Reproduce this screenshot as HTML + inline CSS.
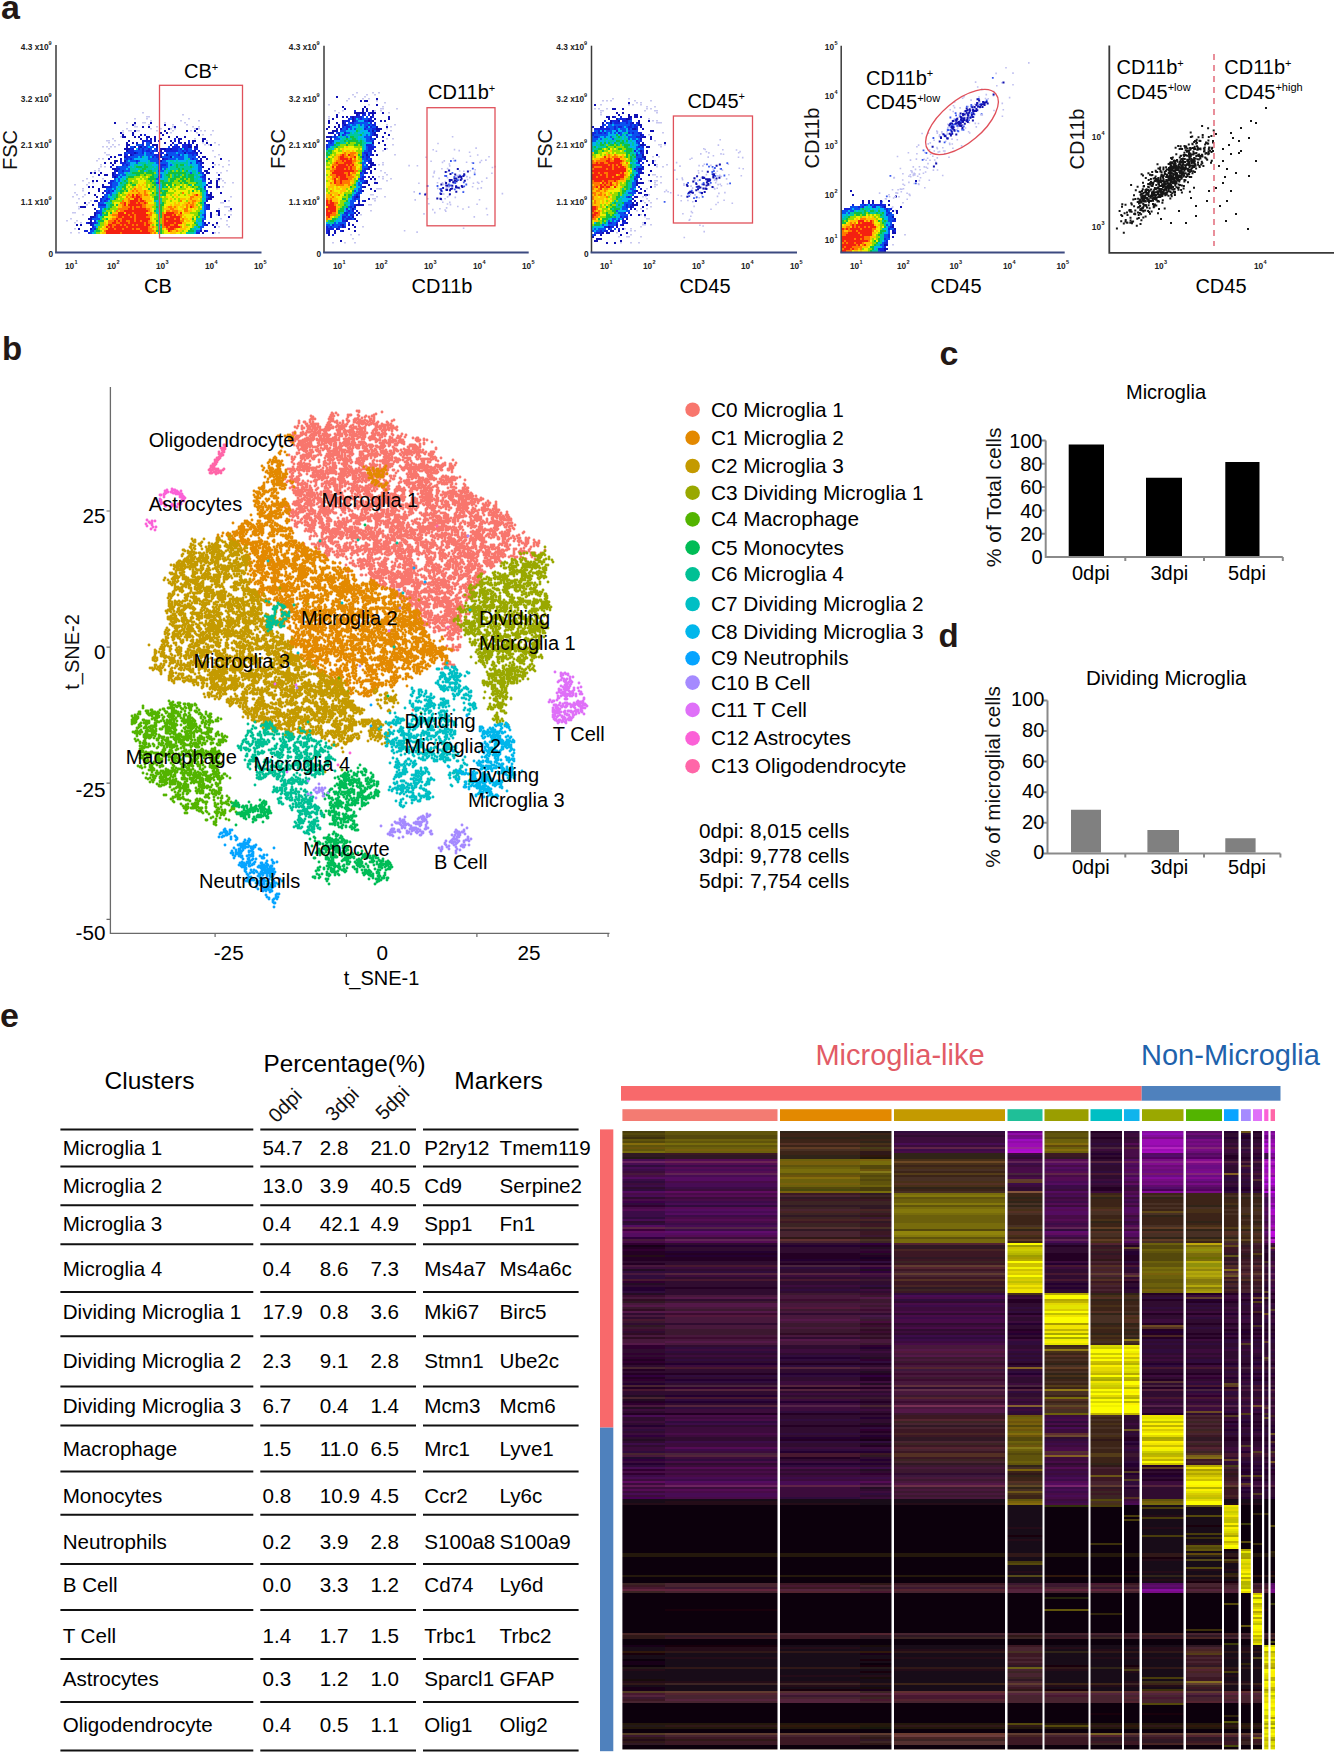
<!DOCTYPE html>
<html><head><meta charset="utf-8"><style>
html,body{margin:0;padding:0;background:#fff;}
svg{display:block;font-family:"Liberation Sans",sans-serif;}
</style></head><body>
<svg width="1334" height="1753" viewBox="0 0 1334 1753">
<rect width="1334" height="1753" fill="#fff"/>
<text x="1" y="18.5" font-size="34" font-weight="bold" fill="#231815">a</text>
<text x="2" y="360" font-size="33" font-weight="bold" fill="#231815">b</text>
<text x="939.5" y="364.8" font-size="34" font-weight="bold" fill="#231815">c</text>
<text x="938.5" y="646.8" font-size="33" font-weight="bold" fill="#231815">d</text>
<text x="0" y="1027" font-size="34" font-weight="bold" fill="#231815">e</text>
<path fill="#c8c8f0" d="M142 112h2v1.6h-2zM182 114h2v1.6h-2zM146 116h4v1.6h-4zM134 118h2v1.6h-2zM146 118h2v1.6h-2zM188 118h2v1.6h-2zM150 120h2v1.6h-2zM180 120h2v1.6h-2zM198 120h2v1.6h-2zM126 122h2v1.6h-2zM142 122h4v1.6h-4zM164 122h2v1.6h-2zM184 122h2v1.6h-2zM134 124h2v1.6h-2zM148 124h2v1.6h-2zM172 124h2v1.6h-2zM186 124h2v1.6h-2zM134 126h4v1.6h-4zM156 126h2v1.6h-2zM172 126h2v1.6h-2zM192 126h2v1.6h-2zM198 126h2v1.6h-2zM126 128h2v1.6h-2zM150 128h2v1.6h-2zM160 128h2v1.6h-2zM170 128h2v1.6h-2zM174 128h2v1.6h-2zM194 128h2v1.6h-2zM198 128h2v1.6h-2zM122 130h2v1.6h-2zM128 130h4v1.6h-4zM136 130h4v1.6h-4zM156 130h2v1.6h-2zM172 130h2v1.6h-2zM190 130h2v1.6h-2zM200 130h2v1.6h-2zM204 130h2v1.6h-2zM212 130h2v1.6h-2zM122 132h2v1.6h-2zM170 132h2v1.6h-2zM196 132h2v1.6h-2zM202 134h2v1.6h-2zM210 134h2v1.6h-2zM120 136h2v1.6h-2zM112 138h2v1.6h-2zM194 138h2v1.6h-2zM106 140h4v1.6h-4zM114 140h2v1.6h-2zM206 140h2v1.6h-2zM108 142h2v1.6h-2zM202 142h2v1.6h-2zM214 142h2v1.6h-2zM112 144h2v1.6h-2zM118 144h2v1.6h-2zM204 144h2v1.6h-2zM208 144h2v1.6h-2zM218 144h2v1.6h-2zM102 146h2v1.6h-2zM106 146h2v1.6h-2zM110 146h2v1.6h-2zM114 146h2v1.6h-2zM108 148h2v1.6h-2zM212 150h2v1.6h-2zM104 152h2v1.6h-2zM106 154h4v1.6h-4zM218 154h2v1.6h-2zM214 156h2v1.6h-2zM98 158h2v1.6h-2zM102 158h2v1.6h-2zM96 160h2v1.6h-2zM228 160h2v1.6h-2zM100 164h2v1.6h-2zM214 164h2v1.6h-2zM218 164h2v1.6h-2zM228 164h2v1.6h-2zM100 166h2v1.6h-2zM104 166h2v1.6h-2zM222 166h2v1.6h-2zM98 168h2v1.6h-2zM94 170h2v1.6h-2zM98 170h2v1.6h-2zM226 170h2v1.6h-2zM92 172h2v1.6h-2zM216 172h2v1.6h-2zM220 172h2v1.6h-2zM92 176h2v1.6h-2zM86 178h2v1.6h-2zM102 178h2v1.6h-2zM216 178h2v1.6h-2zM220 178h2v1.6h-2zM82 180h2v1.6h-2zM218 180h2v1.6h-2zM222 180h2v1.6h-2zM88 182h2v1.6h-2zM92 182h2v1.6h-2zM224 182h2v1.6h-2zM232 182h2v1.6h-2zM74 184h2v1.6h-2zM86 184h2v1.6h-2zM222 186h2v1.6h-2zM82 188h2v1.6h-2zM216 188h2v1.6h-2zM82 190h2v1.6h-2zM74 192h2v1.6h-2zM76 194h2v1.6h-2zM84 194h2v1.6h-2zM72 196h2v1.6h-2zM82 196h2v1.6h-2zM230 196h2v1.6h-2zM78 198h2v1.6h-2zM90 200h2v1.6h-2zM228 200h2v1.6h-2zM76 202h2v1.6h-2zM88 202h2v1.6h-2zM220 202h4v1.6h-4zM86 204h2v1.6h-2zM78 206h2v1.6h-2zM224 206h6v1.6h-6zM78 208h2v1.6h-2zM218 208h2v1.6h-2zM228 210h4v1.6h-4zM72 212h4v1.6h-4zM82 214h2v1.6h-2zM216 214h2v1.6h-2zM224 214h2v1.6h-2zM230 214h2v1.6h-2zM70 218h2v1.6h-2zM220 218h2v1.6h-2zM66 220h2v1.6h-2zM76 220h2v1.6h-2zM226 220h2v1.6h-2zM74 222h2v1.6h-2zM80 222h2v1.6h-2zM216 224h2v1.6h-2zM226 224h2v1.6h-2zM218 226h2v1.6h-2zM228 226h2v1.6h-2zM74 228h2v1.6h-2zM70 232h2v1.6h-2zM78 232h2v1.6h-2zM214 232h2v1.6h-2zM218 232h2v1.6h-2z"/>
<path fill="#1010b4" d="M114 122h2v2h-2zM134 122h2v2h-2zM150 122h2v2h-2zM132 124h2v2h-2zM164 124h2v2h-2zM142 126h2v2h-2zM148 126h2v2h-2zM174 126h2v2h-2zM168 128h2v2h-2zM196 128h2v2h-2zM134 130h2v2h-2zM164 130h2v2h-2zM186 130h2v2h-2zM194 130h2v2h-2zM120 132h2v2h-2zM132 132h2v2h-2zM160 132h2v2h-2zM166 132h2v2h-2zM122 134h2v2h-2zM132 134h2v2h-2zM140 134h2v2h-2zM162 134h2v2h-2zM198 134h2v2h-2zM122 136h4v2h-4zM134 136h2v2h-2zM138 136h2v2h-2zM146 136h4v2h-4zM154 136h2v2h-2zM168 136h2v2h-2zM176 136h2v2h-2zM184 136h2v2h-2zM140 138h2v2h-2zM150 138h2v2h-2zM154 138h2v2h-2zM160 138h2v2h-2zM178 138h4v2h-4zM202 138h4v2h-4zM128 140h2v2h-2zM154 140h2v2h-2zM170 140h2v2h-2zM178 140h2v2h-2zM192 140h4v2h-4zM202 140h2v2h-2zM126 142h2v2h-2zM132 142h2v2h-2zM136 142h2v2h-2zM150 142h2v2h-2zM164 142h2v2h-2zM172 142h2v2h-2zM180 142h2v2h-2zM184 142h2v2h-2zM192 142h2v2h-2zM206 142h2v2h-2zM126 144h4v2h-4zM152 144h6v2h-6zM170 144h2v2h-2zM188 144h2v2h-2zM196 144h2v2h-2zM210 144h2v2h-2zM126 146h2v2h-2zM134 146h2v2h-2zM140 146h2v2h-2zM156 146h2v2h-2zM188 146h4v2h-4zM194 146h4v2h-4zM124 148h6v2h-6zM160 148h6v2h-6zM170 148h2v2h-2zM126 150h2v2h-2zM160 150h2v2h-2zM194 150h2v2h-2zM134 152h2v2h-2zM158 152h2v2h-2zM184 152h2v2h-2zM196 152h2v2h-2zM200 152h2v2h-2zM120 154h2v2h-2zM130 154h2v2h-2zM158 154h4v2h-4zM166 154h2v2h-2zM110 156h2v2h-2zM114 156h2v2h-2zM124 156h2v2h-2zM158 156h4v2h-4zM170 156h2v2h-2zM198 156h2v2h-2zM202 156h4v2h-4zM108 158h2v2h-2zM120 158h2v2h-2zM158 158h2v2h-2zM162 158h2v2h-2zM200 158h2v2h-2zM206 158h2v2h-2zM220 158h2v2h-2zM114 160h4v2h-4zM124 160h2v2h-2zM160 160h2v2h-2zM198 160h4v2h-4zM104 162h2v2h-2zM110 162h2v2h-2zM114 162h2v2h-2zM202 162h2v2h-2zM212 162h2v2h-2zM112 164h2v2h-2zM202 166h2v2h-2zM212 166h2v2h-2zM112 168h4v2h-4zM208 168h2v2h-2zM116 170h2v2h-2zM204 170h4v2h-4zM90 172h2v2h-2zM94 172h2v2h-2zM100 172h2v2h-2zM112 172h2v2h-2zM206 172h4v2h-4zM98 174h2v2h-2zM104 174h4v2h-4zM112 174h2v2h-2zM204 174h2v2h-2zM218 174h2v2h-2zM114 176h2v2h-2zM208 178h2v2h-2zM218 178h2v2h-2zM92 180h2v2h-2zM96 180h2v2h-2zM104 180h2v2h-2zM210 180h2v2h-2zM216 180h2v2h-2zM208 182h4v2h-4zM216 182h2v2h-2zM102 184h2v2h-2zM206 184h2v2h-2zM216 184h2v2h-2zM88 186h2v2h-2zM92 186h2v2h-2zM102 186h4v2h-4zM208 186h4v2h-4zM216 186h4v2h-4zM98 188h2v2h-2zM98 190h2v2h-2zM88 192h2v2h-2zM102 192h2v2h-2zM210 192h2v2h-2zM220 192h2v2h-2zM94 194h2v2h-2zM208 194h4v2h-4zM96 196h2v2h-2zM102 196h2v2h-2zM210 196h4v2h-4zM208 198h4v2h-4zM96 200h2v2h-2zM206 200h2v2h-2zM224 200h2v2h-2zM84 202h2v2h-2zM92 204h2v2h-2zM208 204h2v2h-2zM80 206h6v2h-6zM94 208h2v2h-2zM230 208h2v2h-2zM216 210h4v2h-4zM94 212h2v2h-2zM210 212h2v2h-2zM218 212h2v2h-2zM94 214h2v2h-2zM210 214h2v2h-2zM218 214h2v2h-2zM90 216h4v2h-4zM210 216h2v2h-2zM228 216h2v2h-2zM88 218h4v2h-4zM90 220h2v2h-2zM88 222h4v2h-4zM204 222h2v2h-2zM216 222h2v2h-2zM76 224h2v2h-2zM80 224h2v2h-2zM90 224h2v2h-2zM206 224h2v2h-2zM212 224h2v2h-2zM214 226h2v2h-2zM78 228h2v2h-2zM90 228h2v2h-2zM200 230h2v2h-2zM204 230h2v2h-2zM202 232h2v2h-2zM212 232h2v2h-2z"/>
<path fill="#1424dc" d="M144 134h2v2h-2zM146 138h2v2h-2zM174 138h2v2h-2zM142 140h10v2h-10zM158 140h2v2h-2zM174 140h2v2h-2zM188 140h2v2h-2zM142 142h2v2h-2zM178 142h2v2h-2zM188 142h2v2h-2zM142 144h2v2h-2zM176 144h2v2h-2zM182 144h6v2h-6zM190 144h2v2h-2zM138 146h2v2h-2zM144 146h2v2h-2zM172 146h8v2h-8zM182 146h6v2h-6zM130 148h4v2h-4zM138 148h2v2h-2zM142 148h2v2h-2zM148 148h2v2h-2zM156 148h2v2h-2zM166 148h4v2h-4zM172 148h6v2h-6zM180 148h2v2h-2zM184 148h4v2h-4zM194 148h4v2h-4zM128 150h6v2h-6zM142 150h2v2h-2zM146 150h4v2h-4zM152 150h2v2h-2zM156 150h2v2h-2zM164 150h14v2h-14zM182 150h2v2h-2zM186 150h2v2h-2zM192 150h2v2h-2zM198 150h2v2h-2zM124 152h2v2h-2zM128 152h6v2h-6zM136 152h2v2h-2zM142 152h2v2h-2zM150 152h2v2h-2zM160 152h4v2h-4zM188 152h8v2h-8zM118 154h2v2h-2zM124 154h4v2h-4zM132 154h2v2h-2zM154 154h4v2h-4zM178 154h2v2h-2zM192 154h2v2h-2zM196 154h2v2h-2zM126 156h4v2h-4zM152 156h2v2h-2zM156 156h2v2h-2zM126 158h2v2h-2zM130 158h2v2h-2zM164 158h4v2h-4zM192 158h2v2h-2zM120 160h2v2h-2zM136 160h2v2h-2zM158 160h2v2h-2zM196 160h2v2h-2zM120 162h6v2h-6zM158 162h2v2h-2zM196 162h2v2h-2zM200 162h2v2h-2zM122 164h2v2h-2zM126 164h2v2h-2zM160 164h6v2h-6zM200 164h2v2h-2zM110 166h2v2h-2zM116 166h2v2h-2zM160 166h2v2h-2zM116 168h4v2h-4zM160 168h2v2h-2zM114 170h2v2h-2zM122 170h2v2h-2zM158 170h2v2h-2zM114 172h2v2h-2zM202 172h2v2h-2zM114 174h4v2h-4zM112 176h2v2h-2zM116 176h2v2h-2zM158 176h2v2h-2zM202 176h4v2h-4zM204 178h2v2h-2zM110 180h4v2h-4zM108 182h4v2h-4zM158 182h2v2h-2zM110 184h2v2h-2zM106 186h6v2h-6zM204 186h2v2h-2zM104 190h2v2h-2zM108 190h2v2h-2zM112 190h2v2h-2zM206 190h2v2h-2zM106 192h4v2h-4zM206 194h2v2h-2zM208 196h2v2h-2zM100 198h2v2h-2zM106 198h2v2h-2zM206 198h2v2h-2zM94 200h2v2h-2zM100 200h2v2h-2zM104 200h2v2h-2zM98 202h2v2h-2zM204 202h2v2h-2zM98 204h8v2h-8zM206 204h2v2h-2zM206 206h4v2h-4zM206 208h4v2h-4zM96 210h2v2h-2zM96 212h4v2h-4zM204 214h2v2h-2zM94 216h2v2h-2zM204 216h2v2h-2zM94 220h2v2h-2zM202 220h2v2h-2zM86 222h2v2h-2zM92 222h4v2h-4zM208 222h2v2h-2zM92 224h2v2h-2zM204 224h2v2h-2zM92 226h2v2h-2zM94 228h2v2h-2zM84 230h4v2h-4zM206 230h2v2h-2zM88 232h2v2h-2zM196 232h4v2h-4z"/>
<path fill="#0a50f0" d="M146 142h4v2h-4zM136 144h6v2h-6zM146 144h4v2h-4zM174 144h2v2h-2zM130 146h4v2h-4zM142 146h2v2h-2zM146 146h2v2h-2zM150 146h4v2h-4zM168 146h2v2h-2zM140 148h2v2h-2zM144 148h4v2h-4zM150 148h2v2h-2zM154 148h2v2h-2zM178 148h2v2h-2zM188 148h4v2h-4zM134 150h8v2h-8zM144 150h2v2h-2zM150 150h2v2h-2zM154 150h2v2h-2zM178 150h4v2h-4zM184 150h2v2h-2zM188 150h4v2h-4zM126 152h2v2h-2zM138 152h4v2h-4zM146 152h4v2h-4zM152 152h2v2h-2zM166 152h10v2h-10zM178 152h6v2h-6zM186 152h2v2h-2zM134 154h10v2h-10zM146 154h8v2h-8zM164 154h2v2h-2zM168 154h10v2h-10zM182 154h2v2h-2zM188 154h4v2h-4zM194 154h2v2h-2zM130 156h8v2h-8zM140 156h2v2h-2zM148 156h2v2h-2zM154 156h2v2h-2zM162 156h8v2h-8zM174 156h10v2h-10zM188 156h8v2h-8zM124 158h2v2h-2zM128 158h2v2h-2zM132 158h2v2h-2zM148 158h10v2h-10zM168 158h8v2h-8zM178 158h6v2h-6zM190 158h2v2h-2zM194 158h4v2h-4zM126 160h2v2h-2zM130 160h6v2h-6zM138 160h2v2h-2zM150 160h8v2h-8zM162 160h4v2h-4zM126 162h4v2h-4zM136 162h2v2h-2zM156 162h2v2h-2zM160 162h8v2h-8zM190 162h2v2h-2zM198 162h2v2h-2zM124 164h2v2h-2zM128 164h2v2h-2zM158 164h2v2h-2zM166 164h2v2h-2zM170 164h2v2h-2zM198 164h2v2h-2zM118 166h10v2h-10zM158 166h2v2h-2zM162 166h6v2h-6zM198 166h4v2h-4zM120 168h6v2h-6zM128 168h2v2h-2zM158 168h2v2h-2zM164 168h2v2h-2zM198 168h4v2h-4zM118 170h4v2h-4zM124 170h6v2h-6zM160 170h4v2h-4zM198 170h4v2h-4zM118 172h6v2h-6zM158 172h2v2h-2zM190 172h2v2h-2zM200 172h2v2h-2zM118 174h2v2h-2zM122 174h4v2h-4zM158 174h4v2h-4zM202 174h2v2h-2zM120 176h2v2h-2zM160 176h2v2h-2zM200 176h2v2h-2zM114 178h2v2h-2zM118 178h2v2h-2zM156 178h4v2h-4zM202 178h2v2h-2zM114 180h2v2h-2zM118 180h2v2h-2zM158 180h2v2h-2zM202 180h4v2h-4zM112 182h6v2h-6zM156 182h2v2h-2zM112 184h6v2h-6zM112 186h4v2h-4zM106 188h6v2h-6zM114 188h2v2h-2zM204 188h2v2h-2zM106 190h2v2h-2zM110 190h2v2h-2zM110 192h2v2h-2zM206 192h2v2h-2zM104 194h4v2h-4zM110 194h2v2h-2zM104 196h4v2h-4zM206 196h2v2h-2zM102 198h4v2h-4zM108 198h2v2h-2zM102 200h2v2h-2zM106 200h2v2h-2zM100 202h4v2h-4zM204 204h2v2h-2zM98 206h8v2h-8zM204 206h2v2h-2zM100 208h2v2h-2zM204 208h2v2h-2zM98 210h4v2h-4zM204 210h2v2h-2zM100 212h2v2h-2zM204 212h2v2h-2zM96 214h2v2h-2zM100 214h2v2h-2zM202 214h2v2h-2zM96 216h2v2h-2zM92 218h8v2h-8zM202 218h4v2h-4zM96 222h2v2h-2zM202 222h2v2h-2zM202 224h2v2h-2zM94 226h2v2h-2zM200 226h4v2h-4zM92 228h2v2h-2zM200 228h2v2h-2zM90 230h4v2h-4zM196 230h4v2h-4zM90 232h2v2h-2z"/>
<path fill="#00b4f0" d="M148 146h2v2h-2zM136 148h2v2h-2zM182 148h2v2h-2zM144 152h2v2h-2zM176 152h2v2h-2zM144 154h2v2h-2zM180 154h2v2h-2zM184 154h4v2h-4zM138 156h2v2h-2zM144 156h4v2h-4zM150 156h2v2h-2zM172 156h2v2h-2zM184 156h4v2h-4zM134 158h14v2h-14zM176 158h2v2h-2zM184 158h4v2h-4zM128 160h2v2h-2zM140 160h8v2h-8zM166 160h4v2h-4zM174 160h2v2h-2zM178 160h8v2h-8zM188 160h8v2h-8zM130 162h6v2h-6zM146 162h2v2h-2zM154 162h2v2h-2zM168 162h4v2h-4zM188 162h2v2h-2zM192 162h4v2h-4zM130 164h4v2h-4zM138 164h4v2h-4zM152 164h6v2h-6zM168 164h2v2h-2zM172 164h2v2h-2zM184 164h2v2h-2zM188 164h2v2h-2zM192 164h6v2h-6zM128 166h2v2h-2zM132 166h2v2h-2zM154 166h2v2h-2zM168 166h2v2h-2zM194 166h4v2h-4zM126 168h2v2h-2zM136 168h2v2h-2zM152 168h2v2h-2zM162 168h2v2h-2zM168 168h2v2h-2zM192 168h6v2h-6zM144 170h2v2h-2zM156 170h2v2h-2zM166 170h2v2h-2zM188 170h4v2h-4zM196 170h2v2h-2zM124 172h2v2h-2zM128 172h2v2h-2zM156 172h2v2h-2zM160 172h4v2h-4zM166 172h2v2h-2zM196 172h2v2h-2zM120 174h2v2h-2zM162 174h2v2h-2zM198 174h4v2h-4zM118 176h2v2h-2zM122 176h4v2h-4zM162 176h2v2h-2zM194 176h2v2h-2zM116 178h2v2h-2zM120 178h2v2h-2zM124 178h2v2h-2zM160 178h4v2h-4zM198 178h4v2h-4zM116 180h2v2h-2zM120 180h2v2h-2zM156 180h2v2h-2zM118 182h2v2h-2zM202 182h4v2h-4zM118 184h2v2h-2zM158 184h4v2h-4zM202 184h4v2h-4zM116 186h2v2h-2zM158 186h4v2h-4zM202 186h2v2h-2zM112 188h2v2h-2zM118 188h2v2h-2zM114 190h2v2h-2zM112 192h4v2h-4zM204 192h2v2h-2zM108 194h2v2h-2zM204 194h2v2h-2zM110 196h2v2h-2zM204 196h2v2h-2zM112 198h2v2h-2zM202 198h2v2h-2zM108 200h2v2h-2zM156 200h2v2h-2zM204 200h2v2h-2zM104 202h2v2h-2zM106 204h2v2h-2zM106 206h2v2h-2zM202 206h2v2h-2zM102 208h2v2h-2zM202 208h2v2h-2zM200 210h4v2h-4zM158 212h2v2h-2zM202 212h2v2h-2zM98 214h2v2h-2zM200 214h2v2h-2zM98 216h2v2h-2zM200 216h4v2h-4zM96 220h2v2h-2zM196 220h2v2h-2zM198 222h4v2h-4zM94 224h2v2h-2zM198 224h4v2h-4zM96 226h2v2h-2zM194 226h2v2h-2zM196 228h4v2h-4zM92 232h2v2h-2zM158 232h2v2h-2zM194 232h2v2h-2z"/>
<path fill="#00c8a0" d="M142 156h2v2h-2zM188 158h2v2h-2zM148 160h2v2h-2zM170 160h4v2h-4zM176 160h2v2h-2zM186 160h2v2h-2zM138 162h8v2h-8zM148 162h6v2h-6zM172 162h16v2h-16zM134 164h4v2h-4zM142 164h2v2h-2zM146 164h6v2h-6zM174 164h2v2h-2zM178 164h2v2h-2zM186 164h2v2h-2zM190 164h2v2h-2zM130 166h2v2h-2zM134 166h2v2h-2zM142 166h2v2h-2zM148 166h6v2h-6zM156 166h2v2h-2zM170 166h6v2h-6zM178 166h12v2h-12zM192 166h2v2h-2zM130 168h6v2h-6zM138 168h4v2h-4zM146 168h6v2h-6zM154 168h4v2h-4zM166 168h2v2h-2zM170 168h8v2h-8zM180 168h2v2h-2zM184 168h8v2h-8zM130 170h8v2h-8zM146 170h2v2h-2zM152 170h4v2h-4zM164 170h2v2h-2zM168 170h2v2h-2zM174 170h2v2h-2zM180 170h2v2h-2zM184 170h2v2h-2zM192 170h4v2h-4zM126 172h2v2h-2zM130 172h2v2h-2zM164 172h2v2h-2zM186 172h4v2h-4zM192 172h4v2h-4zM126 174h10v2h-10zM154 174h4v2h-4zM164 174h2v2h-2zM172 174h2v2h-2zM176 174h2v2h-2zM180 174h2v2h-2zM186 174h2v2h-2zM194 174h4v2h-4zM126 176h2v2h-2zM154 176h4v2h-4zM164 176h4v2h-4zM172 176h2v2h-2zM186 176h2v2h-2zM196 176h4v2h-4zM122 178h2v2h-2zM164 178h4v2h-4zM194 178h4v2h-4zM122 180h2v2h-2zM126 180h2v2h-2zM154 180h2v2h-2zM164 180h4v2h-4zM194 180h8v2h-8zM122 182h4v2h-4zM160 182h2v2h-2zM198 182h4v2h-4zM120 184h4v2h-4zM156 184h2v2h-2zM190 184h2v2h-2zM196 184h6v2h-6zM118 186h4v2h-4zM156 186h2v2h-2zM164 186h2v2h-2zM200 186h2v2h-2zM116 188h2v2h-2zM120 188h2v2h-2zM156 188h6v2h-6zM198 188h2v2h-2zM202 188h2v2h-2zM116 190h4v2h-4zM156 190h4v2h-4zM162 190h2v2h-2zM202 190h4v2h-4zM116 192h2v2h-2zM158 192h2v2h-2zM202 192h2v2h-2zM112 194h4v2h-4zM156 194h6v2h-6zM202 194h2v2h-2zM108 196h2v2h-2zM112 196h4v2h-4zM158 196h2v2h-2zM202 196h2v2h-2zM110 198h2v2h-2zM158 198h4v2h-4zM204 198h2v2h-2zM154 200h2v2h-2zM158 200h4v2h-4zM202 200h2v2h-2zM106 202h6v2h-6zM156 202h6v2h-6zM202 202h2v2h-2zM108 204h2v2h-2zM156 204h4v2h-4zM202 204h2v2h-2zM108 206h2v2h-2zM158 206h2v2h-2zM106 208h2v2h-2zM156 208h4v2h-4zM102 210h4v2h-4zM156 210h4v2h-4zM156 212h2v2h-2zM200 212h2v2h-2zM102 214h2v2h-2zM158 214h2v2h-2zM100 216h2v2h-2zM158 216h2v2h-2zM100 218h2v2h-2zM158 218h2v2h-2zM196 218h6v2h-6zM158 220h2v2h-2zM198 220h4v2h-4zM98 222h2v2h-2zM158 222h2v2h-2zM196 222h2v2h-2zM96 224h4v2h-4zM158 224h2v2h-2zM158 226h4v2h-4zM196 226h2v2h-2zM158 228h2v2h-2zM192 228h4v2h-4zM94 230h2v2h-2zM194 230h2v2h-2zM94 232h2v2h-2zM186 232h8v2h-8z"/>
<path fill="#10c040" d="M144 164h2v2h-2zM176 164h2v2h-2zM180 164h4v2h-4zM136 166h6v2h-6zM144 166h4v2h-4zM176 166h2v2h-2zM190 166h2v2h-2zM142 168h4v2h-4zM178 168h2v2h-2zM182 168h2v2h-2zM140 170h4v2h-4zM148 170h4v2h-4zM170 170h2v2h-2zM178 170h2v2h-2zM186 170h2v2h-2zM132 172h12v2h-12zM146 172h8v2h-8zM168 172h18v2h-18zM198 172h2v2h-2zM136 174h4v2h-4zM144 174h2v2h-2zM152 174h2v2h-2zM166 174h4v2h-4zM174 174h2v2h-2zM178 174h2v2h-2zM184 174h2v2h-2zM188 174h6v2h-6zM128 176h6v2h-6zM150 176h4v2h-4zM168 176h2v2h-2zM174 176h6v2h-6zM182 176h4v2h-4zM188 176h6v2h-6zM126 178h2v2h-2zM148 178h8v2h-8zM170 178h6v2h-6zM180 178h4v2h-4zM186 178h2v2h-2zM190 178h4v2h-4zM124 180h2v2h-2zM150 180h2v2h-2zM160 180h4v2h-4zM170 180h4v2h-4zM178 180h2v2h-2zM182 180h4v2h-4zM190 180h4v2h-4zM120 182h2v2h-2zM126 182h2v2h-2zM130 182h2v2h-2zM152 182h4v2h-4zM162 182h10v2h-10zM180 182h2v2h-2zM184 182h4v2h-4zM196 182h2v2h-2zM124 184h2v2h-2zM132 184h4v2h-4zM154 184h2v2h-2zM162 184h4v2h-4zM168 184h4v2h-4zM174 184h2v2h-2zM188 184h2v2h-2zM194 184h2v2h-2zM122 186h4v2h-4zM152 186h2v2h-2zM162 186h2v2h-2zM166 186h2v2h-2zM170 186h2v2h-2zM180 186h2v2h-2zM192 186h2v2h-2zM198 186h2v2h-2zM124 188h2v2h-2zM148 188h2v2h-2zM196 188h2v2h-2zM200 188h2v2h-2zM120 190h4v2h-4zM126 190h2v2h-2zM160 190h2v2h-2zM164 190h4v2h-4zM192 190h2v2h-2zM200 190h2v2h-2zM120 192h2v2h-2zM152 192h2v2h-2zM156 192h2v2h-2zM162 192h4v2h-4zM116 194h2v2h-2zM162 194h4v2h-4zM116 196h2v2h-2zM154 196h4v2h-4zM114 198h2v2h-2zM154 198h4v2h-4zM110 200h2v2h-2zM162 202h2v2h-2zM200 202h2v2h-2zM110 204h4v2h-4zM116 204h2v2h-2zM160 204h4v2h-4zM110 206h2v2h-2zM156 206h2v2h-2zM160 206h2v2h-2zM104 208h2v2h-2zM108 208h2v2h-2zM160 208h2v2h-2zM154 210h2v2h-2zM160 210h2v2h-2zM102 212h2v2h-2zM106 212h2v2h-2zM110 212h2v2h-2zM160 212h2v2h-2zM198 212h2v2h-2zM104 214h4v2h-4zM160 214h2v2h-2zM198 214h2v2h-2zM102 216h2v2h-2zM160 216h2v2h-2zM196 216h2v2h-2zM106 218h2v2h-2zM192 218h2v2h-2zM98 220h6v2h-6zM156 220h2v2h-2zM194 222h2v2h-2zM156 224h2v2h-2zM160 224h2v2h-2zM196 224h2v2h-2zM198 226h2v2h-2zM96 228h2v2h-2zM160 228h2v2h-2zM190 228h2v2h-2zM96 230h4v2h-4zM156 230h6v2h-6zM188 230h6v2h-6zM160 232h2v2h-2z"/>
<path fill="#90dc00" d="M138 170h2v2h-2zM172 170h2v2h-2zM176 170h2v2h-2zM182 170h2v2h-2zM144 172h2v2h-2zM154 172h2v2h-2zM140 174h4v2h-4zM146 174h6v2h-6zM170 174h2v2h-2zM182 174h2v2h-2zM134 176h6v2h-6zM142 176h4v2h-4zM148 176h2v2h-2zM170 176h2v2h-2zM180 176h2v2h-2zM128 178h8v2h-8zM140 178h2v2h-2zM144 178h4v2h-4zM168 178h2v2h-2zM176 178h4v2h-4zM184 178h2v2h-2zM188 178h2v2h-2zM128 180h4v2h-4zM134 180h4v2h-4zM146 180h4v2h-4zM152 180h2v2h-2zM168 180h2v2h-2zM174 180h4v2h-4zM180 180h2v2h-2zM186 180h4v2h-4zM128 182h2v2h-2zM132 182h6v2h-6zM146 182h6v2h-6zM172 182h8v2h-8zM182 182h2v2h-2zM188 182h8v2h-8zM126 184h2v2h-2zM130 184h2v2h-2zM146 184h2v2h-2zM150 184h4v2h-4zM176 184h4v2h-4zM182 184h2v2h-2zM186 184h2v2h-2zM128 186h2v2h-2zM132 186h2v2h-2zM146 186h2v2h-2zM150 186h2v2h-2zM154 186h2v2h-2zM172 186h4v2h-4zM182 186h2v2h-2zM186 186h2v2h-2zM190 186h2v2h-2zM194 186h4v2h-4zM122 188h2v2h-2zM126 188h2v2h-2zM130 188h2v2h-2zM150 188h6v2h-6zM162 188h8v2h-8zM172 188h2v2h-2zM178 188h8v2h-8zM194 188h2v2h-2zM124 190h2v2h-2zM150 190h2v2h-2zM154 190h2v2h-2zM174 190h2v2h-2zM188 190h2v2h-2zM196 190h2v2h-2zM118 192h2v2h-2zM122 192h2v2h-2zM154 192h2v2h-2zM160 192h2v2h-2zM166 192h8v2h-8zM180 192h2v2h-2zM188 192h2v2h-2zM200 192h2v2h-2zM118 194h2v2h-2zM122 194h4v2h-4zM150 194h6v2h-6zM170 194h2v2h-2zM178 194h2v2h-2zM184 194h2v2h-2zM200 194h2v2h-2zM118 196h4v2h-4zM152 196h2v2h-2zM160 196h2v2h-2zM164 196h2v2h-2zM172 196h2v2h-2zM116 198h2v2h-2zM120 198h4v2h-4zM162 198h6v2h-6zM174 198h2v2h-2zM178 198h2v2h-2zM200 198h2v2h-2zM112 200h10v2h-10zM162 200h4v2h-4zM170 200h2v2h-2zM178 200h2v2h-2zM186 200h2v2h-2zM200 200h2v2h-2zM112 202h2v2h-2zM154 202h2v2h-2zM164 202h2v2h-2zM198 202h2v2h-2zM154 204h2v2h-2zM196 204h2v2h-2zM200 204h2v2h-2zM112 206h4v2h-4zM152 206h4v2h-4zM162 206h2v2h-2zM198 206h2v2h-2zM110 208h8v2h-8zM154 208h2v2h-2zM162 208h2v2h-2zM198 208h4v2h-4zM106 210h6v2h-6zM114 210h2v2h-2zM162 210h2v2h-2zM196 210h4v2h-4zM104 212h2v2h-2zM154 212h2v2h-2zM190 212h8v2h-8zM156 214h2v2h-2zM194 214h4v2h-4zM156 216h2v2h-2zM192 216h2v2h-2zM198 216h2v2h-2zM102 218h4v2h-4zM154 218h4v2h-4zM160 218h2v2h-2zM160 220h2v2h-2zM192 220h4v2h-4zM100 222h4v2h-4zM156 222h2v2h-2zM160 222h2v2h-2zM100 224h4v2h-4zM152 224h2v2h-2zM186 224h4v2h-4zM192 224h4v2h-4zM98 226h4v2h-4zM156 226h2v2h-2zM192 226h2v2h-2zM98 228h2v2h-2zM156 228h2v2h-2zM100 230h2v2h-2zM162 230h2v2h-2zM182 230h2v2h-2zM96 232h4v2h-4zM162 232h2v2h-2zM180 232h2v2h-2z"/>
<path fill="#f0f000" d="M140 176h2v2h-2zM146 176h2v2h-2zM136 178h4v2h-4zM142 178h2v2h-2zM132 180h2v2h-2zM138 180h8v2h-8zM138 182h6v2h-6zM128 184h2v2h-2zM136 184h2v2h-2zM140 184h2v2h-2zM144 184h2v2h-2zM148 184h2v2h-2zM166 184h2v2h-2zM172 184h2v2h-2zM180 184h2v2h-2zM184 184h2v2h-2zM192 184h2v2h-2zM126 186h2v2h-2zM130 186h2v2h-2zM136 186h2v2h-2zM142 186h2v2h-2zM148 186h2v2h-2zM168 186h2v2h-2zM176 186h4v2h-4zM184 186h2v2h-2zM188 186h2v2h-2zM128 188h2v2h-2zM142 188h6v2h-6zM170 188h2v2h-2zM174 188h4v2h-4zM186 188h8v2h-8zM128 190h2v2h-2zM152 190h2v2h-2zM168 190h6v2h-6zM176 190h12v2h-12zM190 190h2v2h-2zM194 190h2v2h-2zM198 190h2v2h-2zM124 192h4v2h-4zM148 192h4v2h-4zM174 192h6v2h-6zM184 192h4v2h-4zM190 192h2v2h-2zM194 192h6v2h-6zM120 194h2v2h-2zM166 194h4v2h-4zM172 194h2v2h-2zM176 194h2v2h-2zM180 194h4v2h-4zM186 194h2v2h-2zM190 194h2v2h-2zM122 196h4v2h-4zM150 196h2v2h-2zM162 196h2v2h-2zM168 196h4v2h-4zM174 196h2v2h-2zM178 196h12v2h-12zM118 198h2v2h-2zM150 198h4v2h-4zM168 198h2v2h-2zM172 198h2v2h-2zM176 198h2v2h-2zM186 198h2v2h-2zM198 198h2v2h-2zM152 200h2v2h-2zM166 200h4v2h-4zM172 200h6v2h-6zM182 200h4v2h-4zM114 202h6v2h-6zM148 202h6v2h-6zM166 202h8v2h-8zM176 202h2v2h-2zM180 202h4v2h-4zM196 202h2v2h-2zM114 204h2v2h-2zM164 204h6v2h-6zM172 204h2v2h-2zM180 204h2v2h-2zM198 204h2v2h-2zM116 206h2v2h-2zM164 206h2v2h-2zM178 206h2v2h-2zM184 206h2v2h-2zM200 206h2v2h-2zM152 208h2v2h-2zM178 208h4v2h-4zM188 208h2v2h-2zM192 208h2v2h-2zM196 208h2v2h-2zM112 210h2v2h-2zM152 210h2v2h-2zM164 210h2v2h-2zM182 210h2v2h-2zM192 210h4v2h-4zM108 212h2v2h-2zM182 212h2v2h-2zM108 214h2v2h-2zM152 214h4v2h-4zM184 214h10v2h-10zM104 216h8v2h-8zM152 216h4v2h-4zM182 216h2v2h-2zM186 216h6v2h-6zM194 216h2v2h-2zM108 218h2v2h-2zM152 218h2v2h-2zM188 218h2v2h-2zM194 218h2v2h-2zM104 220h4v2h-4zM152 220h4v2h-4zM184 220h2v2h-2zM190 220h2v2h-2zM106 222h2v2h-2zM154 222h2v2h-2zM186 222h8v2h-8zM154 224h2v2h-2zM182 224h2v2h-2zM190 224h2v2h-2zM102 226h2v2h-2zM182 226h2v2h-2zM188 226h4v2h-4zM100 228h2v2h-2zM154 228h2v2h-2zM164 228h2v2h-2zM178 228h2v2h-2zM186 228h4v2h-4zM102 230h2v2h-2zM164 230h4v2h-4zM184 230h4v2h-4zM100 232h2v2h-2zM156 232h2v2h-2zM164 232h6v2h-6zM176 232h4v2h-4zM182 232h4v2h-4z"/>
<path fill="#ffc000" d="M144 182h2v2h-2zM138 184h2v2h-2zM142 184h2v2h-2zM134 186h2v2h-2zM138 186h4v2h-4zM144 186h2v2h-2zM132 188h2v2h-2zM136 188h6v2h-6zM130 190h2v2h-2zM134 190h2v2h-2zM138 190h6v2h-6zM146 190h4v2h-4zM128 192h10v2h-10zM140 192h4v2h-4zM146 192h2v2h-2zM192 192h2v2h-2zM126 194h2v2h-2zM130 194h2v2h-2zM134 194h2v2h-2zM142 194h2v2h-2zM148 194h2v2h-2zM174 194h2v2h-2zM188 194h2v2h-2zM192 194h2v2h-2zM198 194h2v2h-2zM128 196h2v2h-2zM142 196h8v2h-8zM166 196h2v2h-2zM176 196h2v2h-2zM194 196h8v2h-8zM124 198h4v2h-4zM130 198h4v2h-4zM142 198h8v2h-8zM170 198h2v2h-2zM180 198h6v2h-6zM188 198h2v2h-2zM192 198h6v2h-6zM124 200h4v2h-4zM146 200h6v2h-6zM188 200h4v2h-4zM196 200h4v2h-4zM126 202h2v2h-2zM174 202h2v2h-2zM178 202h2v2h-2zM184 202h4v2h-4zM190 202h2v2h-2zM194 202h2v2h-2zM118 204h4v2h-4zM126 204h2v2h-2zM146 204h8v2h-8zM170 204h2v2h-2zM174 204h6v2h-6zM182 204h4v2h-4zM188 204h2v2h-2zM194 204h2v2h-2zM118 206h4v2h-4zM146 206h6v2h-6zM166 206h2v2h-2zM172 206h2v2h-2zM176 206h2v2h-2zM180 206h4v2h-4zM188 206h2v2h-2zM194 206h4v2h-4zM150 208h2v2h-2zM164 208h6v2h-6zM174 208h4v2h-4zM182 208h2v2h-2zM190 208h2v2h-2zM194 208h2v2h-2zM118 210h2v2h-2zM150 210h2v2h-2zM170 210h2v2h-2zM178 210h4v2h-4zM188 210h4v2h-4zM112 212h6v2h-6zM124 212h2v2h-2zM146 212h4v2h-4zM152 212h2v2h-2zM164 212h2v2h-2zM178 212h2v2h-2zM184 212h6v2h-6zM110 214h2v2h-2zM176 214h2v2h-2zM182 214h2v2h-2zM112 216h4v2h-4zM150 216h2v2h-2zM184 216h2v2h-2zM110 218h2v2h-2zM150 218h2v2h-2zM180 218h2v2h-2zM184 218h4v2h-4zM190 218h2v2h-2zM150 220h2v2h-2zM186 220h4v2h-4zM104 222h2v2h-2zM152 222h2v2h-2zM182 222h4v2h-4zM104 224h4v2h-4zM150 224h2v2h-2zM178 224h4v2h-4zM184 224h2v2h-2zM104 226h2v2h-2zM150 226h2v2h-2zM154 226h2v2h-2zM184 226h4v2h-4zM102 228h6v2h-6zM152 228h2v2h-2zM162 228h2v2h-2zM176 228h2v2h-2zM180 228h6v2h-6zM154 230h2v2h-2zM172 230h4v2h-4zM178 230h4v2h-4zM102 232h4v2h-4zM152 232h2v2h-2zM170 232h6v2h-6z"/>
<path fill="#ff7800" d="M134 188h2v2h-2zM132 190h2v2h-2zM136 190h2v2h-2zM144 190h2v2h-2zM138 192h2v2h-2zM144 192h2v2h-2zM182 192h2v2h-2zM128 194h2v2h-2zM138 194h4v2h-4zM144 194h4v2h-4zM194 194h2v2h-2zM126 196h2v2h-2zM130 196h2v2h-2zM134 196h2v2h-2zM140 196h2v2h-2zM190 196h4v2h-4zM128 198h2v2h-2zM138 198h2v2h-2zM190 198h2v2h-2zM122 200h2v2h-2zM128 200h2v2h-2zM138 200h2v2h-2zM144 200h2v2h-2zM180 200h2v2h-2zM192 200h4v2h-4zM120 202h4v2h-4zM128 202h2v2h-2zM136 202h2v2h-2zM140 202h4v2h-4zM146 202h2v2h-2zM188 202h2v2h-2zM192 202h2v2h-2zM122 204h2v2h-2zM142 204h4v2h-4zM186 204h2v2h-2zM190 204h4v2h-4zM122 206h8v2h-8zM132 206h2v2h-2zM136 206h4v2h-4zM142 206h4v2h-4zM168 206h4v2h-4zM174 206h2v2h-2zM186 206h2v2h-2zM192 206h2v2h-2zM118 208h10v2h-10zM132 208h2v2h-2zM146 208h4v2h-4zM170 208h4v2h-4zM184 208h4v2h-4zM116 210h2v2h-2zM120 210h4v2h-4zM148 210h2v2h-2zM166 210h4v2h-4zM172 210h6v2h-6zM184 210h4v2h-4zM132 212h2v2h-2zM150 212h2v2h-2zM162 212h2v2h-2zM174 212h4v2h-4zM112 214h6v2h-6zM128 214h2v2h-2zM134 214h2v2h-2zM148 214h4v2h-4zM162 214h2v2h-2zM172 214h2v2h-2zM178 214h4v2h-4zM116 216h2v2h-2zM122 216h2v2h-2zM130 216h2v2h-2zM134 216h2v2h-2zM146 216h4v2h-4zM162 216h2v2h-2zM166 216h4v2h-4zM180 216h2v2h-2zM112 218h4v2h-4zM118 218h4v2h-4zM134 218h2v2h-2zM162 218h2v2h-2zM174 218h2v2h-2zM182 218h2v2h-2zM108 220h6v2h-6zM116 220h2v2h-2zM120 220h2v2h-2zM126 220h4v2h-4zM134 220h2v2h-2zM140 220h2v2h-2zM148 220h2v2h-2zM162 220h2v2h-2zM166 220h2v2h-2zM180 220h4v2h-4zM108 222h4v2h-4zM116 222h4v2h-4zM128 222h2v2h-2zM144 222h2v2h-2zM148 222h4v2h-4zM162 222h2v2h-2zM174 222h2v2h-2zM112 224h4v2h-4zM120 224h2v2h-2zM124 224h2v2h-2zM132 224h2v2h-2zM136 224h2v2h-2zM144 224h2v2h-2zM162 224h2v2h-2zM170 224h4v2h-4zM108 226h2v2h-2zM112 226h2v2h-2zM126 226h2v2h-2zM148 226h2v2h-2zM152 226h2v2h-2zM162 226h4v2h-4zM168 226h2v2h-2zM180 226h2v2h-2zM114 228h2v2h-2zM122 228h2v2h-2zM132 228h2v2h-2zM136 228h4v2h-4zM148 228h4v2h-4zM166 228h2v2h-2zM174 228h2v2h-2zM104 230h2v2h-2zM140 230h2v2h-2zM148 230h6v2h-6zM170 230h2v2h-2zM176 230h2v2h-2zM120 232h2v2h-2zM150 232h2v2h-2zM154 232h2v2h-2z"/>
<path fill="#f42010" d="M132 194h2v2h-2zM136 194h2v2h-2zM196 194h2v2h-2zM132 196h2v2h-2zM136 196h4v2h-4zM134 198h4v2h-4zM140 198h2v2h-2zM130 200h8v2h-8zM140 200h4v2h-4zM124 202h2v2h-2zM130 202h6v2h-6zM138 202h2v2h-2zM144 202h2v2h-2zM124 204h2v2h-2zM128 204h14v2h-14zM130 206h2v2h-2zM134 206h2v2h-2zM140 206h2v2h-2zM190 206h2v2h-2zM128 208h4v2h-4zM134 208h12v2h-12zM124 210h24v2h-24zM118 212h6v2h-6zM126 212h6v2h-6zM134 212h12v2h-12zM166 212h8v2h-8zM180 212h2v2h-2zM118 214h10v2h-10zM130 214h4v2h-4zM136 214h12v2h-12zM164 214h8v2h-8zM174 214h2v2h-2zM118 216h4v2h-4zM124 216h6v2h-6zM132 216h2v2h-2zM136 216h10v2h-10zM164 216h2v2h-2zM170 216h10v2h-10zM116 218h2v2h-2zM122 218h12v2h-12zM136 218h14v2h-14zM164 218h10v2h-10zM176 218h4v2h-4zM114 220h2v2h-2zM118 220h2v2h-2zM122 220h4v2h-4zM130 220h4v2h-4zM136 220h4v2h-4zM142 220h6v2h-6zM164 220h2v2h-2zM168 220h12v2h-12zM112 222h4v2h-4zM120 222h8v2h-8zM130 222h14v2h-14zM146 222h2v2h-2zM164 222h10v2h-10zM176 222h6v2h-6zM108 224h4v2h-4zM116 224h4v2h-4zM122 224h2v2h-2zM126 224h6v2h-6zM134 224h2v2h-2zM138 224h6v2h-6zM146 224h4v2h-4zM164 224h6v2h-6zM174 224h4v2h-4zM106 226h2v2h-2zM110 226h2v2h-2zM114 226h12v2h-12zM128 226h20v2h-20zM166 226h2v2h-2zM170 226h10v2h-10zM108 228h6v2h-6zM116 228h6v2h-6zM124 228h8v2h-8zM134 228h2v2h-2zM140 228h8v2h-8zM168 228h6v2h-6zM106 230h34v2h-34zM142 230h6v2h-6zM168 230h2v2h-2zM106 232h14v2h-14zM122 232h28v2h-28z"/>
<path d="M56 45V252.5" stroke="#3a3a3a" stroke-width="1.5" fill="none"/>
<path d="M55.1 252.5H261.5" stroke="#3c4a80" stroke-width="1.8" fill="none"/>
<rect x="159.5" y="85.3" width="83" height="152.6" fill="none" stroke="#e0505a" stroke-width="1.3"/>
<text x="48.5" y="49.6" font-size="8.3" text-anchor="end" font-weight="bold" fill="#222">4.3 x10</text>
<text x="48.5" y="44.6" font-size="5.5" font-weight="bold" fill="#222">9</text>
<text x="48.5" y="101.6" font-size="8.3" text-anchor="end" font-weight="bold" fill="#222">3.2 x10</text>
<text x="48.5" y="96.6" font-size="5.5" font-weight="bold" fill="#222">9</text>
<text x="48.5" y="148" font-size="8.3" text-anchor="end" font-weight="bold" fill="#222">2.1 x10</text>
<text x="48.5" y="143" font-size="5.5" font-weight="bold" fill="#222">9</text>
<text x="48.5" y="205" font-size="8.3" text-anchor="end" font-weight="bold" fill="#222">1.1 x10</text>
<text x="48.5" y="200" font-size="5.5" font-weight="bold" fill="#222">9</text>
<text x="53" y="257" font-size="8.3" text-anchor="end" font-weight="bold" fill="#222">0</text>
<text x="69.5" y="268.5" font-size="8.3" text-anchor="middle" font-weight="bold" fill="#222">10</text>
<text x="74.4" y="263.5" font-size="5.5" font-weight="bold" fill="#222">1</text>
<text x="111.5" y="268.5" font-size="8.3" text-anchor="middle" font-weight="bold" fill="#222">10</text>
<text x="116.4" y="263.5" font-size="5.5" font-weight="bold" fill="#222">2</text>
<text x="160.5" y="268.5" font-size="8.3" text-anchor="middle" font-weight="bold" fill="#222">10</text>
<text x="165.4" y="263.5" font-size="5.5" font-weight="bold" fill="#222">3</text>
<text x="209.5" y="268.5" font-size="8.3" text-anchor="middle" font-weight="bold" fill="#222">10</text>
<text x="214.4" y="263.5" font-size="5.5" font-weight="bold" fill="#222">4</text>
<text x="258.5" y="268.5" font-size="8.3" text-anchor="middle" font-weight="bold" fill="#222">10</text>
<text x="263.4" y="263.5" font-size="5.5" font-weight="bold" fill="#222">5</text>
<text x="158" y="293" font-size="20" text-anchor="middle">CB</text>
<text x="184" y="78" font-size="20">CB<tspan dy="-7.5" font-size="11">+</tspan></text>
<text transform="translate(17,150) rotate(-90)" font-size="20" text-anchor="middle" fill="#111">FSC</text>
<path fill="#c8c8f0" d="M356 92h2v1.6h-2zM372 92h2v1.6h-2zM378 92h2v1.6h-2zM352 94h2v1.6h-2zM366 94h2v1.6h-2zM374 94h2v1.6h-2zM354 96h2v1.6h-2zM364 96h2v1.6h-2zM348 98h2v1.6h-2zM362 98h2v1.6h-2zM368 98h2v1.6h-2zM346 100h2v1.6h-2zM376 100h2v1.6h-2zM384 102h2v1.6h-2zM328 104h2v1.6h-2zM368 104h2v1.6h-2zM382 106h2v1.6h-2zM380 108h4v1.6h-4zM396 108h2v1.6h-2zM334 110h2v1.6h-2zM342 110h2v1.6h-2zM374 110h2v1.6h-2zM380 110h2v1.6h-2zM338 112h2v1.6h-2zM388 112h2v1.6h-2zM328 116h2v1.6h-2zM328 118h2v1.6h-2zM386 124h2v1.6h-2zM394 124h2v1.6h-2zM390 126h2v1.6h-2zM386 128h2v1.6h-2zM390 130h2v1.6h-2zM386 138h2v1.6h-2zM392 138h2v1.6h-2zM392 144h2v1.6h-2zM386 148h2v1.6h-2zM382 150h2v1.6h-2zM394 154h2v1.6h-2zM382 162h2v1.6h-2zM378 164h2v1.6h-2zM382 164h2v1.6h-2zM380 170h2v1.6h-2zM384 172h2v1.6h-2zM386 174h2v1.6h-2zM378 176h2v1.6h-2zM382 176h2v1.6h-2zM382 178h2v1.6h-2zM390 178h2v1.6h-2zM374 180h2v1.6h-2zM386 180h2v1.6h-2zM376 188h6v1.6h-6zM370 194h4v1.6h-4zM376 196h2v1.6h-2zM384 196h2v1.6h-2zM372 198h4v1.6h-4zM374 200h2v1.6h-2zM368 204h4v1.6h-4zM370 210h2v1.6h-2zM360 214h2v1.6h-2zM362 226h2v1.6h-2zM350 234h2v1.6h-2zM358 234h2v1.6h-2zM352 238h2v1.6h-2zM332 242h2v1.6h-2zM344 242h2v1.6h-2zM354 242h2v1.6h-2z"/>
<path fill="#1010b4" d="M336 96h2v2h-2zM376 98h2v2h-2zM360 100h2v2h-2zM364 100h4v2h-4zM376 104h2v2h-2zM342 106h2v2h-2zM364 106h2v2h-2zM344 108h2v2h-2zM362 108h2v2h-2zM366 108h2v2h-2zM362 110h2v2h-2zM366 110h2v2h-2zM372 110h2v2h-2zM354 112h10v2h-10zM370 112h6v2h-6zM382 112h2v2h-2zM336 114h2v2h-2zM356 114h2v2h-2zM372 114h2v2h-2zM336 116h2v2h-2zM342 116h2v2h-2zM346 116h2v2h-2zM352 116h2v2h-2zM370 116h2v2h-2zM388 116h2v2h-2zM332 118h2v2h-2zM352 118h2v2h-2zM374 118h2v2h-2zM388 118h2v2h-2zM328 120h2v2h-2zM342 120h2v2h-2zM352 120h2v2h-2zM368 120h2v2h-2zM372 120h2v2h-2zM380 120h2v2h-2zM384 120h2v2h-2zM328 122h2v2h-2zM336 122h2v2h-2zM342 122h2v2h-2zM338 124h2v2h-2zM344 124h2v2h-2zM328 126h2v2h-2zM334 126h2v2h-2zM338 126h2v2h-2zM376 126h2v2h-2zM386 126h2v2h-2zM326 128h2v2h-2zM336 128h2v2h-2zM340 128h2v2h-2zM376 128h6v2h-6zM332 130h6v2h-6zM372 130h2v2h-2zM376 130h4v2h-4zM328 132h6v2h-6zM374 132h2v2h-2zM384 132h2v2h-2zM338 134h2v2h-2zM374 134h4v2h-4zM388 134h2v2h-2zM326 136h6v2h-6zM376 136h2v2h-2zM382 136h2v2h-2zM330 138h2v2h-2zM374 138h2v2h-2zM326 140h2v2h-2zM382 140h2v2h-2zM372 142h2v2h-2zM378 142h2v2h-2zM384 144h2v2h-2zM384 148h2v2h-2zM374 150h2v2h-2zM366 154h2v2h-2zM372 154h2v2h-2zM376 154h2v2h-2zM370 160h2v2h-2zM370 162h4v2h-4zM370 164h6v2h-6zM368 166h4v2h-4zM368 168h2v2h-2zM374 168h2v2h-2zM370 170h2v2h-2zM364 172h2v2h-2zM370 172h2v2h-2zM368 176h2v2h-2zM372 176h2v2h-2zM370 178h2v2h-2zM374 178h2v2h-2zM366 180h2v2h-2zM364 182h4v2h-4zM374 182h4v2h-4zM368 184h2v2h-2zM362 186h4v2h-4zM370 188h2v2h-2zM362 190h2v2h-2zM374 190h2v2h-2zM356 196h2v2h-2zM368 198h2v2h-2zM358 200h2v2h-2zM364 200h2v2h-2zM356 204h8v2h-8zM354 206h2v2h-2zM352 208h2v2h-2zM356 210h2v2h-2zM354 212h2v2h-2zM358 212h2v2h-2zM356 214h2v2h-2zM352 216h2v2h-2zM354 218h2v2h-2zM346 220h2v2h-2zM356 220h2v2h-2zM342 224h2v2h-2zM348 224h2v2h-2zM352 224h2v2h-2zM342 226h2v2h-2zM354 226h2v2h-2zM336 228h2v2h-2zM348 228h2v2h-2zM328 230h2v2h-2zM334 230h2v2h-2zM342 230h2v2h-2zM354 230h2v2h-2zM328 232h2v2h-2zM334 232h2v2h-2zM328 234h2v2h-2zM340 240h2v2h-2z"/>
<path fill="#1424dc" d="M354 110h2v2h-2zM364 112h2v2h-2zM368 112h2v2h-2zM358 114h2v2h-2zM362 114h4v2h-4zM368 114h2v2h-2zM350 116h2v2h-2zM354 116h8v2h-8zM372 116h2v2h-2zM348 118h2v2h-2zM354 118h2v2h-2zM360 118h2v2h-2zM368 118h4v2h-4zM344 120h6v2h-6zM354 120h2v2h-2zM364 120h4v2h-4zM370 120h2v2h-2zM344 122h2v2h-2zM350 122h4v2h-4zM370 122h2v2h-2zM374 122h2v2h-2zM342 124h2v2h-2zM346 124h2v2h-2zM368 124h2v2h-2zM372 124h4v2h-4zM342 126h2v2h-2zM346 126h4v2h-4zM366 126h2v2h-2zM370 126h2v2h-2zM346 128h2v2h-2zM364 128h2v2h-2zM372 128h4v2h-4zM368 130h2v2h-2zM338 132h2v2h-2zM344 132h2v2h-2zM372 132h2v2h-2zM334 134h2v2h-2zM342 134h2v2h-2zM372 134h2v2h-2zM334 136h2v2h-2zM370 136h2v2h-2zM370 138h2v2h-2zM328 140h6v2h-6zM372 140h2v2h-2zM330 142h2v2h-2zM326 144h2v2h-2zM366 144h6v2h-6zM326 146h2v2h-2zM368 146h8v2h-8zM368 148h6v2h-6zM368 150h4v2h-4zM364 152h4v2h-4zM370 152h2v2h-2zM370 154h2v2h-2zM362 156h2v2h-2zM366 156h4v2h-4zM366 158h2v2h-2zM370 158h2v2h-2zM368 160h2v2h-2zM368 162h2v2h-2zM366 164h2v2h-2zM364 168h4v2h-4zM362 170h4v2h-4zM360 172h2v2h-2zM366 172h2v2h-2zM362 176h4v2h-4zM360 178h4v2h-4zM364 180h2v2h-2zM362 182h2v2h-2zM360 190h2v2h-2zM358 192h2v2h-2zM356 194h2v2h-2zM354 196h2v2h-2zM358 196h2v2h-2zM354 198h2v2h-2zM362 200h2v2h-2zM358 202h2v2h-2zM354 204h2v2h-2zM350 206h2v2h-2zM346 208h2v2h-2zM348 210h2v2h-2zM352 210h2v2h-2zM344 212h4v2h-4zM346 214h2v2h-2zM350 214h4v2h-4zM342 216h4v2h-4zM348 216h2v2h-2zM342 218h2v2h-2zM346 218h6v2h-6zM342 220h4v2h-4zM348 222h2v2h-2zM332 224h2v2h-2zM340 224h2v2h-2zM326 226h2v2h-2zM330 226h2v2h-2zM338 226h2v2h-2zM344 226h2v2h-2zM326 228h8v2h-8zM338 228h2v2h-2zM326 230h2v2h-2zM340 230h2v2h-2zM326 232h2v2h-2zM332 234h2v2h-2z"/>
<path fill="#0a50f0" d="M362 116h2v2h-2zM366 116h2v2h-2zM350 118h2v2h-2zM358 118h2v2h-2zM362 118h6v2h-6zM356 120h2v2h-2zM348 122h2v2h-2zM354 122h14v2h-14zM348 124h2v2h-2zM352 124h4v2h-4zM360 124h2v2h-2zM364 124h4v2h-4zM370 124h2v2h-2zM344 126h2v2h-2zM350 126h2v2h-2zM364 126h2v2h-2zM372 126h4v2h-4zM342 128h4v2h-4zM350 128h2v2h-2zM354 128h2v2h-2zM366 128h6v2h-6zM340 130h6v2h-6zM370 130h2v2h-2zM374 130h2v2h-2zM336 132h2v2h-2zM346 132h4v2h-4zM370 132h2v2h-2zM344 134h2v2h-2zM366 134h2v2h-2zM370 134h2v2h-2zM332 136h2v2h-2zM336 136h2v2h-2zM346 136h2v2h-2zM364 136h6v2h-6zM334 138h6v2h-6zM366 138h4v2h-4zM372 138h2v2h-2zM366 140h6v2h-6zM328 142h2v2h-2zM332 142h2v2h-2zM328 144h6v2h-6zM372 144h2v2h-2zM328 146h2v2h-2zM366 146h2v2h-2zM326 148h2v2h-2zM366 148h2v2h-2zM364 150h4v2h-4zM362 152h2v2h-2zM368 152h2v2h-2zM362 154h4v2h-4zM368 154h2v2h-2zM364 156h2v2h-2zM362 158h4v2h-4zM368 158h2v2h-2zM364 160h4v2h-4zM362 162h4v2h-4zM362 164h2v2h-2zM362 166h6v2h-6zM362 168h2v2h-2zM362 172h2v2h-2zM360 174h4v2h-4zM360 176h2v2h-2zM358 178h2v2h-2zM360 180h4v2h-4zM358 182h2v2h-2zM358 184h4v2h-4zM360 186h2v2h-2zM358 188h4v2h-4zM354 190h2v2h-2zM358 190h2v2h-2zM356 192h2v2h-2zM360 192h2v2h-2zM354 194h2v2h-2zM358 194h2v2h-2zM352 196h2v2h-2zM352 198h2v2h-2zM356 198h4v2h-4zM350 200h6v2h-6zM350 202h4v2h-4zM350 204h4v2h-4zM348 206h2v2h-2zM352 206h2v2h-2zM350 208h2v2h-2zM354 208h2v2h-2zM346 210h2v2h-2zM350 210h2v2h-2zM348 212h6v2h-6zM342 214h4v2h-4zM346 216h2v2h-2zM350 216h2v2h-2zM344 218h2v2h-2zM352 218h2v2h-2zM334 222h2v2h-2zM338 222h8v2h-8zM326 224h4v2h-4zM334 224h6v2h-6zM344 224h2v2h-2zM328 226h2v2h-2zM332 226h6v2h-6zM340 226h2v2h-2z"/>
<path fill="#00b4f0" d="M356 118h2v2h-2zM358 120h6v2h-6zM368 122h2v2h-2zM350 124h2v2h-2zM356 124h2v2h-2zM362 124h2v2h-2zM352 126h6v2h-6zM360 126h4v2h-4zM368 126h2v2h-2zM348 128h2v2h-2zM352 128h2v2h-2zM362 128h2v2h-2zM346 130h10v2h-10zM360 130h8v2h-8zM340 132h4v2h-4zM352 132h2v2h-2zM358 132h4v2h-4zM364 132h6v2h-6zM340 134h2v2h-2zM346 134h2v2h-2zM362 134h4v2h-4zM368 134h2v2h-2zM338 136h2v2h-2zM342 136h2v2h-2zM348 136h2v2h-2zM358 136h6v2h-6zM340 138h2v2h-2zM358 138h2v2h-2zM362 138h4v2h-4zM334 140h6v2h-6zM364 140h2v2h-2zM334 142h2v2h-2zM366 142h6v2h-6zM364 144h2v2h-2zM330 146h2v2h-2zM364 146h2v2h-2zM332 148h2v2h-2zM364 148h2v2h-2zM362 160h2v2h-2zM364 164h2v2h-2zM358 180h2v2h-2zM356 182h2v2h-2zM360 182h2v2h-2zM356 184h2v2h-2zM356 186h4v2h-4zM354 188h4v2h-4zM356 190h2v2h-2zM354 192h2v2h-2zM352 194h2v2h-2zM348 198h4v2h-4zM348 200h2v2h-2zM348 204h2v2h-2zM344 208h2v2h-2zM348 208h2v2h-2zM344 210h2v2h-2zM340 214h2v2h-2zM348 214h2v2h-2zM340 216h2v2h-2zM338 218h4v2h-4zM336 220h6v2h-6zM326 222h2v2h-2zM336 222h2v2h-2zM330 224h2v2h-2z"/>
<path fill="#00c8a0" d="M358 124h2v2h-2zM358 126h2v2h-2zM356 128h6v2h-6zM358 130h2v2h-2zM350 132h2v2h-2zM354 132h4v2h-4zM362 132h2v2h-2zM348 134h12v2h-12zM340 136h2v2h-2zM344 136h2v2h-2zM354 136h4v2h-4zM342 138h4v2h-4zM348 138h4v2h-4zM356 138h2v2h-2zM360 138h2v2h-2zM340 140h4v2h-4zM346 140h2v2h-2zM358 140h2v2h-2zM362 140h2v2h-2zM340 142h6v2h-6zM362 142h4v2h-4zM336 144h4v2h-4zM362 144h2v2h-2zM332 146h4v2h-4zM362 146h2v2h-2zM328 148h4v2h-4zM362 148h2v2h-2zM326 150h2v2h-2zM362 150h2v2h-2zM328 152h2v2h-2zM326 156h2v2h-2zM352 192h2v2h-2zM350 196h2v2h-2zM344 202h6v2h-6zM346 204h2v2h-2zM344 206h2v2h-2zM340 212h4v2h-4zM338 216h2v2h-2zM336 218h2v2h-2zM328 220h2v2h-2zM334 220h2v2h-2zM328 222h6v2h-6z"/>
<path fill="#10c040" d="M356 130h2v2h-2zM360 134h2v2h-2zM350 136h4v2h-4zM346 138h2v2h-2zM352 138h4v2h-4zM344 140h2v2h-2zM348 140h10v2h-10zM360 140h2v2h-2zM336 142h4v2h-4zM348 142h2v2h-2zM356 142h6v2h-6zM334 144h2v2h-2zM346 144h2v2h-2zM354 144h4v2h-4zM360 144h2v2h-2zM336 146h2v2h-2zM328 150h4v2h-4zM326 152h2v2h-2zM330 152h2v2h-2zM326 154h4v2h-4zM358 154h2v2h-2zM360 156h2v2h-2zM328 158h2v2h-2zM326 160h2v2h-2zM360 162h2v2h-2zM360 170h2v2h-2zM356 180h2v2h-2zM354 184h2v2h-2zM350 186h2v2h-2zM352 190h2v2h-2zM344 194h2v2h-2zM348 194h4v2h-4zM348 196h2v2h-2zM342 198h4v2h-4zM346 200h2v2h-2zM344 204h2v2h-2zM342 206h2v2h-2zM346 206h2v2h-2zM340 208h4v2h-4zM338 210h6v2h-6zM338 212h2v2h-2zM332 218h4v2h-4zM330 220h4v2h-4z"/>
<path fill="#90dc00" d="M346 142h2v2h-2zM350 142h6v2h-6zM340 144h6v2h-6zM348 144h6v2h-6zM358 144h2v2h-2zM338 146h6v2h-6zM354 146h8v2h-8zM334 148h2v2h-2zM338 148h2v2h-2zM358 148h2v2h-2zM332 150h2v2h-2zM338 150h4v2h-4zM356 150h6v2h-6zM332 152h4v2h-4zM358 152h4v2h-4zM330 154h2v2h-2zM334 154h2v2h-2zM360 154h2v2h-2zM332 156h2v2h-2zM358 156h2v2h-2zM326 158h2v2h-2zM330 158h2v2h-2zM358 158h4v2h-4zM328 160h4v2h-4zM360 160h2v2h-2zM326 162h2v2h-2zM330 162h2v2h-2zM358 162h2v2h-2zM326 164h4v2h-4zM360 166h2v2h-2zM326 168h4v2h-4zM360 168h2v2h-2zM358 170h2v2h-2zM326 174h2v2h-2zM356 174h4v2h-4zM358 176h2v2h-2zM354 178h2v2h-2zM326 180h2v2h-2zM354 180h2v2h-2zM354 182h2v2h-2zM352 184h2v2h-2zM352 186h4v2h-4zM326 188h2v2h-2zM346 188h2v2h-2zM350 188h4v2h-4zM326 190h2v2h-2zM348 190h2v2h-2zM328 192h2v2h-2zM344 192h8v2h-8zM346 194h2v2h-2zM342 196h6v2h-6zM346 198h2v2h-2zM340 200h6v2h-6zM340 202h4v2h-4zM338 204h6v2h-6zM340 206h2v2h-2zM338 208h2v2h-2zM336 214h4v2h-4zM334 216h4v2h-4zM326 220h2v2h-2z"/>
<path fill="#f0f000" d="M344 146h2v2h-2zM348 146h6v2h-6zM336 148h2v2h-2zM340 148h2v2h-2zM344 148h14v2h-14zM360 148h2v2h-2zM334 150h4v2h-4zM344 150h2v2h-2zM350 150h2v2h-2zM354 150h2v2h-2zM336 152h6v2h-6zM332 154h2v2h-2zM328 156h4v2h-4zM356 156h2v2h-2zM332 158h2v2h-2zM356 158h2v2h-2zM332 160h2v2h-2zM328 162h2v2h-2zM356 162h2v2h-2zM330 164h2v2h-2zM358 164h2v2h-2zM326 166h4v2h-4zM356 166h4v2h-4zM356 168h2v2h-2zM326 170h4v2h-4zM326 172h4v2h-4zM356 172h4v2h-4zM328 174h2v2h-2zM326 176h2v2h-2zM330 176h2v2h-2zM356 176h2v2h-2zM326 178h4v2h-4zM356 178h2v2h-2zM330 180h2v2h-2zM326 182h4v2h-4zM350 182h2v2h-2zM326 184h4v2h-4zM326 186h2v2h-2zM334 186h2v2h-2zM338 186h2v2h-2zM330 188h2v2h-2zM334 188h2v2h-2zM340 188h2v2h-2zM348 188h2v2h-2zM328 190h2v2h-2zM334 190h6v2h-6zM346 190h2v2h-2zM350 190h2v2h-2zM326 192h2v2h-2zM338 192h2v2h-2zM342 192h2v2h-2zM332 194h2v2h-2zM340 194h4v2h-4zM336 196h6v2h-6zM338 198h4v2h-4zM338 200h2v2h-2zM338 202h2v2h-2zM332 216h2v2h-2z"/>
<path fill="#ffc000" d="M346 146h2v2h-2zM342 148h2v2h-2zM342 150h2v2h-2zM346 150h4v2h-4zM352 150h2v2h-2zM342 152h2v2h-2zM346 152h4v2h-4zM356 152h2v2h-2zM336 154h4v2h-4zM346 154h2v2h-2zM354 154h4v2h-4zM334 156h4v2h-4zM348 156h2v2h-2zM334 158h4v2h-4zM352 158h2v2h-2zM334 160h2v2h-2zM356 160h4v2h-4zM332 162h2v2h-2zM354 162h2v2h-2zM354 164h4v2h-4zM360 164h2v2h-2zM330 166h2v2h-2zM334 166h2v2h-2zM330 168h2v2h-2zM358 168h2v2h-2zM330 172h2v2h-2zM350 172h2v2h-2zM352 174h4v2h-4zM328 176h2v2h-2zM354 176h2v2h-2zM330 178h2v2h-2zM336 178h2v2h-2zM352 178h2v2h-2zM328 180h2v2h-2zM332 180h2v2h-2zM350 180h4v2h-4zM332 182h2v2h-2zM352 182h2v2h-2zM330 184h6v2h-6zM344 184h4v2h-4zM350 184h2v2h-2zM328 186h6v2h-6zM336 186h2v2h-2zM340 186h10v2h-10zM328 188h2v2h-2zM332 188h2v2h-2zM336 188h4v2h-4zM342 188h4v2h-4zM332 190h2v2h-2zM340 190h6v2h-6zM330 192h8v2h-8zM340 192h2v2h-2zM326 194h4v2h-4zM334 194h4v2h-4zM326 196h6v2h-6zM334 196h2v2h-2zM328 198h2v2h-2zM332 198h6v2h-6zM332 200h6v2h-6zM336 204h2v2h-2zM326 206h2v2h-2zM336 206h4v2h-4zM336 208h2v2h-2zM336 210h2v2h-2zM336 212h2v2h-2zM330 216h2v2h-2zM328 218h4v2h-4z"/>
<path fill="#ff7800" d="M344 152h2v2h-2zM350 152h6v2h-6zM340 154h2v2h-2zM344 154h2v2h-2zM350 154h4v2h-4zM338 156h2v2h-2zM344 156h4v2h-4zM350 156h4v2h-4zM338 158h2v2h-2zM348 158h2v2h-2zM354 158h2v2h-2zM336 160h6v2h-6zM344 160h2v2h-2zM352 160h4v2h-4zM334 162h2v2h-2zM338 162h6v2h-6zM352 162h2v2h-2zM332 164h6v2h-6zM346 164h2v2h-2zM350 164h2v2h-2zM348 166h2v2h-2zM352 166h4v2h-4zM332 168h4v2h-4zM344 168h2v2h-2zM348 168h2v2h-2zM352 168h4v2h-4zM330 170h4v2h-4zM354 170h4v2h-4zM344 172h4v2h-4zM352 172h4v2h-4zM330 174h6v2h-6zM346 174h2v2h-2zM350 174h2v2h-2zM332 176h4v2h-4zM338 176h2v2h-2zM346 176h8v2h-8zM332 178h2v2h-2zM338 178h2v2h-2zM348 178h4v2h-4zM336 180h4v2h-4zM342 180h8v2h-8zM330 182h2v2h-2zM336 182h4v2h-4zM342 182h8v2h-8zM336 184h8v2h-8zM348 184h2v2h-2zM330 190h2v2h-2zM330 194h2v2h-2zM338 194h2v2h-2zM332 196h2v2h-2zM326 198h2v2h-2zM330 198h2v2h-2zM328 200h2v2h-2zM328 202h2v2h-2zM334 202h4v2h-4zM334 204h2v2h-2zM328 210h2v2h-2zM332 212h4v2h-4zM330 214h6v2h-6zM326 216h2v2h-2zM326 218h2v2h-2z"/>
<path fill="#f42010" d="M342 154h2v2h-2zM348 154h2v2h-2zM340 156h4v2h-4zM354 156h2v2h-2zM340 158h8v2h-8zM350 158h2v2h-2zM342 160h2v2h-2zM346 160h6v2h-6zM336 162h2v2h-2zM344 162h8v2h-8zM338 164h8v2h-8zM348 164h2v2h-2zM352 164h2v2h-2zM332 166h2v2h-2zM336 166h12v2h-12zM350 166h2v2h-2zM336 168h8v2h-8zM346 168h2v2h-2zM350 168h2v2h-2zM334 170h20v2h-20zM332 172h12v2h-12zM348 172h2v2h-2zM336 174h10v2h-10zM348 174h2v2h-2zM336 176h2v2h-2zM340 176h6v2h-6zM334 178h2v2h-2zM340 178h8v2h-8zM334 180h2v2h-2zM340 180h2v2h-2zM334 182h2v2h-2zM340 182h2v2h-2zM326 200h2v2h-2zM330 200h2v2h-2zM326 202h2v2h-2zM330 202h4v2h-4zM326 204h8v2h-8zM328 206h8v2h-8zM326 208h10v2h-10zM326 210h2v2h-2zM330 210h6v2h-6zM326 212h6v2h-6zM326 214h4v2h-4zM328 216h2v2h-2z"/>
<path fill="#c0c0f0" d="M491.6 166.7h1.6v1.6h-1.6zM403.8 229.9h1.6v1.6h-1.6zM469.5 170.0h1.6v1.6h-1.6zM452.4 180.1h1.6v1.6h-1.6zM485.9 177.3h1.6v1.6h-1.6zM448.9 165.1h1.6v1.6h-1.6zM475.3 147.3h1.6v1.6h-1.6zM441.1 167.9h1.6v1.6h-1.6zM457.0 205.7h1.6v1.6h-1.6zM458.8 170.2h1.6v1.6h-1.6zM448.6 163.2h1.6v1.6h-1.6zM441.7 181.9h1.6v1.6h-1.6zM473.5 216.1h1.6v1.6h-1.6zM463.0 170.5h1.6v1.6h-1.6zM472.6 182.5h1.6v1.6h-1.6zM448.5 194.7h1.6v1.6h-1.6zM445.7 187.0h1.6v1.6h-1.6zM414.4 199.1h1.6v1.6h-1.6zM476.9 154.2h1.6v1.6h-1.6zM444.6 180.8h1.6v1.6h-1.6zM451.8 136.0h1.6v1.6h-1.6zM485.7 207.8h1.6v1.6h-1.6zM494.3 165.8h1.6v1.6h-1.6zM479.1 161.7h1.6v1.6h-1.6zM455.3 175.0h1.6v1.6h-1.6zM468.8 151.4h1.6v1.6h-1.6zM445.8 207.1h1.6v1.6h-1.6zM471.3 161.9h1.6v1.6h-1.6zM432.0 208.8h1.6v1.6h-1.6zM443.5 160.1h1.6v1.6h-1.6zM473.8 171.6h1.6v1.6h-1.6zM476.3 203.4h1.6v1.6h-1.6zM442.8 183.6h1.6v1.6h-1.6zM446.7 203.2h1.6v1.6h-1.6zM446.6 187.3h1.6v1.6h-1.6zM481.1 180.7h1.6v1.6h-1.6zM478.0 182.5h1.6v1.6h-1.6zM448.2 186.5h1.6v1.6h-1.6zM425.2 192.8h1.6v1.6h-1.6zM466.3 176.0h1.6v1.6h-1.6zM428.0 203.0h1.6v1.6h-1.6zM436.7 181.9h1.6v1.6h-1.6zM444.3 198.0h1.6v1.6h-1.6zM469.0 176.8h1.6v1.6h-1.6zM446.8 167.8h1.6v1.6h-1.6zM458.6 174.1h1.6v1.6h-1.6zM486.6 214.0h1.6v1.6h-1.6zM449.0 201.6h1.6v1.6h-1.6zM462.0 175.6h1.6v1.6h-1.6zM501.6 192.8h1.6v1.6h-1.6zM446.7 176.9h1.6v1.6h-1.6zM437.2 142.7h1.6v1.6h-1.6zM430.3 160.4h1.6v1.6h-1.6zM453.7 148.8h1.6v1.6h-1.6zM465.9 175.8h1.6v1.6h-1.6zM476.8 181.6h1.6v1.6h-1.6zM435.6 150.5h1.6v1.6h-1.6zM491.1 172.5h1.6v1.6h-1.6zM433.3 172.1h1.6v1.6h-1.6zM449.0 189.9h1.6v1.6h-1.6zM446.8 196.1h1.6v1.6h-1.6zM466.7 178.7h1.6v1.6h-1.6zM441.6 190.9h1.6v1.6h-1.6zM442.9 193.2h1.6v1.6h-1.6zM452.5 157.7h1.6v1.6h-1.6zM474.4 169.0h1.6v1.6h-1.6zM471.8 185.9h1.6v1.6h-1.6zM416.3 231.3h1.6v1.6h-1.6zM462.8 227.5h1.6v1.6h-1.6zM445.0 210.5h1.6v1.6h-1.6zM439.1 208.0h1.6v1.6h-1.6zM462.2 208.2h1.6v1.6h-1.6zM485.1 159.3h1.6v1.6h-1.6zM433.6 170.5h1.6v1.6h-1.6zM416.6 164.9h1.6v1.6h-1.6zM476.9 187.8h1.6v1.6h-1.6zM459.0 188.0h1.6v1.6h-1.6zM462.7 190.7h1.6v1.6h-1.6zM437.0 187.6h1.6v1.6h-1.6zM455.5 186.2h1.6v1.6h-1.6zM478.7 198.9h1.6v1.6h-1.6zM423.2 213.1h1.6v1.6h-1.6zM413.4 191.1h1.6v1.6h-1.6zM465.8 161.4h1.6v1.6h-1.6zM480.5 187.1h1.6v1.6h-1.6zM432.3 175.8h1.6v1.6h-1.6zM408.3 164.8h1.6v1.6h-1.6zM425.3 156.5h1.6v1.6h-1.6zM418.1 182.5h1.6v1.6h-1.6zM454.5 196.6h1.6v1.6h-1.6zM480.7 159.7h1.6v1.6h-1.6zM446.4 170.9h1.6v1.6h-1.6zM458.4 149.8h1.6v1.6h-1.6zM447.1 183.8h1.6v1.6h-1.6zM456.6 174.8h1.6v1.6h-1.6zM469.6 155.5h1.6v1.6h-1.6zM427.0 197.9h1.6v1.6h-1.6zM438.3 177.6h1.6v1.6h-1.6zM467.9 206.3h1.6v1.6h-1.6zM432.4 149.0h1.6v1.6h-1.6zM479.4 161.5h1.6v1.6h-1.6zM453.1 159.9h1.6v1.6h-1.6zM434.0 211.8h1.6v1.6h-1.6zM445.0 183.0h1.6v1.6h-1.6zM440.7 199.1h1.6v1.6h-1.6zM442.0 201.5h1.6v1.6h-1.6zM488.2 155.9h1.6v1.6h-1.6zM444.3 209.2h1.6v1.6h-1.6zM441.7 161.6h1.6v1.6h-1.6zM449.7 203.8h1.6v1.6h-1.6z"/>
<path fill="#3a5af0" d="M449.9 184.4h1.8v1.8h-1.8zM455.9 178.2h1.8v1.8h-1.8zM473.8 173.4h1.8v1.8h-1.8zM454.4 159.8h1.8v1.8h-1.8zM472.4 162.2h1.8v1.8h-1.8zM418.9 192.7h1.8v1.8h-1.8zM439.3 188.2h1.8v1.8h-1.8zM463.5 174.3h1.8v1.8h-1.8zM439.5 192.3h1.8v1.8h-1.8zM453.9 188.4h1.8v1.8h-1.8zM471.9 167.7h1.8v1.8h-1.8zM450.0 160.1h1.8v1.8h-1.8zM436.6 185.1h1.8v1.8h-1.8zM463.3 185.4h1.8v1.8h-1.8zM465.4 183.6h1.8v1.8h-1.8zM453.0 181.6h1.8v1.8h-1.8zM444.2 174.9h1.8v1.8h-1.8zM462.4 191.2h1.8v1.8h-1.8zM426.6 185.1h1.8v1.8h-1.8zM454.4 182.1h1.8v1.8h-1.8zM440.9 190.3h1.8v1.8h-1.8zM457.1 179.3h1.8v1.8h-1.8zM451.5 171.9h1.8v1.8h-1.8zM440.2 187.9h1.8v1.8h-1.8zM462.9 181.4h1.8v1.8h-1.8zM453.5 175.9h1.8v1.8h-1.8zM445.4 175.1h1.8v1.8h-1.8zM459.5 174.8h1.8v1.8h-1.8zM448.6 184.9h1.8v1.8h-1.8zM448.0 183.5h1.8v1.8h-1.8z"/>
<path fill="#1212b0" d="M448.9 193.3h2.0v2.0h-2.0zM448.1 169.6h2.0v2.0h-2.0zM451.3 184.8h2.0v2.0h-2.0zM440.2 189.6h2.0v2.0h-2.0zM444.7 171.0h2.0v2.0h-2.0zM448.8 180.2h2.0v2.0h-2.0zM452.2 181.3h2.0v2.0h-2.0zM439.5 197.7h2.0v2.0h-2.0zM445.4 188.8h2.0v2.0h-2.0zM453.5 177.4h2.0v2.0h-2.0zM460.6 177.7h2.0v2.0h-2.0zM453.9 179.7h2.0v2.0h-2.0zM450.6 178.9h2.0v2.0h-2.0zM454.2 173.4h2.0v2.0h-2.0zM460.2 176.0h2.0v2.0h-2.0zM466.9 170.5h2.0v2.0h-2.0zM461.4 186.1h2.0v2.0h-2.0zM445.3 184.6h2.0v2.0h-2.0zM460.8 185.1h2.0v2.0h-2.0zM436.3 197.4h2.0v2.0h-2.0zM455.9 186.4h2.0v2.0h-2.0zM445.1 181.9h2.0v2.0h-2.0zM448.7 179.0h2.0v2.0h-2.0zM454.9 177.5h2.0v2.0h-2.0zM455.1 185.2h2.0v2.0h-2.0zM440.2 193.1h2.0v2.0h-2.0zM451.2 187.5h2.0v2.0h-2.0zM446.1 189.0h2.0v2.0h-2.0zM455.0 186.2h2.0v2.0h-2.0zM455.6 180.3h2.0v2.0h-2.0zM442.1 186.9h2.0v2.0h-2.0zM459.7 178.9h2.0v2.0h-2.0zM463.2 173.2h2.0v2.0h-2.0zM455.3 190.7h2.0v2.0h-2.0zM457.6 176.3h2.0v2.0h-2.0zM439.8 192.9h2.0v2.0h-2.0zM446.4 184.7h2.0v2.0h-2.0zM463.8 179.7h2.0v2.0h-2.0zM439.9 197.9h2.0v2.0h-2.0zM449.8 188.1h2.0v2.0h-2.0zM440.4 183.6h2.0v2.0h-2.0zM456.8 168.1h2.0v2.0h-2.0zM462.5 174.9h2.0v2.0h-2.0zM449.0 189.2h2.0v2.0h-2.0zM457.8 186.8h2.0v2.0h-2.0zM424.2 193.6h2.0v2.0h-2.0zM458.6 175.4h2.0v2.0h-2.0zM449.5 173.1h2.0v2.0h-2.0z"/>
<path d="M324 45.7V252.5" stroke="#3a3a3a" stroke-width="1.5" fill="none"/>
<path d="M323.1 252.5H528.7" stroke="#3c4a80" stroke-width="1.8" fill="none"/>
<rect x="427" y="107.7" width="68" height="118.1" fill="none" stroke="#e0505a" stroke-width="1.3"/>
<text x="316.5" y="49.6" font-size="8.3" text-anchor="end" font-weight="bold" fill="#222">4.3 x10</text>
<text x="316.5" y="44.6" font-size="5.5" font-weight="bold" fill="#222">9</text>
<text x="316.5" y="101.6" font-size="8.3" text-anchor="end" font-weight="bold" fill="#222">3.2 x10</text>
<text x="316.5" y="96.6" font-size="5.5" font-weight="bold" fill="#222">9</text>
<text x="316.5" y="148" font-size="8.3" text-anchor="end" font-weight="bold" fill="#222">2.1 x10</text>
<text x="316.5" y="143" font-size="5.5" font-weight="bold" fill="#222">9</text>
<text x="316.5" y="205" font-size="8.3" text-anchor="end" font-weight="bold" fill="#222">1.1 x10</text>
<text x="316.5" y="200" font-size="5.5" font-weight="bold" fill="#222">9</text>
<text x="321" y="257" font-size="8.3" text-anchor="end" font-weight="bold" fill="#222">0</text>
<text x="337.5" y="268.5" font-size="8.3" text-anchor="middle" font-weight="bold" fill="#222">10</text>
<text x="342.4" y="263.5" font-size="5.5" font-weight="bold" fill="#222">1</text>
<text x="379.5" y="268.5" font-size="8.3" text-anchor="middle" font-weight="bold" fill="#222">10</text>
<text x="384.4" y="263.5" font-size="5.5" font-weight="bold" fill="#222">2</text>
<text x="428.5" y="268.5" font-size="8.3" text-anchor="middle" font-weight="bold" fill="#222">10</text>
<text x="433.4" y="263.5" font-size="5.5" font-weight="bold" fill="#222">3</text>
<text x="477.5" y="268.5" font-size="8.3" text-anchor="middle" font-weight="bold" fill="#222">10</text>
<text x="482.4" y="263.5" font-size="5.5" font-weight="bold" fill="#222">4</text>
<text x="526.5" y="268.5" font-size="8.3" text-anchor="middle" font-weight="bold" fill="#222">10</text>
<text x="531.4" y="263.5" font-size="5.5" font-weight="bold" fill="#222">5</text>
<text x="442" y="293" font-size="20" text-anchor="middle">CD11b</text>
<text x="428" y="99" font-size="20">CD11b<tspan dy="-7.5" font-size="11">+</tspan></text>
<text transform="translate(285,149) rotate(-90)" font-size="20" text-anchor="middle" fill="#111">FSC</text>
<path fill="#c8c8f0" d="M612 98h2v1.6h-2zM628 98h2v1.6h-2zM602 100h2v1.6h-2zM606 100h2v1.6h-2zM610 100h2v1.6h-2zM634 100h2v1.6h-2zM650 100h2v1.6h-2zM636 102h2v1.6h-2zM640 102h2v1.6h-2zM600 104h2v1.6h-2zM628 104h2v1.6h-2zM632 104h2v1.6h-2zM640 104h2v1.6h-2zM646 106h2v1.6h-2zM654 106h2v1.6h-2zM594 108h2v1.6h-2zM598 108h2v1.6h-2zM606 108h2v1.6h-2zM646 108h2v1.6h-2zM650 108h2v1.6h-2zM600 110h4v1.6h-4zM644 110h2v1.6h-2zM654 110h4v1.6h-4zM600 112h2v1.6h-2zM656 112h2v1.6h-2zM600 114h2v1.6h-2zM648 118h2v1.6h-2zM652 120h2v1.6h-2zM656 120h2v1.6h-2zM656 122h6v1.6h-6zM662 132h2v1.6h-2zM648 134h2v1.6h-2zM654 140h2v1.6h-2zM658 144h4v1.6h-4zM664 144h2v1.6h-2zM660 146h2v1.6h-2zM652 156h2v1.6h-2zM658 156h2v1.6h-2zM654 160h2v1.6h-2zM656 164h2v1.6h-2zM666 164h2v1.6h-2zM656 166h2v1.6h-2zM662 166h2v1.6h-2zM652 174h4v1.6h-4zM656 176h2v1.6h-2zM660 176h2v1.6h-2zM648 180h2v1.6h-2zM654 180h4v1.6h-4zM654 182h2v1.6h-2zM660 182h2v1.6h-2zM654 184h4v1.6h-4zM654 186h2v1.6h-2zM646 188h2v1.6h-2zM648 194h2v1.6h-2zM642 196h2v1.6h-2zM646 198h2v1.6h-2zM656 198h2v1.6h-2zM642 200h2v1.6h-2zM648 200h2v1.6h-2zM644 202h2v1.6h-2zM650 202h2v1.6h-2zM650 206h2v1.6h-2zM640 208h2v1.6h-2zM646 208h2v1.6h-2zM636 210h2v1.6h-2zM640 214h2v1.6h-2zM644 216h2v1.6h-2zM646 218h4v1.6h-4zM642 222h2v1.6h-2zM642 224h4v1.6h-4zM650 224h2v1.6h-2zM640 226h2v1.6h-2zM624 228h2v1.6h-2zM630 228h2v1.6h-2zM630 230h2v1.6h-2zM634 230h2v1.6h-2zM616 232h2v1.6h-2zM630 234h2v1.6h-2zM618 236h2v1.6h-2zM626 236h4v1.6h-4zM640 236h2v1.6h-2zM620 242h2v1.6h-2zM630 242h2v1.6h-2zM638 242h2v1.6h-2z"/>
<path fill="#1010b4" d="M628 102h2v2h-2zM594 104h2v2h-2zM612 108h4v2h-4zM622 108h2v2h-2zM616 112h2v2h-2zM622 112h2v2h-2zM618 114h2v2h-2zM628 114h2v2h-2zM634 114h4v2h-4zM606 116h4v2h-4zM612 116h2v2h-2zM628 116h4v2h-4zM634 116h4v2h-4zM640 116h2v2h-2zM608 118h2v2h-2zM616 118h2v2h-2zM626 118h4v2h-4zM610 120h2v2h-2zM618 120h2v2h-2zM638 120h2v2h-2zM648 120h2v2h-2zM602 122h2v2h-2zM610 122h2v2h-2zM632 122h2v2h-2zM638 122h2v2h-2zM638 124h4v2h-4zM592 126h2v2h-2zM600 126h2v2h-2zM640 126h2v2h-2zM632 128h4v2h-4zM642 128h2v2h-2zM650 130h4v2h-4zM640 134h2v2h-2zM642 136h4v2h-4zM650 136h2v2h-2zM640 138h2v2h-2zM650 138h2v2h-2zM642 142h2v2h-2zM664 142h2v2h-2zM640 144h4v2h-4zM646 146h4v2h-4zM640 150h2v2h-2zM646 150h2v2h-2zM646 152h2v2h-2zM642 154h2v2h-2zM656 154h2v2h-2zM642 156h4v2h-4zM644 158h2v2h-2zM638 160h2v2h-2zM646 160h2v2h-2zM652 160h2v2h-2zM652 162h2v2h-2zM648 164h2v2h-2zM654 164h2v2h-2zM642 166h2v2h-2zM638 168h4v2h-4zM650 170h2v2h-2zM640 172h4v2h-4zM648 174h2v2h-2zM640 178h2v2h-2zM636 180h2v2h-2zM650 180h2v2h-2zM636 182h8v2h-8zM636 184h2v2h-2zM650 186h2v2h-2zM640 188h2v2h-2zM636 190h2v2h-2zM644 190h2v2h-2zM638 192h4v2h-4zM644 194h4v2h-4zM634 196h4v2h-4zM632 198h2v2h-2zM634 200h2v2h-2zM640 200h2v2h-2zM632 202h2v2h-2zM636 202h2v2h-2zM632 204h6v2h-6zM646 204h2v2h-2zM630 206h2v2h-2zM642 206h2v2h-2zM630 208h2v2h-2zM634 208h2v2h-2zM642 210h2v2h-2zM630 214h2v2h-2zM638 214h2v2h-2zM644 214h2v2h-2zM626 218h2v2h-2zM622 220h2v2h-2zM626 222h2v2h-2zM644 222h2v2h-2zM616 224h2v2h-2zM622 224h2v2h-2zM608 226h2v2h-2zM616 226h2v2h-2zM622 228h2v2h-2zM610 230h4v2h-4zM618 230h2v2h-2zM602 232h2v2h-2zM606 232h4v2h-4zM626 232h2v2h-2zM600 234h2v2h-2zM620 234h2v2h-2zM592 236h2v2h-2zM596 238h6v2h-6zM594 240h4v2h-4zM620 240h2v2h-2zM606 242h2v2h-2zM614 242h2v2h-2z"/>
<path fill="#1424dc" d="M614 116h2v2h-2zM620 116h2v2h-2zM620 118h6v2h-6zM630 118h2v2h-2zM604 120h2v2h-2zM612 120h6v2h-6zM622 120h6v2h-6zM606 122h2v2h-2zM614 122h6v2h-6zM626 122h2v2h-2zM630 122h2v2h-2zM636 122h2v2h-2zM602 124h2v2h-2zM630 124h2v2h-2zM634 124h2v2h-2zM602 126h2v2h-2zM606 126h2v2h-2zM614 126h2v2h-2zM618 126h4v2h-4zM628 126h4v2h-4zM634 126h4v2h-4zM594 128h16v2h-16zM614 128h2v2h-2zM628 128h2v2h-2zM636 128h2v2h-2zM598 130h2v2h-2zM602 130h2v2h-2zM616 130h2v2h-2zM592 132h4v2h-4zM598 132h4v2h-4zM604 132h2v2h-2zM618 132h2v2h-2zM628 132h2v2h-2zM632 132h2v2h-2zM638 132h4v2h-4zM592 134h2v2h-2zM642 134h2v2h-2zM594 136h4v2h-4zM636 136h6v2h-6zM636 140h2v2h-2zM640 140h2v2h-2zM638 142h2v2h-2zM644 144h2v2h-2zM638 146h2v2h-2zM642 146h2v2h-2zM634 150h2v2h-2zM642 150h2v2h-2zM640 152h4v2h-4zM636 154h2v2h-2zM638 158h4v2h-4zM640 160h2v2h-2zM638 162h2v2h-2zM642 162h2v2h-2zM640 164h2v2h-2zM634 168h2v2h-2zM642 168h2v2h-2zM638 170h4v2h-4zM638 172h2v2h-2zM636 174h2v2h-2zM636 176h4v2h-4zM634 178h2v2h-2zM638 186h2v2h-2zM634 190h2v2h-2zM628 196h2v2h-2zM630 200h2v2h-2zM626 204h2v2h-2zM630 204h2v2h-2zM626 206h2v2h-2zM632 206h2v2h-2zM624 212h2v2h-2zM628 212h2v2h-2zM620 216h2v2h-2zM624 216h4v2h-4zM622 218h2v2h-2zM618 220h2v2h-2zM624 220h2v2h-2zM608 222h4v2h-4zM616 222h2v2h-2zM622 222h4v2h-4zM620 224h2v2h-2zM604 226h4v2h-4zM610 226h4v2h-4zM608 228h2v2h-2zM618 228h2v2h-2zM600 230h2v2h-2zM604 230h4v2h-4zM596 232h6v2h-6zM594 234h2v2h-2z"/>
<path fill="#0a50f0" d="M618 118h2v2h-2zM628 120h4v2h-4zM608 122h2v2h-2zM612 122h2v2h-2zM620 122h6v2h-6zM628 122h2v2h-2zM604 124h2v2h-2zM608 124h4v2h-4zM614 124h16v2h-16zM632 124h2v2h-2zM636 124h2v2h-2zM608 126h6v2h-6zM616 126h2v2h-2zM622 126h2v2h-2zM626 126h2v2h-2zM632 126h2v2h-2zM610 128h4v2h-4zM616 128h2v2h-2zM620 128h6v2h-6zM630 128h2v2h-2zM594 130h4v2h-4zM606 130h6v2h-6zM622 130h4v2h-4zM628 130h10v2h-10zM596 132h2v2h-2zM602 132h2v2h-2zM606 132h2v2h-2zM610 132h2v2h-2zM614 132h2v2h-2zM620 132h2v2h-2zM630 132h2v2h-2zM634 132h4v2h-4zM594 134h14v2h-14zM620 134h2v2h-2zM626 134h2v2h-2zM632 134h8v2h-8zM592 136h2v2h-2zM598 136h2v2h-2zM604 136h2v2h-2zM610 136h2v2h-2zM628 136h8v2h-8zM592 138h6v2h-6zM600 138h2v2h-2zM612 138h2v2h-2zM628 138h2v2h-2zM632 138h4v2h-4zM638 138h2v2h-2zM592 140h4v2h-4zM638 140h2v2h-2zM636 142h2v2h-2zM638 144h2v2h-2zM636 146h2v2h-2zM640 146h2v2h-2zM636 148h2v2h-2zM640 148h4v2h-4zM638 150h2v2h-2zM636 152h2v2h-2zM638 154h4v2h-4zM636 156h6v2h-6zM636 158h2v2h-2zM642 158h2v2h-2zM636 162h2v2h-2zM636 166h6v2h-6zM636 168h2v2h-2zM636 170h2v2h-2zM638 174h2v2h-2zM634 176h2v2h-2zM636 178h2v2h-2zM634 180h2v2h-2zM632 182h4v2h-4zM632 184h4v2h-4zM632 186h4v2h-4zM630 188h4v2h-4zM632 190h2v2h-2zM628 192h8v2h-8zM632 194h2v2h-2zM626 196h2v2h-2zM630 196h2v2h-2zM628 200h2v2h-2zM624 202h8v2h-8zM624 204h2v2h-2zM628 204h2v2h-2zM622 206h4v2h-4zM628 206h2v2h-2zM622 208h6v2h-6zM616 210h2v2h-2zM626 210h4v2h-4zM618 212h6v2h-6zM620 214h8v2h-8zM622 216h2v2h-2zM612 218h4v2h-4zM618 218h2v2h-2zM608 220h2v2h-2zM612 220h2v2h-2zM616 220h2v2h-2zM612 222h4v2h-4zM602 224h2v2h-2zM608 224h8v2h-8zM594 228h2v2h-2zM598 228h8v2h-8zM610 228h2v2h-2zM614 228h2v2h-2zM592 230h2v2h-2zM596 230h4v2h-4zM602 230h2v2h-2zM594 232h2v2h-2zM592 234h2v2h-2z"/>
<path fill="#00b4f0" d="M612 124h2v2h-2zM624 126h2v2h-2zM618 128h2v2h-2zM626 128h2v2h-2zM600 130h2v2h-2zM604 130h2v2h-2zM612 130h4v2h-4zM618 130h4v2h-4zM626 130h2v2h-2zM608 132h2v2h-2zM612 132h2v2h-2zM616 132h2v2h-2zM622 132h2v2h-2zM608 134h8v2h-8zM618 134h2v2h-2zM624 134h2v2h-2zM628 134h4v2h-4zM600 136h4v2h-4zM606 136h4v2h-4zM614 136h2v2h-2zM622 136h2v2h-2zM626 136h2v2h-2zM598 138h2v2h-2zM602 138h2v2h-2zM608 138h4v2h-4zM622 138h2v2h-2zM630 138h2v2h-2zM636 138h2v2h-2zM596 140h2v2h-2zM600 140h4v2h-4zM606 140h2v2h-2zM614 140h2v2h-2zM624 140h2v2h-2zM628 140h2v2h-2zM632 140h4v2h-4zM592 142h4v2h-4zM598 142h2v2h-2zM602 142h2v2h-2zM606 142h2v2h-2zM612 142h2v2h-2zM628 142h4v2h-4zM634 142h2v2h-2zM592 144h4v2h-4zM630 144h2v2h-2zM634 144h4v2h-4zM596 146h2v2h-2zM630 146h6v2h-6zM634 148h2v2h-2zM638 148h2v2h-2zM592 150h2v2h-2zM636 150h2v2h-2zM634 152h2v2h-2zM638 152h2v2h-2zM634 158h2v2h-2zM636 160h2v2h-2zM630 162h2v2h-2zM634 162h2v2h-2zM636 164h4v2h-4zM632 168h2v2h-2zM634 172h4v2h-4zM634 174h2v2h-2zM632 180h2v2h-2zM634 188h2v2h-2zM626 190h6v2h-6zM626 192h2v2h-2zM624 194h2v2h-2zM628 194h2v2h-2zM620 196h2v2h-2zM624 196h2v2h-2zM622 198h10v2h-10zM622 200h6v2h-6zM616 204h2v2h-2zM622 204h2v2h-2zM620 208h2v2h-2zM618 210h8v2h-8zM614 214h6v2h-6zM616 216h4v2h-4zM610 218h2v2h-2zM616 218h2v2h-2zM620 218h2v2h-2zM614 220h2v2h-2zM594 222h2v2h-2zM606 222h2v2h-2zM604 224h4v2h-4zM594 226h10v2h-10zM592 228h2v2h-2zM596 228h2v2h-2zM594 230h2v2h-2z"/>
<path fill="#00c8a0" d="M624 132h4v2h-4zM622 134h2v2h-2zM612 136h2v2h-2zM616 136h2v2h-2zM620 136h2v2h-2zM624 136h2v2h-2zM604 138h4v2h-4zM614 138h8v2h-8zM624 138h4v2h-4zM598 140h2v2h-2zM604 140h2v2h-2zM608 140h6v2h-6zM620 140h2v2h-2zM630 140h2v2h-2zM596 142h2v2h-2zM610 142h2v2h-2zM616 142h4v2h-4zM624 142h4v2h-4zM632 142h2v2h-2zM596 144h4v2h-4zM604 144h2v2h-2zM608 144h2v2h-2zM618 144h2v2h-2zM622 144h2v2h-2zM632 144h2v2h-2zM592 146h2v2h-2zM598 146h8v2h-8zM628 146h2v2h-2zM592 148h6v2h-6zM632 148h2v2h-2zM624 150h2v2h-2zM632 150h2v2h-2zM630 152h4v2h-4zM630 154h2v2h-2zM634 154h2v2h-2zM632 156h2v2h-2zM632 158h2v2h-2zM632 160h4v2h-4zM632 162h2v2h-2zM632 164h4v2h-4zM632 166h4v2h-4zM632 170h4v2h-4zM632 172h2v2h-2zM630 174h2v2h-2zM632 176h2v2h-2zM630 178h4v2h-4zM630 180h2v2h-2zM628 182h4v2h-4zM628 184h4v2h-4zM628 186h4v2h-4zM622 188h2v2h-2zM628 188h2v2h-2zM624 192h2v2h-2zM622 194h2v2h-2zM626 194h2v2h-2zM630 194h2v2h-2zM622 196h2v2h-2zM618 198h4v2h-4zM614 200h2v2h-2zM618 200h4v2h-4zM612 202h2v2h-2zM616 202h6v2h-6zM620 204h2v2h-2zM616 206h6v2h-6zM612 208h2v2h-2zM616 212h2v2h-2zM612 216h2v2h-2zM608 218h2v2h-2zM606 220h2v2h-2zM610 220h2v2h-2zM602 222h2v2h-2zM600 224h2v2h-2zM592 226h2v2h-2z"/>
<path fill="#10c040" d="M616 134h2v2h-2zM618 136h2v2h-2zM616 140h4v2h-4zM622 140h2v2h-2zM626 140h2v2h-2zM600 142h2v2h-2zM604 142h2v2h-2zM608 142h2v2h-2zM614 142h2v2h-2zM620 142h4v2h-4zM600 144h4v2h-4zM610 144h4v2h-4zM616 144h2v2h-2zM624 144h6v2h-6zM594 146h2v2h-2zM606 146h2v2h-2zM614 146h2v2h-2zM624 146h4v2h-4zM598 148h4v2h-4zM608 148h2v2h-2zM618 148h4v2h-4zM626 148h6v2h-6zM594 150h4v2h-4zM602 150h2v2h-2zM626 150h6v2h-6zM594 152h4v2h-4zM626 152h4v2h-4zM626 154h2v2h-2zM632 154h2v2h-2zM626 156h2v2h-2zM630 156h2v2h-2zM634 156h2v2h-2zM630 158h2v2h-2zM630 160h2v2h-2zM630 164h2v2h-2zM630 166h2v2h-2zM632 174h2v2h-2zM630 176h2v2h-2zM626 180h4v2h-4zM626 182h2v2h-2zM626 184h2v2h-2zM624 186h4v2h-4zM626 188h2v2h-2zM622 190h4v2h-4zM618 192h2v2h-2zM622 192h2v2h-2zM618 194h2v2h-2zM616 196h4v2h-4zM616 198h2v2h-2zM614 202h2v2h-2zM622 202h2v2h-2zM610 204h2v2h-2zM618 204h2v2h-2zM606 206h2v2h-2zM612 206h4v2h-4zM610 208h2v2h-2zM614 208h6v2h-6zM612 210h4v2h-4zM606 212h2v2h-2zM614 212h2v2h-2zM606 214h4v2h-4zM612 214h2v2h-2zM606 216h6v2h-6zM614 216h2v2h-2zM598 218h2v2h-2zM602 218h6v2h-6zM602 220h2v2h-2zM596 222h4v2h-4zM604 222h2v2h-2zM594 224h6v2h-6z"/>
<path fill="#90dc00" d="M606 144h2v2h-2zM614 144h2v2h-2zM620 144h2v2h-2zM608 146h6v2h-6zM616 146h8v2h-8zM602 148h2v2h-2zM606 148h2v2h-2zM612 148h2v2h-2zM616 148h2v2h-2zM622 148h4v2h-4zM598 150h4v2h-4zM604 150h4v2h-4zM612 150h8v2h-8zM622 150h2v2h-2zM598 152h4v2h-4zM608 152h2v2h-2zM612 152h2v2h-2zM616 152h10v2h-10zM592 154h4v2h-4zM600 154h2v2h-2zM604 154h2v2h-2zM628 154h2v2h-2zM594 156h2v2h-2zM624 156h2v2h-2zM628 156h2v2h-2zM628 158h2v2h-2zM626 160h4v2h-4zM628 164h2v2h-2zM628 166h2v2h-2zM630 168h2v2h-2zM628 170h2v2h-2zM630 172h2v2h-2zM628 176h2v2h-2zM626 178h4v2h-4zM620 182h2v2h-2zM624 182h2v2h-2zM620 184h6v2h-6zM622 186h2v2h-2zM620 188h2v2h-2zM624 188h2v2h-2zM620 190h2v2h-2zM610 192h2v2h-2zM614 192h4v2h-4zM620 192h2v2h-2zM612 194h6v2h-6zM620 194h2v2h-2zM608 196h2v2h-2zM612 196h4v2h-4zM612 198h4v2h-4zM606 200h2v2h-2zM612 200h2v2h-2zM616 200h2v2h-2zM610 202h2v2h-2zM600 204h2v2h-2zM604 204h2v2h-2zM608 204h2v2h-2zM612 204h4v2h-4zM600 206h2v2h-2zM608 206h4v2h-4zM602 208h6v2h-6zM602 210h2v2h-2zM606 210h6v2h-6zM602 212h4v2h-4zM608 212h6v2h-6zM610 214h2v2h-2zM600 216h6v2h-6zM598 220h4v2h-4zM604 220h2v2h-2zM600 222h2v2h-2zM592 224h2v2h-2z"/>
<path fill="#f0f000" d="M604 148h2v2h-2zM610 148h2v2h-2zM614 148h2v2h-2zM608 150h2v2h-2zM620 150h2v2h-2zM602 152h4v2h-4zM610 152h2v2h-2zM614 152h2v2h-2zM596 154h4v2h-4zM602 154h2v2h-2zM612 154h2v2h-2zM618 154h4v2h-4zM624 154h2v2h-2zM596 156h6v2h-6zM592 158h2v2h-2zM626 158h2v2h-2zM624 162h2v2h-2zM628 162h2v2h-2zM628 168h2v2h-2zM630 170h2v2h-2zM628 172h2v2h-2zM628 174h2v2h-2zM622 182h2v2h-2zM618 184h2v2h-2zM612 186h2v2h-2zM618 186h2v2h-2zM614 188h6v2h-6zM608 190h12v2h-12zM606 192h2v2h-2zM612 192h2v2h-2zM606 194h2v2h-2zM598 196h2v2h-2zM610 196h2v2h-2zM604 198h2v2h-2zM608 198h2v2h-2zM592 200h2v2h-2zM600 200h2v2h-2zM604 200h2v2h-2zM610 200h2v2h-2zM600 202h2v2h-2zM604 202h2v2h-2zM608 202h2v2h-2zM602 204h2v2h-2zM606 204h2v2h-2zM604 206h2v2h-2zM598 208h4v2h-4zM608 208h2v2h-2zM604 210h2v2h-2zM600 212h2v2h-2zM600 214h6v2h-6zM596 218h2v2h-2zM600 218h2v2h-2zM592 220h2v2h-2zM592 222h2v2h-2z"/>
<path fill="#ffc000" d="M610 150h2v2h-2zM592 152h2v2h-2zM606 152h2v2h-2zM606 154h2v2h-2zM610 154h2v2h-2zM616 154h2v2h-2zM622 154h2v2h-2zM592 156h2v2h-2zM602 156h2v2h-2zM606 156h2v2h-2zM610 156h2v2h-2zM618 156h2v2h-2zM622 156h2v2h-2zM594 158h6v2h-6zM612 158h2v2h-2zM620 158h6v2h-6zM594 160h2v2h-2zM624 160h2v2h-2zM622 162h2v2h-2zM622 164h6v2h-6zM626 166h2v2h-2zM626 168h2v2h-2zM626 170h2v2h-2zM624 172h4v2h-4zM616 174h2v2h-2zM626 174h2v2h-2zM624 176h4v2h-4zM624 178h2v2h-2zM618 180h8v2h-8zM600 182h2v2h-2zM612 182h4v2h-4zM618 182h2v2h-2zM592 184h2v2h-2zM614 184h2v2h-2zM598 186h2v2h-2zM610 186h2v2h-2zM616 186h2v2h-2zM620 186h2v2h-2zM594 188h4v2h-4zM602 188h2v2h-2zM608 188h6v2h-6zM592 190h4v2h-4zM600 190h4v2h-4zM606 190h2v2h-2zM596 192h4v2h-4zM602 192h4v2h-4zM608 192h2v2h-2zM592 194h2v2h-2zM596 194h2v2h-2zM602 194h2v2h-2zM608 194h4v2h-4zM594 196h4v2h-4zM600 196h6v2h-6zM594 198h10v2h-10zM606 198h2v2h-2zM610 198h2v2h-2zM596 200h4v2h-4zM602 200h2v2h-2zM608 200h2v2h-2zM592 202h2v2h-2zM596 202h4v2h-4zM602 202h2v2h-2zM606 202h2v2h-2zM592 204h8v2h-8zM598 206h2v2h-2zM602 206h2v2h-2zM596 210h2v2h-2zM600 210h2v2h-2zM598 216h2v2h-2zM594 220h4v2h-4z"/>
<path fill="#ff7800" d="M608 154h2v2h-2zM614 154h2v2h-2zM608 156h2v2h-2zM612 156h6v2h-6zM620 156h2v2h-2zM600 158h8v2h-8zM610 158h2v2h-2zM592 160h2v2h-2zM596 160h10v2h-10zM610 160h4v2h-4zM622 160h2v2h-2zM592 162h4v2h-4zM598 162h2v2h-2zM604 162h4v2h-4zM620 162h2v2h-2zM626 162h2v2h-2zM608 164h2v2h-2zM612 164h2v2h-2zM616 164h2v2h-2zM594 166h8v2h-8zM612 166h2v2h-2zM618 166h2v2h-2zM624 166h2v2h-2zM592 168h2v2h-2zM606 168h2v2h-2zM612 168h2v2h-2zM592 172h2v2h-2zM598 172h2v2h-2zM604 172h4v2h-4zM620 172h2v2h-2zM600 174h2v2h-2zM606 174h2v2h-2zM618 174h2v2h-2zM624 174h2v2h-2zM596 176h2v2h-2zM606 176h2v2h-2zM612 176h2v2h-2zM620 178h4v2h-4zM592 180h2v2h-2zM602 180h2v2h-2zM608 180h6v2h-6zM616 180h2v2h-2zM592 182h8v2h-8zM604 182h2v2h-2zM608 182h2v2h-2zM616 182h2v2h-2zM594 184h6v2h-6zM602 184h2v2h-2zM606 184h4v2h-4zM612 184h2v2h-2zM616 184h2v2h-2zM592 186h4v2h-4zM604 186h2v2h-2zM592 188h2v2h-2zM598 188h2v2h-2zM604 188h4v2h-4zM596 190h4v2h-4zM604 190h2v2h-2zM592 192h4v2h-4zM600 192h2v2h-2zM594 194h2v2h-2zM598 194h4v2h-4zM604 194h2v2h-2zM592 196h2v2h-2zM606 196h2v2h-2zM592 198h2v2h-2zM594 200h2v2h-2zM594 202h2v2h-2zM596 206h2v2h-2zM596 208h2v2h-2zM594 210h2v2h-2zM598 210h2v2h-2zM592 212h2v2h-2zM598 212h2v2h-2zM596 214h4v2h-4zM594 216h4v2h-4zM592 218h4v2h-4z"/>
<path fill="#f42010" d="M604 156h2v2h-2zM608 158h2v2h-2zM614 158h6v2h-6zM606 160h4v2h-4zM614 160h8v2h-8zM596 162h2v2h-2zM600 162h4v2h-4zM608 162h12v2h-12zM592 164h16v2h-16zM610 164h2v2h-2zM614 164h2v2h-2zM618 164h4v2h-4zM592 166h2v2h-2zM602 166h10v2h-10zM614 166h4v2h-4zM620 166h4v2h-4zM594 168h12v2h-12zM608 168h4v2h-4zM614 168h12v2h-12zM592 170h34v2h-34zM594 172h4v2h-4zM600 172h4v2h-4zM608 172h12v2h-12zM622 172h2v2h-2zM592 174h8v2h-8zM602 174h4v2h-4zM608 174h8v2h-8zM620 174h4v2h-4zM592 176h4v2h-4zM598 176h8v2h-8zM608 176h4v2h-4zM614 176h10v2h-10zM592 178h28v2h-28zM594 180h8v2h-8zM604 180h4v2h-4zM614 180h2v2h-2zM602 182h2v2h-2zM606 182h2v2h-2zM610 182h2v2h-2zM600 184h2v2h-2zM604 184h2v2h-2zM610 184h2v2h-2zM596 186h2v2h-2zM600 186h4v2h-4zM606 186h4v2h-4zM614 186h2v2h-2zM600 188h2v2h-2zM592 206h4v2h-4zM592 208h4v2h-4zM592 210h2v2h-2zM594 212h4v2h-4zM592 214h4v2h-4zM592 216h2v2h-2z"/>
<path fill="#c0c0f0" d="M690.0 215.4h1.6v1.6h-1.6zM692.0 200.9h1.6v1.6h-1.6zM731.5 202.5h1.6v1.6h-1.6zM710.2 208.5h1.6v1.6h-1.6zM720.6 184.9h1.6v1.6h-1.6zM716.5 170.5h1.6v1.6h-1.6zM669.9 192.0h1.6v1.6h-1.6zM721.6 169.3h1.6v1.6h-1.6zM698.4 196.9h1.6v1.6h-1.6zM737.9 151.9h1.6v1.6h-1.6zM712.5 168.3h1.6v1.6h-1.6zM690.3 185.3h1.6v1.6h-1.6zM713.9 188.1h1.6v1.6h-1.6zM689.3 158.4h1.6v1.6h-1.6zM705.6 173.8h1.6v1.6h-1.6zM727.5 163.5h1.6v1.6h-1.6zM719.5 183.4h1.6v1.6h-1.6zM738.5 167.5h1.6v1.6h-1.6zM711.7 170.6h1.6v1.6h-1.6zM694.3 177.7h1.6v1.6h-1.6zM665.6 189.6h1.6v1.6h-1.6zM689.0 218.8h1.6v1.6h-1.6zM712.8 186.7h1.6v1.6h-1.6zM717.1 175.1h1.6v1.6h-1.6zM720.2 153.1h1.6v1.6h-1.6zM681.4 177.2h1.6v1.6h-1.6zM716.7 195.6h1.6v1.6h-1.6zM689.5 193.7h1.6v1.6h-1.6zM701.1 194.2h1.6v1.6h-1.6zM683.5 236.7h1.6v1.6h-1.6zM700.0 153.1h1.6v1.6h-1.6zM683.2 183.1h1.6v1.6h-1.6zM705.9 187.9h1.6v1.6h-1.6zM717.3 183.8h1.6v1.6h-1.6zM698.3 164.8h1.6v1.6h-1.6zM680.4 200.0h1.6v1.6h-1.6zM722.7 153.5h1.6v1.6h-1.6zM710.1 164.6h1.6v1.6h-1.6zM715.7 180.0h1.6v1.6h-1.6zM694.2 194.1h1.6v1.6h-1.6zM688.4 219.5h1.6v1.6h-1.6zM682.1 212.9h1.6v1.6h-1.6zM715.2 203.7h1.6v1.6h-1.6zM697.6 170.0h1.6v1.6h-1.6zM695.7 197.3h1.6v1.6h-1.6zM719.4 139.0h1.6v1.6h-1.6zM691.1 157.5h1.6v1.6h-1.6zM705.6 151.0h1.6v1.6h-1.6zM725.8 178.1h1.6v1.6h-1.6zM687.1 199.7h1.6v1.6h-1.6zM703.0 148.0h1.6v1.6h-1.6zM724.1 191.8h1.6v1.6h-1.6zM691.6 211.9h1.6v1.6h-1.6zM713.3 169.6h1.6v1.6h-1.6zM718.6 163.9h1.6v1.6h-1.6zM719.3 168.0h1.6v1.6h-1.6zM708.1 152.1h1.6v1.6h-1.6zM703.4 230.8h1.6v1.6h-1.6zM694.0 179.7h1.6v1.6h-1.6zM691.8 187.3h1.6v1.6h-1.6zM700.5 177.2h1.6v1.6h-1.6zM697.9 172.2h1.6v1.6h-1.6zM712.6 154.9h1.6v1.6h-1.6zM719.1 175.4h1.6v1.6h-1.6zM676.2 178.5h1.6v1.6h-1.6zM707.4 156.3h1.6v1.6h-1.6zM722.0 149.0h1.6v1.6h-1.6zM716.4 187.5h1.6v1.6h-1.6zM667.3 191.0h1.6v1.6h-1.6zM681.8 178.8h1.6v1.6h-1.6zM703.3 188.5h1.6v1.6h-1.6zM663.9 190.9h1.6v1.6h-1.6zM697.2 179.8h1.6v1.6h-1.6zM690.6 210.8h1.6v1.6h-1.6zM720.5 175.7h1.6v1.6h-1.6zM714.8 172.6h1.6v1.6h-1.6zM717.3 201.7h1.6v1.6h-1.6zM677.4 194.5h1.6v1.6h-1.6zM701.5 170.3h1.6v1.6h-1.6zM674.0 169.3h1.6v1.6h-1.6zM691.6 192.0h1.6v1.6h-1.6zM728.1 173.9h1.6v1.6h-1.6zM683.2 184.3h1.6v1.6h-1.6zM699.1 224.4h1.6v1.6h-1.6zM726.7 183.2h1.6v1.6h-1.6zM742.4 168.0h1.6v1.6h-1.6zM717.6 144.3h1.6v1.6h-1.6zM719.0 174.4h1.6v1.6h-1.6zM741.9 156.8h1.6v1.6h-1.6zM675.8 161.8h1.6v1.6h-1.6zM739.3 150.8h1.6v1.6h-1.6zM735.7 149.2h1.6v1.6h-1.6zM679.2 165.3h1.6v1.6h-1.6zM714.9 182.0h1.6v1.6h-1.6zM702.3 225.2h1.6v1.6h-1.6zM693.3 205.6h1.6v1.6h-1.6zM703.6 163.4h1.6v1.6h-1.6zM680.6 195.1h1.6v1.6h-1.6zM718.1 192.6h1.6v1.6h-1.6zM702.1 165.1h1.6v1.6h-1.6zM708.9 184.2h1.6v1.6h-1.6zM719.7 168.4h1.6v1.6h-1.6zM737.7 156.4h1.6v1.6h-1.6zM723.3 199.5h1.6v1.6h-1.6zM704.4 148.7h1.6v1.6h-1.6zM740.5 174.9h1.6v1.6h-1.6zM698.3 191.4h1.6v1.6h-1.6zM691.0 190.0h1.6v1.6h-1.6zM645.1 195.6h1.6v1.6h-1.6zM713.7 179.3h1.6v1.6h-1.6z"/>
<path fill="#3a5af0" d="M695.2 182.0h1.8v1.8h-1.8zM663.7 200.9h1.8v1.8h-1.8zM688.3 195.3h1.8v1.8h-1.8zM693.1 197.2h1.8v1.8h-1.8zM695.8 196.2h1.8v1.8h-1.8zM699.6 191.8h1.8v1.8h-1.8zM687.2 182.0h1.8v1.8h-1.8zM720.2 167.9h1.8v1.8h-1.8zM713.0 170.3h1.8v1.8h-1.8zM698.9 179.1h1.8v1.8h-1.8zM729.2 182.4h1.8v1.8h-1.8zM726.4 162.3h1.8v1.8h-1.8zM709.4 178.8h1.8v1.8h-1.8zM687.1 192.7h1.8v1.8h-1.8zM709.9 182.0h1.8v1.8h-1.8zM723.5 174.6h1.8v1.8h-1.8zM690.8 189.8h1.8v1.8h-1.8zM702.7 181.9h1.8v1.8h-1.8zM711.4 171.1h1.8v1.8h-1.8zM711.7 166.0h1.8v1.8h-1.8zM711.5 173.2h1.8v1.8h-1.8zM708.5 180.3h1.8v1.8h-1.8zM701.5 183.4h1.8v1.8h-1.8zM695.7 186.0h1.8v1.8h-1.8zM706.1 163.4h1.8v1.8h-1.8zM714.5 175.1h1.8v1.8h-1.8zM698.3 187.3h1.8v1.8h-1.8zM701.8 196.0h1.8v1.8h-1.8zM714.0 167.1h1.8v1.8h-1.8zM708.1 165.8h1.8v1.8h-1.8z"/>
<path fill="#1212b0" d="M686.4 195.7h2.0v2.0h-2.0zM696.6 185.8h2.0v2.0h-2.0zM702.8 183.4h2.0v2.0h-2.0zM702.0 176.9h2.0v2.0h-2.0zM688.0 191.7h2.0v2.0h-2.0zM695.4 183.1h2.0v2.0h-2.0zM712.5 176.4h2.0v2.0h-2.0zM705.5 184.4h2.0v2.0h-2.0zM702.4 187.6h2.0v2.0h-2.0zM693.4 177.3h2.0v2.0h-2.0zM694.9 199.9h2.0v2.0h-2.0zM690.2 191.2h2.0v2.0h-2.0zM697.9 185.4h2.0v2.0h-2.0zM712.9 173.3h2.0v2.0h-2.0zM712.2 173.7h2.0v2.0h-2.0zM705.4 188.0h2.0v2.0h-2.0zM708.4 178.2h2.0v2.0h-2.0zM707.2 180.3h2.0v2.0h-2.0zM715.5 177.5h2.0v2.0h-2.0zM701.0 192.1h2.0v2.0h-2.0zM701.7 176.3h2.0v2.0h-2.0zM706.8 170.7h2.0v2.0h-2.0zM685.9 183.7h2.0v2.0h-2.0zM696.1 175.3h2.0v2.0h-2.0zM705.9 181.5h2.0v2.0h-2.0zM706.6 179.5h2.0v2.0h-2.0zM707.1 178.3h2.0v2.0h-2.0zM708.9 179.2h2.0v2.0h-2.0zM712.3 176.1h2.0v2.0h-2.0zM718.4 176.8h2.0v2.0h-2.0zM711.5 185.9h2.0v2.0h-2.0zM718.9 163.4h2.0v2.0h-2.0zM703.7 191.1h2.0v2.0h-2.0zM704.7 187.5h2.0v2.0h-2.0zM703.2 176.7h2.0v2.0h-2.0zM697.0 188.3h2.0v2.0h-2.0zM689.2 190.8h2.0v2.0h-2.0zM686.5 184.9h2.0v2.0h-2.0zM713.0 174.0h2.0v2.0h-2.0zM692.3 180.5h2.0v2.0h-2.0zM691.9 191.7h2.0v2.0h-2.0zM715.6 164.7h2.0v2.0h-2.0zM705.1 178.2h2.0v2.0h-2.0zM707.2 183.8h2.0v2.0h-2.0zM695.3 189.3h2.0v2.0h-2.0zM702.7 177.1h2.0v2.0h-2.0zM699.4 186.6h2.0v2.0h-2.0zM707.3 183.0h2.0v2.0h-2.0z"/>
<path d="M591.5 45.7V252.5" stroke="#3a3a3a" stroke-width="1.5" fill="none"/>
<path d="M590.6 252.5H797" stroke="#3c4a80" stroke-width="1.8" fill="none"/>
<rect x="673.4" y="116" width="79.1" height="107" fill="none" stroke="#e0505a" stroke-width="1.3"/>
<text x="584.0" y="49.6" font-size="8.3" text-anchor="end" font-weight="bold" fill="#222">4.3 x10</text>
<text x="584.0" y="44.6" font-size="5.5" font-weight="bold" fill="#222">9</text>
<text x="584.0" y="101.6" font-size="8.3" text-anchor="end" font-weight="bold" fill="#222">3.2 x10</text>
<text x="584.0" y="96.6" font-size="5.5" font-weight="bold" fill="#222">9</text>
<text x="584.0" y="148" font-size="8.3" text-anchor="end" font-weight="bold" fill="#222">2.1 x10</text>
<text x="584.0" y="143" font-size="5.5" font-weight="bold" fill="#222">9</text>
<text x="584.0" y="205" font-size="8.3" text-anchor="end" font-weight="bold" fill="#222">1.1 x10</text>
<text x="584.0" y="200" font-size="5.5" font-weight="bold" fill="#222">9</text>
<text x="588.5" y="257" font-size="8.3" text-anchor="end" font-weight="bold" fill="#222">0</text>
<text x="604.5" y="268.5" font-size="8.3" text-anchor="middle" font-weight="bold" fill="#222">10</text>
<text x="609.4" y="263.5" font-size="5.5" font-weight="bold" fill="#222">1</text>
<text x="647.5" y="268.5" font-size="8.3" text-anchor="middle" font-weight="bold" fill="#222">10</text>
<text x="652.4" y="263.5" font-size="5.5" font-weight="bold" fill="#222">2</text>
<text x="696.5" y="268.5" font-size="8.3" text-anchor="middle" font-weight="bold" fill="#222">10</text>
<text x="701.4" y="263.5" font-size="5.5" font-weight="bold" fill="#222">3</text>
<text x="745.5" y="268.5" font-size="8.3" text-anchor="middle" font-weight="bold" fill="#222">10</text>
<text x="750.4" y="263.5" font-size="5.5" font-weight="bold" fill="#222">4</text>
<text x="794.5" y="268.5" font-size="8.3" text-anchor="middle" font-weight="bold" fill="#222">10</text>
<text x="799.4" y="263.5" font-size="5.5" font-weight="bold" fill="#222">5</text>
<text x="705" y="293" font-size="20" text-anchor="middle">CD45</text>
<text x="687.4" y="107.7" font-size="20">CD45<tspan dy="-7.5" font-size="11">+</tspan></text>
<text transform="translate(552,149) rotate(-90)" font-size="20" text-anchor="middle" fill="#111">FSC</text>
<path fill="#c0c0f0" d="M903.7 184.4h1.6v1.6h-1.6zM891.9 206.2h1.6v1.6h-1.6zM924.1 151.7h1.6v1.6h-1.6zM884.7 198.0h1.6v1.6h-1.6zM967.8 131.0h1.6v1.6h-1.6zM927.5 143.1h1.6v1.6h-1.6zM901.9 179.2h1.6v1.6h-1.6zM936.7 169.2h1.6v1.6h-1.6zM956.5 139.0h1.6v1.6h-1.6zM978.0 101.8h1.6v1.6h-1.6zM892.8 197.2h1.6v1.6h-1.6zM944.0 152.8h1.6v1.6h-1.6zM923.3 158.4h1.6v1.6h-1.6zM908.1 181.6h1.6v1.6h-1.6zM942.8 150.2h1.6v1.6h-1.6zM927.2 162.8h1.6v1.6h-1.6zM948.2 156.5h1.6v1.6h-1.6zM902.7 188.0h1.6v1.6h-1.6zM914.0 174.1h1.6v1.6h-1.6zM925.4 166.4h1.6v1.6h-1.6zM913.4 172.5h1.6v1.6h-1.6zM911.2 170.4h1.6v1.6h-1.6zM895.2 192.1h1.6v1.6h-1.6zM914.7 168.6h1.6v1.6h-1.6zM928.5 179.5h1.6v1.6h-1.6zM924.0 186.9h1.6v1.6h-1.6zM912.6 173.4h1.6v1.6h-1.6zM917.8 144.3h1.6v1.6h-1.6zM897.3 188.9h1.6v1.6h-1.6zM935.0 161.5h1.6v1.6h-1.6zM908.1 175.5h1.6v1.6h-1.6zM919.7 177.0h1.6v1.6h-1.6zM913.5 182.7h1.6v1.6h-1.6zM933.5 150.2h1.6v1.6h-1.6zM932.0 155.4h1.6v1.6h-1.6zM910.2 169.9h1.6v1.6h-1.6zM902.3 183.4h1.6v1.6h-1.6zM954.1 124.8h1.6v1.6h-1.6zM925.3 159.4h1.6v1.6h-1.6zM894.7 209.8h1.6v1.6h-1.6zM913.3 173.5h1.6v1.6h-1.6zM917.7 183.1h1.6v1.6h-1.6zM933.9 159.2h1.6v1.6h-1.6zM902.1 173.0h1.6v1.6h-1.6zM896.7 192.3h1.6v1.6h-1.6zM944.9 140.5h1.6v1.6h-1.6zM861.0 216.8h1.6v1.6h-1.6zM878.7 206.7h1.6v1.6h-1.6zM908.4 193.6h1.6v1.6h-1.6zM908.6 193.4h1.6v1.6h-1.6zM909.9 176.0h1.6v1.6h-1.6zM911.2 171.7h1.6v1.6h-1.6zM938.8 150.8h1.6v1.6h-1.6zM880.1 213.2h1.6v1.6h-1.6zM993.2 109.7h1.6v1.6h-1.6zM926.8 157.4h1.6v1.6h-1.6zM891.7 188.9h1.6v1.6h-1.6zM901.0 188.4h1.6v1.6h-1.6zM893.5 176.8h1.6v1.6h-1.6zM860.7 228.0h1.6v1.6h-1.6zM926.7 167.4h1.6v1.6h-1.6zM878.8 192.3h1.6v1.6h-1.6zM906.3 192.4h1.6v1.6h-1.6zM885.5 198.2h1.6v1.6h-1.6zM899.6 188.3h1.6v1.6h-1.6zM914.1 173.0h1.6v1.6h-1.6zM883.3 205.1h1.6v1.6h-1.6zM951.2 138.3h1.6v1.6h-1.6zM881.3 202.6h1.6v1.6h-1.6zM893.1 177.1h1.6v1.6h-1.6zM918.6 179.8h1.6v1.6h-1.6zM929.2 159.4h1.6v1.6h-1.6zM922.6 172.5h1.6v1.6h-1.6zM916.9 175.4h1.6v1.6h-1.6zM932.6 169.3h1.6v1.6h-1.6zM923.5 166.1h1.6v1.6h-1.6zM888.7 195.9h1.6v1.6h-1.6zM941.9 174.7h1.6v1.6h-1.6zM906.4 198.4h1.6v1.6h-1.6zM891.2 207.3h1.6v1.6h-1.6zM918.1 183.6h1.6v1.6h-1.6zM909.2 194.6h1.6v1.6h-1.6zM909.7 159.3h1.6v1.6h-1.6zM918.6 165.9h1.6v1.6h-1.6zM900.5 191.0h1.6v1.6h-1.6zM924.8 171.2h1.6v1.6h-1.6zM909.5 174.0h1.6v1.6h-1.6zM875.7 215.7h1.6v1.6h-1.6zM946.1 133.5h1.6v1.6h-1.6zM912.5 174.6h1.6v1.6h-1.6z"/>
<path fill="#3a5af0" d="M858.3 227.6h1.8v1.8h-1.8zM889.5 175.0h1.8v1.8h-1.8zM957.5 130.5h1.8v1.8h-1.8zM882.8 213.1h1.8v1.8h-1.8zM925.5 152.1h1.8v1.8h-1.8zM872.4 205.3h1.8v1.8h-1.8zM881.0 200.7h1.8v1.8h-1.8zM980.7 113.3h1.8v1.8h-1.8zM885.9 195.4h1.8v1.8h-1.8zM914.9 182.4h1.8v1.8h-1.8z"/>
<path fill="#1212b0" d="M932.9 165.4h2.0v2.0h-2.0zM873.2 212.2h2.0v2.0h-2.0zM888.7 208.6h2.0v2.0h-2.0zM915.0 180.0h2.0v2.0h-2.0zM895.0 195.5h2.0v2.0h-2.0zM935.2 162.4h2.0v2.0h-2.0z"/>
<path fill="#c8c8f0" d="M888 194h2v1.6h-2zM894 196h2v1.6h-2zM898 196h2v1.6h-2zM902 202h2v1.6h-2zM904 234h2v1.6h-2zM892 244h2v1.6h-2z"/>
<path fill="#1010b4" d="M850 190h2v2h-2zM852 194h2v2h-2zM862 200h2v2h-2zM868 200h2v2h-2zM872 200h2v2h-2zM880 200h2v2h-2zM888 200h2v2h-2zM862 202h2v2h-2zM868 202h2v2h-2zM872 202h2v2h-2zM888 204h2v2h-2zM884 206h2v2h-2zM900 206h2v2h-2zM892 210h2v2h-2zM896 210h2v2h-2zM896 212h2v2h-2zM892 216h2v2h-2zM894 218h2v2h-2zM892 224h2v2h-2zM892 226h2v2h-2zM894 228h2v2h-2zM892 230h2v2h-2zM892 232h4v2h-4zM892 236h2v2h-2zM884 244h4v2h-4zM884 248h4v2h-4zM884 250h2v2h-2z"/>
<path fill="#1424dc" d="M880 202h2v2h-2zM852 204h2v2h-2zM864 204h2v2h-2zM870 204h2v2h-2zM874 204h12v2h-12zM858 206h2v2h-2zM862 206h2v2h-2zM872 206h4v2h-4zM882 206h2v2h-2zM844 208h6v2h-6zM886 208h2v2h-2zM890 208h2v2h-2zM886 210h2v2h-2zM888 212h2v2h-2zM886 214h2v2h-2zM892 220h4v2h-4zM890 226h2v2h-2zM888 228h2v2h-2zM894 230h2v2h-2zM888 234h2v2h-2zM888 236h2v2h-2zM884 238h2v2h-2zM886 240h2v2h-2zM884 242h4v2h-4zM884 246h2v2h-2zM878 248h6v2h-6zM880 250h4v2h-4z"/>
<path fill="#0a50f0" d="M860 204h4v2h-4zM866 204h2v2h-2zM872 204h2v2h-2zM850 206h8v2h-8zM860 206h2v2h-2zM880 206h2v2h-2zM850 208h2v2h-2zM854 208h6v2h-6zM884 208h2v2h-2zM888 208h2v2h-2zM842 210h6v2h-6zM850 210h4v2h-4zM888 210h2v2h-2zM842 212h4v2h-4zM848 212h2v2h-2zM886 212h2v2h-2zM890 212h2v2h-2zM888 214h6v2h-6zM888 216h4v2h-4zM888 218h6v2h-6zM888 220h4v2h-4zM890 222h2v2h-2zM886 224h2v2h-2zM890 224h2v2h-2zM888 226h2v2h-2zM890 228h4v2h-4zM888 230h2v2h-2zM888 232h2v2h-2zM884 234h4v2h-4zM884 236h4v2h-4zM886 238h4v2h-4zM884 240h2v2h-2zM882 242h2v2h-2zM880 244h4v2h-4zM882 246h2v2h-2zM878 250h2v2h-2z"/>
<path fill="#00b4f0" d="M868 204h2v2h-2zM864 206h2v2h-2zM868 206h4v2h-4zM876 206h4v2h-4zM852 208h2v2h-2zM870 208h2v2h-2zM874 208h4v2h-4zM880 208h4v2h-4zM848 210h2v2h-2zM856 210h2v2h-2zM868 210h2v2h-2zM876 210h2v2h-2zM880 210h6v2h-6zM846 212h2v2h-2zM884 212h2v2h-2zM842 214h4v2h-4zM848 214h2v2h-2zM884 214h2v2h-2zM842 216h2v2h-2zM884 216h4v2h-4zM884 218h4v2h-4zM886 222h4v2h-4zM888 224h2v2h-2zM886 226h2v2h-2zM884 228h4v2h-4zM886 230h2v2h-2zM884 232h4v2h-4zM882 240h2v2h-2zM878 242h2v2h-2zM874 246h8v2h-8zM874 248h2v2h-2z"/>
<path fill="#00c8a0" d="M866 206h2v2h-2zM860 208h2v2h-2zM864 208h6v2h-6zM872 208h2v2h-2zM878 208h2v2h-2zM854 210h2v2h-2zM858 210h6v2h-6zM866 210h2v2h-2zM874 210h2v2h-2zM850 212h4v2h-4zM862 212h2v2h-2zM870 212h6v2h-6zM878 212h4v2h-4zM846 214h2v2h-2zM850 214h4v2h-4zM882 214h2v2h-2zM844 216h4v2h-4zM880 216h4v2h-4zM842 218h4v2h-4zM882 220h2v2h-2zM886 220h2v2h-2zM884 222h2v2h-2zM884 224h2v2h-2zM882 228h2v2h-2zM882 232h2v2h-2zM880 234h4v2h-4zM880 236h4v2h-4zM880 238h4v2h-4zM880 240h2v2h-2zM880 242h2v2h-2zM876 244h4v2h-4zM876 248h2v2h-2zM872 250h6v2h-6z"/>
<path fill="#10c040" d="M862 208h2v2h-2zM864 210h2v2h-2zM870 210h4v2h-4zM878 210h2v2h-2zM854 212h8v2h-8zM864 212h2v2h-2zM868 212h2v2h-2zM876 212h2v2h-2zM882 212h2v2h-2zM856 214h4v2h-4zM862 214h4v2h-4zM880 214h2v2h-2zM848 216h2v2h-2zM846 218h2v2h-2zM882 218h2v2h-2zM842 220h2v2h-2zM846 220h2v2h-2zM878 220h2v2h-2zM884 220h2v2h-2zM842 222h4v2h-4zM882 222h2v2h-2zM884 226h2v2h-2zM880 230h6v2h-6zM880 232h2v2h-2zM878 234h2v2h-2zM878 238h2v2h-2zM874 240h2v2h-2zM878 240h2v2h-2zM876 242h2v2h-2zM874 244h2v2h-2zM870 246h4v2h-4zM872 248h2v2h-2zM870 250h2v2h-2z"/>
<path fill="#90dc00" d="M866 212h2v2h-2zM854 214h2v2h-2zM860 214h2v2h-2zM868 214h2v2h-2zM872 214h2v2h-2zM876 214h4v2h-4zM850 216h6v2h-6zM860 216h2v2h-2zM874 216h2v2h-2zM878 216h2v2h-2zM848 218h6v2h-6zM876 218h2v2h-2zM844 220h2v2h-2zM880 220h2v2h-2zM880 222h2v2h-2zM880 224h4v2h-4zM880 226h2v2h-2zM880 228h2v2h-2zM878 232h2v2h-2zM876 234h2v2h-2zM876 236h4v2h-4zM872 238h2v2h-2zM876 238h2v2h-2zM872 240h2v2h-2zM872 242h4v2h-4zM872 244h2v2h-2zM862 248h2v2h-2zM868 248h4v2h-4zM868 250h2v2h-2z"/>
<path fill="#f0f000" d="M866 214h2v2h-2zM870 214h2v2h-2zM874 214h2v2h-2zM856 216h4v2h-4zM866 216h2v2h-2zM870 216h2v2h-2zM876 216h2v2h-2zM854 218h2v2h-2zM858 218h2v2h-2zM878 218h4v2h-4zM848 220h2v2h-2zM874 220h2v2h-2zM846 222h2v2h-2zM856 222h2v2h-2zM874 222h6v2h-6zM842 224h2v2h-2zM876 224h2v2h-2zM878 226h2v2h-2zM882 226h2v2h-2zM876 228h4v2h-4zM874 230h2v2h-2zM878 230h2v2h-2zM876 232h2v2h-2zM874 234h2v2h-2zM874 238h2v2h-2zM870 240h2v2h-2zM876 240h2v2h-2zM870 244h2v2h-2zM868 246h2v2h-2zM864 248h4v2h-4zM852 250h2v2h-2zM858 250h2v2h-2zM862 250h6v2h-6z"/>
<path fill="#ffc000" d="M862 216h4v2h-4zM868 216h2v2h-2zM872 216h2v2h-2zM856 218h2v2h-2zM866 218h10v2h-10zM850 220h8v2h-8zM864 220h2v2h-2zM868 220h2v2h-2zM876 220h2v2h-2zM848 222h2v2h-2zM852 222h2v2h-2zM844 224h6v2h-6zM874 224h2v2h-2zM878 224h2v2h-2zM842 226h4v2h-4zM850 226h2v2h-2zM876 226h2v2h-2zM844 230h4v2h-4zM876 230h2v2h-2zM872 232h4v2h-4zM872 234h2v2h-2zM870 236h6v2h-6zM870 238h2v2h-2zM864 242h8v2h-8zM860 244h2v2h-2zM866 244h4v2h-4zM862 246h6v2h-6zM858 248h2v2h-2zM854 250h4v2h-4zM860 250h2v2h-2z"/>
<path fill="#ff7800" d="M860 218h6v2h-6zM866 220h2v2h-2zM872 220h2v2h-2zM850 222h2v2h-2zM854 222h2v2h-2zM860 222h2v2h-2zM872 222h2v2h-2zM850 224h2v2h-2zM854 224h2v2h-2zM846 226h4v2h-4zM854 226h2v2h-2zM858 226h2v2h-2zM864 226h2v2h-2zM868 226h2v2h-2zM844 228h2v2h-2zM848 228h2v2h-2zM860 228h2v2h-2zM872 228h4v2h-4zM842 230h2v2h-2zM848 230h4v2h-4zM856 230h2v2h-2zM872 230h2v2h-2zM842 232h6v2h-6zM858 232h2v2h-2zM842 234h4v2h-4zM860 234h2v2h-2zM864 236h6v2h-6zM854 238h2v2h-2zM860 238h2v2h-2zM864 238h6v2h-6zM844 240h2v2h-2zM868 240h2v2h-2zM842 242h2v2h-2zM846 242h2v2h-2zM854 242h2v2h-2zM862 242h2v2h-2zM856 244h2v2h-2zM862 244h2v2h-2zM844 246h2v2h-2zM852 246h10v2h-10zM842 248h2v2h-2zM850 248h2v2h-2zM854 248h4v2h-4zM860 248h2v2h-2zM846 250h6v2h-6z"/>
<path fill="#f42010" d="M858 220h6v2h-6zM870 220h2v2h-2zM858 222h2v2h-2zM862 222h10v2h-10zM852 224h2v2h-2zM856 224h18v2h-18zM852 226h2v2h-2zM856 226h2v2h-2zM860 226h4v2h-4zM866 226h2v2h-2zM870 226h6v2h-6zM842 228h2v2h-2zM846 228h2v2h-2zM850 228h10v2h-10zM862 228h10v2h-10zM852 230h4v2h-4zM858 230h14v2h-14zM848 232h10v2h-10zM860 232h12v2h-12zM846 234h14v2h-14zM862 234h10v2h-10zM842 236h22v2h-22zM842 238h12v2h-12zM856 238h4v2h-4zM862 238h2v2h-2zM842 240h2v2h-2zM846 240h22v2h-22zM844 242h2v2h-2zM848 242h6v2h-6zM856 242h6v2h-6zM842 244h14v2h-14zM858 244h2v2h-2zM864 244h2v2h-2zM842 246h2v2h-2zM846 246h6v2h-6zM844 248h6v2h-6zM852 248h2v2h-2zM842 250h4v2h-4z"/>
<path fill="#c0c0f0" d="M976.9 86.2h1.6v1.6h-1.6zM972.6 115.6h1.6v1.6h-1.6zM949.8 129.7h1.6v1.6h-1.6zM936.2 146.8h1.6v1.6h-1.6zM916.1 153.0h1.6v1.6h-1.6zM963.6 120.0h1.6v1.6h-1.6zM941.1 132.1h1.6v1.6h-1.6zM949.0 143.6h1.6v1.6h-1.6zM957.8 124.3h1.6v1.6h-1.6zM952.4 110.7h1.6v1.6h-1.6zM912.5 166.1h1.6v1.6h-1.6zM983.0 100.9h1.6v1.6h-1.6zM915.6 158.3h1.6v1.6h-1.6zM995.3 72.6h1.6v1.6h-1.6zM981.5 114.2h1.6v1.6h-1.6zM947.1 123.6h1.6v1.6h-1.6zM1001.5 102.6h1.6v1.6h-1.6zM958.5 114.2h1.6v1.6h-1.6zM977.6 105.3h1.6v1.6h-1.6zM964.1 116.5h1.6v1.6h-1.6zM987.4 98.0h1.6v1.6h-1.6zM1001.6 115.4h1.6v1.6h-1.6zM938.8 133.9h1.6v1.6h-1.6zM960.8 145.1h1.6v1.6h-1.6zM973.4 116.3h1.6v1.6h-1.6zM953.1 118.6h1.6v1.6h-1.6zM918.6 173.3h1.6v1.6h-1.6zM1012.2 84.0h1.6v1.6h-1.6zM919.3 169.0h1.6v1.6h-1.6zM907.6 151.9h1.6v1.6h-1.6zM936.6 148.0h1.6v1.6h-1.6zM972.2 105.0h1.6v1.6h-1.6zM1001.2 82.0h1.6v1.6h-1.6zM956.0 122.8h1.6v1.6h-1.6zM953.5 127.1h1.6v1.6h-1.6zM975.5 126.1h1.6v1.6h-1.6zM956.1 128.9h1.6v1.6h-1.6zM952.7 105.0h1.6v1.6h-1.6zM944.1 150.2h1.6v1.6h-1.6zM972.3 110.8h1.6v1.6h-1.6zM971.5 112.0h1.6v1.6h-1.6zM896.7 155.7h1.6v1.6h-1.6zM961.9 123.9h1.6v1.6h-1.6zM962.6 112.4h1.6v1.6h-1.6zM980.3 114.1h1.6v1.6h-1.6zM946.6 138.4h1.6v1.6h-1.6zM937.4 151.2h1.6v1.6h-1.6zM938.6 135.6h1.6v1.6h-1.6zM963.2 95.8h1.6v1.6h-1.6zM948.8 142.6h1.6v1.6h-1.6zM947.5 137.2h1.6v1.6h-1.6zM985.5 93.8h1.6v1.6h-1.6zM941.1 131.1h1.6v1.6h-1.6zM936.6 131.1h1.6v1.6h-1.6zM949.4 109.0h1.6v1.6h-1.6zM959.3 107.1h1.6v1.6h-1.6zM984.7 97.7h1.6v1.6h-1.6zM952.1 147.4h1.6v1.6h-1.6zM929.8 153.5h1.6v1.6h-1.6zM968.9 132.2h1.6v1.6h-1.6zM970.3 99.3h1.6v1.6h-1.6zM936.5 157.1h1.6v1.6h-1.6zM948.6 126.0h1.6v1.6h-1.6zM977.7 122.7h1.6v1.6h-1.6zM974.5 122.6h1.6v1.6h-1.6zM964.1 117.6h1.6v1.6h-1.6zM957.1 125.1h1.6v1.6h-1.6zM951.5 143.2h1.6v1.6h-1.6zM936.5 132.3h1.6v1.6h-1.6zM974.8 81.3h1.6v1.6h-1.6zM942.0 146.9h1.6v1.6h-1.6zM1002.5 108.9h1.6v1.6h-1.6zM921.3 132.7h1.6v1.6h-1.6zM1028.0 62.1h1.6v1.6h-1.6zM916.1 146.0h1.6v1.6h-1.6zM996.0 84.9h1.6v1.6h-1.6zM936.0 130.3h1.6v1.6h-1.6zM964.7 127.2h1.6v1.6h-1.6zM957.3 116.7h1.6v1.6h-1.6zM946.3 130.8h1.6v1.6h-1.6zM1005.2 67.0h1.6v1.6h-1.6zM968.5 122.0h1.6v1.6h-1.6zM929.5 142.1h1.6v1.6h-1.6zM974.1 103.5h1.6v1.6h-1.6zM977.4 104.2h1.6v1.6h-1.6zM927.7 132.3h1.6v1.6h-1.6zM973.8 108.1h1.6v1.6h-1.6zM953.8 106.8h1.6v1.6h-1.6zM979.0 101.1h1.6v1.6h-1.6zM976.6 103.2h1.6v1.6h-1.6zM959.4 116.5h1.6v1.6h-1.6zM951.7 125.9h1.6v1.6h-1.6zM978.2 96.2h1.6v1.6h-1.6zM972.1 116.1h1.6v1.6h-1.6zM928.8 148.9h1.6v1.6h-1.6zM947.0 126.8h1.6v1.6h-1.6zM949.8 127.2h1.6v1.6h-1.6zM952.1 119.7h1.6v1.6h-1.6zM1012.2 72.3h1.6v1.6h-1.6zM951.7 124.5h1.6v1.6h-1.6zM961.8 97.4h1.6v1.6h-1.6zM1008.8 96.8h1.6v1.6h-1.6zM970.5 105.9h1.6v1.6h-1.6zM967.6 105.8h1.6v1.6h-1.6zM992.7 95.0h1.6v1.6h-1.6zM953.8 101.1h1.6v1.6h-1.6zM963.8 112.6h1.6v1.6h-1.6zM979.2 107.2h1.6v1.6h-1.6zM969.6 109.0h1.6v1.6h-1.6zM947.2 133.1h1.6v1.6h-1.6zM933.3 139.4h1.6v1.6h-1.6zM957.3 118.8h1.6v1.6h-1.6zM992.9 90.7h1.6v1.6h-1.6zM957.9 124.6h1.6v1.6h-1.6zM981.0 88.6h1.6v1.6h-1.6zM972.9 112.6h1.6v1.6h-1.6zM956.9 127.2h1.6v1.6h-1.6zM899.6 167.7h1.6v1.6h-1.6zM963.5 110.7h1.6v1.6h-1.6zM956.5 125.3h1.6v1.6h-1.6z"/>
<path fill="#3a5af0" d="M980.2 103.1h1.8v1.8h-1.8zM978.7 103.7h1.8v1.8h-1.8zM947.8 129.1h1.8v1.8h-1.8zM949.8 122.3h1.8v1.8h-1.8zM952.3 125.7h1.8v1.8h-1.8zM967.4 113.2h1.8v1.8h-1.8zM959.5 121.2h1.8v1.8h-1.8zM967.0 114.7h1.8v1.8h-1.8zM977.9 98.0h1.8v1.8h-1.8zM968.1 119.2h1.8v1.8h-1.8zM970.3 116.0h1.8v1.8h-1.8zM969.3 116.8h1.8v1.8h-1.8zM951.2 131.3h1.8v1.8h-1.8zM962.9 125.5h1.8v1.8h-1.8zM960.0 124.9h1.8v1.8h-1.8zM956.8 130.0h1.8v1.8h-1.8zM985.8 99.4h1.8v1.8h-1.8zM970.6 112.1h1.8v1.8h-1.8zM921.7 158.9h1.8v1.8h-1.8zM946.8 128.7h1.8v1.8h-1.8zM959.2 120.2h1.8v1.8h-1.8zM961.9 120.3h1.8v1.8h-1.8zM947.0 129.2h1.8v1.8h-1.8zM949.5 116.6h1.8v1.8h-1.8zM953.6 123.3h1.8v1.8h-1.8zM952.0 123.9h1.8v1.8h-1.8zM973.5 113.5h1.8v1.8h-1.8zM955.2 114.4h1.8v1.8h-1.8zM950.4 125.1h1.8v1.8h-1.8zM961.2 128.6h1.8v1.8h-1.8zM954.7 112.3h1.8v1.8h-1.8zM943.6 134.0h1.8v1.8h-1.8zM951.0 125.2h1.8v1.8h-1.8zM965.9 105.8h1.8v1.8h-1.8zM976.8 105.7h1.8v1.8h-1.8zM922.6 149.5h1.8v1.8h-1.8zM991.9 76.9h1.8v1.8h-1.8zM950.2 126.1h1.8v1.8h-1.8zM970.4 103.9h1.8v1.8h-1.8zM943.7 141.5h1.8v1.8h-1.8zM972.7 109.4h1.8v1.8h-1.8zM959.3 115.2h1.8v1.8h-1.8zM961.3 120.7h1.8v1.8h-1.8zM962.6 129.0h1.8v1.8h-1.8zM954.5 118.5h1.8v1.8h-1.8zM970.5 105.6h1.8v1.8h-1.8zM950.0 129.1h1.8v1.8h-1.8zM958.2 122.7h1.8v1.8h-1.8zM956.3 125.0h1.8v1.8h-1.8zM932.5 137.1h1.8v1.8h-1.8z"/>
<path fill="#1212b0" d="M963.0 118.0h2.0v2.0h-2.0zM948.8 132.7h2.0v2.0h-2.0zM951.0 125.8h2.0v2.0h-2.0zM972.0 108.8h2.0v2.0h-2.0zM952.5 126.2h2.0v2.0h-2.0zM971.9 116.1h2.0v2.0h-2.0zM955.1 119.8h2.0v2.0h-2.0zM965.5 119.5h2.0v2.0h-2.0zM963.3 117.3h2.0v2.0h-2.0zM970.8 114.0h2.0v2.0h-2.0zM969.1 109.8h2.0v2.0h-2.0zM949.3 123.1h2.0v2.0h-2.0zM983.4 103.5h2.0v2.0h-2.0zM968.1 111.7h2.0v2.0h-2.0zM974.1 110.0h2.0v2.0h-2.0zM975.1 110.1h2.0v2.0h-2.0zM952.5 120.0h2.0v2.0h-2.0zM960.0 118.5h2.0v2.0h-2.0zM962.4 117.6h2.0v2.0h-2.0zM966.5 117.3h2.0v2.0h-2.0zM983.3 102.2h2.0v2.0h-2.0zM985.6 100.9h2.0v2.0h-2.0zM1002.5 81.4h2.0v2.0h-2.0zM986.7 102.5h2.0v2.0h-2.0zM982.1 101.0h2.0v2.0h-2.0zM961.1 119.5h2.0v2.0h-2.0zM951.0 126.7h2.0v2.0h-2.0zM959.8 116.0h2.0v2.0h-2.0zM958.7 121.9h2.0v2.0h-2.0zM950.6 130.3h2.0v2.0h-2.0zM959.8 122.2h2.0v2.0h-2.0zM971.9 119.4h2.0v2.0h-2.0zM963.3 119.1h2.0v2.0h-2.0zM973.6 110.1h2.0v2.0h-2.0zM966.6 109.2h2.0v2.0h-2.0zM966.7 113.6h2.0v2.0h-2.0zM977.2 105.4h2.0v2.0h-2.0zM961.9 121.1h2.0v2.0h-2.0zM962.6 117.5h2.0v2.0h-2.0zM980.2 104.0h2.0v2.0h-2.0zM971.4 106.2h2.0v2.0h-2.0zM946.7 137.6h2.0v2.0h-2.0zM965.8 119.9h2.0v2.0h-2.0zM978.1 99.6h2.0v2.0h-2.0zM964.7 110.0h2.0v2.0h-2.0zM975.4 104.0h2.0v2.0h-2.0zM944.6 135.2h2.0v2.0h-2.0zM965.7 111.8h2.0v2.0h-2.0zM938.7 140.6h2.0v2.0h-2.0zM972.4 112.8h2.0v2.0h-2.0zM949.9 134.0h2.0v2.0h-2.0zM981.5 106.1h2.0v2.0h-2.0zM951.1 122.4h2.0v2.0h-2.0zM959.6 112.5h2.0v2.0h-2.0zM966.7 116.7h2.0v2.0h-2.0zM960.5 116.8h2.0v2.0h-2.0zM942.4 133.2h2.0v2.0h-2.0zM968.7 108.2h2.0v2.0h-2.0zM955.0 122.3h2.0v2.0h-2.0zM992.6 93.5h2.0v2.0h-2.0zM956.1 117.8h2.0v2.0h-2.0zM962.0 112.9h2.0v2.0h-2.0zM960.6 124.4h2.0v2.0h-2.0zM984.2 101.4h2.0v2.0h-2.0zM976.5 98.3h2.0v2.0h-2.0zM965.7 107.4h2.0v2.0h-2.0zM975.4 108.1h2.0v2.0h-2.0zM953.6 129.8h2.0v2.0h-2.0zM955.3 133.4h2.0v2.0h-2.0zM979.1 106.0h2.0v2.0h-2.0zM953.3 129.1h2.0v2.0h-2.0zM958.0 121.0h2.0v2.0h-2.0zM943.8 135.1h2.0v2.0h-2.0zM956.6 121.5h2.0v2.0h-2.0zM969.5 116.7h2.0v2.0h-2.0zM962.0 120.1h2.0v2.0h-2.0zM946.2 137.2h2.0v2.0h-2.0zM972.2 110.6h2.0v2.0h-2.0zM962.1 114.3h2.0v2.0h-2.0zM931.6 145.7h2.0v2.0h-2.0zM951.2 132.7h2.0v2.0h-2.0zM958.6 123.1h2.0v2.0h-2.0zM951.8 120.1h2.0v2.0h-2.0zM966.0 119.3h2.0v2.0h-2.0zM973.7 105.9h2.0v2.0h-2.0zM963.8 122.7h2.0v2.0h-2.0zM960.1 118.8h2.0v2.0h-2.0zM976.2 102.0h2.0v2.0h-2.0zM982.7 103.3h2.0v2.0h-2.0zM955.6 119.1h2.0v2.0h-2.0zM983.6 104.0h2.0v2.0h-2.0zM939.9 136.2h2.0v2.0h-2.0zM981.8 103.3h2.0v2.0h-2.0zM964.5 110.1h2.0v2.0h-2.0zM951.9 127.7h2.0v2.0h-2.0zM954.8 122.7h2.0v2.0h-2.0zM966.8 121.0h2.0v2.0h-2.0zM976.1 102.5h2.0v2.0h-2.0zM971.9 108.9h2.0v2.0h-2.0zM963.7 113.5h2.0v2.0h-2.0zM957.3 122.8h2.0v2.0h-2.0zM963.3 118.0h2.0v2.0h-2.0zM949.9 134.4h2.0v2.0h-2.0zM958.5 124.7h2.0v2.0h-2.0zM948.4 124.3h2.0v2.0h-2.0zM961.5 127.1h2.0v2.0h-2.0zM967.4 114.4h2.0v2.0h-2.0zM960.4 125.1h2.0v2.0h-2.0zM940.0 137.1h2.0v2.0h-2.0zM976.3 109.2h2.0v2.0h-2.0z"/>
<path d="M841.2 45.7V252.5" stroke="#3a3a3a" stroke-width="1.5" fill="none"/>
<path d="M840.3000000000001 252.5H1064.7" stroke="#3c4a80" stroke-width="1.8" fill="none"/>
<ellipse cx="962" cy="122" rx="44" ry="21" transform="rotate(-40 962 122)" fill="none" stroke="#e0505a" stroke-width="1.3"/>
<text x="834.0" y="242.5" font-size="8.3" text-anchor="end" font-weight="bold" fill="#222">10</text>
<text x="834.5" y="237.5" font-size="5.5" font-weight="bold" fill="#222">1</text>
<text x="834.0" y="198" font-size="8.3" text-anchor="end" font-weight="bold" fill="#222">10</text>
<text x="834.5" y="193" font-size="5.5" font-weight="bold" fill="#222">2</text>
<text x="834.0" y="148.5" font-size="8.3" text-anchor="end" font-weight="bold" fill="#222">10</text>
<text x="834.5" y="143.5" font-size="5.5" font-weight="bold" fill="#222">3</text>
<text x="834.0" y="99.2" font-size="8.3" text-anchor="end" font-weight="bold" fill="#222">10</text>
<text x="834.5" y="94.2" font-size="5.5" font-weight="bold" fill="#222">4</text>
<text x="834.0" y="50" font-size="8.3" text-anchor="end" font-weight="bold" fill="#222">10</text>
<text x="834.5" y="45" font-size="5.5" font-weight="bold" fill="#222">5</text>
<text x="854.5" y="268.5" font-size="8.3" text-anchor="middle" font-weight="bold" fill="#222">10</text>
<text x="859.4" y="263.5" font-size="5.5" font-weight="bold" fill="#222">1</text>
<text x="901.5" y="268.5" font-size="8.3" text-anchor="middle" font-weight="bold" fill="#222">10</text>
<text x="906.4" y="263.5" font-size="5.5" font-weight="bold" fill="#222">2</text>
<text x="954.1" y="268.5" font-size="8.3" text-anchor="middle" font-weight="bold" fill="#222">10</text>
<text x="959.0" y="263.5" font-size="5.5" font-weight="bold" fill="#222">3</text>
<text x="1007.5" y="268.5" font-size="8.3" text-anchor="middle" font-weight="bold" fill="#222">10</text>
<text x="1012.4" y="263.5" font-size="5.5" font-weight="bold" fill="#222">4</text>
<text x="1061.1" y="268.5" font-size="8.3" text-anchor="middle" font-weight="bold" fill="#222">10</text>
<text x="1066.0" y="263.5" font-size="5.5" font-weight="bold" fill="#222">5</text>
<text x="956" y="293" font-size="20" text-anchor="middle">CD45</text>
<text x="866" y="84.5" font-size="20">CD11b<tspan dy="-7.5" font-size="11">+</tspan></text>
<text x="866" y="109.3" font-size="20">CD45<tspan dy="-7.5" font-size="11">+low</tspan></text>
<text transform="translate(819,138) rotate(-90)" font-size="20" text-anchor="middle" fill="#111">CD11b</text>
<path fill="#151515" d="M1183.4 178.9h2v2h-2zM1139.5 223.1h2v2h-2zM1162.8 174.6h2v2h-2zM1145.6 188.3h2v2h-2zM1167.7 187.0h2v2h-2zM1183.5 169.7h2v2h-2zM1124.5 203.7h2v2h-2zM1205.5 151.9h2v2h-2zM1153.3 205.6h2v2h-2zM1182.2 166.5h2v2h-2zM1150.9 194.5h2v2h-2zM1169.6 185.8h2v2h-2zM1178.9 184.0h2v2h-2zM1154.3 196.1h2v2h-2zM1173.9 163.3h2v2h-2zM1148.6 207.3h2v2h-2zM1177.9 166.7h2v2h-2zM1172.7 166.4h2v2h-2zM1169.8 169.9h2v2h-2zM1177.1 179.5h2v2h-2zM1165.3 189.4h2v2h-2zM1144.9 197.3h2v2h-2zM1139.0 205.0h2v2h-2zM1168.6 175.4h2v2h-2zM1169.4 190.6h2v2h-2zM1191.4 142.8h2v2h-2zM1183.5 145.1h2v2h-2zM1151.8 191.9h2v2h-2zM1164.9 170.1h2v2h-2zM1153.3 193.0h2v2h-2zM1150.2 188.5h2v2h-2zM1186.8 169.6h2v2h-2zM1166.8 179.3h2v2h-2zM1165.2 175.9h2v2h-2zM1151.9 182.7h2v2h-2zM1181.1 164.5h2v2h-2zM1166.2 181.9h2v2h-2zM1186.5 175.0h2v2h-2zM1160.2 181.3h2v2h-2zM1167.8 169.4h2v2h-2zM1199.4 157.4h2v2h-2zM1181.9 163.4h2v2h-2zM1188.9 168.8h2v2h-2zM1177.0 166.4h2v2h-2zM1137.8 217.1h2v2h-2zM1156.2 180.6h2v2h-2zM1188.3 161.9h2v2h-2zM1137.9 206.0h2v2h-2zM1167.6 188.8h2v2h-2zM1126.5 214.1h2v2h-2zM1172.5 188.4h2v2h-2zM1130.1 184.0h2v2h-2zM1140.5 207.3h2v2h-2zM1193.9 171.0h2v2h-2zM1172.2 165.6h2v2h-2zM1186.4 160.1h2v2h-2zM1163.9 182.1h2v2h-2zM1189.9 147.5h2v2h-2zM1146.3 198.3h2v2h-2zM1162.4 174.9h2v2h-2zM1151.6 197.8h2v2h-2zM1199.6 154.9h2v2h-2zM1188.8 170.9h2v2h-2zM1118.6 210.0h2v2h-2zM1147.1 185.8h2v2h-2zM1147.7 198.3h2v2h-2zM1138.9 201.5h2v2h-2zM1120.3 213.9h2v2h-2zM1193.2 148.0h2v2h-2zM1178.5 175.3h2v2h-2zM1160.8 191.0h2v2h-2zM1176.1 177.4h2v2h-2zM1147.2 183.0h2v2h-2zM1143.8 195.6h2v2h-2zM1178.1 166.1h2v2h-2zM1158.7 185.1h2v2h-2zM1187.9 152.7h2v2h-2zM1193.1 140.9h2v2h-2zM1160.1 194.5h2v2h-2zM1174.3 163.0h2v2h-2zM1162.0 176.4h2v2h-2zM1188.6 163.8h2v2h-2zM1155.2 194.5h2v2h-2zM1160.0 185.0h2v2h-2zM1166.4 173.7h2v2h-2zM1179.3 171.9h2v2h-2zM1182.6 175.4h2v2h-2zM1154.6 175.5h2v2h-2zM1158.8 188.9h2v2h-2zM1171.5 180.7h2v2h-2zM1184.2 161.1h2v2h-2zM1160.6 174.9h2v2h-2zM1188.2 155.8h2v2h-2zM1139.6 193.8h2v2h-2zM1167.5 194.7h2v2h-2zM1175.3 153.3h2v2h-2zM1166.8 181.9h2v2h-2zM1182.9 167.2h2v2h-2zM1156.8 193.1h2v2h-2zM1144.8 177.1h2v2h-2zM1149.6 188.6h2v2h-2zM1193.4 164.5h2v2h-2zM1147.1 200.0h2v2h-2zM1162.4 168.4h2v2h-2zM1124.7 218.9h2v2h-2zM1167.7 172.0h2v2h-2zM1151.3 184.9h2v2h-2zM1155.4 178.4h2v2h-2zM1179.7 166.8h2v2h-2zM1157.8 190.8h2v2h-2zM1159.4 170.5h2v2h-2zM1162.6 178.4h2v2h-2zM1128.3 209.5h2v2h-2zM1173.7 166.1h2v2h-2zM1206.2 158.8h2v2h-2zM1164.5 187.2h2v2h-2zM1207.8 136.1h2v2h-2zM1147.0 193.8h2v2h-2zM1132.3 198.4h2v2h-2zM1170.2 171.5h2v2h-2zM1175.7 175.7h2v2h-2zM1151.0 192.3h2v2h-2zM1158.9 179.8h2v2h-2zM1152.2 196.6h2v2h-2zM1166.8 182.6h2v2h-2zM1194.2 163.3h2v2h-2zM1140.3 195.8h2v2h-2zM1163.3 183.8h2v2h-2zM1182.6 153.9h2v2h-2zM1160.2 188.1h2v2h-2zM1200.8 160.7h2v2h-2zM1145.9 197.1h2v2h-2zM1155.6 198.8h2v2h-2zM1175.5 167.1h2v2h-2zM1156.8 191.9h2v2h-2zM1184.5 154.1h2v2h-2zM1161.8 185.1h2v2h-2zM1170.1 179.5h2v2h-2zM1144.0 194.9h2v2h-2zM1124.5 220.6h2v2h-2zM1179.6 145.3h2v2h-2zM1159.5 195.6h2v2h-2zM1155.1 170.7h2v2h-2zM1185.0 146.8h2v2h-2zM1193.6 147.2h2v2h-2zM1153.4 192.4h2v2h-2zM1170.7 181.7h2v2h-2zM1177.7 167.1h2v2h-2zM1199.3 155.2h2v2h-2zM1174.4 173.2h2v2h-2zM1165.6 179.5h2v2h-2zM1184.3 167.2h2v2h-2zM1174.1 182.7h2v2h-2zM1164.8 185.6h2v2h-2zM1180.1 154.7h2v2h-2zM1171.2 192.3h2v2h-2zM1154.0 203.5h2v2h-2zM1148.0 201.5h2v2h-2zM1142.6 196.1h2v2h-2zM1157.3 182.6h2v2h-2zM1193.4 162.2h2v2h-2zM1187.2 161.5h2v2h-2zM1207.5 150.6h2v2h-2zM1169.3 165.8h2v2h-2zM1185.7 167.7h2v2h-2zM1173.7 179.9h2v2h-2zM1182.5 160.9h2v2h-2zM1181.6 168.5h2v2h-2zM1172.8 169.8h2v2h-2zM1159.0 188.0h2v2h-2zM1210.0 161.7h2v2h-2zM1154.8 179.8h2v2h-2zM1156.5 180.4h2v2h-2zM1161.4 188.5h2v2h-2zM1152.1 199.7h2v2h-2zM1192.4 170.2h2v2h-2zM1211.2 146.7h2v2h-2zM1212.7 129.6h2v2h-2zM1174.7 173.4h2v2h-2zM1182.5 174.7h2v2h-2zM1170.2 193.8h2v2h-2zM1196.5 154.2h2v2h-2zM1172.8 163.3h2v2h-2zM1115.9 227.4h2v2h-2zM1176.0 172.7h2v2h-2zM1143.0 197.6h2v2h-2zM1208.5 146.5h2v2h-2zM1179.5 163.8h2v2h-2zM1190.3 169.9h2v2h-2zM1181.9 160.4h2v2h-2zM1169.7 167.4h2v2h-2zM1165.0 187.1h2v2h-2zM1156.0 187.3h2v2h-2zM1197.2 148.2h2v2h-2zM1182.7 160.8h2v2h-2zM1144.8 200.6h2v2h-2zM1150.5 174.2h2v2h-2zM1141.3 199.6h2v2h-2zM1196.0 145.2h2v2h-2zM1171.0 181.8h2v2h-2zM1172.7 170.1h2v2h-2zM1210.5 150.9h2v2h-2zM1122.8 231.7h2v2h-2zM1184.7 172.2h2v2h-2zM1174.5 180.4h2v2h-2zM1210.9 147.7h2v2h-2zM1192.4 164.4h2v2h-2zM1157.0 212.3h2v2h-2zM1175.0 174.8h2v2h-2zM1173.3 177.9h2v2h-2zM1125.7 221.4h2v2h-2zM1137.1 197.8h2v2h-2zM1121.0 205.7h2v2h-2zM1178.0 163.4h2v2h-2zM1165.3 178.9h2v2h-2zM1140.6 197.2h2v2h-2zM1140.6 201.4h2v2h-2zM1120.2 220.2h2v2h-2zM1193.3 166.1h2v2h-2zM1194.5 157.6h2v2h-2zM1152.0 202.9h2v2h-2zM1180.3 169.0h2v2h-2zM1145.0 204.3h2v2h-2zM1201.2 153.7h2v2h-2zM1166.2 185.5h2v2h-2zM1169.1 178.8h2v2h-2zM1187.4 162.9h2v2h-2zM1171.6 178.6h2v2h-2zM1145.9 189.0h2v2h-2zM1175.0 165.1h2v2h-2zM1170.1 156.9h2v2h-2zM1192.3 153.5h2v2h-2zM1189.7 131.4h2v2h-2zM1140.4 219.2h2v2h-2zM1172.9 176.5h2v2h-2zM1171.5 176.3h2v2h-2zM1174.0 161.8h2v2h-2zM1171.4 188.3h2v2h-2zM1168.7 171.0h2v2h-2zM1175.5 181.6h2v2h-2zM1163.1 181.0h2v2h-2zM1182.7 172.6h2v2h-2zM1198.1 147.7h2v2h-2zM1180.8 176.5h2v2h-2zM1129.5 216.7h2v2h-2zM1177.4 168.2h2v2h-2zM1153.7 198.0h2v2h-2zM1193.7 152.4h2v2h-2zM1157.3 186.3h2v2h-2zM1207.2 153.2h2v2h-2zM1163.7 171.0h2v2h-2zM1140.6 201.3h2v2h-2zM1163.4 185.4h2v2h-2zM1144.5 199.7h2v2h-2zM1170.9 157.9h2v2h-2zM1172.9 160.1h2v2h-2zM1152.7 203.6h2v2h-2zM1174.6 146.7h2v2h-2zM1196.6 158.3h2v2h-2zM1176.0 159.0h2v2h-2zM1171.1 169.1h2v2h-2zM1190.2 176.1h2v2h-2zM1187.6 170.1h2v2h-2zM1157.2 178.2h2v2h-2zM1174.7 182.7h2v2h-2zM1199.4 147.5h2v2h-2zM1172.3 170.1h2v2h-2zM1133.8 212.4h2v2h-2zM1174.3 168.1h2v2h-2zM1156.2 171.1h2v2h-2zM1177.6 183.6h2v2h-2zM1171.8 181.0h2v2h-2zM1174.5 164.3h2v2h-2zM1169.3 168.7h2v2h-2zM1138.6 190.9h2v2h-2zM1203.5 150.6h2v2h-2zM1170.4 162.0h2v2h-2zM1151.2 182.1h2v2h-2zM1189.3 152.4h2v2h-2zM1212.0 141.4h2v2h-2zM1169.5 191.0h2v2h-2zM1121.2 215.0h2v2h-2zM1166.4 191.2h2v2h-2zM1193.5 157.6h2v2h-2zM1129.4 210.2h2v2h-2zM1152.7 206.2h2v2h-2zM1163.1 189.4h2v2h-2zM1207.4 139.6h2v2h-2zM1181.7 161.2h2v2h-2zM1170.4 176.6h2v2h-2zM1169.8 177.4h2v2h-2zM1170.7 195.3h2v2h-2zM1156.9 191.7h2v2h-2zM1151.2 171.1h2v2h-2zM1190.6 159.0h2v2h-2zM1136.7 201.1h2v2h-2zM1136.9 211.4h2v2h-2zM1207.9 152.6h2v2h-2zM1133.0 194.2h2v2h-2zM1188.7 175.9h2v2h-2zM1175.4 182.1h2v2h-2zM1139.2 205.0h2v2h-2zM1175.8 166.4h2v2h-2zM1167.6 185.8h2v2h-2zM1150.5 184.8h2v2h-2zM1185.5 163.9h2v2h-2zM1150.1 200.0h2v2h-2zM1160.2 192.4h2v2h-2zM1166.9 176.3h2v2h-2zM1153.5 194.3h2v2h-2zM1177.5 188.8h2v2h-2zM1160.6 171.3h2v2h-2zM1201.1 125.0h2v2h-2zM1198.5 139.8h2v2h-2zM1196.5 148.7h2v2h-2zM1180.0 167.0h2v2h-2zM1168.9 182.8h2v2h-2zM1157.5 193.3h2v2h-2zM1142.0 195.6h2v2h-2zM1157.2 187.5h2v2h-2zM1189.3 148.8h2v2h-2zM1144.5 189.1h2v2h-2zM1162.7 189.1h2v2h-2zM1151.1 191.3h2v2h-2zM1156.4 190.2h2v2h-2zM1129.3 221.7h2v2h-2zM1183.1 154.8h2v2h-2zM1162.0 174.4h2v2h-2zM1192.3 161.1h2v2h-2zM1147.5 192.9h2v2h-2zM1143.1 204.3h2v2h-2zM1179.6 176.6h2v2h-2zM1174.6 167.4h2v2h-2zM1198.4 154.9h2v2h-2zM1179.7 154.7h2v2h-2zM1147.8 191.1h2v2h-2zM1149.0 173.8h2v2h-2zM1192.6 152.3h2v2h-2zM1190.4 164.7h2v2h-2zM1203.0 150.5h2v2h-2zM1172.9 165.9h2v2h-2zM1180.8 184.4h2v2h-2zM1128.7 209.0h2v2h-2zM1183.4 180.5h2v2h-2zM1144.2 196.9h2v2h-2zM1188.9 190.8h2v2h-2zM1150.8 193.7h2v2h-2zM1181.6 158.2h2v2h-2zM1180.1 171.4h2v2h-2zM1164.3 186.0h2v2h-2zM1206.7 142.8h2v2h-2zM1157.4 181.3h2v2h-2zM1180.5 177.7h2v2h-2zM1175.0 175.4h2v2h-2zM1149.3 199.8h2v2h-2zM1168.9 184.1h2v2h-2zM1198.1 153.6h2v2h-2zM1169.0 183.4h2v2h-2zM1180.0 166.4h2v2h-2zM1161.9 191.8h2v2h-2zM1160.3 174.5h2v2h-2zM1181.9 160.1h2v2h-2zM1162.5 191.0h2v2h-2zM1153.1 191.5h2v2h-2zM1141.8 188.3h2v2h-2zM1184.4 179.3h2v2h-2zM1158.0 200.6h2v2h-2zM1200.2 163.5h2v2h-2zM1144.4 194.8h2v2h-2zM1204.1 143.4h2v2h-2zM1173.7 180.8h2v2h-2zM1180.1 161.5h2v2h-2zM1169.2 184.4h2v2h-2zM1172.2 167.3h2v2h-2zM1201.5 155.5h2v2h-2zM1161.0 180.0h2v2h-2zM1177.2 145.0h2v2h-2zM1169.7 171.2h2v2h-2zM1161.2 194.8h2v2h-2zM1193.0 186.8h2v2h-2zM1168.3 182.7h2v2h-2zM1147.1 209.9h2v2h-2zM1159.8 189.4h2v2h-2zM1204.2 156.6h2v2h-2zM1188.1 173.2h2v2h-2zM1157.1 180.1h2v2h-2zM1142.5 209.7h2v2h-2zM1210.4 134.9h2v2h-2zM1169.8 174.3h2v2h-2zM1171.8 156.6h2v2h-2zM1194.6 164.8h2v2h-2zM1151.7 184.5h2v2h-2zM1155.6 196.9h2v2h-2zM1196.0 141.8h2v2h-2zM1139.4 207.9h2v2h-2zM1180.2 174.8h2v2h-2zM1160.3 194.2h2v2h-2zM1185.2 145.4h2v2h-2zM1167.8 185.7h2v2h-2zM1183.8 158.1h2v2h-2zM1126.0 211.4h2v2h-2zM1138.0 202.4h2v2h-2zM1188.4 152.6h2v2h-2zM1165.7 168.5h2v2h-2zM1186.2 154.7h2v2h-2zM1158.0 207.9h2v2h-2zM1180.6 173.8h2v2h-2zM1135.8 224.7h2v2h-2zM1205.0 141.6h2v2h-2zM1160.6 179.8h2v2h-2zM1184.1 146.8h2v2h-2zM1187.0 181.2h2v2h-2zM1182.9 184.9h2v2h-2zM1168.7 174.9h2v2h-2zM1188.4 158.2h2v2h-2zM1169.7 172.8h2v2h-2zM1143.0 199.6h2v2h-2zM1190.1 168.6h2v2h-2zM1169.9 180.1h2v2h-2zM1149.5 194.7h2v2h-2zM1165.8 179.4h2v2h-2zM1172.9 177.7h2v2h-2zM1199.2 156.6h2v2h-2zM1174.2 160.0h2v2h-2zM1153.3 193.4h2v2h-2zM1175.8 178.8h2v2h-2zM1134.2 213.2h2v2h-2zM1170.8 172.6h2v2h-2zM1154.7 194.0h2v2h-2zM1169.1 182.6h2v2h-2zM1123.6 212.3h2v2h-2zM1202.9 147.5h2v2h-2zM1152.3 190.6h2v2h-2zM1150.6 210.5h2v2h-2zM1204.5 152.8h2v2h-2zM1197.6 155.1h2v2h-2zM1200.9 153.7h2v2h-2zM1199.5 148.3h2v2h-2zM1165.7 175.3h2v2h-2zM1152.6 177.5h2v2h-2zM1205.3 157.5h2v2h-2zM1190.9 167.3h2v2h-2zM1177.9 174.6h2v2h-2zM1142.3 203.1h2v2h-2zM1129.7 209.1h2v2h-2zM1163.1 180.6h2v2h-2zM1155.3 204.6h2v2h-2zM1188.3 153.9h2v2h-2zM1142.6 198.5h2v2h-2zM1180.1 147.7h2v2h-2zM1186.4 159.8h2v2h-2zM1167.5 190.0h2v2h-2zM1169.0 174.3h2v2h-2zM1187.8 143.4h2v2h-2zM1199.4 139.9h2v2h-2zM1161.4 201.8h2v2h-2zM1142.0 181.7h2v2h-2zM1175.6 171.7h2v2h-2zM1157.8 187.5h2v2h-2zM1160.9 194.6h2v2h-2zM1167.7 177.2h2v2h-2zM1126.4 221.8h2v2h-2zM1144.2 209.6h2v2h-2zM1159.2 166.5h2v2h-2zM1157.3 177.0h2v2h-2zM1184.1 168.0h2v2h-2zM1188.1 151.5h2v2h-2zM1173.3 159.6h2v2h-2zM1175.7 169.0h2v2h-2zM1174.9 172.0h2v2h-2zM1189.4 154.6h2v2h-2zM1173.5 188.0h2v2h-2zM1165.8 175.4h2v2h-2zM1151.4 194.9h2v2h-2zM1172.6 181.0h2v2h-2zM1170.0 183.9h2v2h-2zM1172.7 190.7h2v2h-2zM1172.5 181.5h2v2h-2zM1171.1 162.2h2v2h-2zM1189.1 154.1h2v2h-2zM1178.6 147.9h2v2h-2zM1121.3 203.2h2v2h-2zM1130.6 210.7h2v2h-2zM1163.8 172.5h2v2h-2zM1158.9 180.3h2v2h-2zM1188.4 166.3h2v2h-2zM1178.9 174.7h2v2h-2zM1208.1 146.5h2v2h-2zM1136.9 206.4h2v2h-2zM1167.4 187.6h2v2h-2zM1183.6 172.3h2v2h-2zM1144.6 215.5h2v2h-2zM1171.1 185.4h2v2h-2zM1174.6 163.0h2v2h-2zM1155.3 196.9h2v2h-2zM1187.9 149.8h2v2h-2zM1134.8 189.2h2v2h-2zM1145.6 192.2h2v2h-2zM1165.6 186.8h2v2h-2zM1152.5 181.6h2v2h-2zM1160.0 185.0h2v2h-2zM1171.9 175.7h2v2h-2zM1167.3 184.4h2v2h-2zM1156.6 178.2h2v2h-2zM1173.9 191.4h2v2h-2zM1163.7 207.4h2v2h-2zM1161.2 191.9h2v2h-2zM1134.3 209.5h2v2h-2zM1191.6 143.2h2v2h-2zM1154.7 194.1h2v2h-2zM1167.6 163.1h2v2h-2zM1143.6 204.5h2v2h-2zM1177.8 176.0h2v2h-2zM1167.8 184.6h2v2h-2zM1186.6 147.5h2v2h-2zM1192.8 161.8h2v2h-2zM1192.4 150.5h2v2h-2zM1167.8 179.0h2v2h-2zM1163.4 192.8h2v2h-2zM1167.7 168.2h2v2h-2zM1168.0 167.1h2v2h-2zM1130.8 203.4h2v2h-2zM1169.1 178.1h2v2h-2zM1168.7 182.9h2v2h-2zM1201.7 134.0h2v2h-2zM1178.3 171.0h2v2h-2zM1141.2 198.8h2v2h-2zM1172.4 174.1h2v2h-2zM1155.0 198.4h2v2h-2zM1176.3 176.6h2v2h-2zM1194.0 140.0h2v2h-2zM1190.6 161.0h2v2h-2zM1150.0 194.8h2v2h-2zM1153.7 180.0h2v2h-2zM1180.6 158.0h2v2h-2zM1130.9 222.2h2v2h-2zM1160.0 189.5h2v2h-2zM1170.7 172.3h2v2h-2zM1147.4 172.2h2v2h-2zM1153.9 180.1h2v2h-2zM1174.3 164.0h2v2h-2zM1155.2 191.3h2v2h-2zM1141.0 196.8h2v2h-2zM1160.1 189.7h2v2h-2zM1142.4 210.5h2v2h-2zM1162.5 178.2h2v2h-2zM1180.0 176.6h2v2h-2zM1186.0 150.0h2v2h-2zM1195.4 151.9h2v2h-2zM1189.1 146.9h2v2h-2zM1163.9 180.8h2v2h-2zM1139.8 200.6h2v2h-2zM1191.8 166.2h2v2h-2zM1182.6 166.7h2v2h-2zM1169.3 197.6h2v2h-2zM1134.4 198.1h2v2h-2zM1153.0 194.1h2v2h-2zM1162.3 191.2h2v2h-2zM1140.1 213.3h2v2h-2zM1207.8 148.3h2v2h-2zM1158.6 180.9h2v2h-2zM1181.1 147.9h2v2h-2zM1143.0 185.0h2v2h-2zM1174.0 190.7h2v2h-2zM1164.3 192.3h2v2h-2zM1142.9 196.5h2v2h-2zM1161.3 195.0h2v2h-2zM1146.4 191.9h2v2h-2zM1175.5 186.2h2v2h-2zM1177.8 186.4h2v2h-2zM1174.3 169.2h2v2h-2zM1187.9 152.7h2v2h-2zM1149.6 196.7h2v2h-2zM1130.3 202.2h2v2h-2zM1151.4 194.2h2v2h-2zM1194.4 163.9h2v2h-2zM1164.8 183.3h2v2h-2zM1154.1 176.9h2v2h-2zM1172.1 166.4h2v2h-2zM1180.1 160.7h2v2h-2zM1148.8 199.7h2v2h-2zM1149.8 182.1h2v2h-2zM1190.1 159.7h2v2h-2zM1174.3 172.5h2v2h-2zM1142.0 174.5h2v2h-2zM1153.9 186.9h2v2h-2zM1169.4 163.2h2v2h-2zM1177.3 169.1h2v2h-2zM1193.7 145.7h2v2h-2zM1169.1 179.3h2v2h-2zM1186.1 173.5h2v2h-2zM1170.2 161.5h2v2h-2zM1191.2 135.4h2v2h-2zM1187.5 172.5h2v2h-2zM1153.7 191.2h2v2h-2zM1160.7 173.7h2v2h-2zM1170.6 165.7h2v2h-2zM1177.6 174.9h2v2h-2zM1197.1 163.7h2v2h-2zM1179.1 172.2h2v2h-2zM1163.2 182.0h2v2h-2zM1190.0 164.7h2v2h-2zM1177.6 168.6h2v2h-2zM1183.4 151.8h2v2h-2zM1158.4 189.5h2v2h-2zM1184.7 149.3h2v2h-2zM1140.3 192.5h2v2h-2zM1186.9 167.9h2v2h-2zM1210.8 159.8h2v2h-2zM1142.8 200.5h2v2h-2zM1151.4 183.0h2v2h-2zM1166.1 174.3h2v2h-2zM1169.3 173.2h2v2h-2zM1141.7 209.4h2v2h-2zM1177.3 164.6h2v2h-2zM1141.9 207.0h2v2h-2zM1181.8 165.4h2v2h-2zM1156.5 163.3h2v2h-2zM1171.7 167.4h2v2h-2zM1157.3 178.5h2v2h-2zM1131.0 221.3h2v2h-2zM1169.9 165.2h2v2h-2zM1133.1 205.2h2v2h-2zM1188.0 164.0h2v2h-2zM1173.3 182.0h2v2h-2zM1169.6 166.6h2v2h-2zM1180.4 165.2h2v2h-2zM1156.5 200.5h2v2h-2zM1168.9 162.3h2v2h-2zM1184.1 164.3h2v2h-2zM1157.9 182.9h2v2h-2zM1139.3 190.7h2v2h-2zM1175.5 175.3h2v2h-2zM1162.0 186.2h2v2h-2zM1158.1 183.8h2v2h-2zM1180.3 170.9h2v2h-2zM1194.0 148.1h2v2h-2zM1173.8 170.5h2v2h-2zM1178.3 180.5h2v2h-2zM1171.8 166.3h2v2h-2zM1155.3 184.1h2v2h-2zM1159.0 179.9h2v2h-2zM1156.7 187.0h2v2h-2zM1169.8 167.5h2v2h-2zM1169.1 177.1h2v2h-2zM1185.8 163.2h2v2h-2zM1179.4 169.6h2v2h-2zM1189.8 155.5h2v2h-2zM1139.3 209.0h2v2h-2zM1136.6 185.8h2v2h-2zM1176.7 169.0h2v2h-2zM1173.3 177.1h2v2h-2zM1168.9 187.5h2v2h-2zM1166.8 175.7h2v2h-2zM1157.4 167.5h2v2h-2zM1169.7 161.2h2v2h-2zM1174.0 170.4h2v2h-2zM1164.3 173.0h2v2h-2zM1189.9 136.1h2v2h-2zM1159.7 176.6h2v2h-2zM1142.3 216.6h2v2h-2zM1182.6 187.6h2v2h-2zM1184.8 166.3h2v2h-2zM1171.8 161.2h2v2h-2zM1148.0 211.1h2v2h-2zM1179.5 159.2h2v2h-2zM1170.1 177.2h2v2h-2zM1193.1 156.9h2v2h-2zM1157.7 195.8h2v2h-2zM1159.8 191.5h2v2h-2zM1140.6 173.3h2v2h-2zM1195.2 142.4h2v2h-2zM1190.7 162.3h2v2h-2zM1151.7 182.2h2v2h-2zM1207.2 142.4h2v2h-2zM1195.3 155.1h2v2h-2zM1188.1 161.0h2v2h-2zM1139.0 198.5h2v2h-2zM1170.1 164.4h2v2h-2zM1161.1 183.8h2v2h-2zM1198.4 164.9h2v2h-2zM1129.6 219.4h2v2h-2zM1197.5 136.2h2v2h-2zM1152.8 204.5h2v2h-2zM1169.2 171.6h2v2h-2zM1176.2 177.5h2v2h-2zM1172.4 177.8h2v2h-2zM1175.1 175.5h2v2h-2zM1175.5 175.5h2v2h-2zM1172.0 185.9h2v2h-2zM1161.4 180.2h2v2h-2zM1137.8 200.6h2v2h-2zM1172.2 173.0h2v2h-2zM1176.2 159.4h2v2h-2zM1147.7 178.9h2v2h-2zM1169.4 187.0h2v2h-2zM1177.2 165.9h2v2h-2zM1180.7 169.2h2v2h-2zM1147.0 188.9h2v2h-2zM1153.5 197.0h2v2h-2zM1183.0 168.1h2v2h-2zM1173.7 191.8h2v2h-2zM1167.9 183.5h2v2h-2zM1178.3 179.0h2v2h-2zM1138.8 211.9h2v2h-2zM1165.3 180.3h2v2h-2zM1145.2 193.4h2v2h-2zM1197.8 158.4h2v2h-2zM1142.4 205.7h2v2h-2zM1165.2 191.9h2v2h-2zM1182.2 172.5h2v2h-2zM1168.6 178.5h2v2h-2zM1149.2 181.9h2v2h-2zM1164.3 194.3h2v2h-2zM1191.7 147.1h2v2h-2zM1148.7 189.7h2v2h-2zM1147.8 186.3h2v2h-2zM1158.5 194.0h2v2h-2zM1191.5 172.3h2v2h-2zM1154.7 169.8h2v2h-2zM1152.0 183.1h2v2h-2zM1157.8 180.7h2v2h-2zM1183.1 155.1h2v2h-2zM1177.0 187.1h2v2h-2zM1159.6 169.8h2v2h-2zM1188.0 163.3h2v2h-2zM1182.1 171.2h2v2h-2zM1144.3 191.0h2v2h-2zM1162.5 166.5h2v2h-2zM1157.0 199.9h2v2h-2zM1144.5 204.1h2v2h-2zM1188.5 157.6h2v2h-2zM1165.5 193.3h2v2h-2zM1149.0 212.7h2v2h-2zM1150.3 195.3h2v2h-2zM1140.8 193.5h2v2h-2zM1187.7 159.7h2v2h-2zM1171.6 161.6h2v2h-2zM1154.6 178.6h2v2h-2zM1169.5 181.0h2v2h-2zM1180.2 171.2h2v2h-2zM1157.7 193.6h2v2h-2zM1165.8 193.4h2v2h-2zM1170.3 187.5h2v2h-2zM1164.0 188.3h2v2h-2zM1165.1 166.3h2v2h-2zM1176.5 160.7h2v2h-2zM1133.2 212.9h2v2h-2zM1193.8 160.3h2v2h-2zM1142.6 185.5h2v2h-2zM1156.6 187.3h2v2h-2zM1191.2 153.6h2v2h-2zM1140.7 193.1h2v2h-2zM1145.4 193.0h2v2h-2zM1172.5 170.4h2v2h-2zM1166.7 180.2h2v2h-2zM1175.0 177.5h2v2h-2zM1186.0 150.7h2v2h-2zM1161.4 183.2h2v2h-2zM1168.7 185.3h2v2h-2zM1179.0 161.0h2v2h-2zM1203.5 148.8h2v2h-2zM1178.7 161.7h2v2h-2zM1182.0 161.3h2v2h-2zM1149.8 196.8h2v2h-2zM1142.5 191.9h2v2h-2zM1180.9 173.4h2v2h-2zM1159.2 196.0h2v2h-2zM1197.0 161.5h2v2h-2zM1173.4 169.9h2v2h-2zM1196.8 146.5h2v2h-2zM1183.2 174.5h2v2h-2zM1203.8 146.6h2v2h-2zM1176.5 175.3h2v2h-2zM1178.7 179.0h2v2h-2zM1198.7 165.9h2v2h-2zM1171.8 182.2h2v2h-2zM1153.2 188.8h2v2h-2zM1196.2 148.6h2v2h-2zM1129.2 210.6h2v2h-2zM1149.9 177.9h2v2h-2zM1177.3 177.8h2v2h-2zM1163.8 192.2h2v2h-2zM1132.1 220.6h2v2h-2zM1180.1 189.1h2v2h-2zM1169.5 176.8h2v2h-2zM1167.0 176.0h2v2h-2zM1165.2 188.1h2v2h-2zM1176.1 173.6h2v2h-2zM1171.4 168.5h2v2h-2zM1201.7 136.2h2v2h-2zM1186.9 158.7h2v2h-2zM1188.8 156.3h2v2h-2zM1193.4 159.0h2v2h-2zM1202.4 165.0h2v2h-2zM1174.7 173.8h2v2h-2zM1122.8 222.5h2v2h-2zM1186.2 158.7h2v2h-2zM1170.3 174.9h2v2h-2zM1136.3 217.8h2v2h-2zM1149.2 183.6h2v2h-2zM1191.1 160.4h2v2h-2zM1181.7 166.8h2v2h-2zM1161.5 193.8h2v2h-2zM1154.4 194.5h2v2h-2zM1145.2 190.1h2v2h-2zM1182.3 157.5h2v2h-2zM1195.0 140.1h2v2h-2zM1189.6 155.2h2v2h-2zM1188.7 165.7h2v2h-2zM1137.7 214.1h2v2h-2zM1159.6 177.9h2v2h-2zM1192.5 158.9h2v2h-2zM1185.2 176.0h2v2h-2zM1190.6 158.1h2v2h-2zM1161.8 199.3h2v2h-2zM1150.0 180.8h2v2h-2zM1140.5 209.2h2v2h-2zM1146.0 206.5h2v2h-2zM1154.9 178.1h2v2h-2zM1184.9 154.2h2v2h-2zM1175.1 165.7h2v2h-2zM1209.1 149.8h2v2h-2zM1151.4 174.1h2v2h-2zM1173.2 164.9h2v2h-2zM1201.3 162.2h2v2h-2zM1175.1 180.9h2v2h-2zM1147.6 204.3h2v2h-2zM1195.7 138.7h2v2h-2zM1185.8 164.1h2v2h-2zM1187.3 160.7h2v2h-2zM1174.3 184.4h2v2h-2zM1172.7 178.8h2v2h-2zM1145.0 204.7h2v2h-2zM1182.4 163.3h2v2h-2zM1158.9 167.9h2v2h-2zM1147.8 195.4h2v2h-2zM1173.9 194.1h2v2h-2zM1178.8 156.5h2v2h-2zM1207.1 127.2h2v2h-2zM1142.5 194.5h2v2h-2zM1180.9 191.4h2v2h-2zM1167.0 184.9h2v2h-2zM1138.5 202.6h2v2h-2zM1195.1 167.5h2v2h-2zM1183.5 169.0h2v2h-2zM1141.1 189.9h2v2h-2zM1154.9 188.0h2v2h-2zM1157.3 196.1h2v2h-2zM1205.7 142.1h2v2h-2zM1265.0 107.0h2v2h-2zM1250.0 120.0h2v2h-2zM1255.0 122.0h2v2h-2zM1240.0 127.0h2v2h-2zM1230.0 132.0h2v2h-2zM1215.0 133.0h2v2h-2zM1232.0 137.0h2v2h-2zM1248.0 137.0h2v2h-2zM1238.0 140.0h2v2h-2zM1228.0 144.0h2v2h-2zM1222.0 148.0h2v2h-2zM1240.0 150.0h2v2h-2zM1230.0 153.0h2v2h-2zM1255.0 160.0h2v2h-2zM1222.0 160.0h2v2h-2zM1238.0 152.0h2v2h-2zM1218.0 165.0h2v2h-2zM1226.0 168.0h2v2h-2zM1235.0 172.0h2v2h-2zM1222.0 182.0h2v2h-2zM1215.0 187.0h2v2h-2zM1230.0 190.0h2v2h-2zM1226.0 200.0h2v2h-2zM1235.0 213.0h2v2h-2zM1225.0 220.0h2v2h-2zM1247.0 228.0h2v2h-2zM1208.0 190.0h2v2h-2zM1206.0 200.0h2v2h-2zM1195.0 205.0h2v2h-2zM1178.0 210.0h2v2h-2zM1195.0 215.0h2v2h-2zM1185.0 222.0h2v2h-2zM1170.0 222.0h2v2h-2zM1160.0 218.0h2v2h-2zM1190.0 197.0h2v2h-2zM1212.0 140.0h2v2h-2zM1212.0 150.0h2v2h-2zM1248.0 175.0h2v2h-2zM1224.0 176.0h2v2h-2zM1219.0 205.0h2v2h-2z"/>
<path d="M1214 54V246" stroke="#e06070" stroke-width="1.4" stroke-dasharray="6 5"/>
<path d="M1109.3 45.4V252.8H1334" stroke="#3a3a3a" stroke-width="1.8" fill="none"/>
<text x="1101.0" y="139.5" font-size="8.3" text-anchor="end" font-weight="bold" fill="#222">10</text>
<text x="1101.5" y="134.5" font-size="5.5" font-weight="bold" fill="#222">4</text>
<text x="1101.0" y="229.5" font-size="8.3" text-anchor="end" font-weight="bold" fill="#222">10</text>
<text x="1101.5" y="224.5" font-size="5.5" font-weight="bold" fill="#222">3</text>
<text x="1159.1" y="268.5" font-size="8.3" text-anchor="middle" font-weight="bold" fill="#222">10</text>
<text x="1164.0" y="263.5" font-size="5.5" font-weight="bold" fill="#222">3</text>
<text x="1258.5" y="268.5" font-size="8.3" text-anchor="middle" font-weight="bold" fill="#222">10</text>
<text x="1263.4" y="263.5" font-size="5.5" font-weight="bold" fill="#222">4</text>
<text x="1221" y="293" font-size="20" text-anchor="middle">CD45</text>
<text x="1116.5" y="74" font-size="20">CD11b<tspan dy="-7.5" font-size="11">+</tspan></text>
<text x="1116.5" y="98.8" font-size="20">CD45<tspan dy="-7.5" font-size="11">+low</tspan></text>
<text x="1224.3" y="74" font-size="20">CD11b<tspan dy="-7.5" font-size="11">+</tspan></text>
<text x="1224.3" y="98.8" font-size="20">CD45<tspan dy="-7.5" font-size="11">+high</tspan></text>
<text transform="translate(1083.6,139) rotate(-90)" font-size="20" text-anchor="middle" fill="#111">CD11b</text>
<path fill="none" stroke="#F8766D" stroke-width="2.9" stroke-linecap="round" d="M357 411h0m2 0h0m0 1h0m23 0h0m-50 1h0m4 0h0m-4 1h0m1 0h0m43 0h0m-45 1h0m7 0h0m10 0h0m2 0h0m1 0h0m7 0h0m16 0h0m-63 1h0m20 0h0m2 0h0m1 0h0m25 0h0m7 0h0m6 0h0m-59 1h0m17 0h0m18 0h0m17 0h0m4 0h0m5 0h0m-62 1h0m18 0h0m1 0h0m27 0h0m4 0h0m12 0h0m-63 1h0m1 0h0m1 0h0m2 0h0m14 0h0m2 0h0m2 0h0m14 0h0m8 0h0m1 0h0m2 0h0m12 0h0m1 0h0m3 0h0m-64 1h0m37 0h0m7 0h0m2 0h0m3 0h0m1 0h0m5 0h0m6 0h0m23 0h0m-95 1h0m32 0h0m2 0h0m4 0h0m6 0h0m6 0h0m11 0h0m1 0h0m2 0h0m1 0h0m3 0h0m3 0h0m3 0h0m1 0h0m18 0h0m-88 1h0m1 0h0m5 0h0m3 0h0m16 0h0m1 0h0m5 0h0m2 0h0m11 0h0m6 0h0m1 0h0m3 0h0m1 0h0m1 0h0m8 0h0m5 0h0m5 0h0m9 0h0m-88 1h0m29 0h0m1 0h0m8 0h0m3 0h0m3 0h0m14 0h0m4 0h0m2 0h0m1 0h0m1 0h0m6 0h0m1 0h0m1 0h0m4 0h0m11 0h0m-82 1h0m1 0h0m4 0h0m1 0h0m1 0h0m1 0h0m2 0h0m2 0h0m11 0h0m18 0h0m12 0h0m3 0h0m1 0h0m3 0h0m1 0h0m3 0h0m1 0h0m3 0h0m1 0h0m2 0h0m5 0h0m9 0h0m-79 1h0m1 0h0m1 0h0m1 0h0m12 0h0m2 0h0m2 0h0m7 0h0m4 0h0m3 0h0m1 0h0m7 0h0m6 0h0m7 0h0m3 0h0m8 0h0m7 0h0m2 0h0m1 0h0m1 0h0m2 0h0m-92 1h0m4 0h0m5 0h0m1 0h0m1 0h0m3 0h0m2 0h0m1 0h0m3 0h0m11 0h0m8 0h0m2 0h0m2 0h0m1 0h0m2 0h0m2 0h0m5 0h0m8 0h0m17 0h0m1 0h0m3 0h0m2 0h0m2 0h0m1 0h0m3 0h0m3 0h0m2 0h0m-98 1h0m7 0h0m8 0h0m5 0h0m4 0h0m1 0h0m6 0h0m2 0h0m1 0h0m4 0h0m3 0h0m3 0h0m3 0h0m1 0h0m1 0h0m6 0h0m4 0h0m2 0h0m4 0h0m5 0h0m11 0h0m2 0h0m2 0h0m4 0h0m4 0h0m5 0h0m4 0h0m-100 1h0m5 0h0m2 0h0m4 0h0m2 0h0m3 0h0m1 0h0m1 0h0m1 0h0m1 0h0m14 0h0m2 0h0m6 0h0m1 0h0m4 0h0m8 0h0m3 0h0m5 0h0m1 0h0m2 0h0m13 0h0m4 0h0m1 0h0m3 0h0m1 0h0m3 0h0m2 0h0m2 0h0m2 0h0m1 0h0m-93 1h0m6 0h0m2 0h0m7 0h0m3 0h0m5 0h0m1 0h0m2 0h0m1 0h0m1 0h0m10 0h0m2 0h0m11 0h0m4 0h0m1 0h0m7 0h0m10 0h0m5 0h0m5 0h0m3 0h0m4 0h0m4 0h0m-84 1h0m3 0h0m1 0h0m4 0h0m1 0h0m2 0h0m1 0h0m1 0h0m1 0h0m2 0h0m1 0h0m8 0h0m1 0h0m1 0h0m1 0h0m5 0h0m5 0h0m1 0h0m1 0h0m8 0h0m1 0h0m1 0h0m12 0h0m2 0h0m1 0h0m6 0h0m2 0h0m1 0h0m3 0h0m3 0h0m5 0h0m-90 1h0m5 0h0m7 0h0m1 0h0m4 0h0m2 0h0m13 0h0m5 0h0m1 0h0m1 0h0m2 0h0m5 0h0m7 0h0m2 0h0m3 0h0m8 0h0m9 0h0m3 0h0m7 0h0m-97 1h0m8 0h0m5 0h0m1 0h0m1 0h0m4 0h0m4 0h0m2 0h0m6 0h0m12 0h0m1 0h0m1 0h0m4 0h0m1 0h0m4 0h0m1 0h0m1 0h0m1 0h0m2 0h0m3 0h0m2 0h0m1 0h0m1 0h0m1 0h0m2 0h0m12 0h0m-83 1h0m8 0h0m1 0h0m4 0h0m9 0h0m1 0h0m1 0h0m2 0h0m1 0h0m5 0h0m1 0h0m12 0h0m7 0h0m1 0h0m13 0h0m5 0h0m3 0h0m5 0h0m1 0h0m4 0h0m1 0h0m1 0h0m4 0h0m2 0h0m-90 1h0m8 0h0m2 0h0m1 0h0m6 0h0m1 0h0m1 0h0m1 0h0m1 0h0m3 0h0m4 0h0m4 0h0m8 0h0m4 0h0m1 0h0m2 0h0m3 0h0m1 0h0m4 0h0m3 0h0m1 0h0m2 0h0m3 0h0m4 0h0m2 0h0m10 0h0m7 0h0m2 0h0m1 0h0m1 0h0m6 0h0m10 0h0m-109 1h0m1 0h0m7 0h0m1 0h0m4 0h0m5 0h0m1 0h0m3 0h0m1 0h0m7 0h0m2 0h0m2 0h0m1 0h0m2 0h0m6 0h0m1 0h0m2 0h0m1 0h0m1 0h0m6 0h0m3 0h0m1 0h0m1 0h0m1 0h0m4 0h0m4 0h0m13 0h0m1 0h0m3 0h0m1 0h0m1 0h0m2 0h0m11 0h0m13 0h0m-117 1h0m3 0h0m5 0h0m2 0h0m1 0h0m10 0h0m4 0h0m5 0h0m2 0h0m3 0h0m2 0h0m2 0h0m1 0h0m7 0h0m4 0h0m2 0h0m4 0h0m9 0h0m2 0h0m6 0h0m2 0h0m7 0h0m1 0h0m9 0h0m3 0h0m13 0h0m3 0h0m-105 1h0m3 0h0m14 0h0m7 0h0m4 0h0m3 0h0m8 0h0m17 0h0m1 0h0m6 0h0m1 0h0m3 0h0m2 0h0m5 0h0m2 0h0m1 0h0m9 0h0m8 0h0m8 0h0m1 0h0m6 0h0m-115 1h0m6 0h0m1 0h0m1 0h0m9 0h0m1 0h0m3 0h0m1 0h0m1 0h0m1 0h0m7 0h0m7 0h0m5 0h0m1 0h0m2 0h0m3 0h0m10 0h0m4 0h0m5 0h0m4 0h0m1 0h0m1 0h0m5 0h0m6 0h0m5 0h0m12 0h0m5 0h0m2 0h0m1 0h0m13 0h0m4 0h0m1 0h0m-126 1h0m2 0h0m3 0h0m8 0h0m2 0h0m2 0h0m2 0h0m3 0h0m3 0h0m3 0h0m2 0h0m1 0h0m1 0h0m2 0h0m1 0h0m1 0h0m2 0h0m2 0h0m12 0h0m1 0h0m1 0h0m2 0h0m3 0h0m3 0h0m3 0h0m5 0h0m2 0h0m7 0h0m1 0h0m2 0h0m2 0h0m14 0h0m26 0h0m8 0h0m-131 1h0m2 0h0m8 0h0m2 0h0m1 0h0m3 0h0m4 0h0m4 0h0m2 0h0m2 0h0m4 0h0m1 0h0m3 0h0m2 0h0m1 0h0m1 0h0m1 0h0m1 0h0m2 0h0m2 0h0m7 0h0m3 0h0m4 0h0m17 0h0m6 0h0m1 0h0m1 0h0m2 0h0m5 0h0m4 0h0m4 0h0m1 0h0m1 0h0m6 0h0m1 0h0m1 0h0m13 0h0m2 0h0m1 0h0m1 0h0m4 0h0m3 0h0m-136 1h0m1 0h0m3 0h0m4 0h0m2 0h0m4 0h0m2 0h0m4 0h0m11 0h0m1 0h0m3 0h0m1 0h0m3 0h0m1 0h0m1 0h0m1 0h0m13 0h0m1 0h0m1 0h0m1 0h0m5 0h0m22 0h0m1 0h0m6 0h0m3 0h0m4 0h0m1 0h0m1 0h0m2 0h0m2 0h0m3 0h0m1 0h0m2 0h0m1 0h0m14 0h0m1 0h0m1 0h0m-128 1h0m2 0h0m10 0h0m1 0h0m1 0h0m5 0h0m1 0h0m8 0h0m3 0h0m3 0h0m3 0h0m1 0h0m6 0h0m9 0h0m5 0h0m3 0h0m7 0h0m2 0h0m1 0h0m2 0h0m12 0h0m8 0h0m2 0h0m3 0h0m3 0h0m1 0h0m7 0h0m1 0h0m3 0h0m28 0h0m-133 1h0m1 0h0m1 0h0m2 0h0m5 0h0m1 0h0m9 0h0m8 0h0m3 0h0m2 0h0m5 0h0m4 0h0m3 0h0m1 0h0m1 0h0m1 0h0m1 0h0m1 0h0m5 0h0m2 0h0m6 0h0m1 0h0m3 0h0m15 0h0m1 0h0m1 0h0m1 0h0m4 0h0m2 0h0m1 0h0m8 0h0m4 0h0m1 0h0m21 0h0m-126 1h0m3 0h0m1 0h0m1 0h0m3 0h0m2 0h0m3 0h0m8 0h0m3 0h0m1 0h0m1 0h0m6 0h0m4 0h0m1 0h0m6 0h0m3 0h0m1 0h0m2 0h0m2 0h0m1 0h0m1 0h0m2 0h0m8 0h0m1 0h0m1 0h0m3 0h0m18 0h0m11 0h0m1 0h0m1 0h0m7 0h0m16 0h0m4 0h0m-130 1h0m6 0h0m1 0h0m2 0h0m2 0h0m1 0h0m3 0h0m2 0h0m8 0h0m2 0h0m10 0h0m5 0h0m4 0h0m4 0h0m2 0h0m1 0h0m1 0h0m3 0h0m3 0h0m2 0h0m2 0h0m2 0h0m3 0h0m6 0h0m1 0h0m1 0h0m1 0h0m11 0h0m1 0h0m5 0h0m1 0h0m5 0h0m1 0h0m1 0h0m13 0h0m1 0h0m1 0h0m1 0h0m2 0h0m-118 1h0m1 0h0m6 0h0m3 0h0m1 0h0m1 0h0m1 0h0m2 0h0m6 0h0m7 0h0m2 0h0m7 0h0m6 0h0m2 0h0m4 0h0m7 0h0m4 0h0m2 0h0m5 0h0m3 0h0m5 0h0m1 0h0m3 0h0m1 0h0m4 0h0m2 0h0m1 0h0m1 0h0m4 0h0m22 0h0m4 0h0m1 0h0m4 0h0m-118 1h0m1 0h0m2 0h0m5 0h0m3 0h0m2 0h0m2 0h0m8 0h0m11 0h0m3 0h0m2 0h0m9 0h0m6 0h0m1 0h0m1 0h0m5 0h0m2 0h0m5 0h0m2 0h0m5 0h0m1 0h0m2 0h0m4 0h0m9 0h0m15 0h0m1 0h0m4 0h0m3 0h0m1 0h0m3 0h0m-122 1h0m4 0h0m2 0h0m3 0h0m14 0h0m5 0h0m1 0h0m3 0h0m7 0h0m2 0h0m9 0h0m1 0h0m4 0h0m4 0h0m1 0h0m1 0h0m4 0h0m3 0h0m14 0h0m1 0h0m2 0h0m11 0h0m21 0h0m2 0h0m1 0h0m18 0h0m-135 1h0m1 0h0m1 0h0m1 0h0m1 0h0m1 0h0m12 0h0m5 0h0m1 0h0m3 0h0m1 0h0m1 0h0m5 0h0m2 0h0m4 0h0m1 0h0m8 0h0m1 0h0m2 0h0m13 0h0m2 0h0m4 0h0m4 0h0m5 0h0m14 0h0m2 0h0m8 0h0m5 0h0m4 0h0m1 0h0m1 0h0m2 0h0m1 0h0m18 0h0m-137 1h0m4 0h0m7 0h0m2 0h0m4 0h0m2 0h0m5 0h0m11 0h0m2 0h0m1 0h0m3 0h0m1 0h0m2 0h0m2 0h0m22 0h0m5 0h0m4 0h0m10 0h0m8 0h0m2 0h0m1 0h0m4 0h0m4 0h0m1 0h0m2 0h0m12 0h0m3 0h0m-119 1h0m2 0h0m1 0h0m5 0h0m5 0h0m3 0h0m8 0h0m1 0h0m1 0h0m2 0h0m1 0h0m3 0h0m1 0h0m5 0h0m2 0h0m3 0h0m1 0h0m1 0h0m3 0h0m12 0h0m2 0h0m3 0h0m5 0h0m7 0h0m1 0h0m1 0h0m1 0h0m6 0h0m1 0h0m6 0h0m1 0h0m7 0h0m2 0h0m3 0h0m1 0h0m5 0h0m3 0h0m-113 1h0m5 0h0m2 0h0m6 0h0m10 0h0m1 0h0m4 0h0m3 0h0m2 0h0m4 0h0m4 0h0m1 0h0m1 0h0m1 0h0m1 0h0m9 0h0m1 0h0m1 0h0m6 0h0m4 0h0m5 0h0m4 0h0m2 0h0m2 0h0m1 0h0m1 0h0m4 0h0m3 0h0m8 0h0m3 0h0m2 0h0m2 0h0m2 0h0m1 0h0m2 0h0m2 0h0m1 0h0m2 0h0m2 0h0m1 0h0m4 0h0m5 0h0m1 0h0m1 0h0m1 0h0m-137 1h0m2 0h0m10 0h0m1 0h0m10 0h0m15 0h0m1 0h0m2 0h0m4 0h0m3 0h0m7 0h0m9 0h0m1 0h0m14 0h0m1 0h0m5 0h0m3 0h0m1 0h0m1 0h0m5 0h0m2 0h0m9 0h0m1 0h0m2 0h0m3 0h0m1 0h0m4 0h0m5 0h0m5 0h0m7 0h0m-134 1h0m10 0h0m3 0h0m1 0h0m9 0h0m7 0h0m1 0h0m1 0h0m1 0h0m1 0h0m1 0h0m2 0h0m3 0h0m1 0h0m1 0h0m11 0h0m3 0h0m7 0h0m1 0h0m1 0h0m1 0h0m6 0h0m1 0h0m1 0h0m1 0h0m2 0h0m2 0h0m2 0h0m6 0h0m5 0h0m2 0h0m1 0h0m1 0h0m7 0h0m5 0h0m2 0h0m1 0h0m1 0h0m1 0h0m7 0h0m8 0h0m4 0h0m2 0h0m1 0h0m1 0h0m-144 1h0m14 0h0m1 0h0m2 0h0m3 0h0m1 0h0m8 0h0m3 0h0m6 0h0m1 0h0m1 0h0m1 0h0m1 0h0m1 0h0m2 0h0m2 0h0m2 0h0m4 0h0m3 0h0m7 0h0m8 0h0m8 0h0m2 0h0m2 0h0m1 0h0m1 0h0m1 0h0m1 0h0m1 0h0m3 0h0m5 0h0m5 0h0m11 0h0m3 0h0m3 0h0m5 0h0m5 0h0m2 0h0m10 0h0m1 0h0m2 0h0m-131 1h0m4 0h0m2 0h0m2 0h0m2 0h0m3 0h0m2 0h0m10 0h0m3 0h0m1 0h0m2 0h0m6 0h0m1 0h0m1 0h0m5 0h0m3 0h0m1 0h0m12 0h0m3 0h0m2 0h0m2 0h0m3 0h0m5 0h0m1 0h0m10 0h0m2 0h0m31 0h0m-128 1h0m3 0h0m8 0h0m6 0h0m5 0h0m1 0h0m13 0h0m1 0h0m4 0h0m5 0h0m1 0h0m1 0h0m1 0h0m1 0h0m8 0h0m14 0h0m1 0h0m6 0h0m4 0h0m9 0h0m1 0h0m2 0h0m1 0h0m1 0h0m3 0h0m11 0h0m13 0h0m3 0h0m12 0h0m2 0h0m2 0h0m-134 1h0m1 0h0m2 0h0m3 0h0m1 0h0m4 0h0m13 0h0m4 0h0m1 0h0m7 0h0m4 0h0m1 0h0m3 0h0m1 0h0m4 0h0m9 0h0m1 0h0m2 0h0m5 0h0m4 0h0m14 0h0m1 0h0m1 0h0m2 0h0m2 0h0m1 0h0m3 0h0m1 0h0m9 0h0m2 0h0m1 0h0m2 0h0m24 0h0m1 0h0m1 0h0m5 0h0m-149 1h0m2 0h0m8 0h0m11 0h0m1 0h0m17 0h0m3 0h0m7 0h0m2 0h0m4 0h0m3 0h0m7 0h0m1 0h0m1 0h0m5 0h0m2 0h0m1 0h0m18 0h0m5 0h0m7 0h0m1 0h0m1 0h0m11 0h0m7 0h0m1 0h0m3 0h0m2 0h0m2 0h0m2 0h0m1 0h0m2 0h0m3 0h0m-140 1h0m12 0h0m14 0h0m9 0h0m1 0h0m3 0h0m1 0h0m5 0h0m2 0h0m3 0h0m1 0h0m2 0h0m1 0h0m1 0h0m1 0h0m2 0h0m6 0h0m5 0h0m12 0h0m9 0h0m1 0h0m1 0h0m4 0h0m2 0h0m1 0h0m4 0h0m1 0h0m1 0h0m2 0h0m3 0h0m5 0h0m14 0h0m2 0h0m7 0h0m5 0h0m17 0h0m-152 1h0m9 0h0m15 0h0m5 0h0m14 0h0m2 0h0m3 0h0m9 0h0m2 0h0m3 0h0m1 0h0m9 0h0m4 0h0m3 0h0m1 0h0m4 0h0m2 0h0m1 0h0m1 0h0m6 0h0m12 0h0m4 0h0m11 0h0m2 0h0m14 0h0m-146 1h0m27 0h0m5 0h0m1 0h0m19 0h0m1 0h0m1 0h0m1 0h0m5 0h0m4 0h0m2 0h0m1 0h0m1 0h0m13 0h0m10 0h0m1 0h0m2 0h0m1 0h0m7 0h0m3 0h0m1 0h0m7 0h0m23 0h0m1 0h0m1 0h0m-131 1h0m2 0h0m3 0h0m22 0h0m4 0h0m3 0h0m2 0h0m4 0h0m5 0h0m1 0h0m1 0h0m5 0h0m5 0h0m2 0h0m2 0h0m2 0h0m1 0h0m10 0h0m10 0h0m1 0h0m3 0h0m20 0h0m1 0h0m4 0h0m11 0h0m1 0h0m21 0h0m11 0h0m-162 1h0m4 0h0m2 0h0m2 0h0m3 0h0m2 0h0m2 0h0m15 0h0m4 0h0m1 0h0m4 0h0m2 0h0m7 0h0m1 0h0m2 0h0m2 0h0m12 0h0m4 0h0m7 0h0m3 0h0m1 0h0m12 0h0m1 0h0m2 0h0m2 0h0m2 0h0m14 0h0m7 0h0m7 0h0m3 0h0m19 0h0m7 0h0m1 0h0m-151 1h0m5 0h0m5 0h0m14 0h0m9 0h0m12 0h0m15 0h0m2 0h0m10 0h0m2 0h0m1 0h0m2 0h0m3 0h0m5 0h0m2 0h0m2 0h0m17 0h0m2 0h0m2 0h0m1 0h0m5 0h0m3 0h0m4 0h0m4 0h0m9 0h0m2 0h0m4 0h0m3 0h0m10 0h0m-153 1h0m2 0h0m1 0h0m1 0h0m1 0h0m13 0h0m6 0h0m7 0h0m1 0h0m2 0h0m8 0h0m2 0h0m3 0h0m13 0h0m1 0h0m3 0h0m5 0h0m1 0h0m1 0h0m1 0h0m2 0h0m10 0h0m3 0h0m1 0h0m2 0h0m8 0h0m7 0h0m3 0h0m6 0h0m4 0h0m2 0h0m1 0h0m1 0h0m1 0h0m2 0h0m1 0h0m8 0h0m3 0h0m1 0h0m3 0h0m7 0h0m2 0h0m-159 1h0m5 0h0m1 0h0m1 0h0m1 0h0m2 0h0m2 0h0m2 0h0m1 0h0m1 0h0m8 0h0m2 0h0m11 0h0m4 0h0m11 0h0m5 0h0m1 0h0m13 0h0m3 0h0m4 0h0m1 0h0m2 0h0m6 0h0m4 0h0m1 0h0m1 0h0m1 0h0m3 0h0m11 0h0m4 0h0m2 0h0m3 0h0m2 0h0m2 0h0m2 0h0m2 0h0m2 0h0m2 0h0m1 0h0m1 0h0m1 0h0m4 0h0m2 0h0m4 0h0m3 0h0m4 0h0m8 0h0m3 0h0m-153 1h0m3 0h0m1 0h0m3 0h0m2 0h0m1 0h0m2 0h0m1 0h0m1 0h0m2 0h0m7 0h0m4 0h0m3 0h0m2 0h0m1 0h0m1 0h0m2 0h0m9 0h0m1 0h0m1 0h0m4 0h0m8 0h0m4 0h0m5 0h0m5 0h0m11 0h0m4 0h0m14 0h0m1 0h0m2 0h0m1 0h0m3 0h0m1 0h0m1 0h0m2 0h0m2 0h0m2 0h0m2 0h0m1 0h0m2 0h0m4 0h0m1 0h0m6 0h0m2 0h0m5 0h0m10 0h0m1 0h0m2 0h0m-165 1h0m2 0h0m2 0h0m1 0h0m1 0h0m3 0h0m7 0h0m1 0h0m2 0h0m2 0h0m3 0h0m4 0h0m11 0h0m7 0h0m6 0h0m2 0h0m2 0h0m4 0h0m4 0h0m4 0h0m3 0h0m4 0h0m2 0h0m2 0h0m7 0h0m6 0h0m2 0h0m1 0h0m2 0h0m17 0h0m2 0h0m4 0h0m4 0h0m2 0h0m1 0h0m2 0h0m2 0h0m7 0h0m1 0h0m4 0h0m2 0h0m7 0h0m1 0h0m7 0h0m4 0h0m-161 1h0m2 0h0m5 0h0m1 0h0m1 0h0m2 0h0m1 0h0m5 0h0m1 0h0m3 0h0m9 0h0m6 0h0m2 0h0m1 0h0m2 0h0m1 0h0m9 0h0m1 0h0m1 0h0m1 0h0m1 0h0m3 0h0m1 0h0m2 0h0m4 0h0m1 0h0m2 0h0m1 0h0m1 0h0m10 0h0m2 0h0m1 0h0m1 0h0m2 0h0m2 0h0m1 0h0m3 0h0m4 0h0m1 0h0m5 0h0m1 0h0m9 0h0m1 0h0m5 0h0m2 0h0m3 0h0m4 0h0m6 0h0m1 0h0m1 0h0m3 0h0m4 0h0m1 0h0m3 0h0m4 0h0m1 0h0m6 0h0m1 0h0m3 0h0m-161 1h0m4 0h0m9 0h0m3 0h0m2 0h0m5 0h0m1 0h0m2 0h0m1 0h0m1 0h0m1 0h0m1 0h0m2 0h0m3 0h0m1 0h0m7 0h0m1 0h0m6 0h0m2 0h0m2 0h0m1 0h0m4 0h0m3 0h0m1 0h0m2 0h0m2 0h0m1 0h0m14 0h0m1 0h0m3 0h0m1 0h0m2 0h0m18 0h0m16 0h0m1 0h0m5 0h0m2 0h0m4 0h0m1 0h0m4 0h0m3 0h0m1 0h0m1 0h0m1 0h0m-147 1h0m24 0h0m1 0h0m3 0h0m1 0h0m4 0h0m3 0h0m1 0h0m4 0h0m1 0h0m1 0h0m3 0h0m7 0h0m5 0h0m1 0h0m2 0h0m6 0h0m3 0h0m14 0h0m3 0h0m4 0h0m1 0h0m27 0h0m2 0h0m3 0h0m2 0h0m10 0h0m3 0h0m2 0h0m7 0h0m14 0h0m-159 1h0m6 0h0m14 0h0m4 0h0m1 0h0m3 0h0m1 0h0m4 0h0m3 0h0m1 0h0m2 0h0m2 0h0m2 0h0m5 0h0m1 0h0m2 0h0m4 0h0m4 0h0m1 0h0m1 0h0m2 0h0m1 0h0m4 0h0m1 0h0m2 0h0m1 0h0m10 0h0m3 0h0m2 0h0m2 0h0m5 0h0m9 0h0m18 0h0m13 0h0m4 0h0m2 0h0m2 0h0m1 0h0m1 0h0m-145 1h0m8 0h0m7 0h0m11 0h0m3 0h0m2 0h0m2 0h0m3 0h0m8 0h0m3 0h0m2 0h0m2 0h0m3 0h0m3 0h0m5 0h0m16 0h0m1 0h0m9 0h0m1 0h0m1 0h0m2 0h0m1 0h0m22 0h0m3 0h0m2 0h0m4 0h0m1 0h0m11 0h0m3 0h0m-139 1h0m8 0h0m1 0h0m12 0h0m2 0h0m1 0h0m1 0h0m1 0h0m1 0h0m1 0h0m3 0h0m1 0h0m1 0h0m17 0h0m1 0h0m2 0h0m5 0h0m3 0h0m1 0h0m5 0h0m3 0h0m1 0h0m1 0h0m1 0h0m2 0h0m1 0h0m3 0h0m2 0h0m6 0h0m1 0h0m28 0h0m3 0h0m3 0h0m2 0h0m1 0h0m1 0h0m10 0h0m1 0h0m1 0h0m1 0h0m-138 1h0m6 0h0m12 0h0m1 0h0m1 0h0m3 0h0m3 0h0m1 0h0m3 0h0m2 0h0m15 0h0m4 0h0m3 0h0m1 0h0m5 0h0m1 0h0m2 0h0m6 0h0m1 0h0m2 0h0m2 0h0m6 0h0m1 0h0m1 0h0m1 0h0m1 0h0m3 0h0m2 0h0m2 0h0m6 0h0m1 0h0m3 0h0m1 0h0m18 0h0m1 0h0m3 0h0m11 0h0m1 0h0m2 0h0m1 0h0m11 0h0m3 0h0m-156 1h0m1 0h0m1 0h0m5 0h0m1 0h0m15 0h0m2 0h0m3 0h0m1 0h0m1 0h0m2 0h0m3 0h0m3 0h0m11 0h0m2 0h0m2 0h0m4 0h0m6 0h0m2 0h0m5 0h0m4 0h0m4 0h0m3 0h0m6 0h0m1 0h0m1 0h0m4 0h0m25 0h0m1 0h0m2 0h0m3 0h0m1 0h0m1 0h0m3 0h0m10 0h0m1 0h0m2 0h0m10 0h0m2 0h0m1 0h0m3 0h0m4 0h0m2 0h0m6 0h0m-163 1h0m1 0h0m23 0h0m1 0h0m2 0h0m1 0h0m2 0h0m6 0h0m10 0h0m10 0h0m4 0h0m2 0h0m4 0h0m3 0h0m2 0h0m3 0h0m2 0h0m18 0h0m9 0h0m13 0h0m3 0h0m4 0h0m2 0h0m1 0h0m11 0h0m13 0h0m4 0h0m2 0h0m1 0h0m2 0h0m1 0h0m-172 1h0m7 0h0m3 0h0m1 0h0m1 0h0m1 0h0m1 0h0m20 0h0m4 0h0m8 0h0m3 0h0m1 0h0m3 0h0m1 0h0m1 0h0m2 0h0m1 0h0m1 0h0m9 0h0m2 0h0m1 0h0m3 0h0m3 0h0m4 0h0m14 0h0m13 0h0m1 0h0m7 0h0m11 0h0m7 0h0m7 0h0m1 0h0m3 0h0m1 0h0m1 0h0m4 0h0m4 0h0m1 0h0m5 0h0m2 0h0m1 0h0m1 0h0m1 0h0m1 0h0m1 0h0m2 0h0m-164 1h0m1 0h0m1 0h0m3 0h0m2 0h0m1 0h0m16 0h0m1 0h0m1 0h0m5 0h0m9 0h0m2 0h0m1 0h0m1 0h0m4 0h0m1 0h0m2 0h0m1 0h0m12 0h0m4 0h0m4 0h0m3 0h0m2 0h0m1 0h0m4 0h0m11 0h0m23 0h0m2 0h0m11 0h0m4 0h0m2 0h0m1 0h0m1 0h0m6 0h0m7 0h0m2 0h0m3 0h0m1 0h0m2 0h0m2 0h0m1 0h0m1 0h0m2 0h0m10 0h0m-177 1h0m5 0h0m2 0h0m1 0h0m2 0h0m5 0h0m5 0h0m6 0h0m2 0h0m11 0h0m3 0h0m5 0h0m5 0h0m2 0h0m1 0h0m2 0h0m13 0h0m1 0h0m1 0h0m5 0h0m1 0h0m7 0h0m2 0h0m1 0h0m1 0h0m1 0h0m7 0h0m1 0h0m4 0h0m14 0h0m1 0h0m1 0h0m1 0h0m1 0h0m1 0h0m9 0h0m2 0h0m2 0h0m5 0h0m17 0h0m6 0h0m-163 1h0m4 0h0m5 0h0m15 0h0m5 0h0m9 0h0m1 0h0m2 0h0m6 0h0m1 0h0m6 0h0m1 0h0m2 0h0m4 0h0m6 0h0m1 0h0m1 0h0m2 0h0m4 0h0m4 0h0m10 0h0m2 0h0m1 0h0m7 0h0m14 0h0m1 0h0m6 0h0m2 0h0m7 0h0m2 0h0m1 0h0m2 0h0m1 0h0m3 0h0m1 0h0m3 0h0m9 0h0m2 0h0m1 0h0m8 0h0m1 0h0m-159 1h0m1 0h0m6 0h0m4 0h0m3 0h0m11 0h0m9 0h0m1 0h0m1 0h0m1 0h0m1 0h0m3 0h0m2 0h0m1 0h0m5 0h0m2 0h0m3 0h0m2 0h0m7 0h0m1 0h0m17 0h0m2 0h0m1 0h0m4 0h0m9 0h0m11 0h0m6 0h0m1 0h0m1 0h0m1 0h0m3 0h0m1 0h0m1 0h0m1 0h0m1 0h0m4 0h0m1 0h0m2 0h0m5 0h0m12 0h0m3 0h0m1 0h0m1 0h0m2 0h0m1 0h0m5 0h0m-153 1h0m1 0h0m1 0h0m2 0h0m2 0h0m1 0h0m1 0h0m15 0h0m1 0h0m6 0h0m2 0h0m2 0h0m7 0h0m5 0h0m1 0h0m3 0h0m2 0h0m2 0h0m18 0h0m1 0h0m6 0h0m5 0h0m1 0h0m1 0h0m24 0h0m1 0h0m10 0h0m1 0h0m5 0h0m5 0h0m11 0h0m2 0h0m1 0h0m2 0h0m5 0h0m4 0h0m8 0h0m-166 1h0m3 0h0m1 0h0m5 0h0m9 0h0m13 0h0m6 0h0m2 0h0m3 0h0m5 0h0m7 0h0m2 0h0m3 0h0m12 0h0m2 0h0m1 0h0m2 0h0m2 0h0m4 0h0m3 0h0m2 0h0m2 0h0m20 0h0m6 0h0m1 0h0m4 0h0m1 0h0m1 0h0m1 0h0m2 0h0m3 0h0m4 0h0m7 0h0m14 0h0m14 0h0m-172 1h0m13 0h0m4 0h0m5 0h0m7 0h0m4 0h0m8 0h0m1 0h0m1 0h0m4 0h0m1 0h0m1 0h0m3 0h0m10 0h0m2 0h0m3 0h0m6 0h0m2 0h0m3 0h0m1 0h0m5 0h0m2 0h0m3 0h0m7 0h0m10 0h0m15 0h0m1 0h0m4 0h0m4 0h0m1 0h0m5 0h0m6 0h0m30 0h0m-173 1h0m2 0h0m9 0h0m3 0h0m1 0h0m18 0h0m5 0h0m5 0h0m2 0h0m3 0h0m2 0h0m11 0h0m1 0h0m1 0h0m1 0h0m1 0h0m4 0h0m1 0h0m5 0h0m1 0h0m3 0h0m3 0h0m1 0h0m8 0h0m5 0h0m9 0h0m1 0h0m2 0h0m9 0h0m4 0h0m9 0h0m3 0h0m3 0h0m5 0h0m4 0h0m14 0h0m1 0h0m2 0h0m-164 1h0m5 0h0m1 0h0m2 0h0m4 0h0m1 0h0m1 0h0m6 0h0m1 0h0m7 0h0m7 0h0m1 0h0m1 0h0m8 0h0m1 0h0m13 0h0m3 0h0m5 0h0m2 0h0m4 0h0m1 0h0m2 0h0m1 0h0m2 0h0m14 0h0m5 0h0m10 0h0m6 0h0m8 0h0m1 0h0m1 0h0m2 0h0m1 0h0m1 0h0m1 0h0m2 0h0m3 0h0m2 0h0m3 0h0m1 0h0m1 0h0m7 0h0m10 0h0m8 0h0m7 0h0m1 0h0m3 0h0m1 0h0m-165 1h0m7 0h0m7 0h0m11 0h0m9 0h0m3 0h0m8 0h0m4 0h0m2 0h0m3 0h0m1 0h0m6 0h0m2 0h0m1 0h0m2 0h0m1 0h0m4 0h0m3 0h0m7 0h0m2 0h0m2 0h0m1 0h0m7 0h0m2 0h0m1 0h0m2 0h0m2 0h0m8 0h0m2 0h0m2 0h0m9 0h0m2 0h0m1 0h0m3 0h0m1 0h0m32 0h0m3 0h0m1 0h0m-174 1h0m5 0h0m1 0h0m2 0h0m4 0h0m1 0h0m2 0h0m1 0h0m1 0h0m1 0h0m1 0h0m4 0h0m19 0h0m1 0h0m1 0h0m3 0h0m12 0h0m4 0h0m2 0h0m1 0h0m3 0h0m2 0h0m3 0h0m1 0h0m6 0h0m10 0h0m1 0h0m10 0h0m3 0h0m2 0h0m1 0h0m1 0h0m1 0h0m1 0h0m1 0h0m7 0h0m5 0h0m8 0h0m1 0h0m1 0h0m5 0h0m5 0h0m1 0h0m15 0h0m1 0h0m10 0h0m-169 1h0m2 0h0m4 0h0m1 0h0m3 0h0m6 0h0m13 0h0m1 0h0m2 0h0m1 0h0m1 0h0m9 0h0m1 0h0m1 0h0m5 0h0m6 0h0m2 0h0m4 0h0m1 0h0m4 0h0m3 0h0m1 0h0m1 0h0m1 0h0m4 0h0m3 0h0m10 0h0m1 0h0m1 0h0m8 0h0m2 0h0m5 0h0m1 0h0m1 0h0m6 0h0m11 0h0m1 0h0m2 0h0m1 0h0m4 0h0m2 0h0m6 0h0m2 0h0m11 0h0m2 0h0m1 0h0m6 0h0m1 0h0m2 0h0m2 0h0m4 0h0m-174 1h0m2 0h0m2 0h0m2 0h0m3 0h0m9 0h0m9 0h0m3 0h0m1 0h0m4 0h0m2 0h0m6 0h0m15 0h0m8 0h0m8 0h0m1 0h0m35 0h0m8 0h0m11 0h0m3 0h0m5 0h0m7 0h0m5 0h0m5 0h0m3 0h0m1 0h0m1 0h0m2 0h0m1 0h0m7 0h0m3 0h0m1 0h0m1 0h0m-174 1h0m4 0h0m3 0h0m6 0h0m1 0h0m1 0h0m1 0h0m4 0h0m3 0h0m4 0h0m5 0h0m2 0h0m9 0h0m1 0h0m2 0h0m2 0h0m10 0h0m6 0h0m8 0h0m3 0h0m13 0h0m1 0h0m2 0h0m10 0h0m8 0h0m8 0h0m10 0h0m5 0h0m1 0h0m2 0h0m8 0h0m1 0h0m6 0h0m1 0h0m1 0h0m3 0h0m3 0h0m2 0h0m1 0h0m6 0h0m1 0h0m3 0h0m6 0h0m-175 1h0m2 0h0m2 0h0m1 0h0m1 0h0m5 0h0m1 0h0m1 0h0m3 0h0m1 0h0m1 0h0m6 0h0m1 0h0m4 0h0m1 0h0m3 0h0m9 0h0m2 0h0m15 0h0m9 0h0m4 0h0m1 0h0m1 0h0m17 0h0m4 0h0m1 0h0m2 0h0m10 0h0m8 0h0m6 0h0m4 0h0m1 0h0m2 0h0m1 0h0m1 0h0m1 0h0m1 0h0m1 0h0m1 0h0m13 0h0m1 0h0m1 0h0m1 0h0m4 0h0m1 0h0m3 0h0m2 0h0m13 0h0m2 0h0m-176 1h0m1 0h0m2 0h0m5 0h0m3 0h0m1 0h0m2 0h0m2 0h0m1 0h0m1 0h0m1 0h0m3 0h0m3 0h0m6 0h0m3 0h0m2 0h0m9 0h0m1 0h0m14 0h0m1 0h0m3 0h0m7 0h0m1 0h0m1 0h0m3 0h0m10 0h0m1 0h0m7 0h0m5 0h0m1 0h0m6 0h0m25 0h0m1 0h0m1 0h0m1 0h0m2 0h0m5 0h0m4 0h0m1 0h0m3 0h0m8 0h0m3 0h0m2 0h0m1 0h0m2 0h0m6 0h0m2 0h0m2 0h0m-171 1h0m1 0h0m4 0h0m4 0h0m1 0h0m1 0h0m15 0h0m1 0h0m2 0h0m1 0h0m3 0h0m10 0h0m9 0h0m4 0h0m10 0h0m3 0h0m2 0h0m1 0h0m7 0h0m1 0h0m1 0h0m1 0h0m2 0h0m2 0h0m1 0h0m1 0h0m1 0h0m4 0h0m1 0h0m3 0h0m1 0h0m3 0h0m21 0h0m4 0h0m2 0h0m2 0h0m1 0h0m5 0h0m1 0h0m9 0h0m3 0h0m2 0h0m5 0h0m1 0h0m3 0h0m1 0h0m2 0h0m1 0h0m1 0h0m1 0h0m2 0h0m2 0h0m1 0h0m2 0h0m3 0h0m-171 1h0m7 0h0m3 0h0m3 0h0m11 0h0m2 0h0m3 0h0m7 0h0m1 0h0m6 0h0m2 0h0m5 0h0m1 0h0m3 0h0m2 0h0m7 0h0m3 0h0m1 0h0m5 0h0m1 0h0m4 0h0m4 0h0m1 0h0m3 0h0m3 0h0m1 0h0m1 0h0m2 0h0m3 0h0m3 0h0m1 0h0m1 0h0m15 0h0m2 0h0m1 0h0m1 0h0m1 0h0m1 0h0m1 0h0m1 0h0m3 0h0m1 0h0m13 0h0m4 0h0m1 0h0m3 0h0m6 0h0m1 0h0m8 0h0m3 0h0m-173 1h0m6 0h0m3 0h0m9 0h0m1 0h0m3 0h0m5 0h0m3 0h0m2 0h0m2 0h0m2 0h0m2 0h0m1 0h0m2 0h0m1 0h0m1 0h0m2 0h0m3 0h0m1 0h0m3 0h0m4 0h0m1 0h0m19 0h0m1 0h0m12 0h0m3 0h0m5 0h0m2 0h0m1 0h0m1 0h0m1 0h0m2 0h0m10 0h0m3 0h0m8 0h0m1 0h0m2 0h0m4 0h0m7 0h0m1 0h0m5 0h0m6 0h0m1 0h0m2 0h0m10 0h0m1 0h0m3 0h0m1 0h0m1 0h0m2 0h0m2 0h0m9 0h0m-179 1h0m2 0h0m4 0h0m2 0h0m4 0h0m4 0h0m3 0h0m3 0h0m9 0h0m4 0h0m1 0h0m1 0h0m4 0h0m3 0h0m7 0h0m15 0h0m4 0h0m4 0h0m3 0h0m3 0h0m1 0h0m2 0h0m3 0h0m2 0h0m2 0h0m1 0h0m2 0h0m4 0h0m1 0h0m2 0h0m1 0h0m1 0h0m11 0h0m1 0h0m1 0h0m8 0h0m1 0h0m1 0h0m2 0h0m5 0h0m9 0h0m7 0h0m2 0h0m7 0h0m1 0h0m1 0h0m1 0h0m1 0h0m5 0h0m1 0h0m5 0h0m2 0h0m1 0h0m6 0h0m-184 1h0m1 0h0m5 0h0m3 0h0m1 0h0m4 0h0m1 0h0m4 0h0m1 0h0m2 0h0m3 0h0m6 0h0m2 0h0m1 0h0m1 0h0m1 0h0m1 0h0m1 0h0m9 0h0m2 0h0m1 0h0m1 0h0m21 0h0m5 0h0m1 0h0m1 0h0m2 0h0m2 0h0m5 0h0m3 0h0m1 0h0m9 0h0m4 0h0m8 0h0m2 0h0m7 0h0m1 0h0m4 0h0m2 0h0m2 0h0m1 0h0m1 0h0m3 0h0m1 0h0m2 0h0m5 0h0m8 0h0m1 0h0m2 0h0m8 0h0m3 0h0m1 0h0m6 0h0m3 0h0m1 0h0m3 0h0m2 0h0m-184 1h0m1 0h0m4 0h0m5 0h0m2 0h0m2 0h0m8 0h0m1 0h0m4 0h0m1 0h0m7 0h0m1 0h0m4 0h0m2 0h0m8 0h0m2 0h0m8 0h0m6 0h0m13 0h0m6 0h0m3 0h0m1 0h0m4 0h0m6 0h0m3 0h0m4 0h0m9 0h0m1 0h0m1 0h0m3 0h0m5 0h0m2 0h0m3 0h0m2 0h0m1 0h0m2 0h0m6 0h0m3 0h0m5 0h0m8 0h0m1 0h0m1 0h0m3 0h0m5 0h0m7 0h0m1 0h0m3 0h0m3 0h0m1 0h0m9 0h0m-194 1h0m1 0h0m2 0h0m4 0h0m7 0h0m6 0h0m6 0h0m2 0h0m3 0h0m5 0h0m4 0h0m3 0h0m9 0h0m1 0h0m12 0h0m3 0h0m4 0h0m8 0h0m2 0h0m4 0h0m2 0h0m3 0h0m11 0h0m3 0h0m13 0h0m1 0h0m2 0h0m6 0h0m6 0h0m2 0h0m1 0h0m7 0h0m5 0h0m3 0h0m3 0h0m5 0h0m4 0h0m5 0h0m4 0h0m8 0h0m1 0h0m21 0h0m-209 1h0m8 0h0m1 0h0m1 0h0m2 0h0m7 0h0m3 0h0m1 0h0m1 0h0m7 0h0m5 0h0m5 0h0m7 0h0m1 0h0m3 0h0m1 0h0m5 0h0m1 0h0m3 0h0m12 0h0m1 0h0m1 0h0m5 0h0m7 0h0m1 0h0m1 0h0m6 0h0m4 0h0m3 0h0m3 0h0m2 0h0m2 0h0m14 0h0m1 0h0m4 0h0m2 0h0m2 0h0m6 0h0m1 0h0m1 0h0m1 0h0m7 0h0m1 0h0m9 0h0m1 0h0m1 0h0m7 0h0m2 0h0m1 0h0m1 0h0m4 0h0m2 0h0m2 0h0m1 0h0m1 0h0m2 0h0m1 0h0m6 0h0m8 0h0m3 0h0m1 0h0m-197 1h0m4 0h0m8 0h0m2 0h0m3 0h0m2 0h0m5 0h0m5 0h0m1 0h0m8 0h0m3 0h0m1 0h0m1 0h0m3 0h0m4 0h0m3 0h0m1 0h0m9 0h0m1 0h0m4 0h0m2 0h0m4 0h0m2 0h0m2 0h0m1 0h0m8 0h0m1 0h0m2 0h0m1 0h0m8 0h0m1 0h0m5 0h0m1 0h0m7 0h0m1 0h0m6 0h0m10 0h0m3 0h0m1 0h0m2 0h0m1 0h0m7 0h0m5 0h0m4 0h0m1 0h0m6 0h0m8 0h0m1 0h0m1 0h0m2 0h0m1 0h0m1 0h0m1 0h0m1 0h0m5 0h0m9 0h0m13 0h0m-201 1h0m1 0h0m2 0h0m2 0h0m8 0h0m1 0h0m1 0h0m1 0h0m1 0h0m1 0h0m1 0h0m9 0h0m9 0h0m1 0h0m14 0h0m9 0h0m5 0h0m1 0h0m1 0h0m2 0h0m3 0h0m1 0h0m2 0h0m2 0h0m3 0h0m1 0h0m4 0h0m9 0h0m6 0h0m4 0h0m1 0h0m1 0h0m1 0h0m3 0h0m2 0h0m1 0h0m1 0h0m8 0h0m6 0h0m3 0h0m1 0h0m1 0h0m4 0h0m4 0h0m7 0h0m1 0h0m1 0h0m1 0h0m1 0h0m1 0h0m6 0h0m5 0h0m1 0h0m1 0h0m1 0h0m1 0h0m3 0h0m5 0h0m12 0h0m2 0h0m1 0h0m2 0h0m7 0h0m-207 1h0m11 0h0m1 0h0m3 0h0m7 0h0m10 0h0m3 0h0m6 0h0m4 0h0m9 0h0m2 0h0m13 0h0m1 0h0m1 0h0m3 0h0m2 0h0m1 0h0m1 0h0m1 0h0m2 0h0m12 0h0m8 0h0m4 0h0m1 0h0m1 0h0m4 0h0m6 0h0m7 0h0m5 0h0m10 0h0m3 0h0m3 0h0m2 0h0m8 0h0m2 0h0m2 0h0m10 0h0m2 0h0m3 0h0m3 0h0m1 0h0m9 0h0m8 0h0m1 0h0m3 0h0m6 0h0m1 0h0m-210 1h0m14 0h0m3 0h0m3 0h0m2 0h0m4 0h0m8 0h0m3 0h0m2 0h0m3 0h0m6 0h0m3 0h0m3 0h0m6 0h0m3 0h0m7 0h0m2 0h0m1 0h0m1 0h0m5 0h0m1 0h0m3 0h0m2 0h0m2 0h0m5 0h0m1 0h0m13 0h0m9 0h0m6 0h0m7 0h0m5 0h0m10 0h0m3 0h0m2 0h0m1 0h0m1 0h0m4 0h0m1 0h0m3 0h0m3 0h0m3 0h0m14 0h0m1 0h0m1 0h0m1 0h0m19 0h0m11 0h0m-207 1h0m11 0h0m2 0h0m3 0h0m2 0h0m14 0h0m1 0h0m2 0h0m1 0h0m4 0h0m4 0h0m8 0h0m3 0h0m4 0h0m7 0h0m9 0h0m1 0h0m3 0h0m1 0h0m8 0h0m3 0h0m13 0h0m1 0h0m7 0h0m2 0h0m5 0h0m2 0h0m7 0h0m10 0h0m3 0h0m1 0h0m2 0h0m1 0h0m1 0h0m6 0h0m5 0h0m5 0h0m7 0h0m1 0h0m2 0h0m2 0h0m1 0h0m1 0h0m3 0h0m5 0h0m9 0h0m2 0h0m12 0h0m-208 1h0m2 0h0m7 0h0m2 0h0m1 0h0m3 0h0m1 0h0m7 0h0m1 0h0m11 0h0m1 0h0m2 0h0m3 0h0m4 0h0m9 0h0m1 0h0m2 0h0m4 0h0m9 0h0m5 0h0m4 0h0m2 0h0m19 0h0m4 0h0m4 0h0m7 0h0m9 0h0m3 0h0m11 0h0m1 0h0m5 0h0m1 0h0m13 0h0m11 0h0m2 0h0m1 0h0m3 0h0m2 0h0m2 0h0m6 0h0m2 0h0m7 0h0m1 0h0m3 0h0m2 0h0m5 0h0m1 0h0m2 0h0m-203 1h0m7 0h0m2 0h0m1 0h0m1 0h0m4 0h0m5 0h0m7 0h0m7 0h0m1 0h0m1 0h0m3 0h0m10 0h0m1 0h0m2 0h0m5 0h0m12 0h0m3 0h0m2 0h0m3 0h0m11 0h0m1 0h0m2 0h0m3 0h0m1 0h0m5 0h0m4 0h0m13 0h0m6 0h0m10 0h0m6 0h0m1 0h0m1 0h0m15 0h0m9 0h0m2 0h0m3 0h0m3 0h0m6 0h0m3 0h0m4 0h0m3 0h0m3 0h0m2 0h0m3 0h0m3 0h0m5 0h0m1 0h0m-208 1h0m5 0h0m6 0h0m1 0h0m2 0h0m4 0h0m1 0h0m1 0h0m1 0h0m2 0h0m1 0h0m5 0h0m1 0h0m1 0h0m1 0h0m2 0h0m4 0h0m1 0h0m1 0h0m18 0h0m3 0h0m14 0h0m17 0h0m4 0h0m1 0h0m3 0h0m3 0h0m1 0h0m4 0h0m11 0h0m2 0h0m14 0h0m9 0h0m4 0h0m18 0h0m5 0h0m1 0h0m4 0h0m5 0h0m3 0h0m2 0h0m6 0h0m2 0h0m5 0h0m1 0h0m5 0h0m1 0h0m-209 1h0m1 0h0m2 0h0m1 0h0m2 0h0m1 0h0m4 0h0m1 0h0m1 0h0m2 0h0m16 0h0m1 0h0m1 0h0m5 0h0m1 0h0m1 0h0m1 0h0m4 0h0m10 0h0m19 0h0m3 0h0m12 0h0m7 0h0m3 0h0m6 0h0m2 0h0m10 0h0m4 0h0m2 0h0m1 0h0m22 0h0m1 0h0m2 0h0m20 0h0m4 0h0m1 0h0m2 0h0m4 0h0m1 0h0m5 0h0m16 0h0m4 0h0m3 0h0m1 0h0m9 0h0m-219 1h0m4 0h0m1 0h0m3 0h0m1 0h0m16 0h0m1 0h0m1 0h0m4 0h0m4 0h0m2 0h0m5 0h0m4 0h0m1 0h0m1 0h0m9 0h0m17 0h0m5 0h0m1 0h0m14 0h0m5 0h0m1 0h0m4 0h0m1 0h0m1 0h0m17 0h0m2 0h0m7 0h0m1 0h0m5 0h0m1 0h0m4 0h0m3 0h0m1 0h0m1 0h0m5 0h0m2 0h0m2 0h0m11 0h0m4 0h0m3 0h0m1 0h0m5 0h0m2 0h0m2 0h0m5 0h0m5 0h0m6 0h0m3 0h0m3 0h0m1 0h0m5 0h0m-208 1h0m3 0h0m2 0h0m9 0h0m2 0h0m1 0h0m2 0h0m6 0h0m1 0h0m1 0h0m4 0h0m2 0h0m27 0h0m8 0h0m1 0h0m4 0h0m9 0h0m3 0h0m2 0h0m1 0h0m2 0h0m3 0h0m1 0h0m2 0h0m1 0h0m2 0h0m1 0h0m11 0h0m7 0h0m13 0h0m3 0h0m3 0h0m2 0h0m14 0h0m9 0h0m5 0h0m4 0h0m6 0h0m1 0h0m18 0h0m4 0h0m8 0h0m6 0h0m-211 1h0m1 0h0m27 0h0m4 0h0m13 0h0m9 0h0m2 0h0m1 0h0m1 0h0m1 0h0m8 0h0m8 0h0m1 0h0m4 0h0m1 0h0m2 0h0m2 0h0m1 0h0m6 0h0m2 0h0m2 0h0m3 0h0m1 0h0m2 0h0m1 0h0m5 0h0m2 0h0m3 0h0m13 0h0m3 0h0m2 0h0m2 0h0m3 0h0m2 0h0m11 0h0m3 0h0m7 0h0m1 0h0m3 0h0m5 0h0m12 0h0m2 0h0m6 0h0m5 0h0m2 0h0m2 0h0m1 0h0m3 0h0m3 0h0m6 0h0m1 0h0m1 0h0m-218 1h0m2 0h0m1 0h0m1 0h0m3 0h0m8 0h0m1 0h0m2 0h0m1 0h0m6 0h0m1 0h0m9 0h0m26 0h0m3 0h0m3 0h0m4 0h0m4 0h0m6 0h0m2 0h0m1 0h0m2 0h0m1 0h0m3 0h0m3 0h0m5 0h0m10 0h0m1 0h0m7 0h0m18 0h0m9 0h0m2 0h0m2 0h0m2 0h0m5 0h0m1 0h0m1 0h0m1 0h0m10 0h0m2 0h0m2 0h0m2 0h0m2 0h0m1 0h0m6 0h0m3 0h0m18 0h0m2 0h0m3 0h0m5 0h0m-210 1h0m5 0h0m6 0h0m1 0h0m3 0h0m1 0h0m8 0h0m1 0h0m1 0h0m1 0h0m1 0h0m31 0h0m1 0h0m1 0h0m2 0h0m4 0h0m5 0h0m3 0h0m1 0h0m1 0h0m6 0h0m2 0h0m2 0h0m1 0h0m5 0h0m1 0h0m2 0h0m6 0h0m2 0h0m3 0h0m1 0h0m2 0h0m2 0h0m2 0h0m18 0h0m8 0h0m3 0h0m2 0h0m1 0h0m1 0h0m8 0h0m7 0h0m2 0h0m3 0h0m1 0h0m2 0h0m7 0h0m4 0h0m1 0h0m2 0h0m1 0h0m2 0h0m1 0h0m15 0h0m4 0h0m2 0h0m2 0h0m3 0h0m1 0h0m1 0h0m-211 1h0m7 0h0m1 0h0m3 0h0m2 0h0m7 0h0m2 0h0m7 0h0m1 0h0m1 0h0m9 0h0m9 0h0m5 0h0m2 0h0m2 0h0m1 0h0m1 0h0m1 0h0m2 0h0m2 0h0m1 0h0m2 0h0m1 0h0m1 0h0m1 0h0m5 0h0m5 0h0m1 0h0m15 0h0m1 0h0m2 0h0m3 0h0m2 0h0m2 0h0m2 0h0m18 0h0m5 0h0m1 0h0m6 0h0m4 0h0m3 0h0m1 0h0m1 0h0m5 0h0m3 0h0m1 0h0m4 0h0m18 0h0m3 0h0m12 0h0m1 0h0m4 0h0m12 0h0m-207 1h0m5 0h0m3 0h0m1 0h0m4 0h0m4 0h0m2 0h0m1 0h0m8 0h0m13 0h0m1 0h0m17 0h0m2 0h0m2 0h0m3 0h0m2 0h0m5 0h0m2 0h0m13 0h0m5 0h0m1 0h0m1 0h0m6 0h0m14 0h0m3 0h0m5 0h0m2 0h0m13 0h0m1 0h0m5 0h0m2 0h0m1 0h0m6 0h0m3 0h0m13 0h0m4 0h0m2 0h0m1 0h0m3 0h0m6 0h0m5 0h0m8 0h0m1 0h0m2 0h0m2 0h0m3 0h0m2 0h0m1 0h0m-219 1h0m9 0h0m9 0h0m2 0h0m10 0h0m8 0h0m1 0h0m12 0h0m1 0h0m3 0h0m4 0h0m9 0h0m1 0h0m1 0h0m1 0h0m15 0h0m1 0h0m9 0h0m6 0h0m2 0h0m2 0h0m1 0h0m6 0h0m10 0h0m9 0h0m2 0h0m1 0h0m1 0h0m5 0h0m1 0h0m1 0h0m3 0h0m1 0h0m2 0h0m6 0h0m1 0h0m5 0h0m1 0h0m1 0h0m16 0h0m4 0h0m2 0h0m1 0h0m2 0h0m7 0h0m6 0h0m8 0h0m3 0h0m2 0h0m1 0h0m2 0h0m2 0h0m-216 1h0m10 0h0m7 0h0m1 0h0m1 0h0m1 0h0m1 0h0m4 0h0m1 0h0m6 0h0m1 0h0m1 0h0m2 0h0m8 0h0m5 0h0m5 0h0m2 0h0m5 0h0m2 0h0m10 0h0m1 0h0m2 0h0m5 0h0m1 0h0m2 0h0m2 0h0m2 0h0m3 0h0m1 0h0m2 0h0m4 0h0m5 0h0m14 0h0m23 0h0m2 0h0m1 0h0m4 0h0m1 0h0m2 0h0m4 0h0m1 0h0m4 0h0m4 0h0m5 0h0m8 0h0m2 0h0m4 0h0m6 0h0m11 0h0m1 0h0m2 0h0m-199 1h0m2 0h0m5 0h0m1 0h0m1 0h0m15 0h0m13 0h0m3 0h0m3 0h0m5 0h0m2 0h0m9 0h0m2 0h0m18 0h0m7 0h0m9 0h0m1 0h0m1 0h0m2 0h0m1 0h0m2 0h0m3 0h0m11 0h0m2 0h0m8 0h0m1 0h0m9 0h0m4 0h0m2 0h0m2 0h0m4 0h0m1 0h0m6 0h0m2 0h0m9 0h0m1 0h0m8 0h0m8 0h0m1 0h0m1 0h0m1 0h0m3 0h0m4 0h0m1 0h0m3 0h0m1 0h0m3 0h0m3 0h0m-206 1h0m2 0h0m4 0h0m6 0h0m4 0h0m1 0h0m1 0h0m1 0h0m4 0h0m1 0h0m1 0h0m2 0h0m12 0h0m4 0h0m3 0h0m1 0h0m1 0h0m1 0h0m1 0h0m8 0h0m1 0h0m2 0h0m1 0h0m18 0h0m5 0h0m4 0h0m3 0h0m2 0h0m1 0h0m1 0h0m1 0h0m5 0h0m1 0h0m1 0h0m1 0h0m1 0h0m2 0h0m4 0h0m8 0h0m1 0h0m1 0h0m1 0h0m4 0h0m6 0h0m1 0h0m2 0h0m2 0h0m1 0h0m3 0h0m1 0h0m1 0h0m3 0h0m1 0h0m4 0h0m13 0h0m7 0h0m2 0h0m1 0h0m3 0h0m11 0h0m5 0h0m1 0h0m2 0h0m1 0h0m2 0h0m2 0h0m1 0h0m2 0h0m2 0h0m5 0h0m1 0h0m2 0h0m1 0h0m-217 1h0m2 0h0m15 0h0m3 0h0m7 0h0m5 0h0m2 0h0m7 0h0m3 0h0m1 0h0m1 0h0m1 0h0m1 0h0m1 0h0m10 0h0m3 0h0m2 0h0m1 0h0m18 0h0m6 0h0m2 0h0m7 0h0m5 0h0m10 0h0m5 0h0m5 0h0m1 0h0m1 0h0m12 0h0m2 0h0m2 0h0m6 0h0m1 0h0m1 0h0m11 0h0m5 0h0m5 0h0m4 0h0m2 0h0m2 0h0m7 0h0m2 0h0m7 0h0m6 0h0m1 0h0m2 0h0m2 0h0m1 0h0m5 0h0m-210 1h0m9 0h0m2 0h0m2 0h0m2 0h0m1 0h0m3 0h0m7 0h0m2 0h0m11 0h0m6 0h0m1 0h0m4 0h0m30 0h0m4 0h0m6 0h0m2 0h0m4 0h0m8 0h0m1 0h0m2 0h0m4 0h0m2 0h0m10 0h0m11 0h0m4 0h0m1 0h0m2 0h0m33 0h0m1 0h0m2 0h0m7 0h0m17 0h0m3 0h0m4 0h0m3 0h0m8 0h0m-220 1h0m1 0h0m12 0h0m2 0h0m4 0h0m15 0h0m8 0h0m2 0h0m2 0h0m4 0h0m23 0h0m9 0h0m17 0h0m3 0h0m1 0h0m2 0h0m1 0h0m1 0h0m1 0h0m4 0h0m13 0h0m3 0h0m5 0h0m3 0h0m2 0h0m4 0h0m5 0h0m2 0h0m1 0h0m1 0h0m14 0h0m8 0h0m5 0h0m1 0h0m2 0h0m19 0h0m1 0h0m1 0h0m1 0h0m12 0h0m2 0h0m-215 1h0m16 0h0m7 0h0m1 0h0m2 0h0m3 0h0m1 0h0m1 0h0m10 0h0m2 0h0m2 0h0m8 0h0m2 0h0m3 0h0m12 0h0m2 0h0m7 0h0m1 0h0m9 0h0m1 0h0m1 0h0m3 0h0m1 0h0m3 0h0m7 0h0m7 0h0m9 0h0m1 0h0m2 0h0m1 0h0m2 0h0m2 0h0m2 0h0m2 0h0m1 0h0m8 0h0m1 0h0m6 0h0m1 0h0m1 0h0m2 0h0m3 0h0m1 0h0m5 0h0m3 0h0m10 0h0m2 0h0m1 0h0m4 0h0m1 0h0m2 0h0m14 0h0m1 0h0m8 0h0m1 0h0m3 0h0m-218 1h0m19 0h0m1 0h0m1 0h0m2 0h0m8 0h0m2 0h0m20 0h0m1 0h0m1 0h0m5 0h0m1 0h0m3 0h0m2 0h0m1 0h0m8 0h0m4 0h0m2 0h0m3 0h0m1 0h0m15 0h0m5 0h0m2 0h0m3 0h0m1 0h0m1 0h0m1 0h0m3 0h0m4 0h0m8 0h0m1 0h0m1 0h0m2 0h0m2 0h0m1 0h0m2 0h0m3 0h0m1 0h0m1 0h0m1 0h0m3 0h0m1 0h0m3 0h0m1 0h0m1 0h0m7 0h0m1 0h0m5 0h0m5 0h0m10 0h0m8 0h0m2 0h0m13 0h0m2 0h0m17 0h0m-222 1h0m15 0h0m3 0h0m1 0h0m13 0h0m1 0h0m1 0h0m1 0h0m2 0h0m1 0h0m4 0h0m1 0h0m1 0h0m2 0h0m2 0h0m1 0h0m5 0h0m1 0h0m1 0h0m1 0h0m1 0h0m2 0h0m1 0h0m4 0h0m1 0h0m9 0h0m2 0h0m1 0h0m2 0h0m4 0h0m5 0h0m10 0h0m1 0h0m1 0h0m1 0h0m6 0h0m2 0h0m2 0h0m9 0h0m10 0h0m2 0h0m3 0h0m1 0h0m2 0h0m2 0h0m1 0h0m1 0h0m2 0h0m2 0h0m1 0h0m2 0h0m2 0h0m3 0h0m1 0h0m1 0h0m1 0h0m5 0h0m2 0h0m4 0h0m21 0h0m1 0h0m3 0h0m6 0h0m4 0h0m1 0h0m2 0h0m12 0h0m4 0h0m-208 1h0m3 0h0m2 0h0m1 0h0m12 0h0m2 0h0m1 0h0m1 0h0m4 0h0m2 0h0m4 0h0m7 0h0m1 0h0m1 0h0m1 0h0m2 0h0m8 0h0m1 0h0m1 0h0m1 0h0m7 0h0m3 0h0m4 0h0m4 0h0m11 0h0m1 0h0m1 0h0m1 0h0m1 0h0m4 0h0m1 0h0m1 0h0m6 0h0m4 0h0m4 0h0m2 0h0m1 0h0m3 0h0m1 0h0m1 0h0m1 0h0m2 0h0m3 0h0m6 0h0m7 0h0m2 0h0m3 0h0m2 0h0m4 0h0m2 0h0m2 0h0m1 0h0m6 0h0m14 0h0m1 0h0m2 0h0m3 0h0m2 0h0m2 0h0m2 0h0m2 0h0m1 0h0m5 0h0m10 0h0m2 0h0m-204 1h0m3 0h0m1 0h0m1 0h0m4 0h0m9 0h0m4 0h0m2 0h0m2 0h0m2 0h0m1 0h0m1 0h0m2 0h0m1 0h0m8 0h0m4 0h0m4 0h0m2 0h0m1 0h0m3 0h0m3 0h0m2 0h0m14 0h0m1 0h0m3 0h0m7 0h0m1 0h0m1 0h0m6 0h0m1 0h0m1 0h0m1 0h0m3 0h0m3 0h0m3 0h0m2 0h0m10 0h0m2 0h0m1 0h0m4 0h0m9 0h0m1 0h0m13 0h0m5 0h0m1 0h0m15 0h0m4 0h0m3 0h0m3 0h0m7 0h0m1 0h0m2 0h0m1 0h0m14 0h0m2 0h0m-199 1h0m13 0h0m5 0h0m1 0h0m1 0h0m2 0h0m1 0h0m2 0h0m2 0h0m1 0h0m2 0h0m1 0h0m5 0h0m1 0h0m2 0h0m2 0h0m7 0h0m1 0h0m3 0h0m3 0h0m3 0h0m2 0h0m2 0h0m4 0h0m1 0h0m3 0h0m9 0h0m2 0h0m5 0h0m1 0h0m1 0h0m1 0h0m1 0h0m5 0h0m2 0h0m3 0h0m1 0h0m1 0h0m1 0h0m6 0h0m1 0h0m2 0h0m1 0h0m8 0h0m23 0h0m2 0h0m1 0h0m13 0h0m2 0h0m1 0h0m1 0h0m1 0h0m2 0h0m1 0h0m5 0h0m9 0h0m1 0h0m1 0h0m7 0h0m3 0h0m4 0h0m15 0h0m-209 1h0m7 0h0m1 0h0m3 0h0m4 0h0m2 0h0m1 0h0m5 0h0m2 0h0m1 0h0m3 0h0m7 0h0m1 0h0m1 0h0m2 0h0m4 0h0m3 0h0m1 0h0m7 0h0m1 0h0m2 0h0m1 0h0m4 0h0m1 0h0m2 0h0m13 0h0m2 0h0m1 0h0m10 0h0m4 0h0m2 0h0m2 0h0m12 0h0m2 0h0m13 0h0m3 0h0m1 0h0m6 0h0m6 0h0m4 0h0m3 0h0m10 0h0m1 0h0m1 0h0m1 0h0m5 0h0m17 0h0m5 0h0m1 0h0m1 0h0m16 0h0m-207 1h0m6 0h0m1 0h0m7 0h0m2 0h0m3 0h0m1 0h0m1 0h0m1 0h0m4 0h0m5 0h0m5 0h0m1 0h0m2 0h0m6 0h0m1 0h0m2 0h0m4 0h0m1 0h0m2 0h0m6 0h0m2 0h0m4 0h0m14 0h0m4 0h0m4 0h0m2 0h0m5 0h0m3 0h0m4 0h0m7 0h0m10 0h0m1 0h0m7 0h0m1 0h0m2 0h0m1 0h0m1 0h0m15 0h0m9 0h0m5 0h0m1 0h0m1 0h0m8 0h0m1 0h0m1 0h0m3 0h0m2 0h0m1 0h0m6 0h0m2 0h0m4 0h0m1 0h0m-187 1h0m10 0h0m8 0h0m3 0h0m3 0h0m1 0h0m3 0h0m1 0h0m1 0h0m2 0h0m3 0h0m5 0h0m1 0h0m1 0h0m2 0h0m1 0h0m4 0h0m1 0h0m2 0h0m3 0h0m11 0h0m3 0h0m3 0h0m1 0h0m5 0h0m2 0h0m1 0h0m5 0h0m1 0h0m2 0h0m3 0h0m4 0h0m3 0h0m1 0h0m4 0h0m6 0h0m6 0h0m1 0h0m1 0h0m2 0h0m3 0h0m1 0h0m5 0h0m1 0h0m3 0h0m1 0h0m2 0h0m4 0h0m3 0h0m10 0h0m2 0h0m4 0h0m1 0h0m5 0h0m5 0h0m2 0h0m2 0h0m7 0h0m2 0h0m2 0h0m2 0h0m10 0h0m-208 1h0m3 0h0m3 0h0m5 0h0m9 0h0m2 0h0m3 0h0m6 0h0m1 0h0m9 0h0m4 0h0m8 0h0m1 0h0m1 0h0m5 0h0m1 0h0m1 0h0m3 0h0m2 0h0m5 0h0m2 0h0m3 0h0m4 0h0m1 0h0m1 0h0m4 0h0m3 0h0m1 0h0m2 0h0m1 0h0m1 0h0m5 0h0m10 0h0m10 0h0m3 0h0m3 0h0m3 0h0m3 0h0m19 0h0m4 0h0m1 0h0m1 0h0m3 0h0m4 0h0m1 0h0m2 0h0m1 0h0m2 0h0m5 0h0m16 0h0m2 0h0m2 0h0m2 0h0m5 0h0m4 0h0m-207 1h0m12 0h0m5 0h0m2 0h0m2 0h0m1 0h0m1 0h0m2 0h0m6 0h0m9 0h0m2 0h0m1 0h0m1 0h0m1 0h0m2 0h0m1 0h0m5 0h0m2 0h0m5 0h0m3 0h0m1 0h0m1 0h0m1 0h0m7 0h0m4 0h0m5 0h0m1 0h0m4 0h0m3 0h0m7 0h0m5 0h0m3 0h0m5 0h0m13 0h0m1 0h0m5 0h0m2 0h0m4 0h0m4 0h0m1 0h0m8 0h0m1 0h0m3 0h0m1 0h0m2 0h0m2 0h0m4 0h0m11 0h0m7 0h0m4 0h0m1 0h0m4 0h0m6 0h0m10 0h0m-188 1h0m3 0h0m3 0h0m1 0h0m6 0h0m3 0h0m5 0h0m1 0h0m4 0h0m1 0h0m2 0h0m1 0h0m4 0h0m5 0h0m2 0h0m2 0h0m3 0h0m1 0h0m1 0h0m3 0h0m9 0h0m3 0h0m5 0h0m4 0h0m2 0h0m1 0h0m7 0h0m2 0h0m2 0h0m3 0h0m1 0h0m2 0h0m2 0h0m2 0h0m13 0h0m7 0h0m3 0h0m3 0h0m2 0h0m1 0h0m9 0h0m2 0h0m9 0h0m1 0h0m1 0h0m3 0h0m1 0h0m1 0h0m2 0h0m2 0h0m2 0h0m7 0h0m7 0h0m1 0h0m4 0h0m2 0h0m6 0h0m3 0h0m4 0h0m2 0h0m6 0h0m3 0h0m-219 1h0m14 0h0m1 0h0m5 0h0m2 0h0m9 0h0m11 0h0m6 0h0m1 0h0m4 0h0m1 0h0m4 0h0m5 0h0m14 0h0m3 0h0m2 0h0m2 0h0m1 0h0m8 0h0m11 0h0m1 0h0m1 0h0m4 0h0m1 0h0m17 0h0m11 0h0m3 0h0m1 0h0m1 0h0m7 0h0m9 0h0m4 0h0m1 0h0m4 0h0m1 0h0m2 0h0m16 0h0m1 0h0m4 0h0m1 0h0m1 0h0m4 0h0m6 0h0m11 0h0m1 0h0m-207 1h0m2 0h0m7 0h0m2 0h0m39 0h0m4 0h0m1 0h0m2 0h0m4 0h0m6 0h0m4 0h0m2 0h0m9 0h0m1 0h0m2 0h0m10 0h0m2 0h0m2 0h0m1 0h0m6 0h0m6 0h0m13 0h0m4 0h0m2 0h0m2 0h0m2 0h0m4 0h0m2 0h0m4 0h0m1 0h0m6 0h0m1 0h0m1 0h0m2 0h0m4 0h0m1 0h0m2 0h0m1 0h0m24 0h0m11 0h0m7 0h0m1 0h0m1 0h0m6 0h0m-213 1h0m1 0h0m7 0h0m2 0h0m1 0h0m21 0h0m22 0h0m3 0h0m1 0h0m1 0h0m6 0h0m4 0h0m5 0h0m10 0h0m1 0h0m11 0h0m9 0h0m7 0h0m1 0h0m9 0h0m2 0h0m3 0h0m4 0h0m1 0h0m1 0h0m1 0h0m3 0h0m1 0h0m5 0h0m1 0h0m5 0h0m3 0h0m1 0h0m29 0h0m4 0h0m1 0h0m6 0h0m4 0h0m1 0h0m2 0h0m5 0h0m2 0h0m11 0h0m-220 1h0m1 0h0m5 0h0m6 0h0m4 0h0m1 0h0m2 0h0m18 0h0m20 0h0m1 0h0m1 0h0m1 0h0m5 0h0m2 0h0m2 0h0m16 0h0m3 0h0m14 0h0m1 0h0m1 0h0m1 0h0m2 0h0m1 0h0m1 0h0m14 0h0m4 0h0m1 0h0m1 0h0m1 0h0m1 0h0m3 0h0m1 0h0m1 0h0m2 0h0m6 0h0m11 0h0m1 0h0m7 0h0m1 0h0m1 0h0m1 0h0m1 0h0m17 0h0m1 0h0m15 0h0m7 0h0m2 0h0m7 0h0m-217 1h0m4 0h0m1 0h0m2 0h0m6 0h0m1 0h0m2 0h0m13 0h0m3 0h0m1 0h0m15 0h0m8 0h0m1 0h0m4 0h0m5 0h0m2 0h0m3 0h0m1 0h0m10 0h0m1 0h0m4 0h0m1 0h0m10 0h0m2 0h0m3 0h0m2 0h0m7 0h0m1 0h0m2 0h0m2 0h0m7 0h0m6 0h0m4 0h0m2 0h0m1 0h0m1 0h0m1 0h0m5 0h0m2 0h0m5 0h0m4 0h0m2 0h0m8 0h0m21 0h0m1 0h0m1 0h0m16 0h0m1 0h0m5 0h0m6 0h0m3 0h0m2 0h0m-235 1h0m8 0h0m2 0h0m5 0h0m2 0h0m1 0h0m2 0h0m9 0h0m12 0h0m1 0h0m4 0h0m16 0h0m1 0h0m8 0h0m1 0h0m1 0h0m4 0h0m3 0h0m3 0h0m9 0h0m3 0h0m1 0h0m6 0h0m12 0h0m4 0h0m5 0h0m3 0h0m1 0h0m1 0h0m1 0h0m14 0h0m1 0h0m1 0h0m3 0h0m1 0h0m5 0h0m2 0h0m2 0h0m5 0h0m6 0h0m1 0h0m1 0h0m6 0h0m1 0h0m18 0h0m2 0h0m4 0h0m1 0h0m18 0h0m1 0h0m1 0h0m10 0h0m-221 1h0m10 0h0m11 0h0m2 0h0m6 0h0m1 0h0m10 0h0m10 0h0m2 0h0m1 0h0m5 0h0m1 0h0m1 0h0m1 0h0m9 0h0m1 0h0m1 0h0m6 0h0m7 0h0m1 0h0m6 0h0m2 0h0m11 0h0m1 0h0m1 0h0m1 0h0m1 0h0m2 0h0m5 0h0m2 0h0m1 0h0m1 0h0m6 0h0m1 0h0m4 0h0m7 0h0m2 0h0m4 0h0m1 0h0m1 0h0m5 0h0m7 0h0m7 0h0m1 0h0m1 0h0m8 0h0m2 0h0m1 0h0m5 0h0m3 0h0m4 0h0m4 0h0m9 0h0m6 0h0m9 0h0m3 0h0m1 0h0m-222 1h0m3 0h0m4 0h0m3 0h0m1 0h0m9 0h0m3 0h0m5 0h0m2 0h0m4 0h0m12 0h0m2 0h0m2 0h0m10 0h0m1 0h0m1 0h0m4 0h0m1 0h0m2 0h0m1 0h0m8 0h0m1 0h0m2 0h0m3 0h0m2 0h0m7 0h0m9 0h0m5 0h0m1 0h0m2 0h0m1 0h0m4 0h0m1 0h0m5 0h0m19 0h0m4 0h0m1 0h0m2 0h0m1 0h0m3 0h0m9 0h0m9 0h0m7 0h0m1 0h0m1 0h0m11 0h0m1 0h0m1 0h0m19 0h0m8 0h0m4 0h0m-223 1h0m11 0h0m2 0h0m12 0h0m4 0h0m1 0h0m2 0h0m3 0h0m1 0h0m2 0h0m4 0h0m1 0h0m3 0h0m6 0h0m7 0h0m2 0h0m3 0h0m1 0h0m1 0h0m3 0h0m1 0h0m4 0h0m3 0h0m1 0h0m2 0h0m4 0h0m1 0h0m8 0h0m2 0h0m2 0h0m5 0h0m1 0h0m5 0h0m1 0h0m6 0h0m1 0h0m2 0h0m8 0h0m5 0h0m1 0h0m1 0h0m1 0h0m9 0h0m5 0h0m2 0h0m3 0h0m4 0h0m2 0h0m6 0h0m1 0h0m1 0h0m2 0h0m1 0h0m2 0h0m1 0h0m3 0h0m2 0h0m5 0h0m9 0h0m1 0h0m23 0h0m-203 1h0m10 0h0m6 0h0m2 0h0m3 0h0m2 0h0m1 0h0m1 0h0m12 0h0m1 0h0m12 0h0m3 0h0m5 0h0m1 0h0m2 0h0m3 0h0m7 0h0m10 0h0m3 0h0m5 0h0m8 0h0m2 0h0m4 0h0m8 0h0m1 0h0m1 0h0m6 0h0m9 0h0m1 0h0m2 0h0m1 0h0m1 0h0m1 0h0m2 0h0m1 0h0m4 0h0m2 0h0m2 0h0m3 0h0m6 0h0m3 0h0m4 0h0m3 0h0m4 0h0m2 0h0m1 0h0m25 0h0m-206 1h0m1 0h0m8 0h0m3 0h0m1 0h0m1 0h0m8 0h0m6 0h0m2 0h0m10 0h0m2 0h0m4 0h0m3 0h0m1 0h0m2 0h0m2 0h0m2 0h0m1 0h0m3 0h0m5 0h0m2 0h0m2 0h0m1 0h0m6 0h0m1 0h0m3 0h0m1 0h0m1 0h0m1 0h0m2 0h0m4 0h0m1 0h0m8 0h0m2 0h0m9 0h0m1 0h0m1 0h0m8 0h0m18 0h0m1 0h0m2 0h0m6 0h0m1 0h0m2 0h0m9 0h0m16 0h0m1 0h0m2 0h0m3 0h0m1 0h0m10 0h0m5 0h0m2 0h0m5 0h0m9 0h0m-200 1h0m10 0h0m2 0h0m6 0h0m4 0h0m5 0h0m5 0h0m3 0h0m1 0h0m4 0h0m3 0h0m2 0h0m2 0h0m1 0h0m1 0h0m2 0h0m6 0h0m2 0h0m1 0h0m8 0h0m3 0h0m5 0h0m3 0h0m2 0h0m1 0h0m1 0h0m4 0h0m1 0h0m9 0h0m15 0h0m2 0h0m11 0h0m1 0h0m1 0h0m2 0h0m5 0h0m5 0h0m11 0h0m1 0h0m5 0h0m2 0h0m1 0h0m13 0h0m1 0h0m3 0h0m1 0h0m22 0h0m16 0h0m-219 1h0m1 0h0m2 0h0m1 0h0m7 0h0m3 0h0m1 0h0m1 0h0m2 0h0m2 0h0m8 0h0m2 0h0m2 0h0m1 0h0m1 0h0m5 0h0m1 0h0m3 0h0m19 0h0m2 0h0m4 0h0m1 0h0m1 0h0m2 0h0m1 0h0m2 0h0m3 0h0m1 0h0m5 0h0m1 0h0m1 0h0m2 0h0m1 0h0m1 0h0m1 0h0m7 0h0m3 0h0m2 0h0m1 0h0m10 0h0m3 0h0m9 0h0m3 0h0m5 0h0m3 0h0m1 0h0m4 0h0m3 0h0m7 0h0m1 0h0m9 0h0m10 0h0m1 0h0m2 0h0m3 0h0m10 0h0m6 0h0m1 0h0m1 0h0m2 0h0m5 0h0m-196 1h0m1 0h0m20 0h0m2 0h0m9 0h0m4 0h0m1 0h0m3 0h0m4 0h0m1 0h0m1 0h0m1 0h0m1 0h0m5 0h0m2 0h0m8 0h0m2 0h0m4 0h0m6 0h0m2 0h0m1 0h0m1 0h0m7 0h0m5 0h0m4 0h0m2 0h0m1 0h0m24 0h0m8 0h0m1 0h0m9 0h0m4 0h0m2 0h0m4 0h0m3 0h0m2 0h0m2 0h0m6 0h0m1 0h0m1 0h0m21 0h0m1 0h0m3 0h0m3 0h0m-229 1h0m18 0h0m10 0h0m4 0h0m9 0h0m14 0h0m2 0h0m3 0h0m15 0h0m3 0h0m1 0h0m1 0h0m8 0h0m7 0h0m6 0h0m5 0h0m2 0h0m4 0h0m11 0h0m3 0h0m2 0h0m7 0h0m1 0h0m2 0h0m4 0h0m1 0h0m1 0h0m2 0h0m6 0h0m5 0h0m5 0h0m2 0h0m4 0h0m3 0h0m2 0h0m4 0h0m3 0h0m7 0h0m3 0h0m1 0h0m7 0h0m3 0h0m1 0h0m2 0h0m2 0h0m11 0h0m6 0h0m2 0h0m1 0h0m8 0h0m2 0h0m2 0h0m6 0h0m-225 1h0m11 0h0m10 0h0m1 0h0m4 0h0m2 0h0m7 0h0m12 0h0m6 0h0m6 0h0m7 0h0m3 0h0m4 0h0m1 0h0m1 0h0m5 0h0m3 0h0m2 0h0m10 0h0m6 0h0m1 0h0m4 0h0m7 0h0m11 0h0m3 0h0m2 0h0m4 0h0m4 0h0m5 0h0m3 0h0m3 0h0m1 0h0m2 0h0m1 0h0m1 0h0m2 0h0m1 0h0m2 0h0m1 0h0m1 0h0m2 0h0m7 0h0m4 0h0m3 0h0m2 0h0m1 0h0m3 0h0m2 0h0m1 0h0m2 0h0m1 0h0m10 0h0m6 0h0m4 0h0m8 0h0m1 0h0m1 0h0m-207 1h0m2 0h0m6 0h0m5 0h0m1 0h0m11 0h0m6 0h0m10 0h0m3 0h0m1 0h0m15 0h0m1 0h0m1 0h0m10 0h0m10 0h0m1 0h0m9 0h0m7 0h0m9 0h0m5 0h0m2 0h0m2 0h0m2 0h0m20 0h0m1 0h0m4 0h0m2 0h0m1 0h0m4 0h0m6 0h0m2 0h0m2 0h0m7 0h0m3 0h0m3 0h0m1 0h0m3 0h0m26 0h0m2 0h0m1 0h0m-191 1h0m28 0h0m26 0h0m3 0h0m2 0h0m3 0h0m3 0h0m3 0h0m16 0h0m8 0h0m7 0h0m3 0h0m3 0h0m6 0h0m6 0h0m1 0h0m2 0h0m2 0h0m1 0h0m2 0h0m2 0h0m1 0h0m1 0h0m6 0h0m8 0h0m3 0h0m5 0h0m7 0h0m4 0h0m6 0h0m2 0h0m-186 1h0m10 0h0m1 0h0m8 0h0m22 0h0m2 0h0m1 0h0m27 0h0m7 0h0m5 0h0m16 0h0m5 0h0m4 0h0m5 0h0m3 0h0m1 0h0m7 0h0m5 0h0m2 0h0m1 0h0m6 0h0m1 0h0m4 0h0m1 0h0m1 0h0m1 0h0m4 0h0m14 0h0m2 0h0m3 0h0m2 0h0m1 0h0m4 0h0m6 0h0m6 0h0m2 0h0m4 0h0m11 0h0m-181 1h0m18 0h0m1 0h0m1 0h0m1 0h0m8 0h0m5 0h0m13 0h0m1 0h0m1 0h0m1 0h0m1 0h0m1 0h0m1 0h0m2 0h0m21 0h0m1 0h0m2 0h0m1 0h0m3 0h0m11 0h0m1 0h0m9 0h0m3 0h0m2 0h0m8 0h0m2 0h0m1 0h0m1 0h0m1 0h0m2 0h0m1 0h0m9 0h0m2 0h0m4 0h0m1 0h0m2 0h0m3 0h0m18 0h0m-168 1h0m13 0h0m4 0h0m4 0h0m2 0h0m6 0h0m2 0h0m1 0h0m7 0h0m1 0h0m1 0h0m8 0h0m5 0h0m2 0h0m4 0h0m2 0h0m2 0h0m7 0h0m9 0h0m4 0h0m3 0h0m6 0h0m2 0h0m9 0h0m1 0h0m1 0h0m18 0h0m24 0h0m1 0h0m1 0h0m2 0h0m16 0h0m10 0h0m1 0h0m9 0h0m-210 1h0m33 0h0m4 0h0m1 0h0m1 0h0m1 0h0m8 0h0m1 0h0m10 0h0m12 0h0m8 0h0m3 0h0m1 0h0m1 0h0m3 0h0m16 0h0m1 0h0m2 0h0m1 0h0m1 0h0m17 0h0m3 0h0m3 0h0m5 0h0m1 0h0m11 0h0m4 0h0m11 0h0m1 0h0m1 0h0m6 0h0m3 0h0m16 0h0m10 0h0m-172 1h0m7 0h0m1 0h0m2 0h0m2 0h0m1 0h0m1 0h0m3 0h0m3 0h0m11 0h0m1 0h0m1 0h0m11 0h0m10 0h0m21 0h0m1 0h0m1 0h0m1 0h0m11 0h0m6 0h0m2 0h0m2 0h0m9 0h0m7 0h0m3 0h0m3 0h0m3 0h0m7 0h0m2 0h0m4 0h0m5 0h0m5 0h0m-140 1h0m1 0h0m1 0h0m7 0h0m13 0h0m1 0h0m9 0h0m12 0h0m2 0h0m4 0h0m2 0h0m15 0h0m4 0h0m22 0h0m1 0h0m2 0h0m1 0h0m4 0h0m1 0h0m1 0h0m6 0h0m6 0h0m9 0h0m1 0h0m1 0h0m1 0h0m5 0h0m3 0h0m2 0h0m4 0h0m-161 1h0m10 0h0m2 0h0m6 0h0m11 0h0m5 0h0m4 0h0m7 0h0m10 0h0m14 0h0m3 0h0m2 0h0m13 0h0m1 0h0m1 0h0m3 0h0m15 0h0m3 0h0m5 0h0m2 0h0m3 0h0m3 0h0m7 0h0m6 0h0m9 0h0m2 0h0m2 0h0m1 0h0m2 0h0m9 0h0m-148 1h0m1 0h0m9 0h0m3 0h0m1 0h0m1 0h0m1 0h0m1 0h0m1 0h0m8 0h0m1 0h0m2 0h0m1 0h0m2 0h0m1 0h0m14 0h0m5 0h0m1 0h0m1 0h0m2 0h0m1 0h0m1 0h0m3 0h0m13 0h0m1 0h0m3 0h0m5 0h0m11 0h0m1 0h0m1 0h0m1 0h0m6 0h0m2 0h0m1 0h0m1 0h0m4 0h0m5 0h0m1 0h0m1 0h0m1 0h0m3 0h0m4 0h0m7 0h0m2 0h0m1 0h0m2 0h0m1 0h0m1 0h0m-147 1h0m7 0h0m1 0h0m7 0h0m2 0h0m1 0h0m4 0h0m1 0h0m1 0h0m1 0h0m1 0h0m7 0h0m4 0h0m1 0h0m11 0h0m4 0h0m4 0h0m2 0h0m1 0h0m2 0h0m3 0h0m15 0h0m1 0h0m6 0h0m1 0h0m3 0h0m2 0h0m6 0h0m1 0h0m1 0h0m3 0h0m3 0h0m3 0h0m1 0h0m1 0h0m10 0h0m2 0h0m1 0h0m6 0h0m10 0h0m1 0h0m-133 1h0m1 0h0m3 0h0m3 0h0m5 0h0m5 0h0m2 0h0m6 0h0m1 0h0m4 0h0m8 0h0m1 0h0m1 0h0m10 0h0m5 0h0m5 0h0m1 0h0m13 0h0m17 0h0m2 0h0m1 0h0m1 0h0m8 0h0m13 0h0m1 0h0m1 0h0m1 0h0m1 0h0m3 0h0m3 0h0m1 0h0m5 0h0m3 0h0m2 0h0m2 0h0m-133 1h0m9 0h0m1 0h0m12 0h0m3 0h0m6 0h0m6 0h0m1 0h0m1 0h0m4 0h0m1 0h0m6 0h0m2 0h0m3 0h0m9 0h0m1 0h0m6 0h0m2 0h0m1 0h0m3 0h0m1 0h0m2 0h0m7 0h0m2 0h0m3 0h0m3 0h0m5 0h0m1 0h0m4 0h0m1 0h0m2 0h0m3 0h0m2 0h0m6 0h0m12 0h0m-130 1h0m2 0h0m6 0h0m1 0h0m1 0h0m13 0h0m2 0h0m16 0h0m12 0h0m1 0h0m9 0h0m10 0h0m2 0h0m1 0h0m1 0h0m14 0h0m3 0h0m3 0h0m6 0h0m7 0h0m2 0h0m1 0h0m16 0h0m-130 1h0m8 0h0m2 0h0m1 0h0m3 0h0m4 0h0m1 0h0m13 0h0m1 0h0m11 0h0m3 0h0m1 0h0m1 0h0m1 0h0m1 0h0m2 0h0m8 0h0m4 0h0m7 0h0m2 0h0m4 0h0m5 0h0m1 0h0m2 0h0m1 0h0m1 0h0m7 0h0m3 0h0m2 0h0m6 0h0m2 0h0m4 0h0m1 0h0m4 0h0m2 0h0m-101 1h0m2 0h0m1 0h0m2 0h0m1 0h0m2 0h0m5 0h0m14 0h0m1 0h0m2 0h0m1 0h0m1 0h0m9 0h0m5 0h0m1 0h0m2 0h0m4 0h0m2 0h0m2 0h0m4 0h0m15 0h0m1 0h0m13 0h0m2 0h0m1 0h0m7 0h0m2 0h0m1 0h0m-112 1h0m8 0h0m3 0h0m1 0h0m1 0h0m3 0h0m1 0h0m1 0h0m10 0h0m13 0h0m3 0h0m4 0h0m9 0h0m2 0h0m1 0h0m4 0h0m3 0h0m1 0h0m5 0h0m13 0h0m1 0h0m5 0h0m4 0h0m1 0h0m1 0h0m1 0h0m9 0h0m-130 1h0m23 0h0m4 0h0m1 0h0m1 0h0m3 0h0m2 0h0m2 0h0m3 0h0m1 0h0m1 0h0m1 0h0m1 0h0m6 0h0m3 0h0m4 0h0m2 0h0m2 0h0m3 0h0m3 0h0m19 0h0m6 0h0m2 0h0m14 0h0m2 0h0m4 0h0m7 0h0m3 0h0m13 0h0m1 0h0m-116 1h0m2 0h0m1 0h0m4 0h0m1 0h0m2 0h0m3 0h0m4 0h0m2 0h0m5 0h0m6 0h0m1 0h0m6 0h0m1 0h0m2 0h0m1 0h0m1 0h0m2 0h0m2 0h0m14 0h0m1 0h0m4 0h0m5 0h0m7 0h0m7 0h0m1 0h0m3 0h0m12 0h0m7 0h0m4 0h0m1 0h0m1 0h0m2 0h0m-114 1h0m3 0h0m9 0h0m1 0h0m2 0h0m1 0h0m5 0h0m4 0h0m3 0h0m1 0h0m2 0h0m1 0h0m3 0h0m2 0h0m2 0h0m2 0h0m6 0h0m20 0h0m5 0h0m1 0h0m1 0h0m10 0h0m1 0h0m3 0h0m6 0h0m1 0h0m2 0h0m1 0h0m10 0h0m1 0h0m2 0h0m-120 1h0m1 0h0m4 0h0m5 0h0m1 0h0m1 0h0m1 0h0m4 0h0m6 0h0m9 0h0m1 0h0m2 0h0m2 0h0m7 0h0m1 0h0m1 0h0m2 0h0m3 0h0m4 0h0m2 0h0m3 0h0m13 0h0m8 0h0m3 0h0m11 0h0m5 0h0m2 0h0m2 0h0m1 0h0m10 0h0m4 0h0m1 0h0m-109 1h0m1 0h0m1 0h0m1 0h0m2 0h0m1 0h0m2 0h0m1 0h0m8 0h0m3 0h0m4 0h0m1 0h0m4 0h0m2 0h0m4 0h0m2 0h0m1 0h0m1 0h0m13 0h0m5 0h0m1 0h0m5 0h0m8 0h0m2 0h0m5 0h0m1 0h0m8 0h0m5 0h0m2 0h0m1 0h0m3 0h0m5 0h0m1 0h0m1 0h0m1 0h0m3 0h0m-107 1h0m1 0h0m1 0h0m1 0h0m3 0h0m1 0h0m8 0h0m2 0h0m4 0h0m4 0h0m1 0h0m1 0h0m1 0h0m2 0h0m1 0h0m3 0h0m2 0h0m2 0h0m10 0h0m2 0h0m7 0h0m3 0h0m15 0h0m1 0h0m1 0h0m1 0h0m2 0h0m5 0h0m4 0h0m6 0h0m6 0h0m2 0h0m-106 1h0m5 0h0m2 0h0m3 0h0m2 0h0m3 0h0m8 0h0m2 0h0m1 0h0m4 0h0m8 0h0m7 0h0m10 0h0m4 0h0m1 0h0m1 0h0m7 0h0m5 0h0m4 0h0m3 0h0m4 0h0m6 0h0m1 0h0m7 0h0m1 0h0m3 0h0m5 0h0m2 0h0m-100 1h0m9 0h0m1 0h0m2 0h0m3 0h0m7 0h0m1 0h0m1 0h0m2 0h0m2 0h0m1 0h0m2 0h0m5 0h0m9 0h0m1 0h0m9 0h0m3 0h0m1 0h0m5 0h0m6 0h0m1 0h0m3 0h0m5 0h0m2 0h0m7 0h0m1 0h0m4 0h0m2 0h0m4 0h0m-107 1h0m1 0h0m1 0h0m7 0h0m12 0h0m11 0h0m2 0h0m1 0h0m1 0h0m1 0h0m1 0h0m1 0h0m1 0h0m1 0h0m3 0h0m1 0h0m1 0h0m15 0h0m3 0h0m1 0h0m1 0h0m2 0h0m2 0h0m2 0h0m1 0h0m14 0h0m16 0h0m2 0h0m-105 1h0m8 0h0m3 0h0m9 0h0m1 0h0m1 0h0m8 0h0m2 0h0m1 0h0m4 0h0m1 0h0m1 0h0m7 0h0m28 0h0m2 0h0m10 0h0m11 0h0m8 0h0m2 0h0m1 0h0m1 0h0m-110 1h0m3 0h0m10 0h0m6 0h0m1 0h0m3 0h0m2 0h0m7 0h0m1 0h0m1 0h0m1 0h0m1 0h0m1 0h0m4 0h0m2 0h0m7 0h0m1 0h0m10 0h0m2 0h0m2 0h0m1 0h0m4 0h0m2 0h0m1 0h0m5 0h0m19 0h0m3 0h0m3 0h0m6 0h0m-108 1h0m1 0h0m4 0h0m8 0h0m7 0h0m1 0h0m8 0h0m1 0h0m1 0h0m1 0h0m3 0h0m1 0h0m2 0h0m6 0h0m1 0h0m2 0h0m1 0h0m1 0h0m1 0h0m4 0h0m3 0h0m1 0h0m4 0h0m1 0h0m3 0h0m2 0h0m1 0h0m1 0h0m1 0h0m3 0h0m7 0h0m4 0h0m12 0h0m1 0h0m8 0h0m2 0h0m-106 1h0m1 0h0m5 0h0m3 0h0m3 0h0m11 0h0m1 0h0m2 0h0m2 0h0m1 0h0m2 0h0m2 0h0m2 0h0m5 0h0m3 0h0m2 0h0m5 0h0m1 0h0m3 0h0m2 0h0m4 0h0m1 0h0m9 0h0m1 0h0m1 0h0m8 0h0m1 0h0m1 0h0m1 0h0m1 0h0m8 0h0m3 0h0m6 0h0m1 0h0m4 0h0m1 0h0m-100 1h0m1 0h0m2 0h0m8 0h0m2 0h0m4 0h0m2 0h0m2 0h0m1 0h0m16 0h0m1 0h0m11 0h0m1 0h0m1 0h0m4 0h0m1 0h0m3 0h0m1 0h0m1 0h0m2 0h0m3 0h0m1 0h0m7 0h0m7 0h0m2 0h0m3 0h0m1 0h0m1 0h0m1 0h0m6 0h0m4 0h0m-97 1h0m1 0h0m6 0h0m1 0h0m1 0h0m1 0h0m3 0h0m5 0h0m10 0h0m2 0h0m3 0h0m2 0h0m1 0h0m16 0h0m3 0h0m5 0h0m3 0h0m1 0h0m1 0h0m6 0h0m8 0h0m1 0h0m5 0h0m1 0h0m1 0h0m2 0h0m1 0h0m2 0h0m5 0h0m-87 1h0m3 0h0m2 0h0m1 0h0m15 0h0m1 0h0m2 0h0m10 0h0m1 0h0m8 0h0m1 0h0m5 0h0m1 0h0m2 0h0m3 0h0m1 0h0m2 0h0m8 0h0m1 0h0m5 0h0m8 0h0m7 0h0m-91 1h0m4 0h0m10 0h0m1 0h0m13 0h0m1 0h0m15 0h0m4 0h0m1 0h0m1 0h0m7 0h0m1 0h0m1 0h0m15 0h0m6 0h0m1 0h0m3 0h0m-88 1h0m8 0h0m10 0h0m1 0h0m10 0h0m2 0h0m8 0h0m1 0h0m4 0h0m6 0h0m1 0h0m2 0h0m13 0h0m3 0h0m6 0h0m5 0h0m1 0h0m1 0h0m2 0h0m2 0h0m1 0h0m-81 1h0m12 0h0m13 0h0m7 0h0m1 0h0m6 0h0m1 0h0m7 0h0m9 0h0m12 0h0m10 0h0m2 0h0m1 0h0m-76 1h0m8 0h0m3 0h0m8 0h0m1 0h0m5 0h0m5 0h0m1 0h0m1 0h0m2 0h0m2 0h0m1 0h0m5 0h0m3 0h0m6 0h0m2 0h0m10 0h0m6 0h0m1 0h0m5 0h0m1 0h0m-81 1h0m1 0h0m3 0h0m1 0h0m12 0h0m1 0h0m1 0h0m3 0h0m1 0h0m2 0h0m1 0h0m3 0h0m1 0h0m2 0h0m1 0h0m1 0h0m1 0h0m4 0h0m1 0h0m2 0h0m1 0h0m1 0h0m1 0h0m3 0h0m2 0h0m5 0h0m2 0h0m3 0h0m8 0h0m1 0h0m6 0h0m5 0h0m-79 1h0m1 0h0m8 0h0m5 0h0m7 0h0m7 0h0m20 0h0m2 0h0m1 0h0m1 0h0m3 0h0m5 0h0m6 0h0m12 0h0m1 0h0m1 0h0m1 0h0m-82 1h0m5 0h0m2 0h0m1 0h0m1 0h0m6 0h0m2 0h0m1 0h0m6 0h0m3 0h0m10 0h0m7 0h0m2 0h0m1 0h0m1 0h0m5 0h0m5 0h0m19 0h0m1 0h0m2 0h0m-78 1h0m1 0h0m4 0h0m2 0h0m10 0h0m1 0h0m1 0h0m2 0h0m36 0h0m6 0h0m7 0h0m2 0h0m3 0h0m1 0h0m2 0h0m4 0h0m-81 1h0m2 0h0m1 0h0m1 0h0m11 0h0m3 0h0m3 0h0m3 0h0m1 0h0m9 0h0m2 0h0m14 0h0m11 0h0m7 0h0m4 0h0m1 0h0m-77 1h0m14 0h0m1 0h0m3 0h0m2 0h0m1 0h0m1 0h0m3 0h0m8 0h0m1 0h0m4 0h0m2 0h0m1 0h0m5 0h0m7 0h0m1 0h0m1 0h0m18 0h0m2 0h0m1 0h0m1 0h0m4 0h0m2 0h0m-73 1h0m4 0h0m1 0h0m2 0h0m2 0h0m2 0h0m2 0h0m7 0h0m4 0h0m3 0h0m7 0h0m1 0h0m1 0h0m2 0h0m3 0h0m2 0h0m1 0h0m1 0h0m2 0h0m1 0h0m8 0h0m1 0h0m1 0h0m1 0h0m9 0h0m1 0h0m-69 1h0m3 0h0m4 0h0m4 0h0m1 0h0m5 0h0m4 0h0m4 0h0m6 0h0m2 0h0m1 0h0m1 0h0m1 0h0m2 0h0m5 0h0m4 0h0m7 0h0m1 0h0m16 0h0m-68 1h0m10 0h0m2 0h0m1 0h0m4 0h0m8 0h0m4 0h0m3 0h0m1 0h0m2 0h0m4 0h0m2 0h0m1 0h0m1 0h0m6 0h0m14 0h0m-64 1h0m7 0h0m1 0h0m5 0h0m3 0h0m8 0h0m8 0h0m5 0h0m2 0h0m1 0h0m3 0h0m1 0h0m2 0h0m2 0h0m5 0h0m2 0h0m8 0h0m-56 1h0m11 0h0m1 0h0m2 0h0m1 0h0m2 0h0m11 0h0m1 0h0m3 0h0m1 0h0m2 0h0m1 0h0m2 0h0m2 0h0m6 0h0m1 0h0m4 0h0m-52 1h0m1 0h0m2 0h0m4 0h0m1 0h0m3 0h0m1 0h0m5 0h0m1 0h0m8 0h0m3 0h0m1 0h0m1 0h0m6 0h0m2 0h0m2 0h0m1 0h0m6 0h0m3 0h0m-51 1h0m2 0h0m1 0h0m2 0h0m1 0h0m1 0h0m2 0h0m1 0h0m4 0h0m1 0h0m1 0h0m1 0h0m2 0h0m2 0h0m7 0h0m4 0h0m6 0h0m1 0h0m1 0h0m2 0h0m2 0h0m6 0h0m-43 1h0m2 0h0m1 0h0m6 0h0m2 0h0m1 0h0m6 0h0m2 0h0m1 0h0m3 0h0m3 0h0m4 0h0m2 0h0m1 0h0m1 0h0m6 0h0m2 0h0m2 0h0m1 0h0m-52 1h0m2 0h0m4 0h0m2 0h0m2 0h0m8 0h0m7 0h0m2 0h0m3 0h0m2 0h0m5 0h0m2 0h0m2 0h0m3 0h0m5 0h0m3 0h0m-46 1h0m1 0h0m3 0h0m5 0h0m1 0h0m2 0h0m1 0h0m5 0h0m1 0h0m2 0h0m7 0h0m1 0h0m1 0h0m3 0h0m1 0h0m6 0h0m1 0h0m2 0h0m1 0h0m1 0h0m3 0h0m-56 1h0m2 0h0m7 0h0m4 0h0m13 0h0m13 0h0m1 0h0m1 0h0m11 0h0m1 0h0m1 0h0m-46 1h0m8 0h0m24 0h0m3 0h0m1 0h0m2 0h0m2 0h0m1 0h0m1 0h0m2 0h0m1 0h0m2 0h0m1 0h0m-48 1h0m2 0h0m3 0h0m1 0h0m2 0h0m22 0h0m3 0h0m5 0h0m7 0h0m7 0h0m-71 1h0m18 0h0m3 0h0m1 0h0m1 0h0m1 0h0m7 0h0m3 0h0m14 0h0m2 0h0m3 0h0m10 0h0m1 0h0m-52 1h0m9 0h0m7 0h0m1 0h0m5 0h0m10 0h0m8 0h0m2 0h0m1 0h0m1 0h0m1 0h0m5 0h0m2 0h0m1 0h0m-46 1h0m1 0h0m1 0h0m6 0h0m2 0h0m1 0h0m1 0h0m1 0h0m1 0h0m2 0h0m15 0h0m2 0h0m1 0h0m1 0h0m2 0h0m2 0h0m1 0h0m4 0h0m-45 1h0m1 0h0m2 0h0m3 0h0m8 0h0m16 0h0m1 0h0m1 0h0m2 0h0m1 0h0m10 0h0m6 0h0m1 0h0m2 0h0m-55 1h0m2 0h0m1 0h0m8 0h0m1 0h0m3 0h0m1 0h0m1 0h0m1 0h0m6 0h0m7 0h0m1 0h0m7 0h0m2 0h0m1 0h0m3 0h0m1 0h0m-46 1h0m8 0h0m2 0h0m1 0h0m6 0h0m4 0h0m2 0h0m1 0h0m5 0h0m2 0h0m2 0h0m2 0h0m6 0h0m1 0h0m5 0h0m-47 1h0m2 0h0m9 0h0m1 0h0m3 0h0m1 0h0m1 0h0m4 0h0m4 0h0m2 0h0m2 0h0m2 0h0m1 0h0m5 0h0m3 0h0m5 0h0m1 0h0m-43 1h0m17 0h0m1 0h0m1 0h0m3 0h0m5 0h0m8 0h0m1 0h0m1 0h0m5 0h0m1 0h0m-42 1h0m1 0h0m2 0h0m7 0h0m6 0h0m1 0h0m1 0h0m1 0h0m1 0h0m2 0h0m4 0h0m3 0h0m5 0h0m1 0h0m2 0h0m2 0h0m9 0h0m-50 1h0m2 0h0m11 0h0m2 0h0m2 0h0m3 0h0m1 0h0m1 0h0m1 0h0m4 0h0m1 0h0m1 0h0m2 0h0m3 0h0m4 0h0m2 0h0m10 0h0m-49 1h0m4 0h0m2 0h0m14 0h0m1 0h0m1 0h0m3 0h0m8 0h0m2 0h0m2 0h0m6 0h0m1 0h0m6 0h0m-45 1h0m1 0h0m2 0h0m3 0h0m7 0h0m2 0h0m5 0h0m5 0h0m1 0h0m5 0h0m2 0h0m-36 1h0m4 0h0m1 0h0m1 0h0m2 0h0m3 0h0m3 0h0m2 0h0m1 0h0m4 0h0m1 0h0m2 0h0m2 0h0m5 0h0m2 0h0m1 0h0m1 0h0m-39 1h0m8 0h0m1 0h0m3 0h0m8 0h0m8 0h0m10 0h0m2 0h0m2 0h0m5 0h0m-38 1h0m2 0h0m1 0h0m2 0h0m13 0h0m1 0h0m10 0h0m2 0h0m2 0h0m-37 1h0m18 0h0m5 0h0m1 0h0m7 0h0m3 0h0m1 0h0m3 0h0m2 0h0m-30 1h0m6 0h0m2 0h0m1 0h0m11 0h0m1 0h0m4 0h0m4 0h0m2 0h0m-27 1h0m4 0h0m2 0h0m6 0h0m9 0h0m2 0h0m1 0h0m-36 1h0m17 0h0m9 0h0m4 0h0m1 0h0m8 0h0m-38 1h0m18 0h0m2 0h0m2 0h0m8 0h0m1 0h0m1 0h0m2 0h0m2 0h0m2 0h0m-27 1h0m1 0h0m4 0h0m11 0h0m9 0h0m2 0h0m-35 1h0m8 0h0m1 0h0m14 0h0m5 0h0m1 0h0m1 0h0m-8 1h0m2 0h0m3 0h0m5 0h0m-7 1h0m1 0h0m2 0h0m5 0h0m-12 1h0m3 0h0m1 0h0m2 0h0m-8 1h0m5 0h0m-1 1h0m9 0h0m3 0h0m-10 1h0m-9 1h0m6 0h0m2 0h0m3 0h0m5 0h0m-6 1h0m1 5h0m6 0h0m1 0h0m-13 1h0m6 1h0m3 0h0m2 0h0m2 0h0m-7 1h0m-2 1h0m2 0h0m-2 1h0m2 0h0m1 0h0m3 0h0m1 0h0m-6 1h0m-6 10h0m4 1h0m-5 1h0m1 0h0m-3 1h0m5 0h0m2 0h0m-3 1h0m5 0h0m2 0h0m-8 1h0m1 0h0m-2 1h0m3 0h0m5 0h0m1 1h0m-12 1h0m-29 41h0"/>
<path fill="none" stroke="#E38900" stroke-width="2.9" stroke-linecap="round" d="M295 433h0m-7 2h0m2 0h0m-12 1h0m1 0h0m6 0h0m3 0h0m3 0h0m-1 1h0m3 0h0m-4 2h0m2 0h0m-2 1h0m1 0h0m3 3h0m-11 4h0m-1 4h0m-1 1h0m5 0h0m-6 1h0m1 1h0m7 1h0m-12 2h0m-1 1h0m2 0h0m0 1h0m-6 1h0m3 0h0m1 1h0m1 0h0m1 0h0m2 0h0m1 0h0m3 0h0m-13 1h0m3 0h0m1 0h0m1 0h0m2 0h0m1 0h0m3 0h0m1 0h0m-13 1h0m4 1h0m6 0h0m1 0h0m2 0h0m-3 1h0m1 0h0m1 0h0m3 0h0m-21 1h0m7 0h0m8 0h0m1 0h0m2 0h0m106 0h0m-117 1h0m10 0h0m85 0h0m-100 1h0m5 0h0m1 0h0m1 0h0m1 0h0m6 0h0m91 0h0m4 0h0m12 0h0m-115 1h0m1 0h0m1 0h0m1 0h0m6 0h0m1 0h0m88 0h0m1 0h0m4 0h0m4 0h0m1 0h0m6 0h0m-121 1h0m7 0h0m1 0h0m5 0h0m2 0h0m2 0h0m6 0h0m81 0h0m2 0h0m8 0h0m5 0h0m4 0h0m-119 1h0m8 0h0m1 0h0m2 0h0m1 0h0m1 0h0m6 0h0m84 0h0m4 0h0m3 0h0m2 0h0m2 0h0m-115 1h0m6 0h0m1 0h0m2 0h0m4 0h0m2 0h0m5 0h0m84 0h0m13 0h0m1 0h0m-116 1h0m1 0h0m1 0h0m1 0h0m1 0h0m3 0h0m1 0h0m2 0h0m1 0h0m7 0h0m82 0h0m1 0h0m1 0h0m1 0h0m8 0h0m4 0h0m-113 1h0m5 0h0m1 0h0m1 0h0m2 0h0m1 0h0m3 0h0m2 0h0m2 0h0m83 0h0m1 0h0m3 0h0m1 0h0m1 0h0m1 0h0m2 0h0m4 0h0m4 0h0m-117 1h0m3 0h0m4 0h0m3 0h0m90 0h0m6 0h0m1 0h0m2 0h0m2 0h0m1 0h0m-110 1h0m4 0h0m1 0h0m3 0h0m3 0h0m1 0h0m1 0h0m87 0h0m4 0h0m3 0h0m3 0h0m1 0h0m-118 1h0m5 0h0m4 0h0m4 0h0m1 0h0m4 0h0m1 0h0m2 0h0m91 0h0m1 0h0m3 0h0m1 0h0m1 0h0m-106 1h0m2 0h0m1 0h0m1 0h0m2 0h0m86 0h0m2 0h0m1 0h0m-104 1h0m8 0h0m2 0h0m1 0h0m-5 1h0m4 0h0m5 0h0m91 0h0m2 0h0m-104 1h0m1 0h0m1 0h0m3 0h0m2 0h0m2 0h0m9 0h0m83 0h0m4 0h0m-110 1h0m1 0h0m4 0h0m5 0h0m1 0h0m2 0h0m1 0h0m1 0h0m11 0h0m79 0h0m1 0h0m3 0h0m2 0h0m-114 1h0m9 0h0m1 0h0m5 0h0m1 0h0m12 0h0m80 0h0m4 0h0m1 0h0m9 0h0m1 0h0m-123 1h0m9 0h0m2 0h0m1 0h0m1 0h0m1 0h0m2 0h0m2 0h0m1 0h0m2 0h0m91 0h0m5 0h0m-104 1h0m2 0h0m2 0h0m5 0h0m89 0h0m10 0h0m1 0h0m-123 1h0m1 0h0m10 0h0m8 0h0m2 0h0m95 0h0m4 0h0m-121 1h0m1 0h0m1 0h0m30 0h0m88 0h0m2 0h0m-125 1h0m2 0h0m2 0h0m1 0h0m16 0h0m5 0h0m-25 1h0m2 0h0m10 0h0m1 0h0m1 0h0m2 0h0m6 0h0m2 0h0m-21 1h0m7 0h0m1 0h0m5 0h0m110 0h0m-132 1h0m9 0h0m2 0h0m1 0h0m3 0h0m5 0h0m1 0h0m-19 1h0m1 0h0m1 0h0m1 0h0m5 0h0m1 0h0m1 0h0m2 0h0m6 0h0m-17 1h0m2 0h0m1 0h0m12 0h0m1 0h0m4 0h0m1 0h0m-15 1h0m1 0h0m8 0h0m-18 1h0m4 0h0m3 0h0m1 1h0m9 0h0m1 0h0m2 0h0m1 0h0m1 0h0m107 0h0m-128 1h0m1 0h0m2 0h0m17 0h0m-17 1h0m2 0h0m14 0h0m1 0h0m1 0h0m1 0h0m1 0h0m-21 1h0m9 0h0m3 0h0m16 0h0m-28 1h0m11 0h0m15 0h0m1 0h0m-30 1h0m1 0h0m1 0h0m2 0h0m9 0h0m10 0h0m7 0h0m-26 1h0m1 0h0m4 0h0m9 0h0m5 0h0m1 0h0m5 0h0m3 0h0m-30 1h0m2 0h0m1 0h0m5 0h0m17 0h0m2 0h0m1 0h0m1 0h0m1 0h0m-28 1h0m4 0h0m3 0h0m8 0h0m1 0h0m1 0h0m1 0h0m2 0h0m1 0h0m1 0h0m3 0h0m1 0h0m1 0h0m2 0h0m1 0h0m-33 1h0m10 0h0m7 0h0m1 0h0m2 0h0m1 0h0m2 0h0m1 0h0m1 0h0m1 0h0m2 0h0m1 0h0m1 0h0m2 0h0m-32 1h0m4 0h0m2 0h0m5 0h0m3 0h0m5 0h0m1 0h0m4 0h0m4 0h0m4 0h0m-30 1h0m2 0h0m1 0h0m2 0h0m1 0h0m3 0h0m3 0h0m1 0h0m1 0h0m9 0h0m2 0h0m7 0h0m-31 1h0m1 0h0m4 0h0m5 0h0m9 0h0m1 0h0m1 0h0m10 0h0m-21 1h0m3 0h0m7 0h0m1 0h0m7 0h0m3 0h0m-31 1h0m3 0h0m2 0h0m4 0h0m11 0h0m2 0h0m1 0h0m7 0h0m2 0h0m-19 1h0m4 0h0m1 0h0m1 0h0m1 0h0m7 0h0m2 0h0m1 0h0m-28 1h0m2 0h0m3 0h0m5 0h0m1 0h0m1 0h0m1 0h0m1 0h0m12 0h0m-26 1h0m1 0h0m2 0h0m1 0h0m10 0h0m2 0h0m4 0h0m3 0h0m4 0h0m-29 1h0m11 0h0m1 0h0m2 0h0m4 0h0m1 0h0m2 0h0m4 0h0m6 0h0m-38 1h0m9 0h0m2 0h0m6 0h0m1 0h0m11 0h0m1 0h0m-21 1h0m1 0h0m2 0h0m2 0h0m1 0h0m2 0h0m1 0h0m2 0h0m1 0h0m1 0h0m2 0h0m1 0h0m-16 1h0m5 0h0m2 0h0m2 0h0m1 0h0m1 0h0m4 0h0m1 0h0m3 0h0m2 0h0m-16 1h0m1 0h0m9 0h0m1 0h0m1 0h0m1 0h0m-10 1h0m1 0h0m2 0h0m16 0h0m-35 1h0m17 0h0m2 0h0m17 0h0m1 0h0m-44 1h0m2 0h0m11 0h0m1 0h0m1 0h0m9 0h0m1 0h0m3 0h0m13 0h0m2 0h0m1 0h0m-41 1h0m20 0h0m2 0h0m17 0h0m-54 1h0m12 0h0m1 0h0m1 0h0m1 0h0m2 0h0m9 0h0m7 0h0m6 0h0m3 0h0m12 0h0m-45 1h0m1 0h0m4 0h0m1 0h0m1 0h0m1 0h0m1 0h0m6 0h0m3 0h0m1 0h0m1 0h0m3 0h0m2 0h0m8 0h0m2 0h0m-24 1h0m12 0h0m2 0h0m4 0h0m4 0h0m3 0h0m-37 1h0m1 0h0m1 0h0m5 0h0m4 0h0m2 0h0m4 0h0m2 0h0m1 0h0m2 0h0m1 0h0m6 0h0m1 0h0m1 0h0m5 0h0m3 0h0m-41 1h0m1 0h0m3 0h0m1 0h0m7 0h0m2 0h0m2 0h0m3 0h0m2 0h0m2 0h0m9 0h0m2 0h0m8 0h0m1 0h0m-40 1h0m8 0h0m1 0h0m3 0h0m1 0h0m25 0h0m2 0h0m1 0h0m2 0h0m4 0h0m-50 1h0m1 0h0m3 0h0m1 0h0m6 0h0m1 0h0m5 0h0m3 0h0m1 0h0m2 0h0m1 0h0m9 0h0m2 0h0m1 0h0m3 0h0m1 0h0m1 0h0m2 0h0m5 0h0m1 0h0m3 0h0m-50 1h0m1 0h0m2 0h0m2 0h0m1 0h0m1 0h0m8 0h0m1 0h0m4 0h0m2 0h0m9 0h0m2 0h0m1 0h0m2 0h0m2 0h0m1 0h0m2 0h0m4 0h0m-49 1h0m6 0h0m4 0h0m7 0h0m2 0h0m2 0h0m15 0h0m4 0h0m2 0h0m2 0h0m2 0h0m2 0h0m1 0h0m4 0h0m2 0h0m-59 1h0m2 0h0m5 0h0m1 0h0m2 0h0m1 0h0m3 0h0m6 0h0m7 0h0m1 0h0m1 0h0m1 0h0m9 0h0m2 0h0m4 0h0m-55 1h0m5 0h0m6 0h0m1 0h0m2 0h0m2 0h0m1 0h0m2 0h0m12 0h0m1 0h0m1 0h0m6 0h0m1 0h0m7 0h0m3 0h0m20 0h0m-66 1h0m2 0h0m1 0h0m4 0h0m1 0h0m6 0h0m2 0h0m3 0h0m7 0h0m1 0h0m5 0h0m3 0h0m7 0h0m8 0h0m12 0h0m1 0h0m-72 1h0m9 0h0m2 0h0m8 0h0m3 0h0m3 0h0m12 0h0m1 0h0m2 0h0m4 0h0m8 0h0m2 0h0m2 0h0m7 0h0m2 0h0m3 0h0m-64 1h0m6 0h0m2 0h0m2 0h0m3 0h0m5 0h0m3 0h0m1 0h0m7 0h0m19 0h0m2 0h0m2 0h0m9 0h0m2 0h0m2 0h0m2 0h0m-59 1h0m10 0h0m2 0h0m44 0h0m1 0h0m2 0h0m1 0h0m1 0h0m1 0h0m-75 1h0m2 0h0m11 0h0m3 0h0m26 0h0m9 0h0m18 0h0m2 0h0m3 0h0m1 0h0m-75 1h0m12 0h0m2 0h0m3 0h0m7 0h0m1 0h0m1 0h0m5 0h0m39 0h0m-57 1h0m2 0h0m3 0h0m7 0h0m3 0h0m4 0h0m12 0h0m13 0h0m-42 1h0m1 0h0m2 0h0m5 0h0m2 0h0m1 0h0m3 0h0m2 0h0m11 0h0m2 0h0m1 0h0m11 0h0m1 0h0m15 0h0m1 0h0m2 0h0m1 0h0m1 0h0m1 0h0m1 0h0m-60 1h0m1 0h0m5 0h0m1 0h0m2 0h0m3 0h0m5 0h0m2 0h0m1 0h0m1 0h0m2 0h0m1 0h0m5 0h0m2 0h0m7 0h0m19 0h0m1 0h0m2 0h0m-62 1h0m4 0h0m4 0h0m1 0h0m3 0h0m1 0h0m3 0h0m1 0h0m3 0h0m1 0h0m5 0h0m1 0h0m4 0h0m1 0h0m1 0h0m14 0h0m5 0h0m1 0h0m2 0h0m6 0h0m4 0h0m4 0h0m-72 1h0m2 0h0m2 0h0m1 0h0m1 0h0m2 0h0m4 0h0m3 0h0m3 0h0m2 0h0m2 0h0m3 0h0m1 0h0m4 0h0m2 0h0m4 0h0m1 0h0m1 0h0m9 0h0m7 0h0m2 0h0m1 0h0m3 0h0m3 0h0m8 0h0m-69 1h0m1 0h0m1 0h0m1 0h0m2 0h0m7 0h0m2 0h0m4 0h0m9 0h0m4 0h0m15 0h0m3 0h0m2 0h0m2 0h0m6 0h0m1 0h0m1 0h0m3 0h0m3 0h0m2 0h0m1 0h0m-69 1h0m1 0h0m2 0h0m3 0h0m5 0h0m1 0h0m7 0h0m3 0h0m2 0h0m6 0h0m1 0h0m1 0h0m11 0h0m3 0h0m1 0h0m1 0h0m4 0h0m1 0h0m3 0h0m2 0h0m4 0h0m1 0h0m2 0h0m1 0h0m4 0h0m-49 1h0m8 0h0m2 0h0m4 0h0m5 0h0m3 0h0m16 0h0m4 0h0m4 0h0m3 0h0m1 0h0m-60 1h0m6 0h0m1 0h0m1 0h0m1 0h0m2 0h0m3 0h0m1 0h0m3 0h0m3 0h0m1 0h0m3 0h0m10 0h0m9 0h0m7 0h0m1 0h0m1 0h0m2 0h0m1 0h0m3 0h0m3 0h0m1 0h0m8 0h0m-77 1h0m5 0h0m7 0h0m4 0h0m8 0h0m4 0h0m2 0h0m6 0h0m6 0h0m16 0h0m1 0h0m4 0h0m1 0h0m1 0h0m1 0h0m-52 1h0m1 0h0m1 0h0m1 0h0m1 0h0m6 0h0m4 0h0m1 0h0m1 0h0m2 0h0m1 0h0m5 0h0m4 0h0m8 0h0m8 0h0m7 0h0m3 0h0m3 0h0m1 0h0m-66 1h0m7 0h0m1 0h0m2 0h0m3 0h0m5 0h0m2 0h0m4 0h0m6 0h0m2 0h0m10 0h0m9 0h0m3 0h0m3 0h0m1 0h0m1 0h0m1 0h0m1 0h0m2 0h0m4 0h0m4 0h0m-62 1h0m3 0h0m5 0h0m5 0h0m3 0h0m5 0h0m3 0h0m3 0h0m15 0h0m5 0h0m4 0h0m9 0h0m2 0h0m1 0h0m2 0h0m1 0h0m-67 1h0m1 0h0m1 0h0m3 0h0m6 0h0m1 0h0m1 0h0m1 0h0m9 0h0m1 0h0m10 0h0m1 0h0m7 0h0m8 0h0m1 0h0m1 0h0m2 0h0m8 0h0m3 0h0m-68 1h0m7 0h0m6 0h0m1 0h0m1 0h0m5 0h0m2 0h0m3 0h0m10 0h0m7 0h0m2 0h0m8 0h0m2 0h0m7 0h0m3 0h0m1 0h0m3 0h0m1 0h0m-71 1h0m7 0h0m7 0h0m1 0h0m1 0h0m2 0h0m5 0h0m3 0h0m3 0h0m5 0h0m1 0h0m2 0h0m12 0h0m1 0h0m5 0h0m1 0h0m1 0h0m2 0h0m2 0h0m4 0h0m7 0h0m1 0h0m1 0h0m2 0h0m-78 1h0m2 0h0m10 0h0m3 0h0m1 0h0m1 0h0m5 0h0m1 0h0m1 0h0m1 0h0m24 0h0m1 0h0m2 0h0m3 0h0m1 0h0m3 0h0m2 0h0m3 0h0m1 0h0m8 0h0m5 0h0m1 0h0m-81 1h0m1 0h0m2 0h0m1 0h0m1 0h0m8 0h0m2 0h0m2 0h0m1 0h0m1 0h0m1 0h0m1 0h0m3 0h0m1 0h0m2 0h0m7 0h0m6 0h0m1 0h0m10 0h0m2 0h0m2 0h0m7 0h0m1 0h0m2 0h0m2 0h0m4 0h0m1 0h0m2 0h0m6 0h0m-77 1h0m1 0h0m1 0h0m9 0h0m2 0h0m6 0h0m2 0h0m4 0h0m5 0h0m1 0h0m8 0h0m2 0h0m6 0h0m3 0h0m9 0h0m4 0h0m4 0h0m6 0h0m6 0h0m-82 1h0m3 0h0m1 0h0m1 0h0m1 0h0m9 0h0m5 0h0m2 0h0m3 0h0m9 0h0m1 0h0m9 0h0m5 0h0m2 0h0m4 0h0m8 0h0m2 0h0m1 0h0m2 0h0m3 0h0m11 0h0m1 0h0m-82 1h0m2 0h0m2 0h0m11 0h0m2 0h0m8 0h0m1 0h0m2 0h0m4 0h0m1 0h0m6 0h0m2 0h0m3 0h0m5 0h0m1 0h0m2 0h0m6 0h0m5 0h0m4 0h0m1 0h0m1 0h0m1 0h0m5 0h0m6 0h0m2 0h0m-74 1h0m4 0h0m2 0h0m2 0h0m2 0h0m4 0h0m12 0h0m1 0h0m2 0h0m4 0h0m2 0h0m4 0h0m11 0h0m1 0h0m1 0h0m2 0h0m6 0h0m7 0h0m1 0h0m1 0h0m-77 1h0m4 0h0m1 0h0m6 0h0m5 0h0m1 0h0m6 0h0m1 0h0m1 0h0m1 0h0m2 0h0m4 0h0m2 0h0m3 0h0m1 0h0m1 0h0m1 0h0m2 0h0m1 0h0m6 0h0m9 0h0m3 0h0m7 0h0m10 0h0m9 0h0m-85 1h0m4 0h0m6 0h0m3 0h0m1 0h0m6 0h0m6 0h0m4 0h0m4 0h0m3 0h0m1 0h0m8 0h0m9 0h0m2 0h0m5 0h0m1 0h0m2 0h0m12 0h0m8 0h0m2 0h0m5 0h0m-94 1h0m15 0h0m2 0h0m7 0h0m3 0h0m1 0h0m2 0h0m2 0h0m2 0h0m7 0h0m3 0h0m2 0h0m2 0h0m2 0h0m6 0h0m10 0h0m1 0h0m1 0h0m-67 1h0m3 0h0m6 0h0m2 0h0m1 0h0m1 0h0m1 0h0m1 0h0m6 0h0m2 0h0m5 0h0m2 0h0m2 0h0m1 0h0m2 0h0m2 0h0m6 0h0m2 0h0m1 0h0m1 0h0m3 0h0m3 0h0m13 0h0m-63 1h0m1 0h0m4 0h0m2 0h0m3 0h0m2 0h0m2 0h0m1 0h0m7 0h0m1 0h0m3 0h0m4 0h0m1 0h0m1 0h0m7 0h0m2 0h0m4 0h0m6 0h0m1 0h0m1 0h0m2 0h0m8 0h0m2 0h0m12 0h0m-69 1h0m1 0h0m2 0h0m1 0h0m10 0h0m1 0h0m2 0h0m2 0h0m3 0h0m1 0h0m1 0h0m2 0h0m1 0h0m9 0h0m1 0h0m5 0h0m1 0h0m2 0h0m1 0h0m16 0h0m9 0h0m9 0h0m-81 1h0m12 0h0m2 0h0m1 0h0m1 0h0m13 0h0m6 0h0m2 0h0m2 0h0m3 0h0m3 0h0m2 0h0m3 0h0m1 0h0m7 0h0m8 0h0m2 0h0m2 0h0m2 0h0m4 0h0m2 0h0m5 0h0m5 0h0m3 0h0m-97 1h0m1 0h0m6 0h0m1 0h0m5 0h0m6 0h0m1 0h0m2 0h0m2 0h0m4 0h0m2 0h0m4 0h0m8 0h0m3 0h0m1 0h0m2 0h0m1 0h0m4 0h0m2 0h0m3 0h0m1 0h0m11 0h0m3 0h0m1 0h0m8 0h0m7 0h0m4 0h0m1 0h0m1 0h0m3 0h0m-98 1h0m7 0h0m1 0h0m2 0h0m1 0h0m11 0h0m1 0h0m2 0h0m2 0h0m18 0h0m3 0h0m3 0h0m1 0h0m2 0h0m1 0h0m4 0h0m5 0h0m7 0h0m12 0h0m1 0h0m1 0h0m5 0h0m6 0h0m1 0h0m-98 1h0m4 0h0m1 0h0m2 0h0m6 0h0m13 0h0m1 0h0m17 0h0m2 0h0m3 0h0m2 0h0m1 0h0m1 0h0m5 0h0m3 0h0m1 0h0m3 0h0m1 0h0m7 0h0m13 0h0m1 0h0m1 0h0m8 0h0m3 0h0m2 0h0m1 0h0m-94 1h0m9 0h0m7 0h0m3 0h0m2 0h0m7 0h0m7 0h0m8 0h0m2 0h0m2 0h0m6 0h0m4 0h0m7 0h0m19 0h0m1 0h0m1 0h0m-90 1h0m7 0h0m2 0h0m3 0h0m1 0h0m1 0h0m1 0h0m4 0h0m1 0h0m1 0h0m1 0h0m1 0h0m1 0h0m1 0h0m1 0h0m20 0h0m2 0h0m1 0h0m1 0h0m4 0h0m6 0h0m3 0h0m6 0h0m1 0h0m7 0h0m7 0h0m1 0h0m1 0h0m3 0h0m-94 1h0m6 0h0m1 0h0m12 0h0m2 0h0m9 0h0m8 0h0m4 0h0m9 0h0m3 0h0m2 0h0m1 0h0m1 0h0m2 0h0m15 0h0m14 0h0m2 0h0m1 0h0m-89 1h0m5 0h0m6 0h0m4 0h0m12 0h0m1 0h0m2 0h0m1 0h0m4 0h0m15 0h0m4 0h0m2 0h0m13 0h0m2 0h0m4 0h0m1 0h0m1 0h0m6 0h0m6 0h0m8 0h0m4 0h0m2 0h0m-100 1h0m1 0h0m8 0h0m2 0h0m1 0h0m8 0h0m1 0h0m10 0h0m3 0h0m10 0h0m2 0h0m1 0h0m1 0h0m1 0h0m3 0h0m13 0h0m1 0h0m5 0h0m6 0h0m8 0h0m3 0h0m3 0h0m3 0h0m-85 1h0m5 0h0m7 0h0m3 0h0m12 0h0m2 0h0m1 0h0m8 0h0m3 0h0m1 0h0m1 0h0m12 0h0m2 0h0m1 0h0m6 0h0m3 0h0m3 0h0m1 0h0m7 0h0m1 0h0m3 0h0m9 0h0m-93 1h0m4 0h0m6 0h0m2 0h0m1 0h0m1 0h0m1 0h0m11 0h0m2 0h0m9 0h0m2 0h0m2 0h0m1 0h0m8 0h0m1 0h0m2 0h0m1 0h0m3 0h0m3 0h0m1 0h0m4 0h0m2 0h0m2 0h0m1 0h0m1 0h0m3 0h0m1 0h0m3 0h0m3 0h0m1 0h0m5 0h0m6 0h0m-100 1h0m7 0h0m2 0h0m1 0h0m9 0h0m4 0h0m11 0h0m3 0h0m5 0h0m2 0h0m2 0h0m1 0h0m1 0h0m9 0h0m1 0h0m2 0h0m1 0h0m2 0h0m4 0h0m8 0h0m1 0h0m2 0h0m1 0h0m12 0h0m1 0h0m1 0h0m1 0h0m5 0h0m-103 1h0m3 0h0m10 0h0m3 0h0m6 0h0m1 0h0m2 0h0m3 0h0m8 0h0m15 0h0m11 0h0m7 0h0m3 0h0m1 0h0m2 0h0m2 0h0m1 0h0m3 0h0m1 0h0m2 0h0m4 0h0m8 0h0m1 0h0m1 0h0m6 0h0m1 0h0m1 0h0m15 0h0m-113 1h0m1 0h0m1 0h0m15 0h0m2 0h0m3 0h0m2 0h0m13 0h0m3 0h0m3 0h0m4 0h0m11 0h0m3 0h0m2 0h0m7 0h0m1 0h0m16 0h0m2 0h0m2 0h0m6 0h0m18 0h0m1 0h0m-123 1h0m5 0h0m4 0h0m1 0h0m11 0h0m1 0h0m2 0h0m4 0h0m1 0h0m1 0h0m8 0h0m13 0h0m1 0h0m10 0h0m4 0h0m11 0h0m3 0h0m1 0h0m1 0h0m2 0h0m8 0h0m1 0h0m1 0h0m25 0h0m3 0h0m-118 1h0m4 0h0m1 0h0m2 0h0m26 0h0m2 0h0m4 0h0m11 0h0m2 0h0m11 0h0m1 0h0m14 0h0m9 0h0m5 0h0m1 0h0m1 0h0m14 0h0m7 0h0m4 0h0m2 0h0m-127 1h0m6 0h0m3 0h0m17 0h0m8 0h0m1 0h0m3 0h0m3 0h0m1 0h0m1 0h0m10 0h0m4 0h0m3 0h0m9 0h0m1 0h0m1 0h0m9 0h0m3 0h0m8 0h0m1 0h0m2 0h0m1 0h0m2 0h0m8 0h0m8 0h0m3 0h0m2 0h0m3 0h0m2 0h0m1 0h0m1 0h0m1 0h0m1 0h0m-113 1h0m18 0h0m1 0h0m2 0h0m2 0h0m5 0h0m1 0h0m1 0h0m5 0h0m9 0h0m8 0h0m10 0h0m5 0h0m1 0h0m11 0h0m1 0h0m3 0h0m1 0h0m3 0h0m7 0h0m5 0h0m1 0h0m4 0h0m4 0h0m2 0h0m5 0h0m-117 1h0m2 0h0m10 0h0m1 0h0m1 0h0m7 0h0m1 0h0m3 0h0m2 0h0m4 0h0m10 0h0m2 0h0m4 0h0m1 0h0m7 0h0m2 0h0m2 0h0m5 0h0m5 0h0m1 0h0m1 0h0m3 0h0m1 0h0m6 0h0m1 0h0m2 0h0m2 0h0m2 0h0m1 0h0m1 0h0m3 0h0m2 0h0m1 0h0m2 0h0m7 0h0m5 0h0m3 0h0m1 0h0m1 0h0m3 0h0m-117 1h0m6 0h0m2 0h0m4 0h0m2 0h0m4 0h0m3 0h0m1 0h0m1 0h0m5 0h0m1 0h0m6 0h0m2 0h0m13 0h0m2 0h0m3 0h0m8 0h0m5 0h0m1 0h0m2 0h0m1 0h0m1 0h0m1 0h0m1 0h0m2 0h0m2 0h0m1 0h0m2 0h0m4 0h0m1 0h0m2 0h0m1 0h0m5 0h0m2 0h0m8 0h0m9 0h0m7 0h0m-135 1h0m14 0h0m1 0h0m1 0h0m2 0h0m1 0h0m2 0h0m1 0h0m1 0h0m2 0h0m2 0h0m1 0h0m2 0h0m1 0h0m2 0h0m1 0h0m1 0h0m3 0h0m1 0h0m3 0h0m2 0h0m2 0h0m3 0h0m16 0h0m2 0h0m1 0h0m2 0h0m2 0h0m2 0h0m1 0h0m1 0h0m7 0h0m1 0h0m1 0h0m8 0h0m1 0h0m2 0h0m3 0h0m2 0h0m1 0h0m4 0h0m7 0h0m10 0h0m1 0h0m5 0h0m5 0h0m5 0h0m-138 1h0m11 0h0m1 0h0m2 0h0m4 0h0m3 0h0m1 0h0m3 0h0m2 0h0m2 0h0m1 0h0m2 0h0m1 0h0m3 0h0m1 0h0m9 0h0m2 0h0m2 0h0m14 0h0m7 0h0m3 0h0m10 0h0m2 0h0m2 0h0m3 0h0m3 0h0m2 0h0m2 0h0m1 0h0m2 0h0m2 0h0m1 0h0m1 0h0m1 0h0m1 0h0m3 0h0m7 0h0m2 0h0m3 0h0m1 0h0m2 0h0m1 0h0m1 0h0m6 0h0m3 0h0m1 0h0m4 0h0m-137 1h0m2 0h0m7 0h0m1 0h0m1 0h0m3 0h0m3 0h0m1 0h0m1 0h0m1 0h0m1 0h0m1 0h0m1 0h0m1 0h0m1 0h0m1 0h0m3 0h0m1 0h0m3 0h0m2 0h0m1 0h0m5 0h0m1 0h0m1 0h0m9 0h0m2 0h0m12 0h0m1 0h0m3 0h0m1 0h0m1 0h0m9 0h0m2 0h0m1 0h0m1 0h0m7 0h0m3 0h0m2 0h0m1 0h0m1 0h0m4 0h0m1 0h0m11 0h0m5 0h0m19 0h0m2 0h0m-143 1h0m2 0h0m6 0h0m13 0h0m2 0h0m8 0h0m1 0h0m1 0h0m3 0h0m4 0h0m2 0h0m1 0h0m2 0h0m9 0h0m3 0h0m17 0h0m1 0h0m1 0h0m8 0h0m3 0h0m1 0h0m2 0h0m1 0h0m1 0h0m2 0h0m1 0h0m3 0h0m1 0h0m1 0h0m7 0h0m1 0h0m2 0h0m2 0h0m1 0h0m3 0h0m2 0h0m3 0h0m1 0h0m18 0h0m2 0h0m-139 1h0m1 0h0m1 0h0m2 0h0m2 0h0m9 0h0m2 0h0m1 0h0m2 0h0m6 0h0m6 0h0m6 0h0m3 0h0m8 0h0m4 0h0m19 0h0m5 0h0m1 0h0m5 0h0m1 0h0m4 0h0m2 0h0m2 0h0m2 0h0m1 0h0m1 0h0m4 0h0m5 0h0m2 0h0m1 0h0m2 0h0m28 0h0m4 0h0m1 0h0m-143 1h0m8 0h0m1 0h0m8 0h0m2 0h0m4 0h0m9 0h0m6 0h0m8 0h0m11 0h0m2 0h0m12 0h0m4 0h0m1 0h0m1 0h0m7 0h0m1 0h0m1 0h0m11 0h0m3 0h0m4 0h0m2 0h0m4 0h0m7 0h0m4 0h0m1 0h0m16 0h0m3 0h0m1 0h0m1 0h0m-142 1h0m4 0h0m14 0h0m2 0h0m5 0h0m20 0h0m8 0h0m13 0h0m6 0h0m1 0h0m3 0h0m7 0h0m1 0h0m1 0h0m1 0h0m1 0h0m1 0h0m4 0h0m5 0h0m4 0h0m5 0h0m5 0h0m6 0h0m7 0h0m1 0h0m11 0h0m2 0h0m1 0h0m1 0h0m6 0h0m-146 1h0m2 0h0m1 0h0m1 0h0m3 0h0m17 0h0m6 0h0m3 0h0m4 0h0m1 0h0m11 0h0m3 0h0m1 0h0m2 0h0m1 0h0m1 0h0m2 0h0m4 0h0m7 0h0m1 0h0m2 0h0m9 0h0m1 0h0m1 0h0m1 0h0m3 0h0m10 0h0m1 0h0m6 0h0m2 0h0m16 0h0m14 0h0m5 0h0m-140 1h0m7 0h0m17 0h0m6 0h0m1 0h0m1 0h0m1 0h0m10 0h0m2 0h0m3 0h0m1 0h0m1 0h0m4 0h0m3 0h0m3 0h0m6 0h0m4 0h0m1 0h0m11 0h0m1 0h0m1 0h0m1 0h0m1 0h0m1 0h0m9 0h0m2 0h0m10 0h0m2 0h0m1 0h0m4 0h0m17 0h0m2 0h0m4 0h0m6 0h0m2 0h0m-143 1h0m17 0h0m5 0h0m5 0h0m2 0h0m17 0h0m3 0h0m2 0h0m1 0h0m1 0h0m3 0h0m5 0h0m7 0h0m13 0h0m5 0h0m6 0h0m5 0h0m6 0h0m1 0h0m2 0h0m1 0h0m3 0h0m14 0h0m1 0h0m1 0h0m3 0h0m5 0h0m6 0h0m-125 1h0m1 0h0m1 0h0m3 0h0m2 0h0m4 0h0m11 0h0m6 0h0m2 0h0m1 0h0m1 0h0m1 0h0m1 0h0m5 0h0m4 0h0m24 0h0m3 0h0m12 0h0m1 0h0m4 0h0m1 0h0m4 0h0m2 0h0m2 0h0m2 0h0m5 0h0m1 0h0m3 0h0m1 0h0m2 0h0m6 0h0m2 0h0m2 0h0m5 0h0m4 0h0m6 0h0m-144 1h0m3 0h0m1 0h0m5 0h0m2 0h0m6 0h0m2 0h0m6 0h0m2 0h0m4 0h0m3 0h0m1 0h0m4 0h0m1 0h0m2 0h0m12 0h0m1 0h0m2 0h0m3 0h0m10 0h0m4 0h0m13 0h0m1 0h0m1 0h0m3 0h0m7 0h0m7 0h0m2 0h0m1 0h0m2 0h0m30 0h0m-145 1h0m3 0h0m3 0h0m6 0h0m4 0h0m3 0h0m2 0h0m6 0h0m2 0h0m16 0h0m1 0h0m12 0h0m1 0h0m6 0h0m1 0h0m8 0h0m2 0h0m7 0h0m4 0h0m5 0h0m9 0h0m1 0h0m1 0h0m6 0h0m1 0h0m2 0h0m1 0h0m1 0h0m1 0h0m2 0h0m5 0h0m7 0h0m-127 1h0m13 0h0m1 0h0m1 0h0m5 0h0m3 0h0m1 0h0m4 0h0m1 0h0m11 0h0m2 0h0m1 0h0m1 0h0m10 0h0m2 0h0m1 0h0m2 0h0m10 0h0m14 0h0m6 0h0m1 0h0m3 0h0m10 0h0m1 0h0m1 0h0m1 0h0m3 0h0m1 0h0m2 0h0m7 0h0m1 0h0m7 0h0m11 0h0m3 0h0m-146 1h0m6 0h0m1 0h0m1 0h0m1 0h0m14 0h0m4 0h0m1 0h0m4 0h0m1 0h0m1 0h0m21 0h0m1 0h0m1 0h0m1 0h0m3 0h0m1 0h0m1 0h0m11 0h0m1 0h0m1 0h0m2 0h0m2 0h0m1 0h0m15 0h0m3 0h0m5 0h0m10 0h0m16 0h0m6 0h0m3 0h0m4 0h0m-133 1h0m12 0h0m5 0h0m3 0h0m1 0h0m13 0h0m3 0h0m1 0h0m6 0h0m8 0h0m19 0h0m11 0h0m7 0h0m12 0h0m6 0h0m7 0h0m1 0h0m1 0h0m8 0h0m1 0h0m-125 1h0m2 0h0m13 0h0m2 0h0m1 0h0m11 0h0m10 0h0m5 0h0m19 0h0m1 0h0m6 0h0m1 0h0m1 0h0m8 0h0m1 0h0m1 0h0m2 0h0m13 0h0m2 0h0m16 0h0m2 0h0m3 0h0m1 0h0m1 0h0m13 0h0m4 0h0m1 0h0m-142 1h0m2 0h0m11 0h0m3 0h0m1 0h0m3 0h0m2 0h0m1 0h0m1 0h0m3 0h0m2 0h0m9 0h0m14 0h0m6 0h0m9 0h0m6 0h0m2 0h0m4 0h0m4 0h0m14 0h0m2 0h0m19 0h0m9 0h0m1 0h0m3 0h0m2 0h0m4 0h0m1 0h0m1 0h0m4 0h0m-136 1h0m9 0h0m2 0h0m7 0h0m12 0h0m3 0h0m6 0h0m12 0h0m8 0h0m4 0h0m1 0h0m1 0h0m1 0h0m2 0h0m2 0h0m1 0h0m5 0h0m3 0h0m12 0h0m29 0h0m4 0h0m1 0h0m1 0h0m4 0h0m3 0h0m-130 1h0m5 0h0m1 0h0m1 0h0m3 0h0m1 0h0m1 0h0m1 0h0m7 0h0m12 0h0m1 0h0m8 0h0m1 0h0m1 0h0m1 0h0m5 0h0m12 0h0m2 0h0m1 0h0m4 0h0m1 0h0m1 0h0m3 0h0m1 0h0m2 0h0m10 0h0m2 0h0m11 0h0m2 0h0m17 0h0m2 0h0m1 0h0m5 0h0m6 0h0m-125 1h0m6 0h0m1 0h0m1 0h0m4 0h0m10 0h0m9 0h0m4 0h0m6 0h0m7 0h0m8 0h0m2 0h0m2 0h0m3 0h0m3 0h0m2 0h0m12 0h0m1 0h0m1 0h0m5 0h0m2 0h0m4 0h0m2 0h0m2 0h0m1 0h0m1 0h0m1 0h0m1 0h0m1 0h0m1 0h0m2 0h0m3 0h0m4 0h0m6 0h0m2 0h0m2 0h0m3 0h0m-134 1h0m8 0h0m9 0h0m2 0h0m8 0h0m1 0h0m13 0h0m5 0h0m13 0h0m4 0h0m3 0h0m1 0h0m1 0h0m1 0h0m9 0h0m1 0h0m1 0h0m3 0h0m12 0h0m2 0h0m2 0h0m2 0h0m1 0h0m3 0h0m8 0h0m2 0h0m2 0h0m2 0h0m3 0h0m2 0h0m4 0h0m5 0h0m2 0h0m-134 1h0m5 0h0m9 0h0m15 0h0m2 0h0m1 0h0m5 0h0m2 0h0m2 0h0m2 0h0m1 0h0m1 0h0m3 0h0m1 0h0m1 0h0m2 0h0m2 0h0m1 0h0m3 0h0m1 0h0m7 0h0m3 0h0m3 0h0m2 0h0m2 0h0m7 0h0m2 0h0m1 0h0m4 0h0m4 0h0m7 0h0m13 0h0m1 0h0m5 0h0m1 0h0m1 0h0m9 0h0m1 0h0m9 0h0m-125 1h0m5 0h0m3 0h0m4 0h0m3 0h0m1 0h0m3 0h0m2 0h0m7 0h0m1 0h0m2 0h0m9 0h0m10 0h0m1 0h0m2 0h0m4 0h0m2 0h0m10 0h0m1 0h0m4 0h0m1 0h0m1 0h0m2 0h0m1 0h0m12 0h0m1 0h0m7 0h0m5 0h0m2 0h0m2 0h0m5 0h0m5 0h0m4 0h0m2 0h0m1 0h0m1 0h0m-142 1h0m6 0h0m3 0h0m1 0h0m5 0h0m1 0h0m2 0h0m2 0h0m6 0h0m1 0h0m1 0h0m2 0h0m1 0h0m5 0h0m1 0h0m1 0h0m1 0h0m4 0h0m1 0h0m6 0h0m3 0h0m1 0h0m4 0h0m15 0h0m2 0h0m2 0h0m5 0h0m2 0h0m7 0h0m1 0h0m2 0h0m7 0h0m7 0h0m1 0h0m5 0h0m2 0h0m3 0h0m8 0h0m1 0h0m6 0h0m2 0h0m1 0h0m1 0h0m2 0h0m1 0h0m2 0h0m-144 1h0m9 0h0m1 0h0m2 0h0m2 0h0m7 0h0m1 0h0m1 0h0m3 0h0m1 0h0m2 0h0m2 0h0m1 0h0m2 0h0m10 0h0m1 0h0m4 0h0m1 0h0m4 0h0m2 0h0m1 0h0m3 0h0m10 0h0m7 0h0m1 0h0m5 0h0m1 0h0m2 0h0m4 0h0m6 0h0m6 0h0m13 0h0m2 0h0m2 0h0m12 0h0m9 0h0m2 0h0m3 0h0m-138 1h0m3 0h0m3 0h0m9 0h0m5 0h0m1 0h0m1 0h0m1 0h0m1 0h0m5 0h0m2 0h0m2 0h0m1 0h0m3 0h0m2 0h0m1 0h0m22 0h0m4 0h0m3 0h0m3 0h0m2 0h0m2 0h0m1 0h0m7 0h0m2 0h0m4 0h0m13 0h0m2 0h0m1 0h0m6 0h0m2 0h0m4 0h0m2 0h0m8 0h0m4 0h0m-147 1h0m8 0h0m12 0h0m1 0h0m1 0h0m5 0h0m2 0h0m1 0h0m5 0h0m6 0h0m1 0h0m2 0h0m6 0h0m1 0h0m3 0h0m1 0h0m1 0h0m2 0h0m2 0h0m2 0h0m1 0h0m1 0h0m9 0h0m4 0h0m4 0h0m1 0h0m7 0h0m4 0h0m1 0h0m2 0h0m1 0h0m3 0h0m2 0h0m4 0h0m15 0h0m6 0h0m1 0h0m5 0h0m10 0h0m1 0h0m4 0h0m1 0h0m3 0h0m-137 1h0m1 0h0m4 0h0m1 0h0m7 0h0m2 0h0m2 0h0m4 0h0m5 0h0m1 0h0m3 0h0m1 0h0m3 0h0m1 0h0m6 0h0m1 0h0m2 0h0m3 0h0m7 0h0m2 0h0m13 0h0m1 0h0m1 0h0m2 0h0m4 0h0m1 0h0m1 0h0m4 0h0m2 0h0m4 0h0m1 0h0m16 0h0m5 0h0m1 0h0m1 0h0m4 0h0m4 0h0m2 0h0m5 0h0m2 0h0m3 0h0m4 0h0m-145 1h0m13 0h0m5 0h0m4 0h0m3 0h0m2 0h0m2 0h0m4 0h0m5 0h0m1 0h0m1 0h0m2 0h0m9 0h0m5 0h0m13 0h0m5 0h0m5 0h0m1 0h0m7 0h0m1 0h0m2 0h0m1 0h0m6 0h0m2 0h0m1 0h0m12 0h0m2 0h0m2 0h0m4 0h0m1 0h0m12 0h0m1 0h0m2 0h0m2 0h0m1 0h0m3 0h0m-148 1h0m3 0h0m4 0h0m14 0h0m7 0h0m5 0h0m2 0h0m10 0h0m2 0h0m7 0h0m1 0h0m1 0h0m4 0h0m2 0h0m7 0h0m7 0h0m4 0h0m2 0h0m5 0h0m8 0h0m1 0h0m2 0h0m2 0h0m8 0h0m2 0h0m7 0h0m3 0h0m5 0h0m3 0h0m2 0h0m3 0h0m2 0h0m8 0h0m3 0h0m6 0h0m-152 1h0m1 0h0m5 0h0m6 0h0m3 0h0m1 0h0m2 0h0m7 0h0m3 0h0m2 0h0m1 0h0m2 0h0m8 0h0m1 0h0m2 0h0m1 0h0m1 0h0m1 0h0m4 0h0m2 0h0m4 0h0m2 0h0m3 0h0m6 0h0m1 0h0m3 0h0m4 0h0m2 0h0m1 0h0m1 0h0m3 0h0m4 0h0m8 0h0m9 0h0m1 0h0m3 0h0m1 0h0m1 0h0m7 0h0m1 0h0m10 0h0m2 0h0m1 0h0m1 0h0m2 0h0m3 0h0m5 0h0m5 0h0m1 0h0m5 0h0m-149 1h0m1 0h0m8 0h0m2 0h0m3 0h0m1 0h0m8 0h0m5 0h0m2 0h0m10 0h0m1 0h0m1 0h0m2 0h0m2 0h0m1 0h0m1 0h0m6 0h0m11 0h0m2 0h0m2 0h0m1 0h0m3 0h0m5 0h0m3 0h0m2 0h0m1 0h0m1 0h0m20 0h0m5 0h0m1 0h0m5 0h0m6 0h0m4 0h0m2 0h0m3 0h0m2 0h0m1 0h0m2 0h0m10 0h0m-145 1h0m1 0h0m1 0h0m3 0h0m5 0h0m4 0h0m1 0h0m14 0h0m7 0h0m1 0h0m1 0h0m1 0h0m8 0h0m1 0h0m2 0h0m1 0h0m6 0h0m1 0h0m6 0h0m1 0h0m6 0h0m3 0h0m3 0h0m1 0h0m2 0h0m4 0h0m7 0h0m2 0h0m5 0h0m3 0h0m2 0h0m6 0h0m2 0h0m1 0h0m2 0h0m1 0h0m2 0h0m1 0h0m3 0h0m1 0h0m5 0h0m4 0h0m2 0h0m1 0h0m2 0h0m5 0h0m2 0h0m5 0h0m-152 1h0m5 0h0m1 0h0m2 0h0m1 0h0m1 0h0m4 0h0m1 0h0m5 0h0m10 0h0m2 0h0m5 0h0m6 0h0m11 0h0m6 0h0m1 0h0m7 0h0m7 0h0m3 0h0m3 0h0m2 0h0m6 0h0m5 0h0m3 0h0m10 0h0m1 0h0m3 0h0m3 0h0m2 0h0m2 0h0m2 0h0m10 0h0m1 0h0m2 0h0m9 0h0m8 0h0m1 0h0m2 0h0m-153 1h0m1 0h0m2 0h0m4 0h0m1 0h0m1 0h0m1 0h0m3 0h0m2 0h0m10 0h0m8 0h0m17 0h0m1 0h0m2 0h0m1 0h0m8 0h0m6 0h0m2 0h0m1 0h0m1 0h0m2 0h0m4 0h0m1 0h0m1 0h0m8 0h0m12 0h0m6 0h0m6 0h0m2 0h0m6 0h0m8 0h0m1 0h0m6 0h0m1 0h0m4 0h0m3 0h0m2 0h0m1 0h0m1 0h0m1 0h0m4 0h0m2 0h0m-151 1h0m2 0h0m9 0h0m1 0h0m18 0h0m6 0h0m2 0h0m8 0h0m5 0h0m1 0h0m14 0h0m3 0h0m5 0h0m3 0h0m3 0h0m2 0h0m2 0h0m6 0h0m2 0h0m1 0h0m11 0h0m1 0h0m1 0h0m3 0h0m3 0h0m2 0h0m1 0h0m1 0h0m14 0h0m2 0h0m2 0h0m2 0h0m1 0h0m2 0h0m1 0h0m2 0h0m2 0h0m2 0h0m4 0h0m5 0h0m-143 1h0m12 0h0m16 0h0m4 0h0m3 0h0m1 0h0m5 0h0m10 0h0m2 0h0m11 0h0m1 0h0m6 0h0m1 0h0m7 0h0m1 0h0m6 0h0m4 0h0m3 0h0m2 0h0m1 0h0m1 0h0m1 0h0m1 0h0m7 0h0m3 0h0m2 0h0m4 0h0m3 0h0m1 0h0m3 0h0m3 0h0m1 0h0m2 0h0m1 0h0m1 0h0m1 0h0m4 0h0m-137 1h0m8 0h0m11 0h0m3 0h0m2 0h0m1 0h0m2 0h0m1 0h0m2 0h0m2 0h0m2 0h0m3 0h0m4 0h0m7 0h0m2 0h0m2 0h0m6 0h0m7 0h0m1 0h0m13 0h0m1 0h0m3 0h0m5 0h0m7 0h0m2 0h0m2 0h0m1 0h0m12 0h0m1 0h0m3 0h0m3 0h0m2 0h0m1 0h0m2 0h0m1 0h0m7 0h0m6 0h0m-130 1h0m6 0h0m5 0h0m1 0h0m1 0h0m2 0h0m3 0h0m4 0h0m3 0h0m1 0h0m3 0h0m1 0h0m2 0h0m1 0h0m1 0h0m10 0h0m3 0h0m2 0h0m9 0h0m1 0h0m3 0h0m1 0h0m10 0h0m1 0h0m3 0h0m2 0h0m12 0h0m2 0h0m1 0h0m10 0h0m7 0h0m1 0h0m2 0h0m6 0h0m1 0h0m5 0h0m4 0h0m2 0h0m-134 1h0m8 0h0m5 0h0m1 0h0m7 0h0m2 0h0m2 0h0m1 0h0m1 0h0m1 0h0m2 0h0m3 0h0m5 0h0m4 0h0m2 0h0m5 0h0m10 0h0m2 0h0m5 0h0m1 0h0m7 0h0m5 0h0m7 0h0m2 0h0m2 0h0m17 0h0m14 0h0m3 0h0m4 0h0m2 0h0m1 0h0m2 0h0m3 0h0m-134 1h0m8 0h0m8 0h0m4 0h0m2 0h0m2 0h0m2 0h0m1 0h0m1 0h0m4 0h0m9 0h0m3 0h0m2 0h0m6 0h0m1 0h0m5 0h0m3 0h0m8 0h0m4 0h0m1 0h0m2 0h0m12 0h0m2 0h0m4 0h0m14 0h0m4 0h0m9 0h0m2 0h0m5 0h0m2 0h0m2 0h0m1 0h0m-124 1h0m15 0h0m2 0h0m2 0h0m3 0h0m1 0h0m1 0h0m2 0h0m10 0h0m7 0h0m1 0h0m2 0h0m2 0h0m1 0h0m8 0h0m4 0h0m2 0h0m1 0h0m1 0h0m2 0h0m2 0h0m1 0h0m3 0h0m5 0h0m2 0h0m4 0h0m3 0h0m6 0h0m1 0h0m1 0h0m1 0h0m4 0h0m6 0h0m5 0h0m1 0h0m5 0h0m1 0h0m6 0h0m1 0h0m-132 1h0m1 0h0m11 0h0m5 0h0m1 0h0m6 0h0m2 0h0m1 0h0m1 0h0m1 0h0m9 0h0m1 0h0m1 0h0m5 0h0m4 0h0m1 0h0m3 0h0m3 0h0m1 0h0m1 0h0m1 0h0m9 0h0m5 0h0m1 0h0m3 0h0m3 0h0m3 0h0m11 0h0m3 0h0m1 0h0m2 0h0m1 0h0m1 0h0m7 0h0m8 0h0m1 0h0m4 0h0m9 0h0m2 0h0m-131 1h0m3 0h0m1 0h0m4 0h0m2 0h0m3 0h0m1 0h0m1 0h0m9 0h0m1 0h0m2 0h0m15 0h0m3 0h0m2 0h0m6 0h0m1 0h0m15 0h0m5 0h0m2 0h0m2 0h0m1 0h0m5 0h0m1 0h0m2 0h0m8 0h0m1 0h0m6 0h0m1 0h0m9 0h0m4 0h0m6 0h0m6 0h0m1 0h0m1 0h0m2 0h0m-130 1h0m2 0h0m9 0h0m3 0h0m12 0h0m1 0h0m10 0h0m4 0h0m26 0h0m7 0h0m1 0h0m1 0h0m2 0h0m4 0h0m3 0h0m1 0h0m2 0h0m1 0h0m4 0h0m7 0h0m1 0h0m6 0h0m6 0h0m2 0h0m10 0h0m2 0h0m1 0h0m1 0h0m-129 1h0m6 0h0m2 0h0m5 0h0m1 0h0m8 0h0m4 0h0m10 0h0m5 0h0m2 0h0m2 0h0m10 0h0m7 0h0m4 0h0m10 0h0m16 0h0m1 0h0m1 0h0m2 0h0m2 0h0m2 0h0m2 0h0m5 0h0m8 0h0m1 0h0m8 0h0m1 0h0m2 0h0m-123 1h0m5 0h0m4 0h0m2 0h0m2 0h0m10 0h0m1 0h0m2 0h0m3 0h0m1 0h0m1 0h0m1 0h0m4 0h0m1 0h0m4 0h0m10 0h0m1 0h0m1 0h0m1 0h0m7 0h0m4 0h0m4 0h0m5 0h0m1 0h0m4 0h0m3 0h0m5 0h0m3 0h0m5 0h0m2 0h0m1 0h0m7 0h0m18 0h0m2 0h0m4 0h0m-134 1h0m3 0h0m5 0h0m8 0h0m2 0h0m13 0h0m13 0h0m6 0h0m8 0h0m2 0h0m9 0h0m5 0h0m1 0h0m1 0h0m18 0h0m5 0h0m11 0h0m18 0h0m2 0h0m1 0h0m1 0h0m1 0h0m-136 1h0m7 0h0m11 0h0m6 0h0m4 0h0m8 0h0m1 0h0m7 0h0m1 0h0m6 0h0m5 0h0m2 0h0m1 0h0m5 0h0m6 0h0m2 0h0m2 0h0m1 0h0m1 0h0m1 0h0m2 0h0m3 0h0m3 0h0m4 0h0m1 0h0m7 0h0m1 0h0m1 0h0m1 0h0m3 0h0m2 0h0m2 0h0m3 0h0m11 0h0m1 0h0m2 0h0m11 0h0m2 0h0m13 0h0m-148 1h0m4 0h0m1 0h0m12 0h0m3 0h0m3 0h0m1 0h0m2 0h0m2 0h0m7 0h0m4 0h0m4 0h0m1 0h0m12 0h0m1 0h0m2 0h0m1 0h0m2 0h0m6 0h0m4 0h0m2 0h0m4 0h0m4 0h0m3 0h0m3 0h0m2 0h0m1 0h0m5 0h0m1 0h0m3 0h0m2 0h0m3 0h0m2 0h0m11 0h0m2 0h0m2 0h0m1 0h0m1 0h0m2 0h0m1 0h0m1 0h0m-124 1h0m4 0h0m12 0h0m2 0h0m1 0h0m11 0h0m7 0h0m5 0h0m16 0h0m1 0h0m1 0h0m3 0h0m1 0h0m4 0h0m3 0h0m3 0h0m4 0h0m4 0h0m1 0h0m1 0h0m1 0h0m13 0h0m2 0h0m3 0h0m4 0h0m8 0h0m3 0h0m3 0h0m4 0h0m6 0h0m14 0h0m-147 1h0m2 0h0m4 0h0m1 0h0m2 0h0m4 0h0m1 0h0m4 0h0m1 0h0m2 0h0m2 0h0m5 0h0m13 0h0m2 0h0m4 0h0m12 0h0m2 0h0m1 0h0m2 0h0m2 0h0m1 0h0m2 0h0m2 0h0m9 0h0m4 0h0m2 0h0m1 0h0m1 0h0m2 0h0m1 0h0m1 0h0m1 0h0m1 0h0m2 0h0m3 0h0m8 0h0m1 0h0m2 0h0m10 0h0m3 0h0m5 0h0m6 0h0m-139 1h0m2 0h0m1 0h0m3 0h0m3 0h0m1 0h0m4 0h0m2 0h0m2 0h0m4 0h0m1 0h0m1 0h0m10 0h0m3 0h0m1 0h0m5 0h0m2 0h0m2 0h0m1 0h0m2 0h0m6 0h0m1 0h0m1 0h0m2 0h0m2 0h0m9 0h0m6 0h0m2 0h0m3 0h0m2 0h0m1 0h0m9 0h0m7 0h0m12 0h0m1 0h0m2 0h0m2 0h0m8 0h0m1 0h0m1 0h0m1 0h0m3 0h0m11 0h0m6 0h0m-150 1h0m1 0h0m1 0h0m1 0h0m11 0h0m3 0h0m6 0h0m2 0h0m2 0h0m8 0h0m6 0h0m11 0h0m9 0h0m10 0h0m1 0h0m11 0h0m2 0h0m11 0h0m3 0h0m2 0h0m3 0h0m2 0h0m7 0h0m1 0h0m6 0h0m4 0h0m2 0h0m3 0h0m2 0h0m4 0h0m1 0h0m3 0h0m-136 1h0m2 0h0m1 0h0m4 0h0m4 0h0m5 0h0m20 0h0m2 0h0m1 0h0m1 0h0m1 0h0m4 0h0m2 0h0m1 0h0m1 0h0m5 0h0m6 0h0m6 0h0m1 0h0m2 0h0m10 0h0m1 0h0m1 0h0m10 0h0m3 0h0m2 0h0m1 0h0m3 0h0m1 0h0m3 0h0m7 0h0m2 0h0m11 0h0m8 0h0m3 0h0m1 0h0m2 0h0m-139 1h0m2 0h0m1 0h0m3 0h0m2 0h0m1 0h0m1 0h0m1 0h0m1 0h0m4 0h0m2 0h0m4 0h0m2 0h0m1 0h0m12 0h0m2 0h0m3 0h0m8 0h0m3 0h0m6 0h0m1 0h0m5 0h0m1 0h0m1 0h0m2 0h0m1 0h0m6 0h0m5 0h0m5 0h0m8 0h0m1 0h0m2 0h0m1 0h0m2 0h0m2 0h0m4 0h0m1 0h0m4 0h0m9 0h0m4 0h0m1 0h0m1 0h0m7 0h0m1 0h0m4 0h0m1 0h0m2 0h0m-143 1h0m1 0h0m5 0h0m2 0h0m5 0h0m1 0h0m5 0h0m1 0h0m4 0h0m3 0h0m1 0h0m3 0h0m7 0h0m14 0h0m3 0h0m2 0h0m3 0h0m1 0h0m5 0h0m1 0h0m1 0h0m15 0h0m1 0h0m3 0h0m2 0h0m1 0h0m2 0h0m10 0h0m7 0h0m1 0h0m6 0h0m11 0h0m1 0h0m5 0h0m2 0h0m6 0h0m-138 1h0m8 0h0m2 0h0m1 0h0m2 0h0m1 0h0m1 0h0m2 0h0m2 0h0m3 0h0m1 0h0m1 0h0m7 0h0m4 0h0m3 0h0m3 0h0m6 0h0m1 0h0m2 0h0m8 0h0m3 0h0m1 0h0m13 0h0m1 0h0m6 0h0m3 0h0m1 0h0m2 0h0m4 0h0m6 0h0m1 0h0m1 0h0m1 0h0m5 0h0m7 0h0m6 0h0m5 0h0m7 0h0m1 0h0m2 0h0m2 0h0m4 0h0m2 0h0m-144 1h0m5 0h0m5 0h0m5 0h0m1 0h0m1 0h0m9 0h0m4 0h0m5 0h0m1 0h0m6 0h0m1 0h0m1 0h0m8 0h0m1 0h0m8 0h0m1 0h0m1 0h0m1 0h0m5 0h0m4 0h0m1 0h0m3 0h0m12 0h0m15 0h0m4 0h0m13 0h0m1 0h0m1 0h0m2 0h0m1 0h0m1 0h0m5 0h0m2 0h0m5 0h0m2 0h0m2 0h0m1 0h0m7 0h0m1 0h0m-158 1h0m6 0h0m13 0h0m2 0h0m7 0h0m2 0h0m1 0h0m2 0h0m2 0h0m2 0h0m16 0h0m3 0h0m1 0h0m5 0h0m7 0h0m1 0h0m1 0h0m3 0h0m5 0h0m9 0h0m10 0h0m16 0h0m1 0h0m2 0h0m5 0h0m16 0h0m2 0h0m5 0h0m1 0h0m1 0h0m1 0h0m3 0h0m3 0h0m1 0h0m1 0h0m4 0h0m1 0h0m-140 1h0m6 0h0m1 0h0m2 0h0m1 0h0m2 0h0m2 0h0m4 0h0m1 0h0m1 0h0m1 0h0m2 0h0m3 0h0m2 0h0m1 0h0m8 0h0m4 0h0m1 0h0m3 0h0m5 0h0m1 0h0m1 0h0m2 0h0m2 0h0m6 0h0m2 0h0m14 0h0m1 0h0m9 0h0m1 0h0m1 0h0m1 0h0m3 0h0m1 0h0m2 0h0m2 0h0m6 0h0m1 0h0m4 0h0m1 0h0m4 0h0m2 0h0m2 0h0m3 0h0m4 0h0m8 0h0m1 0h0m3 0h0m1 0h0m1 0h0m3 0h0m-145 1h0m3 0h0m4 0h0m1 0h0m4 0h0m2 0h0m4 0h0m1 0h0m8 0h0m5 0h0m2 0h0m4 0h0m1 0h0m1 0h0m1 0h0m1 0h0m6 0h0m2 0h0m2 0h0m10 0h0m3 0h0m1 0h0m3 0h0m9 0h0m1 0h0m1 0h0m1 0h0m17 0h0m1 0h0m11 0h0m8 0h0m1 0h0m1 0h0m1 0h0m2 0h0m1 0h0m2 0h0m1 0h0m3 0h0m2 0h0m5 0h0m1 0h0m1 0h0m8 0h0m1 0h0m-145 1h0m3 0h0m3 0h0m3 0h0m2 0h0m2 0h0m12 0h0m3 0h0m5 0h0m19 0h0m3 0h0m5 0h0m2 0h0m2 0h0m1 0h0m1 0h0m12 0h0m1 0h0m8 0h0m5 0h0m1 0h0m3 0h0m2 0h0m4 0h0m1 0h0m1 0h0m6 0h0m2 0h0m2 0h0m3 0h0m2 0h0m4 0h0m2 0h0m5 0h0m2 0h0m2 0h0m-137 1h0m2 0h0m2 0h0m1 0h0m6 0h0m8 0h0m3 0h0m1 0h0m1 0h0m1 0h0m2 0h0m5 0h0m1 0h0m5 0h0m1 0h0m10 0h0m6 0h0m3 0h0m8 0h0m1 0h0m10 0h0m1 0h0m1 0h0m3 0h0m1 0h0m3 0h0m3 0h0m1 0h0m11 0h0m2 0h0m2 0h0m1 0h0m8 0h0m4 0h0m3 0h0m1 0h0m1 0h0m2 0h0m2 0h0m1 0h0m3 0h0m1 0h0m2 0h0m-151 1h0m21 0h0m1 0h0m1 0h0m2 0h0m11 0h0m1 0h0m5 0h0m1 0h0m1 0h0m3 0h0m5 0h0m2 0h0m1 0h0m11 0h0m5 0h0m3 0h0m2 0h0m5 0h0m1 0h0m1 0h0m3 0h0m1 0h0m10 0h0m9 0h0m3 0h0m2 0h0m3 0h0m1 0h0m3 0h0m3 0h0m3 0h0m9 0h0m4 0h0m7 0h0m2 0h0m3 0h0m2 0h0m1 0h0m2 0h0m1 0h0m-151 1h0m7 0h0m12 0h0m1 0h0m1 0h0m8 0h0m7 0h0m4 0h0m3 0h0m9 0h0m2 0h0m1 0h0m3 0h0m2 0h0m1 0h0m1 0h0m12 0h0m3 0h0m2 0h0m14 0h0m3 0h0m5 0h0m1 0h0m2 0h0m5 0h0m6 0h0m4 0h0m1 0h0m1 0h0m9 0h0m1 0h0m5 0h0m2 0h0m1 0h0m7 0h0m2 0h0m2 0h0m1 0h0m1 0h0m-151 1h0m9 0h0m1 0h0m5 0h0m1 0h0m2 0h0m1 0h0m2 0h0m7 0h0m3 0h0m3 0h0m12 0h0m3 0h0m6 0h0m4 0h0m4 0h0m7 0h0m1 0h0m21 0h0m11 0h0m1 0h0m1 0h0m4 0h0m6 0h0m1 0h0m4 0h0m11 0h0m1 0h0m3 0h0m4 0h0m1 0h0m3 0h0m5 0h0m1 0h0m1 0h0m-148 1h0m1 0h0m1 0h0m5 0h0m3 0h0m1 0h0m3 0h0m1 0h0m3 0h0m2 0h0m1 0h0m1 0h0m5 0h0m1 0h0m5 0h0m8 0h0m1 0h0m1 0h0m7 0h0m7 0h0m2 0h0m8 0h0m1 0h0m1 0h0m17 0h0m3 0h0m9 0h0m6 0h0m3 0h0m1 0h0m9 0h0m1 0h0m2 0h0m2 0h0m14 0h0m3 0h0m1 0h0m6 0h0m2 0h0m1 0h0m1 0h0m2 0h0m1 0h0m-153 1h0m6 0h0m8 0h0m1 0h0m2 0h0m2 0h0m5 0h0m1 0h0m1 0h0m21 0h0m4 0h0m1 0h0m2 0h0m1 0h0m14 0h0m8 0h0m7 0h0m1 0h0m1 0h0m1 0h0m1 0h0m1 0h0m3 0h0m5 0h0m3 0h0m1 0h0m2 0h0m3 0h0m1 0h0m2 0h0m4 0h0m2 0h0m2 0h0m1 0h0m4 0h0m2 0h0m5 0h0m1 0h0m9 0h0m8 0h0m4 0h0m-152 1h0m4 0h0m1 0h0m3 0h0m2 0h0m4 0h0m2 0h0m1 0h0m7 0h0m4 0h0m5 0h0m14 0h0m4 0h0m2 0h0m3 0h0m1 0h0m5 0h0m7 0h0m1 0h0m1 0h0m1 0h0m5 0h0m1 0h0m4 0h0m2 0h0m1 0h0m3 0h0m1 0h0m1 0h0m2 0h0m2 0h0m7 0h0m1 0h0m1 0h0m1 0h0m2 0h0m12 0h0m3 0h0m2 0h0m2 0h0m4 0h0m1 0h0m12 0h0m2 0h0m5 0h0m5 0h0m-148 1h0m8 0h0m2 0h0m8 0h0m2 0h0m2 0h0m6 0h0m1 0h0m12 0h0m5 0h0m5 0h0m3 0h0m1 0h0m12 0h0m8 0h0m5 0h0m1 0h0m3 0h0m1 0h0m1 0h0m5 0h0m4 0h0m1 0h0m1 0h0m1 0h0m2 0h0m6 0h0m2 0h0m1 0h0m6 0h0m2 0h0m7 0h0m8 0h0m1 0h0m14 0h0m-141 1h0m5 0h0m1 0h0m5 0h0m2 0h0m4 0h0m1 0h0m1 0h0m1 0h0m2 0h0m1 0h0m10 0h0m3 0h0m5 0h0m6 0h0m2 0h0m1 0h0m1 0h0m1 0h0m1 0h0m1 0h0m1 0h0m2 0h0m1 0h0m1 0h0m3 0h0m5 0h0m3 0h0m3 0h0m1 0h0m1 0h0m1 0h0m3 0h0m1 0h0m6 0h0m1 0h0m1 0h0m2 0h0m2 0h0m4 0h0m2 0h0m4 0h0m8 0h0m15 0h0m1 0h0m4 0h0m7 0h0m-138 1h0m7 0h0m1 0h0m2 0h0m3 0h0m1 0h0m7 0h0m3 0h0m9 0h0m2 0h0m9 0h0m10 0h0m1 0h0m3 0h0m1 0h0m1 0h0m1 0h0m19 0h0m3 0h0m2 0h0m1 0h0m14 0h0m2 0h0m1 0h0m1 0h0m1 0h0m3 0h0m2 0h0m10 0h0m8 0h0m14 0h0m2 0h0m-140 1h0m3 0h0m1 0h0m3 0h0m12 0h0m23 0h0m3 0h0m7 0h0m1 0h0m1 0h0m1 0h0m2 0h0m16 0h0m1 0h0m1 0h0m7 0h0m7 0h0m8 0h0m1 0h0m1 0h0m1 0h0m1 0h0m2 0h0m10 0h0m1 0h0m1 0h0m2 0h0m7 0h0m1 0h0m1 0h0m-127 1h0m10 0h0m8 0h0m1 0h0m4 0h0m17 0h0m7 0h0m12 0h0m1 0h0m15 0h0m2 0h0m1 0h0m1 0h0m2 0h0m1 0h0m3 0h0m15 0h0m1 0h0m15 0h0m11 0h0m-127 1h0m3 0h0m5 0h0m3 0h0m25 0h0m10 0h0m9 0h0m18 0h0m2 0h0m2 0h0m5 0h0m1 0h0m1 0h0m1 0h0m12 0h0m5 0h0m1 0h0m8 0h0m2 0h0m2 0h0m6 0h0m17 0h0m1 0h0m-139 1h0m6 0h0m1 0h0m7 0h0m9 0h0m5 0h0m1 0h0m9 0h0m2 0h0m7 0h0m3 0h0m11 0h0m5 0h0m3 0h0m1 0h0m1 0h0m1 0h0m2 0h0m1 0h0m5 0h0m1 0h0m4 0h0m1 0h0m11 0h0m10 0h0m2 0h0m1 0h0m9 0h0m1 0h0m-119 1h0m1 0h0m3 0h0m1 0h0m3 0h0m7 0h0m18 0h0m12 0h0m2 0h0m11 0h0m3 0h0m2 0h0m8 0h0m7 0h0m3 0h0m1 0h0m1 0h0m1 0h0m11 0h0m5 0h0m6 0h0m3 0h0m1 0h0m8 0h0m3 0h0m1 0h0m-121 1h0m6 0h0m30 0h0m7 0h0m1 0h0m16 0h0m1 0h0m2 0h0m5 0h0m5 0h0m8 0h0m1 0h0m1 0h0m3 0h0m18 0h0m4 0h0m2 0h0m1 0h0m2 0h0m-110 1h0m6 0h0m7 0h0m15 0h0m4 0h0m1 0h0m2 0h0m6 0h0m3 0h0m11 0h0m2 0h0m14 0h0m4 0h0m1 0h0m1 0h0m1 0h0m2 0h0m7 0h0m3 0h0m1 0h0m4 0h0m2 0h0m5 0h0m3 0h0m6 0h0m2 0h0m-88 1h0m3 0h0m5 0h0m2 0h0m6 0h0m2 0h0m12 0h0m1 0h0m1 0h0m1 0h0m2 0h0m7 0h0m5 0h0m1 0h0m2 0h0m2 0h0m2 0h0m6 0h0m6 0h0m2 0h0m5 0h0m4 0h0m3 0h0m1 0h0m1 0h0m8 0h0m-108 1h0m2 0h0m1 0h0m9 0h0m6 0h0m1 0h0m1 0h0m5 0h0m1 0h0m3 0h0m5 0h0m10 0h0m5 0h0m3 0h0m2 0h0m2 0h0m1 0h0m6 0h0m1 0h0m2 0h0m4 0h0m1 0h0m1 0h0m23 0h0m5 0h0m-96 1h0m1 0h0m13 0h0m3 0h0m1 0h0m5 0h0m7 0h0m3 0h0m12 0h0m2 0h0m3 0h0m1 0h0m1 0h0m1 0h0m9 0h0m3 0h0m8 0h0m1 0h0m17 0h0m3 0h0m1 0h0m4 0h0m-103 1h0m1 0h0m3 0h0m2 0h0m1 0h0m6 0h0m1 0h0m4 0h0m1 0h0m2 0h0m1 0h0m1 0h0m23 0h0m4 0h0m3 0h0m17 0h0m3 0h0m3 0h0m2 0h0m23 0h0m-102 1h0m1 0h0m3 0h0m3 0h0m9 0h0m1 0h0m4 0h0m1 0h0m12 0h0m2 0h0m11 0h0m1 0h0m8 0h0m1 0h0m19 0h0m22 0h0m1 0h0m-100 1h0m1 0h0m12 0h0m1 0h0m4 0h0m4 0h0m2 0h0m8 0h0m7 0h0m17 0h0m3 0h0m1 0h0m5 0h0m24 0h0m1 0h0m1 0h0m12 0h0m-101 1h0m1 0h0m5 0h0m8 0h0m4 0h0m5 0h0m5 0h0m2 0h0m19 0h0m1 0h0m2 0h0m5 0h0m7 0h0m11 0h0m2 0h0m-69 1h0m4 0h0m9 0h0m8 0h0m5 0h0m2 0h0m1 0h0m11 0h0m27 0h0m6 0h0m8 0h0m-73 1h0m4 0h0m3 0h0m1 0h0m7 0h0m4 0h0m1 0h0m16 0h0m6 0h0m14 0h0m1 0h0m5 0h0m1 0h0m2 0h0m6 0h0m3 0h0m2 0h0m-91 1h0m10 0h0m2 0h0m6 0h0m16 0h0m6 0h0m12 0h0m1 0h0m2 0h0m18 0h0m2 0h0m2 0h0m1 0h0m14 0h0m-81 1h0m1 0h0m4 0h0m3 0h0m2 0h0m6 0h0m8 0h0m4 0h0m13 0h0m1 0h0m3 0h0m1 0h0m14 0h0m12 0h0m3 0h0m-79 1h0m9 0h0m1 0h0m1 0h0m12 0h0m9 0h0m7 0h0m2 0h0m2 0h0m9 0h0m15 0h0m1 0h0m-70 1h0m6 0h0m2 0h0m4 0h0m4 0h0m4 0h0m2 0h0m1 0h0m9 0h0m6 0h0m1 0h0m2 0h0m2 0h0m2 0h0m2 0h0m14 0h0m1 0h0m4 0h0m1 0h0m3 0h0m1 0h0m1 0h0m-71 1h0m1 0h0m1 0h0m4 0h0m1 0h0m3 0h0m1 0h0m1 0h0m8 0h0m14 0h0m2 0h0m1 0h0m26 0h0m7 0h0m-68 1h0m1 0h0m5 0h0m1 0h0m1 0h0m3 0h0m1 0h0m1 0h0m5 0h0m1 0h0m3 0h0m4 0h0m3 0h0m17 0h0m1 0h0m4 0h0m2 0h0m2 0h0m10 0h0m1 0h0m1 0h0m-64 1h0m1 0h0m2 0h0m1 0h0m1 0h0m4 0h0m22 0h0m9 0h0m1 0h0m2 0h0m2 0h0m1 0h0m1 0h0m1 0h0m1 0h0m1 0h0m5 0h0m-51 1h0m1 0h0m6 0h0m4 0h0m1 0h0m1 0h0m13 0h0m13 0h0m3 0h0m2 0h0m3 0h0m1 0h0m3 0h0m4 0h0m1 0h0m3 0h0m-59 1h0m3 0h0m1 0h0m34 0h0m1 0h0m1 0h0m7 0h0m10 0h0m15 0h0m-46 1h0m11 0h0m3 0h0m3 0h0m13 0h0m1 0h0m-58 1h0m15 0h0m1 0h0m3 0h0m1 0h0m10 0h0m9 0h0m1 0h0m-33 1h0m8 0h0m1 0h0m3 0h0m13 0h0m7 0h0m1 0h0m1 0h0m2 0h0m-40 1h0m1 0h0m5 0h0m9 0h0m13 0h0m6 0h0m-29 1h0m9 0h0m13 0h0m4 0h0m2 0h0m3 0h0m-35 1h0m3 0h0m2 0h0m1 0h0m1 0h0m1 0h0m12 0h0m9 0h0m3 0h0m1 0h0m-25 1h0m3 0h0m4 0h0m9 0h0m2 0h0m2 0h0m2 0h0m6 0h0m-28 1h0m1 0h0m4 0h0m8 0h0m1 0h0m1 0h0m6 0h0m-36 1h0m1 0h0m12 0h0m1 0h0m1 0h0m19 0h0m6 0h0m-7 1h0m3 0h0m2 0h0m22 31h0m-44 15h0"/>
<path fill="none" stroke="#C49A00" stroke-width="2.9" stroke-linecap="round" d="M230 536h0m-12 1h0m11 0h0m-10 1h0m-27 1h0m12 0h0m15 0h0m-24 1h0m22 0h0m3 0h0m-27 1h0m2 0h0m22 0h0m1 0h0m4 0h0m9 0h0m1 0h0m6 0h0m-44 1h0m1 0h0m7 0h0m16 0h0m5 0h0m2 0h0m10 0h0m-34 1h0m8 0h0m7 0h0m1 0h0m13 0h0m3 0h0m1 0h0m1 0h0m-44 1h0m8 0h0m13 0h0m3 0h0m1 0h0m1 0h0m9 0h0m5 0h0m1 0h0m5 0h0m-44 1h0m7 0h0m13 0h0m1 0h0m1 0h0m2 0h0m1 0h0m9 0h0m3 0h0m2 0h0m1 0h0m4 0h0m2 0h0m-48 1h0m4 0h0m6 0h0m8 0h0m1 0h0m3 0h0m2 0h0m1 0h0m1 0h0m2 0h0m1 0h0m5 0h0m1 0h0m2 0h0m1 0h0m2 0h0m5 0h0m10 0h0m-56 1h0m16 0h0m3 0h0m2 0h0m2 0h0m1 0h0m2 0h0m1 0h0m3 0h0m7 0h0m1 0h0m1 0h0m6 0h0m1 0h0m-45 1h0m3 0h0m18 0h0m1 0h0m2 0h0m3 0h0m11 0h0m2 0h0m1 0h0m3 0h0m1 0h0m5 0h0m4 0h0m2 0h0m-52 1h0m7 0h0m5 0h0m2 0h0m3 0h0m3 0h0m2 0h0m1 0h0m14 0h0m1 0h0m5 0h0m-55 1h0m1 0h0m8 0h0m15 0h0m1 0h0m2 0h0m3 0h0m6 0h0m9 0h0m3 0h0m2 0h0m6 0h0m2 0h0m1 0h0m-57 1h0m3 0h0m19 0h0m1 0h0m6 0h0m1 0h0m1 0h0m3 0h0m2 0h0m5 0h0m5 0h0m7 0h0m1 0h0m2 0h0m-52 1h0m2 0h0m1 0h0m2 0h0m13 0h0m5 0h0m1 0h0m1 0h0m2 0h0m1 0h0m5 0h0m8 0h0m1 0h0m4 0h0m1 0h0m5 0h0m6 0h0m-59 1h0m1 0h0m1 0h0m1 0h0m3 0h0m2 0h0m3 0h0m1 0h0m4 0h0m6 0h0m3 0h0m5 0h0m1 0h0m3 0h0m1 0h0m1 0h0m7 0h0m3 0h0m4 0h0m4 0h0m-59 1h0m7 0h0m1 0h0m3 0h0m8 0h0m1 0h0m9 0h0m1 0h0m1 0h0m5 0h0m1 0h0m1 0h0m12 0h0m3 0h0m1 0h0m1 0h0m-56 1h0m9 0h0m1 0h0m1 0h0m9 0h0m1 0h0m3 0h0m1 0h0m10 0h0m1 0h0m1 0h0m1 0h0m1 0h0m2 0h0m7 0h0m1 0h0m1 0h0m1 0h0m1 0h0m1 0h0m2 0h0m2 0h0m7 0h0m-64 1h0m7 0h0m1 0h0m10 0h0m1 0h0m2 0h0m3 0h0m6 0h0m5 0h0m3 0h0m2 0h0m1 0h0m6 0h0m3 0h0m1 0h0m11 0h0m4 0h0m-60 1h0m4 0h0m3 0h0m6 0h0m6 0h0m1 0h0m6 0h0m2 0h0m3 0h0m9 0h0m14 0h0m2 0h0m4 0h0m1 0h0m-62 1h0m1 0h0m3 0h0m2 0h0m1 0h0m5 0h0m3 0h0m1 0h0m1 0h0m1 0h0m2 0h0m1 0h0m4 0h0m3 0h0m1 0h0m1 0h0m3 0h0m5 0h0m3 0h0m9 0h0m8 0h0m3 0h0m1 0h0m-64 1h0m1 0h0m5 0h0m1 0h0m1 0h0m1 0h0m3 0h0m1 0h0m2 0h0m12 0h0m6 0h0m2 0h0m3 0h0m2 0h0m3 0h0m9 0h0m3 0h0m3 0h0m1 0h0m1 0h0m1 0h0m1 0h0m1 0h0m-64 1h0m1 0h0m2 0h0m1 0h0m2 0h0m2 0h0m6 0h0m2 0h0m3 0h0m1 0h0m2 0h0m1 0h0m4 0h0m2 0h0m5 0h0m7 0h0m1 0h0m4 0h0m6 0h0m7 0h0m2 0h0m2 0h0m-68 1h0m1 0h0m4 0h0m2 0h0m1 0h0m4 0h0m1 0h0m1 0h0m6 0h0m1 0h0m2 0h0m1 0h0m1 0h0m1 0h0m2 0h0m5 0h0m1 0h0m3 0h0m1 0h0m1 0h0m6 0h0m10 0h0m10 0h0m2 0h0m1 0h0m-69 1h0m1 0h0m3 0h0m5 0h0m1 0h0m2 0h0m1 0h0m4 0h0m2 0h0m8 0h0m1 0h0m1 0h0m1 0h0m6 0h0m4 0h0m16 0h0m1 0h0m2 0h0m1 0h0m6 0h0m1 0h0m1 0h0m-69 1h0m1 0h0m1 0h0m3 0h0m2 0h0m4 0h0m2 0h0m5 0h0m2 0h0m4 0h0m5 0h0m3 0h0m2 0h0m1 0h0m3 0h0m1 0h0m1 0h0m1 0h0m11 0h0m1 0h0m4 0h0m2 0h0m6 0h0m3 0h0m1 0h0m4 0h0m-73 1h0m1 0h0m3 0h0m1 0h0m2 0h0m4 0h0m3 0h0m1 0h0m2 0h0m1 0h0m15 0h0m8 0h0m13 0h0m1 0h0m7 0h0m1 0h0m1 0h0m4 0h0m1 0h0m2 0h0m-77 1h0m3 0h0m3 0h0m3 0h0m1 0h0m2 0h0m1 0h0m1 0h0m6 0h0m1 0h0m1 0h0m1 0h0m3 0h0m7 0h0m11 0h0m6 0h0m11 0h0m5 0h0m2 0h0m1 0h0m3 0h0m2 0h0m-71 1h0m2 0h0m2 0h0m1 0h0m1 0h0m1 0h0m2 0h0m2 0h0m5 0h0m4 0h0m1 0h0m6 0h0m1 0h0m6 0h0m10 0h0m1 0h0m4 0h0m1 0h0m1 0h0m3 0h0m2 0h0m1 0h0m2 0h0m2 0h0m5 0h0m1 0h0m-66 1h0m3 0h0m4 0h0m3 0h0m2 0h0m1 0h0m2 0h0m1 0h0m1 0h0m1 0h0m1 0h0m1 0h0m21 0h0m3 0h0m3 0h0m4 0h0m1 0h0m3 0h0m5 0h0m3 0h0m2 0h0m6 0h0m-69 1h0m4 0h0m1 0h0m3 0h0m5 0h0m11 0h0m2 0h0m6 0h0m6 0h0m2 0h0m5 0h0m1 0h0m2 0h0m1 0h0m2 0h0m4 0h0m4 0h0m1 0h0m-63 1h0m3 0h0m2 0h0m1 0h0m2 0h0m2 0h0m6 0h0m6 0h0m7 0h0m4 0h0m6 0h0m3 0h0m5 0h0m2 0h0m1 0h0m3 0h0m1 0h0m1 0h0m3 0h0m3 0h0m3 0h0m8 0h0m-69 1h0m2 0h0m2 0h0m1 0h0m1 0h0m10 0h0m4 0h0m1 0h0m1 0h0m3 0h0m6 0h0m2 0h0m7 0h0m1 0h0m5 0h0m1 0h0m2 0h0m1 0h0m8 0h0m3 0h0m1 0h0m7 0h0m-70 1h0m17 0h0m8 0h0m5 0h0m2 0h0m9 0h0m9 0h0m2 0h0m5 0h0m2 0h0m2 0h0m2 0h0m2 0h0m1 0h0m1 0h0m-67 1h0m8 0h0m9 0h0m2 0h0m13 0h0m10 0h0m1 0h0m3 0h0m4 0h0m18 0h0m-74 1h0m2 0h0m8 0h0m2 0h0m12 0h0m1 0h0m2 0h0m4 0h0m4 0h0m4 0h0m16 0h0m1 0h0m16 0h0m2 0h0m1 0h0m-74 1h0m2 0h0m2 0h0m1 0h0m17 0h0m2 0h0m9 0h0m3 0h0m3 0h0m9 0h0m1 0h0m1 0h0m3 0h0m2 0h0m3 0h0m5 0h0m3 0h0m2 0h0m5 0h0m-68 1h0m5 0h0m2 0h0m1 0h0m9 0h0m1 0h0m9 0h0m1 0h0m2 0h0m2 0h0m6 0h0m2 0h0m1 0h0m3 0h0m6 0h0m2 0h0m-53 1h0m1 0h0m1 0h0m6 0h0m9 0h0m10 0h0m14 0h0m2 0h0m7 0h0m2 0h0m4 0h0m4 0h0m2 0h0m4 0h0m-67 1h0m2 0h0m3 0h0m5 0h0m2 0h0m7 0h0m2 0h0m3 0h0m1 0h0m3 0h0m3 0h0m1 0h0m2 0h0m1 0h0m1 0h0m1 0h0m3 0h0m1 0h0m5 0h0m4 0h0m1 0h0m4 0h0m11 0h0m-75 1h0m8 0h0m4 0h0m1 0h0m5 0h0m1 0h0m3 0h0m1 0h0m8 0h0m4 0h0m2 0h0m2 0h0m6 0h0m2 0h0m2 0h0m3 0h0m1 0h0m1 0h0m7 0h0m2 0h0m4 0h0m9 0h0m-69 1h0m1 0h0m2 0h0m8 0h0m2 0h0m11 0h0m1 0h0m2 0h0m6 0h0m3 0h0m4 0h0m1 0h0m1 0h0m4 0h0m1 0h0m5 0h0m1 0h0m1 0h0m1 0h0m14 0h0m9 0h0m-86 1h0m4 0h0m18 0h0m2 0h0m1 0h0m1 0h0m1 0h0m1 0h0m2 0h0m1 0h0m3 0h0m14 0h0m3 0h0m1 0h0m3 0h0m5 0h0m16 0h0m2 0h0m3 0h0m1 0h0m-71 1h0m3 0h0m8 0h0m2 0h0m1 0h0m4 0h0m2 0h0m1 0h0m2 0h0m5 0h0m8 0h0m1 0h0m1 0h0m4 0h0m2 0h0m22 0h0m1 0h0m2 0h0m2 0h0m-76 1h0m3 0h0m4 0h0m10 0h0m4 0h0m2 0h0m2 0h0m1 0h0m1 0h0m5 0h0m1 0h0m12 0h0m4 0h0m5 0h0m11 0h0m2 0h0m4 0h0m2 0h0m1 0h0m1 0h0m2 0h0m2 0h0m-80 1h0m4 0h0m1 0h0m11 0h0m3 0h0m5 0h0m2 0h0m2 0h0m4 0h0m1 0h0m1 0h0m14 0h0m17 0h0m4 0h0m2 0h0m1 0h0m3 0h0m5 0h0m-78 1h0m1 0h0m3 0h0m6 0h0m4 0h0m1 0h0m1 0h0m2 0h0m6 0h0m4 0h0m1 0h0m3 0h0m12 0h0m1 0h0m1 0h0m5 0h0m14 0h0m4 0h0m-68 1h0m11 0h0m2 0h0m4 0h0m1 0h0m6 0h0m2 0h0m1 0h0m1 0h0m12 0h0m6 0h0m1 0h0m3 0h0m13 0h0m3 0h0m2 0h0m7 0h0m-72 1h0m8 0h0m1 0h0m2 0h0m3 0h0m11 0h0m1 0h0m2 0h0m14 0h0m1 0h0m2 0h0m1 0h0m1 0h0m12 0h0m9 0h0m4 0h0m-71 1h0m2 0h0m4 0h0m4 0h0m9 0h0m3 0h0m1 0h0m3 0h0m5 0h0m2 0h0m2 0h0m5 0h0m4 0h0m3 0h0m8 0h0m1 0h0m4 0h0m7 0h0m4 0h0m-72 1h0m3 0h0m1 0h0m1 0h0m2 0h0m7 0h0m1 0h0m1 0h0m6 0h0m3 0h0m1 0h0m3 0h0m2 0h0m4 0h0m24 0h0m2 0h0m6 0h0m-67 1h0m3 0h0m2 0h0m2 0h0m9 0h0m4 0h0m1 0h0m3 0h0m1 0h0m4 0h0m1 0h0m1 0h0m2 0h0m1 0h0m15 0h0m11 0h0m1 0h0m2 0h0m6 0h0m1 0h0m4 0h0m-74 1h0m1 0h0m5 0h0m1 0h0m15 0h0m11 0h0m2 0h0m1 0h0m2 0h0m11 0h0m10 0h0m2 0h0m7 0h0m4 0h0m1 0h0m1 0h0m2 0h0m3 0h0m-80 1h0m6 0h0m3 0h0m8 0h0m9 0h0m2 0h0m3 0h0m1 0h0m2 0h0m2 0h0m1 0h0m10 0h0m1 0h0m1 0h0m21 0h0m1 0h0m2 0h0m2 0h0m2 0h0m2 0h0m2 0h0m-82 1h0m9 0h0m16 0h0m1 0h0m1 0h0m1 0h0m11 0h0m1 0h0m4 0h0m2 0h0m3 0h0m1 0h0m2 0h0m1 0h0m18 0h0m5 0h0m2 0h0m1 0h0m1 0h0m1 0h0m1 0h0m2 0h0m-84 1h0m1 0h0m16 0h0m3 0h0m2 0h0m1 0h0m1 0h0m1 0h0m2 0h0m7 0h0m4 0h0m1 0h0m1 0h0m1 0h0m3 0h0m1 0h0m2 0h0m1 0h0m1 0h0m3 0h0m24 0h0m3 0h0m3 0h0m1 0h0m-87 1h0m1 0h0m3 0h0m1 0h0m14 0h0m6 0h0m11 0h0m2 0h0m2 0h0m4 0h0m1 0h0m3 0h0m2 0h0m6 0h0m4 0h0m15 0h0m1 0h0m3 0h0m5 0h0m4 0h0m7 0h0m-93 1h0m2 0h0m5 0h0m7 0h0m1 0h0m29 0h0m3 0h0m2 0h0m2 0h0m2 0h0m1 0h0m5 0h0m1 0h0m13 0h0m6 0h0m1 0h0m1 0h0m4 0h0m1 0h0m-88 1h0m2 0h0m1 0h0m14 0h0m2 0h0m6 0h0m11 0h0m2 0h0m2 0h0m3 0h0m1 0h0m1 0h0m4 0h0m4 0h0m2 0h0m4 0h0m23 0h0m7 0h0m1 0h0m6 0h0m-78 1h0m4 0h0m2 0h0m3 0h0m10 0h0m1 0h0m2 0h0m9 0h0m2 0h0m2 0h0m1 0h0m2 0h0m8 0h0m13 0h0m5 0h0m2 0h0m3 0h0m2 0h0m-90 1h0m3 0h0m14 0h0m1 0h0m1 0h0m6 0h0m2 0h0m11 0h0m6 0h0m1 0h0m5 0h0m1 0h0m2 0h0m1 0h0m1 0h0m1 0h0m13 0h0m6 0h0m8 0h0m2 0h0m1 0h0m-60 1h0m2 0h0m1 0h0m1 0h0m1 0h0m13 0h0m7 0h0m2 0h0m1 0h0m3 0h0m5 0h0m1 0h0m2 0h0m1 0h0m2 0h0m3 0h0m1 0h0m1 0h0m1 0h0m1 0h0m8 0h0m7 0h0m3 0h0m-91 1h0m17 0h0m11 0h0m6 0h0m2 0h0m1 0h0m13 0h0m3 0h0m10 0h0m1 0h0m1 0h0m3 0h0m2 0h0m1 0h0m1 0h0m8 0h0m1 0h0m1 0h0m1 0h0m1 0h0m1 0h0m1 0h0m1 0h0m1 0h0m3 0h0m2 0h0m156 0h0m-250 1h0m1 0h0m5 0h0m4 0h0m4 0h0m2 0h0m5 0h0m4 0h0m1 0h0m1 0h0m1 0h0m3 0h0m3 0h0m6 0h0m2 0h0m11 0h0m8 0h0m6 0h0m2 0h0m3 0h0m2 0h0m5 0h0m4 0h0m2 0h0m3 0h0m1 0h0m7 0h0m1 0h0m-94 1h0m4 0h0m1 0h0m3 0h0m2 0h0m20 0h0m7 0h0m7 0h0m2 0h0m4 0h0m2 0h0m5 0h0m1 0h0m3 0h0m5 0h0m5 0h0m1 0h0m2 0h0m13 0h0m-90 1h0m3 0h0m3 0h0m1 0h0m6 0h0m10 0h0m3 0h0m2 0h0m6 0h0m2 0h0m2 0h0m1 0h0m6 0h0m13 0h0m1 0h0m8 0h0m6 0h0m1 0h0m1 0h0m3 0h0m5 0h0m6 0h0m-89 1h0m1 0h0m1 0h0m1 0h0m5 0h0m2 0h0m9 0h0m1 0h0m11 0h0m3 0h0m1 0h0m3 0h0m2 0h0m5 0h0m1 0h0m11 0h0m1 0h0m1 0h0m1 0h0m2 0h0m3 0h0m4 0h0m1 0h0m10 0h0m5 0h0m4 0h0m2 0h0m1 0h0m47 0h0m-136 1h0m3 0h0m3 0h0m2 0h0m5 0h0m4 0h0m2 0h0m11 0h0m2 0h0m2 0h0m11 0h0m3 0h0m2 0h0m3 0h0m6 0h0m2 0h0m7 0h0m3 0h0m2 0h0m1 0h0m1 0h0m1 0h0m12 0h0m-91 1h0m2 0h0m1 0h0m9 0h0m2 0h0m1 0h0m1 0h0m1 0h0m1 0h0m1 0h0m17 0h0m16 0h0m2 0h0m2 0h0m3 0h0m1 0h0m3 0h0m3 0h0m2 0h0m3 0h0m4 0h0m5 0h0m4 0h0m7 0h0m1 0h0m-91 1h0m2 0h0m2 0h0m12 0h0m2 0h0m2 0h0m3 0h0m10 0h0m10 0h0m3 0h0m3 0h0m6 0h0m4 0h0m2 0h0m8 0h0m2 0h0m3 0h0m10 0h0m1 0h0m4 0h0m-80 1h0m5 0h0m2 0h0m4 0h0m1 0h0m2 0h0m1 0h0m8 0h0m3 0h0m9 0h0m14 0h0m4 0h0m5 0h0m14 0h0m1 0h0m3 0h0m3 0h0m1 0h0m1 0h0m1 0h0m-91 1h0m1 0h0m1 0h0m1 0h0m5 0h0m6 0h0m1 0h0m8 0h0m2 0h0m12 0h0m7 0h0m3 0h0m2 0h0m10 0h0m4 0h0m6 0h0m3 0h0m1 0h0m1 0h0m7 0h0m1 0h0m2 0h0m3 0h0m2 0h0m1 0h0m-92 1h0m1 0h0m9 0h0m1 0h0m3 0h0m1 0h0m1 0h0m10 0h0m7 0h0m3 0h0m4 0h0m6 0h0m5 0h0m12 0h0m8 0h0m5 0h0m8 0h0m6 0h0m3 0h0m-95 1h0m4 0h0m4 0h0m5 0h0m2 0h0m20 0h0m1 0h0m5 0h0m2 0h0m1 0h0m3 0h0m1 0h0m2 0h0m10 0h0m3 0h0m1 0h0m2 0h0m7 0h0m5 0h0m7 0h0m1 0h0m1 0h0m2 0h0m-88 1h0m4 0h0m6 0h0m16 0h0m13 0h0m3 0h0m2 0h0m2 0h0m2 0h0m3 0h0m10 0h0m6 0h0m3 0h0m3 0h0m8 0h0m1 0h0m3 0h0m1 0h0m3 0h0m1 0h0m-90 1h0m13 0h0m1 0h0m2 0h0m8 0h0m4 0h0m2 0h0m2 0h0m2 0h0m4 0h0m4 0h0m5 0h0m3 0h0m1 0h0m1 0h0m2 0h0m7 0h0m5 0h0m1 0h0m7 0h0m2 0h0m1 0h0m1 0h0m1 0h0m2 0h0m3 0h0m5 0h0m2 0h0m1 0h0m3 0h0m-89 1h0m1 0h0m1 0h0m4 0h0m2 0h0m1 0h0m3 0h0m7 0h0m1 0h0m2 0h0m2 0h0m5 0h0m7 0h0m8 0h0m1 0h0m1 0h0m2 0h0m1 0h0m14 0h0m6 0h0m1 0h0m5 0h0m3 0h0m1 0h0m2 0h0m2 0h0m2 0h0m1 0h0m2 0h0m5 0h0m-93 1h0m7 0h0m1 0h0m3 0h0m14 0h0m1 0h0m7 0h0m1 0h0m2 0h0m1 0h0m1 0h0m5 0h0m13 0h0m9 0h0m2 0h0m2 0h0m3 0h0m4 0h0m2 0h0m1 0h0m2 0h0m3 0h0m11 0h0m-97 1h0m4 0h0m1 0h0m9 0h0m12 0h0m2 0h0m2 0h0m1 0h0m3 0h0m3 0h0m3 0h0m2 0h0m1 0h0m3 0h0m2 0h0m10 0h0m10 0h0m2 0h0m1 0h0m1 0h0m8 0h0m1 0h0m3 0h0m1 0h0m27 0h0m-115 1h0m1 0h0m15 0h0m8 0h0m6 0h0m3 0h0m4 0h0m2 0h0m2 0h0m1 0h0m2 0h0m2 0h0m5 0h0m1 0h0m7 0h0m2 0h0m9 0h0m8 0h0m12 0h0m11 0h0m1 0h0m1 0h0m4 0h0m-107 1h0m2 0h0m1 0h0m2 0h0m2 0h0m1 0h0m6 0h0m2 0h0m2 0h0m5 0h0m2 0h0m6 0h0m2 0h0m1 0h0m5 0h0m1 0h0m1 0h0m6 0h0m5 0h0m8 0h0m3 0h0m6 0h0m2 0h0m1 0h0m5 0h0m4 0h0m5 0h0m9 0h0m5 0h0m6 0h0m-106 1h0m1 0h0m1 0h0m1 0h0m1 0h0m2 0h0m1 0h0m2 0h0m5 0h0m1 0h0m2 0h0m12 0h0m17 0h0m10 0h0m9 0h0m7 0h0m3 0h0m6 0h0m5 0h0m2 0h0m1 0h0m1 0h0m2 0h0m3 0h0m-88 1h0m1 0h0m1 0h0m1 0h0m7 0h0m2 0h0m4 0h0m8 0h0m12 0h0m2 0h0m1 0h0m2 0h0m4 0h0m1 0h0m3 0h0m4 0h0m2 0h0m1 0h0m6 0h0m2 0h0m5 0h0m2 0h0m9 0h0m5 0h0m1 0h0m6 0h0m7 0h0m-103 1h0m4 0h0m4 0h0m3 0h0m1 0h0m4 0h0m2 0h0m2 0h0m15 0h0m4 0h0m2 0h0m1 0h0m4 0h0m2 0h0m2 0h0m5 0h0m2 0h0m2 0h0m3 0h0m2 0h0m2 0h0m6 0h0m1 0h0m3 0h0m1 0h0m1 0h0m1 0h0m1 0h0m2 0h0m2 0h0m4 0h0m3 0h0m2 0h0m1 0h0m1 0h0m1 0h0m2 0h0m1 0h0m1 0h0m2 0h0m-101 1h0m1 0h0m1 0h0m1 0h0m1 0h0m7 0h0m1 0h0m3 0h0m1 0h0m4 0h0m2 0h0m18 0h0m1 0h0m5 0h0m1 0h0m2 0h0m10 0h0m1 0h0m1 0h0m1 0h0m1 0h0m3 0h0m1 0h0m4 0h0m2 0h0m1 0h0m5 0h0m10 0h0m1 0h0m5 0h0m1 0h0m1 0h0m8 0h0m4 0h0m-108 1h0m1 0h0m14 0h0m12 0h0m2 0h0m4 0h0m3 0h0m4 0h0m1 0h0m8 0h0m5 0h0m1 0h0m2 0h0m1 0h0m3 0h0m1 0h0m4 0h0m5 0h0m4 0h0m1 0h0m2 0h0m2 0h0m4 0h0m11 0h0m5 0h0m1 0h0m1 0h0m-105 1h0m3 0h0m11 0h0m2 0h0m10 0h0m10 0h0m2 0h0m2 0h0m1 0h0m7 0h0m2 0h0m8 0h0m1 0h0m3 0h0m3 0h0m3 0h0m8 0h0m4 0h0m4 0h0m1 0h0m6 0h0m1 0h0m15 0h0m2 0h0m-107 1h0m1 0h0m10 0h0m2 0h0m4 0h0m3 0h0m1 0h0m5 0h0m6 0h0m1 0h0m3 0h0m4 0h0m1 0h0m1 0h0m1 0h0m3 0h0m2 0h0m2 0h0m9 0h0m4 0h0m1 0h0m1 0h0m24 0h0m5 0h0m1 0h0m3 0h0m1 0h0m1 0h0m6 0h0m1 0h0m-106 1h0m2 0h0m1 0h0m1 0h0m2 0h0m1 0h0m2 0h0m3 0h0m3 0h0m3 0h0m8 0h0m6 0h0m4 0h0m1 0h0m1 0h0m1 0h0m1 0h0m3 0h0m1 0h0m1 0h0m2 0h0m2 0h0m4 0h0m2 0h0m2 0h0m5 0h0m4 0h0m7 0h0m2 0h0m12 0h0m7 0h0m2 0h0m1 0h0m1 0h0m-95 1h0m2 0h0m1 0h0m3 0h0m3 0h0m3 0h0m1 0h0m2 0h0m6 0h0m12 0h0m1 0h0m1 0h0m1 0h0m1 0h0m1 0h0m1 0h0m2 0h0m3 0h0m10 0h0m3 0h0m1 0h0m11 0h0m2 0h0m1 0h0m8 0h0m1 0h0m5 0h0m1 0h0m1 0h0m3 0h0m1 0h0m2 0h0m1 0h0m9 0h0m-113 1h0m8 0h0m2 0h0m12 0h0m1 0h0m2 0h0m6 0h0m2 0h0m8 0h0m2 0h0m2 0h0m1 0h0m1 0h0m1 0h0m2 0h0m1 0h0m10 0h0m15 0h0m4 0h0m1 0h0m9 0h0m6 0h0m3 0h0m1 0h0m1 0h0m2 0h0m-94 1h0m1 0h0m6 0h0m1 0h0m3 0h0m2 0h0m1 0h0m3 0h0m7 0h0m1 0h0m5 0h0m1 0h0m1 0h0m2 0h0m2 0h0m2 0h0m2 0h0m2 0h0m1 0h0m5 0h0m1 0h0m7 0h0m13 0h0m3 0h0m10 0h0m7 0h0m5 0h0m-104 1h0m3 0h0m13 0h0m2 0h0m4 0h0m4 0h0m8 0h0m10 0h0m6 0h0m2 0h0m2 0h0m4 0h0m1 0h0m1 0h0m1 0h0m2 0h0m4 0h0m8 0h0m4 0h0m2 0h0m2 0h0m6 0h0m9 0h0m4 0h0m2 0h0m1 0h0m-103 1h0m7 0h0m2 0h0m3 0h0m1 0h0m8 0h0m1 0h0m1 0h0m1 0h0m2 0h0m5 0h0m9 0h0m1 0h0m1 0h0m1 0h0m2 0h0m3 0h0m6 0h0m5 0h0m2 0h0m1 0h0m2 0h0m4 0h0m5 0h0m1 0h0m3 0h0m1 0h0m1 0h0m1 0h0m2 0h0m1 0h0m16 0h0m1 0h0m3 0h0m1 0h0m-107 1h0m9 0h0m5 0h0m1 0h0m4 0h0m2 0h0m1 0h0m1 0h0m7 0h0m8 0h0m3 0h0m8 0h0m1 0h0m1 0h0m1 0h0m1 0h0m1 0h0m2 0h0m7 0h0m2 0h0m4 0h0m1 0h0m1 0h0m1 0h0m3 0h0m3 0h0m2 0h0m3 0h0m1 0h0m2 0h0m9 0h0m6 0h0m4 0h0m1 0h0m6 0h0m-110 1h0m6 0h0m1 0h0m5 0h0m1 0h0m4 0h0m5 0h0m6 0h0m6 0h0m4 0h0m4 0h0m6 0h0m2 0h0m7 0h0m1 0h0m1 0h0m3 0h0m4 0h0m1 0h0m1 0h0m2 0h0m1 0h0m2 0h0m3 0h0m1 0h0m5 0h0m1 0h0m17 0h0m1 0h0m2 0h0m2 0h0m6 0h0m-113 1h0m4 0h0m4 0h0m2 0h0m2 0h0m1 0h0m5 0h0m4 0h0m1 0h0m1 0h0m1 0h0m6 0h0m5 0h0m2 0h0m1 0h0m6 0h0m3 0h0m1 0h0m2 0h0m1 0h0m1 0h0m4 0h0m4 0h0m2 0h0m2 0h0m1 0h0m2 0h0m1 0h0m9 0h0m3 0h0m6 0h0m1 0h0m15 0h0m3 0h0m1 0h0m1 0h0m-105 1h0m6 0h0m3 0h0m1 0h0m3 0h0m5 0h0m11 0h0m1 0h0m2 0h0m2 0h0m5 0h0m10 0h0m8 0h0m1 0h0m1 0h0m3 0h0m2 0h0m1 0h0m1 0h0m7 0h0m1 0h0m2 0h0m4 0h0m9 0h0m8 0h0m1 0h0m1 0h0m1 0h0m4 0h0m9 0h0m2 0h0m-110 1h0m1 0h0m2 0h0m1 0h0m4 0h0m5 0h0m1 0h0m1 0h0m2 0h0m2 0h0m7 0h0m1 0h0m3 0h0m3 0h0m2 0h0m2 0h0m4 0h0m11 0h0m1 0h0m1 0h0m1 0h0m1 0h0m1 0h0m1 0h0m4 0h0m1 0h0m2 0h0m2 0h0m4 0h0m5 0h0m9 0h0m5 0h0m8 0h0m1 0h0m5 0h0m5 0h0m1 0h0m-117 1h0m6 0h0m7 0h0m6 0h0m3 0h0m2 0h0m3 0h0m7 0h0m3 0h0m3 0h0m4 0h0m4 0h0m5 0h0m5 0h0m3 0h0m12 0h0m3 0h0m5 0h0m3 0h0m7 0h0m7 0h0m10 0h0m2 0h0m1 0h0m1 0h0m4 0h0m1 0h0m-115 1h0m6 0h0m4 0h0m9 0h0m13 0h0m5 0h0m3 0h0m2 0h0m2 0h0m3 0h0m2 0h0m21 0h0m2 0h0m1 0h0m12 0h0m1 0h0m3 0h0m1 0h0m4 0h0m2 0h0m16 0h0m2 0h0m-116 1h0m7 0h0m1 0h0m6 0h0m20 0h0m1 0h0m2 0h0m2 0h0m2 0h0m3 0h0m7 0h0m11 0h0m14 0h0m1 0h0m1 0h0m1 0h0m7 0h0m7 0h0m3 0h0m4 0h0m7 0h0m1 0h0m8 0h0m1 0h0m9 0h0m-129 1h0m10 0h0m10 0h0m4 0h0m5 0h0m1 0h0m4 0h0m4 0h0m4 0h0m6 0h0m1 0h0m1 0h0m5 0h0m3 0h0m6 0h0m17 0h0m1 0h0m10 0h0m2 0h0m7 0h0m7 0h0m1 0h0m9 0h0m1 0h0m-120 1h0m2 0h0m1 0h0m2 0h0m14 0h0m1 0h0m1 0h0m8 0h0m6 0h0m2 0h0m1 0h0m1 0h0m2 0h0m1 0h0m6 0h0m1 0h0m23 0h0m10 0h0m4 0h0m8 0h0m3 0h0m2 0h0m9 0h0m3 0h0m2 0h0m1 0h0m4 0h0m1 0h0m1 0h0m6 0h0m-125 1h0m1 0h0m2 0h0m1 0h0m14 0h0m2 0h0m10 0h0m6 0h0m5 0h0m10 0h0m1 0h0m1 0h0m2 0h0m17 0h0m1 0h0m4 0h0m1 0h0m5 0h0m2 0h0m8 0h0m1 0h0m9 0h0m1 0h0m7 0h0m3 0h0m1 0h0m1 0h0m6 0h0m-117 1h0m6 0h0m2 0h0m6 0h0m14 0h0m1 0h0m4 0h0m2 0h0m14 0h0m1 0h0m2 0h0m6 0h0m1 0h0m5 0h0m3 0h0m4 0h0m1 0h0m9 0h0m2 0h0m1 0h0m4 0h0m24 0h0m3 0h0m5 0h0m-124 1h0m28 0h0m3 0h0m1 0h0m10 0h0m10 0h0m11 0h0m9 0h0m1 0h0m6 0h0m11 0h0m1 0h0m1 0h0m1 0h0m8 0h0m1 0h0m1 0h0m6 0h0m4 0h0m1 0h0m3 0h0m1 0h0m2 0h0m1 0h0m2 0h0m1 0h0m-139 1h0m13 0h0m5 0h0m9 0h0m14 0h0m8 0h0m1 0h0m9 0h0m8 0h0m2 0h0m1 0h0m7 0h0m2 0h0m15 0h0m1 0h0m3 0h0m3 0h0m7 0h0m9 0h0m2 0h0m5 0h0m5 0h0m1 0h0m6 0h0m2 0h0m-122 1h0m3 0h0m3 0h0m18 0h0m5 0h0m1 0h0m2 0h0m14 0h0m1 0h0m1 0h0m4 0h0m3 0h0m6 0h0m11 0h0m2 0h0m1 0h0m1 0h0m1 0h0m2 0h0m2 0h0m3 0h0m9 0h0m5 0h0m1 0h0m5 0h0m1 0h0m2 0h0m4 0h0m9 0h0m4 0h0m1 0h0m-129 1h0m2 0h0m7 0h0m9 0h0m11 0h0m2 0h0m12 0h0m3 0h0m1 0h0m1 0h0m3 0h0m1 0h0m6 0h0m8 0h0m10 0h0m1 0h0m1 0h0m1 0h0m5 0h0m4 0h0m2 0h0m1 0h0m8 0h0m2 0h0m2 0h0m3 0h0m1 0h0m1 0h0m2 0h0m1 0h0m1 0h0m13 0h0m1 0h0m3 0h0m3 0h0m-129 1h0m6 0h0m7 0h0m3 0h0m1 0h0m13 0h0m5 0h0m9 0h0m1 0h0m19 0h0m4 0h0m8 0h0m1 0h0m2 0h0m2 0h0m4 0h0m2 0h0m5 0h0m5 0h0m1 0h0m1 0h0m3 0h0m1 0h0m3 0h0m2 0h0m1 0h0m3 0h0m5 0h0m1 0h0m2 0h0m1 0h0m-125 1h0m2 0h0m9 0h0m10 0h0m7 0h0m10 0h0m1 0h0m1 0h0m8 0h0m17 0h0m8 0h0m1 0h0m11 0h0m3 0h0m1 0h0m4 0h0m3 0h0m1 0h0m1 0h0m1 0h0m2 0h0m5 0h0m2 0h0m9 0h0m1 0h0m1 0h0m2 0h0m7 0h0m2 0h0m1 0h0m-136 1h0m8 0h0m1 0h0m6 0h0m6 0h0m1 0h0m2 0h0m1 0h0m8 0h0m1 0h0m1 0h0m7 0h0m1 0h0m1 0h0m1 0h0m1 0h0m2 0h0m1 0h0m1 0h0m1 0h0m2 0h0m7 0h0m8 0h0m2 0h0m8 0h0m11 0h0m8 0h0m1 0h0m12 0h0m4 0h0m11 0h0m-124 1h0m14 0h0m7 0h0m1 0h0m1 0h0m1 0h0m1 0h0m11 0h0m2 0h0m5 0h0m2 0h0m3 0h0m1 0h0m1 0h0m1 0h0m2 0h0m5 0h0m3 0h0m2 0h0m5 0h0m12 0h0m1 0h0m3 0h0m3 0h0m6 0h0m18 0h0m1 0h0m1 0h0m3 0h0m3 0h0m8 0h0m-128 1h0m4 0h0m3 0h0m1 0h0m14 0h0m1 0h0m1 0h0m1 0h0m6 0h0m1 0h0m1 0h0m4 0h0m2 0h0m1 0h0m1 0h0m4 0h0m3 0h0m2 0h0m2 0h0m2 0h0m1 0h0m1 0h0m5 0h0m9 0h0m15 0h0m1 0h0m1 0h0m2 0h0m6 0h0m18 0h0m1 0h0m5 0h0m2 0h0m2 0h0m7 0h0m6 0h0m-136 1h0m1 0h0m8 0h0m14 0h0m1 0h0m8 0h0m4 0h0m5 0h0m1 0h0m3 0h0m1 0h0m2 0h0m4 0h0m1 0h0m9 0h0m3 0h0m4 0h0m16 0h0m1 0h0m1 0h0m1 0h0m26 0h0m1 0h0m3 0h0m4 0h0m1 0h0m-117 1h0m2 0h0m8 0h0m9 0h0m1 0h0m6 0h0m1 0h0m3 0h0m2 0h0m1 0h0m8 0h0m2 0h0m4 0h0m8 0h0m2 0h0m4 0h0m15 0h0m3 0h0m3 0h0m6 0h0m1 0h0m17 0h0m3 0h0m1 0h0m3 0h0m2 0h0m1 0h0m2 0h0m6 0h0m4 0h0m1 0h0m1 0h0m-136 1h0m7 0h0m1 0h0m1 0h0m8 0h0m6 0h0m8 0h0m1 0h0m1 0h0m3 0h0m2 0h0m1 0h0m10 0h0m1 0h0m11 0h0m1 0h0m1 0h0m1 0h0m1 0h0m6 0h0m1 0h0m13 0h0m3 0h0m6 0h0m1 0h0m2 0h0m16 0h0m1 0h0m5 0h0m2 0h0m3 0h0m10 0h0m1 0h0m1 0h0m1 0h0m1 0h0m-132 1h0m1 0h0m3 0h0m1 0h0m9 0h0m6 0h0m3 0h0m5 0h0m2 0h0m3 0h0m1 0h0m1 0h0m4 0h0m1 0h0m1 0h0m5 0h0m10 0h0m5 0h0m1 0h0m4 0h0m3 0h0m5 0h0m1 0h0m1 0h0m6 0h0m8 0h0m1 0h0m4 0h0m29 0h0m5 0h0m2 0h0m6 0h0m-144 1h0m1 0h0m9 0h0m1 0h0m2 0h0m2 0h0m16 0h0m1 0h0m5 0h0m10 0h0m1 0h0m3 0h0m15 0h0m1 0h0m1 0h0m1 0h0m2 0h0m1 0h0m1 0h0m2 0h0m3 0h0m3 0h0m1 0h0m4 0h0m2 0h0m2 0h0m3 0h0m2 0h0m2 0h0m1 0h0m1 0h0m1 0h0m1 0h0m1 0h0m20 0h0m1 0h0m1 0h0m2 0h0m6 0h0m3 0h0m1 0h0m3 0h0m3 0h0m1 0h0m2 0h0m-146 1h0m2 0h0m2 0h0m8 0h0m4 0h0m2 0h0m1 0h0m2 0h0m6 0h0m5 0h0m4 0h0m5 0h0m7 0h0m10 0h0m7 0h0m1 0h0m2 0h0m2 0h0m1 0h0m1 0h0m1 0h0m1 0h0m1 0h0m1 0h0m1 0h0m10 0h0m1 0h0m1 0h0m2 0h0m2 0h0m3 0h0m1 0h0m4 0h0m8 0h0m19 0h0m1 0h0m2 0h0m1 0h0m1 0h0m2 0h0m1 0h0m3 0h0m4 0h0m2 0h0m-145 1h0m1 0h0m16 0h0m1 0h0m3 0h0m12 0h0m11 0h0m11 0h0m12 0h0m1 0h0m1 0h0m1 0h0m1 0h0m1 0h0m1 0h0m1 0h0m3 0h0m6 0h0m1 0h0m6 0h0m1 0h0m2 0h0m1 0h0m1 0h0m2 0h0m2 0h0m2 0h0m4 0h0m1 0h0m12 0h0m3 0h0m3 0h0m1 0h0m4 0h0m8 0h0m2 0h0m2 0h0m2 0h0m6 0h0m-149 1h0m1 0h0m3 0h0m13 0h0m1 0h0m2 0h0m21 0h0m1 0h0m3 0h0m17 0h0m1 0h0m2 0h0m1 0h0m1 0h0m1 0h0m2 0h0m2 0h0m12 0h0m2 0h0m2 0h0m1 0h0m1 0h0m2 0h0m1 0h0m4 0h0m2 0h0m3 0h0m3 0h0m19 0h0m1 0h0m1 0h0m1 0h0m2 0h0m1 0h0m2 0h0m3 0h0m5 0h0m5 0h0m-143 1h0m1 0h0m8 0h0m2 0h0m6 0h0m3 0h0m3 0h0m3 0h0m10 0h0m4 0h0m1 0h0m3 0h0m2 0h0m6 0h0m9 0h0m2 0h0m4 0h0m1 0h0m4 0h0m3 0h0m1 0h0m3 0h0m4 0h0m2 0h0m1 0h0m10 0h0m2 0h0m4 0h0m13 0h0m5 0h0m4 0h0m4 0h0m3 0h0m2 0h0m2 0h0m1 0h0m1 0h0m3 0h0m2 0h0m2 0h0m-133 1h0m5 0h0m2 0h0m2 0h0m18 0h0m4 0h0m3 0h0m6 0h0m2 0h0m14 0h0m1 0h0m7 0h0m9 0h0m1 0h0m9 0h0m8 0h0m3 0h0m10 0h0m10 0h0m2 0h0m1 0h0m7 0h0m18 0h0m1 0h0m-139 1h0m1 0h0m2 0h0m5 0h0m3 0h0m7 0h0m1 0h0m1 0h0m1 0h0m4 0h0m1 0h0m6 0h0m2 0h0m2 0h0m9 0h0m7 0h0m1 0h0m1 0h0m2 0h0m1 0h0m7 0h0m1 0h0m6 0h0m1 0h0m8 0h0m4 0h0m1 0h0m4 0h0m12 0h0m2 0h0m1 0h0m5 0h0m1 0h0m1 0h0m3 0h0m9 0h0m1 0h0m6 0h0m10 0h0m-149 1h0m3 0h0m6 0h0m7 0h0m1 0h0m6 0h0m14 0h0m1 0h0m6 0h0m2 0h0m9 0h0m7 0h0m5 0h0m11 0h0m14 0h0m5 0h0m14 0h0m2 0h0m3 0h0m10 0h0m4 0h0m2 0h0m3 0h0m4 0h0m1 0h0m7 0h0m-153 1h0m1 0h0m8 0h0m13 0h0m3 0h0m2 0h0m2 0h0m1 0h0m2 0h0m3 0h0m3 0h0m4 0h0m3 0h0m3 0h0m2 0h0m2 0h0m11 0h0m4 0h0m1 0h0m1 0h0m1 0h0m1 0h0m7 0h0m2 0h0m7 0h0m3 0h0m13 0h0m12 0h0m3 0h0m1 0h0m6 0h0m13 0h0m1 0h0m1 0h0m1 0h0m-136 1h0m3 0h0m6 0h0m7 0h0m1 0h0m4 0h0m4 0h0m1 0h0m2 0h0m2 0h0m7 0h0m1 0h0m1 0h0m2 0h0m2 0h0m1 0h0m2 0h0m10 0h0m3 0h0m12 0h0m8 0h0m1 0h0m2 0h0m4 0h0m18 0h0m8 0h0m1 0h0m7 0h0m2 0h0m1 0h0m19 0h0m2 0h0m1 0h0m4 0h0m1 0h0m-155 1h0m3 0h0m1 0h0m4 0h0m22 0h0m14 0h0m1 0h0m4 0h0m1 0h0m1 0h0m8 0h0m2 0h0m6 0h0m1 0h0m2 0h0m6 0h0m1 0h0m3 0h0m1 0h0m4 0h0m1 0h0m2 0h0m4 0h0m11 0h0m1 0h0m13 0h0m1 0h0m7 0h0m1 0h0m2 0h0m14 0h0m1 0h0m2 0h0m1 0h0m10 0h0m2 0h0m-163 1h0m2 0h0m3 0h0m5 0h0m1 0h0m1 0h0m10 0h0m3 0h0m5 0h0m2 0h0m3 0h0m5 0h0m9 0h0m2 0h0m1 0h0m1 0h0m2 0h0m13 0h0m2 0h0m3 0h0m8 0h0m2 0h0m2 0h0m3 0h0m1 0h0m1 0h0m1 0h0m17 0h0m2 0h0m1 0h0m3 0h0m1 0h0m4 0h0m4 0h0m1 0h0m4 0h0m1 0h0m2 0h0m8 0h0m7 0h0m2 0h0m1 0h0m3 0h0m12 0h0m-161 1h0m1 0h0m3 0h0m14 0h0m8 0h0m1 0h0m7 0h0m1 0h0m1 0h0m4 0h0m6 0h0m1 0h0m5 0h0m1 0h0m13 0h0m6 0h0m1 0h0m1 0h0m3 0h0m1 0h0m4 0h0m1 0h0m2 0h0m2 0h0m2 0h0m20 0h0m7 0h0m2 0h0m4 0h0m13 0h0m7 0h0m1 0h0m16 0h0m3 0h0m-162 1h0m6 0h0m6 0h0m6 0h0m10 0h0m3 0h0m5 0h0m2 0h0m1 0h0m1 0h0m6 0h0m10 0h0m4 0h0m2 0h0m4 0h0m2 0h0m1 0h0m1 0h0m2 0h0m5 0h0m1 0h0m1 0h0m2 0h0m3 0h0m1 0h0m1 0h0m1 0h0m1 0h0m10 0h0m2 0h0m3 0h0m2 0h0m3 0h0m2 0h0m4 0h0m1 0h0m7 0h0m2 0h0m1 0h0m11 0h0m6 0h0m2 0h0m1 0h0m1 0h0m-139 1h0m1 0h0m11 0h0m18 0h0m1 0h0m14 0h0m3 0h0m5 0h0m2 0h0m2 0h0m2 0h0m1 0h0m14 0h0m1 0h0m5 0h0m10 0h0m1 0h0m6 0h0m4 0h0m1 0h0m1 0h0m1 0h0m1 0h0m1 0h0m10 0h0m2 0h0m1 0h0m8 0h0m2 0h0m-128 1h0m9 0h0m2 0h0m19 0h0m2 0h0m19 0h0m1 0h0m2 0h0m3 0h0m2 0h0m1 0h0m2 0h0m1 0h0m1 0h0m2 0h0m6 0h0m2 0h0m5 0h0m16 0h0m17 0h0m4 0h0m1 0h0m3 0h0m2 0h0m5 0h0m16 0h0m1 0h0m18 0h0m-162 1h0m9 0h0m1 0h0m1 0h0m1 0h0m3 0h0m23 0h0m11 0h0m1 0h0m2 0h0m2 0h0m2 0h0m1 0h0m5 0h0m2 0h0m2 0h0m8 0h0m6 0h0m2 0h0m6 0h0m2 0h0m1 0h0m3 0h0m10 0h0m1 0h0m4 0h0m5 0h0m10 0h0m1 0h0m4 0h0m8 0h0m4 0h0m7 0h0m-148 1h0m9 0h0m2 0h0m7 0h0m1 0h0m2 0h0m1 0h0m12 0h0m16 0h0m5 0h0m2 0h0m3 0h0m3 0h0m20 0h0m1 0h0m1 0h0m1 0h0m2 0h0m1 0h0m3 0h0m4 0h0m1 0h0m4 0h0m5 0h0m2 0h0m1 0h0m2 0h0m6 0h0m2 0h0m2 0h0m2 0h0m3 0h0m1 0h0m2 0h0m1 0h0m1 0h0m1 0h0m9 0h0m2 0h0m6 0h0m1 0h0m3 0h0m2 0h0m3 0h0m1 0h0m2 0h0m-152 1h0m12 0h0m1 0h0m25 0h0m2 0h0m1 0h0m2 0h0m2 0h0m3 0h0m1 0h0m1 0h0m2 0h0m20 0h0m1 0h0m1 0h0m4 0h0m1 0h0m2 0h0m1 0h0m1 0h0m2 0h0m1 0h0m4 0h0m1 0h0m5 0h0m2 0h0m1 0h0m1 0h0m14 0h0m1 0h0m2 0h0m4 0h0m2 0h0m2 0h0m1 0h0m1 0h0m2 0h0m7 0h0m2 0h0m9 0h0m1 0h0m3 0h0m2 0h0m1 0h0m-155 1h0m3 0h0m1 0h0m5 0h0m4 0h0m7 0h0m11 0h0m16 0h0m5 0h0m1 0h0m8 0h0m1 0h0m4 0h0m1 0h0m8 0h0m1 0h0m2 0h0m2 0h0m1 0h0m2 0h0m1 0h0m3 0h0m1 0h0m1 0h0m3 0h0m3 0h0m2 0h0m4 0h0m1 0h0m18 0h0m1 0h0m3 0h0m6 0h0m7 0h0m12 0h0m2 0h0m2 0h0m3 0h0m2 0h0m-157 1h0m8 0h0m4 0h0m5 0h0m4 0h0m6 0h0m1 0h0m1 0h0m2 0h0m11 0h0m3 0h0m1 0h0m2 0h0m1 0h0m5 0h0m7 0h0m4 0h0m7 0h0m6 0h0m3 0h0m1 0h0m2 0h0m4 0h0m3 0h0m5 0h0m2 0h0m8 0h0m6 0h0m2 0h0m2 0h0m1 0h0m2 0h0m1 0h0m4 0h0m7 0h0m1 0h0m2 0h0m20 0h0m5 0h0m-160 1h0m2 0h0m5 0h0m3 0h0m4 0h0m2 0h0m6 0h0m6 0h0m2 0h0m2 0h0m1 0h0m1 0h0m1 0h0m6 0h0m2 0h0m1 0h0m4 0h0m1 0h0m1 0h0m1 0h0m1 0h0m3 0h0m1 0h0m5 0h0m2 0h0m2 0h0m5 0h0m8 0h0m2 0h0m5 0h0m1 0h0m4 0h0m2 0h0m14 0h0m4 0h0m7 0h0m4 0h0m1 0h0m3 0h0m2 0h0m1 0h0m3 0h0m1 0h0m20 0h0m3 0h0m-149 1h0m2 0h0m1 0h0m2 0h0m8 0h0m14 0h0m1 0h0m4 0h0m3 0h0m1 0h0m4 0h0m1 0h0m3 0h0m3 0h0m1 0h0m2 0h0m2 0h0m1 0h0m1 0h0m2 0h0m2 0h0m2 0h0m2 0h0m1 0h0m1 0h0m6 0h0m4 0h0m5 0h0m1 0h0m4 0h0m7 0h0m13 0h0m9 0h0m2 0h0m1 0h0m1 0h0m3 0h0m6 0h0m20 0h0m1 0h0m2 0h0m8 0h0m6 0h0m2 0h0m-171 1h0m3 0h0m15 0h0m1 0h0m1 0h0m1 0h0m1 0h0m1 0h0m2 0h0m2 0h0m5 0h0m4 0h0m2 0h0m4 0h0m1 0h0m1 0h0m1 0h0m6 0h0m3 0h0m1 0h0m1 0h0m4 0h0m2 0h0m1 0h0m2 0h0m2 0h0m7 0h0m6 0h0m4 0h0m1 0h0m1 0h0m4 0h0m6 0h0m10 0h0m3 0h0m1 0h0m1 0h0m6 0h0m4 0h0m2 0h0m2 0h0m1 0h0m6 0h0m1 0h0m7 0h0m13 0h0m5 0h0m6 0h0m5 0h0m3 0h0m-169 1h0m1 0h0m1 0h0m9 0h0m2 0h0m4 0h0m1 0h0m1 0h0m2 0h0m1 0h0m1 0h0m8 0h0m8 0h0m8 0h0m2 0h0m4 0h0m1 0h0m7 0h0m1 0h0m1 0h0m2 0h0m1 0h0m14 0h0m1 0h0m2 0h0m1 0h0m8 0h0m11 0h0m5 0h0m1 0h0m1 0h0m6 0h0m2 0h0m2 0h0m3 0h0m3 0h0m11 0h0m11 0h0m4 0h0m1 0h0m4 0h0m3 0h0m1 0h0m1 0h0m1 0h0m-151 1h0m10 0h0m2 0h0m7 0h0m9 0h0m1 0h0m1 0h0m9 0h0m2 0h0m7 0h0m1 0h0m2 0h0m1 0h0m17 0h0m2 0h0m3 0h0m6 0h0m1 0h0m2 0h0m1 0h0m1 0h0m3 0h0m2 0h0m5 0h0m1 0h0m3 0h0m1 0h0m4 0h0m1 0h0m3 0h0m13 0h0m5 0h0m9 0h0m9 0h0m1 0h0m1 0h0m2 0h0m2 0h0m4 0h0m1 0h0m-165 1h0m19 0h0m4 0h0m1 0h0m4 0h0m1 0h0m1 0h0m7 0h0m6 0h0m7 0h0m2 0h0m9 0h0m1 0h0m4 0h0m14 0h0m1 0h0m2 0h0m11 0h0m6 0h0m3 0h0m5 0h0m1 0h0m1 0h0m4 0h0m7 0h0m9 0h0m3 0h0m1 0h0m13 0h0m1 0h0m3 0h0m3 0h0m6 0h0m2 0h0m2 0h0m1 0h0m1 0h0m3 0h0m2 0h0m-148 1h0m6 0h0m4 0h0m7 0h0m2 0h0m7 0h0m1 0h0m1 0h0m7 0h0m1 0h0m2 0h0m1 0h0m1 0h0m3 0h0m3 0h0m9 0h0m13 0h0m1 0h0m4 0h0m7 0h0m2 0h0m2 0h0m2 0h0m3 0h0m6 0h0m10 0h0m3 0h0m2 0h0m2 0h0m5 0h0m4 0h0m2 0h0m1 0h0m5 0h0m3 0h0m2 0h0m1 0h0m8 0h0m-146 1h0m4 0h0m5 0h0m9 0h0m1 0h0m1 0h0m4 0h0m4 0h0m3 0h0m6 0h0m2 0h0m1 0h0m1 0h0m6 0h0m2 0h0m7 0h0m2 0h0m1 0h0m17 0h0m1 0h0m1 0h0m1 0h0m1 0h0m1 0h0m6 0h0m2 0h0m24 0h0m1 0h0m3 0h0m9 0h0m1 0h0m5 0h0m2 0h0m9 0h0m4 0h0m-138 1h0m4 0h0m6 0h0m1 0h0m2 0h0m2 0h0m11 0h0m1 0h0m6 0h0m1 0h0m1 0h0m1 0h0m3 0h0m1 0h0m5 0h0m5 0h0m1 0h0m15 0h0m6 0h0m1 0h0m1 0h0m1 0h0m12 0h0m4 0h0m9 0h0m1 0h0m1 0h0m1 0h0m1 0h0m1 0h0m2 0h0m3 0h0m2 0h0m7 0h0m3 0h0m1 0h0m1 0h0m1 0h0m1 0h0m10 0h0m2 0h0m1 0h0m-140 1h0m1 0h0m8 0h0m2 0h0m4 0h0m2 0h0m1 0h0m1 0h0m4 0h0m3 0h0m4 0h0m3 0h0m2 0h0m5 0h0m5 0h0m20 0h0m1 0h0m4 0h0m1 0h0m1 0h0m1 0h0m1 0h0m3 0h0m3 0h0m5 0h0m5 0h0m1 0h0m1 0h0m4 0h0m2 0h0m2 0h0m2 0h0m1 0h0m1 0h0m1 0h0m4 0h0m5 0h0m1 0h0m1 0h0m2 0h0m7 0h0m2 0h0m1 0h0m5 0h0m4 0h0m-137 1h0m8 0h0m2 0h0m1 0h0m2 0h0m4 0h0m1 0h0m1 0h0m2 0h0m3 0h0m4 0h0m1 0h0m1 0h0m2 0h0m2 0h0m1 0h0m13 0h0m4 0h0m4 0h0m4 0h0m14 0h0m4 0h0m6 0h0m6 0h0m1 0h0m7 0h0m5 0h0m2 0h0m12 0h0m2 0h0m8 0h0m5 0h0m3 0h0m3 0h0m1 0h0m2 0h0m-133 1h0m3 0h0m3 0h0m3 0h0m1 0h0m1 0h0m1 0h0m3 0h0m3 0h0m3 0h0m4 0h0m1 0h0m9 0h0m4 0h0m4 0h0m1 0h0m1 0h0m3 0h0m4 0h0m3 0h0m3 0h0m1 0h0m15 0h0m2 0h0m1 0h0m3 0h0m2 0h0m6 0h0m1 0h0m1 0h0m2 0h0m5 0h0m3 0h0m2 0h0m15 0h0m1 0h0m2 0h0m3 0h0m2 0h0m5 0h0m1 0h0m35 0h0m-161 1h0m3 0h0m2 0h0m3 0h0m3 0h0m8 0h0m1 0h0m11 0h0m7 0h0m2 0h0m2 0h0m1 0h0m2 0h0m1 0h0m1 0h0m3 0h0m2 0h0m1 0h0m13 0h0m1 0h0m3 0h0m2 0h0m2 0h0m1 0h0m3 0h0m1 0h0m3 0h0m1 0h0m3 0h0m7 0h0m2 0h0m2 0h0m1 0h0m2 0h0m5 0h0m2 0h0m3 0h0m1 0h0m1 0h0m5 0h0m1 0h0m1 0h0m1 0h0m1 0h0m4 0h0m2 0h0m2 0h0m-124 1h0m4 0h0m1 0h0m22 0h0m5 0h0m8 0h0m1 0h0m2 0h0m1 0h0m1 0h0m1 0h0m1 0h0m8 0h0m7 0h0m6 0h0m3 0h0m6 0h0m3 0h0m5 0h0m5 0h0m1 0h0m1 0h0m4 0h0m1 0h0m1 0h0m3 0h0m3 0h0m3 0h0m4 0h0m1 0h0m1 0h0m5 0h0m18 0h0m18 0h0m3 0h0m16 0h0m-181 1h0m8 0h0m1 0h0m22 0h0m1 0h0m1 0h0m1 0h0m5 0h0m1 0h0m1 0h0m8 0h0m2 0h0m19 0h0m8 0h0m1 0h0m1 0h0m1 0h0m1 0h0m3 0h0m8 0h0m1 0h0m3 0h0m5 0h0m2 0h0m2 0h0m1 0h0m3 0h0m1 0h0m1 0h0m1 0h0m1 0h0m7 0h0m3 0h0m2 0h0m7 0h0m29 0h0m2 0h0m-168 1h0m1 0h0m9 0h0m7 0h0m19 0h0m1 0h0m2 0h0m3 0h0m4 0h0m3 0h0m3 0h0m1 0h0m6 0h0m1 0h0m1 0h0m2 0h0m1 0h0m9 0h0m4 0h0m1 0h0m6 0h0m2 0h0m1 0h0m1 0h0m3 0h0m1 0h0m6 0h0m1 0h0m2 0h0m12 0h0m2 0h0m1 0h0m3 0h0m1 0h0m2 0h0m1 0h0m3 0h0m1 0h0m6 0h0m2 0h0m1 0h0m1 0h0m1 0h0m1 0h0m28 0h0m11 0h0m1 0h0m-183 1h0m7 0h0m6 0h0m3 0h0m3 0h0m1 0h0m2 0h0m9 0h0m7 0h0m1 0h0m4 0h0m6 0h0m1 0h0m2 0h0m1 0h0m3 0h0m1 0h0m1 0h0m23 0h0m2 0h0m15 0h0m6 0h0m2 0h0m5 0h0m1 0h0m3 0h0m5 0h0m4 0h0m4 0h0m4 0h0m2 0h0m1 0h0m1 0h0m1 0h0m2 0h0m1 0h0m2 0h0m1 0h0m38 0h0m-177 1h0m1 0h0m34 0h0m1 0h0m17 0h0m1 0h0m7 0h0m1 0h0m2 0h0m2 0h0m1 0h0m1 0h0m5 0h0m2 0h0m1 0h0m2 0h0m2 0h0m2 0h0m4 0h0m2 0h0m4 0h0m1 0h0m7 0h0m2 0h0m11 0h0m1 0h0m2 0h0m2 0h0m10 0h0m1 0h0m7 0h0m1 0h0m3 0h0m32 0h0m1 0h0m15 0h0m-187 1h0m3 0h0m2 0h0m2 0h0m4 0h0m1 0h0m15 0h0m1 0h0m6 0h0m1 0h0m40 0h0m1 0h0m1 0h0m4 0h0m4 0h0m1 0h0m2 0h0m1 0h0m1 0h0m14 0h0m2 0h0m1 0h0m5 0h0m2 0h0m7 0h0m3 0h0m3 0h0m1 0h0m1 0h0m1 0h0m6 0h0m2 0h0m39 0h0m9 0h0m-190 1h0m4 0h0m8 0h0m14 0h0m13 0h0m19 0h0m10 0h0m1 0h0m9 0h0m5 0h0m4 0h0m2 0h0m3 0h0m9 0h0m5 0h0m1 0h0m3 0h0m13 0h0m8 0h0m2 0h0m11 0h0m42 0h0m3 0h0m-174 1h0m11 0h0m10 0h0m1 0h0m3 0h0m1 0h0m1 0h0m12 0h0m2 0h0m1 0h0m11 0h0m19 0h0m1 0h0m3 0h0m11 0h0m8 0h0m15 0h0m8 0h0m47 0h0m2 0h0m3 0h0m1 0h0m1 0h0m1 0h0m1 0h0m1 0h0m-180 1h0m4 0h0m9 0h0m4 0h0m2 0h0m2 0h0m2 0h0m3 0h0m3 0h0m1 0h0m8 0h0m1 0h0m6 0h0m3 0h0m11 0h0m6 0h0m11 0h0m13 0h0m1 0h0m2 0h0m13 0h0m3 0h0m12 0h0m8 0h0m2 0h0m2 0h0m1 0h0m37 0h0m1 0h0m3 0h0m3 0h0m-165 1h0m2 0h0m1 0h0m4 0h0m3 0h0m1 0h0m2 0h0m2 0h0m1 0h0m15 0h0m4 0h0m16 0h0m2 0h0m7 0h0m4 0h0m2 0h0m11 0h0m5 0h0m4 0h0m9 0h0m2 0h0m12 0h0m3 0h0m7 0h0m31 0h0m1 0h0m3 0h0m8 0h0m1 0h0m3 0h0m3 0h0m-167 1h0m2 0h0m7 0h0m7 0h0m2 0h0m10 0h0m1 0h0m5 0h0m1 0h0m15 0h0m1 0h0m10 0h0m2 0h0m12 0h0m1 0h0m1 0h0m2 0h0m2 0h0m12 0h0m11 0h0m7 0h0m1 0h0m1 0h0m1 0h0m1 0h0m1 0h0m4 0h0m2 0h0m2 0h0m37 0h0m2 0h0m1 0h0m1 0h0m-167 1h0m2 0h0m3 0h0m1 0h0m4 0h0m21 0h0m1 0h0m1 0h0m1 0h0m2 0h0m16 0h0m1 0h0m1 0h0m5 0h0m1 0h0m3 0h0m6 0h0m8 0h0m5 0h0m1 0h0m3 0h0m3 0h0m5 0h0m3 0h0m2 0h0m13 0h0m7 0h0m2 0h0m2 0h0m1 0h0m1 0h0m33 0h0m-156 1h0m3 0h0m1 0h0m3 0h0m1 0h0m3 0h0m1 0h0m3 0h0m2 0h0m10 0h0m2 0h0m5 0h0m8 0h0m1 0h0m4 0h0m3 0h0m2 0h0m2 0h0m4 0h0m1 0h0m3 0h0m3 0h0m1 0h0m1 0h0m1 0h0m5 0h0m9 0h0m2 0h0m1 0h0m3 0h0m8 0h0m14 0h0m5 0h0m1 0h0m2 0h0m3 0h0m1 0h0m1 0h0m33 0h0m2 0h0m7 0h0m4 0h0m-168 1h0m2 0h0m14 0h0m13 0h0m1 0h0m1 0h0m1 0h0m2 0h0m1 0h0m8 0h0m2 0h0m1 0h0m3 0h0m1 0h0m1 0h0m6 0h0m1 0h0m1 0h0m4 0h0m10 0h0m12 0h0m2 0h0m5 0h0m2 0h0m3 0h0m6 0h0m9 0h0m3 0h0m4 0h0m29 0h0m-147 1h0m12 0h0m12 0h0m3 0h0m2 0h0m6 0h0m1 0h0m1 0h0m11 0h0m12 0h0m1 0h0m3 0h0m21 0h0m9 0h0m7 0h0m14 0h0m1 0h0m1 0h0m2 0h0m1 0h0m1 0h0m2 0h0m-124 1h0m9 0h0m1 0h0m6 0h0m10 0h0m1 0h0m3 0h0m1 0h0m1 0h0m1 0h0m1 0h0m1 0h0m4 0h0m11 0h0m1 0h0m4 0h0m30 0h0m1 0h0m2 0h0m8 0h0m8 0h0m2 0h0m1 0h0m3 0h0m2 0h0m4 0h0m3 0h0m1 0h0m1 0h0m4 0h0m25 0h0m-140 1h0m3 0h0m2 0h0m1 0h0m1 0h0m10 0h0m3 0h0m4 0h0m2 0h0m1 0h0m3 0h0m1 0h0m1 0h0m10 0h0m15 0h0m1 0h0m4 0h0m7 0h0m8 0h0m1 0h0m1 0h0m2 0h0m3 0h0m1 0h0m2 0h0m1 0h0m1 0h0m3 0h0m1 0h0m2 0h0m4 0h0m1 0h0m3 0h0m2 0h0m2 0h0m1 0h0m1 0h0m1 0h0m1 0h0m2 0h0m1 0h0m1 0h0m38 0h0m-141 1h0m3 0h0m2 0h0m1 0h0m1 0h0m6 0h0m5 0h0m1 0h0m2 0h0m3 0h0m20 0h0m1 0h0m1 0h0m1 0h0m2 0h0m6 0h0m2 0h0m10 0h0m3 0h0m1 0h0m2 0h0m2 0h0m5 0h0m2 0h0m2 0h0m3 0h0m6 0h0m1 0h0m8 0h0m1 0h0m2 0h0m2 0h0m22 0h0m-138 1h0m4 0h0m2 0h0m3 0h0m1 0h0m2 0h0m4 0h0m1 0h0m3 0h0m12 0h0m2 0h0m1 0h0m17 0h0m2 0h0m2 0h0m2 0h0m3 0h0m2 0h0m3 0h0m2 0h0m6 0h0m1 0h0m2 0h0m1 0h0m1 0h0m2 0h0m3 0h0m6 0h0m6 0h0m4 0h0m1 0h0m7 0h0m2 0h0m1 0h0m1 0h0m4 0h0m3 0h0m-114 1h0m7 0h0m2 0h0m10 0h0m10 0h0m3 0h0m8 0h0m4 0h0m2 0h0m3 0h0m1 0h0m3 0h0m3 0h0m1 0h0m3 0h0m4 0h0m8 0h0m5 0h0m1 0h0m1 0h0m3 0h0m4 0h0m2 0h0m1 0h0m4 0h0m1 0h0m1 0h0m2 0h0m6 0h0m2 0h0m2 0h0m2 0h0m5 0h0m2 0h0m25 0h0m-144 1h0m6 0h0m3 0h0m1 0h0m1 0h0m2 0h0m22 0h0m8 0h0m1 0h0m2 0h0m2 0h0m2 0h0m4 0h0m11 0h0m1 0h0m1 0h0m7 0h0m4 0h0m1 0h0m1 0h0m2 0h0m1 0h0m3 0h0m1 0h0m8 0h0m1 0h0m2 0h0m2 0h0m8 0h0m5 0h0m1 0h0m1 0h0m1 0h0m27 0h0m2 0h0m-146 1h0m1 0h0m1 0h0m3 0h0m5 0h0m9 0h0m6 0h0m3 0h0m2 0h0m2 0h0m1 0h0m1 0h0m1 0h0m1 0h0m10 0h0m2 0h0m8 0h0m7 0h0m3 0h0m3 0h0m4 0h0m1 0h0m8 0h0m3 0h0m1 0h0m2 0h0m6 0h0m3 0h0m2 0h0m1 0h0m1 0h0m12 0h0m-110 1h0m1 0h0m6 0h0m2 0h0m1 0h0m4 0h0m2 0h0m4 0h0m7 0h0m5 0h0m2 0h0m3 0h0m6 0h0m1 0h0m1 0h0m2 0h0m1 0h0m1 0h0m2 0h0m16 0h0m4 0h0m2 0h0m4 0h0m1 0h0m1 0h0m3 0h0m4 0h0m6 0h0m1 0h0m1 0h0m1 0h0m3 0h0m1 0h0m8 0h0m2 0h0m4 0h0m2 0h0m-116 1h0m4 0h0m1 0h0m11 0h0m2 0h0m3 0h0m9 0h0m1 0h0m6 0h0m4 0h0m3 0h0m3 0h0m2 0h0m1 0h0m15 0h0m2 0h0m1 0h0m1 0h0m1 0h0m1 0h0m5 0h0m1 0h0m2 0h0m1 0h0m3 0h0m1 0h0m1 0h0m2 0h0m2 0h0m5 0h0m3 0h0m17 0h0m-107 1h0m1 0h0m3 0h0m21 0h0m2 0h0m1 0h0m1 0h0m3 0h0m3 0h0m9 0h0m1 0h0m7 0h0m7 0h0m3 0h0m1 0h0m9 0h0m1 0h0m4 0h0m11 0h0m4 0h0m-97 1h0m4 0h0m2 0h0m6 0h0m1 0h0m1 0h0m15 0h0m2 0h0m1 0h0m2 0h0m3 0h0m1 0h0m1 0h0m9 0h0m12 0h0m6 0h0m1 0h0m1 0h0m1 0h0m8 0h0m7 0h0m1 0h0m7 0h0m1 0h0m8 0h0m1 0h0m3 0h0m-110 1h0m9 0h0m2 0h0m2 0h0m3 0h0m1 0h0m1 0h0m1 0h0m2 0h0m1 0h0m6 0h0m2 0h0m1 0h0m1 0h0m3 0h0m5 0h0m1 0h0m6 0h0m3 0h0m1 0h0m1 0h0m1 0h0m1 0h0m1 0h0m1 0h0m1 0h0m1 0h0m1 0h0m3 0h0m2 0h0m2 0h0m5 0h0m1 0h0m7 0h0m1 0h0m2 0h0m1 0h0m3 0h0m2 0h0m14 0h0m6 0h0m-103 1h0m11 0h0m6 0h0m1 0h0m2 0h0m5 0h0m5 0h0m7 0h0m3 0h0m2 0h0m2 0h0m3 0h0m3 0h0m2 0h0m6 0h0m1 0h0m1 0h0m6 0h0m5 0h0m1 0h0m3 0h0m8 0h0m1 0h0m5 0h0m-83 1h0m9 0h0m2 0h0m2 0h0m3 0h0m19 0h0m1 0h0m4 0h0m1 0h0m9 0h0m2 0h0m1 0h0m1 0h0m4 0h0m3 0h0m5 0h0m3 0h0m2 0h0m11 0h0m8 0h0m3 0h0m1 0h0m3 0h0m2 0h0m19 0h0m-120 1h0m9 0h0m3 0h0m1 0h0m1 0h0m1 0h0m1 0h0m1 0h0m1 0h0m1 0h0m4 0h0m9 0h0m6 0h0m1 0h0m3 0h0m2 0h0m5 0h0m1 0h0m6 0h0m2 0h0m1 0h0m4 0h0m1 0h0m1 0h0m2 0h0m2 0h0m2 0h0m5 0h0m2 0h0m6 0h0m6 0h0m2 0h0m3 0h0m1 0h0m1 0h0m5 0h0m8 0h0m2 0h0m2 0h0m2 0h0m1 0h0m9 0h0m-124 1h0m1 0h0m1 0h0m2 0h0m1 0h0m5 0h0m3 0h0m3 0h0m1 0h0m1 0h0m4 0h0m3 0h0m9 0h0m2 0h0m1 0h0m1 0h0m1 0h0m1 0h0m1 0h0m8 0h0m1 0h0m2 0h0m1 0h0m1 0h0m10 0h0m1 0h0m1 0h0m3 0h0m5 0h0m6 0h0m1 0h0m1 0h0m1 0h0m3 0h0m6 0h0m5 0h0m12 0h0m8 0h0m3 0h0m2 0h0m3 0h0m-123 1h0m8 0h0m2 0h0m6 0h0m7 0h0m1 0h0m5 0h0m3 0h0m2 0h0m2 0h0m1 0h0m1 0h0m5 0h0m1 0h0m3 0h0m6 0h0m13 0h0m1 0h0m1 0h0m3 0h0m2 0h0m5 0h0m1 0h0m14 0h0m4 0h0m1 0h0m2 0h0m3 0h0m3 0h0m3 0h0m2 0h0m3 0h0m3 0h0m1 0h0m1 0h0m3 0h0m1 0h0m1 0h0m-116 1h0m1 0h0m6 0h0m15 0h0m1 0h0m6 0h0m1 0h0m5 0h0m2 0h0m1 0h0m4 0h0m3 0h0m10 0h0m4 0h0m17 0h0m10 0h0m3 0h0m3 0h0m6 0h0m1 0h0m4 0h0m1 0h0m1 0h0m5 0h0m12 0h0m-124 1h0m1 0h0m4 0h0m2 0h0m9 0h0m1 0h0m4 0h0m2 0h0m1 0h0m2 0h0m2 0h0m9 0h0m7 0h0m3 0h0m1 0h0m23 0h0m3 0h0m1 0h0m2 0h0m1 0h0m1 0h0m1 0h0m9 0h0m2 0h0m2 0h0m5 0h0m6 0h0m2 0h0m5 0h0m2 0h0m1 0h0m1 0h0m2 0h0m1 0h0m1 0h0m-119 1h0m3 0h0m5 0h0m6 0h0m2 0h0m3 0h0m7 0h0m1 0h0m1 0h0m1 0h0m2 0h0m1 0h0m9 0h0m29 0h0m3 0h0m6 0h0m8 0h0m3 0h0m1 0h0m1 0h0m2 0h0m7 0h0m2 0h0m8 0h0m2 0h0m8 0h0m-119 1h0m4 0h0m2 0h0m3 0h0m1 0h0m2 0h0m4 0h0m7 0h0m1 0h0m2 0h0m3 0h0m18 0h0m7 0h0m3 0h0m12 0h0m5 0h0m7 0h0m1 0h0m5 0h0m1 0h0m11 0h0m1 0h0m1 0h0m10 0h0m1 0h0m4 0h0m1 0h0m-115 1h0m2 0h0m2 0h0m1 0h0m1 0h0m2 0h0m5 0h0m14 0h0m6 0h0m5 0h0m7 0h0m2 0h0m3 0h0m2 0h0m3 0h0m14 0h0m1 0h0m1 0h0m2 0h0m9 0h0m1 0h0m1 0h0m24 0h0m1 0h0m1 0h0m-113 1h0m5 0h0m1 0h0m1 0h0m4 0h0m1 0h0m2 0h0m1 0h0m1 0h0m1 0h0m1 0h0m8 0h0m4 0h0m9 0h0m14 0h0m4 0h0m18 0h0m2 0h0m5 0h0m2 0h0m3 0h0m2 0h0m19 0h0m1 0h0m1 0h0m2 0h0m3 0h0m-106 1h0m5 0h0m4 0h0m1 0h0m3 0h0m9 0h0m1 0h0m3 0h0m1 0h0m1 0h0m2 0h0m1 0h0m16 0h0m2 0h0m16 0h0m2 0h0m1 0h0m5 0h0m1 0h0m3 0h0m1 0h0m1 0h0m1 0h0m24 0h0m-103 1h0m1 0h0m1 0h0m2 0h0m10 0h0m2 0h0m4 0h0m10 0h0m1 0h0m5 0h0m4 0h0m3 0h0m3 0h0m3 0h0m17 0h0m6 0h0m4 0h0m3 0h0m19 0h0m1 0h0m1 0h0m3 0h0m2 0h0m1 0h0m2 0h0m-108 1h0m13 0h0m13 0h0m5 0h0m3 0h0m4 0h0m2 0h0m15 0h0m3 0h0m2 0h0m3 0h0m1 0h0m7 0h0m1 0h0m3 0h0m4 0h0m17 0h0m6 0h0m4 0h0m-104 1h0m11 0h0m2 0h0m1 0h0m2 0h0m7 0h0m1 0h0m4 0h0m6 0h0m2 0h0m2 0h0m1 0h0m4 0h0m3 0h0m1 0h0m7 0h0m1 0h0m2 0h0m3 0h0m2 0h0m1 0h0m2 0h0m2 0h0m1 0h0m2 0h0m16 0h0m10 0h0m-84 1h0m1 0h0m12 0h0m2 0h0m4 0h0m1 0h0m4 0h0m6 0h0m1 0h0m2 0h0m6 0h0m4 0h0m4 0h0m1 0h0m4 0h0m5 0h0m2 0h0m24 0h0m1 0h0m1 0h0m3 0h0m5 0h0m6 0h0m2 0h0m49 0h0m-149 1h0m2 0h0m1 0h0m2 0h0m20 0h0m3 0h0m5 0h0m1 0h0m5 0h0m1 0h0m3 0h0m7 0h0m17 0h0m2 0h0m1 0h0m12 0h0m2 0h0m6 0h0m8 0h0m2 0h0m1 0h0m-104 1h0m2 0h0m3 0h0m1 0h0m2 0h0m14 0h0m14 0h0m1 0h0m5 0h0m5 0h0m3 0h0m2 0h0m2 0h0m1 0h0m1 0h0m1 0h0m3 0h0m8 0h0m3 0h0m15 0h0m2 0h0m5 0h0m2 0h0m6 0h0m-95 1h0m2 0h0m29 0h0m3 0h0m1 0h0m1 0h0m6 0h0m2 0h0m1 0h0m3 0h0m2 0h0m7 0h0m3 0h0m8 0h0m11 0h0m4 0h0m3 0h0m1 0h0m2 0h0m1 0h0m1 0h0m-89 1h0m30 0h0m10 0h0m3 0h0m5 0h0m1 0h0m6 0h0m6 0h0m19 0h0m3 0h0m1 0h0m1 0h0m1 0h0m1 0h0m5 0h0m-63 1h0m12 0h0m9 0h0m1 0h0m4 0h0m1 0h0m1 0h0m1 0h0m2 0h0m4 0h0m2 0h0m17 0h0m5 0h0m6 0h0m-62 1h0m14 0h0m3 0h0m1 0h0m4 0h0m1 0h0m1 0h0m1 0h0m2 0h0m6 0h0m13 0h0m9 0h0m-32 1h0m2 0h0m1 0h0m1 0h0m23 0h0m-46 1h0m11 0h0m1 0h0m8 0h0m2 0h0m17 0h0m10 0h0m-44 1h0m10 0h0m43 0h0m-53 1h0m10 0h0m2 0h0m39 0h0m3 0h0m-50 1h0m7 0h0m1 0h0m36 0h0m-50 1h0m1 0h0m1 0h0m1 0h0m2 0h0m1 0h0m-2 1h0m6 2h0m1 4h0m-18 20h0"/>
<path fill="none" stroke="#99A800" stroke-width="2.9" stroke-linecap="round" d="M545 547h0m0 4h0m-25 2h0m4 0h0m3 0h0m5 0h0m2 0h0m9 0h0m-22 1h0m20 0h0m3 0h0m-11 1h0m2 0h0m4 0h0m2 0h0m1 0h0m3 0h0m-10 1h0m2 0h0m1 0h0m1 1h0m2 0h0m8 0h0m-26 1h0m15 0h0m2 0h0m-28 1h0m8 0h0m5 0h0m13 0h0m8 0h0m3 0h0m-37 1h0m2 0h0m1 0h0m7 0h0m14 0h0m2 0h0m6 0h0m8 0h0m-36 1h0m5 0h0m5 0h0m14 0h0m4 0h0m-39 1h0m7 0h0m5 0h0m4 0h0m7 0h0m3 0h0m3 0h0m5 0h0m2 0h0m1 0h0m2 0h0m9 0h0m-51 1h0m2 0h0m3 0h0m5 0h0m1 0h0m3 0h0m13 0h0m6 0h0m-24 1h0m6 0h0m6 0h0m1 0h0m2 0h0m1 0h0m3 0h0m3 0h0m4 0h0m5 0h0m-38 1h0m6 0h0m8 0h0m7 0h0m2 0h0m1 0h0m3 0h0m1 0h0m2 0h0m1 0h0m1 0h0m10 0h0m2 0h0m-47 1h0m11 0h0m2 0h0m2 0h0m7 0h0m1 0h0m1 0h0m4 0h0m4 0h0m3 0h0m1 0h0m2 0h0m-30 1h0m4 0h0m1 0h0m1 0h0m1 0h0m7 0h0m2 0h0m2 0h0m2 0h0m1 0h0m4 0h0m1 0h0m3 0h0m1 0h0m6 0h0m-41 1h0m1 0h0m1 0h0m4 0h0m1 0h0m2 0h0m9 0h0m3 0h0m7 0h0m3 0h0m1 0h0m4 0h0m3 0h0m2 0h0m1 0h0m-36 1h0m2 0h0m13 0h0m7 0h0m11 0h0m-33 1h0m3 0h0m1 0h0m3 0h0m4 0h0m3 0h0m1 0h0m1 0h0m1 0h0m18 0h0m1 0h0m-32 1h0m1 0h0m1 0h0m1 0h0m2 0h0m1 0h0m2 0h0m1 0h0m8 0h0m8 0h0m5 0h0m-49 1h0m17 0h0m1 0h0m2 0h0m4 0h0m2 0h0m2 0h0m1 0h0m6 0h0m7 0h0m4 0h0m2 0h0m-50 1h0m1 0h0m4 0h0m12 0h0m1 0h0m1 0h0m1 0h0m12 0h0m4 0h0m4 0h0m1 0h0m2 0h0m3 0h0m1 0h0m1 0h0m4 0h0m-64 1h0m1 0h0m18 0h0m5 0h0m5 0h0m2 0h0m2 0h0m3 0h0m5 0h0m1 0h0m2 0h0m1 0h0m11 0h0m1 0h0m3 0h0m-47 1h0m1 0h0m5 0h0m3 0h0m2 0h0m19 0h0m1 0h0m5 0h0m8 0h0m3 0h0m-62 1h0m16 0h0m7 0h0m1 0h0m2 0h0m2 0h0m1 0h0m6 0h0m8 0h0m2 0h0m2 0h0m1 0h0m1 0h0m4 0h0m10 0h0m1 0h0m2 0h0m-67 1h0m3 0h0m6 0h0m10 0h0m1 0h0m1 0h0m1 0h0m1 0h0m3 0h0m3 0h0m19 0h0m1 0h0m1 0h0m1 0h0m1 0h0m10 0h0m1 0h0m5 0h0m-57 1h0m5 0h0m1 0h0m8 0h0m3 0h0m16 0h0m3 0h0m3 0h0m2 0h0m8 0h0m2 0h0m4 0h0m-60 1h0m2 0h0m5 0h0m4 0h0m3 0h0m2 0h0m5 0h0m2 0h0m14 0h0m2 0h0m7 0h0m1 0h0m8 0h0m-57 1h0m7 0h0m2 0h0m11 0h0m1 0h0m5 0h0m1 0h0m6 0h0m2 0h0m4 0h0m1 0h0m1 0h0m2 0h0m5 0h0m-48 1h0m19 0h0m3 0h0m3 0h0m4 0h0m2 0h0m1 0h0m6 0h0m8 0h0m-48 1h0m2 0h0m6 0h0m27 0h0m4 0h0m2 0h0m7 0h0m12 0h0m8 0h0m-67 1h0m1 0h0m1 0h0m1 0h0m2 0h0m2 0h0m3 0h0m4 0h0m3 0h0m1 0h0m2 0h0m3 0h0m4 0h0m2 0h0m1 0h0m1 0h0m3 0h0m1 0h0m11 0h0m1 0h0m1 0h0m2 0h0m1 0h0m3 0h0m-54 1h0m3 0h0m4 0h0m1 0h0m8 0h0m2 0h0m6 0h0m1 0h0m3 0h0m1 0h0m6 0h0m4 0h0m4 0h0m1 0h0m4 0h0m11 0h0m-69 1h0m6 0h0m2 0h0m3 0h0m8 0h0m1 0h0m1 0h0m3 0h0m1 0h0m9 0h0m1 0h0m1 0h0m2 0h0m6 0h0m2 0h0m2 0h0m1 0h0m8 0h0m2 0h0m4 0h0m3 0h0m-67 1h0m12 0h0m23 0h0m1 0h0m1 0h0m1 0h0m1 0h0m4 0h0m4 0h0m1 0h0m4 0h0m1 0h0m4 0h0m1 0h0m-54 1h0m2 0h0m5 0h0m23 0h0m1 0h0m1 0h0m2 0h0m1 0h0m2 0h0m2 0h0m3 0h0m2 0h0m3 0h0m1 0h0m2 0h0m12 0h0m-256 1h0m189 0h0m3 0h0m3 0h0m10 0h0m8 0h0m1 0h0m12 0h0m1 0h0m1 0h0m1 0h0m6 0h0m5 0h0m3 0h0m1 0h0m7 0h0m3 0h0m-64 1h0m1 0h0m11 0h0m2 0h0m11 0h0m2 0h0m1 0h0m7 0h0m10 0h0m1 0h0m10 0h0m4 0h0m2 0h0m2 0h0m1 0h0m-55 1h0m2 0h0m6 0h0m2 0h0m7 0h0m2 0h0m4 0h0m2 0h0m2 0h0m8 0h0m5 0h0m14 0h0m9 0h0m-60 1h0m1 0h0m1 0h0m1 0h0m4 0h0m1 0h0m13 0h0m12 0h0m1 0h0m1 0h0m6 0h0m12 0h0m1 0h0m-67 1h0m2 0h0m2 0h0m6 0h0m2 0h0m1 0h0m4 0h0m6 0h0m11 0h0m2 0h0m2 0h0m14 0h0m9 0h0m2 0h0m2 0h0m5 0h0m2 0h0m-71 1h0m4 0h0m2 0h0m5 0h0m2 0h0m3 0h0m1 0h0m4 0h0m8 0h0m6 0h0m20 0h0m3 0h0m1 0h0m7 0h0m1 0h0m-65 1h0m7 0h0m5 0h0m1 0h0m2 0h0m3 0h0m4 0h0m12 0h0m2 0h0m15 0h0m2 0h0m6 0h0m4 0h0m5 0h0m4 0h0m1 0h0m-81 1h0m9 0h0m2 0h0m7 0h0m2 0h0m9 0h0m13 0h0m5 0h0m10 0h0m7 0h0m9 0h0m1 0h0m6 0h0m-73 1h0m1 0h0m2 0h0m1 0h0m4 0h0m5 0h0m1 0h0m6 0h0m4 0h0m4 0h0m8 0h0m19 0h0m13 0h0m5 0h0m2 0h0m-78 1h0m3 0h0m3 0h0m4 0h0m5 0h0m7 0h0m2 0h0m3 0h0m3 0h0m11 0h0m2 0h0m14 0h0m20 0h0m-75 1h0m1 0h0m11 0h0m2 0h0m1 0h0m2 0h0m3 0h0m2 0h0m7 0h0m12 0h0m1 0h0m1 0h0m4 0h0m2 0h0m27 0h0m-76 1h0m14 0h0m1 0h0m1 0h0m1 0h0m1 0h0m2 0h0m2 0h0m6 0h0m1 0h0m12 0h0m7 0h0m3 0h0m1 0h0m11 0h0m11 0h0m-66 1h0m8 0h0m1 0h0m4 0h0m1 0h0m1 0h0m2 0h0m3 0h0m5 0h0m6 0h0m3 0h0m7 0h0m3 0h0m12 0h0m1 0h0m1 0h0m3 0h0m1 0h0m5 0h0m-74 1h0m2 0h0m2 0h0m8 0h0m8 0h0m1 0h0m1 0h0m1 0h0m3 0h0m2 0h0m12 0h0m9 0h0m1 0h0m3 0h0m1 0h0m2 0h0m2 0h0m4 0h0m2 0h0m1 0h0m1 0h0m3 0h0m6 0h0m-66 1h0m2 0h0m3 0h0m1 0h0m4 0h0m1 0h0m1 0h0m6 0h0m2 0h0m1 0h0m1 0h0m3 0h0m4 0h0m3 0h0m2 0h0m3 0h0m2 0h0m1 0h0m2 0h0m3 0h0m1 0h0m2 0h0m1 0h0m3 0h0m1 0h0m1 0h0m1 0h0m1 0h0m1 0h0m5 0h0m1 0h0m1 0h0m1 0h0m3 0h0m-83 1h0m14 0h0m4 0h0m16 0h0m2 0h0m2 0h0m1 0h0m3 0h0m1 0h0m3 0h0m5 0h0m3 0h0m10 0h0m6 0h0m1 0h0m5 0h0m1 0h0m2 0h0m3 0h0m-73 1h0m10 0h0m7 0h0m1 0h0m12 0h0m10 0h0m2 0h0m3 0h0m1 0h0m7 0h0m1 0h0m4 0h0m1 0h0m10 0h0m2 0h0m-72 1h0m9 0h0m2 0h0m5 0h0m4 0h0m7 0h0m3 0h0m2 0h0m1 0h0m7 0h0m3 0h0m1 0h0m6 0h0m8 0h0m1 0h0m9 0h0m4 0h0m1 0h0m2 0h0m-84 1h0m3 0h0m5 0h0m5 0h0m1 0h0m7 0h0m2 0h0m2 0h0m2 0h0m8 0h0m5 0h0m1 0h0m1 0h0m4 0h0m5 0h0m1 0h0m9 0h0m8 0h0m10 0h0m1 0h0m2 0h0m-87 1h0m11 0h0m2 0h0m2 0h0m2 0h0m4 0h0m3 0h0m1 0h0m3 0h0m2 0h0m1 0h0m3 0h0m3 0h0m1 0h0m2 0h0m3 0h0m1 0h0m3 0h0m4 0h0m4 0h0m1 0h0m9 0h0m1 0h0m15 0h0m1 0h0m1 0h0m1 0h0m1 0h0m1 0h0m2 0h0m3 0h0m-82 1h0m1 0h0m5 0h0m1 0h0m3 0h0m2 0h0m6 0h0m4 0h0m2 0h0m8 0h0m1 0h0m4 0h0m4 0h0m1 0h0m7 0h0m8 0h0m14 0h0m3 0h0m2 0h0m2 0h0m3 0h0m-92 1h0m2 0h0m1 0h0m6 0h0m2 0h0m1 0h0m1 0h0m2 0h0m1 0h0m4 0h0m2 0h0m1 0h0m1 0h0m8 0h0m7 0h0m4 0h0m3 0h0m1 0h0m1 0h0m1 0h0m25 0h0m1 0h0m1 0h0m1 0h0m1 0h0m1 0h0m5 0h0m5 0h0m-87 1h0m5 0h0m4 0h0m1 0h0m3 0h0m2 0h0m3 0h0m2 0h0m1 0h0m1 0h0m4 0h0m3 0h0m11 0h0m5 0h0m6 0h0m7 0h0m15 0h0m1 0h0m1 0h0m3 0h0m4 0h0m8 0h0m-87 1h0m9 0h0m2 0h0m2 0h0m7 0h0m1 0h0m6 0h0m6 0h0m3 0h0m2 0h0m2 0h0m1 0h0m2 0h0m5 0h0m4 0h0m15 0h0m2 0h0m2 0h0m2 0h0m8 0h0m-83 1h0m2 0h0m3 0h0m4 0h0m4 0h0m2 0h0m3 0h0m1 0h0m1 0h0m1 0h0m2 0h0m1 0h0m11 0h0m3 0h0m6 0h0m4 0h0m5 0h0m15 0h0m6 0h0m-56 1h0m1 0h0m2 0h0m15 0h0m1 0h0m19 0h0m5 0h0m7 0h0m3 0h0m-58 1h0m4 0h0m5 0h0m15 0h0m10 0h0m1 0h0m3 0h0m6 0h0m1 0h0m1 0h0m17 0h0m8 0h0m-69 1h0m2 0h0m17 0h0m10 0h0m4 0h0m2 0h0m1 0h0m1 0h0m1 0h0m4 0h0m1 0h0m1 0h0m2 0h0m13 0h0m1 0h0m1 0h0m8 0h0m-87 1h0m17 0h0m5 0h0m1 0h0m13 0h0m2 0h0m2 0h0m1 0h0m11 0h0m1 0h0m1 0h0m8 0h0m1 0h0m1 0h0m13 0h0m3 0h0m6 0h0m-79 1h0m1 0h0m7 0h0m6 0h0m1 0h0m1 0h0m1 0h0m2 0h0m7 0h0m1 0h0m5 0h0m1 0h0m3 0h0m8 0h0m12 0h0m1 0h0m1 0h0m1 0h0m1 0h0m4 0h0m-71 1h0m17 0h0m8 0h0m2 0h0m2 0h0m6 0h0m1 0h0m4 0h0m2 0h0m1 0h0m1 0h0m1 0h0m6 0h0m5 0h0m5 0h0m1 0h0m2 0h0m7 0h0m1 0h0m6 0h0m3 0h0m-84 1h0m1 0h0m1 0h0m20 0h0m2 0h0m1 0h0m1 0h0m1 0h0m2 0h0m8 0h0m1 0h0m3 0h0m1 0h0m4 0h0m3 0h0m12 0h0m6 0h0m2 0h0m2 0h0m2 0h0m1 0h0m3 0h0m-78 1h0m5 0h0m6 0h0m12 0h0m1 0h0m2 0h0m6 0h0m14 0h0m1 0h0m1 0h0m1 0h0m1 0h0m5 0h0m1 0h0m3 0h0m3 0h0m10 0h0m1 0h0m1 0h0m2 0h0m6 0h0m-82 1h0m4 0h0m8 0h0m1 0h0m2 0h0m5 0h0m3 0h0m3 0h0m22 0h0m1 0h0m2 0h0m1 0h0m2 0h0m2 0h0m2 0h0m3 0h0m2 0h0m9 0h0m2 0h0m6 0h0m1 0h0m1 0h0m6 0h0m-75 1h0m5 0h0m1 0h0m5 0h0m2 0h0m7 0h0m1 0h0m2 0h0m3 0h0m1 0h0m14 0h0m6 0h0m1 0h0m1 0h0m1 0h0m13 0h0m5 0h0m1 0h0m4 0h0m-76 1h0m1 0h0m4 0h0m2 0h0m2 0h0m1 0h0m1 0h0m12 0h0m6 0h0m3 0h0m7 0h0m2 0h0m2 0h0m2 0h0m4 0h0m1 0h0m4 0h0m2 0h0m2 0h0m5 0h0m9 0h0m7 0h0m-85 1h0m7 0h0m2 0h0m2 0h0m4 0h0m6 0h0m4 0h0m1 0h0m10 0h0m5 0h0m7 0h0m8 0h0m3 0h0m1 0h0m1 0h0m6 0h0m1 0h0m7 0h0m5 0h0m1 0h0m1 0h0m3 0h0m3 0h0m-86 1h0m1 0h0m1 0h0m9 0h0m2 0h0m8 0h0m2 0h0m7 0h0m1 0h0m9 0h0m4 0h0m4 0h0m1 0h0m3 0h0m1 0h0m1 0h0m7 0h0m5 0h0m3 0h0m4 0h0m4 0h0m2 0h0m1 0h0m2 0h0m1 0h0m-79 1h0m6 0h0m1 0h0m1 0h0m2 0h0m1 0h0m4 0h0m1 0h0m2 0h0m2 0h0m7 0h0m3 0h0m1 0h0m2 0h0m9 0h0m1 0h0m5 0h0m13 0h0m4 0h0m2 0h0m1 0h0m2 0h0m1 0h0m2 0h0m2 0h0m5 0h0m-83 1h0m8 0h0m2 0h0m9 0h0m8 0h0m4 0h0m3 0h0m4 0h0m7 0h0m2 0h0m1 0h0m2 0h0m1 0h0m2 0h0m5 0h0m1 0h0m1 0h0m8 0h0m5 0h0m7 0h0m4 0h0m1 0h0m-80 1h0m4 0h0m2 0h0m6 0h0m13 0h0m5 0h0m4 0h0m9 0h0m3 0h0m13 0h0m3 0h0m2 0h0m4 0h0m1 0h0m2 0h0m2 0h0m1 0h0m1 0h0m1 0h0m4 0h0m2 0h0m-77 1h0m1 0h0m3 0h0m1 0h0m1 0h0m1 0h0m15 0h0m3 0h0m3 0h0m10 0h0m4 0h0m5 0h0m5 0h0m1 0h0m8 0h0m2 0h0m4 0h0m-74 1h0m1 0h0m2 0h0m1 0h0m3 0h0m1 0h0m2 0h0m1 0h0m4 0h0m6 0h0m2 0h0m9 0h0m1 0h0m9 0h0m2 0h0m3 0h0m19 0h0m2 0h0m2 0h0m2 0h0m1 0h0m2 0h0m4 0h0m-71 1h0m3 0h0m18 0h0m12 0h0m13 0h0m3 0h0m2 0h0m6 0h0m3 0h0m2 0h0m4 0h0m2 0h0m3 0h0m1 0h0m-78 1h0m1 0h0m2 0h0m2 0h0m1 0h0m6 0h0m1 0h0m1 0h0m7 0h0m1 0h0m6 0h0m1 0h0m2 0h0m1 0h0m19 0h0m1 0h0m5 0h0m2 0h0m1 0h0m5 0h0m2 0h0m2 0h0m5 0h0m4 0h0m-78 1h0m5 0h0m2 0h0m1 0h0m7 0h0m6 0h0m1 0h0m2 0h0m4 0h0m2 0h0m2 0h0m14 0h0m4 0h0m5 0h0m1 0h0m1 0h0m3 0h0m1 0h0m3 0h0m5 0h0m8 0h0m2 0h0m-77 1h0m1 0h0m4 0h0m4 0h0m2 0h0m1 0h0m8 0h0m1 0h0m5 0h0m3 0h0m3 0h0m5 0h0m9 0h0m4 0h0m2 0h0m4 0h0m2 0h0m-61 1h0m9 0h0m1 0h0m8 0h0m1 0h0m2 0h0m2 0h0m1 0h0m10 0h0m6 0h0m1 0h0m2 0h0m5 0h0m2 0h0m2 0h0m2 0h0m13 0h0m4 0h0m4 0h0m-65 1h0m9 0h0m3 0h0m5 0h0m3 0h0m2 0h0m1 0h0m1 0h0m2 0h0m3 0h0m1 0h0m1 0h0m2 0h0m2 0h0m6 0h0m1 0h0m1 0h0m1 0h0m18 0h0m2 0h0m2 0h0m-42 1h0m1 0h0m1 0h0m1 0h0m4 0h0m1 0h0m1 0h0m8 0h0m4 0h0m14 0h0m2 0h0m3 0h0m5 0h0m-58 1h0m11 0h0m2 0h0m1 0h0m3 0h0m13 0h0m2 0h0m8 0h0m13 0h0m-69 1h0m11 0h0m3 0h0m9 0h0m2 0h0m1 0h0m2 0h0m1 0h0m2 0h0m9 0h0m5 0h0m10 0h0m2 0h0m1 0h0m4 0h0m-57 1h0m3 0h0m7 0h0m1 0h0m1 0h0m14 0h0m9 0h0m15 0h0m5 0h0m6 0h0m3 0h0m-64 1h0m9 0h0m1 0h0m1 0h0m8 0h0m1 0h0m5 0h0m5 0h0m3 0h0m3 0h0m1 0h0m1 0h0m15 0h0m8 0h0m1 0h0m3 0h0m-70 1h0m3 0h0m1 0h0m8 0h0m1 0h0m3 0h0m10 0h0m1 0h0m7 0h0m3 0h0m2 0h0m2 0h0m1 0h0m9 0h0m14 0h0m2 0h0m1 0h0m-65 1h0m1 0h0m2 0h0m9 0h0m1 0h0m22 0h0m1 0h0m1 0h0m1 0h0m2 0h0m20 0h0m-61 1h0m3 0h0m5 0h0m1 0h0m1 0h0m1 0h0m1 0h0m1 0h0m4 0h0m1 0h0m1 0h0m1 0h0m6 0h0m9 0h0m3 0h0m1 0h0m1 0h0m7 0h0m13 0h0m1 0h0m1 0h0m3 0h0m1 0h0m2 0h0m-68 1h0m3 0h0m6 0h0m5 0h0m1 0h0m1 0h0m8 0h0m2 0h0m5 0h0m1 0h0m1 0h0m10 0h0m2 0h0m1 0h0m7 0h0m9 0h0m1 0h0m1 0h0m-57 1h0m1 0h0m1 0h0m8 0h0m5 0h0m1 0h0m12 0h0m1 0h0m1 0h0m4 0h0m6 0h0m7 0h0m7 0h0m1 0h0m3 0h0m2 0h0m-48 1h0m3 0h0m1 0h0m5 0h0m4 0h0m2 0h0m5 0h0m2 0h0m1 0h0m2 0h0m9 0h0m1 0h0m7 0h0m1 0h0m1 0h0m1 0h0m-51 1h0m1 0h0m2 0h0m10 0h0m2 0h0m5 0h0m2 0h0m8 0h0m1 0h0m2 0h0m2 0h0m1 0h0m3 0h0m3 0h0m1 0h0m6 0h0m1 0h0m2 0h0m2 0h0m-60 1h0m2 0h0m3 0h0m1 0h0m7 0h0m1 0h0m2 0h0m3 0h0m4 0h0m3 0h0m4 0h0m1 0h0m1 0h0m1 0h0m2 0h0m1 0h0m3 0h0m2 0h0m7 0h0m4 0h0m6 0h0m1 0h0m-61 1h0m1 0h0m7 0h0m3 0h0m6 0h0m2 0h0m1 0h0m5 0h0m1 0h0m4 0h0m1 0h0m1 0h0m2 0h0m8 0h0m5 0h0m1 0h0m5 0h0m3 0h0m1 0h0m2 0h0m-52 1h0m2 0h0m4 0h0m3 0h0m4 0h0m2 0h0m1 0h0m1 0h0m3 0h0m2 0h0m2 0h0m7 0h0m1 0h0m3 0h0m2 0h0m2 0h0m1 0h0m1 0h0m1 0h0m5 0h0m2 0h0m3 0h0m-60 1h0m4 0h0m4 0h0m2 0h0m2 0h0m3 0h0m12 0h0m3 0h0m2 0h0m2 0h0m13 0h0m3 0h0m1 0h0m1 0h0m6 0h0m3 0h0m-58 1h0m2 0h0m1 0h0m3 0h0m3 0h0m2 0h0m1 0h0m1 0h0m7 0h0m8 0h0m1 0h0m1 0h0m1 0h0m14 0h0m1 0h0m1 0h0m3 0h0m3 0h0m1 0h0m1 0h0m2 0h0m-58 1h0m4 0h0m1 0h0m5 0h0m10 0h0m13 0h0m2 0h0m12 0h0m1 0h0m-44 1h0m7 0h0m1 0h0m2 0h0m11 0h0m6 0h0m1 0h0m11 0h0m1 0h0m8 0h0m1 0h0m1 0h0m1 0h0m2 0h0m6 0h0m-61 1h0m5 0h0m1 0h0m2 0h0m1 0h0m1 0h0m16 0h0m16 0h0m1 0h0m11 0h0m1 0h0m6 0h0m-70 1h0m8 0h0m1 0h0m2 0h0m1 0h0m3 0h0m2 0h0m2 0h0m1 0h0m6 0h0m1 0h0m2 0h0m2 0h0m2 0h0m1 0h0m1 0h0m5 0h0m1 0h0m7 0h0m7 0h0m6 0h0m2 0h0m2 0h0m3 0h0m3 0h0m-60 1h0m1 0h0m3 0h0m1 0h0m1 0h0m10 0h0m4 0h0m2 0h0m1 0h0m5 0h0m8 0h0m2 0h0m4 0h0m3 0h0m7 0h0m8 0h0m-53 1h0m10 0h0m3 0h0m1 0h0m4 0h0m1 0h0m6 0h0m10 0h0m1 0h0m-45 1h0m6 0h0m12 0h0m4 0h0m15 0h0m2 0h0m2 0h0m1 0h0m1 0h0m8 0h0m1 0h0m-53 1h0m3 0h0m1 0h0m4 0h0m15 0h0m1 0h0m15 0h0m1 0h0m2 0h0m3 0h0m8 0h0m-51 1h0m2 0h0m10 0h0m5 0h0m1 0h0m14 0h0m8 0h0m1 0h0m-46 1h0m8 0h0m3 0h0m6 0h0m1 0h0m5 0h0m11 0h0m10 0h0m2 0h0m-39 1h0m11 0h0m20 0h0m10 0h0m8 0h0m-48 1h0m8 0h0m14 0h0m6 0h0m2 0h0m16 0h0m-45 1h0m11 0h0m7 0h0m6 0h0m3 0h0m18 0h0m4 0h0m-49 1h0m9 0h0m10 0h0m13 0h0m3 0h0m8 0h0m-25 1h0m7 0h0m2 0h0m2 0h0m1 0h0m5 0h0m9 0h0m4 0h0m-43 1h0m3 0h0m2 0h0m9 0h0m3 0h0m2 0h0m2 0h0m1 0h0m1 0h0m9 0h0m4 0h0m6 0h0m-41 1h0m8 0h0m7 0h0m2 0h0m4 0h0m2 0h0m3 0h0m1 0h0m6 0h0m1 0h0m5 0h0m4 0h0m-39 1h0m2 0h0m3 0h0m3 0h0m4 0h0m1 0h0m2 0h0m2 0h0m1 0h0m3 0h0m3 0h0m16 0h0m-48 1h0m12 0h0m5 0h0m6 0h0m1 0h0m4 0h0m3 0h0m3 0h0m2 0h0m-28 1h0m1 0h0m1 0h0m4 0h0m2 0h0m4 0h0m1 0h0m1 0h0m2 0h0m4 0h0m8 0h0m1 0h0m1 0h0m2 0h0m-39 1h0m1 0h0m2 0h0m1 0h0m1 0h0m3 0h0m6 0h0m2 0h0m3 0h0m2 0h0m3 0h0m3 0h0m9 0h0m-36 1h0m1 0h0m6 0h0m2 0h0m2 0h0m1 0h0m1 0h0m1 0h0m4 0h0m3 0h0m2 0h0m6 0h0m1 0h0m2 0h0m3 0h0m1 0h0m1 0h0m-36 1h0m2 0h0m1 0h0m2 0h0m6 0h0m7 0h0m1 0h0m7 0h0m4 0h0m1 0h0m2 0h0m2 0h0m1 0h0m-31 1h0m6 0h0m4 0h0m4 0h0m1 0h0m3 0h0m1 0h0m9 0h0m1 0h0m-34 1h0m3 0h0m4 0h0m5 0h0m2 0h0m1 0h0m3 0h0m4 0h0m4 0h0m2 0h0m-28 1h0m6 0h0m6 0h0m3 0h0m3 0h0m1 0h0m1 0h0m4 0h0m2 0h0m1 0h0m1 0h0m6 0h0m5 0h0m-35 1h0m3 0h0m7 0h0m1 0h0m6 0h0m4 0h0m3 0h0m-34 1h0m1 0h0m11 0h0m2 0h0m1 0h0m1 0h0m1 0h0m1 0h0m1 0h0m2 0h0m6 0h0m4 0h0m3 0h0m3 0h0m-37 1h0m1 0h0m1 0h0m2 0h0m3 0h0m2 0h0m6 0h0m1 0h0m2 0h0m2 0h0m1 0h0m1 0h0m3 0h0m3 0h0m2 0h0m4 0h0m-34 1h0m1 0h0m2 0h0m2 0h0m2 0h0m8 0h0m4 0h0m1 0h0m2 0h0m3 0h0m3 0h0m2 0h0m1 0h0m3 0h0m-33 1h0m4 0h0m1 0h0m2 0h0m9 0h0m1 0h0m3 0h0m4 0h0m-24 1h0m3 0h0m1 0h0m4 0h0m1 0h0m2 0h0m8 0h0m-15 1h0m13 0h0m3 0h0m3 0h0m-15 1h0m1 0h0m2 0h0m6 0h0m1 0h0m1 0h0m-11 1h0m2 0h0m11 0h0m1 0h0m-14 1h0m1 0h0m3 0h0m1 0h0m5 0h0m3 0h0m1 0h0m-10 1h0m1 0h0m5 0h0m3 0h0m-157 1h0m147 0h0m2 0h0m1 0h0m1 0h0m6 0h0m1 0h0m-21 1h0m8 0h0m4 0h0m1 0h0m3 0h0m3 0h0m2 0h0m-13 1h0m5 0h0m5 0h0m4 0h0m-15 1h0m2 0h0m1 0h0m2 0h0m3 0h0m1 0h0m-8 1h0m8 0h0m1 0h0m4 0h0m-8 1h0m1 0h0m2 0h0m2 0h0m-7 1h0m7 0h0m2 0h0m1 0h0m1 0h0m-23 1h0m6 0h0m6 0h0m4 0h0m5 0h0m1 0h0m5 0h0m-17 1h0m3 0h0m9 0h0m5 0h0m-17 1h0m1 0h0m2 0h0m6 0h0m-7 1h0m7 0h0m-5 1h0m0 1h0m1 0h0m2 0h0m1 0h0m-12 1h0m9 0h0m3 0h0m1 0h0m1 0h0m-10 1h0m3 0h0m3 0h0m1 0h0m5 0h0m-16 1h0m5 0h0m3 0h0m2 0h0m2 0h0m-13 1h0m2 0h0m4 0h0m3 0h0m1 0h0m2 0h0m1 0h0m-10 1h0m1 0h0m6 0h0m1 0h0m1 0h0m-13 1h0m3 0h0m2 0h0m8 2h0m1 0h0m1 0h0m1 0h0m-7 2h0m8 0h0m1 0h0m-10 2h0m1 0h0m-2 1h0m2 0h0m-1 1h0m2 0h0m-2 1h0m1 0h0m1 0h0m-5 1h0m3 0h0m2 0h0m4 0h0m-8 1h0m3 0h0m3 1h0m3 0h0m-6 1h0m3 1h0m-2 1h0m8 0h0m1 0h0m-2 1h0m3 0h0"/>
<path fill="none" stroke="#53B400" stroke-width="2.9" stroke-linecap="round" d="M339 678h0m-170 23h0m4 1h0m-2 1h0m1 0h0m6 0h0m1 0h0m1 0h0m-10 1h0m2 0h0m7 0h0m5 0h0m1 0h0m3 0h0m1 0h0m6 0h0m-22 1h0m2 0h0m13 0h0m3 0h0m1 0h0m3 0h0m1 0h0m-53 1h0m28 0h0m5 0h0m2 0h0m2 0h0m9 0h0m1 0h0m2 0h0m-20 1h0m5 0h0m8 0h0m6 0h0m-48 1h0m25 0h0m1 0h0m2 0h0m1 0h0m2 0h0m7 0h0m5 0h0m3 0h0m1 0h0m1 0h0m6 0h0m-34 1h0m1 0h0m18 0h0m1 0h0m7 0h0m-39 1h0m1 0h0m8 0h0m12 0h0m2 0h0m16 0h0m1 0h0m8 0h0m-53 1h0m1 0h0m1 0h0m4 0h0m13 0h0m9 0h0m2 0h0m9 0h0m10 0h0m1 0h0m-57 1h0m1 0h0m8 0h0m4 0h0m2 0h0m1 0h0m3 0h0m9 0h0m5 0h0m2 0h0m1 0h0m1 0h0m2 0h0m3 0h0m15 0h0m1 0h0m9 0h0m-59 1h0m4 0h0m2 0h0m2 0h0m1 0h0m3 0h0m7 0h0m9 0h0m1 0h0m1 0h0m12 0h0m11 0h0m-62 1h0m2 0h0m8 0h0m2 0h0m2 0h0m1 0h0m2 0h0m3 0h0m11 0h0m2 0h0m2 0h0m5 0h0m1 0h0m6 0h0m14 0h0m2 0h0m5 0h0m4 0h0m1 0h0m-76 1h0m14 0h0m1 0h0m6 0h0m6 0h0m8 0h0m3 0h0m7 0h0m4 0h0m2 0h0m4 0h0m12 0h0m8 0h0m-78 1h0m4 0h0m16 0h0m6 0h0m1 0h0m9 0h0m2 0h0m1 0h0m1 0h0m2 0h0m4 0h0m2 0h0m9 0h0m19 0h0m-73 1h0m1 0h0m1 0h0m1 0h0m18 0h0m1 0h0m1 0h0m1 0h0m5 0h0m5 0h0m1 0h0m2 0h0m1 0h0m11 0h0m4 0h0m1 0h0m1 0h0m11 0h0m3 0h0m5 0h0m2 0h0m-78 1h0m1 0h0m2 0h0m1 0h0m1 0h0m16 0h0m1 0h0m2 0h0m6 0h0m9 0h0m4 0h0m5 0h0m9 0h0m2 0h0m9 0h0m4 0h0m5 0h0m8 0h0m-85 1h0m3 0h0m1 0h0m15 0h0m11 0h0m9 0h0m1 0h0m1 0h0m1 0h0m8 0h0m1 0h0m4 0h0m1 0h0m4 0h0m28 0h0m-89 1h0m2 0h0m1 0h0m8 0h0m1 0h0m11 0h0m12 0h0m3 0h0m1 0h0m15 0h0m2 0h0m2 0h0m3 0h0m1 0h0m9 0h0m6 0h0m1 0h0m6 0h0m1 0h0m-83 1h0m2 0h0m10 0h0m1 0h0m2 0h0m8 0h0m4 0h0m3 0h0m4 0h0m1 0h0m1 0h0m1 0h0m3 0h0m3 0h0m5 0h0m2 0h0m2 0h0m2 0h0m2 0h0m1 0h0m3 0h0m1 0h0m11 0h0m5 0h0m1 0h0m4 0h0m2 0h0m-86 1h0m1 0h0m3 0h0m10 0h0m2 0h0m1 0h0m8 0h0m2 0h0m8 0h0m1 0h0m1 0h0m15 0h0m2 0h0m2 0h0m2 0h0m2 0h0m10 0h0m1 0h0m5 0h0m2 0h0m3 0h0m-80 1h0m1 0h0m1 0h0m6 0h0m3 0h0m5 0h0m6 0h0m1 0h0m9 0h0m1 0h0m1 0h0m2 0h0m2 0h0m2 0h0m1 0h0m10 0h0m1 0h0m3 0h0m1 0h0m1 0h0m1 0h0m11 0h0m3 0h0m5 0h0m-78 1h0m8 0h0m6 0h0m1 0h0m8 0h0m12 0h0m3 0h0m1 0h0m1 0h0m1 0h0m1 0h0m2 0h0m12 0h0m2 0h0m2 0h0m1 0h0m1 0h0m1 0h0m1 0h0m10 0h0m-67 1h0m17 0h0m11 0h0m6 0h0m1 0h0m2 0h0m1 0h0m4 0h0m7 0h0m2 0h0m2 0h0m1 0h0m1 0h0m2 0h0m9 0h0m4 0h0m-70 1h0m1 0h0m1 0h0m5 0h0m5 0h0m1 0h0m1 0h0m2 0h0m1 0h0m9 0h0m7 0h0m1 0h0m1 0h0m16 0h0m4 0h0m1 0h0m5 0h0m-61 1h0m6 0h0m4 0h0m4 0h0m1 0h0m9 0h0m4 0h0m1 0h0m1 0h0m4 0h0m1 0h0m1 0h0m11 0h0m3 0h0m2 0h0m2 0h0m1 0h0m3 0h0m8 0h0m-68 1h0m1 0h0m6 0h0m2 0h0m1 0h0m3 0h0m16 0h0m5 0h0m1 0h0m2 0h0m10 0h0m4 0h0m2 0h0m2 0h0m1 0h0m6 0h0m8 0h0m2 0h0m-62 1h0m5 0h0m4 0h0m4 0h0m1 0h0m1 0h0m4 0h0m1 0h0m1 0h0m1 0h0m1 0h0m4 0h0m1 0h0m10 0h0m7 0h0m4 0h0m4 0h0m9 0h0m1 0h0m1 0h0m1 0h0m-71 1h0m7 0h0m3 0h0m2 0h0m14 0h0m9 0h0m15 0h0m9 0h0m1 0h0m7 0h0m1 0h0m-73 1h0m1 0h0m3 0h0m6 0h0m2 0h0m2 0h0m4 0h0m1 0h0m1 0h0m10 0h0m1 0h0m2 0h0m2 0h0m4 0h0m7 0h0m5 0h0m2 0h0m2 0h0m4 0h0m1 0h0m2 0h0m2 0h0m1 0h0m7 0h0m3 0h0m-78 1h0m2 0h0m1 0h0m2 0h0m2 0h0m2 0h0m10 0h0m15 0h0m5 0h0m1 0h0m1 0h0m1 0h0m10 0h0m2 0h0m4 0h0m3 0h0m3 0h0m10 0h0m1 0h0m2 0h0m1 0h0m7 0h0m-83 1h0m1 0h0m3 0h0m7 0h0m1 0h0m6 0h0m1 0h0m12 0h0m1 0h0m1 0h0m4 0h0m2 0h0m1 0h0m11 0h0m4 0h0m1 0h0m2 0h0m9 0h0m2 0h0m1 0h0m3 0h0m9 0h0m-80 1h0m3 0h0m5 0h0m1 0h0m1 0h0m5 0h0m4 0h0m14 0h0m4 0h0m1 0h0m4 0h0m1 0h0m6 0h0m2 0h0m3 0h0m3 0h0m12 0h0m2 0h0m8 0h0m2 0h0m4 0h0m-78 1h0m1 0h0m1 0h0m3 0h0m2 0h0m1 0h0m1 0h0m6 0h0m18 0h0m1 0h0m1 0h0m2 0h0m5 0h0m2 0h0m3 0h0m28 0h0m-82 1h0m7 0h0m1 0h0m1 0h0m1 0h0m1 0h0m1 0h0m1 0h0m1 0h0m4 0h0m5 0h0m16 0h0m1 0h0m3 0h0m1 0h0m6 0h0m1 0h0m2 0h0m1 0h0m3 0h0m6 0h0m1 0h0m8 0h0m7 0h0m6 0h0m3 0h0m-81 1h0m1 0h0m2 0h0m1 0h0m3 0h0m8 0h0m3 0h0m2 0h0m7 0h0m2 0h0m3 0h0m3 0h0m3 0h0m1 0h0m1 0h0m2 0h0m5 0h0m3 0h0m6 0h0m1 0h0m1 0h0m5 0h0m4 0h0m13 0h0m3 0h0m-82 1h0m1 0h0m3 0h0m1 0h0m4 0h0m5 0h0m3 0h0m1 0h0m4 0h0m1 0h0m6 0h0m2 0h0m1 0h0m11 0h0m2 0h0m1 0h0m7 0h0m4 0h0m2 0h0m4 0h0m1 0h0m1 0h0m13 0h0m-88 1h0m22 0h0m6 0h0m11 0h0m3 0h0m2 0h0m1 0h0m5 0h0m2 0h0m1 0h0m3 0h0m9 0h0m1 0h0m2 0h0m7 0h0m2 0h0m2 0h0m-76 1h0m7 0h0m12 0h0m1 0h0m7 0h0m1 0h0m2 0h0m7 0h0m5 0h0m1 0h0m2 0h0m1 0h0m3 0h0m1 0h0m4 0h0m3 0h0m3 0h0m1 0h0m5 0h0m8 0h0m7 0h0m2 0h0m1 0h0m2 0h0m1 0h0m-89 1h0m8 0h0m1 0h0m17 0h0m4 0h0m2 0h0m8 0h0m3 0h0m3 0h0m16 0h0m9 0h0m12 0h0m1 0h0m2 0h0m4 0h0m-86 1h0m5 0h0m22 0h0m1 0h0m1 0h0m1 0h0m1 0h0m8 0h0m2 0h0m10 0h0m9 0h0m19 0h0m3 0h0m1 0h0m-83 1h0m3 0h0m2 0h0m1 0h0m13 0h0m3 0h0m1 0h0m7 0h0m6 0h0m7 0h0m1 0h0m7 0h0m3 0h0m2 0h0m3 0h0m1 0h0m3 0h0m2 0h0m6 0h0m2 0h0m7 0h0m-76 1h0m2 0h0m3 0h0m4 0h0m6 0h0m1 0h0m2 0h0m4 0h0m2 0h0m1 0h0m2 0h0m10 0h0m4 0h0m5 0h0m3 0h0m2 0h0m2 0h0m8 0h0m6 0h0m6 0h0m-68 1h0m5 0h0m7 0h0m1 0h0m5 0h0m1 0h0m1 0h0m2 0h0m2 0h0m1 0h0m11 0h0m2 0h0m2 0h0m6 0h0m3 0h0m4 0h0m16 0h0m2 0h0m-80 1h0m2 0h0m3 0h0m5 0h0m4 0h0m10 0h0m6 0h0m3 0h0m1 0h0m1 0h0m1 0h0m1 0h0m6 0h0m1 0h0m7 0h0m1 0h0m3 0h0m2 0h0m-54 1h0m1 0h0m2 0h0m2 0h0m10 0h0m9 0h0m3 0h0m2 0h0m2 0h0m10 0h0m7 0h0m5 0h0m1 0h0m1 0h0m1 0h0m-57 1h0m2 0h0m13 0h0m7 0h0m8 0h0m9 0h0m3 0h0m31 0h0m-75 1h0m24 0h0m1 0h0m12 0h0m1 0h0m24 0h0m10 0h0m2 0h0m-72 1h0m21 0h0m2 0h0m5 0h0m1 0h0m5 0h0m9 0h0m1 0h0m5 0h0m10 0h0m2 0h0m12 0h0m-74 1h0m2 0h0m20 0h0m1 0h0m6 0h0m2 0h0m12 0h0m5 0h0m3 0h0m6 0h0m2 0h0m1 0h0m1 0h0m1 0h0m3 0h0m5 0h0m1 0h0m1 0h0m1 0h0m5 0h0m-78 1h0m2 0h0m3 0h0m5 0h0m1 0h0m10 0h0m7 0h0m13 0h0m6 0h0m5 0h0m1 0h0m2 0h0m2 0h0m2 0h0m2 0h0m5 0h0m1 0h0m4 0h0m2 0h0m1 0h0m2 0h0m-78 1h0m6 0h0m1 0h0m1 0h0m1 0h0m1 0h0m5 0h0m2 0h0m2 0h0m3 0h0m2 0h0m1 0h0m5 0h0m1 0h0m1 0h0m2 0h0m13 0h0m3 0h0m6 0h0m5 0h0m1 0h0m3 0h0m4 0h0m2 0h0m1 0h0m2 0h0m1 0h0m2 0h0m1 0h0m2 0h0m1 0h0m-75 1h0m2 0h0m4 0h0m5 0h0m5 0h0m3 0h0m2 0h0m4 0h0m6 0h0m3 0h0m3 0h0m8 0h0m3 0h0m2 0h0m1 0h0m1 0h0m1 0h0m3 0h0m2 0h0m3 0h0m5 0h0m1 0h0m2 0h0m2 0h0m2 0h0m3 0h0m-81 1h0m1 0h0m3 0h0m3 0h0m1 0h0m9 0h0m1 0h0m5 0h0m1 0h0m1 0h0m3 0h0m7 0h0m5 0h0m1 0h0m11 0h0m4 0h0m5 0h0m1 0h0m1 0h0m1 0h0m1 0h0m1 0h0m3 0h0m2 0h0m2 0h0m-70 1h0m4 0h0m3 0h0m6 0h0m1 0h0m2 0h0m4 0h0m1 0h0m5 0h0m7 0h0m3 0h0m7 0h0m2 0h0m5 0h0m5 0h0m3 0h0m4 0h0m1 0h0m7 0h0m5 0h0m1 0h0m-72 1h0m1 0h0m21 0h0m2 0h0m4 0h0m15 0h0m5 0h0m21 0h0m2 0h0m-78 1h0m2 0h0m2 0h0m13 0h0m2 0h0m13 0h0m1 0h0m1 0h0m1 0h0m2 0h0m1 0h0m5 0h0m11 0h0m4 0h0m6 0h0m6 0h0m4 0h0m1 0h0m3 0h0m-74 1h0m1 0h0m12 0h0m2 0h0m2 0h0m1 0h0m13 0h0m8 0h0m8 0h0m3 0h0m3 0h0m16 0h0m2 0h0m-71 1h0m4 0h0m9 0h0m2 0h0m3 0h0m7 0h0m4 0h0m1 0h0m5 0h0m2 0h0m10 0h0m1 0h0m1 0h0m3 0h0m15 0h0m3 0h0m-68 1h0m1 0h0m1 0h0m11 0h0m1 0h0m16 0h0m16 0h0m1 0h0m2 0h0m7 0h0m10 0h0m2 0h0m2 0h0m-71 1h0m1 0h0m8 0h0m5 0h0m3 0h0m13 0h0m3 0h0m2 0h0m10 0h0m1 0h0m1 0h0m6 0h0m5 0h0m13 0h0m1 0h0m2 0h0m-74 1h0m1 0h0m9 0h0m16 0h0m20 0h0m1 0h0m6 0h0m4 0h0m12 0h0m-69 1h0m8 0h0m28 0h0m1 0h0m6 0h0m1 0h0m2 0h0m6 0h0m1 0h0m12 0h0m3 0h0m7 0h0m1 0h0m-71 1h0m2 0h0m5 0h0m5 0h0m11 0h0m12 0h0m3 0h0m2 0h0m1 0h0m1 0h0m6 0h0m2 0h0m3 0h0m15 0h0m-80 1h0m3 0h0m19 0h0m2 0h0m1 0h0m11 0h0m15 0h0m3 0h0m1 0h0m5 0h0m12 0h0m1 0h0m2 0h0m2 0h0m1 0h0m1 0h0m-77 1h0m5 0h0m5 0h0m2 0h0m8 0h0m22 0h0m1 0h0m3 0h0m3 0h0m11 0h0m5 0h0m5 0h0m2 0h0m1 0h0m2 0h0m1 0h0m-74 1h0m9 0h0m2 0h0m19 0h0m1 0h0m3 0h0m7 0h0m4 0h0m25 0h0m4 0h0m-63 1h0m1 0h0m12 0h0m12 0h0m1 0h0m2 0h0m8 0h0m4 0h0m7 0h0m3 0h0m11 0h0m3 0h0m-68 1h0m2 0h0m1 0h0m2 0h0m12 0h0m1 0h0m1 0h0m6 0h0m1 0h0m7 0h0m2 0h0m4 0h0m3 0h0m11 0h0m16 0h0m124 0h0m-190 1h0m5 0h0m4 0h0m2 0h0m3 0h0m4 0h0m1 0h0m1 0h0m1 0h0m4 0h0m5 0h0m4 0h0m4 0h0m1 0h0m4 0h0m18 0h0m1 0h0m3 0h0m1 0h0m-66 1h0m13 0h0m2 0h0m1 0h0m3 0h0m1 0h0m3 0h0m1 0h0m1 0h0m8 0h0m1 0h0m5 0h0m7 0h0m5 0h0m2 0h0m2 0h0m8 0h0m1 0h0m-73 1h0m13 0h0m1 0h0m2 0h0m1 0h0m3 0h0m4 0h0m3 0h0m1 0h0m10 0h0m2 0h0m1 0h0m2 0h0m1 0h0m2 0h0m1 0h0m1 0h0m3 0h0m2 0h0m4 0h0m4 0h0m11 0h0m4 0h0m-72 1h0m11 0h0m6 0h0m2 0h0m1 0h0m2 0h0m2 0h0m4 0h0m14 0h0m1 0h0m1 0h0m8 0h0m2 0h0m5 0h0m7 0h0m1 0h0m2 0h0m1 0h0m7 0h0m1 0h0m-74 1h0m2 0h0m8 0h0m7 0h0m3 0h0m3 0h0m9 0h0m1 0h0m4 0h0m1 0h0m1 0h0m3 0h0m1 0h0m2 0h0m2 0h0m2 0h0m3 0h0m2 0h0m6 0h0m5 0h0m2 0h0m-64 1h0m2 0h0m8 0h0m2 0h0m5 0h0m3 0h0m1 0h0m9 0h0m11 0h0m2 0h0m2 0h0m1 0h0m6 0h0m1 0h0m2 0h0m7 0h0m1 0h0m2 0h0m3 0h0m5 0h0m-74 1h0m2 0h0m5 0h0m1 0h0m1 0h0m2 0h0m9 0h0m11 0h0m10 0h0m1 0h0m5 0h0m8 0h0m2 0h0m4 0h0m3 0h0m2 0h0m-73 1h0m4 0h0m5 0h0m5 0h0m3 0h0m3 0h0m4 0h0m12 0h0m1 0h0m1 0h0m1 0h0m5 0h0m2 0h0m2 0h0m3 0h0m2 0h0m3 0h0m5 0h0m4 0h0m2 0h0m5 0h0m2 0h0m1 0h0m1 0h0m1 0h0m7 0h0m-82 1h0m6 0h0m7 0h0m1 0h0m1 0h0m4 0h0m2 0h0m1 0h0m6 0h0m6 0h0m1 0h0m1 0h0m2 0h0m1 0h0m3 0h0m1 0h0m1 0h0m1 0h0m8 0h0m2 0h0m3 0h0m1 0h0m2 0h0m1 0h0m1 0h0m7 0h0m2 0h0m1 0h0m-69 1h0m1 0h0m1 0h0m7 0h0m3 0h0m1 0h0m2 0h0m6 0h0m1 0h0m1 0h0m18 0h0m3 0h0m4 0h0m1 0h0m5 0h0m1 0h0m7 0h0m-54 1h0m1 0h0m2 0h0m2 0h0m5 0h0m1 0h0m1 0h0m4 0h0m11 0h0m5 0h0m2 0h0m2 0h0m4 0h0m3 0h0m5 0h0m2 0h0m10 0h0m-70 1h0m3 0h0m7 0h0m2 0h0m2 0h0m2 0h0m4 0h0m1 0h0m1 0h0m1 0h0m1 0h0m1 0h0m3 0h0m7 0h0m7 0h0m3 0h0m2 0h0m2 0h0m2 0h0m9 0h0m-43 1h0m8 0h0m3 0h0m2 0h0m11 0h0m3 0h0m5 0h0m4 0h0m13 0h0m4 0h0m-63 1h0m8 0h0m1 0h0m4 0h0m1 0h0m1 0h0m1 0h0m2 0h0m3 0h0m3 0h0m3 0h0m2 0h0m13 0h0m1 0h0m3 0h0m1 0h0m12 0h0m2 0h0m-59 1h0m3 0h0m2 0h0m15 0h0m6 0h0m1 0h0m1 0h0m1 0h0m13 0h0m2 0h0m9 0h0m6 0h0m-59 1h0m1 0h0m1 0h0m17 0h0m1 0h0m1 0h0m3 0h0m16 0h0m1 0h0m1 0h0m2 0h0m1 0h0m3 0h0m1 0h0m9 0h0m-47 1h0m7 0h0m1 0h0m1 0h0m5 0h0m1 0h0m1 0h0m2 0h0m13 0h0m2 0h0m1 0h0m2 0h0m1 0h0m2 0h0m2 0h0m-35 1h0m5 0h0m1 0h0m2 0h0m1 0h0m11 0h0m8 0h0m3 0h0m12 0h0m1 0h0m1 0h0m-47 1h0m6 0h0m4 0h0m2 0h0m13 0h0m3 0h0m17 0h0m-47 1h0m8 0h0m5 0h0m2 0h0m1 0h0m1 0h0m9 0h0m1 0h0m3 0h0m8 0h0m3 0h0m1 0h0m7 0h0m-42 1h0m1 0h0m4 0h0m2 0h0m1 0h0m3 0h0m6 0h0m1 0h0m2 0h0m1 0h0m3 0h0m9 0h0m3 0h0m1 0h0m3 0h0m-44 1h0m22 0h0m3 0h0m1 0h0m2 0h0m12 0h0m3 0h0m-40 1h0m5 0h0m5 0h0m9 0h0m3 0h0m1 0h0m2 0h0m9 0h0m3 0h0m2 0h0m3 0h0m-42 1h0m5 0h0m4 0h0m22 0h0m4 0h0m2 0h0m4 0h0m-55 1h0m2 0h0m10 0h0m2 0h0m2 0h0m26 0h0m2 0h0m8 0h0m-40 1h0m1 0h0m1 0h0m1 0h0m43 0h0m5 0h0m-54 1h0m2 0h0m4 0h0m4 0h0m22 0h0m1 0h0m2 0h0m6 0h0m-41 1h0m5 0h0m2 0h0m2 0h0m1 0h0m26 0h0m9 0h0m3 0h0m1 0h0m7 0h0m-58 1h0m7 0h0m2 0h0m4 0h0m13 0h0m3 0h0m29 0h0m-43 1h0m2 0h0m8 0h0m5 0h0m1 0h0m12 0h0m14 0h0m-55 1h0m17 0h0m8 0h0m1 0h0m4 0h0m18 0h0m7 0h0m-54 1h0m24 0h0m5 0h0m1 0h0m2 0h0m1 0h0m19 0h0m5 0h0m-36 1h0m1 0h0m10 0h0m9 0h0m6 0h0m2 0h0m2 0h0m9 0h0m-53 1h0m7 0h0m4 0h0m2 0h0m1 0h0m1 0h0m1 0h0m1 0h0m8 0h0m9 0h0m3 0h0m4 0h0m5 0h0m1 0h0m8 0h0m1 0h0m-51 1h0m8 0h0m1 0h0m1 0h0m20 0h0m13 0h0m6 0h0m-52 1h0m3 0h0m7 0h0m1 0h0m3 0h0m18 0h0m-30 1h0m3 0h0m5 0h0m1 0h0m1 0h0m1 0h0m2 0h0m8 0h0m10 0h0m5 0h0m11 0h0m1 0h0m1 0h0m-50 1h0m1 0h0m1 0h0m2 0h0m3 0h0m1 0h0m1 0h0m1 0h0m2 0h0m3 0h0m2 0h0m1 0h0m4 0h0m12 0h0m14 0h0m2 0h0m-47 1h0m32 0h0m13 0h0m2 0h0m-48 1h0m11 0h0m4 0h0m16 0h0m5 0h0m3 0h0m6 0h0m-32 1h0m1 0h0m6 0h0m19 0h0m5 0h0m-28 1h0m5 0h0m8 0h0m2 0h0m2 0h0m4 0h0m13 0h0m-51 1h0m2 0h0m16 0h0m13 0h0m2 0h0m3 0h0m4 0h0m-16 1h0m8 0h0m6 0h0m16 0h0m-22 1h0m4 0h0m3 0h0m-7 1h0m-4 1h0m-2 1h0m9 0h0m-4 1h0m10 0h0m-20 1h0m1 0h0m9 0h0m13 0h0m-15 2h0m1 0h0m1 0h0m-2 2h0m1 0h0m1 1h0"/>
<path fill="none" stroke="#00BC56" stroke-width="2.9" stroke-linecap="round" d="M365 525h0m23 171h0m33 17h0m-109 27h0m48 25h0m-2 3h0m6 1h0m1 0h0m0 1h0m1 0h0m-15 1h0m14 0h0m1 0h0m-18 1h0m10 0h0m3 0h0m1 0h0m4 0h0m-21 1h0m9 0h0m8 0h0m9 0h0m-27 1h0m3 0h0m8 0h0m2 0h0m-14 1h0m3 0h0m3 0h0m5 0h0m2 0h0m7 0h0m2 0h0m8 0h0m-32 1h0m4 0h0m2 0h0m1 0h0m9 0h0m16 0h0m-35 1h0m5 0h0m3 0h0m6 0h0m20 0h0m1 0h0m-38 1h0m9 0h0m5 0h0m19 0h0m-29 1h0m7 0h0m2 0h0m6 0h0m5 0h0m7 0h0m5 0h0m-27 1h0m2 0h0m2 0h0m1 0h0m1 0h0m2 0h0m4 0h0m1 0h0m2 0h0m8 0h0m3 0h0m1 0h0m-30 1h0m4 0h0m1 0h0m3 0h0m1 0h0m4 0h0m1 0h0m4 0h0m7 0h0m7 0h0m1 0h0m-34 1h0m2 0h0m3 0h0m5 0h0m1 0h0m3 0h0m2 0h0m3 0h0m9 0h0m3 0h0m6 0h0m1 0h0m-38 1h0m2 0h0m2 0h0m8 0h0m1 0h0m4 0h0m1 0h0m1 0h0m2 0h0m8 0h0m-32 1h0m3 0h0m2 0h0m3 0h0m1 0h0m3 0h0m1 0h0m1 0h0m9 0h0m7 0h0m2 0h0m5 0h0m3 0h0m1 0h0m-40 1h0m2 0h0m1 0h0m3 0h0m2 0h0m4 0h0m11 0h0m13 0h0m3 0h0m-42 1h0m5 0h0m1 0h0m1 0h0m1 0h0m1 0h0m2 0h0m7 0h0m4 0h0m3 0h0m1 0h0m2 0h0m8 0h0m1 0h0m5 0h0m-36 1h0m2 0h0m15 0h0m10 0h0m2 0h0m1 0h0m-32 1h0m5 0h0m1 0h0m2 0h0m13 0h0m5 0h0m5 0h0m-39 1h0m1 0h0m8 0h0m11 0h0m1 0h0m9 0h0m4 0h0m2 0h0m-37 1h0m10 0h0m9 0h0m5 0h0m22 0h0m-28 1h0m4 0h0m9 0h0m2 0h0m2 0h0m11 0h0m2 0h0m-49 1h0m5 0h0m2 0h0m3 0h0m3 0h0m2 0h0m2 0h0m1 0h0m2 0h0m2 0h0m1 0h0m2 0h0m7 0h0m1 0h0m1 0h0m1 0h0m11 0h0m2 0h0m2 0h0m-51 1h0m8 0h0m1 0h0m8 0h0m2 0h0m2 0h0m1 0h0m8 0h0m1 0h0m1 0h0m1 0h0m10 0h0m4 0h0m1 0h0m1 0h0m1 0h0m-54 1h0m11 0h0m3 0h0m3 0h0m4 0h0m3 0h0m6 0h0m4 0h0m4 0h0m9 0h0m6 0h0m-50 1h0m11 0h0m5 0h0m6 0h0m9 0h0m1 0h0m3 0h0m7 0h0m6 0h0m1 0h0m2 0h0m-49 1h0m18 0h0m3 0h0m8 0h0m1 0h0m1 0h0m3 0h0m5 0h0m6 0h0m4 0h0m-39 1h0m5 0h0m15 0h0m1 0h0m5 0h0m1 0h0m1 0h0m2 0h0m3 0h0m1 0h0m-44 1h0m1 0h0m2 0h0m6 0h0m9 0h0m4 0h0m3 0h0m3 0h0m1 0h0m4 0h0m2 0h0m3 0h0m1 0h0m1 0h0m1 0h0m4 0h0m-49 1h0m7 0h0m4 0h0m2 0h0m8 0h0m6 0h0m11 0h0m2 0h0m1 0h0m-106 1h0m73 0h0m5 0h0m11 0h0m3 0h0m3 0h0m1 0h0m2 0h0m4 0h0m4 0h0m-130 1h0m28 0h0m73 0h0m1 0h0m2 0h0m13 0h0m1 0h0m1 0h0m-106 1h0m14 0h0m1 0h0m2 0h0m65 0h0m7 0h0m3 0h0m6 0h0m1 0h0m8 0h0m6 0h0m-130 1h0m3 0h0m3 0h0m24 0h0m2 0h0m2 0h0m64 0h0m1 0h0m4 0h0m1 0h0m4 0h0m2 0h0m1 0h0m5 0h0m4 0h0m3 0h0m1 0h0m2 0h0m6 0h0m4 0h0m-133 1h0m3 0h0m28 0h0m70 0h0m1 0h0m1 0h0m1 0h0m2 0h0m7 0h0m6 0h0m8 0h0m4 0h0m-132 1h0m1 0h0m4 0h0m12 0h0m9 0h0m2 0h0m3 0h0m65 0h0m3 0h0m3 0h0m1 0h0m1 0h0m1 0h0m2 0h0m5 0h0m1 0h0m1 0h0m2 0h0m2 0h0m3 0h0m9 0h0m1 0h0m-132 1h0m3 0h0m1 0h0m1 0h0m5 0h0m3 0h0m1 0h0m9 0h0m3 0h0m2 0h0m71 0h0m1 0h0m2 0h0m1 0h0m1 0h0m2 0h0m2 0h0m6 0h0m15 0h0m-123 1h0m3 0h0m2 0h0m7 0h0m4 0h0m1 0h0m5 0h0m1 0h0m1 0h0m1 0h0m5 0h0m69 0h0m4 0h0m4 0h0m-102 1h0m3 0h0m5 0h0m1 0h0m3 0h0m4 0h0m1 0h0m1 0h0m1 0h0m68 0h0m3 0h0m4 0h0m7 0h0m3 0h0m-98 1h0m2 0h0m2 0h0m3 0h0m4 0h0m1 0h0m3 0h0m4 0h0m77 0h0m1 0h0m2 0h0m11 0h0m-116 1h0m4 0h0m1 0h0m2 0h0m1 0h0m2 0h0m1 0h0m3 0h0m3 0h0m2 0h0m1 0h0m3 0h0m67 0h0m14 0h0m1 0h0m2 0h0m-105 1h0m2 0h0m1 0h0m1 0h0m5 0h0m3 0h0m11 0h0m1 0h0m51 0h0m5 0h0m3 0h0m3 0h0m15 0h0m-105 1h0m4 0h0m4 0h0m3 0h0m8 0h0m1 0h0m3 0h0m2 0h0m1 0h0m61 0h0m2 0h0m2 0h0m2 0h0m1 0h0m18 0h0m-117 1h0m2 0h0m1 0h0m2 0h0m2 0h0m2 0h0m2 0h0m16 0h0m1 0h0m4 0h0m2 0h0m59 0h0m5 0h0m4 0h0m15 0h0m-117 1h0m3 0h0m4 0h0m1 0h0m1 0h0m1 0h0m1 0h0m16 0h0m4 0h0m61 0h0m6 0h0m1 0h0m1 0h0m1 0h0m5 0h0m3 0h0m-105 1h0m2 0h0m2 0h0m4 0h0m9 0h0m2 0h0m1 0h0m4 0h0m59 0h0m6 0h0m5 0h0m4 0h0m6 0h0m8 0h0m-112 1h0m2 0h0m6 0h0m8 0h0m6 0h0m3 0h0m1 0h0m66 0h0m1 0h0m1 0h0m9 0h0m4 0h0m3 0h0m1 0h0m1 0h0m1 0h0m1 0h0m1 0h0m-112 1h0m1 0h0m4 0h0m5 0h0m3 0h0m2 0h0m2 0h0m7 0h0m56 0h0m11 0h0m9 0h0m2 0h0m2 0h0m1 0h0m2 0h0m-107 1h0m23 0h0m1 0h0m65 0h0m1 0h0m3 0h0m2 0h0m5 0h0m3 0h0m2 0h0m3 0h0m-106 1h0m7 0h0m2 0h0m82 0h0m3 0h0m1 0h0m2 0h0m1 0h0m1 0h0m4 0h0m-94 1h0m1 0h0m77 0h0m1 0h0m1 0h0m16 0h0m-17 1h0m2 0h0m5 0h0m3 0h0m4 0h0m5 0h0m1 0h0m-101 1h0m10 0h0m81 0h0m2 0h0m2 0h0m-14 1h0m1 0h0m3 0h0m3 0h0m13 0h0m-24 1h0m2 0h0m1 0h0m2 0h0m3 0h0m15 0h0m-117 1h0m99 0h0m3 0h0m5 0h0m12 0h0m1 0h0m1 0h0m-15 1h0m4 0h0m5 0h0m-12 1h0m2 0h0m5 0h0m4 0h0m2 0h0m3 0h0m-13 1h0m12 0h0m-2 1h0m3 1h0m2 0h0m1 0h0m-24 2h0m-1 2h0m3 0h0m-7 1h0m8 0h0m1 0h0m-2 1h0m1 0h0m4 0h0m-27 1h0m14 0h0m14 0h0m-27 1h0m9 0h0m2 0h0m4 0h0m10 0h0m-30 1h0m17 0h0m1 0h0m2 0h0m2 0h0m4 0h0m6 0h0m1 0h0m-15 1h0m1 0h0m1 0h0m3 0h0m2 0h0m1 0h0m2 0h0m5 0h0m1 0h0m-29 1h0m15 0h0m1 0h0m1 0h0m1 0h0m9 0h0m4 0h0m1 0h0m-29 1h0m1 0h0m7 0h0m3 0h0m1 0h0m1 0h0m4 0h0m1 0h0m4 0h0m1 0h0m1 0h0m3 0h0m2 0h0m3 0h0m-33 1h0m1 0h0m2 0h0m7 0h0m7 0h0m4 0h0m8 0h0m-26 1h0m3 0h0m13 0h0m8 0h0m-27 1h0m9 0h0m5 0h0m3 0h0m2 0h0m1 0h0m-25 1h0m15 0h0m1 0h0m3 0h0m5 0h0m1 0h0m6 0h0m1 0h0m-20 1h0m3 0h0m1 0h0m5 0h0m1 0h0m1 0h0m1 0h0m12 0h0m-25 1h0m3 0h0m6 0h0m6 0h0m5 0h0m3 0h0m1 0h0m-28 1h0m5 0h0m6 0h0m6 0h0m2 0h0m-19 1h0m7 0h0m1 0h0m7 0h0m2 0h0m1 0h0m2 0h0m9 0h0m-30 1h0m2 0h0m19 0h0m4 0h0m1 0h0m2 0h0m16 0h0m-45 1h0m3 0h0m1 0h0m5 0h0m10 0h0m1 0h0m2 0h0m6 0h0m-29 1h0m3 0h0m1 0h0m3 0h0m6 0h0m1 0h0m1 0h0m2 0h0m6 0h0m3 0h0m1 0h0m9 0h0m6 0h0m-34 1h0m9 0h0m8 0h0m3 0h0m4 0h0m3 0h0m2 0h0m9 0h0m3 0h0m-45 1h0m11 0h0m4 0h0m10 0h0m2 0h0m2 0h0m2 0h0m12 0h0m1 0h0m1 0h0m-38 1h0m4 0h0m3 0h0m1 0h0m1 0h0m6 0h0m7 0h0m14 0h0m4 0h0m3 0h0m3 0h0m1 0h0m-48 1h0m1 0h0m4 0h0m2 0h0m2 0h0m1 0h0m1 0h0m10 0h0m1 0h0m2 0h0m2 0h0m2 0h0m9 0h0m1 0h0m1 0h0m3 0h0m8 0h0m-62 1h0m1 0h0m13 0h0m4 0h0m13 0h0m3 0h0m2 0h0m4 0h0m8 0h0m5 0h0m3 0h0m2 0h0m1 0h0m3 0h0m2 0h0m-52 1h0m1 0h0m1 0h0m1 0h0m4 0h0m11 0h0m2 0h0m2 0h0m11 0h0m14 0h0m10 0h0m-54 1h0m3 0h0m1 0h0m10 0h0m1 0h0m2 0h0m1 0h0m10 0h0m2 0h0m2 0h0m11 0h0m7 0h0m-48 1h0m1 0h0m1 0h0m9 0h0m5 0h0m1 0h0m11 0h0m15 0h0m6 0h0m1 0h0m2 0h0m5 0h0m-69 1h0m13 0h0m15 0h0m3 0h0m5 0h0m3 0h0m2 0h0m2 0h0m8 0h0m2 0h0m1 0h0m4 0h0m4 0h0m5 0h0m3 0h0m-61 1h0m1 0h0m2 0h0m1 0h0m1 0h0m1 0h0m22 0h0m4 0h0m2 0h0m19 0h0m6 0h0m1 0h0m2 0h0m-61 1h0m4 0h0m2 0h0m4 0h0m8 0h0m1 0h0m1 0h0m8 0h0m1 0h0m1 0h0m2 0h0m5 0h0m11 0h0m3 0h0m1 0h0m2 0h0m2 0h0m5 0h0m-61 1h0m1 0h0m2 0h0m3 0h0m9 0h0m13 0h0m1 0h0m1 0h0m1 0h0m1 0h0m13 0h0m5 0h0m2 0h0m1 0h0m1 0h0m4 0h0m1 0h0m3 0h0m-64 1h0m7 0h0m2 0h0m2 0h0m1 0h0m4 0h0m1 0h0m14 0h0m2 0h0m2 0h0m1 0h0m5 0h0m18 0h0m-66 1h0m9 0h0m6 0h0m3 0h0m2 0h0m13 0h0m1 0h0m6 0h0m4 0h0m4 0h0m11 0h0m2 0h0m4 0h0m4 0h0m2 0h0m1 0h0m-74 1h0m6 0h0m7 0h0m8 0h0m8 0h0m35 0h0m-64 1h0m6 0h0m4 0h0m3 0h0m1 0h0m1 0h0m1 0h0m6 0h0m4 0h0m11 0h0m2 0h0m18 0h0m13 0h0m2 0h0m-72 1h0m1 0h0m14 0h0m1 0h0m8 0h0m3 0h0m17 0h0m3 0h0m1 0h0m3 0h0m9 0h0m2 0h0m6 0h0m-70 1h0m15 0h0m7 0h0m6 0h0m2 0h0m11 0h0m9 0h0m1 0h0m1 0h0m1 0h0m1 0h0m-43 1h0m5 0h0m2 0h0m2 0h0m9 0h0m12 0h0m8 0h0m5 0h0m1 0h0m6 0h0m1 0h0m-15 1h0m2 0h0m2 0h0m1 0h0m2 0h0m7 0h0m2 0h0m6 0h0m-68 1h0m5 0h0m5 0h0m1 0h0m1 0h0m6 0h0m3 0h0m27 0h0m3 0h0m2 0h0m3 0h0m-54 1h0m8 0h0m3 0h0m5 0h0m4 0h0m25 0h0m5 0h0m1 0h0m2 0h0m7 0h0m6 0h0m-56 1h0m42 0h0m2 0h0m5 0h0m2 0h0m4 0h0m-71 1h0m1 0h0m1 0h0m5 0h0m-5 1h0m4 0h0m54 0h0m6 0h0m3 0h0m1 0h0m1 0h0m3 0h0m1 0h0m-62 1h0m2 0h0m41 0h0m7 0h0m1 0h0m2 1h0m2 0h0m6 0h0m-60 1h0m51 0h0m1 0h0m-2 1h0m-48 2h0m46 0h0"/>
<path fill="none" stroke="#00C094" stroke-width="2.9" stroke-linecap="round" d="M358 540h0m-38 1h0m77 2h0m-131 58h0m3 1h0m9 1h0m1 1h0m2 1h0m1 0h0m12 0h0m-17 1h0m5 0h0m2 0h0m-10 1h0m1 0h0m2 0h0m6 0h0m1 0h0m1 0h0m-9 1h0m1 0h0m6 0h0m-10 1h0m3 0h0m-1 1h0m0 1h0m7 1h0m7 0h0m-14 1h0m9 0h0m1 0h0m4 0h0m-14 1h0m9 0h0m-1 1h0m3 0h0m1 0h0m1 0h0m-23 1h0m7 0h0m2 0h0m8 0h0m5 0h0m2 0h0m-22 1h0m1 0h0m2 0h0m2 1h0m1 0h0m-4 1h0m2 0h0m1 0h0m12 0h0m1 0h0m1 0h0m-13 1h0m1 0h0m-7 1h0m6 0h0m1 0h0m3 0h0m6 0h0m-15 1h0m2 0h0m4 0h0m2 0h0m2 0h0m3 0h0m-13 1h0m1 0h0m2 0h0m2 0h0m1 0h0m3 0h0m4 0h0m1 0h0m-9 1h0m8 0h0m-14 1h0m2 0h0m2 0h0m5 0h0m4 0h0m-13 1h0m15 0h0m2 0h0m-17 1h0m2 0h0m2 0h0m1 0h0m9 0h0m-10 1h0m-1 1h0m1 0h0m-3 2h0m126 16h0m-139 75h0m11 0h0m4 0h0m38 0h0m-41 1h0m-19 1h0m17 0h0m1 0h0m2 0h0m2 0h0m2 0h0m-10 1h0m2 0h0m1 0h0m3 0h0m3 0h0m-18 1h0m8 0h0m4 0h0m2 0h0m5 0h0m-6 1h0m2 0h0m1 0h0m4 0h0m-18 1h0m1 0h0m13 0h0m6 0h0m25 0h0m-48 1h0m14 0h0m1 0h0m-3 1h0m2 0h0m7 0h0m1 0h0m1 0h0m-27 1h0m2 0h0m27 0h0m24 0h0m2 0h0m7 0h0m-59 1h0m9 0h0m4 0h0m1 0h0m3 0h0m7 0h0m11 0h0m2 0h0m17 0h0m-57 1h0m4 0h0m12 0h0m3 0h0m19 0h0m1 0h0m2 0h0m-31 1h0m2 0h0m5 0h0m1 0h0m2 0h0m2 0h0m2 0h0m5 0h0m2 0h0m4 0h0m5 0h0m3 0h0m1 0h0m-45 1h0m6 0h0m5 0h0m1 0h0m1 0h0m1 0h0m4 0h0m9 0h0m14 0h0m2 0h0m2 0h0m17 0h0m1 0h0m-64 1h0m5 0h0m10 0h0m28 0h0m11 0h0m8 0h0m-47 1h0m22 0h0m3 0h0m6 0h0m2 0h0m5 0h0m6 0h0m-52 1h0m20 0h0m15 0h0m1 0h0m2 0h0m12 0h0m1 0h0m1 0h0m3 0h0m3 0h0m-65 1h0m9 0h0m6 0h0m1 0h0m12 0h0m6 0h0m3 0h0m6 0h0m4 0h0m5 0h0m9 0h0m2 0h0m-65 1h0m14 0h0m2 0h0m4 0h0m4 0h0m16 0h0m7 0h0m21 0h0m1 0h0m1 0h0m-71 1h0m10 0h0m6 0h0m10 0h0m12 0h0m3 0h0m5 0h0m20 0h0m5 0h0m2 0h0m5 0h0m-78 1h0m3 0h0m2 0h0m5 0h0m3 0h0m1 0h0m1 0h0m2 0h0m1 0h0m2 0h0m1 0h0m2 0h0m3 0h0m17 0h0m11 0h0m1 0h0m2 0h0m1 0h0m6 0h0m12 0h0m-72 1h0m9 0h0m2 0h0m1 0h0m1 0h0m1 0h0m2 0h0m1 0h0m19 0h0m2 0h0m10 0h0m5 0h0m4 0h0m1 0h0m13 0h0m8 0h0m-84 1h0m7 0h0m3 0h0m8 0h0m1 0h0m1 0h0m1 0h0m1 0h0m1 0h0m2 0h0m10 0h0m8 0h0m16 0h0m4 0h0m1 0h0m1 0h0m10 0h0m-66 1h0m5 0h0m3 0h0m1 0h0m3 0h0m19 0h0m5 0h0m7 0h0m7 0h0m3 0h0m16 0h0m14 0h0m-96 1h0m3 0h0m9 0h0m7 0h0m5 0h0m1 0h0m12 0h0m1 0h0m5 0h0m1 0h0m1 0h0m2 0h0m9 0h0m1 0h0m9 0h0m1 0h0m7 0h0m4 0h0m10 0h0m-86 1h0m17 0h0m1 0h0m1 0h0m23 0h0m3 0h0m2 0h0m8 0h0m1 0h0m7 0h0m4 0h0m2 0h0m6 0h0m1 0h0m9 0h0m4 0h0m-90 1h0m2 0h0m3 0h0m2 0h0m8 0h0m3 0h0m19 0h0m7 0h0m7 0h0m5 0h0m2 0h0m1 0h0m10 0h0m7 0h0m6 0h0m7 0h0m1 0h0m1 0h0m1 0h0m-86 1h0m3 0h0m7 0h0m17 0h0m2 0h0m1 0h0m5 0h0m8 0h0m1 0h0m6 0h0m3 0h0m24 0h0m-81 1h0m5 0h0m4 0h0m19 0h0m2 0h0m10 0h0m2 0h0m11 0h0m2 0h0m10 0h0m1 0h0m8 0h0m5 0h0m2 0h0m1 0h0m-74 1h0m6 0h0m7 0h0m32 0h0m5 0h0m16 0h0m1 0h0m5 0h0m1 0h0m3 0h0m-70 1h0m3 0h0m6 0h0m13 0h0m1 0h0m4 0h0m6 0h0m2 0h0m7 0h0m7 0h0m1 0h0m10 0h0m2 0h0m1 0h0m1 0h0m4 0h0m5 0h0m-68 1h0m2 0h0m1 0h0m8 0h0m1 0h0m2 0h0m5 0h0m2 0h0m15 0h0m5 0h0m5 0h0m1 0h0m8 0h0m4 0h0m-72 1h0m11 0h0m1 0h0m13 0h0m5 0h0m1 0h0m2 0h0m1 0h0m16 0h0m4 0h0m4 0h0m2 0h0m3 0h0m1 0h0m4 0h0m1 0h0m1 0h0m-70 1h0m6 0h0m2 0h0m20 0h0m1 0h0m1 0h0m1 0h0m2 0h0m3 0h0m16 0h0m2 0h0m15 0h0m2 0h0m1 0h0m1 0h0m9 0h0m-83 1h0m1 0h0m31 0h0m1 0h0m9 0h0m11 0h0m1 0h0m2 0h0m5 0h0m7 0h0m2 0h0m4 0h0m-68 1h0m2 0h0m2 0h0m22 0h0m1 0h0m3 0h0m6 0h0m1 0h0m2 0h0m5 0h0m1 0h0m4 0h0m1 0h0m7 0h0m8 0h0m11 0h0m1 0h0m2 0h0m-78 1h0m2 0h0m1 0h0m24 0h0m8 0h0m8 0h0m1 0h0m4 0h0m4 0h0m1 0h0m7 0h0m13 0h0m1 0h0m2 0h0m2 0h0m-77 1h0m3 0h0m42 0h0m6 0h0m2 0h0m3 0h0m2 0h0m14 0h0m2 0h0m1 0h0m4 0h0m-88 1h0m5 0h0m2 0h0m1 0h0m12 0h0m6 0h0m36 0h0m1 0h0m19 0h0m2 0h0m6 0h0m-86 1h0m1 0h0m2 0h0m1 0h0m1 0h0m24 0h0m8 0h0m9 0h0m4 0h0m5 0h0m3 0h0m1 0h0m2 0h0m9 0h0m10 0h0m-72 1h0m7 0h0m1 0h0m2 0h0m1 0h0m2 0h0m8 0h0m18 0h0m10 0h0m1 0h0m1 0h0m3 0h0m-54 1h0m10 0h0m9 0h0m1 0h0m1 0h0m20 0h0m1 0h0m7 0h0m1 0h0m1 0h0m18 0h0m1 0h0m1 0h0m-80 1h0m2 0h0m7 0h0m21 0h0m4 0h0m11 0h0m2 0h0m2 0h0m3 0h0m5 0h0m7 0h0m1 0h0m3 0h0m12 0h0m-80 1h0m17 0h0m7 0h0m15 0h0m1 0h0m1 0h0m5 0h0m1 0h0m2 0h0m1 0h0m10 0h0m2 0h0m5 0h0m2 0h0m2 0h0m6 0h0m2 0h0m-70 1h0m2 0h0m5 0h0m7 0h0m2 0h0m1 0h0m5 0h0m2 0h0m5 0h0m1 0h0m4 0h0m1 0h0m1 0h0m15 0h0m5 0h0m1 0h0m2 0h0m1 0h0m4 0h0m7 0h0m-80 1h0m8 0h0m3 0h0m12 0h0m1 0h0m3 0h0m3 0h0m2 0h0m1 0h0m5 0h0m1 0h0m1 0h0m11 0h0m1 0h0m6 0h0m7 0h0m1 0h0m8 0h0m-63 1h0m3 0h0m18 0h0m1 0h0m7 0h0m5 0h0m5 0h0m7 0h0m6 0h0m-61 1h0m10 0h0m4 0h0m2 0h0m18 0h0m3 0h0m1 0h0m1 0h0m1 0h0m19 0h0m1 0h0m2 0h0m7 0h0m4 0h0m-54 1h0m1 0h0m11 0h0m4 0h0m17 0h0m3 0h0m7 0h0m1 0h0m1 0h0m2 0h0m5 0h0m1 0h0m1 0h0m-62 1h0m2 0h0m6 0h0m4 0h0m2 0h0m4 0h0m2 0h0m3 0h0m26 0h0m5 0h0m1 0h0m2 0h0m1 0h0m1 0h0m2 0h0m13 0h0m-78 1h0m3 0h0m1 0h0m1 0h0m8 0h0m2 0h0m1 0h0m7 0h0m3 0h0m1 0h0m24 0h0m1 0h0m7 0h0m1 0h0m1 0h0m1 0h0m4 0h0m-64 1h0m10 0h0m1 0h0m2 0h0m3 0h0m22 0h0m10 0h0m11 0h0m-55 1h0m3 0h0m2 0h0m9 0h0m2 0h0m5 0h0m22 0h0m9 0h0m1 0h0m3 0h0m1 0h0m3 0h0m-66 1h0m3 0h0m4 0h0m2 0h0m7 0h0m1 0h0m1 0h0m3 0h0m1 0h0m5 0h0m10 0h0m6 0h0m12 0h0m1 0h0m2 0h0m-55 1h0m4 0h0m2 0h0m8 0h0m5 0h0m1 0h0m3 0h0m-24 1h0m6 0h0m12 0h0m2 0h0m4 0h0m13 0h0m19 0h0m-58 1h0m3 0h0m2 0h0m1 0h0m14 0h0m15 0h0m6 0h0m8 0h0m-47 1h0m2 0h0m16 0h0m1 0h0m4 0h0m9 0h0m2 0h0m5 0h0m2 0h0m9 0h0m-27 1h0m3 0h0m4 0h0m1 0h0m2 0h0m1 0h0m1 0h0m1 0h0m2 0h0m3 0h0m3 0h0m5 0h0m-27 1h0m3 0h0m4 0h0m5 0h0m2 0h0m1 0h0m1 0h0m9 0h0m-21 1h0m4 0h0m9 0h0m1 0h0m2 0h0m1 0h0m2 0h0m-20 1h0m1 0h0m3 0h0m2 0h0m1 0h0m1 0h0m2 0h0m7 0h0m1 0h0m4 0h0m1 0h0m-23 1h0m1 0h0m1 0h0m6 0h0m7 0h0m2 0h0m1 0h0m-47 1h0m27 0h0m2 0h0m2 0h0m-2 1h0m-10 1h0m18 0h0m-15 1h0m3 0h0m1 0h0m1 0h0m4 0h0m6 0h0m-16 1h0m5 0h0m4 0h0m1 0h0m10 0h0m5 0h0m-27 1h0m3 0h0m3 0h0m1 0h0m1 0h0m9 0h0m2 0h0m12 0h0m-30 1h0m2 0h0m1 0h0m4 0h0m3 0h0m11 0h0m8 0h0m-31 1h0m4 0h0m14 0h0m4 0h0m3 0h0m1 0h0m7 0h0m1 0h0m-25 1h0m4 0h0m1 0h0m1 0h0m1 0h0m1 0h0m2 0h0m2 0h0m17 0h0m-30 1h0m4 0h0m1 0h0m5 0h0m5 0h0m-10 1h0m1 0h0m1 0h0m11 0h0m6 0h0m3 0h0m-21 1h0m4 0h0m8 0h0m2 0h0m10 0h0m-20 1h0m5 0h0m3 0h0m3 0h0m4 0h0m7 0h0m-33 1h0m1 0h0m5 0h0m2 0h0m1 0h0m3 0h0m7 0h0m11 0h0m-32 1h0m9 0h0m10 0h0m2 0h0m4 0h0m1 0h0m2 0h0m6 0h0m-22 1h0m1 0h0m1 0h0m3 0h0m3 0h0m1 0h0m3 0h0m2 0h0m4 0h0m1 0h0m1 0h0m-31 1h0m16 0h0m7 0h0m10 0h0m-32 1h0m1 0h0m24 0h0m1 0h0m1 0h0m1 0h0m2 0h0m-31 1h0m17 0h0m3 0h0m2 0h0m3 0h0m-22 1h0m1 0h0m10 0h0m3 0h0m3 0h0m9 0h0m2 0h0m1 0h0m-15 1h0m1 0h0m6 0h0m8 0h0m4 0h0m-25 1h0m7 0h0m4 0h0m13 0h0m2 0h0m-23 1h0m3 0h0m3 0h0m3 0h0m2 0h0m4 0h0m1 0h0m2 0h0m1 0h0m3 0h0m3 0h0m-27 1h0m1 0h0m12 0h0m4 0h0m2 0h0m5 0h0m2 0h0m2 0h0m-14 1h0m2 0h0m8 0h0m3 0h0m-26 1h0m11 0h0m2 0h0m12 0h0m1 0h0m-20 1h0m2 0h0m2 0h0m2 0h0m2 0h0m1 0h0m-8 1h0m8 0h0m1 0h0m4 0h0m1 0h0m4 0h0m-17 1h0m5 0h0m5 0h0m1 0h0m4 0h0m6 0h0m1 0h0m-20 1h0m3 0h0m2 0h0m2 0h0m7 0h0m1 0h0m4 0h0m-21 1h0m22 0h0m-23 1h0m7 0h0m4 0h0m12 0h0m-13 1h0m2 0h0m-12 1h0m1 0h0m17 0h0m-18 1h0m1 0h0m1 0h0m4 0h0m-7 1h0m2 0h0m1 0h0m1 0h0m12 0h0m1 0h0m-16 1h0m5 0h0m10 0h0m1 0h0m1 0h0m2 0h0m-23 1h0m4 0h0m2 0h0m1 0h0m1 0h0m6 0h0m3 0h0m3 0h0m-19 1h0m4 0h0m1 0h0m2 0h0m8 0h0m1 0h0m1 0h0m2 0h0m-2 1h0m1 0h0m1 0h0m-17 1h0m1 0h0m11 0h0m4 0h0m4 0h0m-22 1h0m2 0h0m13 0h0m3 0h0m3 0h0m-23 1h0m5 0h0m3 0h0m6 0h0m1 0h0m3 0h0m-14 1h0m2 0h0m1 0h0m8 0h0m3 0h0m2 0h0m4 0h0m1 0h0m1 0h0m-11 1h0m5 0h0m6 0h0m-12 1h0m1 0h0m1 0h0m2 0h0m-5 1h0m5 0h0m-8 1h0m9 0h0m1 0h0m-9 1h0m2 0h0m1 0h0m1 1h0"/>
<path fill="none" stroke="#00BFC4" stroke-width="2.9" stroke-linecap="round" d="M268 561h0m135 32h0m-61 10h0m128 7h0m-172 43h0m149 10h0m-1 4h0m6 0h0m3 0h0m-10 1h0m2 0h0m1 0h0m6 0h0m-17 1h0m1 0h0m1 0h0m17 0h0m-6 1h0m7 0h0m-3 1h0m-3 1h0m1 0h0m15 0h0m-26 1h0m1 0h0m1 0h0m7 0h0m2 0h0m3 0h0m2 0h0m11 0h0m1 0h0m-26 1h0m1 0h0m5 0h0m3 0h0m3 0h0m5 0h0m-15 1h0m10 0h0m1 0h0m5 0h0m-20 1h0m2 0h0m9 0h0m1 0h0m4 0h0m2 0h0m1 0h0m5 0h0m-25 1h0m2 0h0m3 0h0m5 0h0m2 0h0m2 0h0m2 0h0m1 0h0m2 0h0m-13 1h0m4 0h0m4 0h0m3 0h0m-17 1h0m5 0h0m3 0h0m2 0h0m4 0h0m-8 1h0m1 0h0m2 0h0m6 0h0m1 0h0m1 0h0m1 0h0m-20 1h0m9 0h0m9 0h0m4 0h0m-22 1h0m5 0h0m3 0h0m2 0h0m-12 1h0m14 0h0m1 0h0m1 0h0m1 0h0m2 0h0m2 0h0m-19 1h0m12 0h0m5 0h0m1 0h0m-17 1h0m20 0h0m-18 1h0m3 0h0m1 0h0m14 0h0m1 0h0m-20 1h0m1 0h0m2 0h0m6 0h0m1 0h0m5 0h0m1 0h0m10 0h0m-54 1h0m32 0h0m3 0h0m5 0h0m3 0h0m3 0h0m1 0h0m5 0h0m1 0h0m2 0h0m-55 1h0m29 0h0m1 0h0m4 0h0m6 0h0m3 0h0m1 0h0m11 0h0m1 0h0m-49 1h0m1 0h0m1 0h0m22 0h0m2 0h0m3 0h0m4 0h0m1 0h0m9 0h0m-48 1h0m12 0h0m18 0h0m11 0h0m4 0h0m1 0h0m1 0h0m10 0h0m-58 1h0m6 0h0m3 0h0m37 0h0m1 0h0m9 0h0m2 0h0m-58 1h0m13 0h0m-7 1h0m6 0h0m6 0h0m22 0h0m4 0h0m1 0h0m1 0h0m7 0h0m-55 1h0m10 0h0m10 0h0m23 0h0m4 0h0m6 0h0m2 0h0m2 0h0m-56 1h0m8 0h0m4 0h0m30 0h0m1 0h0m14 0h0m2 0h0m-52 1h0m8 0h0m2 0h0m5 0h0m36 0h0m-53 1h0m14 0h0m2 0h0m29 0h0m2 0h0m6 0h0m-40 1h0m11 0h0m2 0h0m1 0h0m10 0h0m12 0h0m-41 1h0m1 0h0m3 0h0m14 0h0m26 0h0m-59 1h0m6 0h0m3 0h0m9 0h0m3 0h0m15 0h0m2 0h0m-30 1h0m3 0h0m8 0h0m1 0h0m14 0h0m1 0h0m2 0h0m-37 1h0m19 0h0m3 0h0m9 0h0m1 0h0m1 0h0m1 0h0m1 0h0m1 0h0m1 0h0m1 0h0m16 0h0m10 0h0m-61 1h0m14 0h0m1 0h0m3 0h0m3 0h0m8 0h0m1 0h0m2 0h0m24 0h0m1 0h0m3 0h0m1 0h0m1 0h0m-63 1h0m15 0h0m2 0h0m1 0h0m1 0h0m4 0h0m4 0h0m1 0h0m1 0h0m3 0h0m26 0h0m2 0h0m-60 1h0m1 0h0m12 0h0m2 0h0m1 0h0m1 0h0m2 0h0m2 0h0m1 0h0m9 0h0m6 0h0m24 0h0m2 0h0m-62 1h0m17 0h0m13 0h0m3 0h0m27 0h0m-68 1h0m11 0h0m1 0h0m1 0h0m2 0h0m8 0h0m6 0h0m5 0h0m26 0h0m11 0h0m-61 1h0m1 0h0m7 0h0m3 0h0m1 0h0m43 0h0m4 0h0m-57 1h0m1 0h0m8 0h0m28 0h0m10 0h0m4 0h0m-52 1h0m9 0h0m4 0h0m1 0h0m1 0h0m10 0h0m1 0h0m1 0h0m1 0h0m3 0h0m23 0h0m-40 1h0m11 0h0m4 0h0m1 0h0m-56 1h0m5 0h0m34 0h0m10 0h0m-27 1h0m13 0h0m8 0h0m12 0h0m24 0h0m-53 1h0m16 0h0m8 0h0m2 0h0m25 0h0m-54 1h0m32 0h0m4 0h0m-53 1h0m24 0h0m1 0h0m1 0h0m10 0h0m9 0h0m4 0h0m2 0h0m-49 1h0m19 0h0m3 0h0m2 0h0m1 0h0m6 0h0m2 0h0m1 0h0m7 0h0m3 0h0m5 0h0m-49 1h0m2 0h0m2 0h0m1 0h0m10 0h0m2 0h0m2 0h0m7 0h0m1 0h0m4 0h0m1 0h0m3 0h0m2 0h0m5 0h0m1 0h0m2 0h0m1 0h0m-50 1h0m3 0h0m5 0h0m1 0h0m1 0h0m8 0h0m4 0h0m3 0h0m2 0h0m1 0h0m3 0h0m2 0h0m4 0h0m4 0h0m11 0h0m2 0h0m1 0h0m-56 1h0m4 0h0m1 0h0m3 0h0m11 0h0m5 0h0m6 0h0m1 0h0m1 0h0m4 0h0m5 0h0m7 0h0m4 0h0m4 0h0m3 0h0m-66 1h0m7 0h0m3 0h0m21 0h0m3 0h0m1 0h0m7 0h0m3 0h0m15 0h0m2 0h0m6 0h0m-65 1h0m1 0h0m1 0h0m2 0h0m5 0h0m2 0h0m19 0h0m1 0h0m2 0h0m18 0h0m14 0h0m1 0h0m-67 1h0m1 0h0m5 0h0m2 0h0m13 0h0m2 0h0m8 0h0m2 0h0m5 0h0m2 0h0m7 0h0m-46 1h0m7 0h0m17 0h0m3 0h0m14 0h0m13 0h0m3 0h0m2 0h0m6 0h0m1 0h0m1 0h0m-46 1h0m8 0h0m10 0h0m4 0h0m14 0h0m-65 1h0m20 0h0m15 0h0m1 0h0m11 0h0m2 0h0m3 0h0m5 0h0m4 0h0m-41 1h0m2 0h0m5 0h0m2 0h0m5 0h0m13 0h0m3 0h0m-52 1h0m21 0h0m2 0h0m8 0h0m4 0h0m1 0h0m13 0h0m1 0h0m1 0h0m2 0h0m13 0h0m1 0h0m2 0h0m-59 1h0m24 0h0m15 0h0m3 0h0m2 0h0m1 0h0m6 0h0m10 0h0m1 0h0m1 0h0m-58 1h0m4 0h0m1 0h0m1 0h0m2 0h0m1 0h0m6 0h0m14 0h0m19 0h0m2 0h0m2 0h0m5 0h0m4 0h0m-65 1h0m9 0h0m10 0h0m14 0h0m1 0h0m2 0h0m12 0h0m1 0h0m1 0h0m8 0h0m3 0h0m3 0h0m1 0h0m-69 1h0m6 0h0m10 0h0m2 0h0m18 0h0m2 0h0m2 0h0m1 0h0m2 0h0m7 0h0m7 0h0m1 0h0m2 0h0m-61 1h0m5 0h0m3 0h0m9 0h0m1 0h0m2 0h0m1 0h0m2 0h0m3 0h0m16 0h0m2 0h0m8 0h0m13 0h0m4 0h0m1 0h0m-54 1h0m1 0h0m1 0h0m1 0h0m3 0h0m2 0h0m2 0h0m6 0h0m1 0h0m3 0h0m3 0h0m4 0h0m8 0h0m10 0h0m1 0h0m4 0h0m1 0h0m-65 1h0m2 0h0m21 0h0m4 0h0m3 0h0m4 0h0m7 0h0m2 0h0m2 0h0m1 0h0m2 0h0m16 0h0m-47 1h0m5 0h0m3 0h0m2 0h0m1 0h0m19 0h0m5 0h0m6 0h0m1 0h0m1 0h0m-50 1h0m7 0h0m6 0h0m4 0h0m2 0h0m11 0h0m12 0h0m7 0h0m7 0h0m-67 1h0m9 0h0m11 0h0m3 0h0m12 0h0m6 0h0m4 0h0m9 0h0m6 0h0m3 0h0m-61 1h0m5 0h0m3 0h0m11 0h0m2 0h0m10 0h0m5 0h0m4 0h0m8 0h0m4 0h0m5 0h0m-56 1h0m3 0h0m7 0h0m2 0h0m2 0h0m1 0h0m5 0h0m2 0h0m6 0h0m3 0h0m21 0h0m-54 1h0m3 0h0m2 0h0m2 0h0m7 0h0m7 0h0m5 0h0m2 0h0m2 0h0m3 0h0m1 0h0m1 0h0m18 0h0m1 0h0m2 0h0m1 0h0m-51 1h0m1 0h0m3 0h0m1 0h0m1 0h0m2 0h0m3 0h0m3 0h0m12 0h0m16 0h0m7 0h0m1 0h0m1 0h0m1 0h0m2 0h0m3 0h0m-59 1h0m2 0h0m9 0h0m1 0h0m14 0h0m1 0h0m3 0h0m21 0h0m3 0h0m1 0h0m1 0h0m3 0h0m-63 1h0m7 0h0m4 0h0m2 0h0m2 0h0m1 0h0m15 0h0m4 0h0m24 0h0m1 0h0m1 0h0m-62 1h0m1 0h0m10 0h0m19 0h0m1 0h0m3 0h0m1 0h0m24 0h0m4 0h0m7 0h0m-64 1h0m4 0h0m6 0h0m1 0h0m1 0h0m1 0h0m4 0h0m8 0h0m2 0h0m1 0h0m2 0h0m1 0h0m12 0h0m2 0h0m7 0h0m2 0h0m2 0h0m5 0h0m2 0h0m-56 1h0m1 0h0m2 0h0m1 0h0m10 0h0m4 0h0m14 0h0m3 0h0m3 0h0m8 0h0m5 0h0m6 0h0m-56 1h0m1 0h0m1 0h0m1 0h0m3 0h0m1 0h0m11 0h0m1 0h0m5 0h0m7 0h0m12 0h0m3 0h0m1 0h0m1 0h0m2 0h0m-57 1h0m7 0h0m1 0h0m5 0h0m3 0h0m4 0h0m5 0h0m7 0h0m2 0h0m2 0h0m11 0h0m4 0h0m1 0h0m1 0h0m6 0h0m3 0h0m-63 1h0m7 0h0m2 0h0m6 0h0m2 0h0m7 0h0m3 0h0m11 0h0m12 0h0m2 0h0m1 0h0m1 0h0m7 0h0m1 0h0m1 0h0m-58 1h0m15 0h0m4 0h0m12 0h0m1 0h0m1 0h0m3 0h0m11 0h0m-50 1h0m15 0h0m4 0h0m8 0h0m4 0h0m2 0h0m3 0h0m8 0h0m5 0h0m3 0h0m-41 1h0m13 0h0m1 0h0m4 0h0m2 0h0m2 0h0m5 0h0m2 0h0m8 0h0m2 0h0m4 0h0m2 0h0m8 0h0m-57 1h0m12 0h0m12 0h0m1 0h0m6 0h0m9 0h0m6 0h0m6 0h0m2 0h0m-41 1h0m15 0h0m6 0h0m5 0h0m1 0h0m2 0h0m10 0h0m-30 1h0m4 0h0m1 0h0m9 0h0m4 0h0m4 0h0m9 0h0m11 0h0m-72 1h0m26 0h0m4 0h0m4 0h0m5 0h0m11 0h0m3 0h0m2 0h0m6 0h0m-57 1h0m11 0h0m1 0h0m12 0h0m13 0h0m6 0h0m1 0h0m2 0h0m5 0h0m-25 1h0m2 0h0m10 0h0m2 0h0m9 0h0m2 0h0m2 0h0m13 0h0m-65 1h0m8 0h0m5 0h0m4 0h0m19 0h0m1 0h0m2 0h0m7 0h0m1 0h0m12 0h0m1 0h0m-62 1h0m9 0h0m9 0h0m31 0h0m-55 1h0m8 0h0m1 0h0m14 0h0m1 0h0m50 0h0m-65 1h0m5 0h0m3 0h0m3 0h0m4 0h0m1 0h0m1 0h0m49 0h0m-69 1h0m1 0h0m1 0h0m3 0h0m1 0h0m7 0h0m5 0h0m1 0h0m52 0h0m-71 1h0m2 0h0m7 0h0m8 0h0m1 0h0m34 0h0m13 0h0m1 0h0m-67 1h0m4 0h0m5 0h0m1 0h0m8 0h0m48 0h0m1 0h0m-65 1h0m7 0h0m17 0h0m4 0h0m1 0h0m-21 1h0m1 0h0m15 0h0m6 0h0m33 0h0m-61 1h0m4 0h0m23 0h0m30 0h0m-52 1h0m2 0h0m10 0h0m2 0h0m3 0h0m5 0h0m28 0h0m2 0h0m1 0h0m3 0h0m1 0h0m-64 1h0m6 0h0m2 0h0m2 0h0m12 0h0m3 0h0m1 0h0m5 0h0m28 0h0m2 0h0m3 0h0m2 0h0m-63 1h0m2 0h0m3 0h0m11 0h0m2 0h0m1 0h0m4 0h0m1 0h0m1 0h0m4 0h0m21 0h0m3 0h0m1 0h0m5 0h0m2 0h0m-62 1h0m2 0h0m2 0h0m2 0h0m16 0h0m1 0h0m1 0h0m6 0h0m21 0h0m7 0h0m1 0h0m7 0h0m-69 1h0m1 0h0m1 0h0m2 0h0m12 0h0m2 0h0m2 0h0m6 0h0m27 0h0m1 0h0m8 0h0m-62 1h0m1 0h0m3 0h0m1 0h0m15 0h0m2 0h0m1 0h0m37 0h0m-61 1h0m1 0h0m3 0h0m19 0h0m3 0h0m33 0h0m5 0h0m-45 1h0m17 0h0m19 0h0m6 0h0m-62 1h0m17 0h0m2 0h0m3 0h0m4 0h0m1 0h0m7 0h0m3 0h0m1 0h0m24 0h0m3 0h0m-43 1h0m2 0h0m1 0h0m10 0h0m1 0h0m4 0h0m23 0h0m13 0h0m-69 1h0m1 0h0m1 0h0m1 0h0m10 0h0m6 0h0m8 0h0m30 0h0m11 0h0m-72 1h0m22 0h0m3 0h0m5 0h0m1 0h0m1 0h0m29 0h0m7 0h0m5 0h0m2 0h0m-78 1h0m3 0h0m9 0h0m8 0h0m2 0h0m2 0h0m11 0h0m-34 1h0m13 0h0m3 0h0m6 0h0m9 0h0m1 0h0m2 0h0m40 0h0m-67 1h0m1 0h0m5 0h0m2 0h0m5 0h0m10 0h0m1 0h0m25 0h0m-53 1h0m1 0h0m2 0h0m3 0h0m8 0h0m3 0h0m1 0h0m5 0h0m31 0h0m-62 1h0m8 0h0m4 0h0m5 0h0m8 0h0m1 0h0m-21 1h0m1 0h0m5 0h0m2 0h0m1 0h0m1 0h0m4 0h0m3 0h0m1 0h0m1 0h0m6 0h0m1 0h0m-28 1h0m5 0h0m1 0h0m4 0h0m20 0h0m1 0h0m-35 1h0m3 0h0m5 0h0m4 0h0m6 0h0m1 0h0m5 0h0m11 0h0m2 0h0m-34 1h0m10 0h0m1 0h0m5 0h0m18 0h0m-24 1h0m4 0h0m3 0h0m2 0h0m17 0h0m1 0h0m-32 1h0m4 0h0m12 0h0m15 0h0m2 0h0m-30 1h0m4 0h0m9 0h0m6 0h0m7 0h0m2 0h0m1 0h0m-16 1h0m6 0h0m-12 1h0m5 0h0m2 0h0m6 0h0m1 0h0m2 0h0m1 0h0m1 0h0m2 0h0m-17 1h0m1 0h0m2 0h0m3 0h0m5 0h0m3 0h0m4 0h0m1 0h0m4 0h0m-18 1h0m1 0h0m5 0h0m6 0h0m3 0h0m-27 1h0m12 0h0m1 0h0m11 0h0m2 0h0m-28 1h0m11 0h0m2 0h0m6 0h0m-24 1h0m22 0h0m2 0h0m-19 1h0m-1 1h0m6 0h0m6 0h0m-12 2h0m1 0h0m0 1h0m3 0h0m-1 1h0"/>
<path fill="none" stroke="#00B6EB" stroke-width="2.9" stroke-linecap="round" d="M506 723h0m-6 1h0m2 0h0m5 0h0m-12 1h0m3 0h0m2 0h0m1 0h0m6 0h0m1 0h0m-12 1h0m5 0h0m4 0h0m-25 1h0m1 0h0m1 0h0m25 0h0m2 0h0m-26 1h0m7 0h0m3 0h0m9 0h0m7 0h0m-29 1h0m11 0h0m1 0h0m1 0h0m8 0h0m-20 1h0m7 0h0m7 0h0m15 0h0m-30 1h0m4 0h0m4 0h0m6 0h0m6 0h0m-17 1h0m3 0h0m4 0h0m1 0h0m1 0h0m1 0h0m1 0h0m1 0h0m2 0h0m1 0h0m4 0h0m3 0h0m-22 1h0m1 0h0m2 0h0m2 0h0m6 0h0m4 0h0m1 0h0m3 0h0m1 0h0m-20 1h0m1 0h0m3 0h0m10 0h0m1 0h0m-8 1h0m3 0h0m1 0h0m1 0h0m-13 1h0m6 0h0m3 0h0m5 0h0m1 0h0m1 0h0m1 0h0m1 0h0m8 0h0m-23 1h0m6 0h0m2 0h0m2 0h0m3 0h0m1 0h0m7 0h0m5 0h0m-28 1h0m1 0h0m10 0h0m5 0h0m1 0h0m10 0h0m-18 1h0m2 0h0m1 0h0m1 0h0m2 0h0m1 0h0m-7 1h0m3 0h0m2 0h0m3 0h0m1 0h0m1 0h0m5 0h0m1 0h0m5 0h0m-19 1h0m7 0h0m2 0h0m5 0h0m1 0h0m1 0h0m4 0h0m-29 1h0m5 0h0m6 0h0m3 0h0m2 0h0m5 0h0m1 0h0m5 0h0m2 0h0m-29 1h0m15 0h0m3 0h0m2 0h0m2 0h0m2 0h0m-28 1h0m1 0h0m4 0h0m1 0h0m8 0h0m2 0h0m5 0h0m2 0h0m4 0h0m-26 1h0m6 0h0m7 0h0m2 0h0m8 0h0m1 0h0m2 0h0m1 0h0m2 0h0m-24 1h0m18 0h0m4 0h0m-24 1h0m3 0h0m7 0h0m7 0h0m1 0h0m3 0h0m3 0h0m2 0h0m-26 1h0m4 0h0m2 0h0m1 0h0m3 0h0m7 0h0m1 0h0m4 0h0m4 0h0m-17 1h0m8 0h0m1 0h0m9 0h0m-26 1h0m3 0h0m2 0h0m1 0h0m1 0h0m2 0h0m6 0h0m10 0h0m3 0h0m-61 1h0m31 0h0m3 0h0m2 0h0m3 0h0m1 0h0m4 0h0m3 0h0m10 0h0m-31 1h0m18 0h0m3 0h0m-16 1h0m4 0h0m2 0h0m5 0h0m1 0h0m18 0h0m-24 1h0m4 0h0m5 0h0m1 0h0m-13 1h0m6 0h0m2 0h0m2 0h0m2 0h0m13 0h0m-26 1h0m3 0h0m6 0h0m1 0h0m17 0h0m-31 1h0m3 0h0m13 0h0m8 0h0m-19 1h0m8 0h0m13 0h0m1 0h0m-21 1h0m9 0h0m1 0h0m9 0h0m1 0h0m4 0h0m2 0h0m-27 1h0m9 0h0m1 0h0m1 0h0m3 0h0m6 0h0m2 0h0m1 0h0m3 0h0m-39 1h0m5 0h0m4 0h0m3 0h0m1 0h0m1 0h0m8 0h0m18 0h0m-34 1h0m2 0h0m1 0h0m4 0h0m1 0h0m1 0h0m1 0h0m1 0h0m4 0h0m14 0h0m-32 1h0m3 0h0m11 0h0m6 0h0m-18 1h0m20 0h0m3 0h0m1 0h0m9 0h0m-34 1h0m1 0h0m1 0h0m1 0h0m11 0h0m2 0h0m7 0h0m-20 1h0m1 0h0m1 0h0m3 0h0m1 0h0m2 0h0m2 0h0m5 0h0m5 0h0m1 0h0m-53 1h0m35 0h0m4 0h0m3 0h0m7 0h0m2 0h0m1 0h0m1 0h0m5 0h0m4 0h0m1 0h0m-28 1h0m1 0h0m4 0h0m1 0h0m1 0h0m3 0h0m2 0h0m5 0h0m1 0h0m1 0h0m4 0h0m4 0h0m1 0h0m-31 1h0m1 0h0m6 0h0m3 0h0m1 0h0m12 0h0m6 0h0m1 0h0m2 0h0m-47 1h0m20 0h0m18 0h0m3 0h0m1 0h0m2 0h0m-52 1h0m1 0h0m15 0h0m18 0h0m10 0h0m3 0h0m2 0h0m5 0h0m10 0h0m-61 1h0m12 0h0m25 0h0m6 0h0m1 0h0m4 0h0m2 0h0m1 0h0m-46 1h0m10 0h0m1 0h0m6 0h0m15 0h0m4 0h0m1 0h0m10 0h0m-51 1h0m2 0h0m4 0h0m1 0h0m4 0h0m2 0h0m8 0h0m5 0h0m11 0h0m6 0h0m1 0h0m8 0h0m-42 1h0m1 0h0m1 0h0m10 0h0m2 0h0m21 0h0m5 0h0m3 0h0m-42 1h0m1 0h0m1 0h0m8 0h0m2 0h0m1 0h0m23 0h0m2 0h0m3 0h0m-41 1h0m2 0h0m7 0h0m2 0h0m1 0h0m1 0h0m1 0h0m1 0h0m1 0h0m22 0h0m-38 1h0m9 0h0m3 0h0m2 0h0m2 0h0m19 0h0m2 0h0m4 0h0m-56 1h0m15 0h0m2 0h0m1 0h0m8 0h0m5 0h0m1 0h0m2 0h0m-17 1h0m1 0h0m6 0h0m2 0h0m2 0h0m1 0h0m4 0h0m18 0h0m1 0h0m-28 1h0m1 0h0m1 0h0m5 0h0m2 0h0m6 0h0m1 0h0m3 0h0m1 0h0m-36 1h0m6 0h0m2 0h0m2 0h0m4 0h0m1 0h0m3 0h0m1 0h0m1 0h0m6 0h0m4 0h0m4 0h0m1 0h0m1 0h0m-29 1h0m4 0h0m1 0h0m5 0h0m7 0h0m4 0h0m2 0h0m2 0h0m3 0h0m-35 1h0m13 0h0m1 0h0m18 0h0m2 0h0m1 0h0m-36 1h0m7 0h0m4 0h0m1 0h0m2 0h0m1 0h0m5 0h0m8 0h0m2 0h0m1 0h0m5 0h0m-36 1h0m6 0h0m3 0h0m1 0h0m1 0h0m2 0h0m1 0h0m1 0h0m3 0h0m1 0h0m1 0h0m1 0h0m9 0h0m-31 1h0m1 0h0m1 0h0m3 0h0m9 0h0m2 0h0m2 0h0m1 0h0m5 0h0m12 0h0m2 0h0m-25 1h0m1 0h0m5 0h0m6 0h0m13 0h0m-33 1h0m11 0h0m1 0h0m1 0h0m2 0h0m1 0h0m2 0h0m1 0h0m3 0h0m-7 1h0m2 0h0m2 0h0m1 0h0m-9 1h0m6 0h0m1 0h0m1 0h0m2 0h0m17 0h0m-26 1h0m2 0h0m3 0h0m1 0h0m1 0h0m3 0h0m-12 1h0m1 0h0m2 0h0m1 0h0m7 0h0m-12 1h0m3 0h0m11 0h0m-16 1h0m14 0h0m6 0h0m1 0h0m-21 1h0m12 0h0m5 0h0m2 0h0m1 0h0m1 0h0m1 0h0m-14 1h0m8 0h0"/>
<path fill="none" stroke="#06A4FF" stroke-width="2.9" stroke-linecap="round" d="M414 568h0m11 14h0m-54 123h0m96 11h0m-96 10h0m-146 103h0m-1 1h0m6 0h0m2 0h0m-6 1h0m4 0h0m-6 1h0m1 0h0m1 0h0m1 0h0m-6 1h0m1 0h0m4 0h0m1 0h0m3 0h0m-10 1h0m9 0h0m-3 1h0m1 0h0m-4 1h0m1 0h0m11 0h0m-16 1h0m3 0h0m9 0h0m5 0h0m1 1h0m-6 1h0m6 0h0m12 0h0m-13 1h0m9 0h0m5 0h0m-2 1h0m1 0h0m-5 1h0m5 0h0m-5 1h0m2 0h0m2 0h0m-8 1h0m2 0h0m3 0h0m1 0h0m2 0h0m-23 1h0m13 0h0m1 0h0m5 0h0m12 0h0m-15 1h0m1 0h0m1 0h0m2 0h0m4 0h0m5 0h0m-13 1h0m1 0h0m4 0h0m2 0h0m3 0h0m1 0h0m2 0h0m1 0h0m-21 1h0m9 0h0m2 0h0m6 0h0m1 0h0m22 0h0m-35 1h0m1 0h0m13 0h0m6 0h0m1 0h0m-24 1h0m7 0h0m9 0h0m9 0h0m-29 1h0m7 0h0m1 0h0m2 0h0m7 0h0m2 0h0m-15 1h0m3 0h0m1 0h0m1 0h0m8 0h0m4 0h0m-22 1h0m2 0h0m5 0h0m2 0h0m1 0h0m12 0h0m-17 1h0m2 0h0m14 0h0m1 0h0m-20 1h0m7 0h0m9 0h0m2 0h0m13 0h0m3 0h0m-32 1h0m4 0h0m3 0h0m5 0h0m4 0h0m2 0h0m7 0h0m-19 1h0m1 0h0m20 0h0m-28 1h0m15 0h0m13 0h0m2 0h0m-21 1h0m5 0h0m5 0h0m3 0h0m-7 1h0m3 0h0m20 0h0m-23 1h0m1 0h0m17 0h0m-25 1h0m5 0h0m1 0h0m1 0h0m6 0h0m18 0h0m4 0h0m-37 1h0m1 0h0m2 0h0m1 0h0m3 0h0m3 0h0m4 0h0m7 0h0m1 0h0m4 0h0m7 0h0m1 0h0m-29 1h0m4 0h0m4 0h0m1 0h0m13 0h0m-28 1h0m3 0h0m1 0h0m2 0h0m1 0h0m6 0h0m11 0h0m1 0h0m3 0h0m1 0h0m-27 1h0m8 0h0m1 0h0m9 0h0m1 0h0m1 0h0m2 0h0m1 0h0m1 0h0m1 0h0m5 0h0m1 0h0m-30 1h0m2 0h0m14 0h0m1 0h0m1 0h0m4 0h0m1 0h0m1 0h0m1 0h0m3 0h0m-25 1h0m1 0h0m15 0h0m1 0h0m1 0h0m1 0h0m1 0h0m5 0h0m-25 1h0m1 0h0m19 0h0m3 0h0m4 0h0m1 0h0m1 0h0m-29 1h0m6 0h0m3 0h0m8 0h0m1 0h0m2 0h0m2 0h0m2 0h0m2 0h0m-26 1h0m11 0h0m9 0h0m1 0h0m1 0h0m2 0h0m3 0h0m1 0h0m-27 1h0m6 0h0m1 0h0m4 0h0m4 0h0m1 0h0m3 0h0m1 0h0m1 0h0m1 0h0m3 0h0m1 0h0m1 0h0m2 0h0m-25 1h0m4 0h0m9 0h0m1 0h0m2 0h0m3 0h0m2 0h0m-24 1h0m12 0h0m2 0h0m6 0h0m7 0h0m-26 1h0m15 0h0m7 0h0m3 0h0m-15 1h0m2 0h0m7 0h0m3 0h0m3 0h0m-24 1h0m2 0h0m9 0h0m11 0h0m-24 1h0m1 0h0m12 0h0m2 0h0m-14 1h0m4 0h0m1 0h0m8 0h0m1 0h0m2 0h0m5 0h0m11 0h0m-31 1h0m2 0h0m2 0h0m1 0h0m9 0h0m1 0h0m8 0h0m-26 1h0m2 0h0m9 0h0m3 0h0m1 0h0m5 0h0m2 0h0m6 0h0m8 0h0m-33 1h0m9 0h0m3 0h0m3 0h0m-8 1h0m3 0h0m2 0h0m8 0h0m3 0h0m3 0h0m1 0h0m-26 1h0m13 0h0m1 0h0m3 0h0m11 0h0m-18 1h0m11 0h0m2 0h0m-5 1h0m3 0h0m3 0h0m1 0h0m-19 1h0m9 0h0m1 0h0m1 0h0m2 0h0m1 0h0m3 0h0m-10 1h0m3 0h0m6 0h0m-14 1h0m7 0h0m2 0h0m1 0h0m-3 1h0m4 0h0m2 0h0m-8 1h0m3 0h0m5 0h0m1 0h0m-2 1h0m7 2h0m2 0h0m-13 1h0m10 0h0m-9 2h0m9 0h0m1 0h0m1 0h0m-9 1h0m7 0h0m-7 1h0m5 0h0m3 0h0m-4 1h0m0 1h0m0 1h0m1 1h0m1 0h0m-1 4h0"/>
<path fill="none" stroke="#A58AFF" stroke-width="2.9" stroke-linecap="round" d="M468 536h0m-69 54h0m1 18h0m-40 58h0m-63 22h0m11 93h0m11 3h0m-3 4h0m3 0h0m3 0h0m3 0h0m-3 1h0m-8 1h0m5 0h0m1 0h0m1 0h0m2 0h0m-1 1h0m-6 1h0m2 0h0m1 0h0m-2 1h0m6 0h0m5 0h0m-20 1h0m3 1h0m12 1h0m1 0h0m-8 2h0m111 16h0m0 1h0m3 0h0m-7 1h0m6 0h0m-24 1h0m16 0h0m3 0h0m3 0h0m-8 1h0m3 0h0m2 0h0m-24 1h0m18 0h0m4 0h0m3 0h0m-25 1h0m3 0h0m1 0h0m19 0h0m1 0h0m2 0h0m-25 1h0m1 0h0m22 0h0m-29 1h0m9 0h0m1 0h0m11 0h0m2 0h0m2 0h0m2 0h0m5 0h0m-31 1h0m1 0h0m1 0h0m1 0h0m1 0h0m3 0h0m11 0h0m5 0h0m2 0h0m6 0h0m-27 1h0m4 0h0m1 0h0m1 0h0m2 0h0m8 0h0m2 0h0m1 0h0m-27 1h0m9 0h0m4 0h0m1 0h0m3 0h0m12 0h0m5 0h0m36 0h0m-81 1h0m21 0h0m1 0h0m8 0h0m9 0h0m-17 1h0m8 0h0m15 0h0m-24 1h0m3 0h0m8 0h0m1 0h0m1 0h0m1 0h0m12 0h0m39 0h0m-75 1h0m1 0h0m1 0h0m16 0h0m2 0h0m4 0h0m2 0h0m7 0h0m1 0h0m-35 1h0m1 0h0m6 0h0m1 0h0m14 0h0m1 0h0m3 0h0m3 0h0m36 0h0m8 0h0m-72 1h0m1 0h0m5 0h0m1 0h0m8 0h0m5 0h0m8 0h0m11 0h0m26 0h0m7 0h0m-74 1h0m1 0h0m2 0h0m2 0h0m5 0h0m9 0h0m7 0h0m1 0h0m1 0h0m4 0h0m1 0h0m7 0h0m25 0h0m4 0h0m3 0h0m1 0h0m-73 1h0m17 0h0m1 0h0m9 0h0m5 0h0m1 0h0m33 0h0m2 0h0m2 0h0m-72 1h0m23 0h0m20 0h0m1 0h0m33 0h0m-75 1h0m2 0h0m28 0h0m1 0h0m31 0h0m3 0h0m3 0h0m2 0h0m-67 1h0m10 1h0m51 0h0m3 0h0m2 0h0m9 0h0m-69 1h0m69 0h0m-15 1h0m1 0h0m1 0h0m16 0h0m-19 1h0m5 0h0m9 0h0m2 0h0m-22 1h0m5 0h0m1 0h0m7 0h0m5 0h0m5 0h0m-19 1h0m2 0h0m1 0h0m2 0h0m3 0h0m6 0h0m-19 1h0m7 0h0m1 0h0m3 0h0m1 0h0m-12 1h0m11 0h0m-10 1h0m8 0h0m8 0h0m1 0h0m2 0h0m4 0h0m-20 1h0m12 0h0m3 0h0m-22 1h0m5 0h0m9 0h0m7 0h0m1 0h0m-25 1h0m3 0h0m0 1h0m7 0h0m8 0h0m-16 1h0m19 0h0m-19 1h0m15 0h0m0 2h0"/>
<path fill="none" stroke="#DF70F8" stroke-width="2.9" stroke-linecap="round" d="M389 631h0m166 41h0m6 1h0m4 0h0m-4 1h0m2 0h0m3 0h0m2 0h0m-5 1h0m5 0h0m-7 1h0m9 1h0m3 0h0m-11 1h0m2 1h0m3 0h0m3 0h0m-9 1h0m4 0h0m1 0h0m-7 1h0m5 0h0m6 0h0m1 0h0m-13 1h0m7 0h0m1 0h0m3 0h0m3 0h0m-6 1h0m2 0h0m11 0h0m-304 1h0m296 0h0m-275 1h0m269 0h0m2 0h0m3 0h0m-9 1h0m9 0h0m-7 1h0m3 0h0m2 0h0m13 0h0m-17 1h0m1 0h0m3 0h0m1 0h0m5 0h0m4 0h0m-19 1h0m5 0h0m2 0h0m1 0h0m-8 1h0m2 0h0m4 0h0m2 0h0m7 0h0m-9 1h0m4 0h0m4 0h0m6 0h0m-20 1h0m4 0h0m2 0h0m5 0h0m1 0h0m10 0h0m-24 1h0m4 0h0m2 0h0m9 0h0m1 0h0m-8 1h0m2 0h0m2 0h0m1 0h0m3 0h0m3 0h0m4 0h0m2 0h0m-19 1h0m2 0h0m2 0h0m1 0h0m2 0h0m3 0h0m-15 1h0m3 0h0m4 0h0m2 0h0m3 0h0m2 0h0m4 0h0m-10 1h0m-8 1h0m1 0h0m25 0h0m-19 1h0m2 0h0m17 0h0m-34 1h0m7 0h0m-4 1h0m1 0h0m24 0h0m5 0h0m-34 1h0m3 0h0m25 0h0m3 0h0m1 0h0m2 0h0m-23 1h0m5 0h0m1 0h0m1 0h0m7 0h0m4 0h0m1 0h0m2 0h0m-18 1h0m5 0h0m2 0h0m5 0h0m2 0h0m1 0h0m2 0h0m3 0h0m2 0h0m-31 1h0m1 0h0m1 0h0m3 0h0m8 0h0m5 0h0m2 0h0m1 0h0m3 0h0m5 0h0m1 0h0m2 0h0m-29 1h0m4 0h0m2 0h0m3 0h0m1 0h0m4 0h0m2 0h0m1 0h0m5 0h0m1 0h0m2 0h0m5 0h0m-31 1h0m6 0h0m3 0h0m1 0h0m5 0h0m3 0h0m7 0h0m-28 1h0m3 0h0m1 0h0m1 0h0m17 0h0m6 0h0m1 0h0m1 0h0m2 0h0m-26 1h0m1 0h0m21 0h0m-28 1h0m1 0h0m4 0h0m1 0h0m17 0h0m2 0h0m3 0h0m-28 1h0m2 0h0m1 0h0m2 0h0m1 0h0m6 0h0m3 0h0m1 0h0m2 0h0m4 0h0m2 0h0m1 0h0m3 0h0m1 0h0m-29 1h0m2 0h0m1 0h0m5 0h0m3 0h0m7 0h0m1 0h0m1 0h0m3 0h0m6 0h0m-25 1h0m2 0h0m6 0h0m14 0h0m-24 1h0m10 0h0m2 0h0m6 0h0m3 0h0m8 0h0m-31 1h0m1 0h0m6 0h0m7 0h0m1 0h0m1 0h0m4 0h0m1 0h0m-19 1h0m3 0h0m4 0h0m-9 1h0m4 0h0m5 0h0m2 0h0m6 0h0m3 0h0m-19 1h0m9 0h0m2 0h0m4 0h0m3 0h0m-18 1h0m1 0h0m1 0h0m9 0h0m3 0h0m1 0h0m1 0h0m1 0h0m-16 1h0m1 0h0m3 0h0m1 0h0m3 0h0m3 0h0m3 0h0m2 0h0m-14 1h0m1 0h0m1 0h0m3 0h0m1 0h0m3 0h0m-7 1h0m3 0h0m3 0h0m-7 1h0m8 0h0m-279 49h0"/>
<path fill="none" stroke="#FB61D7" stroke-width="2.9" stroke-linecap="round" d="M172 489h0m-5 1h0m7 0h0m1 0h0m-10 1h0m7 0h0m3 0h0m1 0h0m1 0h0m4 0h0m-14 1h0m1 0h0m3 0h0m1 0h0m4 0h0m1 0h0m1 0h0m-13 1h0m1 0h0m7 0h0m1 0h0m2 0h0m1 0h0m2 0h0m-15 1h0m1 0h0m11 0h0m2 0h0m2 0h0m1 0h0m1 0h0m-22 1h0m1 0h0m3 0h0m16 0h0m2 0h0m0 1h0m1 0h0m-19 1h0m16 0h0m1 0h0m1 0h0m1 0h0m1 0h0m-1 1h0m2 0h0m-25 1h0m23 0h0m1 0h0m-23 1h0m21 0h0m-22 1h0m21 0h0m3 0h0m-23 1h0m2 1h0m1 0h0m17 0h0m-20 1h0m4 0h0m7 0h0m6 0h0m1 0h0m1 0h0m1 0h0m-9 1h0m1 0h0m1 0h0m-9 1h0m1 0h0m5 0h0m1 0h0m3 0h0m-4 1h0m6 0h0m-30 13h0m5 1h0m3 0h0m-6 1h0m3 0h0m-2 1h0m-4 1h0m6 0h0m0 1h0m-5 1h0m6 1h0m3 0h0m-5 2h0m4 1h0m195 223h0m-12 12h0"/>
<path fill="none" stroke="#FF66A8" stroke-width="2.9" stroke-linecap="round" d="M224 445h0m1 0h0m0 2h0m-4 1h0m2 0h0m1 0h0m1 0h0m-3 1h0m1 0h0m2 0h0m-3 1h0m1 0h0m1 0h0m-5 2h0m5 0h0m-2 1h0m-3 1h0m2 0h0m1 0h0m-2 1h0m1 0h0m1 0h0m1 0h0m-2 1h0m-2 1h0m1 0h0m-3 1h0m2 0h0m1 0h0m-3 1h0m2 0h0m-4 1h0m1 0h0m1 0h0m1 0h0m-3 2h0m1 0h0m1 0h0m-1 1h0m-3 1h0m1 0h0m2 0h0m-3 1h0m1 0h0m1 0h0m-4 1h0m2 0h0m-2 1h0m1 0h0m1 0h0m1 0h0m-1 1h0m-3 1h0m3 0h0m1 0h0m2 0h0m2 0h0m6 0h0m-15 1h0m2 0h0m1 0h0m4 0h0m1 0h0m1 0h0m5 0h0m-3 1h0m1 0h0m-10 1h0m3 0h0m1 0h0m1 0h0m3 0h0m1 0h0m-10 1h0m1 0h0m1 0h0m6 0h0m3 0h0m-5 1h0m221 52h0m11 101h0"/>
<path d="M110.4 387V933.3H609.5" stroke="#6a6a6a" stroke-width="1.3" fill="none"/>
<path d="M106.5 511h4M106.5 647.1h4M106.5 783.2h4M106.5 919.3h4M215.1 933v4M346.4 933v4M476.9 933v4M608.1 933v4" stroke="#6a6a6a" stroke-width="1.2"/>
<text x="105.5" y="522.6" font-size="20.7" text-anchor="end">25</text>
<text x="105.5" y="659.4" font-size="20.7" text-anchor="end">0</text>
<text x="105.5" y="797.4" font-size="20.7" text-anchor="end">-25</text>
<text x="105.5" y="939.6" font-size="20.7" text-anchor="end">-50</text>
<text x="228.7" y="960" font-size="20.7" text-anchor="middle">-25</text>
<text x="382.3" y="960" font-size="20.7" text-anchor="middle">0</text>
<text x="529" y="960" font-size="20.7" text-anchor="middle">25</text>
<text x="381.5" y="984.5" font-size="20" text-anchor="middle">t_SNE-1</text>
<text transform="translate(78.5,652) rotate(-90)" font-size="20" text-anchor="middle" fill="#111">t_SNE-2</text>
<text x="148.8" y="447" font-size="20">Oligodendrocyte</text>
<text x="148.8" y="511" font-size="20">Astrocytes</text>
<text x="321.5" y="507" font-size="20">Microglia 1</text>
<text x="301" y="624.5" font-size="20">Microglia 2</text>
<text x="193.4" y="667.7" font-size="20">Microglia 3</text>
<text x="479" y="624.5" font-size="20">Dividing</text>
<text x="479" y="649.5" font-size="20">Microglia 1</text>
<text x="404.5" y="727.7" font-size="20">Dividing</text>
<text x="404.5" y="753" font-size="20">Microglia 2</text>
<text x="468" y="782" font-size="20">Dividing</text>
<text x="468" y="807" font-size="20">Microglia 3</text>
<text x="552.8" y="740.6" font-size="20">T Cell</text>
<text x="125.7" y="763.7" font-size="20">Macrophage</text>
<text x="253.4" y="771" font-size="20">Microglia 4</text>
<text x="303" y="855.8" font-size="20">Monocyte</text>
<text x="434" y="869" font-size="20">B Cell</text>
<text x="199" y="888.4" font-size="20">Neutrophils</text>
<circle cx="692.6" cy="409.7" r="7.3" fill="#F8766D"/>
<text x="711" y="416.7" font-size="20.8">C0 Microglia 1</text>
<circle cx="692.6" cy="437.8" r="7.3" fill="#E38900"/>
<text x="711" y="444.8" font-size="20.8">C1 Microglia 2</text>
<circle cx="692.6" cy="466" r="7.3" fill="#C49A00"/>
<text x="711" y="473" font-size="20.8">C2 Microglia 3</text>
<circle cx="692.6" cy="492.7" r="7.3" fill="#99A800"/>
<text x="711" y="499.7" font-size="20.8">C3 Dividing Microglia 1</text>
<circle cx="692.6" cy="519.4" r="7.3" fill="#53B400"/>
<text x="711" y="526.4" font-size="20.8">C4 Macrophage</text>
<circle cx="692.6" cy="547.6" r="7.3" fill="#00BC56"/>
<text x="711" y="554.6" font-size="20.8">C5 Monocytes</text>
<circle cx="692.6" cy="574.3" r="7.3" fill="#00C094"/>
<text x="711" y="581.3" font-size="20.8">C6 Microglia 4</text>
<circle cx="692.6" cy="604" r="7.3" fill="#00BFC4"/>
<text x="711" y="611" font-size="20.8">C7 Dividing Microglia 2</text>
<circle cx="692.6" cy="631.6" r="7.3" fill="#00B6EB"/>
<text x="711" y="638.6" font-size="20.8">C8 Dividing Microglia 3</text>
<circle cx="692.6" cy="658.3" r="7.3" fill="#06A4FF"/>
<text x="711" y="665.3" font-size="20.8">C9 Neutrophils</text>
<circle cx="692.6" cy="682.6" r="7.3" fill="#A58AFF"/>
<text x="711" y="689.6" font-size="20.8">C10 B Cell</text>
<circle cx="692.6" cy="709.9" r="7.3" fill="#DF70F8"/>
<text x="711" y="716.9" font-size="20.8">C11 T Cell</text>
<circle cx="692.6" cy="738.4" r="7.3" fill="#FB61D7"/>
<text x="711" y="745.4" font-size="20.8">C12 Astrocytes</text>
<circle cx="692.6" cy="766.2" r="7.3" fill="#FF66A8"/>
<text x="711" y="773.2" font-size="20.8">C13 Oligodendrocyte</text>
<text x="699" y="838" font-size="20.8">0dpi: 8,015 cells</text>
<text x="699" y="863" font-size="20.8">3dpi: 9,778 cells</text>
<text x="699" y="888.3" font-size="20.8">5dpi: 7,754 cells</text>
<text x="1166" y="399" font-size="20" text-anchor="middle">Microglia</text>
<path d="M1045.7 440.5V557.1H1282.8M1041.5 440.5h4.2M1041.5 463.8h4.2M1041.5 487.1h4.2M1041.5 510.4h4.2M1041.5 533.7h4.2M1125.3 557v4M1204 557v4M1282.8 557v4" stroke="#8a8a8a" stroke-width="2" fill="none"/>
<text x="1042.5" y="447.7" font-size="20" text-anchor="end">100</text>
<text x="1042.5" y="471.0" font-size="20" text-anchor="end">80</text>
<text x="1042.5" y="494.3" font-size="20" text-anchor="end">60</text>
<text x="1042.5" y="517.6" font-size="20" text-anchor="end">40</text>
<text x="1042.5" y="540.9000000000001" font-size="20" text-anchor="end">20</text>
<text x="1042.5" y="564.2" font-size="20" text-anchor="end">0</text>
<path fill="#000" d="M1068.7 444.5h35.3V556h-35.3zM1146 477.8h36V556h-36zM1225.3 462h34.2V556h-34.2z"/>
<text x="1090.9" y="579.5" font-size="20" text-anchor="middle">0dpi</text>
<text x="1169.3" y="579.5" font-size="20" text-anchor="middle">3dpi</text>
<text x="1247" y="579.5" font-size="20" text-anchor="middle">5dpi</text>
<text transform="translate(1001,497.4) rotate(-90)" font-size="21" text-anchor="middle" fill="#111">% of Total cells</text>
<text x="1166.2" y="685" font-size="20.5" text-anchor="middle">Dividing Microglia</text>
<path d="M1047.5 700.4V853.6H1280.4M1043.3 700.4h4.2M1043.3 731h4.2M1043.3 761.6h4.2M1043.3 792.2h4.2M1043.3 822.8h4.2M1043.3 853.4h4.2M1125.3 853.6v4M1204 853.6v4M1280.4 853.6v4" stroke="#8a8a8a" stroke-width="2" fill="none"/>
<text x="1044.3" y="706.4" font-size="20" text-anchor="end">100</text>
<text x="1044.3" y="737" font-size="20" text-anchor="end">80</text>
<text x="1044.3" y="767.6" font-size="20" text-anchor="end">60</text>
<text x="1044.3" y="798.2" font-size="20" text-anchor="end">40</text>
<text x="1044.3" y="828.8" font-size="20" text-anchor="end">20</text>
<text x="1044.3" y="859.4" font-size="20" text-anchor="end">0</text>
<path fill="#808080" d="M1071 809.7h30V852.6h-30zM1147.4 830h31.6V852.6h-31.6zM1225.3 838.2h30.3V852.6h-30.3z"/>
<text x="1090.9" y="873.6" font-size="20" text-anchor="middle">0dpi</text>
<text x="1169.3" y="873.6" font-size="20" text-anchor="middle">3dpi</text>
<text x="1247" y="873.6" font-size="20" text-anchor="middle">5dpi</text>
<text transform="translate(1000,777) rotate(-90)" font-size="20.7" text-anchor="middle" fill="#111">% of microglial cells</text>
<text x="149.5" y="1088.5" font-size="24.5" text-anchor="middle">Clusters</text>
<text x="344.6" y="1071.6" font-size="24.3" text-anchor="middle">Percentage(%)</text>
<text x="498.6" y="1088.5" font-size="24.5" text-anchor="middle">Markers</text>
<text transform="translate(276.5,1123.7) rotate(-45)" font-size="20" fill="#111">0dpi</text>
<text transform="translate(333.5,1122.3) rotate(-45)" font-size="20" fill="#111">3dpi</text>
<text transform="translate(383.8,1121.1) rotate(-45)" font-size="20" fill="#111">5dpi</text>
<path d="M60.4 1129.4H253.3M260.3 1129.4H416M423 1129.4H578.6M60.4 1166.6H253.3M260.3 1166.6H416M423 1166.6H578.6M60.4 1205.2H253.3M260.3 1205.2H416M423 1205.2H578.6M60.4 1244.2H253.3M260.3 1244.2H416M423 1244.2H578.6M60.4 1292H253.3M260.3 1292H416M423 1292H578.6M60.4 1336.3H253.3M260.3 1336.3H416M423 1336.3H578.6M60.4 1386.4H253.3M260.3 1386.4H416M423 1386.4H578.6M60.4 1425.5H253.3M260.3 1425.5H416M423 1425.5H578.6M60.4 1471.6H253.3M260.3 1471.6H416M423 1471.6H578.6M60.4 1514.8H253.3M260.3 1514.8H416M423 1514.8H578.6M60.4 1564H253.3M260.3 1564H416M423 1564H578.6M60.4 1610H253.3M260.3 1610H416M423 1610H578.6M60.4 1658.9H253.3M260.3 1658.9H416M423 1658.9H578.6M60.4 1702H253.3M260.3 1702H416M423 1702H578.6M60.4 1750.4H253.3M260.3 1750.4H416M423 1750.4H578.6" stroke="#111" stroke-width="2" fill="none"/>
<text x="62.7" y="1155.2" font-size="20.6">Microglia 1</text>
<text x="262.6" y="1155.2" font-size="20.6">54.7</text>
<text x="319.8" y="1155.2" font-size="20.6">2.8</text>
<text x="370.4" y="1155.2" font-size="20.6">21.0</text>
<text x="424.3" y="1155.2" font-size="20.6">P2ry12</text>
<text x="499.6" y="1155.2" font-size="20.6">Tmem119</text>
<text x="62.7" y="1193.2" font-size="20.6">Microglia 2</text>
<text x="262.6" y="1193.2" font-size="20.6">13.0</text>
<text x="319.8" y="1193.2" font-size="20.6">3.9</text>
<text x="370.4" y="1193.2" font-size="20.6">40.5</text>
<text x="424.3" y="1193.2" font-size="20.6">Cd9</text>
<text x="499.6" y="1193.2" font-size="20.6">Serpine2</text>
<text x="62.7" y="1230.5" font-size="20.6">Microglia 3</text>
<text x="262.6" y="1230.5" font-size="20.6">0.4</text>
<text x="319.8" y="1230.5" font-size="20.6">42.1</text>
<text x="370.4" y="1230.5" font-size="20.6">4.9</text>
<text x="424.3" y="1230.5" font-size="20.6">Spp1</text>
<text x="499.6" y="1230.5" font-size="20.6">Fn1</text>
<text x="62.7" y="1276.1000000000001" font-size="20.6">Microglia 4</text>
<text x="262.6" y="1276.1000000000001" font-size="20.6">0.4</text>
<text x="319.8" y="1276.1000000000001" font-size="20.6">8.6</text>
<text x="370.4" y="1276.1000000000001" font-size="20.6">7.3</text>
<text x="424.3" y="1276.1000000000001" font-size="20.6">Ms4a7</text>
<text x="499.6" y="1276.1000000000001" font-size="20.6">Ms4a6c</text>
<text x="62.7" y="1319.2" font-size="20.6">Dividing Microglia 1</text>
<text x="262.6" y="1319.2" font-size="20.6">17.9</text>
<text x="319.8" y="1319.2" font-size="20.6">0.8</text>
<text x="370.4" y="1319.2" font-size="20.6">3.6</text>
<text x="424.3" y="1319.2" font-size="20.6">Mki67</text>
<text x="499.6" y="1319.2" font-size="20.6">Birc5</text>
<text x="62.7" y="1367.6000000000001" font-size="20.6">Dividing Microglia 2</text>
<text x="262.6" y="1367.6000000000001" font-size="20.6">2.3</text>
<text x="319.8" y="1367.6000000000001" font-size="20.6">9.1</text>
<text x="370.4" y="1367.6000000000001" font-size="20.6">2.8</text>
<text x="424.3" y="1367.6000000000001" font-size="20.6">Stmn1</text>
<text x="499.6" y="1367.6000000000001" font-size="20.6">Ube2c</text>
<text x="62.7" y="1413.4" font-size="20.6">Dividing Microglia 3</text>
<text x="262.6" y="1413.4" font-size="20.6">6.7</text>
<text x="319.8" y="1413.4" font-size="20.6">0.4</text>
<text x="370.4" y="1413.4" font-size="20.6">1.4</text>
<text x="424.3" y="1413.4" font-size="20.6">Mcm3</text>
<text x="499.6" y="1413.4" font-size="20.6">Mcm6</text>
<text x="62.7" y="1456.0" font-size="20.6">Macrophage</text>
<text x="262.6" y="1456.0" font-size="20.6">1.5</text>
<text x="319.8" y="1456.0" font-size="20.6">11.0</text>
<text x="370.4" y="1456.0" font-size="20.6">6.5</text>
<text x="424.3" y="1456.0" font-size="20.6">Mrc1</text>
<text x="499.6" y="1456.0" font-size="20.6">Lyve1</text>
<text x="62.7" y="1502.5" font-size="20.6">Monocytes</text>
<text x="262.6" y="1502.5" font-size="20.6">0.8</text>
<text x="319.8" y="1502.5" font-size="20.6">10.9</text>
<text x="370.4" y="1502.5" font-size="20.6">4.5</text>
<text x="424.3" y="1502.5" font-size="20.6">Ccr2</text>
<text x="499.6" y="1502.5" font-size="20.6">Ly6c</text>
<text x="62.7" y="1548.9" font-size="20.6">Neutrophils</text>
<text x="262.6" y="1548.9" font-size="20.6">0.2</text>
<text x="319.8" y="1548.9" font-size="20.6">3.9</text>
<text x="370.4" y="1548.9" font-size="20.6">2.8</text>
<text x="424.3" y="1548.9" font-size="20.6">S100a8</text>
<text x="499.6" y="1548.9" font-size="20.6">S100a9</text>
<text x="62.7" y="1591.7" font-size="20.6">B Cell</text>
<text x="262.6" y="1591.7" font-size="20.6">0.0</text>
<text x="319.8" y="1591.7" font-size="20.6">3.3</text>
<text x="370.4" y="1591.7" font-size="20.6">1.2</text>
<text x="424.3" y="1591.7" font-size="20.6">Cd74</text>
<text x="499.6" y="1591.7" font-size="20.6">Ly6d</text>
<text x="62.7" y="1642.8" font-size="20.6">T Cell</text>
<text x="262.6" y="1642.8" font-size="20.6">1.4</text>
<text x="319.8" y="1642.8" font-size="20.6">1.7</text>
<text x="370.4" y="1642.8" font-size="20.6">1.5</text>
<text x="424.3" y="1642.8" font-size="20.6">Trbc1</text>
<text x="499.6" y="1642.8" font-size="20.6">Trbc2</text>
<text x="62.7" y="1685.6000000000001" font-size="20.6">Astrocytes</text>
<text x="262.6" y="1685.6000000000001" font-size="20.6">0.3</text>
<text x="319.8" y="1685.6000000000001" font-size="20.6">1.2</text>
<text x="370.4" y="1685.6000000000001" font-size="20.6">1.0</text>
<text x="424.3" y="1685.6000000000001" font-size="20.6">Sparcl1</text>
<text x="499.6" y="1685.6000000000001" font-size="20.6">GFAP</text>
<text x="62.7" y="1732.1000000000001" font-size="20.6">Oligodendrocyte</text>
<text x="262.6" y="1732.1000000000001" font-size="20.6">0.4</text>
<text x="319.8" y="1732.1000000000001" font-size="20.6">0.5</text>
<text x="370.4" y="1732.1000000000001" font-size="20.6">1.1</text>
<text x="424.3" y="1732.1000000000001" font-size="20.6">Olig1</text>
<text x="499.6" y="1732.1000000000001" font-size="20.6">Olig2</text>
<text x="900" y="1064.5" font-size="29" text-anchor="middle" fill="#E25B66">Microglia-like</text>
<text x="1230.5" y="1065" font-size="29" text-anchor="middle" fill="#1E62AC">Non-Microglia</text>
<rect x="621" y="1086" width="520.7" height="14.7" fill="#F8696B"/>
<rect x="1141.7" y="1086" width="138.8" height="14.7" fill="#4F81BD"/>
<rect x="622.4" y="1109.2" width="155.1" height="11.8" fill="#F37B72"/>
<rect x="780" y="1109.2" width="111.5" height="11.8" fill="#E38900"/>
<rect x="894" y="1109.2" width="111.0" height="11.8" fill="#C49A00"/>
<rect x="1007.5" y="1109.2" width="35.0" height="11.8" fill="#1FBF98"/>
<rect x="1044.5" y="1109.2" width="44.0" height="11.8" fill="#9A9E00"/>
<rect x="1090.5" y="1109.2" width="31.5" height="11.8" fill="#00BFC4"/>
<rect x="1124" y="1109.2" width="15.5" height="11.8" fill="#10B4EC"/>
<rect x="1142" y="1109.2" width="41.5" height="11.8" fill="#9AA800"/>
<rect x="1186" y="1109.2" width="36.0" height="11.8" fill="#53B400"/>
<rect x="1224" y="1109.2" width="14.5" height="11.8" fill="#0AA4FF"/>
<rect x="1241" y="1109.2" width="9.8" height="11.8" fill="#A58AFF"/>
<rect x="1253" y="1109.2" width="9.0" height="11.8" fill="#DF70F8"/>
<rect x="1264.2" y="1109.2" width="4.2" height="11.8" fill="#FB61D7"/>
<rect x="1270.6" y="1109.2" width="4.4" height="11.8" fill="#FF66A8"/>
<rect x="600" y="1129.4" width="13.3" height="298.2" fill="#F8696B"/>
<rect x="600" y="1427.6" width="13.3" height="323.6" fill="#4F81BD"/>
<path fill="#483c0c" d="M622.4 1131h42.6v2h-42.6zM622.4 1135h42.6v2h-42.6zM860 1187h31.5v2h-31.5zM860 1189h31.5v2h-31.5zM1090.5 1505h31.5v2h-31.5zM1142 1507h41.5v2h-41.5zM1124 1515h15.5v2h-15.5zM1142 1517h41.5v2h-41.5zM1124 1519h15.5v2h-15.5zM1186 1533h36v2h-36zM1142 1535h41.5v2h-41.5zM1007.5 1561h35v2h-35zM1224 1671h14.5v2h-14.5zM1142 1677h41.5v2h-41.5z"/>
<path fill="#60540c" d="M665 1131h112.5v2h-112.5zM665 1133h112.5v2h-112.5zM1044.5 1133h44v2h-44zM1044.5 1135h44v2h-44zM622.4 1139h42.6v2h-42.6zM665 1141h112.5v2h-112.5zM622.4 1145h42.6v2h-42.6zM665 1145h112.5v2h-112.5zM622.4 1149h42.6v2h-42.6zM780 1165h80v2h-80zM780 1173h80v2h-80zM860 1173h31.5v2h-31.5zM860 1177h31.5v2h-31.5zM860 1181h31.5v2h-31.5zM860 1183h31.5v2h-31.5zM894 1197h111v2h-111zM894 1205h111v2h-111zM894 1237h111v2h-111zM1142 1251h41.5v2h-41.5zM1142 1263h41.5v2h-41.5zM1142 1265h41.5v2h-41.5zM1142 1279h41.5v2h-41.5zM1142 1281h41.5v2h-41.5zM1142 1287h41.5v2h-41.5zM1007.5 1443h35v2h-35zM1007.5 1451h35v2h-35zM1007.5 1455h35v2h-35zM1007.5 1457h35v2h-35zM1007.5 1459h35v2h-35zM1007.5 1463h35v2h-35zM1007.5 1499h35v2h-35zM1142 1499h41.5v2h-41.5zM1186 1545h36v2h-36zM1186 1549h36v2h-36zM1044.5 1609h44v2h-44zM1241 1625h9.8v2h-9.8zM1253 1749h9v0.5h-9z"/>
<path fill="#302418" d="M780 1131h80v2h-80zM860 1135h31.5v2h-31.5zM780 1137h80v2h-80zM860 1137h31.5v2h-31.5zM860 1141h31.5v2h-31.5zM894 1153h111v2h-111zM780 1155h80v2h-80zM894 1155h111v2h-111zM780 1157h80v2h-80zM894 1157h111v2h-111zM894 1187h111v2h-111zM1007.5 1197h35v2h-35zM1090.5 1197h31.5v2h-31.5zM1142 1197h41.5v2h-41.5zM1224 1197h14.5v2h-14.5zM1241 1197h9.8v2h-9.8zM1253 1197h9v2h-9zM1007.5 1201h35v2h-35zM1007.5 1205h35v2h-35zM1186 1205h36v2h-36zM1224 1205h14.5v2h-14.5zM1253 1205h9v2h-9zM1142 1215h41.5v2h-41.5zM1241 1215h9.8v2h-9.8zM1090.5 1221h31.5v2h-31.5zM1186 1221h36v2h-36zM1253 1221h9v2h-9zM1007.5 1229h35v2h-35zM1090.5 1229h31.5v2h-31.5zM1142 1229h41.5v2h-41.5zM1186 1229h36v2h-36zM1224 1229h14.5v2h-14.5zM1241 1229h9.8v2h-9.8zM1253 1229h9v2h-9zM1142 1237h41.5v2h-41.5zM1186 1237h36v2h-36zM1224 1237h14.5v2h-14.5zM1090.5 1293h31.5v2h-31.5zM1124 1293h15.5v2h-15.5zM1090.5 1299h31.5v2h-31.5zM1124 1299h15.5v2h-15.5zM1090.5 1313h31.5v2h-31.5zM1124 1313h15.5v2h-15.5zM1090.5 1323h31.5v2h-31.5zM1124 1323h15.5v2h-15.5zM1124 1329h15.5v2h-15.5zM1090.5 1333h31.5v2h-31.5zM1124 1333h15.5v2h-15.5zM1124 1337h15.5v2h-15.5zM1044.5 1363h44v2h-44zM1044.5 1373h44v2h-44zM1044.5 1377h44v2h-44zM1090.5 1463h31.5v2h-31.5zM1007.5 1465h35v2h-35zM1007.5 1475h35v2h-35zM1007.5 1487h35v2h-35zM1186 1555h36v2h-36zM1142 1575h41.5v2h-41.5zM1044.5 1651h44v2h-44zM1090.5 1667h31.5v2h-31.5z"/>
<path fill="#241818" d="M860 1131h31.5v2h-31.5zM622.4 1157h42.6v2h-42.6zM622.4 1667h42.6v2h-42.6zM860 1667h31.5v2h-31.5zM622.4 1725h42.6v2h-42.6zM622.4 1749h42.6v0.5h-42.6z"/>
<path fill="#300c3c" d="M894 1131h111v2h-111zM1124 1131h15.5v2h-15.5zM1241 1139h9.8v2h-9.8zM1090.5 1143h31.5v2h-31.5zM1241 1143h9.8v2h-9.8zM1241 1149h9.8v2h-9.8zM1007.5 1155h35v2h-35zM1264.2 1157h4.2v2h-4.2zM1090.5 1163h31.5v2h-31.5zM622.4 1165h42.6v2h-42.6zM1241 1169h9.8v2h-9.8zM1090.5 1171h31.5v2h-31.5zM1241 1171h9.8v2h-9.8zM1224 1177h14.5v2h-14.5zM1224 1179h14.5v2h-14.5zM1241 1179h9.8v2h-9.8zM622.4 1181h42.6v2h-42.6zM1090.5 1181h31.5v2h-31.5zM1241 1183h9.8v2h-9.8zM622.4 1189h42.6v2h-42.6zM1224 1191h14.5v2h-14.5zM1241 1191h9.8v2h-9.8zM1253 1191h9v2h-9zM622.4 1203h42.6v2h-42.6zM665 1205h112.5v2h-112.5zM622.4 1217h42.6v2h-42.6zM622.4 1223h42.6v2h-42.6zM1044.5 1229h44v2h-44zM1044.5 1243h44v2h-44zM1270.6 1251h4.4v2h-4.4zM1270.6 1255h4.4v2h-4.4zM860 1261h31.5v2h-31.5zM1124 1261h15.5v2h-15.5zM780 1267h80v2h-80zM1124 1267h15.5v2h-15.5zM622.4 1271h42.6v2h-42.6zM665 1271h112.5v2h-112.5zM622.4 1275h42.6v2h-42.6zM622.4 1277h42.6v2h-42.6zM860 1285h31.5v2h-31.5zM1264.2 1285h4.2v2h-4.2zM1270.6 1287h4.4v2h-4.4zM780 1289h80v2h-80zM622.4 1291h42.6v2h-42.6zM894 1293h111v2h-111zM1264.2 1295h4.2v2h-4.2zM1142 1297h41.5v2h-41.5zM894 1299h111v2h-111zM1186 1303h36v2h-36zM1241 1303h9.8v2h-9.8zM1270.6 1305h4.4v2h-4.4zM1007.5 1307h35v2h-35zM1142 1307h41.5v2h-41.5zM1186 1307h36v2h-36zM1264.2 1307h4.2v2h-4.2zM1007.5 1311h35v2h-35zM1264.2 1311h4.2v2h-4.2zM1186 1317h36v2h-36zM1241 1317h9.8v2h-9.8zM1264.2 1319h4.2v2h-4.2zM1264.2 1321h4.2v2h-4.2zM1186 1327h36v2h-36zM1253 1327h9v2h-9zM894 1337h111v2h-111zM1142 1339h41.5v2h-41.5zM1224 1339h14.5v2h-14.5zM1241 1339h9.8v2h-9.8zM1253 1339h9v2h-9zM1270.6 1339h4.4v2h-4.4zM1007.5 1341h35v2h-35zM1224 1341h14.5v2h-14.5zM1270.6 1341h4.4v2h-4.4zM1007.5 1343h35v2h-35zM1142 1343h41.5v2h-41.5zM1186 1343h36v2h-36zM1253 1343h9v2h-9zM1264.2 1343h4.2v2h-4.2zM665 1347h112.5v2h-112.5zM1224 1347h14.5v2h-14.5zM1253 1347h9v2h-9zM1142 1349h41.5v2h-41.5zM665 1351h112.5v2h-112.5zM1007.5 1351h35v2h-35zM1142 1351h41.5v2h-41.5zM1270.6 1351h4.4v2h-4.4zM780 1355h80v2h-80zM1007.5 1355h35v2h-35zM1241 1355h9.8v2h-9.8zM1270.6 1355h4.4v2h-4.4zM665 1359h112.5v2h-112.5zM780 1359h80v2h-80zM1007.5 1359h35v2h-35zM1186 1359h36v2h-36zM860 1361h31.5v2h-31.5zM1186 1361h36v2h-36zM1253 1361h9v2h-9zM780 1365h80v2h-80zM1142 1365h41.5v2h-41.5zM1224 1365h14.5v2h-14.5zM1270.6 1365h4.4v2h-4.4zM1007.5 1371h35v2h-35zM1224 1371h14.5v2h-14.5zM1253 1371h9v2h-9zM1264.2 1371h4.2v2h-4.2zM665 1375h112.5v2h-112.5zM780 1375h80v2h-80zM665 1381h112.5v2h-112.5zM1253 1381h9v2h-9zM1264.2 1381h4.2v2h-4.2zM1186 1383h36v2h-36zM1241 1383h9.8v2h-9.8zM1253 1383h9v2h-9zM1007.5 1391h35v2h-35zM1186 1391h36v2h-36zM1224 1391h14.5v2h-14.5zM1264.2 1391h4.2v2h-4.2zM1224 1393h14.5v2h-14.5zM1264.2 1393h4.2v2h-4.2zM665 1399h112.5v2h-112.5zM1224 1403h14.5v2h-14.5zM1241 1403h9.8v2h-9.8zM1264.2 1403h4.2v2h-4.2zM665 1407h112.5v2h-112.5zM1007.5 1407h35v2h-35zM1241 1407h9.8v2h-9.8zM1253 1409h9v2h-9zM780 1411h80v2h-80zM1007.5 1411h35v2h-35zM1224 1411h14.5v2h-14.5zM1241 1415h9.8v2h-9.8zM1264.2 1415h4.2v2h-4.2zM780 1419h80v2h-80zM1241 1419h9.8v2h-9.8zM1264.2 1419h4.2v2h-4.2zM665 1421h112.5v2h-112.5zM1044.5 1421h44v2h-44zM1224 1423h14.5v2h-14.5zM860 1427h31.5v2h-31.5zM1264.2 1427h4.2v2h-4.2zM622.4 1429h42.6v2h-42.6zM780 1433h80v2h-80zM1124 1433h15.5v2h-15.5zM1224 1433h14.5v2h-14.5zM1241 1433h9.8v2h-9.8zM1264.2 1433h4.2v2h-4.2zM1044.5 1439h44v2h-44zM780 1441h80v2h-80zM860 1441h31.5v2h-31.5zM1124 1441h15.5v2h-15.5zM780 1449h80v2h-80zM860 1449h31.5v2h-31.5zM1124 1449h15.5v2h-15.5zM622.4 1451h42.6v2h-42.6zM665 1459h112.5v2h-112.5zM1124 1461h15.5v2h-15.5zM1224 1461h14.5v2h-14.5zM1241 1461h9.8v2h-9.8zM1253 1461h9v2h-9zM622.4 1465h42.6v2h-42.6zM780 1465h80v2h-80zM1253 1467h9v2h-9zM1270.6 1467h4.4v2h-4.4zM1124 1481h15.5v2h-15.5zM1241 1481h9.8v2h-9.8zM1264.2 1481h4.2v2h-4.2zM1124 1483h15.5v2h-15.5zM1241 1489h9.8v2h-9.8zM1264.2 1489h4.2v2h-4.2zM860 1493h31.5v2h-31.5zM780 1497h80v2h-80z"/>
<path fill="#6c0084" d="M1007.5 1131h35v2h-35zM1264.2 1135h4.2v2h-4.2zM1264.2 1137h4.2v2h-4.2zM1270.6 1189h4.4v2h-4.4zM1270.6 1237h4.4v2h-4.4z"/>
<path fill="#54480c" d="M1044.5 1131h44v2h-44zM622.4 1133h42.6v2h-42.6zM665 1135h112.5v2h-112.5zM665 1137h112.5v2h-112.5zM1044.5 1137h44v2h-44zM622.4 1141h42.6v2h-42.6zM860 1165h31.5v2h-31.5zM860 1167h31.5v2h-31.5zM860 1175h31.5v2h-31.5zM860 1179h31.5v2h-31.5zM780 1187h80v2h-80zM894 1229h111v2h-111zM1142 1245h41.5v2h-41.5zM1142 1247h41.5v2h-41.5zM1142 1253h41.5v2h-41.5zM1142 1255h41.5v2h-41.5zM1142 1257h41.5v2h-41.5zM1142 1259h41.5v2h-41.5zM1007.5 1425h35v2h-35zM1007.5 1437h35v2h-35zM1007.5 1439h35v2h-35zM1007.5 1453h35v2h-35zM1090.5 1499h31.5v2h-31.5zM1186 1515h36v2h-36zM1270.6 1525h4.4v2h-4.4zM1241 1541h9.8v2h-9.8zM1186 1547h36v2h-36zM1007.5 1563h35v2h-35zM1186 1567h36v2h-36zM1224 1603h14.5v2h-14.5zM1142 1703h41.5v2h-41.5zM1007.5 1723h35v2h-35zM1044.5 1725h44v2h-44z"/>
<path fill="#240024" d="M1090.5 1131h31.5v2h-31.5zM1253 1131h9v2h-9zM1090.5 1137h31.5v2h-31.5zM1241 1137h9.8v2h-9.8zM1253 1137h9v2h-9zM1224 1155h14.5v2h-14.5zM1090.5 1157h31.5v2h-31.5zM1224 1157h14.5v2h-14.5zM1241 1157h9.8v2h-9.8zM1090.5 1187h31.5v2h-31.5zM1090.5 1189h31.5v2h-31.5zM1241 1189h9.8v2h-9.8zM1253 1189h9v2h-9zM860 1245h31.5v2h-31.5zM1044.5 1245h44v2h-44zM1124 1245h15.5v2h-15.5zM1264.2 1245h4.2v2h-4.2zM622.4 1247h42.6v2h-42.6zM622.4 1251h42.6v2h-42.6zM622.4 1253h42.6v2h-42.6zM665 1253h112.5v2h-112.5zM780 1253h80v2h-80zM1044.5 1253h44v2h-44zM1264.2 1253h4.2v2h-4.2zM780 1255h80v2h-80zM860 1255h31.5v2h-31.5zM1044.5 1255h44v2h-44zM1124 1255h15.5v2h-15.5zM1264.2 1255h4.2v2h-4.2zM622.4 1257h42.6v2h-42.6zM665 1257h112.5v2h-112.5zM780 1257h80v2h-80zM1044.5 1257h44v2h-44zM1124 1257h15.5v2h-15.5zM1264.2 1257h4.2v2h-4.2zM622.4 1259h42.6v2h-42.6zM665 1259h112.5v2h-112.5zM860 1259h31.5v2h-31.5zM1044.5 1259h44v2h-44zM1124 1259h15.5v2h-15.5zM1264.2 1259h4.2v2h-4.2zM622.4 1263h42.6v2h-42.6zM780 1263h80v2h-80zM860 1263h31.5v2h-31.5zM1124 1281h15.5v2h-15.5zM665 1287h112.5v2h-112.5zM1264.2 1287h4.2v2h-4.2zM1142 1293h41.5v2h-41.5zM1186 1293h36v2h-36zM1224 1293h14.5v2h-14.5zM1264.2 1293h4.2v2h-4.2zM1270.6 1293h4.4v2h-4.4zM1007.5 1299h35v2h-35zM1142 1299h41.5v2h-41.5zM1241 1299h9.8v2h-9.8zM1264.2 1299h4.2v2h-4.2zM1270.6 1299h4.4v2h-4.4zM1007.5 1301h35v2h-35zM1186 1301h36v2h-36zM1224 1301h14.5v2h-14.5zM1270.6 1301h4.4v2h-4.4zM1007.5 1313h35v2h-35zM1142 1313h41.5v2h-41.5zM1186 1313h36v2h-36zM1241 1313h9.8v2h-9.8zM1253 1313h9v2h-9zM1142 1323h41.5v2h-41.5zM1186 1323h36v2h-36zM1224 1323h14.5v2h-14.5zM1241 1323h9.8v2h-9.8zM1264.2 1323h4.2v2h-4.2zM1007.5 1329h35v2h-35zM1142 1329h41.5v2h-41.5zM1224 1329h14.5v2h-14.5zM1241 1329h9.8v2h-9.8zM1253 1329h9v2h-9zM1264.2 1329h4.2v2h-4.2zM1270.6 1329h4.4v2h-4.4zM1142 1333h41.5v2h-41.5zM1186 1333h36v2h-36zM1241 1333h9.8v2h-9.8zM1253 1333h9v2h-9zM1007.5 1337h35v2h-35zM1142 1337h41.5v2h-41.5zM1186 1337h36v2h-36zM1224 1337h14.5v2h-14.5zM1241 1337h9.8v2h-9.8zM1253 1337h9v2h-9zM1264.2 1337h4.2v2h-4.2zM622.4 1359h42.6v2h-42.6zM622.4 1363h42.6v2h-42.6zM780 1363h80v2h-80zM860 1363h31.5v2h-31.5zM1007.5 1363h35v2h-35zM1186 1363h36v2h-36zM1241 1363h9.8v2h-9.8zM1264.2 1363h4.2v2h-4.2zM1270.6 1363h4.4v2h-4.4zM622.4 1369h42.6v2h-42.6zM622.4 1373h42.6v2h-42.6zM665 1373h112.5v2h-112.5zM860 1373h31.5v2h-31.5zM1142 1373h41.5v2h-41.5zM1186 1373h36v2h-36zM1253 1373h9v2h-9zM1264.2 1373h4.2v2h-4.2zM622.4 1377h42.6v2h-42.6zM860 1377h31.5v2h-31.5zM1264.2 1377h4.2v2h-4.2zM1270.6 1377h4.4v2h-4.4zM860 1379h31.5v2h-31.5zM1142 1379h41.5v2h-41.5zM1253 1379h9v2h-9zM1264.2 1379h4.2v2h-4.2zM622.4 1387h42.6v2h-42.6zM780 1387h80v2h-80zM860 1387h31.5v2h-31.5zM1007.5 1387h35v2h-35zM1142 1387h41.5v2h-41.5zM1224 1387h14.5v2h-14.5zM622.4 1401h42.6v2h-42.6zM860 1401h31.5v2h-31.5zM622.4 1413h42.6v2h-42.6zM665 1413h112.5v2h-112.5zM780 1413h80v2h-80zM860 1413h31.5v2h-31.5zM1142 1413h41.5v2h-41.5zM1224 1413h14.5v2h-14.5zM1253 1413h9v2h-9zM1224 1421h14.5v2h-14.5zM1253 1421h9v2h-9zM780 1425h80v2h-80zM860 1425h31.5v2h-31.5zM1241 1425h9.8v2h-9.8zM1253 1425h9v2h-9zM1264.2 1425h4.2v2h-4.2zM860 1431h31.5v2h-31.5zM860 1437h31.5v2h-31.5zM1124 1437h15.5v2h-15.5zM1224 1437h14.5v2h-14.5zM1241 1437h9.8v2h-9.8zM1253 1437h9v2h-9zM1264.2 1437h4.2v2h-4.2zM780 1439h80v2h-80zM1124 1439h15.5v2h-15.5zM1224 1439h14.5v2h-14.5zM1241 1439h9.8v2h-9.8zM1253 1439h9v2h-9zM1264.2 1439h4.2v2h-4.2zM1270.6 1439h4.4v2h-4.4zM860 1445h31.5v2h-31.5zM780 1457h80v2h-80zM1264.2 1457h4.2v2h-4.2zM1264.2 1463h4.2v2h-4.2zM1142 1465h41.5v2h-41.5zM1241 1465h9.8v2h-9.8zM1270.6 1465h4.4v2h-4.4zM1124 1469h15.5v2h-15.5zM1142 1469h41.5v2h-41.5zM1264.2 1469h4.2v2h-4.2zM1270.6 1469h4.4v2h-4.4zM1241 1471h9.8v2h-9.8zM1142 1473h41.5v2h-41.5zM1264.2 1473h4.2v2h-4.2zM1270.6 1473h4.4v2h-4.4zM1142 1479h41.5v2h-41.5zM1253 1479h9v2h-9zM1264.2 1479h4.2v2h-4.2zM1253 1487h9v2h-9zM1264.2 1487h4.2v2h-4.2zM1270.6 1487h4.4v2h-4.4z"/>
<path fill="#840c9c" d="M1142 1131h41.5v2h-41.5zM1264.2 1131h4.2v2h-4.2zM1142 1135h41.5v2h-41.5zM1264.2 1141h4.2v2h-4.2zM1270.6 1155h4.4v2h-4.4zM1270.6 1165h4.4v2h-4.4zM1270.6 1175h4.4v2h-4.4zM1142 1177h41.5v2h-41.5zM1264.2 1181h4.2v2h-4.2zM1264.2 1187h4.2v2h-4.2zM1142 1191h41.5v2h-41.5zM1270.6 1199h4.4v2h-4.4zM1270.6 1201h4.4v2h-4.4zM1270.6 1215h4.4v2h-4.4zM1270.6 1221h4.4v2h-4.4zM1142 1589h41.5v2h-41.5z"/>
<path fill="#540c60" d="M1186 1131h36v2h-36zM1186 1135h36v2h-36zM1142 1153h41.5v2h-41.5zM1186 1153h36v2h-36zM1124 1159h15.5v2h-15.5zM1044.5 1163h44v2h-44zM1124 1163h15.5v2h-15.5zM1044.5 1167h44v2h-44zM1124 1167h15.5v2h-15.5zM1124 1171h15.5v2h-15.5zM622.4 1177h42.6v2h-42.6zM665 1177h112.5v2h-112.5zM665 1179h112.5v2h-112.5zM1124 1179h15.5v2h-15.5zM1044.5 1183h44v2h-44zM1186 1187h36v2h-36zM622.4 1191h42.6v2h-42.6zM1044.5 1191h44v2h-44zM1124 1195h15.5v2h-15.5zM1044.5 1207h44v2h-44zM1124 1207h15.5v2h-15.5zM665 1209h112.5v2h-112.5zM1124 1209h15.5v2h-15.5zM1044.5 1211h44v2h-44zM1124 1211h15.5v2h-15.5zM665 1213h112.5v2h-112.5zM1044.5 1213h44v2h-44zM1264.2 1213h4.2v2h-4.2zM622.4 1225h42.6v2h-42.6zM622.4 1233h42.6v2h-42.6zM665 1233h112.5v2h-112.5zM1124 1233h15.5v2h-15.5zM1264.2 1233h4.2v2h-4.2zM622.4 1235h42.6v2h-42.6zM1124 1235h15.5v2h-15.5zM1124 1241h15.5v2h-15.5zM665 1481h112.5v2h-112.5zM1044.5 1483h44v2h-44zM1142 1583h41.5v2h-41.5zM1270.6 1583h4.4v2h-4.4zM1142 1587h41.5v2h-41.5z"/>
<path fill="#240030" d="M1224 1131h14.5v2h-14.5zM1241 1135h9.8v2h-9.8zM1224 1137h14.5v2h-14.5zM1090.5 1153h31.5v2h-31.5zM1253 1157h9v2h-9zM1224 1187h14.5v2h-14.5zM1241 1187h9.8v2h-9.8zM1224 1189h14.5v2h-14.5zM665 1245h112.5v2h-112.5zM780 1245h80v2h-80zM1264.2 1247h4.2v2h-4.2zM665 1251h112.5v2h-112.5zM1124 1251h15.5v2h-15.5zM1124 1253h15.5v2h-15.5zM665 1255h112.5v2h-112.5zM780 1259h80v2h-80zM1044.5 1263h44v2h-44zM1044.5 1283h44v2h-44zM622.4 1287h42.6v2h-42.6zM1044.5 1287h44v2h-44zM1124 1287h15.5v2h-15.5zM622.4 1289h42.6v2h-42.6zM1241 1293h9.8v2h-9.8zM1253 1293h9v2h-9zM1186 1299h36v2h-36zM1253 1299h9v2h-9zM1224 1313h14.5v2h-14.5zM1270.6 1313h4.4v2h-4.4zM1007.5 1323h35v2h-35zM1253 1323h9v2h-9zM1270.6 1323h4.4v2h-4.4zM1142 1331h41.5v2h-41.5zM1241 1331h9.8v2h-9.8zM1007.5 1333h35v2h-35zM1224 1333h14.5v2h-14.5zM1264.2 1333h4.2v2h-4.2zM1270.6 1333h4.4v2h-4.4zM1270.6 1337h4.4v2h-4.4zM860 1347h31.5v2h-31.5zM780 1357h80v2h-80zM1253 1357h9v2h-9zM665 1363h112.5v2h-112.5zM1142 1363h41.5v2h-41.5zM1224 1363h14.5v2h-14.5zM1253 1363h9v2h-9zM780 1373h80v2h-80zM1007.5 1373h35v2h-35zM1241 1373h9.8v2h-9.8zM1270.6 1373h4.4v2h-4.4zM1224 1377h14.5v2h-14.5zM1241 1377h9.8v2h-9.8zM1253 1377h9v2h-9zM665 1379h112.5v2h-112.5zM622.4 1383h42.6v2h-42.6zM1186 1387h36v2h-36zM1264.2 1387h4.2v2h-4.2zM1270.6 1387h4.4v2h-4.4zM665 1395h112.5v2h-112.5zM665 1401h112.5v2h-112.5zM780 1401h80v2h-80zM860 1417h31.5v2h-31.5zM1241 1421h9.8v2h-9.8zM622.4 1425h42.6v2h-42.6zM1270.6 1425h4.4v2h-4.4zM1224 1429h14.5v2h-14.5zM1253 1429h9v2h-9zM1270.6 1429h4.4v2h-4.4zM1270.6 1431h4.4v2h-4.4zM860 1435h31.5v2h-31.5zM780 1437h80v2h-80zM1270.6 1437h4.4v2h-4.4zM1124 1443h15.5v2h-15.5zM1264.2 1445h4.2v2h-4.2zM1270.6 1445h4.4v2h-4.4zM780 1451h80v2h-80zM860 1451h31.5v2h-31.5zM1241 1451h9.8v2h-9.8zM860 1459h31.5v2h-31.5zM622.4 1463h42.6v2h-42.6zM780 1463h80v2h-80zM860 1463h31.5v2h-31.5zM1124 1463h15.5v2h-15.5zM1241 1463h9.8v2h-9.8zM1124 1465h15.5v2h-15.5zM1253 1465h9v2h-9zM1264.2 1465h4.2v2h-4.2zM1241 1469h9.8v2h-9.8zM1253 1469h9v2h-9zM1264.2 1471h4.2v2h-4.2zM1124 1473h15.5v2h-15.5zM1241 1473h9.8v2h-9.8zM1253 1473h9v2h-9zM1142 1475h41.5v2h-41.5zM1241 1479h9.8v2h-9.8zM1124 1487h15.5v2h-15.5zM1241 1487h9.8v2h-9.8zM1241 1491h9.8v2h-9.8zM1241 1497h9.8v2h-9.8zM1270.6 1497h4.4v2h-4.4z"/>
<path fill="#6c5418" d="M1241 1131h9.8v2h-9.8zM1090.5 1475h31.5v2h-31.5zM1007.5 1491h35v2h-35z"/>
<path fill="#780c90" d="M1270.6 1131h4.4v2h-4.4zM1270.6 1135h4.4v2h-4.4zM1007.5 1137h35v2h-35zM1270.6 1137h4.4v2h-4.4zM1270.6 1153h4.4v2h-4.4zM1186 1171h36v2h-36zM1270.6 1187h4.4v2h-4.4zM1270.6 1197h4.4v2h-4.4zM1270.6 1205h4.4v2h-4.4zM1270.6 1229h4.4v2h-4.4z"/>
<path fill="#3c2418" d="M780 1133h80v2h-80zM860 1133h31.5v2h-31.5zM780 1135h80v2h-80zM780 1139h80v2h-80zM860 1139h31.5v2h-31.5zM780 1141h80v2h-80zM780 1145h80v2h-80zM860 1145h31.5v2h-31.5zM780 1151h80v2h-80zM780 1153h80v2h-80zM894 1165h111v2h-111zM894 1171h111v2h-111zM894 1175h111v2h-111zM894 1189h111v2h-111zM1007.5 1193h35v2h-35zM1090.5 1193h31.5v2h-31.5zM1142 1193h41.5v2h-41.5zM1186 1193h36v2h-36zM1224 1193h14.5v2h-14.5zM1241 1193h9.8v2h-9.8zM1253 1193h9v2h-9zM1007.5 1195h35v2h-35zM1186 1195h36v2h-36zM1186 1197h36v2h-36zM1007.5 1199h35v2h-35zM1090.5 1199h31.5v2h-31.5zM1142 1199h41.5v2h-41.5zM1186 1199h36v2h-36zM1224 1199h14.5v2h-14.5zM1241 1199h9.8v2h-9.8zM1253 1199h9v2h-9zM1090.5 1201h31.5v2h-31.5zM1142 1201h41.5v2h-41.5zM1186 1201h36v2h-36zM1224 1201h14.5v2h-14.5zM1241 1201h9.8v2h-9.8zM1253 1201h9v2h-9zM1090.5 1203h31.5v2h-31.5zM1186 1203h36v2h-36zM1241 1203h9.8v2h-9.8zM1090.5 1205h31.5v2h-31.5zM1142 1205h41.5v2h-41.5zM1241 1205h9.8v2h-9.8zM1224 1207h14.5v2h-14.5zM1142 1209h41.5v2h-41.5zM1224 1211h14.5v2h-14.5zM1186 1213h36v2h-36zM1007.5 1215h35v2h-35zM1090.5 1215h31.5v2h-31.5zM1186 1215h36v2h-36zM1224 1215h14.5v2h-14.5zM1253 1215h9v2h-9zM1007.5 1217h35v2h-35zM1090.5 1217h31.5v2h-31.5zM1142 1217h41.5v2h-41.5zM1186 1217h36v2h-36zM1224 1217h14.5v2h-14.5zM1241 1217h9.8v2h-9.8zM1253 1217h9v2h-9zM1007.5 1219h35v2h-35zM1142 1219h41.5v2h-41.5zM1186 1219h36v2h-36zM1224 1219h14.5v2h-14.5zM1007.5 1221h35v2h-35zM1142 1221h41.5v2h-41.5zM1224 1221h14.5v2h-14.5zM1241 1221h9.8v2h-9.8zM1007.5 1223h35v2h-35zM1090.5 1223h31.5v2h-31.5zM1142 1223h41.5v2h-41.5zM1186 1223h36v2h-36zM1224 1223h14.5v2h-14.5zM1241 1223h9.8v2h-9.8zM1253 1223h9v2h-9zM1090.5 1225h31.5v2h-31.5zM1224 1225h14.5v2h-14.5zM1007.5 1237h35v2h-35zM1090.5 1237h31.5v2h-31.5zM1241 1237h9.8v2h-9.8zM1253 1237h9v2h-9zM1007.5 1241h35v2h-35zM1186 1241h36v2h-36zM1241 1241h9.8v2h-9.8zM1090.5 1301h31.5v2h-31.5zM1124 1301h15.5v2h-15.5zM1090.5 1303h31.5v2h-31.5zM1124 1303h15.5v2h-15.5zM1090.5 1307h31.5v2h-31.5zM1124 1307h15.5v2h-15.5zM1090.5 1309h31.5v2h-31.5zM1124 1309h15.5v2h-15.5zM1090.5 1325h31.5v2h-31.5zM1124 1325h15.5v2h-15.5zM1090.5 1329h31.5v2h-31.5zM1090.5 1331h31.5v2h-31.5zM1124 1331h15.5v2h-15.5zM1090.5 1337h31.5v2h-31.5zM1090.5 1343h31.5v2h-31.5zM1124 1343h15.5v2h-15.5zM1044.5 1345h44v2h-44zM1044.5 1353h44v2h-44zM1044.5 1357h44v2h-44zM1044.5 1361h44v2h-44zM1044.5 1369h44v2h-44zM1044.5 1379h44v2h-44zM1044.5 1383h44v2h-44zM1044.5 1387h44v2h-44zM1044.5 1395h44v2h-44zM1044.5 1401h44v2h-44zM1090.5 1417h31.5v2h-31.5zM1090.5 1421h31.5v2h-31.5zM1090.5 1425h31.5v2h-31.5zM1090.5 1429h31.5v2h-31.5zM1090.5 1431h31.5v2h-31.5zM1090.5 1437h31.5v2h-31.5zM1090.5 1441h31.5v2h-31.5zM1090.5 1443h31.5v2h-31.5zM1090.5 1445h31.5v2h-31.5zM1090.5 1449h31.5v2h-31.5zM1090.5 1451h31.5v2h-31.5zM1090.5 1457h31.5v2h-31.5zM1090.5 1459h31.5v2h-31.5zM1090.5 1461h31.5v2h-31.5zM1007.5 1471h35v2h-35zM1007.5 1477h35v2h-35zM1007.5 1479h35v2h-35zM1007.5 1495h35v2h-35zM1007.5 1497h35v2h-35zM1186 1575h36v2h-36zM1224 1575h14.5v2h-14.5zM894 1683h111v2h-111zM1044.5 1683h44v2h-44zM1090.5 1683h31.5v2h-31.5zM1142 1683h41.5v2h-41.5zM1253 1683h9v2h-9z"/>
<path fill="#3c0c3c" d="M894 1133h111v2h-111zM1124 1133h15.5v2h-15.5zM1124 1135h15.5v2h-15.5zM894 1137h111v2h-111zM894 1139h111v2h-111zM1124 1139h15.5v2h-15.5zM894 1141h111v2h-111zM1124 1141h15.5v2h-15.5zM1224 1143h14.5v2h-14.5zM1253 1143h9v2h-9zM894 1145h111v2h-111zM1124 1145h15.5v2h-15.5zM1090.5 1149h31.5v2h-31.5zM1224 1149h14.5v2h-14.5zM1253 1149h9v2h-9zM1224 1151h14.5v2h-14.5zM1241 1151h9.8v2h-9.8zM1253 1151h9v2h-9zM1007.5 1153h35v2h-35zM1124 1157h15.5v2h-15.5zM1253 1159h9v2h-9zM1224 1163h14.5v2h-14.5zM1007.5 1165h35v2h-35zM1241 1167h9.8v2h-9.8zM1253 1167h9v2h-9zM622.4 1171h42.6v2h-42.6zM1253 1171h9v2h-9zM1007.5 1175h35v2h-35zM1241 1177h9.8v2h-9.8zM1253 1177h9v2h-9zM1090.5 1179h31.5v2h-31.5zM622.4 1183h42.6v2h-42.6zM1090.5 1183h31.5v2h-31.5zM1224 1183h14.5v2h-14.5zM1007.5 1185h35v2h-35zM1124 1187h15.5v2h-15.5zM665 1189h112.5v2h-112.5zM1044.5 1189h44v2h-44zM1124 1189h15.5v2h-15.5zM1090.5 1191h31.5v2h-31.5zM665 1197h112.5v2h-112.5zM1044.5 1197h44v2h-44zM1124 1197h15.5v2h-15.5zM1044.5 1205h44v2h-44zM1124 1205h15.5v2h-15.5zM1124 1215h15.5v2h-15.5zM1124 1221h15.5v2h-15.5zM1264.2 1221h4.2v2h-4.2zM1124 1229h15.5v2h-15.5zM665 1237h112.5v2h-112.5zM1044.5 1237h44v2h-44zM1124 1237h15.5v2h-15.5zM1264.2 1237h4.2v2h-4.2zM1124 1243h15.5v2h-15.5zM1264.2 1243h4.2v2h-4.2zM1044.5 1261h44v2h-44zM1270.6 1263h4.4v2h-4.4zM622.4 1267h42.6v2h-42.6zM665 1267h112.5v2h-112.5zM1044.5 1267h44v2h-44zM1264.2 1267h4.2v2h-4.2zM1270.6 1269h4.4v2h-4.4zM665 1275h112.5v2h-112.5zM780 1275h80v2h-80zM860 1275h31.5v2h-31.5zM1270.6 1281h4.4v2h-4.4zM1270.6 1283h4.4v2h-4.4zM780 1285h80v2h-80zM860 1289h31.5v2h-31.5zM1270.6 1291h4.4v2h-4.4zM1186 1295h36v2h-36zM1224 1295h14.5v2h-14.5zM1270.6 1295h4.4v2h-4.4zM1007.5 1297h35v2h-35zM1224 1297h14.5v2h-14.5zM1241 1297h9.8v2h-9.8zM1270.6 1297h4.4v2h-4.4zM1270.6 1303h4.4v2h-4.4zM1253 1305h9v2h-9zM1264.2 1305h4.2v2h-4.2zM894 1307h111v2h-111zM1224 1307h14.5v2h-14.5zM894 1309h111v2h-111zM1142 1311h41.5v2h-41.5zM1186 1311h36v2h-36zM1224 1311h14.5v2h-14.5zM1241 1311h9.8v2h-9.8zM1270.6 1311h4.4v2h-4.4zM1007.5 1315h35v2h-35zM1186 1315h36v2h-36zM1224 1315h14.5v2h-14.5zM1241 1315h9.8v2h-9.8zM1264.2 1315h4.2v2h-4.2zM1270.6 1315h4.4v2h-4.4zM1264.2 1317h4.2v2h-4.2zM1142 1319h41.5v2h-41.5zM1224 1319h14.5v2h-14.5zM1241 1319h9.8v2h-9.8zM1270.6 1319h4.4v2h-4.4zM1007.5 1321h35v2h-35zM1142 1321h41.5v2h-41.5zM1224 1321h14.5v2h-14.5zM1241 1321h9.8v2h-9.8zM1270.6 1321h4.4v2h-4.4zM894 1325h111v2h-111zM1224 1327h14.5v2h-14.5zM894 1331h111v2h-111zM1224 1335h14.5v2h-14.5zM1253 1335h9v2h-9zM1007.5 1339h35v2h-35zM1186 1339h36v2h-36zM1264.2 1339h4.2v2h-4.2zM894 1341h111v2h-111zM1241 1341h9.8v2h-9.8zM665 1349h112.5v2h-112.5zM780 1349h80v2h-80zM1007.5 1349h35v2h-35zM1186 1349h36v2h-36zM1224 1349h14.5v2h-14.5zM1241 1349h9.8v2h-9.8zM1253 1349h9v2h-9zM1270.6 1349h4.4v2h-4.4zM780 1351h80v2h-80zM860 1351h31.5v2h-31.5zM1186 1351h36v2h-36zM1253 1351h9v2h-9zM665 1355h112.5v2h-112.5zM1142 1355h41.5v2h-41.5zM1186 1355h36v2h-36zM1264.2 1355h4.2v2h-4.2zM1142 1359h41.5v2h-41.5zM1224 1359h14.5v2h-14.5zM1270.6 1359h4.4v2h-4.4zM665 1365h112.5v2h-112.5zM1186 1365h36v2h-36zM1253 1365h9v2h-9zM1007.5 1375h35v2h-35zM1142 1375h41.5v2h-41.5zM1186 1375h36v2h-36zM1224 1375h14.5v2h-14.5zM1241 1375h9.8v2h-9.8zM1253 1375h9v2h-9zM1264.2 1375h4.2v2h-4.2zM1270.6 1375h4.4v2h-4.4zM780 1381h80v2h-80zM860 1381h31.5v2h-31.5zM1186 1381h36v2h-36zM1241 1381h9.8v2h-9.8zM1270.6 1381h4.4v2h-4.4zM780 1383h80v2h-80zM1007.5 1383h35v2h-35zM1270.6 1391h4.4v2h-4.4zM780 1393h80v2h-80zM860 1393h31.5v2h-31.5zM1186 1393h36v2h-36zM780 1399h80v2h-80zM1007.5 1399h35v2h-35zM1142 1399h41.5v2h-41.5zM1186 1399h36v2h-36zM1224 1399h14.5v2h-14.5zM1241 1399h9.8v2h-9.8zM1253 1399h9v2h-9zM1264.2 1399h4.2v2h-4.2zM1270.6 1399h4.4v2h-4.4zM780 1403h80v2h-80zM1007.5 1403h35v2h-35zM1142 1403h41.5v2h-41.5zM1186 1403h36v2h-36zM1253 1403h9v2h-9zM780 1407h80v2h-80zM1186 1407h36v2h-36zM1253 1407h9v2h-9zM622.4 1409h42.6v2h-42.6zM665 1409h112.5v2h-112.5zM780 1409h80v2h-80zM860 1409h31.5v2h-31.5zM1007.5 1409h35v2h-35zM1142 1409h41.5v2h-41.5zM1186 1409h36v2h-36zM1224 1409h14.5v2h-14.5zM1241 1409h9.8v2h-9.8zM1264.2 1409h4.2v2h-4.2zM1270.6 1409h4.4v2h-4.4zM665 1411h112.5v2h-112.5zM1142 1411h41.5v2h-41.5zM1241 1411h9.8v2h-9.8zM1253 1411h9v2h-9zM1264.2 1411h4.2v2h-4.2zM1270.6 1411h4.4v2h-4.4zM1044.5 1415h44v2h-44zM665 1417h112.5v2h-112.5zM1224 1419h14.5v2h-14.5zM1270.6 1419h4.4v2h-4.4zM622.4 1421h42.6v2h-42.6zM1124 1423h15.5v2h-15.5zM622.4 1427h42.6v2h-42.6zM665 1427h112.5v2h-112.5zM1241 1427h9.8v2h-9.8zM665 1429h112.5v2h-112.5zM1044.5 1429h44v2h-44zM665 1431h112.5v2h-112.5zM1044.5 1431h44v2h-44zM622.4 1433h42.6v2h-42.6zM1253 1433h9v2h-9zM665 1435h112.5v2h-112.5zM1044.5 1441h44v2h-44zM665 1443h112.5v2h-112.5zM665 1445h112.5v2h-112.5zM1044.5 1445h44v2h-44zM622.4 1447h42.6v2h-42.6zM780 1447h80v2h-80zM860 1447h31.5v2h-31.5zM1124 1447h15.5v2h-15.5zM1224 1447h14.5v2h-14.5zM1241 1447h9.8v2h-9.8zM1253 1447h9v2h-9zM1264.2 1447h4.2v2h-4.2zM1270.6 1447h4.4v2h-4.4zM622.4 1449h42.6v2h-42.6zM1224 1449h14.5v2h-14.5zM1241 1449h9.8v2h-9.8zM1253 1449h9v2h-9zM665 1451h112.5v2h-112.5zM665 1457h112.5v2h-112.5zM1044.5 1457h44v2h-44zM1044.5 1459h44v2h-44zM622.4 1461h42.6v2h-42.6zM780 1461h80v2h-80zM1264.2 1461h4.2v2h-4.2zM665 1465h112.5v2h-112.5zM1044.5 1465h44v2h-44zM1264.2 1467h4.2v2h-4.2zM665 1469h112.5v2h-112.5zM1044.5 1469h44v2h-44zM780 1471h80v2h-80zM665 1473h112.5v2h-112.5zM1044.5 1473h44v2h-44zM780 1475h80v2h-80zM860 1475h31.5v2h-31.5zM622.4 1479h42.6v2h-42.6zM780 1479h80v2h-80zM860 1479h31.5v2h-31.5zM1142 1481h41.5v2h-41.5zM1253 1481h9v2h-9zM1270.6 1481h4.4v2h-4.4zM622.4 1483h42.6v2h-42.6zM860 1483h31.5v2h-31.5zM1142 1483h41.5v2h-41.5zM1253 1483h9v2h-9zM1264.2 1483h4.2v2h-4.2zM1270.6 1483h4.4v2h-4.4zM622.4 1487h42.6v2h-42.6zM665 1487h112.5v2h-112.5zM780 1487h80v2h-80zM780 1489h80v2h-80zM622.4 1491h42.6v2h-42.6zM780 1491h80v2h-80zM860 1491h31.5v2h-31.5zM780 1493h80v2h-80zM622.4 1495h42.6v2h-42.6zM780 1495h80v2h-80zM860 1497h31.5v2h-31.5zM1044.5 1499h44v2h-44zM1124 1499h15.5v2h-15.5z"/>
<path fill="#900ca8" d="M1007.5 1133h35v2h-35zM1264.2 1133h4.2v2h-4.2zM1270.6 1133h4.4v2h-4.4zM1270.6 1139h4.4v2h-4.4zM1007.5 1141h35v2h-35zM1270.6 1141h4.4v2h-4.4zM1142 1145h41.5v2h-41.5zM1264.2 1145h4.2v2h-4.2zM1270.6 1145h4.4v2h-4.4zM1264.2 1165h4.2v2h-4.2zM1264.2 1185h4.2v2h-4.2zM1270.6 1185h4.4v2h-4.4zM1270.6 1193h4.4v2h-4.4zM1270.6 1217h4.4v2h-4.4zM1270.6 1219h4.4v2h-4.4zM1270.6 1223h4.4v2h-4.4z"/>
<path fill="#300c30" d="M1090.5 1133h31.5v2h-31.5zM1224 1133h14.5v2h-14.5zM1241 1133h9.8v2h-9.8zM1253 1133h9v2h-9zM894 1135h111v2h-111zM1090.5 1135h31.5v2h-31.5zM1224 1135h14.5v2h-14.5zM1253 1135h9v2h-9zM1124 1137h15.5v2h-15.5zM1090.5 1139h31.5v2h-31.5zM1224 1139h14.5v2h-14.5zM1253 1139h9v2h-9zM1090.5 1141h31.5v2h-31.5zM1224 1141h14.5v2h-14.5zM1241 1141h9.8v2h-9.8zM1253 1141h9v2h-9zM1090.5 1145h31.5v2h-31.5zM1224 1145h14.5v2h-14.5zM1241 1145h9.8v2h-9.8zM1253 1145h9v2h-9zM1090.5 1151h31.5v2h-31.5zM1224 1153h14.5v2h-14.5zM1241 1153h9.8v2h-9.8zM1090.5 1155h31.5v2h-31.5zM1241 1155h9.8v2h-9.8zM1253 1155h9v2h-9zM1007.5 1157h35v2h-35zM1090.5 1159h31.5v2h-31.5zM1224 1159h14.5v2h-14.5zM1241 1159h9.8v2h-9.8zM1241 1163h9.8v2h-9.8zM1253 1163h9v2h-9zM1090.5 1165h31.5v2h-31.5zM1224 1165h14.5v2h-14.5zM1253 1165h9v2h-9zM1090.5 1167h31.5v2h-31.5zM1224 1167h14.5v2h-14.5zM1090.5 1169h31.5v2h-31.5zM1224 1169h14.5v2h-14.5zM1253 1169h9v2h-9zM1224 1171h14.5v2h-14.5zM1090.5 1175h31.5v2h-31.5zM1224 1175h14.5v2h-14.5zM1241 1175h9.8v2h-9.8zM1253 1175h9v2h-9zM1090.5 1177h31.5v2h-31.5zM1224 1181h14.5v2h-14.5zM1241 1181h9.8v2h-9.8zM1253 1181h9v2h-9zM1253 1183h9v2h-9zM1090.5 1185h31.5v2h-31.5zM1224 1185h14.5v2h-14.5zM1241 1185h9.8v2h-9.8zM1253 1185h9v2h-9zM622.4 1187h42.6v2h-42.6zM1007.5 1187h35v2h-35zM1007.5 1189h35v2h-35zM622.4 1197h42.6v2h-42.6zM622.4 1221h42.6v2h-42.6zM665 1243h112.5v2h-112.5zM780 1243h80v2h-80zM1270.6 1245h4.4v2h-4.4zM665 1247h112.5v2h-112.5zM780 1247h80v2h-80zM1044.5 1247h44v2h-44zM665 1249h112.5v2h-112.5zM780 1249h80v2h-80zM860 1249h31.5v2h-31.5zM1044.5 1249h44v2h-44zM1124 1249h15.5v2h-15.5zM1264.2 1249h4.2v2h-4.2zM780 1251h80v2h-80zM1044.5 1251h44v2h-44zM1264.2 1251h4.2v2h-4.2zM1270.6 1253h4.4v2h-4.4zM1270.6 1257h4.4v2h-4.4zM1270.6 1259h4.4v2h-4.4zM622.4 1261h42.6v2h-42.6zM665 1261h112.5v2h-112.5zM780 1261h80v2h-80zM665 1263h112.5v2h-112.5zM1264.2 1263h4.2v2h-4.2zM665 1269h112.5v2h-112.5zM780 1269h80v2h-80zM1044.5 1269h44v2h-44zM1124 1269h15.5v2h-15.5zM1264.2 1269h4.2v2h-4.2zM780 1271h80v2h-80zM1044.5 1271h44v2h-44zM1124 1271h15.5v2h-15.5zM1264.2 1271h4.2v2h-4.2zM1044.5 1275h44v2h-44zM1264.2 1275h4.2v2h-4.2zM665 1277h112.5v2h-112.5zM780 1277h80v2h-80zM860 1277h31.5v2h-31.5zM1044.5 1277h44v2h-44zM1124 1277h15.5v2h-15.5zM1264.2 1277h4.2v2h-4.2zM665 1281h112.5v2h-112.5zM780 1281h80v2h-80zM860 1281h31.5v2h-31.5zM1044.5 1281h44v2h-44zM1264.2 1281h4.2v2h-4.2zM665 1283h112.5v2h-112.5zM780 1283h80v2h-80zM860 1283h31.5v2h-31.5zM1124 1283h15.5v2h-15.5zM1264.2 1283h4.2v2h-4.2zM622.4 1285h42.6v2h-42.6zM665 1285h112.5v2h-112.5zM1044.5 1285h44v2h-44zM1124 1285h15.5v2h-15.5zM780 1287h80v2h-80zM665 1289h112.5v2h-112.5zM1044.5 1289h44v2h-44zM1124 1289h15.5v2h-15.5zM1264.2 1289h4.2v2h-4.2zM665 1291h112.5v2h-112.5zM780 1291h80v2h-80zM860 1291h31.5v2h-31.5zM1044.5 1291h44v2h-44zM1124 1291h15.5v2h-15.5zM665 1293h112.5v2h-112.5zM1007.5 1295h35v2h-35zM1142 1295h41.5v2h-41.5zM1241 1295h9.8v2h-9.8zM1253 1295h9v2h-9zM665 1299h112.5v2h-112.5zM894 1301h111v2h-111zM1142 1301h41.5v2h-41.5zM1241 1301h9.8v2h-9.8zM1264.2 1301h4.2v2h-4.2zM1007.5 1303h35v2h-35zM1142 1303h41.5v2h-41.5zM1224 1303h14.5v2h-14.5zM1253 1303h9v2h-9zM1264.2 1303h4.2v2h-4.2zM1007.5 1305h35v2h-35zM1142 1305h41.5v2h-41.5zM1186 1305h36v2h-36zM1224 1305h14.5v2h-14.5zM1241 1305h9.8v2h-9.8zM1241 1307h9.8v2h-9.8zM1253 1307h9v2h-9zM1270.6 1307h4.4v2h-4.4zM1007.5 1309h35v2h-35zM1142 1309h41.5v2h-41.5zM1186 1309h36v2h-36zM1224 1309h14.5v2h-14.5zM1241 1309h9.8v2h-9.8zM1253 1309h9v2h-9zM1264.2 1309h4.2v2h-4.2zM622.4 1313h42.6v2h-42.6zM780 1313h80v2h-80zM860 1313h31.5v2h-31.5zM894 1313h111v2h-111zM1142 1315h41.5v2h-41.5zM1253 1315h9v2h-9zM622.4 1317h42.6v2h-42.6zM1007.5 1317h35v2h-35zM1142 1317h41.5v2h-41.5zM1224 1317h14.5v2h-14.5zM1253 1317h9v2h-9zM1270.6 1317h4.4v2h-4.4zM1007.5 1319h35v2h-35zM1186 1319h36v2h-36zM1253 1319h9v2h-9zM1186 1321h36v2h-36zM1253 1321h9v2h-9zM622.4 1323h42.6v2h-42.6zM665 1323h112.5v2h-112.5zM894 1323h111v2h-111zM1007.5 1325h35v2h-35zM1186 1325h36v2h-36zM1224 1325h14.5v2h-14.5zM1241 1325h9.8v2h-9.8zM1264.2 1325h4.2v2h-4.2zM1270.6 1325h4.4v2h-4.4zM1007.5 1327h35v2h-35zM1241 1327h9.8v2h-9.8zM1264.2 1327h4.2v2h-4.2zM1270.6 1327h4.4v2h-4.4zM894 1329h111v2h-111zM1186 1329h36v2h-36zM622.4 1331h42.6v2h-42.6zM1186 1331h36v2h-36zM1224 1331h14.5v2h-14.5zM1253 1331h9v2h-9zM1264.2 1331h4.2v2h-4.2zM1270.6 1331h4.4v2h-4.4zM894 1333h111v2h-111zM1007.5 1335h35v2h-35zM1186 1335h36v2h-36zM1241 1335h9.8v2h-9.8zM1264.2 1335h4.2v2h-4.2zM1270.6 1335h4.4v2h-4.4zM780 1337h80v2h-80zM1142 1341h41.5v2h-41.5zM1186 1341h36v2h-36zM1253 1341h9v2h-9zM1224 1343h14.5v2h-14.5zM1270.6 1343h4.4v2h-4.4zM665 1345h112.5v2h-112.5zM780 1345h80v2h-80zM1007.5 1345h35v2h-35zM1142 1345h41.5v2h-41.5zM1186 1345h36v2h-36zM1224 1345h14.5v2h-14.5zM1241 1345h9.8v2h-9.8zM1253 1345h9v2h-9zM1264.2 1345h4.2v2h-4.2zM1270.6 1345h4.4v2h-4.4zM780 1347h80v2h-80zM1007.5 1347h35v2h-35zM1142 1347h41.5v2h-41.5zM1186 1347h36v2h-36zM1241 1347h9.8v2h-9.8zM1264.2 1347h4.2v2h-4.2zM1270.6 1347h4.4v2h-4.4zM622.4 1349h42.6v2h-42.6zM860 1349h31.5v2h-31.5zM1264.2 1349h4.2v2h-4.2zM622.4 1351h42.6v2h-42.6zM1224 1351h14.5v2h-14.5zM1241 1351h9.8v2h-9.8zM1264.2 1351h4.2v2h-4.2zM665 1353h112.5v2h-112.5zM780 1353h80v2h-80zM860 1353h31.5v2h-31.5zM1007.5 1353h35v2h-35zM1142 1353h41.5v2h-41.5zM1186 1353h36v2h-36zM1224 1353h14.5v2h-14.5zM1241 1353h9.8v2h-9.8zM1253 1353h9v2h-9zM1264.2 1353h4.2v2h-4.2zM1270.6 1353h4.4v2h-4.4zM622.4 1355h42.6v2h-42.6zM860 1355h31.5v2h-31.5zM1224 1355h14.5v2h-14.5zM1253 1355h9v2h-9zM665 1357h112.5v2h-112.5zM1007.5 1357h35v2h-35zM1142 1357h41.5v2h-41.5zM1186 1357h36v2h-36zM1224 1357h14.5v2h-14.5zM1241 1357h9.8v2h-9.8zM1270.6 1357h4.4v2h-4.4zM1241 1359h9.8v2h-9.8zM1253 1359h9v2h-9zM665 1361h112.5v2h-112.5zM780 1361h80v2h-80zM1007.5 1361h35v2h-35zM1142 1361h41.5v2h-41.5zM1224 1361h14.5v2h-14.5zM1241 1361h9.8v2h-9.8zM1264.2 1361h4.2v2h-4.2zM1270.6 1361h4.4v2h-4.4zM622.4 1365h42.6v2h-42.6zM860 1365h31.5v2h-31.5zM1007.5 1365h35v2h-35zM1241 1365h9.8v2h-9.8zM1264.2 1365h4.2v2h-4.2zM665 1369h112.5v2h-112.5zM780 1369h80v2h-80zM860 1369h31.5v2h-31.5zM1007.5 1369h35v2h-35zM1142 1369h41.5v2h-41.5zM1186 1369h36v2h-36zM1224 1369h14.5v2h-14.5zM1241 1369h9.8v2h-9.8zM1253 1369h9v2h-9zM1264.2 1369h4.2v2h-4.2zM1270.6 1369h4.4v2h-4.4zM622.4 1371h42.6v2h-42.6zM665 1371h112.5v2h-112.5zM780 1371h80v2h-80zM1142 1371h41.5v2h-41.5zM1186 1371h36v2h-36zM1241 1371h9.8v2h-9.8zM1270.6 1371h4.4v2h-4.4zM1224 1373h14.5v2h-14.5zM665 1377h112.5v2h-112.5zM780 1377h80v2h-80zM1007.5 1377h35v2h-35zM1142 1377h41.5v2h-41.5zM780 1379h80v2h-80zM1007.5 1379h35v2h-35zM1186 1379h36v2h-36zM1224 1379h14.5v2h-14.5zM1241 1379h9.8v2h-9.8zM1270.6 1379h4.4v2h-4.4zM622.4 1381h42.6v2h-42.6zM1007.5 1381h35v2h-35zM1224 1381h14.5v2h-14.5zM665 1383h112.5v2h-112.5zM1142 1383h41.5v2h-41.5zM1264.2 1383h4.2v2h-4.2zM1270.6 1383h4.4v2h-4.4zM894 1387h111v2h-111zM1241 1387h9.8v2h-9.8zM1253 1387h9v2h-9zM622.4 1391h42.6v2h-42.6zM665 1391h112.5v2h-112.5zM780 1391h80v2h-80zM860 1391h31.5v2h-31.5zM1142 1391h41.5v2h-41.5zM1241 1391h9.8v2h-9.8zM1253 1391h9v2h-9zM622.4 1393h42.6v2h-42.6zM665 1393h112.5v2h-112.5zM1007.5 1393h35v2h-35zM1142 1393h41.5v2h-41.5zM1241 1393h9.8v2h-9.8zM1253 1393h9v2h-9zM1270.6 1393h4.4v2h-4.4zM780 1395h80v2h-80zM860 1395h31.5v2h-31.5zM1007.5 1395h35v2h-35zM1142 1395h41.5v2h-41.5zM1224 1395h14.5v2h-14.5zM1241 1395h9.8v2h-9.8zM1253 1395h9v2h-9zM1264.2 1395h4.2v2h-4.2zM1270.6 1395h4.4v2h-4.4zM860 1399h31.5v2h-31.5zM1007.5 1401h35v2h-35zM1142 1401h41.5v2h-41.5zM1186 1401h36v2h-36zM1224 1401h14.5v2h-14.5zM1241 1401h9.8v2h-9.8zM1253 1401h9v2h-9zM1264.2 1401h4.2v2h-4.2zM1270.6 1401h4.4v2h-4.4zM665 1403h112.5v2h-112.5zM860 1403h31.5v2h-31.5zM1270.6 1403h4.4v2h-4.4zM860 1407h31.5v2h-31.5zM1142 1407h41.5v2h-41.5zM1224 1407h14.5v2h-14.5zM1270.6 1407h4.4v2h-4.4zM622.4 1411h42.6v2h-42.6zM860 1411h31.5v2h-31.5zM1007.5 1413h35v2h-35zM1186 1413h36v2h-36zM1270.6 1413h4.4v2h-4.4zM780 1415h80v2h-80zM860 1415h31.5v2h-31.5zM1124 1415h15.5v2h-15.5zM1253 1415h9v2h-9zM622.4 1417h42.6v2h-42.6zM780 1417h80v2h-80zM1124 1417h15.5v2h-15.5zM1224 1417h14.5v2h-14.5zM1241 1417h9.8v2h-9.8zM1253 1417h9v2h-9zM1270.6 1417h4.4v2h-4.4zM622.4 1419h42.6v2h-42.6zM860 1419h31.5v2h-31.5zM1124 1419h15.5v2h-15.5zM1253 1419h9v2h-9zM780 1421h80v2h-80zM860 1421h31.5v2h-31.5zM1124 1421h15.5v2h-15.5zM1264.2 1421h4.2v2h-4.2zM1270.6 1421h4.4v2h-4.4zM622.4 1423h42.6v2h-42.6zM780 1423h80v2h-80zM1241 1423h9.8v2h-9.8zM1253 1423h9v2h-9zM1264.2 1423h4.2v2h-4.2zM1270.6 1423h4.4v2h-4.4zM665 1425h112.5v2h-112.5zM1044.5 1425h44v2h-44zM1124 1425h15.5v2h-15.5zM780 1427h80v2h-80zM1124 1427h15.5v2h-15.5zM1224 1427h14.5v2h-14.5zM1253 1427h9v2h-9zM1270.6 1427h4.4v2h-4.4zM780 1429h80v2h-80zM1241 1429h9.8v2h-9.8zM1264.2 1429h4.2v2h-4.2zM622.4 1431h42.6v2h-42.6zM780 1431h80v2h-80zM1124 1431h15.5v2h-15.5zM1224 1431h14.5v2h-14.5zM1241 1431h9.8v2h-9.8zM1253 1431h9v2h-9zM1264.2 1431h4.2v2h-4.2zM860 1433h31.5v2h-31.5zM780 1435h80v2h-80zM1124 1435h15.5v2h-15.5zM1224 1435h14.5v2h-14.5zM1241 1435h9.8v2h-9.8zM1253 1435h9v2h-9zM1264.2 1435h4.2v2h-4.2zM1270.6 1435h4.4v2h-4.4zM622.4 1437h42.6v2h-42.6zM665 1437h112.5v2h-112.5zM1044.5 1437h44v2h-44zM665 1439h112.5v2h-112.5zM622.4 1441h42.6v2h-42.6zM1224 1441h14.5v2h-14.5zM1241 1441h9.8v2h-9.8zM1253 1441h9v2h-9zM1264.2 1441h4.2v2h-4.2zM780 1443h80v2h-80zM1224 1443h14.5v2h-14.5zM1241 1443h9.8v2h-9.8zM1253 1443h9v2h-9zM1264.2 1443h4.2v2h-4.2zM1270.6 1443h4.4v2h-4.4zM622.4 1445h42.6v2h-42.6zM780 1445h80v2h-80zM1124 1445h15.5v2h-15.5zM1224 1445h14.5v2h-14.5zM1253 1445h9v2h-9zM1264.2 1449h4.2v2h-4.2zM1270.6 1449h4.4v2h-4.4zM1124 1451h15.5v2h-15.5zM1224 1451h14.5v2h-14.5zM1264.2 1451h4.2v2h-4.2zM860 1457h31.5v2h-31.5zM1124 1457h15.5v2h-15.5zM1224 1457h14.5v2h-14.5zM1241 1457h9.8v2h-9.8zM1253 1457h9v2h-9zM1270.6 1457h4.4v2h-4.4zM780 1459h80v2h-80zM1124 1459h15.5v2h-15.5zM1241 1459h9.8v2h-9.8zM1253 1459h9v2h-9zM1264.2 1459h4.2v2h-4.2zM1270.6 1459h4.4v2h-4.4zM860 1461h31.5v2h-31.5zM665 1463h112.5v2h-112.5zM1044.5 1463h44v2h-44zM1224 1463h14.5v2h-14.5zM1253 1463h9v2h-9zM1270.6 1463h4.4v2h-4.4zM860 1465h31.5v2h-31.5zM1124 1467h15.5v2h-15.5zM1241 1467h9.8v2h-9.8zM780 1469h80v2h-80zM860 1471h31.5v2h-31.5zM1142 1471h41.5v2h-41.5zM1253 1471h9v2h-9zM780 1473h80v2h-80zM894 1473h111v2h-111zM1124 1475h15.5v2h-15.5zM1264.2 1475h4.2v2h-4.2zM1270.6 1475h4.4v2h-4.4zM1124 1477h15.5v2h-15.5zM1142 1477h41.5v2h-41.5zM1241 1477h9.8v2h-9.8zM1253 1477h9v2h-9zM1264.2 1477h4.2v2h-4.2zM1270.6 1477h4.4v2h-4.4zM1270.6 1479h4.4v2h-4.4zM1142 1487h41.5v2h-41.5zM860 1489h31.5v2h-31.5zM1124 1489h15.5v2h-15.5zM1142 1489h41.5v2h-41.5zM1253 1489h9v2h-9zM1270.6 1489h4.4v2h-4.4zM1124 1491h15.5v2h-15.5zM1142 1491h41.5v2h-41.5zM1253 1491h9v2h-9zM1264.2 1491h4.2v2h-4.2zM1270.6 1491h4.4v2h-4.4zM1124 1493h15.5v2h-15.5zM1142 1493h41.5v2h-41.5zM1241 1493h9.8v2h-9.8zM1264.2 1493h4.2v2h-4.2zM1270.6 1493h4.4v2h-4.4zM860 1495h31.5v2h-31.5zM1124 1495h15.5v2h-15.5zM1142 1495h41.5v2h-41.5zM1241 1495h9.8v2h-9.8zM1253 1495h9v2h-9zM1264.2 1495h4.2v2h-4.2zM1270.6 1495h4.4v2h-4.4zM1142 1497h41.5v2h-41.5zM1253 1497h9v2h-9zM1264.2 1497h4.2v2h-4.2z"/>
<path fill="#900cb4" d="M1142 1133h41.5v2h-41.5zM1270.6 1159h4.4v2h-4.4zM1270.6 1195h4.4v2h-4.4zM1270.6 1207h4.4v2h-4.4z"/>
<path fill="#6c0c78" d="M1186 1133h36v2h-36zM1186 1141h36v2h-36zM1186 1145h36v2h-36zM1186 1151h36v2h-36zM1142 1165h41.5v2h-41.5zM1142 1169h41.5v2h-41.5zM1142 1181h41.5v2h-41.5z"/>
<path fill="#780c84" d="M1007.5 1135h35v2h-35zM1142 1137h41.5v2h-41.5zM1186 1139h36v2h-36zM1186 1143h36v2h-36zM1186 1149h36v2h-36zM1142 1159h41.5v2h-41.5zM1186 1163h36v2h-36zM1142 1167h41.5v2h-41.5zM1186 1169h36v2h-36zM1142 1179h41.5v2h-41.5zM1142 1183h41.5v2h-41.5zM1186 1183h36v2h-36zM1186 1191h36v2h-36zM1270.6 1589h4.4v2h-4.4zM1142 1591h41.5v2h-41.5zM1270.6 1591h4.4v2h-4.4z"/>
<path fill="#3c300c" d="M622.4 1137h42.6v2h-42.6zM1264.2 1513h4.2v2h-4.2zM1186 1537h36v2h-36zM1090.5 1543h31.5v2h-31.5zM1253 1543h9v2h-9zM1186 1629h36v2h-36zM1142 1689h41.5v2h-41.5z"/>
<path fill="#540c6c" d="M1186 1137h36v2h-36zM1142 1155h41.5v2h-41.5zM1142 1187h41.5v2h-41.5z"/>
<path fill="#6c600c" d="M665 1139h112.5v2h-112.5zM1044.5 1139h44v2h-44zM1044.5 1141h44v2h-44zM665 1147h112.5v2h-112.5zM1044.5 1147h44v2h-44zM665 1151h112.5v2h-112.5zM1044.5 1151h44v2h-44zM780 1159h80v2h-80zM780 1167h80v2h-80zM780 1179h80v2h-80zM780 1181h80v2h-80zM780 1185h80v2h-80zM860 1185h31.5v2h-31.5zM894 1199h111v2h-111zM894 1201h111v2h-111zM894 1215h111v2h-111zM894 1217h111v2h-111zM894 1219h111v2h-111zM894 1221h111v2h-111zM1142 1243h41.5v2h-41.5zM1142 1249h41.5v2h-41.5zM1142 1261h41.5v2h-41.5zM1142 1269h41.5v2h-41.5zM1142 1275h41.5v2h-41.5zM1142 1277h41.5v2h-41.5zM1142 1283h41.5v2h-41.5zM1142 1285h41.5v2h-41.5zM1142 1291h41.5v2h-41.5zM1044.5 1413h44v2h-44zM1007.5 1417h35v2h-35zM1007.5 1431h35v2h-35zM1007.5 1441h35v2h-35zM1007.5 1449h35v2h-35zM1007.5 1461h35v2h-35z"/>
<path fill="#9c0cc0" d="M1007.5 1139h35v2h-35zM1270.6 1151h4.4v2h-4.4zM1264.2 1179h4.2v2h-4.2zM1270.6 1181h4.4v2h-4.4z"/>
<path fill="#9c0cb4" d="M1142 1139h41.5v2h-41.5zM1264.2 1139h4.2v2h-4.2zM1142 1141h41.5v2h-41.5zM1007.5 1143h35v2h-35zM1142 1143h41.5v2h-41.5zM1007.5 1145h35v2h-35zM1142 1149h41.5v2h-41.5zM1264.2 1159h4.2v2h-4.2zM1270.6 1167h4.4v2h-4.4zM1264.2 1169h4.2v2h-4.2zM1264.2 1171h4.2v2h-4.2zM1264.2 1175h4.2v2h-4.2z"/>
<path fill="#846c0c" d="M622.4 1143h42.6v2h-42.6zM1044.5 1143h44v2h-44zM1044.5 1149h44v2h-44zM780 1177h80v2h-80zM1007.5 1433h35v2h-35zM1007.5 1503h35v2h-35z"/>
<path fill="#786c0c" d="M665 1143h112.5v2h-112.5zM622.4 1151h42.6v2h-42.6zM860 1161h31.5v2h-31.5zM860 1163h31.5v2h-31.5zM780 1169h80v2h-80zM780 1171h80v2h-80zM860 1191h31.5v2h-31.5zM894 1193h111v2h-111zM894 1207h111v2h-111zM894 1213h111v2h-111zM894 1223h111v2h-111zM894 1225h111v2h-111zM894 1227h111v2h-111zM894 1239h111v2h-111zM894 1241h111v2h-111zM1186 1245h36v2h-36zM1186 1253h36v2h-36zM1186 1255h36v2h-36zM1186 1259h36v2h-36zM1142 1267h41.5v2h-41.5zM1142 1271h41.5v2h-41.5zM1044.5 1397h44v2h-44zM1142 1503h41.5v2h-41.5z"/>
<path fill="#543024" d="M780 1143h80v2h-80zM1241 1165h9.8v2h-9.8zM894 1183h111v2h-111zM1090.5 1209h31.5v2h-31.5zM1007.5 1211h35v2h-35zM1007.5 1231h35v2h-35zM1090.5 1231h31.5v2h-31.5zM1142 1231h41.5v2h-41.5zM1224 1231h14.5v2h-14.5zM1241 1231h9.8v2h-9.8zM1007.5 1233h35v2h-35zM1224 1233h14.5v2h-14.5zM1253 1233h9v2h-9zM1090.5 1265h31.5v2h-31.5zM1224 1265h14.5v2h-14.5zM894 1279h111v2h-111zM1090.5 1279h31.5v2h-31.5zM1224 1279h14.5v2h-14.5zM1241 1279h9.8v2h-9.8zM1253 1279h9v2h-9zM1090.5 1297h31.5v2h-31.5zM1090.5 1311h31.5v2h-31.5zM1124 1315h15.5v2h-15.5zM1124 1319h15.5v2h-15.5zM1124 1321h15.5v2h-15.5zM1142 1327h41.5v2h-41.5zM1044.5 1355h44v2h-44zM1044.5 1399h44v2h-44zM1044.5 1407h44v2h-44zM1270.6 1441h4.4v2h-4.4zM894 1453h111v2h-111zM1186 1453h36v2h-36zM894 1455h111v2h-111zM1007.5 1481h35v2h-35zM1124 1497h15.5v2h-15.5zM1186 1651h36v2h-36zM1186 1667h36v2h-36z"/>
<path fill="#483018" d="M860 1143h31.5v2h-31.5zM860 1149h31.5v2h-31.5zM894 1159h111v2h-111zM894 1163h111v2h-111zM894 1167h111v2h-111zM894 1181h111v2h-111zM894 1185h111v2h-111zM1090.5 1195h31.5v2h-31.5zM1224 1203h14.5v2h-14.5zM1090.5 1207h31.5v2h-31.5zM1007.5 1209h35v2h-35zM1186 1209h36v2h-36zM1253 1209h9v2h-9zM1186 1211h36v2h-36zM1241 1213h9.8v2h-9.8zM1090.5 1219h31.5v2h-31.5zM1186 1225h36v2h-36zM1241 1225h9.8v2h-9.8zM1007.5 1235h35v2h-35zM1241 1235h9.8v2h-9.8zM1090.5 1241h31.5v2h-31.5zM1253 1241h9v2h-9zM1007.5 1293h35v2h-35zM1090.5 1295h31.5v2h-31.5zM1124 1295h15.5v2h-15.5zM1090.5 1305h31.5v2h-31.5zM1124 1317h15.5v2h-15.5zM1090.5 1327h31.5v2h-31.5zM1090.5 1335h31.5v2h-31.5zM1090.5 1339h31.5v2h-31.5zM1044.5 1347h44v2h-44zM1044.5 1351h44v2h-44zM1044.5 1375h44v2h-44zM1090.5 1423h31.5v2h-31.5zM1090.5 1435h31.5v2h-31.5zM1007.5 1493h35v2h-35zM1090.5 1503h31.5v2h-31.5z"/>
<path fill="#480c54" d="M894 1143h111v2h-111zM622.4 1159h42.6v2h-42.6zM622.4 1163h42.6v2h-42.6zM1124 1165h15.5v2h-15.5zM622.4 1167h42.6v2h-42.6zM665 1169h112.5v2h-112.5zM1044.5 1169h44v2h-44zM665 1175h112.5v2h-112.5zM1124 1175h15.5v2h-15.5zM1044.5 1181h44v2h-44zM665 1183h112.5v2h-112.5zM665 1185h112.5v2h-112.5zM1264.2 1193h4.2v2h-4.2zM622.4 1195h42.6v2h-42.6zM1044.5 1195h44v2h-44zM1124 1199h15.5v2h-15.5zM665 1203h112.5v2h-112.5zM1264.2 1203h4.2v2h-4.2zM665 1211h112.5v2h-112.5zM1264.2 1211h4.2v2h-4.2zM622.4 1219h42.6v2h-42.6zM1124 1219h15.5v2h-15.5zM1264.2 1219h4.2v2h-4.2zM665 1225h112.5v2h-112.5zM1044.5 1235h44v2h-44zM1044.5 1241h44v2h-44zM894 1295h111v2h-111zM622.4 1415h42.6v2h-42.6zM1044.5 1427h44v2h-44zM622.4 1467h42.6v2h-42.6zM622.4 1477h42.6v2h-42.6zM665 1477h112.5v2h-112.5zM1044.5 1477h44v2h-44zM780 1481h80v2h-80zM780 1483h80v2h-80zM1044.5 1489h44v2h-44zM622.4 1493h42.6v2h-42.6zM665 1493h112.5v2h-112.5zM665 1495h112.5v2h-112.5zM1044.5 1495h44v2h-44zM1124 1503h15.5v2h-15.5z"/>
<path fill="#540c54" d="M1124 1143h15.5v2h-15.5zM665 1159h112.5v2h-112.5zM1044.5 1159h44v2h-44zM665 1163h112.5v2h-112.5zM665 1167h112.5v2h-112.5zM1124 1169h15.5v2h-15.5zM665 1171h112.5v2h-112.5zM1044.5 1171h44v2h-44zM1044.5 1177h44v2h-44zM1044.5 1179h44v2h-44zM1124 1191h15.5v2h-15.5zM665 1195h112.5v2h-112.5zM1044.5 1203h44v2h-44zM1124 1203h15.5v2h-15.5zM665 1207h112.5v2h-112.5zM1264.2 1207h4.2v2h-4.2zM622.4 1209h42.6v2h-42.6zM1044.5 1209h44v2h-44zM1264.2 1209h4.2v2h-4.2zM1124 1213h15.5v2h-15.5zM665 1219h112.5v2h-112.5zM1044.5 1219h44v2h-44zM1124 1225h15.5v2h-15.5zM1264.2 1225h4.2v2h-4.2zM665 1235h112.5v2h-112.5zM1264.2 1235h4.2v2h-4.2zM665 1241h112.5v2h-112.5zM1264.2 1241h4.2v2h-4.2zM665 1447h112.5v2h-112.5zM665 1467h112.5v2h-112.5zM1044.5 1467h44v2h-44zM860 1481h31.5v2h-31.5zM1044.5 1481h44v2h-44zM665 1483h112.5v2h-112.5zM622.4 1489h42.6v2h-42.6zM665 1489h112.5v2h-112.5z"/>
<path fill="#b40cd8" d="M1264.2 1143h4.2v2h-4.2zM1264.2 1183h4.2v2h-4.2zM1270.6 1183h4.4v2h-4.4zM1264.2 1191h4.2v2h-4.2zM1270.6 1235h4.4v2h-4.4z"/>
<path fill="#a80cc0" d="M1270.6 1143h4.4v2h-4.4zM1270.6 1149h4.4v2h-4.4zM1142 1151h41.5v2h-41.5zM1264.2 1151h4.2v2h-4.2zM1264.2 1163h4.2v2h-4.2zM1270.6 1163h4.4v2h-4.4zM1270.6 1169h4.4v2h-4.4zM1270.6 1171h4.4v2h-4.4zM1270.6 1203h4.4v2h-4.4zM1270.6 1211h4.4v2h-4.4zM1270.6 1225h4.4v2h-4.4z"/>
<path fill="#60480c" d="M1044.5 1145h44v2h-44zM1186 1553h36v2h-36z"/>
<path fill="#6c540c" d="M622.4 1147h42.6v2h-42.6zM860 1169h31.5v2h-31.5zM780 1175h80v2h-80zM1007.5 1415h35v2h-35zM1007.5 1421h35v2h-35zM1007.5 1429h35v2h-35zM1007.5 1435h35v2h-35zM1007.5 1445h35v2h-35z"/>
<path fill="#603c24" d="M780 1147h80v2h-80zM1007.5 1181h35v2h-35zM1090.5 1227h31.5v2h-31.5zM1142 1227h41.5v2h-41.5zM1186 1227h36v2h-36zM1007.5 1239h35v2h-35zM1090.5 1239h31.5v2h-31.5zM1142 1239h41.5v2h-41.5zM1253 1239h9v2h-9zM1264.2 1341h4.2v2h-4.2zM1044.5 1367h44v2h-44zM1224 1385h14.5v2h-14.5zM1142 1467h41.5v2h-41.5zM1241 1483h9.8v2h-9.8z"/>
<path fill="#483c18" d="M860 1147h31.5v2h-31.5zM1224 1465h14.5v2h-14.5zM1124 1669h15.5v2h-15.5z"/>
<path fill="#602448" d="M894 1147h111v2h-111zM1044.5 1173h44v2h-44zM622.4 1227h42.6v2h-42.6zM1264.2 1227h4.2v2h-4.2zM780 1485h80v2h-80z"/>
<path fill="#9c249c" d="M1007.5 1147h35v2h-35zM1270.6 1147h4.4v2h-4.4z"/>
<path fill="#48243c" d="M1090.5 1147h31.5v2h-31.5zM1241 1147h9.8v2h-9.8zM1007.5 1173h35v2h-35zM780 1265h80v2h-80zM1264.2 1265h4.2v2h-4.2zM1241 1367h9.8v2h-9.8zM665 1385h112.5v2h-112.5zM1007.5 1385h35v2h-35zM1142 1385h41.5v2h-41.5zM1241 1385h9.8v2h-9.8zM1270.6 1385h4.4v2h-4.4zM1186 1389h36v2h-36zM1264.2 1389h4.2v2h-4.2zM665 1453h112.5v2h-112.5z"/>
<path fill="#54243c" d="M1124 1147h15.5v2h-15.5zM1090.5 1161h31.5v2h-31.5zM1224 1161h14.5v2h-14.5zM1241 1161h9.8v2h-9.8zM1253 1161h9v2h-9zM1270.6 1265h4.4v2h-4.4zM665 1273h112.5v2h-112.5zM780 1273h80v2h-80zM1124 1273h15.5v2h-15.5zM1264.2 1273h4.2v2h-4.2zM1270.6 1279h4.4v2h-4.4zM780 1367h80v2h-80zM1270.6 1367h4.4v2h-4.4zM780 1385h80v2h-80zM665 1389h112.5v2h-112.5zM780 1389h80v2h-80zM1007.5 1389h35v2h-35zM1142 1389h41.5v2h-41.5zM1253 1389h9v2h-9zM1270.6 1389h4.4v2h-4.4zM665 1405h112.5v2h-112.5zM1186 1405h36v2h-36zM1241 1405h9.8v2h-9.8zM1264.2 1405h4.2v2h-4.2zM1044.5 1453h44v2h-44zM665 1455h112.5v2h-112.5zM1142 1485h41.5v2h-41.5zM1241 1485h9.8v2h-9.8zM1270.6 1485h4.4v2h-4.4zM780 1589h80v2h-80zM1007.5 1589h35v2h-35zM1186 1589h36v2h-36zM1224 1589h14.5v2h-14.5zM1253 1589h9v2h-9zM1007.5 1591h35v2h-35zM1224 1591h14.5v2h-14.5zM1253 1591h9v2h-9zM780 1693h80v2h-80zM860 1693h31.5v2h-31.5zM1007.5 1693h35v2h-35zM1044.5 1693h44v2h-44zM1090.5 1693h31.5v2h-31.5zM1124 1693h15.5v2h-15.5zM1142 1693h41.5v2h-41.5zM1186 1693h36v2h-36zM1241 1693h9.8v2h-9.8zM1253 1693h9v2h-9zM622.4 1695h42.6v2h-42.6zM665 1699h112.5v2h-112.5zM780 1699h80v2h-80zM780 1701h80v2h-80zM1224 1701h14.5v2h-14.5z"/>
<path fill="#b424c0" d="M1142 1147h41.5v2h-41.5zM1270.6 1161h4.4v2h-4.4z"/>
<path fill="#842478" d="M1186 1147h36v2h-36zM1186 1173h36v2h-36z"/>
<path fill="#481830" d="M1224 1147h14.5v2h-14.5zM1253 1147h9v2h-9zM1090.5 1173h31.5v2h-31.5zM1241 1173h9.8v2h-9.8zM1253 1173h9v2h-9zM665 1265h112.5v2h-112.5zM1044.5 1265h44v2h-44zM1124 1265h15.5v2h-15.5zM1044.5 1273h44v2h-44zM622.4 1279h42.6v2h-42.6zM665 1279h112.5v2h-112.5zM780 1279h80v2h-80zM1044.5 1279h44v2h-44zM1124 1279h15.5v2h-15.5zM1264.2 1279h4.2v2h-4.2zM622.4 1319h42.6v2h-42.6zM665 1367h112.5v2h-112.5zM1142 1367h41.5v2h-41.5zM1186 1367h36v2h-36zM1224 1367h14.5v2h-14.5zM1253 1367h9v2h-9zM1264.2 1367h4.2v2h-4.2zM1186 1385h36v2h-36zM1253 1385h9v2h-9zM1264.2 1385h4.2v2h-4.2zM622.4 1389h42.6v2h-42.6zM1224 1389h14.5v2h-14.5zM665 1397h112.5v2h-112.5zM1142 1397h41.5v2h-41.5zM1186 1397h36v2h-36zM1224 1397h14.5v2h-14.5zM1241 1397h9.8v2h-9.8zM1264.2 1397h4.2v2h-4.2zM1270.6 1397h4.4v2h-4.4zM780 1453h80v2h-80zM1224 1453h14.5v2h-14.5zM1241 1453h9.8v2h-9.8zM1253 1453h9v2h-9zM1264.2 1453h4.2v2h-4.2zM780 1455h80v2h-80zM1224 1455h14.5v2h-14.5zM1241 1455h9.8v2h-9.8zM1270.6 1455h4.4v2h-4.4zM1090.5 1583h31.5v2h-31.5zM780 1585h80v2h-80zM1264.2 1585h4.2v2h-4.2zM622.4 1587h42.6v2h-42.6zM1007.5 1587h35v2h-35zM860 1591h31.5v2h-31.5zM622.4 1693h42.6v2h-42.6zM894 1695h111v2h-111zM1044.5 1695h44v2h-44zM894 1697h111v2h-111zM1142 1697h41.5v2h-41.5zM860 1699h31.5v2h-31.5z"/>
<path fill="#b424b4" d="M1264.2 1147h4.2v2h-4.2z"/>
<path fill="#78600c" d="M665 1149h112.5v2h-112.5zM860 1159h31.5v2h-31.5zM780 1161h80v2h-80zM780 1163h80v2h-80zM780 1183h80v2h-80zM780 1191h80v2h-80zM1142 1273h41.5v2h-41.5zM1142 1289h41.5v2h-41.5zM1007.5 1419h35v2h-35zM1007.5 1423h35v2h-35zM1007.5 1427h35v2h-35zM1007.5 1469h35v2h-35zM1007.5 1501h35v2h-35zM1142 1501h41.5v2h-41.5z"/>
<path fill="#483024" d="M780 1149h80v2h-80zM894 1169h111v2h-111zM894 1177h111v2h-111zM894 1179h111v2h-111zM894 1191h111v2h-111zM1142 1195h41.5v2h-41.5zM1224 1195h14.5v2h-14.5zM1241 1195h9.8v2h-9.8zM1253 1195h9v2h-9zM1007.5 1203h35v2h-35zM1142 1203h41.5v2h-41.5zM1253 1203h9v2h-9zM1007.5 1207h35v2h-35zM1142 1207h41.5v2h-41.5zM1186 1207h36v2h-36zM1241 1207h9.8v2h-9.8zM1253 1207h9v2h-9zM1224 1209h14.5v2h-14.5zM1241 1209h9.8v2h-9.8zM1090.5 1211h31.5v2h-31.5zM1241 1211h9.8v2h-9.8zM1253 1211h9v2h-9zM1007.5 1213h35v2h-35zM1090.5 1213h31.5v2h-31.5zM1142 1213h41.5v2h-41.5zM1224 1213h14.5v2h-14.5zM1253 1213h9v2h-9zM1241 1219h9.8v2h-9.8zM1253 1219h9v2h-9zM1007.5 1225h35v2h-35zM1142 1225h41.5v2h-41.5zM1253 1225h9v2h-9zM860 1227h31.5v2h-31.5zM1186 1231h36v2h-36zM1253 1231h9v2h-9zM1090.5 1233h31.5v2h-31.5zM1142 1233h41.5v2h-41.5zM1186 1233h36v2h-36zM1241 1233h9.8v2h-9.8zM1090.5 1235h31.5v2h-31.5zM1142 1235h41.5v2h-41.5zM1186 1235h36v2h-36zM1224 1235h14.5v2h-14.5zM1253 1235h9v2h-9zM860 1239h31.5v2h-31.5zM1142 1241h41.5v2h-41.5zM1224 1241h14.5v2h-14.5zM1264.2 1261h4.2v2h-4.2zM1124 1297h15.5v2h-15.5zM1124 1305h15.5v2h-15.5zM1124 1311h15.5v2h-15.5zM1090.5 1315h31.5v2h-31.5zM1090.5 1317h31.5v2h-31.5zM1090.5 1319h31.5v2h-31.5zM1090.5 1321h31.5v2h-31.5zM1253 1325h9v2h-9zM1124 1327h15.5v2h-15.5zM1124 1335h15.5v2h-15.5zM1090.5 1341h31.5v2h-31.5zM1124 1341h15.5v2h-15.5zM1044.5 1359h44v2h-44zM1044.5 1365h44v2h-44zM1044.5 1371h44v2h-44zM1044.5 1381h44v2h-44zM1044.5 1391h44v2h-44zM1044.5 1393h44v2h-44zM1044.5 1403h44v2h-44zM1044.5 1409h44v2h-44zM1044.5 1411h44v2h-44zM1264.2 1413h4.2v2h-4.2zM1090.5 1415h31.5v2h-31.5zM1090.5 1419h31.5v2h-31.5zM1090.5 1427h31.5v2h-31.5zM1090.5 1433h31.5v2h-31.5zM1090.5 1447h31.5v2h-31.5zM1007.5 1467h35v2h-35zM1007.5 1483h35v2h-35zM1007.5 1489h35v2h-35zM1090.5 1501h31.5v2h-31.5zM1007.5 1651h35v2h-35z"/>
<path fill="#3c0c48" d="M894 1149h111v2h-111zM1264.2 1153h4.2v2h-4.2zM1264.2 1155h4.2v2h-4.2zM1007.5 1163h35v2h-35zM665 1165h112.5v2h-112.5zM622.4 1169h42.6v2h-42.6zM622.4 1179h42.6v2h-42.6zM1007.5 1183h35v2h-35zM622.4 1185h42.6v2h-42.6zM1044.5 1185h44v2h-44zM1124 1185h15.5v2h-15.5zM665 1187h112.5v2h-112.5zM1044.5 1187h44v2h-44zM1264.2 1197h4.2v2h-4.2zM1264.2 1199h4.2v2h-4.2zM665 1201h112.5v2h-112.5zM1044.5 1201h44v2h-44zM1124 1201h15.5v2h-15.5zM1264.2 1201h4.2v2h-4.2zM1264.2 1205h4.2v2h-4.2zM622.4 1211h42.6v2h-42.6zM622.4 1213h42.6v2h-42.6zM622.4 1215h42.6v2h-42.6zM665 1215h112.5v2h-112.5zM665 1223h112.5v2h-112.5zM1044.5 1223h44v2h-44zM1124 1223h15.5v2h-15.5zM665 1229h112.5v2h-112.5zM1264.2 1229h4.2v2h-4.2zM1270.6 1271h4.4v2h-4.4zM1270.6 1277h4.4v2h-4.4zM894 1305h111v2h-111zM894 1317h111v2h-111zM894 1335h111v2h-111zM894 1339h111v2h-111zM1044.5 1417h44v2h-44zM665 1423h112.5v2h-112.5zM665 1441h112.5v2h-112.5zM622.4 1443h42.6v2h-42.6zM1044.5 1443h44v2h-44zM665 1449h112.5v2h-112.5zM860 1467h31.5v2h-31.5zM1044.5 1471h44v2h-44zM622.4 1475h42.6v2h-42.6zM1044.5 1475h44v2h-44zM780 1477h80v2h-80zM860 1477h31.5v2h-31.5zM665 1479h112.5v2h-112.5zM1044.5 1479h44v2h-44zM1044.5 1487h44v2h-44zM1044.5 1491h44v2h-44zM1044.5 1501h44v2h-44z"/>
<path fill="#a80ccc" d="M1007.5 1149h35v2h-35zM1264.2 1149h4.2v2h-4.2zM1264.2 1167h4.2v2h-4.2zM1270.6 1179h4.4v2h-4.4zM1270.6 1209h4.4v2h-4.4z"/>
<path fill="#480c48" d="M1124 1149h15.5v2h-15.5zM894 1151h111v2h-111zM1124 1151h15.5v2h-15.5zM1124 1153h15.5v2h-15.5zM1124 1155h15.5v2h-15.5zM1007.5 1159h35v2h-35zM1044.5 1165h44v2h-44zM1007.5 1167h35v2h-35zM1007.5 1169h35v2h-35zM1007.5 1171h35v2h-35zM622.4 1175h42.6v2h-42.6zM1044.5 1175h44v2h-44zM1007.5 1177h35v2h-35zM665 1181h112.5v2h-112.5zM1124 1181h15.5v2h-15.5zM622.4 1193h42.6v2h-42.6zM665 1193h112.5v2h-112.5zM1044.5 1193h44v2h-44zM1124 1193h15.5v2h-15.5zM622.4 1199h42.6v2h-42.6zM665 1199h112.5v2h-112.5zM1044.5 1199h44v2h-44zM622.4 1207h42.6v2h-42.6zM1044.5 1215h44v2h-44zM1264.2 1215h4.2v2h-4.2zM665 1217h112.5v2h-112.5zM1044.5 1217h44v2h-44zM1124 1217h15.5v2h-15.5zM1264.2 1217h4.2v2h-4.2zM665 1221h112.5v2h-112.5zM1044.5 1221h44v2h-44zM1264.2 1223h4.2v2h-4.2zM1044.5 1225h44v2h-44zM622.4 1241h42.6v2h-42.6zM1270.6 1243h4.4v2h-4.4zM1270.6 1249h4.4v2h-4.4zM1270.6 1261h4.4v2h-4.4zM1270.6 1267h4.4v2h-4.4zM1270.6 1275h4.4v2h-4.4zM1270.6 1285h4.4v2h-4.4zM1270.6 1289h4.4v2h-4.4zM894 1297h111v2h-111zM894 1303h111v2h-111zM894 1311h111v2h-111zM894 1315h111v2h-111zM894 1319h111v2h-111zM894 1321h111v2h-111zM894 1327h111v2h-111zM894 1343h111v2h-111zM665 1415h112.5v2h-112.5zM665 1419h112.5v2h-112.5zM1044.5 1419h44v2h-44zM1044.5 1423h44v2h-44zM665 1433h112.5v2h-112.5zM1044.5 1447h44v2h-44zM1044.5 1449h44v2h-44zM665 1461h112.5v2h-112.5zM1044.5 1461h44v2h-44zM780 1467h80v2h-80zM622.4 1471h42.6v2h-42.6zM665 1471h112.5v2h-112.5zM665 1475h112.5v2h-112.5zM665 1491h112.5v2h-112.5zM1044.5 1493h44v2h-44zM665 1497h112.5v2h-112.5zM1044.5 1497h44v2h-44zM1124 1501h15.5v2h-15.5zM1044.5 1503h44v2h-44z"/>
<path fill="#301818" d="M860 1151h31.5v2h-31.5zM860 1153h31.5v2h-31.5zM860 1197h31.5v2h-31.5zM860 1215h31.5v2h-31.5zM780 1237h80v2h-80zM860 1237h31.5v2h-31.5zM1241 1255h9.8v2h-9.8zM1253 1255h9v2h-9zM1090.5 1259h31.5v2h-31.5zM1090.5 1439h31.5v2h-31.5zM1090.5 1465h31.5v2h-31.5zM1007.5 1473h35v2h-35zM1224 1473h14.5v2h-14.5zM1224 1487h14.5v2h-14.5zM1007.5 1553h35v2h-35zM1142 1553h41.5v2h-41.5zM1224 1553h14.5v2h-14.5zM1007.5 1555h35v2h-35zM1142 1555h41.5v2h-41.5zM1224 1555h14.5v2h-14.5zM1264.2 1575h4.2v2h-4.2zM860 1583h31.5v2h-31.5zM622.4 1635h42.6v2h-42.6zM1007.5 1635h35v2h-35zM622.4 1637h42.6v2h-42.6zM665 1651h112.5v2h-112.5zM780 1651h80v2h-80zM894 1651h111v2h-111zM1090.5 1651h31.5v2h-31.5zM1124 1651h15.5v2h-15.5zM1142 1651h41.5v2h-41.5zM1224 1651h14.5v2h-14.5zM1241 1651h9.8v2h-9.8zM1253 1651h9v2h-9zM665 1667h112.5v2h-112.5zM780 1667h80v2h-80zM894 1667h111v2h-111zM1044.5 1667h44v2h-44zM1124 1667h15.5v2h-15.5zM1142 1667h41.5v2h-41.5zM1224 1667h14.5v2h-14.5zM1241 1667h9.8v2h-9.8zM1253 1667h9v2h-9zM622.4 1683h42.6v2h-42.6zM860 1683h31.5v2h-31.5zM1007.5 1689h35v2h-35zM665 1725h112.5v2h-112.5zM894 1725h111v2h-111zM1007.5 1725h35v2h-35zM1090.5 1725h31.5v2h-31.5zM1142 1725h41.5v2h-41.5zM1224 1725h14.5v2h-14.5zM1253 1725h9v2h-9zM622.4 1737h42.6v2h-42.6zM860 1737h31.5v2h-31.5zM665 1739h112.5v2h-112.5zM1241 1739h9.8v2h-9.8zM622.4 1741h42.6v2h-42.6zM860 1743h31.5v2h-31.5zM1044.5 1749h44v0.5h-44zM1090.5 1749h31.5v0.5h-31.5zM1124 1749h15.5v0.5h-15.5zM1142 1749h41.5v0.5h-41.5z"/>
<path fill="#b40ccc" d="M1007.5 1151h35v2h-35zM1270.6 1213h4.4v2h-4.4zM1270.6 1241h4.4v2h-4.4z"/>
<path fill="#301824" d="M622.4 1153h42.6v2h-42.6zM622.4 1155h42.6v2h-42.6zM665 1155h112.5v2h-112.5zM665 1157h112.5v2h-112.5zM1044.5 1157h44v2h-44zM860 1193h31.5v2h-31.5zM780 1197h80v2h-80zM780 1205h80v2h-80zM860 1205h31.5v2h-31.5zM860 1207h31.5v2h-31.5zM780 1215h80v2h-80zM860 1221h31.5v2h-31.5zM780 1229h80v2h-80zM860 1229h31.5v2h-31.5zM894 1245h111v2h-111zM1090.5 1245h31.5v2h-31.5zM1241 1245h9.8v2h-9.8zM894 1247h111v2h-111zM1090.5 1253h31.5v2h-31.5zM1224 1253h14.5v2h-14.5zM1241 1253h9.8v2h-9.8zM894 1257h111v2h-111zM1224 1257h14.5v2h-14.5zM1241 1257h9.8v2h-9.8zM1253 1257h9v2h-9zM1224 1259h14.5v2h-14.5zM1224 1263h14.5v2h-14.5zM1253 1263h9v2h-9zM1224 1281h14.5v2h-14.5zM1241 1281h9.8v2h-9.8zM894 1287h111v2h-111zM1224 1287h14.5v2h-14.5zM1253 1287h9v2h-9zM622.4 1301h42.6v2h-42.6zM622.4 1325h42.6v2h-42.6zM894 1425h111v2h-111zM894 1437h111v2h-111zM1186 1437h36v2h-36zM894 1439h111v2h-111zM1186 1439h36v2h-36zM860 1455h31.5v2h-31.5zM894 1463h111v2h-111zM1224 1469h14.5v2h-14.5zM1224 1475h14.5v2h-14.5zM1090.5 1487h31.5v2h-31.5zM860 1587h31.5v2h-31.5zM665 1635h112.5v2h-112.5zM860 1635h31.5v2h-31.5zM894 1635h111v2h-111zM1044.5 1635h44v2h-44zM1090.5 1635h31.5v2h-31.5zM1142 1635h41.5v2h-41.5zM1186 1635h36v2h-36zM1224 1635h14.5v2h-14.5zM1241 1635h9.8v2h-9.8zM1264.2 1635h4.2v2h-4.2zM1270.6 1635h4.4v2h-4.4zM860 1637h31.5v2h-31.5zM1186 1645h36v2h-36zM1007.5 1665h35v2h-35zM1186 1665h36v2h-36zM1007.5 1679h35v2h-35zM1186 1689h36v2h-36zM1090.5 1737h31.5v2h-31.5zM1124 1737h15.5v2h-15.5zM1186 1737h36v2h-36zM1224 1737h14.5v2h-14.5zM1241 1737h9.8v2h-9.8zM860 1739h31.5v2h-31.5zM1090.5 1739h31.5v2h-31.5zM1124 1739h15.5v2h-15.5zM1142 1739h41.5v2h-41.5zM1186 1739h36v2h-36zM1224 1739h14.5v2h-14.5zM1142 1741h41.5v2h-41.5zM622.4 1743h42.6v2h-42.6z"/>
<path fill="#3c1824" d="M665 1153h112.5v2h-112.5zM1044.5 1153h44v2h-44zM1044.5 1155h44v2h-44zM780 1193h80v2h-80zM780 1199h80v2h-80zM860 1199h31.5v2h-31.5zM860 1213h31.5v2h-31.5zM780 1221h80v2h-80zM860 1223h31.5v2h-31.5zM860 1225h31.5v2h-31.5zM860 1231h31.5v2h-31.5zM860 1233h31.5v2h-31.5zM1253 1245h9v2h-9zM1090.5 1247h31.5v2h-31.5zM1224 1247h14.5v2h-14.5zM1241 1247h9.8v2h-9.8zM1253 1247h9v2h-9zM1224 1249h14.5v2h-14.5zM894 1251h111v2h-111zM1090.5 1251h31.5v2h-31.5zM1224 1251h14.5v2h-14.5zM1241 1251h9.8v2h-9.8zM1253 1251h9v2h-9zM894 1253h111v2h-111zM894 1255h111v2h-111zM1090.5 1255h31.5v2h-31.5zM1090.5 1257h31.5v2h-31.5zM894 1259h111v2h-111zM1241 1259h9.8v2h-9.8zM1253 1259h9v2h-9zM894 1263h111v2h-111zM1090.5 1263h31.5v2h-31.5zM1241 1263h9.8v2h-9.8zM894 1269h111v2h-111zM1241 1269h9.8v2h-9.8zM1253 1269h9v2h-9zM894 1277h111v2h-111zM1224 1277h14.5v2h-14.5zM1253 1277h9v2h-9zM894 1281h111v2h-111zM1090.5 1281h31.5v2h-31.5zM1253 1281h9v2h-9zM894 1283h111v2h-111zM1241 1283h9.8v2h-9.8zM1253 1283h9v2h-9zM1090.5 1287h31.5v2h-31.5zM1241 1287h9.8v2h-9.8zM894 1291h111v2h-111zM1090.5 1291h31.5v2h-31.5zM1224 1291h14.5v2h-14.5zM1253 1397h9v2h-9zM894 1415h111v2h-111zM894 1417h111v2h-111zM1186 1417h36v2h-36zM1186 1425h36v2h-36zM894 1429h111v2h-111zM894 1431h111v2h-111zM894 1435h111v2h-111zM1186 1435h36v2h-36zM894 1445h111v2h-111zM1186 1445h36v2h-36zM894 1451h111v2h-111zM860 1453h31.5v2h-31.5zM894 1457h111v2h-111zM1186 1459h36v2h-36zM1186 1463h36v2h-36zM1090.5 1469h31.5v2h-31.5zM1090.5 1471h31.5v2h-31.5zM1224 1471h14.5v2h-14.5zM1090.5 1473h31.5v2h-31.5zM1090.5 1477h31.5v2h-31.5zM1224 1477h14.5v2h-14.5zM1090.5 1479h31.5v2h-31.5zM1224 1479h14.5v2h-14.5zM1090.5 1489h31.5v2h-31.5zM1224 1489h14.5v2h-14.5zM1224 1491h14.5v2h-14.5zM1090.5 1493h31.5v2h-31.5zM1224 1493h14.5v2h-14.5zM1224 1497h14.5v2h-14.5zM780 1583h80v2h-80zM894 1583h111v2h-111zM1124 1583h15.5v2h-15.5zM1224 1583h14.5v2h-14.5zM622.4 1585h42.6v2h-42.6zM780 1587h80v2h-80zM1186 1587h36v2h-36zM1253 1587h9v2h-9zM1264.2 1587h4.2v2h-4.2zM780 1635h80v2h-80zM1124 1635h15.5v2h-15.5zM665 1637h112.5v2h-112.5zM780 1637h80v2h-80zM1044.5 1637h44v2h-44zM1142 1637h41.5v2h-41.5zM1264.2 1637h4.2v2h-4.2zM1007.5 1645h35v2h-35zM1007.5 1653h35v2h-35zM1007.5 1655h35v2h-35zM1186 1655h36v2h-36zM1007.5 1659h35v2h-35zM1186 1659h36v2h-36zM1007.5 1663h35v2h-35zM1186 1663h36v2h-36zM1186 1677h36v2h-36zM1186 1679h36v2h-36zM1007.5 1687h35v2h-35zM1186 1687h36v2h-36zM860 1695h31.5v2h-31.5zM622.4 1699h42.6v2h-42.6zM665 1737h112.5v2h-112.5zM780 1737h80v2h-80zM1007.5 1737h35v2h-35zM1044.5 1737h44v2h-44zM1142 1737h41.5v2h-41.5zM780 1739h80v2h-80zM1007.5 1739h35v2h-35zM1044.5 1739h44v2h-44zM1253 1739h9v2h-9zM665 1741h112.5v2h-112.5zM780 1741h80v2h-80zM1007.5 1741h35v2h-35zM1044.5 1741h44v2h-44zM1090.5 1741h31.5v2h-31.5zM1124 1741h15.5v2h-15.5zM1186 1741h36v2h-36zM1224 1741h14.5v2h-14.5zM1253 1741h9v2h-9zM665 1743h112.5v2h-112.5zM780 1743h80v2h-80zM1007.5 1743h35v2h-35zM1044.5 1743h44v2h-44zM1124 1743h15.5v2h-15.5zM1224 1743h14.5v2h-14.5z"/>
<path fill="#300030" d="M1253 1153h9v2h-9zM1253 1187h9v2h-9zM622.4 1205h42.6v2h-42.6zM622.4 1243h42.6v2h-42.6zM622.4 1249h42.6v2h-42.6zM860 1251h31.5v2h-31.5zM1124 1263h15.5v2h-15.5zM622.4 1281h42.6v2h-42.6zM1224 1299h14.5v2h-14.5zM1007.5 1331h35v2h-35zM622.4 1345h42.6v2h-42.6zM860 1345h31.5v2h-31.5zM622.4 1347h42.6v2h-42.6zM622.4 1353h42.6v2h-42.6zM622.4 1357h42.6v2h-42.6zM860 1359h31.5v2h-31.5zM622.4 1361h42.6v2h-42.6zM1186 1377h36v2h-36zM622.4 1379h42.6v2h-42.6zM665 1387h112.5v2h-112.5zM1186 1395h36v2h-36zM622.4 1403h42.6v2h-42.6zM1224 1425h14.5v2h-14.5zM860 1429h31.5v2h-31.5zM622.4 1469h42.6v2h-42.6zM1270.6 1471h4.4v2h-4.4zM622.4 1473h42.6v2h-42.6zM860 1473h31.5v2h-31.5z"/>
<path fill="#30180c" d="M860 1155h31.5v2h-31.5zM1044.5 1575h44v2h-44zM1253 1575h9v2h-9zM1270.6 1575h4.4v2h-4.4zM622.4 1651h42.6v2h-42.6zM860 1651h31.5v2h-31.5zM780 1725h80v2h-80zM1124 1725h15.5v2h-15.5zM1186 1725h36v2h-36zM1241 1725h9.8v2h-9.8zM665 1749h112.5v0.5h-112.5zM894 1749h111v0.5h-111zM1007.5 1749h35v0.5h-35zM1186 1749h36v0.5h-36zM1224 1749h14.5v0.5h-14.5zM1241 1749h9.8v0.5h-9.8z"/>
<path fill="#600c6c" d="M1186 1155h36v2h-36zM1124 1177h15.5v2h-15.5zM1186 1181h36v2h-36zM1142 1185h41.5v2h-41.5zM1186 1185h36v2h-36zM665 1231h112.5v2h-112.5zM1044.5 1231h44v2h-44zM1124 1231h15.5v2h-15.5zM1264.2 1231h4.2v2h-4.2zM1142 1585h41.5v2h-41.5zM1270.6 1585h4.4v2h-4.4zM1270.6 1587h4.4v2h-4.4z"/>
<path fill="#24180c" d="M860 1157h31.5v2h-31.5zM622.4 1553h42.6v2h-42.6zM665 1553h112.5v2h-112.5zM780 1553h80v2h-80zM860 1553h31.5v2h-31.5zM894 1553h111v2h-111zM1044.5 1553h44v2h-44zM1090.5 1553h31.5v2h-31.5zM1124 1553h15.5v2h-15.5zM1253 1553h9v2h-9zM1264.2 1553h4.2v2h-4.2zM1270.6 1553h4.4v2h-4.4zM622.4 1555h42.6v2h-42.6zM665 1555h112.5v2h-112.5zM780 1555h80v2h-80zM860 1555h31.5v2h-31.5zM894 1555h111v2h-111zM1044.5 1555h44v2h-44zM1090.5 1555h31.5v2h-31.5zM1124 1555h15.5v2h-15.5zM1253 1555h9v2h-9zM1264.2 1555h4.2v2h-4.2zM1270.6 1555h4.4v2h-4.4zM622.4 1575h42.6v2h-42.6zM665 1575h112.5v2h-112.5zM780 1575h80v2h-80zM860 1575h31.5v2h-31.5zM894 1575h111v2h-111zM1090.5 1575h31.5v2h-31.5zM1124 1575h15.5v2h-15.5zM622.4 1723h42.6v2h-42.6zM665 1723h112.5v2h-112.5zM780 1723h80v2h-80zM860 1723h31.5v2h-31.5zM894 1723h111v2h-111zM1044.5 1723h44v2h-44zM1090.5 1723h31.5v2h-31.5zM1124 1723h15.5v2h-15.5zM1142 1723h41.5v2h-41.5zM1186 1723h36v2h-36zM1224 1723h14.5v2h-14.5zM1241 1723h9.8v2h-9.8zM1253 1723h9v2h-9zM860 1725h31.5v2h-31.5zM622.4 1727h42.6v2h-42.6zM665 1727h112.5v2h-112.5zM780 1727h80v2h-80zM894 1727h111v2h-111zM1007.5 1727h35v2h-35zM1044.5 1727h44v2h-44zM1090.5 1727h31.5v2h-31.5zM1124 1727h15.5v2h-15.5zM1142 1727h41.5v2h-41.5zM1186 1727h36v2h-36zM1224 1727h14.5v2h-14.5zM1241 1727h9.8v2h-9.8zM1253 1727h9v2h-9zM780 1749h80v0.5h-80zM860 1749h31.5v0.5h-31.5z"/>
<path fill="#540060" d="M1142 1157h41.5v2h-41.5zM1186 1157h36v2h-36zM1186 1189h36v2h-36z"/>
<path fill="#6c0078" d="M1270.6 1157h4.4v2h-4.4zM1264.2 1189h4.2v2h-4.2z"/>
<path fill="#840c90" d="M1186 1159h36v2h-36zM1142 1163h41.5v2h-41.5zM1186 1177h36v2h-36z"/>
<path fill="#6c2460" d="M622.4 1161h42.6v2h-42.6zM1044.5 1161h44v2h-44zM665 1485h112.5v2h-112.5z"/>
<path fill="#6c2454" d="M665 1161h112.5v2h-112.5zM1124 1161h15.5v2h-15.5z"/>
<path fill="#6c4824" d="M894 1161h111v2h-111zM1270.6 1247h4.4v2h-4.4zM1142 1325h41.5v2h-41.5zM1186 1411h36v2h-36zM1224 1459h14.5v2h-14.5z"/>
<path fill="#602454" d="M1007.5 1161h35v2h-35zM665 1173h112.5v2h-112.5zM1124 1173h15.5v2h-15.5zM1044.5 1227h44v2h-44zM1124 1227h15.5v2h-15.5zM665 1239h112.5v2h-112.5zM1044.5 1239h44v2h-44zM1124 1239h15.5v2h-15.5zM1264.2 1239h4.2v2h-4.2zM1270.6 1273h4.4v2h-4.4z"/>
<path fill="#842484" d="M1142 1161h41.5v2h-41.5z"/>
<path fill="#9c2490" d="M1186 1161h36v2h-36z"/>
<path fill="#c024c0" d="M1264.2 1161h4.2v2h-4.2z"/>
<path fill="#6c0c84" d="M1186 1165h36v2h-36zM1186 1167h36v2h-36zM1142 1171h41.5v2h-41.5zM1142 1175h41.5v2h-41.5zM1186 1175h36v2h-36zM1186 1179h36v2h-36z"/>
<path fill="#847818" d="M860 1171h31.5v2h-31.5zM1007.5 1447h35v2h-35z"/>
<path fill="#48183c" d="M622.4 1173h42.6v2h-42.6zM622.4 1239h42.6v2h-42.6zM622.4 1265h42.6v2h-42.6zM860 1265h31.5v2h-31.5zM622.4 1273h42.6v2h-42.6zM860 1273h31.5v2h-31.5zM665 1295h112.5v2h-112.5zM780 1295h80v2h-80zM622.4 1297h42.6v2h-42.6zM780 1297h80v2h-80zM622.4 1303h42.6v2h-42.6zM780 1303h80v2h-80zM860 1303h31.5v2h-31.5zM780 1305h80v2h-80zM665 1307h112.5v2h-112.5zM860 1307h31.5v2h-31.5zM780 1311h80v2h-80zM860 1311h31.5v2h-31.5zM622.4 1315h42.6v2h-42.6zM780 1315h80v2h-80zM665 1317h112.5v2h-112.5zM780 1317h80v2h-80zM665 1319h112.5v2h-112.5zM665 1321h112.5v2h-112.5zM780 1321h80v2h-80zM665 1325h112.5v2h-112.5zM665 1327h112.5v2h-112.5zM780 1327h80v2h-80zM622.4 1335h42.6v2h-42.6zM665 1335h112.5v2h-112.5zM780 1335h80v2h-80zM622.4 1339h42.6v2h-42.6zM665 1339h112.5v2h-112.5zM860 1339h31.5v2h-31.5zM622.4 1341h42.6v2h-42.6zM780 1341h80v2h-80zM860 1341h31.5v2h-31.5zM665 1343h112.5v2h-112.5zM780 1343h80v2h-80zM894 1345h111v2h-111zM894 1347h111v2h-111zM894 1353h111v2h-111zM894 1359h111v2h-111zM894 1365h111v2h-111zM860 1367h31.5v2h-31.5zM894 1371h111v2h-111zM894 1375h111v2h-111zM894 1381h111v2h-111zM894 1383h111v2h-111zM860 1385h31.5v2h-31.5zM860 1389h31.5v2h-31.5zM1241 1389h9.8v2h-9.8zM894 1391h111v2h-111zM894 1393h111v2h-111zM894 1399h111v2h-111zM894 1403h111v2h-111zM622.4 1405h42.6v2h-42.6zM894 1407h111v2h-111zM622.4 1455h42.6v2h-42.6zM894 1467h111v2h-111zM894 1477h111v2h-111zM894 1481h111v2h-111zM894 1489h111v2h-111zM894 1493h111v2h-111zM894 1497h111v2h-111z"/>
<path fill="#543c18" d="M894 1173h111v2h-111zM1007.5 1227h35v2h-35zM1224 1227h14.5v2h-14.5zM1241 1227h9.8v2h-9.8zM1253 1227h9v2h-9zM1186 1239h36v2h-36zM1253 1253h9v2h-9zM1253 1301h9v2h-9zM1044.5 1385h44v2h-44zM1241 1413h9.8v2h-9.8zM1090.5 1453h31.5v2h-31.5zM1090.5 1455h31.5v2h-31.5zM1253 1475h9v2h-9zM1186 1653h36v2h-36z"/>
<path fill="#78186c" d="M1142 1173h41.5v2h-41.5z"/>
<path fill="#846024" d="M1224 1173h14.5v2h-14.5zM1007.5 1367h35v2h-35zM1044.5 1455h44v2h-44z"/>
<path fill="#a824a8" d="M1264.2 1173h4.2v2h-4.2zM1270.6 1173h4.4v2h-4.4z"/>
<path fill="#c00cd8" d="M1264.2 1177h4.2v2h-4.2zM1270.6 1177h4.4v2h-4.4zM1270.6 1233h4.4v2h-4.4z"/>
<path fill="#603c30" d="M1007.5 1179h35v2h-35zM894 1265h111v2h-111zM894 1273h111v2h-111zM1090.5 1273h31.5v2h-31.5zM1224 1273h14.5v2h-14.5zM1253 1273h9v2h-9zM1124 1275h15.5v2h-15.5zM1186 1297h36v2h-36zM1264.2 1407h4.2v2h-4.2zM1090.5 1485h31.5v2h-31.5zM1224 1485h14.5v2h-14.5zM1007.5 1683h35v2h-35zM1186 1683h36v2h-36zM665 1691h112.5v2h-112.5zM1044.5 1691h44v2h-44zM1090.5 1691h31.5v2h-31.5zM1186 1691h36v2h-36zM1253 1691h9v2h-9zM665 1733h112.5v2h-112.5zM780 1733h80v2h-80zM860 1733h31.5v2h-31.5zM1007.5 1733h35v2h-35zM1044.5 1733h44v2h-44zM1124 1733h15.5v2h-15.5zM1142 1733h41.5v2h-41.5zM1186 1733h36v2h-36zM1224 1733h14.5v2h-14.5zM1241 1733h9.8v2h-9.8zM1253 1733h9v2h-9z"/>
<path fill="#543030" d="M1253 1179h9v2h-9zM780 1227h80v2h-80zM1241 1265h9.8v2h-9.8zM1142 1381h41.5v2h-41.5zM1044.5 1451h44v2h-44zM780 1691h80v2h-80zM894 1741h111v2h-111zM894 1743h111v2h-111z"/>
<path fill="#600c60" d="M1124 1183h15.5v2h-15.5zM665 1191h112.5v2h-112.5zM1264.2 1195h4.2v2h-4.2zM622.4 1231h42.6v2h-42.6zM1044.5 1233h44v2h-44zM622.4 1481h42.6v2h-42.6z"/>
<path fill="#48480c" d="M780 1189h80v2h-80zM1270.6 1641h4.4v2h-4.4zM1224 1745h14.5v2h-14.5z"/>
<path fill="#480054" d="M1142 1189h41.5v2h-41.5zM622.4 1497h42.6v2h-42.6z"/>
<path fill="#84543c" d="M1007.5 1191h35v2h-35z"/>
<path fill="#c00ce4" d="M1270.6 1191h4.4v2h-4.4zM1270.6 1231h4.4v2h-4.4z"/>
<path fill="#482430" d="M780 1195h80v2h-80zM780 1209h80v2h-80zM780 1231h80v2h-80zM780 1233h80v2h-80zM780 1235h80v2h-80zM780 1241h80v2h-80zM1224 1243h14.5v2h-14.5zM1253 1243h9v2h-9zM1241 1249h9.8v2h-9.8zM1090.5 1261h31.5v2h-31.5zM1224 1261h14.5v2h-14.5zM1241 1261h9.8v2h-9.8zM1253 1261h9v2h-9zM1090.5 1267h31.5v2h-31.5zM1224 1267h14.5v2h-14.5zM1241 1267h9.8v2h-9.8zM1253 1267h9v2h-9zM894 1271h111v2h-111zM1090.5 1271h31.5v2h-31.5zM1224 1271h14.5v2h-14.5zM1241 1271h9.8v2h-9.8zM894 1275h111v2h-111zM1090.5 1275h31.5v2h-31.5zM1241 1275h9.8v2h-9.8zM1253 1275h9v2h-9zM1090.5 1285h31.5v2h-31.5zM1224 1285h14.5v2h-14.5zM1241 1285h9.8v2h-9.8zM1253 1285h9v2h-9zM1090.5 1289h31.5v2h-31.5zM1241 1289h9.8v2h-9.8zM1253 1289h9v2h-9zM1241 1291h9.8v2h-9.8zM1264.2 1359h4.2v2h-4.2zM622.4 1367h42.6v2h-42.6zM622.4 1385h42.6v2h-42.6zM622.4 1397h42.6v2h-42.6zM860 1405h31.5v2h-31.5zM1186 1415h36v2h-36zM1186 1419h36v2h-36zM894 1423h111v2h-111zM1186 1423h36v2h-36zM894 1427h111v2h-111zM1186 1427h36v2h-36zM1186 1433h36v2h-36zM894 1441h111v2h-111zM1186 1441h36v2h-36zM894 1449h111v2h-111zM1186 1449h36v2h-36zM622.4 1453h42.6v2h-42.6zM894 1461h111v2h-111zM1186 1461h36v2h-36zM1090.5 1467h31.5v2h-31.5zM1224 1467h14.5v2h-14.5zM1090.5 1481h31.5v2h-31.5zM1224 1481h14.5v2h-14.5zM1090.5 1483h31.5v2h-31.5zM665 1583h112.5v2h-112.5zM1186 1583h36v2h-36zM1253 1583h9v2h-9zM665 1585h112.5v2h-112.5zM860 1585h31.5v2h-31.5zM894 1585h111v2h-111zM1007.5 1585h35v2h-35zM1090.5 1585h31.5v2h-31.5zM1124 1585h15.5v2h-15.5zM1186 1585h36v2h-36zM1224 1585h14.5v2h-14.5zM1044.5 1587h44v2h-44zM1224 1587h14.5v2h-14.5zM860 1589h31.5v2h-31.5zM665 1591h112.5v2h-112.5zM894 1591h111v2h-111zM1044.5 1591h44v2h-44zM1090.5 1591h31.5v2h-31.5zM1124 1591h15.5v2h-15.5zM1186 1591h36v2h-36zM780 1633h80v2h-80zM894 1633h111v2h-111zM1007.5 1633h35v2h-35zM1044.5 1633h44v2h-44zM1090.5 1633h31.5v2h-31.5zM1124 1633h15.5v2h-15.5zM1186 1633h36v2h-36zM1241 1633h9.8v2h-9.8zM1264.2 1633h4.2v2h-4.2zM1124 1637h15.5v2h-15.5zM1224 1637h14.5v2h-14.5zM1241 1637h9.8v2h-9.8zM1007.5 1647h35v2h-35zM1186 1647h36v2h-36zM1007.5 1649h35v2h-35zM1007.5 1657h35v2h-35zM1186 1657h36v2h-36zM1007.5 1661h35v2h-35zM1186 1661h36v2h-36zM1007.5 1669h35v2h-35zM1007.5 1673h35v2h-35zM1186 1673h36v2h-36zM1007.5 1675h35v2h-35zM1186 1675h36v2h-36zM1007.5 1681h35v2h-35zM1007.5 1685h35v2h-35zM665 1695h112.5v2h-112.5zM1007.5 1695h35v2h-35zM1090.5 1695h31.5v2h-31.5zM1124 1695h15.5v2h-15.5zM1142 1695h41.5v2h-41.5zM1224 1695h14.5v2h-14.5zM1241 1695h9.8v2h-9.8zM1253 1695h9v2h-9zM665 1697h112.5v2h-112.5zM780 1697h80v2h-80zM1007.5 1697h35v2h-35zM1044.5 1697h44v2h-44zM1090.5 1697h31.5v2h-31.5zM1186 1697h36v2h-36zM1241 1697h9.8v2h-9.8zM1007.5 1699h35v2h-35zM1044.5 1699h44v2h-44zM1090.5 1699h31.5v2h-31.5zM1124 1699h15.5v2h-15.5zM1142 1699h41.5v2h-41.5zM1186 1699h36v2h-36zM1224 1699h14.5v2h-14.5zM1241 1699h9.8v2h-9.8zM1253 1699h9v2h-9zM622.4 1701h42.6v2h-42.6zM665 1701h112.5v2h-112.5zM860 1701h31.5v2h-31.5zM894 1701h111v2h-111zM1007.5 1701h35v2h-35zM1044.5 1701h44v2h-44zM1090.5 1701h31.5v2h-31.5zM1142 1701h41.5v2h-41.5zM1241 1701h9.8v2h-9.8zM1253 1701h9v2h-9zM665 1735h112.5v2h-112.5zM780 1735h80v2h-80zM1044.5 1735h44v2h-44zM1124 1735h15.5v2h-15.5zM1142 1735h41.5v2h-41.5zM1241 1735h9.8v2h-9.8zM1253 1735h9v2h-9z"/>
<path fill="#3c2424" d="M860 1195h31.5v2h-31.5zM780 1201h80v2h-80zM860 1201h31.5v2h-31.5zM780 1203h80v2h-80zM860 1203h31.5v2h-31.5zM780 1207h80v2h-80zM860 1211h31.5v2h-31.5zM780 1213h80v2h-80zM780 1217h80v2h-80zM780 1223h80v2h-80zM780 1225h80v2h-80zM860 1241h31.5v2h-31.5zM1241 1243h9.8v2h-9.8zM1090.5 1249h31.5v2h-31.5zM1253 1249h9v2h-9zM894 1261h111v2h-111zM1090.5 1277h31.5v2h-31.5zM1241 1277h9.8v2h-9.8zM894 1289h111v2h-111zM1253 1291h9v2h-9zM894 1421h111v2h-111zM1186 1421h36v2h-36zM1186 1429h36v2h-36zM894 1443h111v2h-111zM1186 1443h36v2h-36zM1186 1451h36v2h-36zM894 1459h111v2h-111zM1090.5 1491h31.5v2h-31.5zM1090.5 1495h31.5v2h-31.5zM1090.5 1497h31.5v2h-31.5zM622.4 1583h42.6v2h-42.6zM622.4 1591h42.6v2h-42.6zM894 1637h111v2h-111zM1007.5 1637h35v2h-35zM1090.5 1637h31.5v2h-31.5zM1007.5 1671h35v2h-35zM1007.5 1677h35v2h-35zM665 1683h112.5v2h-112.5zM780 1683h80v2h-80zM1124 1683h15.5v2h-15.5zM1224 1683h14.5v2h-14.5zM1241 1683h9.8v2h-9.8zM1186 1685h36v2h-36zM860 1691h31.5v2h-31.5zM860 1697h31.5v2h-31.5zM860 1735h31.5v2h-31.5zM894 1739h111v2h-111zM860 1741h31.5v2h-31.5zM1241 1741h9.8v2h-9.8zM1090.5 1743h31.5v2h-31.5zM1241 1743h9.8v2h-9.8zM1253 1743h9v2h-9z"/>
<path fill="#84780c" d="M894 1195h111v2h-111zM894 1203h111v2h-111zM894 1209h111v2h-111zM894 1211h111v2h-111zM894 1235h111v2h-111zM1186 1279h36v2h-36zM1186 1281h36v2h-36zM1186 1287h36v2h-36z"/>
<path fill="#3c0048" d="M622.4 1201h42.6v2h-42.6z"/>
<path fill="#482424" d="M860 1209h31.5v2h-31.5zM780 1211h80v2h-80zM780 1219h80v2h-80zM860 1219h31.5v2h-31.5zM894 1249h111v2h-111zM1090.5 1269h31.5v2h-31.5zM1253 1271h9v2h-9zM1090.5 1283h31.5v2h-31.5zM1224 1283h14.5v2h-14.5zM894 1285h111v2h-111zM1224 1289h14.5v2h-14.5zM1253 1311h9v2h-9zM1142 1335h41.5v2h-41.5zM1270.6 1415h4.4v2h-4.4zM1186 1431h36v2h-36zM894 1433h111v2h-111zM1224 1495h14.5v2h-14.5zM622.4 1633h42.6v2h-42.6zM665 1633h112.5v2h-112.5zM1142 1633h41.5v2h-41.5zM1224 1633h14.5v2h-14.5zM1270.6 1633h4.4v2h-4.4zM1186 1637h36v2h-36zM1270.6 1637h4.4v2h-4.4zM1186 1649h36v2h-36zM1186 1671h36v2h-36zM1007.5 1735h35v2h-35zM894 1737h111v2h-111zM1142 1743h41.5v2h-41.5zM1186 1743h36v2h-36z"/>
<path fill="#604818" d="M1142 1211h41.5v2h-41.5zM1224 1245h14.5v2h-14.5z"/>
<path fill="#3c1830" d="M860 1217h31.5v2h-31.5zM860 1235h31.5v2h-31.5zM860 1279h31.5v2h-31.5zM780 1293h80v2h-80zM860 1295h31.5v2h-31.5zM860 1299h31.5v2h-31.5zM665 1301h112.5v2h-112.5zM780 1301h80v2h-80zM860 1301h31.5v2h-31.5zM860 1305h31.5v2h-31.5zM622.4 1307h42.6v2h-42.6zM665 1309h112.5v2h-112.5zM780 1309h80v2h-80zM860 1319h31.5v2h-31.5zM622.4 1321h42.6v2h-42.6zM780 1323h80v2h-80zM780 1325h80v2h-80zM622.4 1327h42.6v2h-42.6zM860 1327h31.5v2h-31.5zM665 1329h112.5v2h-112.5zM780 1329h80v2h-80zM665 1331h112.5v2h-112.5zM780 1331h80v2h-80zM665 1333h112.5v2h-112.5zM860 1335h31.5v2h-31.5zM860 1343h31.5v2h-31.5zM894 1357h111v2h-111zM894 1361h111v2h-111zM894 1377h111v2h-111zM894 1395h111v2h-111zM780 1397h80v2h-80zM860 1397h31.5v2h-31.5zM1007.5 1397h35v2h-35zM894 1413h111v2h-111zM1124 1453h15.5v2h-15.5zM1270.6 1453h4.4v2h-4.4zM1124 1455h15.5v2h-15.5zM1253 1455h9v2h-9zM1264.2 1455h4.2v2h-4.2zM894 1465h111v2h-111zM894 1469h111v2h-111zM894 1471h111v2h-111zM894 1479h111v2h-111zM894 1487h111v2h-111zM894 1491h111v2h-111zM894 1495h111v2h-111zM1007.5 1583h35v2h-35zM1044.5 1583h44v2h-44zM1264.2 1583h4.2v2h-4.2zM1044.5 1585h44v2h-44zM1253 1585h9v2h-9zM665 1587h112.5v2h-112.5zM894 1587h111v2h-111zM1090.5 1587h31.5v2h-31.5zM1124 1587h15.5v2h-15.5zM780 1695h80v2h-80zM1186 1695h36v2h-36zM622.4 1697h42.6v2h-42.6zM622.4 1735h42.6v2h-42.6z"/>
<path fill="#542448" d="M665 1227h112.5v2h-112.5zM780 1405h80v2h-80zM1142 1405h41.5v2h-41.5zM1224 1405h14.5v2h-14.5zM1270.6 1405h4.4v2h-4.4zM860 1485h31.5v2h-31.5zM1124 1485h15.5v2h-15.5zM1253 1485h9v2h-9zM1264.2 1485h4.2v2h-4.2z"/>
<path fill="#9c189c" d="M1270.6 1227h4.4v2h-4.4z"/>
<path fill="#3c003c" d="M622.4 1229h42.6v2h-42.6z"/>
<path fill="#90840c" d="M894 1231h111v2h-111zM894 1233h111v2h-111zM1186 1247h36v2h-36zM1186 1251h36v2h-36zM1186 1269h36v2h-36zM1186 1283h36v2h-36z"/>
<path fill="#30003c" d="M622.4 1237h42.6v2h-42.6zM860 1243h31.5v2h-31.5zM860 1267h31.5v2h-31.5zM860 1271h31.5v2h-31.5zM622.4 1375h42.6v2h-42.6zM860 1375h31.5v2h-31.5zM622.4 1435h42.6v2h-42.6zM622.4 1459h42.6v2h-42.6z"/>
<path fill="#603030" d="M780 1239h80v2h-80zM1253 1265h9v2h-9zM1241 1273h9.8v2h-9.8zM1044.5 1433h44v2h-44zM894 1691h111v2h-111zM1124 1691h15.5v2h-15.5zM1142 1691h41.5v2h-41.5zM1224 1691h14.5v2h-14.5zM1241 1691h9.8v2h-9.8z"/>
<path fill="#604824" d="M1224 1239h14.5v2h-14.5zM1241 1239h9.8v2h-9.8zM1124 1247h15.5v2h-15.5zM1264.2 1291h4.2v2h-4.2zM1264.2 1357h4.2v2h-4.2zM1224 1383h14.5v2h-14.5zM1044.5 1405h44v2h-44zM1241 1475h9.8v2h-9.8zM1007.5 1485h35v2h-35z"/>
<path fill="#c024cc" d="M1270.6 1239h4.4v2h-4.4z"/>
<path fill="#542430" d="M894 1243h111v2h-111zM1090.5 1243h31.5v2h-31.5zM894 1267h111v2h-111zM894 1367h111v2h-111zM894 1397h111v2h-111zM894 1419h111v2h-111zM894 1447h111v2h-111zM1186 1447h36v2h-36zM1224 1483h14.5v2h-14.5zM894 1589h111v2h-111zM780 1591h80v2h-80zM1264.2 1591h4.2v2h-4.2zM860 1633h31.5v2h-31.5zM1186 1669h36v2h-36zM665 1693h112.5v2h-112.5zM1124 1697h15.5v2h-15.5zM1224 1697h14.5v2h-14.5zM1253 1697h9v2h-9zM894 1699h111v2h-111zM1124 1701h15.5v2h-15.5zM1186 1701h36v2h-36zM1090.5 1735h31.5v2h-31.5zM1186 1735h36v2h-36zM1224 1735h14.5v2h-14.5z"/>
<path fill="#fcfc00" d="M1007.5 1243h35v2h-35zM1007.5 1261h35v2h-35zM1007.5 1275h35v2h-35zM1044.5 1295h44v2h-44zM1044.5 1297h44v2h-44zM1044.5 1311h44v2h-44zM1044.5 1317h44v2h-44zM1044.5 1319h44v2h-44zM1044.5 1321h44v2h-44zM1044.5 1335h44v2h-44zM1090.5 1349h31.5v2h-31.5zM1124 1349h15.5v2h-15.5zM1090.5 1351h31.5v2h-31.5zM1090.5 1355h31.5v2h-31.5zM1090.5 1359h31.5v2h-31.5zM1090.5 1375h31.5v2h-31.5zM1124 1375h15.5v2h-15.5zM1124 1381h15.5v2h-15.5zM1124 1383h15.5v2h-15.5zM1090.5 1389h31.5v2h-31.5zM1124 1389h15.5v2h-15.5zM1090.5 1393h31.5v2h-31.5zM1124 1393h15.5v2h-15.5zM1090.5 1399h31.5v2h-31.5zM1124 1399h15.5v2h-15.5zM1090.5 1403h31.5v2h-31.5zM1124 1405h15.5v2h-15.5zM1090.5 1407h31.5v2h-31.5zM1124 1407h15.5v2h-15.5zM1090.5 1409h31.5v2h-31.5zM1124 1409h15.5v2h-15.5zM1090.5 1411h31.5v2h-31.5zM1124 1411h15.5v2h-15.5zM1142 1433h41.5v2h-41.5zM1142 1461h41.5v2h-41.5zM1186 1481h36v2h-36zM1186 1483h36v2h-36zM1186 1501h36v2h-36zM1186 1503h36v2h-36zM1224 1545h14.5v2h-14.5zM1241 1575h9.8v2h-9.8zM1241 1589h9.8v2h-9.8zM1253 1595h9v2h-9zM1253 1601h9v2h-9zM1253 1615h9v2h-9zM1253 1625h9v2h-9zM1253 1627h9v2h-9zM1253 1633h9v2h-9zM1264.2 1647h4.2v2h-4.2zM1270.6 1647h4.4v2h-4.4zM1264.2 1649h4.2v2h-4.2zM1270.6 1649h4.4v2h-4.4zM1264.2 1669h4.2v2h-4.2zM1270.6 1669h4.4v2h-4.4zM1264.2 1671h4.2v2h-4.2zM1264.2 1681h4.2v2h-4.2zM1270.6 1681h4.4v2h-4.4zM1270.6 1693h4.4v2h-4.4zM1264.2 1703h4.2v2h-4.2zM1264.2 1705h4.2v2h-4.2zM1270.6 1705h4.4v2h-4.4zM1264.2 1707h4.2v2h-4.2zM1270.6 1711h4.4v2h-4.4zM1270.6 1713h4.4v2h-4.4zM1264.2 1719h4.2v2h-4.2zM1270.6 1719h4.4v2h-4.4zM1270.6 1725h4.4v2h-4.4zM1270.6 1733h4.4v2h-4.4zM1264.2 1749h4.2v0.5h-4.2zM1270.6 1749h4.4v0.5h-4.4z"/>
<path fill="#c0a80c" d="M1186 1243h36v2h-36z"/>
<path fill="#180018" d="M622.4 1245h42.6v2h-42.6zM860 1439h31.5v2h-31.5zM622.4 1645h42.6v2h-42.6zM860 1653h31.5v2h-31.5zM622.4 1661h42.6v2h-42.6zM622.4 1663h42.6v2h-42.6zM622.4 1687h42.6v2h-42.6zM622.4 1689h42.6v2h-42.6zM860 1689h31.5v2h-31.5z"/>
<path fill="#9c9c00" d="M1007.5 1245h35v2h-35zM1007.5 1255h35v2h-35z"/>
<path fill="#240c24" d="M860 1247h31.5v2h-31.5zM860 1253h31.5v2h-31.5zM622.4 1269h42.6v2h-42.6zM860 1269h31.5v2h-31.5zM622.4 1283h42.6v2h-42.6zM860 1287h31.5v2h-31.5zM622.4 1293h42.6v2h-42.6zM860 1357h31.5v2h-31.5zM860 1371h31.5v2h-31.5zM860 1383h31.5v2h-31.5zM622.4 1395h42.6v2h-42.6zM622.4 1399h42.6v2h-42.6zM622.4 1407h42.6v2h-42.6zM860 1423h31.5v2h-31.5zM622.4 1439h42.6v2h-42.6zM860 1443h31.5v2h-31.5zM860 1469h31.5v2h-31.5zM860 1487h31.5v2h-31.5z"/>
<path fill="#ccc000" d="M1007.5 1247h35v2h-35zM1007.5 1263h35v2h-35zM1007.5 1265h35v2h-35zM1007.5 1269h35v2h-35zM1124 1357h15.5v2h-15.5zM1090.5 1361h31.5v2h-31.5zM1124 1361h15.5v2h-15.5zM1090.5 1387h31.5v2h-31.5zM1124 1395h15.5v2h-15.5zM1142 1445h41.5v2h-41.5zM1142 1463h41.5v2h-41.5zM1186 1471h36v2h-36zM1186 1475h36v2h-36zM1186 1479h36v2h-36zM1186 1495h36v2h-36zM1224 1517h14.5v2h-14.5zM1224 1533h14.5v2h-14.5zM1253 1593h9v2h-9zM1253 1605h9v2h-9zM1253 1641h9v2h-9zM1264.2 1655h4.2v2h-4.2zM1264.2 1737h4.2v2h-4.2zM1270.6 1745h4.4v2h-4.4z"/>
<path fill="#cccc00" d="M1007.5 1249h35v2h-35zM1007.5 1277h35v2h-35zM1090.5 1347h31.5v2h-31.5zM1090.5 1353h31.5v2h-31.5zM1090.5 1385h31.5v2h-31.5zM1142 1451h41.5v2h-41.5zM1224 1511h14.5v2h-14.5zM1241 1563h9.8v2h-9.8zM1241 1573h9.8v2h-9.8zM1270.6 1645h4.4v2h-4.4zM1264.2 1653h4.2v2h-4.2zM1264.2 1659h4.2v2h-4.2zM1264.2 1695h4.2v2h-4.2zM1264.2 1721h4.2v2h-4.2z"/>
<path fill="#90900c" d="M1186 1249h36v2h-36zM1186 1263h36v2h-36zM1186 1265h36v2h-36z"/>
<path fill="#c0c000" d="M1007.5 1251h35v2h-35zM1007.5 1281h35v2h-35zM1044.5 1313h44v2h-44zM1090.5 1397h31.5v2h-31.5zM1142 1421h41.5v2h-41.5zM1186 1497h36v2h-36zM1224 1519h14.5v2h-14.5zM1224 1521h14.5v2h-14.5zM1241 1585h9.8v2h-9.8zM1253 1623h9v2h-9zM1264.2 1645h4.2v2h-4.2zM1270.6 1659h4.4v2h-4.4zM1264.2 1691h4.2v2h-4.2zM1270.6 1695h4.4v2h-4.4zM1264.2 1715h4.2v2h-4.2zM1264.2 1717h4.2v2h-4.2zM1270.6 1721h4.4v2h-4.4zM1264.2 1745h4.2v2h-4.2z"/>
<path fill="#b4b400" d="M1007.5 1253h35v2h-35zM1124 1363h15.5v2h-15.5zM1090.5 1377h31.5v2h-31.5zM1124 1377h15.5v2h-15.5zM1124 1387h15.5v2h-15.5zM1124 1397h15.5v2h-15.5zM1124 1401h15.5v2h-15.5zM1142 1453h41.5v2h-41.5zM1186 1487h36v2h-36zM1224 1525h14.5v2h-14.5zM1241 1581h9.8v2h-9.8zM1241 1583h9.8v2h-9.8zM1241 1587h9.8v2h-9.8zM1253 1603h9v2h-9zM1253 1639h9v2h-9zM1270.6 1651h4.4v2h-4.4zM1270.6 1737h4.4v2h-4.4z"/>
<path fill="#240c18" d="M622.4 1255h42.6v2h-42.6zM665 1501h112.5v2h-112.5zM622.4 1503h42.6v2h-42.6zM665 1503h112.5v2h-112.5zM780 1503h80v2h-80zM894 1503h111v2h-111zM1224 1503h14.5v2h-14.5zM1241 1503h9.8v2h-9.8zM1253 1503h9v2h-9zM1142 1515h41.5v2h-41.5zM1007.5 1527h35v2h-35zM1142 1527h41.5v2h-41.5zM1007.5 1539h35v2h-35zM1186 1543h36v2h-36zM1142 1559h41.5v2h-41.5zM1186 1569h36v2h-36zM1224 1569h14.5v2h-14.5zM1007.5 1571h35v2h-35zM1142 1571h41.5v2h-41.5zM1142 1579h41.5v2h-41.5zM1186 1579h36v2h-36zM665 1647h112.5v2h-112.5zM780 1647h80v2h-80zM1044.5 1647h44v2h-44zM1124 1647h15.5v2h-15.5zM1142 1647h41.5v2h-41.5zM1241 1647h9.8v2h-9.8zM1253 1647h9v2h-9zM665 1649h112.5v2h-112.5zM894 1649h111v2h-111zM1090.5 1649h31.5v2h-31.5zM1142 1649h41.5v2h-41.5zM1241 1649h9.8v2h-9.8zM665 1657h112.5v2h-112.5zM894 1657h111v2h-111zM1090.5 1657h31.5v2h-31.5zM1124 1657h15.5v2h-15.5zM1142 1657h41.5v2h-41.5zM1224 1657h14.5v2h-14.5zM1241 1657h9.8v2h-9.8zM622.4 1669h42.6v2h-42.6zM894 1669h111v2h-111zM1044.5 1669h44v2h-44zM1224 1669h14.5v2h-14.5zM1124 1671h15.5v2h-15.5zM780 1675h80v2h-80zM860 1675h31.5v2h-31.5zM1224 1675h14.5v2h-14.5zM622.4 1681h42.6v2h-42.6zM665 1681h112.5v2h-112.5zM780 1681h80v2h-80zM1124 1681h15.5v2h-15.5zM1224 1681h14.5v2h-14.5zM1241 1681h9.8v2h-9.8zM780 1685h80v2h-80zM1044.5 1685h44v2h-44zM1090.5 1685h31.5v2h-31.5zM1124 1685h15.5v2h-15.5zM1142 1685h41.5v2h-41.5zM1253 1685h9v2h-9zM622.4 1739h42.6v2h-42.6z"/>
<path fill="#605418" d="M1224 1255h14.5v2h-14.5zM1186 1505h36v2h-36z"/>
<path fill="#180024" d="M860 1257h31.5v2h-31.5z"/>
<path fill="#a89c00" d="M1007.5 1257h35v2h-35zM1044.5 1323h44v2h-44zM1186 1469h36v2h-36zM1241 1549h9.8v2h-9.8zM1241 1557h9.8v2h-9.8zM1264.2 1665h4.2v2h-4.2zM1270.6 1667h4.4v2h-4.4zM1264.2 1689h4.2v2h-4.2zM1270.6 1717h4.4v2h-4.4zM1270.6 1739h4.4v2h-4.4z"/>
<path fill="#6c6c00" d="M1186 1257h36v2h-36z"/>
<path fill="#b4a800" d="M1007.5 1259h35v2h-35zM1044.5 1293h44v2h-44zM1044.5 1299h44v2h-44zM1124 1373h15.5v2h-15.5zM1124 1379h15.5v2h-15.5zM1142 1439h41.5v2h-41.5zM1186 1465h36v2h-36zM1186 1473h36v2h-36zM1241 1577h9.8v2h-9.8zM1253 1611h9v2h-9zM1253 1617h9v2h-9zM1264.2 1651h4.2v2h-4.2zM1264.2 1667h4.2v2h-4.2zM1264.2 1679h4.2v2h-4.2zM1270.6 1689h4.4v2h-4.4z"/>
<path fill="#b4a80c" d="M1186 1261h36v2h-36zM1186 1271h36v2h-36zM1186 1275h36v2h-36zM1186 1285h36v2h-36z"/>
<path fill="#f0f000" d="M1007.5 1267h35v2h-35zM1044.5 1339h44v2h-44zM1124 1345h15.5v2h-15.5zM1124 1351h15.5v2h-15.5zM1124 1359h15.5v2h-15.5zM1124 1365h15.5v2h-15.5zM1090.5 1405h31.5v2h-31.5zM1142 1419h41.5v2h-41.5zM1142 1449h41.5v2h-41.5zM1224 1539h14.5v2h-14.5zM1224 1547h14.5v2h-14.5zM1253 1599h9v2h-9zM1270.6 1657h4.4v2h-4.4zM1264.2 1661h4.2v2h-4.2zM1264.2 1683h4.2v2h-4.2zM1270.6 1699h4.4v2h-4.4zM1264.2 1711h4.2v2h-4.2zM1264.2 1713h4.2v2h-4.2zM1270.6 1729h4.4v2h-4.4zM1264.2 1731h4.2v2h-4.2zM1264.2 1735h4.2v2h-4.2z"/>
<path fill="#a89c0c" d="M1186 1267h36v2h-36zM1186 1273h36v2h-36zM1186 1291h36v2h-36z"/>
<path fill="#846c18" d="M1224 1269h14.5v2h-14.5zM1186 1457h36v2h-36z"/>
<path fill="#e4d800" d="M1007.5 1271h35v2h-35zM1044.5 1303h44v2h-44zM1124 1347h15.5v2h-15.5zM1124 1353h15.5v2h-15.5zM1090.5 1367h31.5v2h-31.5zM1090.5 1369h31.5v2h-31.5zM1124 1385h15.5v2h-15.5zM1090.5 1395h31.5v2h-31.5zM1142 1435h41.5v2h-41.5zM1142 1457h41.5v2h-41.5zM1186 1477h36v2h-36zM1186 1499h36v2h-36zM1224 1509h14.5v2h-14.5zM1224 1543h14.5v2h-14.5zM1241 1561h9.8v2h-9.8zM1241 1565h9.8v2h-9.8zM1241 1591h9.8v2h-9.8zM1253 1631h9v2h-9zM1253 1637h9v2h-9zM1270.6 1661h4.4v2h-4.4zM1264.2 1675h4.2v2h-4.2zM1264.2 1701h4.2v2h-4.2zM1270.6 1707h4.4v2h-4.4z"/>
<path fill="#d8cc00" d="M1007.5 1273h35v2h-35zM1007.5 1279h35v2h-35zM1007.5 1283h35v2h-35zM1007.5 1287h35v2h-35zM1044.5 1309h44v2h-44zM1090.5 1357h31.5v2h-31.5zM1090.5 1371h31.5v2h-31.5zM1142 1429h41.5v2h-41.5zM1186 1493h36v2h-36zM1241 1567h9.8v2h-9.8zM1253 1613h9v2h-9zM1270.6 1653h4.4v2h-4.4zM1270.6 1655h4.4v2h-4.4zM1264.2 1743h4.2v2h-4.2z"/>
<path fill="#6c5424" d="M1224 1275h14.5v2h-14.5zM1264.2 1297h4.2v2h-4.2zM1264.2 1417h4.2v2h-4.2zM1124 1429h15.5v2h-15.5zM1270.6 1433h4.4v2h-4.4z"/>
<path fill="#9c900c" d="M1186 1277h36v2h-36zM1186 1289h36v2h-36z"/>
<path fill="#f0e400" d="M1007.5 1285h35v2h-35zM1007.5 1289h35v2h-35zM1007.5 1291h35v2h-35zM1044.5 1315h44v2h-44zM1044.5 1325h44v2h-44zM1044.5 1327h44v2h-44zM1044.5 1331h44v2h-44zM1090.5 1381h31.5v2h-31.5zM1142 1415h41.5v2h-41.5zM1142 1431h41.5v2h-41.5zM1142 1443h41.5v2h-41.5zM1186 1467h36v2h-36zM1224 1505h14.5v2h-14.5zM1224 1515h14.5v2h-14.5zM1241 1569h9.8v2h-9.8zM1241 1579h9.8v2h-9.8zM1264.2 1657h4.2v2h-4.2zM1270.6 1683h4.4v2h-4.4zM1270.6 1685h4.4v2h-4.4zM1264.2 1693h4.2v2h-4.2zM1264.2 1697h4.2v2h-4.2zM1264.2 1699h4.2v2h-4.2zM1270.6 1701h4.4v2h-4.4zM1270.6 1715h4.4v2h-4.4zM1264.2 1729h4.2v2h-4.2zM1270.6 1731h4.4v2h-4.4zM1270.6 1735h4.4v2h-4.4z"/>
<path fill="#3c0c30" d="M860 1293h31.5v2h-31.5zM622.4 1295h42.6v2h-42.6zM780 1299h80v2h-80zM860 1309h31.5v2h-31.5zM665 1313h112.5v2h-112.5zM860 1325h31.5v2h-31.5zM622.4 1329h42.6v2h-42.6zM860 1331h31.5v2h-31.5zM665 1337h112.5v2h-112.5zM894 1363h111v2h-111zM894 1373h111v2h-111zM894 1379h111v2h-111zM894 1401h111v2h-111z"/>
<path fill="#541848" d="M665 1297h112.5v2h-112.5zM860 1297h31.5v2h-31.5zM665 1303h112.5v2h-112.5zM622.4 1305h42.6v2h-42.6zM665 1305h112.5v2h-112.5zM622.4 1311h42.6v2h-42.6zM665 1311h112.5v2h-112.5zM780 1319h80v2h-80zM780 1339h80v2h-80zM665 1341h112.5v2h-112.5zM622.4 1343h42.6v2h-42.6zM894 1349h111v2h-111zM894 1355h111v2h-111zM894 1409h111v2h-111zM894 1411h111v2h-111zM894 1483h111v2h-111z"/>
<path fill="#6c4830" d="M1253 1297h9v2h-9zM1044.5 1435h44v2h-44z"/>
<path fill="#300c24" d="M622.4 1299h42.6v2h-42.6zM622.4 1309h42.6v2h-42.6zM860 1323h31.5v2h-31.5zM860 1329h31.5v2h-31.5zM622.4 1333h42.6v2h-42.6zM780 1333h80v2h-80zM860 1333h31.5v2h-31.5zM622.4 1337h42.6v2h-42.6zM860 1337h31.5v2h-31.5z"/>
<path fill="#c0b400" d="M1044.5 1301h44v2h-44zM1044.5 1329h44v2h-44zM1090.5 1363h31.5v2h-31.5zM1090.5 1373h31.5v2h-31.5zM1090.5 1413h31.5v2h-31.5zM1124 1413h15.5v2h-15.5zM1142 1425h41.5v2h-41.5zM1142 1455h41.5v2h-41.5zM1142 1459h41.5v2h-41.5zM1224 1541h14.5v2h-14.5zM1253 1635h9v2h-9zM1264.2 1663h4.2v2h-4.2zM1270.6 1663h4.4v2h-4.4zM1270.6 1665h4.4v2h-4.4zM1270.6 1677h4.4v2h-4.4zM1270.6 1679h4.4v2h-4.4zM1270.6 1687h4.4v2h-4.4zM1264.2 1739h4.2v2h-4.2z"/>
<path fill="#e4e400" d="M1044.5 1305h44v2h-44zM1044.5 1307h44v2h-44zM1044.5 1343h44v2h-44zM1124 1369h15.5v2h-15.5zM1142 1417h41.5v2h-41.5zM1186 1491h36v2h-36zM1224 1529h14.5v2h-14.5zM1241 1551h9.8v2h-9.8zM1241 1559h9.8v2h-9.8zM1253 1643h9v2h-9zM1264.2 1673h4.2v2h-4.2zM1270.6 1709h4.4v2h-4.4zM1264.2 1725h4.2v2h-4.2zM1270.6 1743h4.4v2h-4.4z"/>
<path fill="#54183c" d="M780 1307h80v2h-80zM665 1315h112.5v2h-112.5zM894 1351h111v2h-111z"/>
<path fill="#543c24" d="M1270.6 1309h4.4v2h-4.4zM1241 1343h9.8v2h-9.8zM1224 1415h14.5v2h-14.5zM1241 1445h9.8v2h-9.8zM1253 1451h9v2h-9zM1270.6 1451h4.4v2h-4.4zM1124 1471h15.5v2h-15.5zM1124 1479h15.5v2h-15.5zM1253 1493h9v2h-9zM622.4 1691h42.6v2h-42.6zM622.4 1733h42.6v2h-42.6z"/>
<path fill="#6c4818" d="M1264.2 1313h4.2v2h-4.2z"/>
<path fill="#481848" d="M860 1315h31.5v2h-31.5z"/>
<path fill="#3c183c" d="M860 1317h31.5v2h-31.5zM894 1369h111v2h-111zM894 1475h111v2h-111z"/>
<path fill="#480c3c" d="M860 1321h31.5v2h-31.5z"/>
<path fill="#a8a800" d="M1044.5 1333h44v2h-44zM1044.5 1337h44v2h-44zM1090.5 1379h31.5v2h-31.5zM1142 1437h41.5v2h-41.5zM1224 1535h14.5v2h-14.5zM1241 1553h9.8v2h-9.8zM1241 1555h9.8v2h-9.8zM1253 1597h9v2h-9zM1264.2 1723h4.2v2h-4.2zM1270.6 1723h4.4v2h-4.4zM1264.2 1727h4.2v2h-4.2zM1270.6 1727h4.4v2h-4.4z"/>
<path fill="#907818" d="M1124 1339h15.5v2h-15.5zM1044.5 1349h44v2h-44zM1044.5 1389h44v2h-44z"/>
<path fill="#fcf000" d="M1044.5 1341h44v2h-44zM1124 1355h15.5v2h-15.5zM1090.5 1365h31.5v2h-31.5zM1124 1391h15.5v2h-15.5zM1124 1403h15.5v2h-15.5zM1142 1423h41.5v2h-41.5zM1142 1427h41.5v2h-41.5zM1142 1441h41.5v2h-41.5zM1142 1447h41.5v2h-41.5zM1186 1485h36v2h-36zM1186 1489h36v2h-36zM1224 1523h14.5v2h-14.5zM1224 1527h14.5v2h-14.5zM1224 1537h14.5v2h-14.5zM1241 1571h9.8v2h-9.8zM1253 1609h9v2h-9zM1253 1619h9v2h-9zM1253 1629h9v2h-9zM1270.6 1671h4.4v2h-4.4zM1270.6 1673h4.4v2h-4.4zM1270.6 1675h4.4v2h-4.4zM1264.2 1685h4.2v2h-4.2zM1270.6 1703h4.4v2h-4.4z"/>
<path fill="#d8d800" d="M1090.5 1345h31.5v2h-31.5zM1124 1367h15.5v2h-15.5zM1124 1371h15.5v2h-15.5zM1090.5 1383h31.5v2h-31.5zM1090.5 1391h31.5v2h-31.5zM1090.5 1401h31.5v2h-31.5zM1224 1507h14.5v2h-14.5zM1224 1513h14.5v2h-14.5zM1224 1531h14.5v2h-14.5zM1253 1607h9v2h-9zM1253 1621h9v2h-9zM1264.2 1677h4.2v2h-4.2zM1264.2 1687h4.2v2h-4.2zM1270.6 1691h4.4v2h-4.4zM1270.6 1697h4.4v2h-4.4zM1264.2 1709h4.2v2h-4.2zM1264.2 1733h4.2v2h-4.2zM1264.2 1741h4.2v2h-4.2zM1270.6 1741h4.4v2h-4.4zM1264.2 1747h4.2v2h-4.2zM1270.6 1747h4.4v2h-4.4z"/>
<path fill="#60303c" d="M894 1385h111v2h-111zM1124 1589h15.5v2h-15.5z"/>
<path fill="#603048" d="M894 1389h111v2h-111z"/>
<path fill="#783054" d="M894 1405h111v2h-111z"/>
<path fill="#846030" d="M1007.5 1405h35v2h-35z"/>
<path fill="#785430" d="M1253 1405h9v2h-9z"/>
<path fill="#786018" d="M1186 1455h36v2h-36zM1253 1737h9v2h-9z"/>
<path fill="#240c30" d="M622.4 1457h42.6v2h-42.6z"/>
<path fill="#785424" d="M1270.6 1461h4.4v2h-4.4z"/>
<path fill="#601854" d="M622.4 1485h42.6v2h-42.6z"/>
<path fill="#6c3048" d="M894 1485h111v2h-111z"/>
<path fill="#78246c" d="M1044.5 1485h44v2h-44z"/>
<path fill="#180c18" d="M622.4 1499h42.6v2h-42.6zM665 1499h112.5v2h-112.5zM780 1499h80v2h-80zM860 1499h31.5v2h-31.5zM894 1499h111v2h-111zM1224 1499h14.5v2h-14.5zM1241 1499h9.8v2h-9.8zM1253 1499h9v2h-9zM622.4 1501h42.6v2h-42.6zM780 1501h80v2h-80zM860 1501h31.5v2h-31.5zM894 1501h111v2h-111zM1224 1501h14.5v2h-14.5zM1241 1501h9.8v2h-9.8zM1253 1501h9v2h-9zM860 1503h31.5v2h-31.5zM1007.5 1505h35v2h-35zM1142 1505h41.5v2h-41.5zM1007.5 1507h35v2h-35zM1186 1507h36v2h-36zM1007.5 1509h35v2h-35zM1142 1509h41.5v2h-41.5zM1186 1509h36v2h-36zM1007.5 1511h35v2h-35zM1142 1511h41.5v2h-41.5zM1186 1511h36v2h-36zM1007.5 1513h35v2h-35zM1142 1513h41.5v2h-41.5zM1186 1513h36v2h-36zM1007.5 1515h35v2h-35zM1007.5 1517h35v2h-35zM1186 1517h36v2h-36zM1007.5 1519h35v2h-35zM1142 1519h41.5v2h-41.5zM1186 1519h36v2h-36zM1007.5 1521h35v2h-35zM1142 1521h41.5v2h-41.5zM1186 1521h36v2h-36zM1007.5 1523h35v2h-35zM1142 1523h41.5v2h-41.5zM1186 1523h36v2h-36zM1007.5 1525h35v2h-35zM1142 1525h41.5v2h-41.5zM1186 1527h36v2h-36zM1007.5 1529h35v2h-35zM1142 1529h41.5v2h-41.5zM1186 1529h36v2h-36zM1007.5 1531h35v2h-35zM1142 1531h41.5v2h-41.5zM1186 1531h36v2h-36zM1007.5 1533h35v2h-35zM1142 1533h41.5v2h-41.5zM1186 1535h36v2h-36zM1007.5 1537h35v2h-35zM1142 1537h41.5v2h-41.5zM1142 1539h41.5v2h-41.5zM1186 1539h36v2h-36zM1007.5 1541h35v2h-35zM1142 1541h41.5v2h-41.5zM1186 1541h36v2h-36zM1007.5 1543h35v2h-35zM1142 1543h41.5v2h-41.5zM1007.5 1545h35v2h-35zM1142 1545h41.5v2h-41.5zM1007.5 1547h35v2h-35zM1142 1547h41.5v2h-41.5zM1007.5 1549h35v2h-35zM1142 1549h41.5v2h-41.5zM1007.5 1551h35v2h-35zM1142 1551h41.5v2h-41.5zM1186 1551h36v2h-36zM1224 1551h14.5v2h-14.5zM1007.5 1557h35v2h-35zM1186 1557h36v2h-36zM1007.5 1559h35v2h-35zM1142 1561h41.5v2h-41.5zM1186 1561h36v2h-36zM1142 1563h41.5v2h-41.5zM1186 1563h36v2h-36zM1224 1563h14.5v2h-14.5zM1007.5 1565h35v2h-35zM1142 1565h41.5v2h-41.5zM1186 1565h36v2h-36zM1224 1565h14.5v2h-14.5zM1007.5 1567h35v2h-35zM1142 1567h41.5v2h-41.5zM1224 1567h14.5v2h-14.5zM1007.5 1569h35v2h-35zM1142 1569h41.5v2h-41.5zM1186 1571h36v2h-36zM1224 1571h14.5v2h-14.5zM1007.5 1573h35v2h-35zM1142 1573h41.5v2h-41.5zM1186 1573h36v2h-36zM1007.5 1577h35v2h-35zM1142 1577h41.5v2h-41.5zM1186 1577h36v2h-36zM1007.5 1579h35v2h-35zM1224 1579h14.5v2h-14.5zM1007.5 1581h35v2h-35zM1142 1581h41.5v2h-41.5zM780 1645h80v2h-80zM894 1645h111v2h-111zM1044.5 1645h44v2h-44zM1090.5 1645h31.5v2h-31.5zM1124 1645h15.5v2h-15.5zM1142 1645h41.5v2h-41.5zM1224 1645h14.5v2h-14.5zM1241 1645h9.8v2h-9.8zM1253 1645h9v2h-9zM622.4 1647h42.6v2h-42.6zM860 1647h31.5v2h-31.5zM894 1647h111v2h-111zM1090.5 1647h31.5v2h-31.5zM1224 1647h14.5v2h-14.5zM622.4 1649h42.6v2h-42.6zM780 1649h80v2h-80zM860 1649h31.5v2h-31.5zM1044.5 1649h44v2h-44zM1124 1649h15.5v2h-15.5zM1224 1649h14.5v2h-14.5zM1253 1649h9v2h-9zM665 1653h112.5v2h-112.5zM780 1653h80v2h-80zM894 1653h111v2h-111zM1044.5 1653h44v2h-44zM1090.5 1653h31.5v2h-31.5zM1124 1653h15.5v2h-15.5zM1142 1653h41.5v2h-41.5zM1224 1653h14.5v2h-14.5zM1241 1653h9.8v2h-9.8zM1253 1653h9v2h-9zM622.4 1655h42.6v2h-42.6zM665 1655h112.5v2h-112.5zM780 1655h80v2h-80zM860 1655h31.5v2h-31.5zM894 1655h111v2h-111zM1044.5 1655h44v2h-44zM1090.5 1655h31.5v2h-31.5zM1124 1655h15.5v2h-15.5zM1142 1655h41.5v2h-41.5zM1224 1655h14.5v2h-14.5zM1241 1655h9.8v2h-9.8zM1253 1655h9v2h-9zM622.4 1657h42.6v2h-42.6zM780 1657h80v2h-80zM860 1657h31.5v2h-31.5zM1044.5 1657h44v2h-44zM665 1659h112.5v2h-112.5zM780 1659h80v2h-80zM894 1659h111v2h-111zM1044.5 1659h44v2h-44zM1090.5 1659h31.5v2h-31.5zM1124 1659h15.5v2h-15.5zM1142 1659h41.5v2h-41.5zM1224 1659h14.5v2h-14.5zM1241 1659h9.8v2h-9.8zM1253 1659h9v2h-9zM665 1661h112.5v2h-112.5zM780 1661h80v2h-80zM860 1661h31.5v2h-31.5zM894 1661h111v2h-111zM1044.5 1661h44v2h-44zM1090.5 1661h31.5v2h-31.5zM1124 1661h15.5v2h-15.5zM1142 1661h41.5v2h-41.5zM1224 1661h14.5v2h-14.5zM1241 1661h9.8v2h-9.8zM1253 1661h9v2h-9zM665 1663h112.5v2h-112.5zM780 1663h80v2h-80zM894 1663h111v2h-111zM1044.5 1663h44v2h-44zM1090.5 1663h31.5v2h-31.5zM1124 1663h15.5v2h-15.5zM1142 1663h41.5v2h-41.5zM1224 1663h14.5v2h-14.5zM1253 1663h9v2h-9zM665 1665h112.5v2h-112.5zM780 1665h80v2h-80zM894 1665h111v2h-111zM1090.5 1665h31.5v2h-31.5zM1142 1665h41.5v2h-41.5zM1224 1665h14.5v2h-14.5zM1241 1665h9.8v2h-9.8zM1253 1665h9v2h-9zM665 1669h112.5v2h-112.5zM780 1669h80v2h-80zM860 1669h31.5v2h-31.5zM1090.5 1669h31.5v2h-31.5zM1142 1669h41.5v2h-41.5zM1241 1669h9.8v2h-9.8zM1253 1669h9v2h-9zM622.4 1671h42.6v2h-42.6zM665 1671h112.5v2h-112.5zM780 1671h80v2h-80zM894 1671h111v2h-111zM1044.5 1671h44v2h-44zM1090.5 1671h31.5v2h-31.5zM1142 1671h41.5v2h-41.5zM1241 1671h9.8v2h-9.8zM1253 1671h9v2h-9zM622.4 1673h42.6v2h-42.6zM665 1673h112.5v2h-112.5zM780 1673h80v2h-80zM860 1673h31.5v2h-31.5zM894 1673h111v2h-111zM1044.5 1673h44v2h-44zM1090.5 1673h31.5v2h-31.5zM1124 1673h15.5v2h-15.5zM1142 1673h41.5v2h-41.5zM1224 1673h14.5v2h-14.5zM1241 1673h9.8v2h-9.8zM1253 1673h9v2h-9zM622.4 1675h42.6v2h-42.6zM665 1675h112.5v2h-112.5zM894 1675h111v2h-111zM1044.5 1675h44v2h-44zM1090.5 1675h31.5v2h-31.5zM1124 1675h15.5v2h-15.5zM1142 1675h41.5v2h-41.5zM1241 1675h9.8v2h-9.8zM1253 1675h9v2h-9zM622.4 1677h42.6v2h-42.6zM665 1677h112.5v2h-112.5zM780 1677h80v2h-80zM894 1677h111v2h-111zM1044.5 1677h44v2h-44zM1090.5 1677h31.5v2h-31.5zM1124 1677h15.5v2h-15.5zM1224 1677h14.5v2h-14.5zM1241 1677h9.8v2h-9.8zM1253 1677h9v2h-9zM665 1679h112.5v2h-112.5zM780 1679h80v2h-80zM860 1679h31.5v2h-31.5zM894 1679h111v2h-111zM1044.5 1679h44v2h-44zM1090.5 1679h31.5v2h-31.5zM1124 1679h15.5v2h-15.5zM1142 1679h41.5v2h-41.5zM1224 1679h14.5v2h-14.5zM1241 1679h9.8v2h-9.8zM1253 1679h9v2h-9zM860 1681h31.5v2h-31.5zM894 1681h111v2h-111zM1044.5 1681h44v2h-44zM1090.5 1681h31.5v2h-31.5zM1253 1681h9v2h-9zM622.4 1685h42.6v2h-42.6zM665 1685h112.5v2h-112.5zM860 1685h31.5v2h-31.5zM894 1685h111v2h-111zM1224 1685h14.5v2h-14.5zM1241 1685h9.8v2h-9.8zM665 1687h112.5v2h-112.5zM780 1687h80v2h-80zM894 1687h111v2h-111zM1044.5 1687h44v2h-44zM1090.5 1687h31.5v2h-31.5zM1124 1687h15.5v2h-15.5zM1142 1687h41.5v2h-41.5zM1224 1687h14.5v2h-14.5zM1241 1687h9.8v2h-9.8zM1253 1687h9v2h-9zM665 1689h112.5v2h-112.5zM894 1689h111v2h-111zM1090.5 1689h31.5v2h-31.5zM1124 1689h15.5v2h-15.5zM1224 1689h14.5v2h-14.5z"/>
<path fill="#0c000c" d="M1264.2 1499h4.2v2h-4.2zM1270.6 1499h4.4v2h-4.4zM1264.2 1501h4.2v2h-4.2zM1270.6 1501h4.4v2h-4.4zM1264.2 1503h4.2v2h-4.2zM1270.6 1503h4.4v2h-4.4zM622.4 1505h42.6v2h-42.6zM665 1505h112.5v2h-112.5zM780 1505h80v2h-80zM860 1505h31.5v2h-31.5zM894 1505h111v2h-111zM1124 1505h15.5v2h-15.5zM1241 1505h9.8v2h-9.8zM1253 1505h9v2h-9zM1264.2 1505h4.2v2h-4.2zM1270.6 1505h4.4v2h-4.4zM622.4 1507h42.6v2h-42.6zM665 1507h112.5v2h-112.5zM780 1507h80v2h-80zM860 1507h31.5v2h-31.5zM894 1507h111v2h-111zM1044.5 1507h44v2h-44zM1090.5 1507h31.5v2h-31.5zM1124 1507h15.5v2h-15.5zM1241 1507h9.8v2h-9.8zM1253 1507h9v2h-9zM1264.2 1507h4.2v2h-4.2zM1270.6 1507h4.4v2h-4.4zM622.4 1509h42.6v2h-42.6zM665 1509h112.5v2h-112.5zM780 1509h80v2h-80zM860 1509h31.5v2h-31.5zM894 1509h111v2h-111zM1044.5 1509h44v2h-44zM1090.5 1509h31.5v2h-31.5zM1124 1509h15.5v2h-15.5zM1241 1509h9.8v2h-9.8zM1253 1509h9v2h-9zM1264.2 1509h4.2v2h-4.2zM1270.6 1509h4.4v2h-4.4zM622.4 1511h42.6v2h-42.6zM665 1511h112.5v2h-112.5zM780 1511h80v2h-80zM860 1511h31.5v2h-31.5zM894 1511h111v2h-111zM1044.5 1511h44v2h-44zM1090.5 1511h31.5v2h-31.5zM1124 1511h15.5v2h-15.5zM1241 1511h9.8v2h-9.8zM1253 1511h9v2h-9zM1264.2 1511h4.2v2h-4.2zM1270.6 1511h4.4v2h-4.4zM622.4 1513h42.6v2h-42.6zM665 1513h112.5v2h-112.5zM780 1513h80v2h-80zM860 1513h31.5v2h-31.5zM894 1513h111v2h-111zM1044.5 1513h44v2h-44zM1090.5 1513h31.5v2h-31.5zM1124 1513h15.5v2h-15.5zM1241 1513h9.8v2h-9.8zM1270.6 1513h4.4v2h-4.4zM622.4 1515h42.6v2h-42.6zM665 1515h112.5v2h-112.5zM780 1515h80v2h-80zM860 1515h31.5v2h-31.5zM894 1515h111v2h-111zM1044.5 1515h44v2h-44zM1090.5 1515h31.5v2h-31.5zM1241 1515h9.8v2h-9.8zM1253 1515h9v2h-9zM1264.2 1515h4.2v2h-4.2zM1270.6 1515h4.4v2h-4.4zM622.4 1517h42.6v2h-42.6zM665 1517h112.5v2h-112.5zM780 1517h80v2h-80zM860 1517h31.5v2h-31.5zM894 1517h111v2h-111zM1044.5 1517h44v2h-44zM1090.5 1517h31.5v2h-31.5zM1124 1517h15.5v2h-15.5zM1241 1517h9.8v2h-9.8zM1253 1517h9v2h-9zM1264.2 1517h4.2v2h-4.2zM1270.6 1517h4.4v2h-4.4zM622.4 1519h42.6v2h-42.6zM665 1519h112.5v2h-112.5zM780 1519h80v2h-80zM860 1519h31.5v2h-31.5zM894 1519h111v2h-111zM1044.5 1519h44v2h-44zM1090.5 1519h31.5v2h-31.5zM1241 1519h9.8v2h-9.8zM1253 1519h9v2h-9zM1264.2 1519h4.2v2h-4.2zM1270.6 1519h4.4v2h-4.4zM622.4 1521h42.6v2h-42.6zM665 1521h112.5v2h-112.5zM780 1521h80v2h-80zM860 1521h31.5v2h-31.5zM894 1521h111v2h-111zM1044.5 1521h44v2h-44zM1090.5 1521h31.5v2h-31.5zM1124 1521h15.5v2h-15.5zM1241 1521h9.8v2h-9.8zM1253 1521h9v2h-9zM1264.2 1521h4.2v2h-4.2zM1270.6 1521h4.4v2h-4.4zM622.4 1523h42.6v2h-42.6zM665 1523h112.5v2h-112.5zM780 1523h80v2h-80zM860 1523h31.5v2h-31.5zM894 1523h111v2h-111zM1044.5 1523h44v2h-44zM1090.5 1523h31.5v2h-31.5zM1124 1523h15.5v2h-15.5zM1253 1523h9v2h-9zM1264.2 1523h4.2v2h-4.2zM1270.6 1523h4.4v2h-4.4zM622.4 1525h42.6v2h-42.6zM665 1525h112.5v2h-112.5zM780 1525h80v2h-80zM860 1525h31.5v2h-31.5zM894 1525h111v2h-111zM1044.5 1525h44v2h-44zM1090.5 1525h31.5v2h-31.5zM1124 1525h15.5v2h-15.5zM1241 1525h9.8v2h-9.8zM1253 1525h9v2h-9zM1264.2 1525h4.2v2h-4.2zM622.4 1527h42.6v2h-42.6zM665 1527h112.5v2h-112.5zM780 1527h80v2h-80zM860 1527h31.5v2h-31.5zM894 1527h111v2h-111zM1044.5 1527h44v2h-44zM1090.5 1527h31.5v2h-31.5zM1124 1527h15.5v2h-15.5zM1241 1527h9.8v2h-9.8zM1253 1527h9v2h-9zM1264.2 1527h4.2v2h-4.2zM1270.6 1527h4.4v2h-4.4zM622.4 1529h42.6v2h-42.6zM665 1529h112.5v2h-112.5zM780 1529h80v2h-80zM860 1529h31.5v2h-31.5zM894 1529h111v2h-111zM1044.5 1529h44v2h-44zM1090.5 1529h31.5v2h-31.5zM1124 1529h15.5v2h-15.5zM1241 1529h9.8v2h-9.8zM1253 1529h9v2h-9zM1264.2 1529h4.2v2h-4.2zM1270.6 1529h4.4v2h-4.4zM622.4 1531h42.6v2h-42.6zM665 1531h112.5v2h-112.5zM780 1531h80v2h-80zM860 1531h31.5v2h-31.5zM894 1531h111v2h-111zM1044.5 1531h44v2h-44zM1090.5 1531h31.5v2h-31.5zM1124 1531h15.5v2h-15.5zM1241 1531h9.8v2h-9.8zM1253 1531h9v2h-9zM1264.2 1531h4.2v2h-4.2zM1270.6 1531h4.4v2h-4.4zM622.4 1533h42.6v2h-42.6zM665 1533h112.5v2h-112.5zM780 1533h80v2h-80zM860 1533h31.5v2h-31.5zM894 1533h111v2h-111zM1044.5 1533h44v2h-44zM1090.5 1533h31.5v2h-31.5zM1124 1533h15.5v2h-15.5zM1241 1533h9.8v2h-9.8zM1253 1533h9v2h-9zM1264.2 1533h4.2v2h-4.2zM1270.6 1533h4.4v2h-4.4zM622.4 1535h42.6v2h-42.6zM665 1535h112.5v2h-112.5zM780 1535h80v2h-80zM860 1535h31.5v2h-31.5zM894 1535h111v2h-111zM1044.5 1535h44v2h-44zM1090.5 1535h31.5v2h-31.5zM1124 1535h15.5v2h-15.5zM1241 1535h9.8v2h-9.8zM1253 1535h9v2h-9zM1264.2 1535h4.2v2h-4.2zM1270.6 1535h4.4v2h-4.4zM622.4 1537h42.6v2h-42.6zM665 1537h112.5v2h-112.5zM780 1537h80v2h-80zM860 1537h31.5v2h-31.5zM894 1537h111v2h-111zM1044.5 1537h44v2h-44zM1090.5 1537h31.5v2h-31.5zM1124 1537h15.5v2h-15.5zM1241 1537h9.8v2h-9.8zM1253 1537h9v2h-9zM1264.2 1537h4.2v2h-4.2zM1270.6 1537h4.4v2h-4.4zM622.4 1539h42.6v2h-42.6zM665 1539h112.5v2h-112.5zM780 1539h80v2h-80zM860 1539h31.5v2h-31.5zM894 1539h111v2h-111zM1044.5 1539h44v2h-44zM1090.5 1539h31.5v2h-31.5zM1124 1539h15.5v2h-15.5zM1241 1539h9.8v2h-9.8zM1253 1539h9v2h-9zM1264.2 1539h4.2v2h-4.2zM1270.6 1539h4.4v2h-4.4zM622.4 1541h42.6v2h-42.6zM665 1541h112.5v2h-112.5zM780 1541h80v2h-80zM860 1541h31.5v2h-31.5zM894 1541h111v2h-111zM1044.5 1541h44v2h-44zM1090.5 1541h31.5v2h-31.5zM1124 1541h15.5v2h-15.5zM1253 1541h9v2h-9zM1264.2 1541h4.2v2h-4.2zM1270.6 1541h4.4v2h-4.4zM622.4 1543h42.6v2h-42.6zM665 1543h112.5v2h-112.5zM780 1543h80v2h-80zM860 1543h31.5v2h-31.5zM894 1543h111v2h-111zM1044.5 1543h44v2h-44zM1124 1543h15.5v2h-15.5zM1241 1543h9.8v2h-9.8zM1264.2 1543h4.2v2h-4.2zM1270.6 1543h4.4v2h-4.4zM622.4 1545h42.6v2h-42.6zM665 1545h112.5v2h-112.5zM780 1545h80v2h-80zM860 1545h31.5v2h-31.5zM894 1545h111v2h-111zM1044.5 1545h44v2h-44zM1090.5 1545h31.5v2h-31.5zM1124 1545h15.5v2h-15.5zM1241 1545h9.8v2h-9.8zM1253 1545h9v2h-9zM1264.2 1545h4.2v2h-4.2zM1270.6 1545h4.4v2h-4.4zM622.4 1547h42.6v2h-42.6zM665 1547h112.5v2h-112.5zM780 1547h80v2h-80zM860 1547h31.5v2h-31.5zM894 1547h111v2h-111zM1044.5 1547h44v2h-44zM1090.5 1547h31.5v2h-31.5zM1124 1547h15.5v2h-15.5zM1241 1547h9.8v2h-9.8zM1253 1547h9v2h-9zM1264.2 1547h4.2v2h-4.2zM1270.6 1547h4.4v2h-4.4zM622.4 1549h42.6v2h-42.6zM665 1549h112.5v2h-112.5zM780 1549h80v2h-80zM860 1549h31.5v2h-31.5zM894 1549h111v2h-111zM1044.5 1549h44v2h-44zM1090.5 1549h31.5v2h-31.5zM1124 1549h15.5v2h-15.5zM1253 1549h9v2h-9zM1264.2 1549h4.2v2h-4.2zM1270.6 1549h4.4v2h-4.4zM622.4 1551h42.6v2h-42.6zM665 1551h112.5v2h-112.5zM780 1551h80v2h-80zM860 1551h31.5v2h-31.5zM894 1551h111v2h-111zM1044.5 1551h44v2h-44zM1090.5 1551h31.5v2h-31.5zM1124 1551h15.5v2h-15.5zM1253 1551h9v2h-9zM1264.2 1551h4.2v2h-4.2zM622.4 1557h42.6v2h-42.6zM665 1557h112.5v2h-112.5zM780 1557h80v2h-80zM860 1557h31.5v2h-31.5zM894 1557h111v2h-111zM1044.5 1557h44v2h-44zM1090.5 1557h31.5v2h-31.5zM1124 1557h15.5v2h-15.5zM1253 1557h9v2h-9zM1264.2 1557h4.2v2h-4.2zM1270.6 1557h4.4v2h-4.4zM622.4 1559h42.6v2h-42.6zM665 1559h112.5v2h-112.5zM780 1559h80v2h-80zM860 1559h31.5v2h-31.5zM894 1559h111v2h-111zM1044.5 1559h44v2h-44zM1090.5 1559h31.5v2h-31.5zM1124 1559h15.5v2h-15.5zM1253 1559h9v2h-9zM1264.2 1559h4.2v2h-4.2zM1270.6 1559h4.4v2h-4.4zM622.4 1561h42.6v2h-42.6zM665 1561h112.5v2h-112.5zM780 1561h80v2h-80zM860 1561h31.5v2h-31.5zM894 1561h111v2h-111zM1044.5 1561h44v2h-44zM1090.5 1561h31.5v2h-31.5zM1124 1561h15.5v2h-15.5zM1253 1561h9v2h-9zM1264.2 1561h4.2v2h-4.2zM1270.6 1561h4.4v2h-4.4zM622.4 1563h42.6v2h-42.6zM665 1563h112.5v2h-112.5zM780 1563h80v2h-80zM860 1563h31.5v2h-31.5zM894 1563h111v2h-111zM1044.5 1563h44v2h-44zM1090.5 1563h31.5v2h-31.5zM1124 1563h15.5v2h-15.5zM1253 1563h9v2h-9zM1264.2 1563h4.2v2h-4.2zM1270.6 1563h4.4v2h-4.4zM622.4 1565h42.6v2h-42.6zM665 1565h112.5v2h-112.5zM780 1565h80v2h-80zM860 1565h31.5v2h-31.5zM894 1565h111v2h-111zM1044.5 1565h44v2h-44zM1090.5 1565h31.5v2h-31.5zM1124 1565h15.5v2h-15.5zM1253 1565h9v2h-9zM1264.2 1565h4.2v2h-4.2zM1270.6 1565h4.4v2h-4.4zM622.4 1567h42.6v2h-42.6zM665 1567h112.5v2h-112.5zM780 1567h80v2h-80zM860 1567h31.5v2h-31.5zM894 1567h111v2h-111zM1044.5 1567h44v2h-44zM1090.5 1567h31.5v2h-31.5zM1124 1567h15.5v2h-15.5zM1253 1567h9v2h-9zM1264.2 1567h4.2v2h-4.2zM1270.6 1567h4.4v2h-4.4zM622.4 1569h42.6v2h-42.6zM665 1569h112.5v2h-112.5zM780 1569h80v2h-80zM860 1569h31.5v2h-31.5zM894 1569h111v2h-111zM1044.5 1569h44v2h-44zM1090.5 1569h31.5v2h-31.5zM1124 1569h15.5v2h-15.5zM1253 1569h9v2h-9zM1264.2 1569h4.2v2h-4.2zM1270.6 1569h4.4v2h-4.4zM622.4 1571h42.6v2h-42.6zM665 1571h112.5v2h-112.5zM780 1571h80v2h-80zM860 1571h31.5v2h-31.5zM894 1571h111v2h-111zM1044.5 1571h44v2h-44zM1090.5 1571h31.5v2h-31.5zM1253 1571h9v2h-9zM1264.2 1571h4.2v2h-4.2zM622.4 1573h42.6v2h-42.6zM665 1573h112.5v2h-112.5zM780 1573h80v2h-80zM860 1573h31.5v2h-31.5zM894 1573h111v2h-111zM1044.5 1573h44v2h-44zM1090.5 1573h31.5v2h-31.5zM1124 1573h15.5v2h-15.5zM1253 1573h9v2h-9zM1264.2 1573h4.2v2h-4.2zM1270.6 1573h4.4v2h-4.4zM622.4 1577h42.6v2h-42.6zM665 1577h112.5v2h-112.5zM780 1577h80v2h-80zM860 1577h31.5v2h-31.5zM894 1577h111v2h-111zM1044.5 1577h44v2h-44zM1090.5 1577h31.5v2h-31.5zM1124 1577h15.5v2h-15.5zM1253 1577h9v2h-9zM1264.2 1577h4.2v2h-4.2zM1270.6 1577h4.4v2h-4.4zM622.4 1579h42.6v2h-42.6zM665 1579h112.5v2h-112.5zM780 1579h80v2h-80zM860 1579h31.5v2h-31.5zM894 1579h111v2h-111zM1044.5 1579h44v2h-44zM1090.5 1579h31.5v2h-31.5zM1124 1579h15.5v2h-15.5zM1253 1579h9v2h-9zM1264.2 1579h4.2v2h-4.2zM1270.6 1579h4.4v2h-4.4zM622.4 1581h42.6v2h-42.6zM665 1581h112.5v2h-112.5zM780 1581h80v2h-80zM860 1581h31.5v2h-31.5zM894 1581h111v2h-111zM1044.5 1581h44v2h-44zM1090.5 1581h31.5v2h-31.5zM1124 1581h15.5v2h-15.5zM1253 1581h9v2h-9zM1264.2 1581h4.2v2h-4.2zM1270.6 1581h4.4v2h-4.4zM622.4 1593h42.6v2h-42.6zM665 1593h112.5v2h-112.5zM780 1593h80v2h-80zM860 1593h31.5v2h-31.5zM894 1593h111v2h-111zM1007.5 1593h35v2h-35zM1044.5 1593h44v2h-44zM1090.5 1593h31.5v2h-31.5zM1124 1593h15.5v2h-15.5zM1142 1593h41.5v2h-41.5zM1186 1593h36v2h-36zM1224 1593h14.5v2h-14.5zM1241 1593h9.8v2h-9.8zM1264.2 1593h4.2v2h-4.2zM1270.6 1593h4.4v2h-4.4zM622.4 1595h42.6v2h-42.6zM665 1595h112.5v2h-112.5zM780 1595h80v2h-80zM860 1595h31.5v2h-31.5zM894 1595h111v2h-111zM1007.5 1595h35v2h-35zM1044.5 1595h44v2h-44zM1090.5 1595h31.5v2h-31.5zM1124 1595h15.5v2h-15.5zM1142 1595h41.5v2h-41.5zM1186 1595h36v2h-36zM1224 1595h14.5v2h-14.5zM1241 1595h9.8v2h-9.8zM1264.2 1595h4.2v2h-4.2zM1270.6 1595h4.4v2h-4.4zM622.4 1597h42.6v2h-42.6zM665 1597h112.5v2h-112.5zM780 1597h80v2h-80zM860 1597h31.5v2h-31.5zM894 1597h111v2h-111zM1007.5 1597h35v2h-35zM1090.5 1597h31.5v2h-31.5zM1124 1597h15.5v2h-15.5zM1142 1597h41.5v2h-41.5zM1186 1597h36v2h-36zM1224 1597h14.5v2h-14.5zM1241 1597h9.8v2h-9.8zM1264.2 1597h4.2v2h-4.2zM1270.6 1597h4.4v2h-4.4zM622.4 1599h42.6v2h-42.6zM665 1599h112.5v2h-112.5zM780 1599h80v2h-80zM860 1599h31.5v2h-31.5zM894 1599h111v2h-111zM1007.5 1599h35v2h-35zM1044.5 1599h44v2h-44zM1090.5 1599h31.5v2h-31.5zM1124 1599h15.5v2h-15.5zM1142 1599h41.5v2h-41.5zM1186 1599h36v2h-36zM1224 1599h14.5v2h-14.5zM1241 1599h9.8v2h-9.8zM1264.2 1599h4.2v2h-4.2zM1270.6 1599h4.4v2h-4.4zM622.4 1601h42.6v2h-42.6zM665 1601h112.5v2h-112.5zM780 1601h80v2h-80zM860 1601h31.5v2h-31.5zM894 1601h111v2h-111zM1007.5 1601h35v2h-35zM1044.5 1601h44v2h-44zM1090.5 1601h31.5v2h-31.5zM1124 1601h15.5v2h-15.5zM1142 1601h41.5v2h-41.5zM1186 1601h36v2h-36zM1224 1601h14.5v2h-14.5zM1241 1601h9.8v2h-9.8zM1264.2 1601h4.2v2h-4.2zM1270.6 1601h4.4v2h-4.4zM622.4 1603h42.6v2h-42.6zM665 1603h112.5v2h-112.5zM780 1603h80v2h-80zM860 1603h31.5v2h-31.5zM894 1603h111v2h-111zM1007.5 1603h35v2h-35zM1044.5 1603h44v2h-44zM1090.5 1603h31.5v2h-31.5zM1124 1603h15.5v2h-15.5zM1142 1603h41.5v2h-41.5zM1186 1603h36v2h-36zM1241 1603h9.8v2h-9.8zM1264.2 1603h4.2v2h-4.2zM622.4 1605h42.6v2h-42.6zM665 1605h112.5v2h-112.5zM780 1605h80v2h-80zM860 1605h31.5v2h-31.5zM894 1605h111v2h-111zM1007.5 1605h35v2h-35zM1044.5 1605h44v2h-44zM1090.5 1605h31.5v2h-31.5zM1124 1605h15.5v2h-15.5zM1142 1605h41.5v2h-41.5zM1186 1605h36v2h-36zM1224 1605h14.5v2h-14.5zM1241 1605h9.8v2h-9.8zM1264.2 1605h4.2v2h-4.2zM1270.6 1605h4.4v2h-4.4zM622.4 1607h42.6v2h-42.6zM665 1607h112.5v2h-112.5zM780 1607h80v2h-80zM860 1607h31.5v2h-31.5zM894 1607h111v2h-111zM1007.5 1607h35v2h-35zM1044.5 1607h44v2h-44zM1090.5 1607h31.5v2h-31.5zM1124 1607h15.5v2h-15.5zM1142 1607h41.5v2h-41.5zM1186 1607h36v2h-36zM1224 1607h14.5v2h-14.5zM1241 1607h9.8v2h-9.8zM1264.2 1607h4.2v2h-4.2zM1270.6 1607h4.4v2h-4.4zM622.4 1609h42.6v2h-42.6zM780 1609h80v2h-80zM860 1609h31.5v2h-31.5zM894 1609h111v2h-111zM1007.5 1609h35v2h-35zM1090.5 1609h31.5v2h-31.5zM1124 1609h15.5v2h-15.5zM1142 1609h41.5v2h-41.5zM1186 1609h36v2h-36zM1224 1609h14.5v2h-14.5zM1241 1609h9.8v2h-9.8zM1270.6 1609h4.4v2h-4.4zM622.4 1611h42.6v2h-42.6zM665 1611h112.5v2h-112.5zM780 1611h80v2h-80zM860 1611h31.5v2h-31.5zM894 1611h111v2h-111zM1007.5 1611h35v2h-35zM1044.5 1611h44v2h-44zM1090.5 1611h31.5v2h-31.5zM1124 1611h15.5v2h-15.5zM1142 1611h41.5v2h-41.5zM1186 1611h36v2h-36zM1224 1611h14.5v2h-14.5zM1241 1611h9.8v2h-9.8zM1264.2 1611h4.2v2h-4.2zM1270.6 1611h4.4v2h-4.4zM622.4 1613h42.6v2h-42.6zM665 1613h112.5v2h-112.5zM780 1613h80v2h-80zM860 1613h31.5v2h-31.5zM894 1613h111v2h-111zM1007.5 1613h35v2h-35zM1044.5 1613h44v2h-44zM1124 1613h15.5v2h-15.5zM1142 1613h41.5v2h-41.5zM1186 1613h36v2h-36zM1224 1613h14.5v2h-14.5zM1241 1613h9.8v2h-9.8zM1264.2 1613h4.2v2h-4.2zM1270.6 1613h4.4v2h-4.4zM622.4 1615h42.6v2h-42.6zM665 1615h112.5v2h-112.5zM780 1615h80v2h-80zM860 1615h31.5v2h-31.5zM894 1615h111v2h-111zM1007.5 1615h35v2h-35zM1044.5 1615h44v2h-44zM1090.5 1615h31.5v2h-31.5zM1124 1615h15.5v2h-15.5zM1142 1615h41.5v2h-41.5zM1186 1615h36v2h-36zM1224 1615h14.5v2h-14.5zM1241 1615h9.8v2h-9.8zM1264.2 1615h4.2v2h-4.2zM1270.6 1615h4.4v2h-4.4zM622.4 1617h42.6v2h-42.6zM665 1617h112.5v2h-112.5zM780 1617h80v2h-80zM860 1617h31.5v2h-31.5zM894 1617h111v2h-111zM1007.5 1617h35v2h-35zM1044.5 1617h44v2h-44zM1090.5 1617h31.5v2h-31.5zM1124 1617h15.5v2h-15.5zM1142 1617h41.5v2h-41.5zM1186 1617h36v2h-36zM1224 1617h14.5v2h-14.5zM1241 1617h9.8v2h-9.8zM1264.2 1617h4.2v2h-4.2zM1270.6 1617h4.4v2h-4.4zM622.4 1619h42.6v2h-42.6zM665 1619h112.5v2h-112.5zM780 1619h80v2h-80zM860 1619h31.5v2h-31.5zM894 1619h111v2h-111zM1007.5 1619h35v2h-35zM1044.5 1619h44v2h-44zM1090.5 1619h31.5v2h-31.5zM1124 1619h15.5v2h-15.5zM1142 1619h41.5v2h-41.5zM1186 1619h36v2h-36zM1224 1619h14.5v2h-14.5zM1241 1619h9.8v2h-9.8zM1264.2 1619h4.2v2h-4.2zM1270.6 1619h4.4v2h-4.4zM622.4 1621h42.6v2h-42.6zM665 1621h112.5v2h-112.5zM780 1621h80v2h-80zM860 1621h31.5v2h-31.5zM894 1621h111v2h-111zM1007.5 1621h35v2h-35zM1044.5 1621h44v2h-44zM1090.5 1621h31.5v2h-31.5zM1124 1621h15.5v2h-15.5zM1142 1621h41.5v2h-41.5zM1186 1621h36v2h-36zM1224 1621h14.5v2h-14.5zM1241 1621h9.8v2h-9.8zM1264.2 1621h4.2v2h-4.2zM1270.6 1621h4.4v2h-4.4zM622.4 1623h42.6v2h-42.6zM665 1623h112.5v2h-112.5zM780 1623h80v2h-80zM860 1623h31.5v2h-31.5zM894 1623h111v2h-111zM1007.5 1623h35v2h-35zM1044.5 1623h44v2h-44zM1090.5 1623h31.5v2h-31.5zM1124 1623h15.5v2h-15.5zM1142 1623h41.5v2h-41.5zM1186 1623h36v2h-36zM1224 1623h14.5v2h-14.5zM1241 1623h9.8v2h-9.8zM1264.2 1623h4.2v2h-4.2zM1270.6 1623h4.4v2h-4.4zM622.4 1625h42.6v2h-42.6zM665 1625h112.5v2h-112.5zM780 1625h80v2h-80zM860 1625h31.5v2h-31.5zM894 1625h111v2h-111zM1007.5 1625h35v2h-35zM1044.5 1625h44v2h-44zM1090.5 1625h31.5v2h-31.5zM1124 1625h15.5v2h-15.5zM1142 1625h41.5v2h-41.5zM1186 1625h36v2h-36zM1224 1625h14.5v2h-14.5zM1264.2 1625h4.2v2h-4.2zM1270.6 1625h4.4v2h-4.4zM622.4 1627h42.6v2h-42.6zM665 1627h112.5v2h-112.5zM780 1627h80v2h-80zM860 1627h31.5v2h-31.5zM894 1627h111v2h-111zM1007.5 1627h35v2h-35zM1044.5 1627h44v2h-44zM1090.5 1627h31.5v2h-31.5zM1124 1627h15.5v2h-15.5zM1142 1627h41.5v2h-41.5zM1186 1627h36v2h-36zM1224 1627h14.5v2h-14.5zM1241 1627h9.8v2h-9.8zM1264.2 1627h4.2v2h-4.2zM1270.6 1627h4.4v2h-4.4zM622.4 1629h42.6v2h-42.6zM665 1629h112.5v2h-112.5zM780 1629h80v2h-80zM860 1629h31.5v2h-31.5zM894 1629h111v2h-111zM1007.5 1629h35v2h-35zM1044.5 1629h44v2h-44zM1090.5 1629h31.5v2h-31.5zM1124 1629h15.5v2h-15.5zM1142 1629h41.5v2h-41.5zM1224 1629h14.5v2h-14.5zM1241 1629h9.8v2h-9.8zM1264.2 1629h4.2v2h-4.2zM1270.6 1629h4.4v2h-4.4zM622.4 1631h42.6v2h-42.6zM665 1631h112.5v2h-112.5zM780 1631h80v2h-80zM860 1631h31.5v2h-31.5zM894 1631h111v2h-111zM1007.5 1631h35v2h-35zM1044.5 1631h44v2h-44zM1090.5 1631h31.5v2h-31.5zM1124 1631h15.5v2h-15.5zM1142 1631h41.5v2h-41.5zM1186 1631h36v2h-36zM1224 1631h14.5v2h-14.5zM1241 1631h9.8v2h-9.8zM1264.2 1631h4.2v2h-4.2zM1270.6 1631h4.4v2h-4.4zM622.4 1639h42.6v2h-42.6zM665 1639h112.5v2h-112.5zM780 1639h80v2h-80zM860 1639h31.5v2h-31.5zM894 1639h111v2h-111zM1007.5 1639h35v2h-35zM1044.5 1639h44v2h-44zM1090.5 1639h31.5v2h-31.5zM1124 1639h15.5v2h-15.5zM1142 1639h41.5v2h-41.5zM1186 1639h36v2h-36zM1224 1639h14.5v2h-14.5zM1241 1639h9.8v2h-9.8zM1264.2 1639h4.2v2h-4.2zM1270.6 1639h4.4v2h-4.4zM622.4 1641h42.6v2h-42.6zM665 1641h112.5v2h-112.5zM780 1641h80v2h-80zM860 1641h31.5v2h-31.5zM894 1641h111v2h-111zM1007.5 1641h35v2h-35zM1044.5 1641h44v2h-44zM1090.5 1641h31.5v2h-31.5zM1124 1641h15.5v2h-15.5zM1142 1641h41.5v2h-41.5zM1186 1641h36v2h-36zM1224 1641h14.5v2h-14.5zM1241 1641h9.8v2h-9.8zM1264.2 1641h4.2v2h-4.2zM622.4 1643h42.6v2h-42.6zM665 1643h112.5v2h-112.5zM780 1643h80v2h-80zM860 1643h31.5v2h-31.5zM894 1643h111v2h-111zM1007.5 1643h35v2h-35zM1044.5 1643h44v2h-44zM1090.5 1643h31.5v2h-31.5zM1124 1643h15.5v2h-15.5zM1142 1643h41.5v2h-41.5zM1186 1643h36v2h-36zM1241 1643h9.8v2h-9.8zM1264.2 1643h4.2v2h-4.2zM1270.6 1643h4.4v2h-4.4zM622.4 1659h42.6v2h-42.6zM860 1663h31.5v2h-31.5zM622.4 1665h42.6v2h-42.6zM622.4 1703h42.6v2h-42.6zM665 1703h112.5v2h-112.5zM780 1703h80v2h-80zM860 1703h31.5v2h-31.5zM894 1703h111v2h-111zM1007.5 1703h35v2h-35zM1044.5 1703h44v2h-44zM1090.5 1703h31.5v2h-31.5zM1124 1703h15.5v2h-15.5zM1186 1703h36v2h-36zM1224 1703h14.5v2h-14.5zM1253 1703h9v2h-9zM622.4 1705h42.6v2h-42.6zM665 1705h112.5v2h-112.5zM780 1705h80v2h-80zM860 1705h31.5v2h-31.5zM894 1705h111v2h-111zM1007.5 1705h35v2h-35zM1044.5 1705h44v2h-44zM1090.5 1705h31.5v2h-31.5zM1124 1705h15.5v2h-15.5zM1142 1705h41.5v2h-41.5zM1186 1705h36v2h-36zM1224 1705h14.5v2h-14.5zM1241 1705h9.8v2h-9.8zM1253 1705h9v2h-9zM622.4 1707h42.6v2h-42.6zM665 1707h112.5v2h-112.5zM780 1707h80v2h-80zM860 1707h31.5v2h-31.5zM894 1707h111v2h-111zM1007.5 1707h35v2h-35zM1044.5 1707h44v2h-44zM1090.5 1707h31.5v2h-31.5zM1124 1707h15.5v2h-15.5zM1142 1707h41.5v2h-41.5zM1186 1707h36v2h-36zM1224 1707h14.5v2h-14.5zM1241 1707h9.8v2h-9.8zM1253 1707h9v2h-9zM622.4 1709h42.6v2h-42.6zM665 1709h112.5v2h-112.5zM780 1709h80v2h-80zM860 1709h31.5v2h-31.5zM894 1709h111v2h-111zM1007.5 1709h35v2h-35zM1044.5 1709h44v2h-44zM1090.5 1709h31.5v2h-31.5zM1124 1709h15.5v2h-15.5zM1142 1709h41.5v2h-41.5zM1186 1709h36v2h-36zM1224 1709h14.5v2h-14.5zM1241 1709h9.8v2h-9.8zM1253 1709h9v2h-9zM622.4 1711h42.6v2h-42.6zM665 1711h112.5v2h-112.5zM780 1711h80v2h-80zM860 1711h31.5v2h-31.5zM894 1711h111v2h-111zM1007.5 1711h35v2h-35zM1044.5 1711h44v2h-44zM1090.5 1711h31.5v2h-31.5zM1124 1711h15.5v2h-15.5zM1142 1711h41.5v2h-41.5zM1186 1711h36v2h-36zM1224 1711h14.5v2h-14.5zM1241 1711h9.8v2h-9.8zM1253 1711h9v2h-9zM622.4 1713h42.6v2h-42.6zM665 1713h112.5v2h-112.5zM780 1713h80v2h-80zM860 1713h31.5v2h-31.5zM894 1713h111v2h-111zM1007.5 1713h35v2h-35zM1044.5 1713h44v2h-44zM1124 1713h15.5v2h-15.5zM1186 1713h36v2h-36zM1224 1713h14.5v2h-14.5zM1241 1713h9.8v2h-9.8zM1253 1713h9v2h-9zM622.4 1715h42.6v2h-42.6zM665 1715h112.5v2h-112.5zM780 1715h80v2h-80zM860 1715h31.5v2h-31.5zM894 1715h111v2h-111zM1007.5 1715h35v2h-35zM1044.5 1715h44v2h-44zM1090.5 1715h31.5v2h-31.5zM1124 1715h15.5v2h-15.5zM1142 1715h41.5v2h-41.5zM1186 1715h36v2h-36zM1241 1715h9.8v2h-9.8zM1253 1715h9v2h-9zM622.4 1717h42.6v2h-42.6zM665 1717h112.5v2h-112.5zM780 1717h80v2h-80zM860 1717h31.5v2h-31.5zM894 1717h111v2h-111zM1007.5 1717h35v2h-35zM1044.5 1717h44v2h-44zM1090.5 1717h31.5v2h-31.5zM1124 1717h15.5v2h-15.5zM1142 1717h41.5v2h-41.5zM1186 1717h36v2h-36zM1224 1717h14.5v2h-14.5zM1241 1717h9.8v2h-9.8zM1253 1717h9v2h-9zM622.4 1719h42.6v2h-42.6zM665 1719h112.5v2h-112.5zM780 1719h80v2h-80zM860 1719h31.5v2h-31.5zM894 1719h111v2h-111zM1007.5 1719h35v2h-35zM1044.5 1719h44v2h-44zM1090.5 1719h31.5v2h-31.5zM1124 1719h15.5v2h-15.5zM1142 1719h41.5v2h-41.5zM1186 1719h36v2h-36zM1224 1719h14.5v2h-14.5zM1241 1719h9.8v2h-9.8zM1253 1719h9v2h-9zM622.4 1721h42.6v2h-42.6zM665 1721h112.5v2h-112.5zM780 1721h80v2h-80zM860 1721h31.5v2h-31.5zM894 1721h111v2h-111zM1007.5 1721h35v2h-35zM1044.5 1721h44v2h-44zM1090.5 1721h31.5v2h-31.5zM1124 1721h15.5v2h-15.5zM1142 1721h41.5v2h-41.5zM1186 1721h36v2h-36zM1241 1721h9.8v2h-9.8zM1253 1721h9v2h-9zM622.4 1729h42.6v2h-42.6zM665 1729h112.5v2h-112.5zM780 1729h80v2h-80zM860 1729h31.5v2h-31.5zM894 1729h111v2h-111zM1007.5 1729h35v2h-35zM1044.5 1729h44v2h-44zM1090.5 1729h31.5v2h-31.5zM1124 1729h15.5v2h-15.5zM1142 1729h41.5v2h-41.5zM1186 1729h36v2h-36zM1224 1729h14.5v2h-14.5zM1241 1729h9.8v2h-9.8zM1253 1729h9v2h-9zM622.4 1731h42.6v2h-42.6zM665 1731h112.5v2h-112.5zM780 1731h80v2h-80zM860 1731h31.5v2h-31.5zM894 1731h111v2h-111zM1007.5 1731h35v2h-35zM1044.5 1731h44v2h-44zM1090.5 1731h31.5v2h-31.5zM1124 1731h15.5v2h-15.5zM1142 1731h41.5v2h-41.5zM1186 1731h36v2h-36zM1224 1731h14.5v2h-14.5zM1241 1731h9.8v2h-9.8zM1253 1731h9v2h-9zM622.4 1745h42.6v2h-42.6zM665 1745h112.5v2h-112.5zM780 1745h80v2h-80zM860 1745h31.5v2h-31.5zM894 1745h111v2h-111zM1007.5 1745h35v2h-35zM1044.5 1745h44v2h-44zM1090.5 1745h31.5v2h-31.5zM1124 1745h15.5v2h-15.5zM1142 1745h41.5v2h-41.5zM1186 1745h36v2h-36zM1241 1745h9.8v2h-9.8zM1253 1745h9v2h-9zM622.4 1747h42.6v2h-42.6zM665 1747h112.5v2h-112.5zM780 1747h80v2h-80zM860 1747h31.5v2h-31.5zM894 1747h111v2h-111zM1007.5 1747h35v2h-35zM1044.5 1747h44v2h-44zM1090.5 1747h31.5v2h-31.5zM1124 1747h15.5v2h-15.5zM1142 1747h41.5v2h-41.5zM1186 1747h36v2h-36zM1224 1747h14.5v2h-14.5zM1241 1747h9.8v2h-9.8zM1253 1747h9v2h-9z"/>
<path fill="#30300c" d="M1044.5 1505h44v2h-44z"/>
<path fill="#30240c" d="M1253 1513h9v2h-9zM1270.6 1551h4.4v2h-4.4zM1224 1573h14.5v2h-14.5zM1090.5 1613h31.5v2h-31.5zM1241 1663h9.8v2h-9.8zM1224 1715h14.5v2h-14.5z"/>
<path fill="#3c3c0c" d="M1241 1523h9.8v2h-9.8zM1270.6 1603h4.4v2h-4.4zM1224 1643h14.5v2h-14.5z"/>
<path fill="#18000c" d="M1186 1525h36v2h-36zM1007.5 1535h35v2h-35zM1224 1549h14.5v2h-14.5zM1142 1557h41.5v2h-41.5zM1224 1557h14.5v2h-14.5zM1124 1571h15.5v2h-15.5zM1270.6 1571h4.4v2h-4.4zM1186 1581h36v2h-36zM1224 1581h14.5v2h-14.5zM665 1609h112.5v2h-112.5zM1264.2 1609h4.2v2h-4.2zM665 1645h112.5v2h-112.5zM622.4 1653h42.6v2h-42.6zM860 1659h31.5v2h-31.5zM860 1665h31.5v2h-31.5zM1044.5 1665h44v2h-44zM1124 1665h15.5v2h-15.5zM860 1671h31.5v2h-31.5zM780 1689h80v2h-80zM1044.5 1689h44v2h-44zM1241 1689h9.8v2h-9.8zM1253 1689h9v2h-9zM1241 1703h9.8v2h-9.8zM1090.5 1713h31.5v2h-31.5zM1142 1713h41.5v2h-41.5z"/>
<path fill="#544818" d="M1186 1559h36v2h-36zM1224 1559h14.5v2h-14.5zM1007.5 1575h35v2h-35zM1253 1657h9v2h-9z"/>
<path fill="#3c240c" d="M1224 1561h14.5v2h-14.5z"/>
<path fill="#180c0c" d="M1224 1577h14.5v2h-14.5zM860 1645h31.5v2h-31.5zM860 1677h31.5v2h-31.5zM622.4 1679h42.6v2h-42.6zM860 1687h31.5v2h-31.5z"/>
<path fill="#60243c" d="M622.4 1589h42.6v2h-42.6zM665 1589h112.5v2h-112.5zM1044.5 1589h44v2h-44zM1090.5 1589h31.5v2h-31.5zM1264.2 1589h4.2v2h-4.2zM894 1693h111v2h-111zM1224 1693h14.5v2h-14.5z"/>
<path fill="#24240c" d="M1044.5 1597h44v2h-44z"/>
<path fill="#6c6018" d="M1007.5 1667h35v2h-35z"/>
<path fill="#3c3018" d="M1142 1681h41.5v2h-41.5z"/>
<path fill="#846c24" d="M1186 1681h36v2h-36z"/>
<path fill="#603c3c" d="M1007.5 1691h35v2h-35z"/>
<path fill="#54540c" d="M1224 1721h14.5v2h-14.5z"/>
<path fill="#18180c" d="M860 1727h31.5v2h-31.5z"/>
<path fill="#6c3c30" d="M894 1733h111v2h-111z"/>
<path fill="#786024" d="M1090.5 1733h31.5v2h-31.5z"/>
<path fill="#6c3c3c" d="M894 1735h111v2h-111z"/>
</svg></body></html>
